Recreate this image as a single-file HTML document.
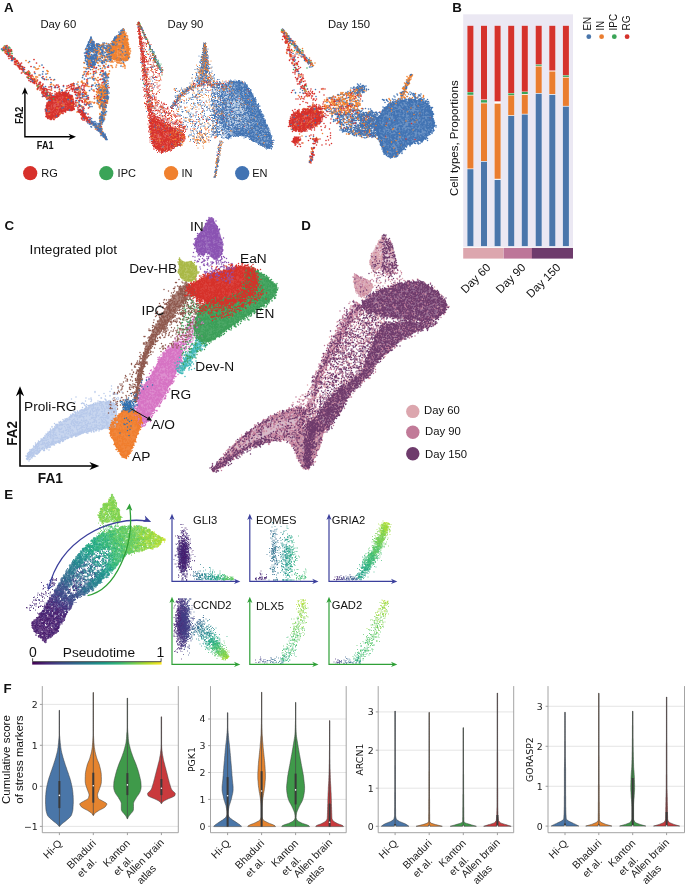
<!DOCTYPE html><html><head><meta charset="utf-8"><title>Figure</title><style>html,body{margin:0;padding:0;background:#fff}svg{display:block}</style></head><body><svg width="685" height="885" viewBox="0 0 685 885" font-family='"Liberation Sans", Arial, sans-serif' stroke-linecap="round"><g fill="none"><polygon points="46.4,106.4 48.5,102.2 51.3,98.7 54.7,95.9 58.9,94.2 63.7,93.5 67.5,93.8 70,95.1 71.8,97.7 72.8,101.9 73.5,105.5 73.9,108 73,109.2 70.4,109.8 67.2,110.5 63.4,111.3 59.8,113.3 56.9,116.2 53.9,117.9 50.7,118.5 48.5,117.7 46.9,115.1 45.9,112.4 45.6,109.7" fill="#d7302b" fill-opacity="0.8" />
<polygon points="124.3,32 125.7,35.2 127.3,41.6 128.8,51 128.8,56.5 127.7,58.2 125.1,59.5 121,60.1 116.8,59.8 112.8,58.5 110.6,56.3 110,53.1 110.7,49.4 112.8,45.2 115.3,41.3 118.1,37.7 120.9,34.4 123,31.8" fill="#f0812f" fill-opacity="0.8" />
<g transform="scale(.5)"><path d="M217 134h0m-29 2h0m-9-6h0m-9 13h0m22-1h0m8 7h0m6-6h0m0-2h0m1 8h0m-2 9h0m-18-6h0m-2 4h0m-19 11h0m30-6h0m2 7h0m6 2h0m-31 1h0m-3 17h0m0-1h0m18-5h0m1 11h0m-17 5h0m-11-3h0m-5-1h0m9 10h0m4 0h0m1-1h0m4 3h0m0 2h0m-9 7h0m0 1h0" stroke="#d7302b" stroke-width="3.4"/>
<path d="M142 169h0m2-1h0m-1 4h0m0 5h0m-1 1h0m-5-7h0m-19 2h0m-2-3h0m-5 5h0m-10-2h0m-3 6h0m-14 7h0m2-2h0m7 1h0m1-5h0m10 7h0m6-4h0m15 1h0m-22 7h0m-15 0h0m0 1h0" stroke="#d7302b" stroke-width="3.4"/>
<path d="M210 146h0m3 4h0m-6 6h0m4 6h0m5 0h0m-1 11h0m-2 4h0m-1-2h0m0 3h0m-1-7h0m-1 6h0m-3 12h0m3 0h0m1 0h0m0-2h0m1-1h0m1-3h0m1 3h0m1-5h0m2 13h0m-2-2h0m-1-1h0m-1 2h0m-1-2h0m0 6h0m-3-5h0m-2 11h0m3 0h0m1-1h0" stroke="#4173b3" stroke-width="3.4"/>
<path d="M179 244h0m0-1h0m4 0h0m1 5h0m2 0h0m3 0h0m14 6h0m-2 3h0m-1 2h0m-9-1h0m-2-7h0m16 15h0m6 9h0m-2-1h0" stroke="#f0812f" stroke-width="3.4"/>
<path d="M209 201h0" stroke="#d7302b" stroke-width="3.4"/>
<path d="M247 125h0" stroke="#4173b3" stroke-width="3.4"/>
<path d="M210 219h0m-3 0h0m-2-2h0m2 12h0m2-9h0m0 5h0m0 14h0m-1-2h0m-1 0h0m-4-2h0m-1-4h0m-1 2h0m-1 1h0m0 9h0m3-2h0m2-1h0m-4 14h0" stroke="#f0812f" stroke-width="3.4"/>
<path d="M131 189h0m9 1h0m-7 8h0m-1-1h0m-23-5h0m-12 10h0m29 1h0m17 7h0m-7 7h0m-37-5h0m-6-1h0m5 12h0" stroke="#4173b3" stroke-width="3.4"/>
<path d="M190 95h0m-3 2h0m-1 0h0m-1 1h0m-12 7h0m9-5h0m6 0h0m3 1h0m-11 11h0m-5 7h0m4 2h0m9 5h0" stroke="#f0812f" stroke-width="3.4"/>
<path d="M213 179h0m-1-1h0m-8 0h0m-3-4h0m-3 5h0m-1-2h0m-4 6h0m0 6h0m5-7h0m0 3h0m1-3h0m0 4h0m1-3h0m1 0h0m2 1h0m1-1h0m0 5h0m1-7h0m1 5h0m2-4h0m0 3h0m1 1h0m0-6h0m2 0h0m0 5h0m1-5h0m1 3h0m0 3h0m1 0h0m1 13h0m-3-5h0m-2-1h0m-1-1h0m-1 4h0m-1-6h0m-2 1h0m-1 0h0m-1 3h0m-2 4h0m-1-4h0m0-2h0m0-2h0m-1 7h0m-3-1h0m0-2h0m-1 0h0m0 5h0m-1-3h0m4 8h0m0-3h0m0 1h0m1-1h0m2 8h0m1-2h0m0-6h0m3 7h0m1-4h0m4 0h0m3 1h0m2-3h0m-4 9h0m-1-1h0m0 2h0m-2 2h0m-8-1h0m0-1h0m-1 2h0" stroke="#f0812f" stroke-width="3.4"/>
<path d="M186 85h0m2 26h0" stroke="#d7302b" stroke-width="3.4"/>
<path d="M23 102h0" stroke="#f0812f" stroke-width="3.4"/>
<path d="M199 89h0m7-3h0m1 3h0m2-3h0m4 1h0m4 1h0m6 9h0m-2-2h0m-2 1h0m-1 0h0m-2-5h0m-2 2h0m-10 6h0m-8-6h0m-1 1h0m0-4h0m-2 2h0m-2 7h0m-1 4h0m1-2h0m3 5h0m2-6h0m1 2h0m6 3h0m10-5h0m0 3h0m1-3h0m3 7h0m6-4h0m-10 10h0m-3 2h0m-3-5h0m-2 1h0m-1 4h0m-2-3h0m-6 6h0m-2-4h0m-1 3h0m0 2h0m-1-9h0m12 12h0m1 3h0m6-4h0m1-1h0" stroke="#4173b3" stroke-width="3.4"/>
<path d="M244 63h0m3-2h0m4 8h0m3 8h0m-1 2h0m-2-8h0m-1 4h0m-1 4h0m-4-3h0m-4-1h0m-14 11h0m4 1h0m1-3h0m5-2h0m1 3h0m4-5h0m2 0h0m0 0h0m1 9h0m3-8h0m1 8h0m2-7h0m1 4h0m1-1h0m0 2h0m2 11h0m-5-8h0m0 0h0m-1 7h0m-5-4h0m0-1h0m-1 3h0m-3-4h0m0 4h0m-1-2h0m-1 0h0m-2 0h0m-4-2h0m-1 4h0m-1-2h0m0 4h0m-3 2h0m-2-6h0m-2 2h0m-4 8h0m3-3h0m2 2h0m0 0h0m7-1h0m0-1h0m2 1h0m0 2h0m4 3h0m3-6h0m13 5h0m2-1h0m0 4h0m0 1h0m1-5h0m2 10h0m-2 4h0m0-1h0m-1-1h0m-1-2h0m0 3h0m-2-7h0m-1 6h0m0-5h0m-1 7h0m-7-8h0m-3 8h0m-1 1h0m0-2h0m-1-2h0m-3 3h0m-2-7h0m0 3h0m-3-1h0m-4-2h0m-2 6h0m0-6h0m-2 6h0m-1-3h0m15 7h0m0-1h0m2 0h0m10 0h0" stroke="#f0812f" stroke-width="3.4"/>
<path d="M206 214h0m0 6h0m1 8h0m0-4h0m2 1h0m2 1h0m2-3h0m-5 8h0m-2 8h0m-2-6h0m-3 4h0m0-4h0m-2 16h0m1 0h0m2-3h0m1-1h0m1 0h0m1 0h0m2-5h0m0 2h0m-6 9h0" stroke="#4173b3" stroke-width="3.4"/>
<path d="M59 123h0m9 11h0m2 13h0m39 12h0m-29-9h0" stroke="#4173b3" stroke-width="3.4"/>
<path d="M148 217h0m-25-7h0m-11 23h0" stroke="#f0812f" stroke-width="3.4"/>
<path d="M124 185h0m2 1h0m1 1h0m2 2h0m8-2h0m5 6h0m-2-1h0m-6-1h0m-16 2h0m-2 1h0m-5-1h0m-3 3h0m-6-2h0m-5 10h0m1 0h0m46 3h0m0-3h0m1-1h0m2 2h0m2 3h0m-3 9h0m-2-1h0m-47-5h0m-3 5h0m-1-4h0m-2 6h0m24 11h0m7-7h0m17-2h0m-22 12h0m0 0h0m-5 2h0m-4 5h0m-1-7h0m-2 2h0m-2 1h0m-3-2h0m-5 2h0" stroke="#d7302b" stroke-width="3.4"/>
<path d="M179 126h0m33 2h0m-2 9h0m-5-1h0m-5-4h0m-3 7h0m-13-8h0m-13 5h0m10 11h0m12-2h0m9-3h0m0 7h0m5-3h0m12-4h0m-29 15h0m-5-1h0m-1-2h0m-28 10h0m7 0h0m1-2h0m4 4h0m3 2h0m19-2h0m14 0h0m-2 4h0m-18 0h0m-6 3h0m-3-1h0m-2-1h0m-1-1h0m14 10h0m-29 28h0m14-5h0m7 1h0m2-1h0m4 1h0m-5 10h0m-16-2h0m-1 0h0" stroke="#f0812f" stroke-width="3.4"/>
<path d="M182 75h0m-1 3h0m-4 6h0m1 5h0m0 0h0m3-5h0m1-4h0m1 6h0m1 0h0m0 1h0m0-4h0m2 6h0m2-5h0m0 2h0m2 10h0m-1-1h0m0 4h0m0-8h0m-1 2h0m-1 0h0m0-1h0m-2 7h0m0-2h0m0-1h0m0-3h0m-1-1h0m-2 3h0m-4-1h0m-1-3h0m-1-1h0m0 2h0m-2 7h0m0-7h0m-1 7h0m-4 7h0m3 0h0m0-2h0m1 1h0m2 3h0m1-6h0m0-2h0m2 9h0m1 0h0m0-3h0m0 3h0m4-6h0m0 6h0m2-6h0m2-3h0m1 1h0m3-1h0m2 4h0m0 7h0m0-1h0m-1 9h0m0-6h0m-1-1h0m-1 7h0m-2-7h0m0-1h0m-2 7h0m-1-2h0m0-2h0m0 2h0m-1-1h0m0 2h0m0 1h0m-2 1h0m-2-5h0m-3 0h0m0-3h0m-1 6h0m-1-5h0m-2 0h0m-1 2h0m0-3h0m0 4h0m0 1h0m0-2h0m-1 7h0m3 8h0m3-7h0m1-2h0m0 8h0m0-6h0m2 6h0m1 1h0m0-2h0m0-2h0m0 2h0m0 1h0m2-3h0m0-4h0m1 1h0m1 1h0m0-1h0m2 7h0m0-3h0m1-1h0m0-2h0m1 0h0m-3 7h0m-3 3h0m-6-3h0m0 3h0" stroke="#4173b3" stroke-width="3.4"/>
<path d="M9 100h0m1 4h0m11 9h0m-2-1h0m16 9h0m2 4h0m8 19h0m15 2h0m-3 7h0m46 41h0m-5 2h0m-1 11h0" stroke="#f0812f" stroke-width="3.4"/>
<path d="M247 58h0m-5 9h0m-14 16h0m0-2h0" stroke="#f0812f" stroke-width="3.4"/>
<path d="M203 266h0" stroke="#d7302b" stroke-width="3.4"/>
<path d="M15 101h0m52 56h0m-3 2h0m6 1h0m6 15h0m16 7h0m3 4h0m5 10h0" stroke="#3aa457" stroke-width="3.4"/>
<path d="M115 175h0m-28-1h0m4 13h0m29-3h0m4-3h0m-30 17h0" stroke="#4173b3" stroke-width="3.4"/>
<path d="M216 153h0m-6 2h0m5 21h0m-1 9h0m1 2h0m-3 5h0m0 4h0m-2 5h0m3 2h0m-5 8h0" stroke="#f0812f" stroke-width="3.4"/>
<path d="M168 171h0m-16 5h0m-1 2h0m-3-4h0m-3 5h0m12 5h0m4 0h0m7 1h0m3 3h0m4 6h0m-1 4h0m-10-2h0m-4-6h0m-3 0h0m-2 7h0m-3-1h0m0 5h0m0 7h0m7-6h0m12-1h0m1 8h0m-5 5h0m-2 1h0m-9 3h0m3 2h0m7 0h0m1 0h0m0 0h0" stroke="#d7302b" stroke-width="3.4"/>
<path d="M147 167h0m12 9h0m-5-1h0m11 17h0m-13 19h0" stroke="#f0812f" stroke-width="3.4"/>
<path d="M16 95h0m-5 3h0m-1-3h0m9 7h0m4-2h0" stroke="#d7302b" stroke-width="3.4"/>
<path d="M250 73h0m-4 6h0m-18 10h0m6-1h0m13-1h0m2 1h0m-18 2h0m-2 0h0m24 18h0m-5 10h0m-29-6h0m27 10h0" stroke="#4173b3" stroke-width="3.4"/>
<path d="M247 59h0m-7 8h0m0 2h0m1-3h0m1-2h0m0-3h0m2-1h0m-2 11h0m-6 3h0m-1 3h0m-2-5h0m-3 3h0m-1 3h0m-4 10h0m2-2h0m2-2h0m2 1h0m0-4h0" stroke="#4173b3" stroke-width="3.4"/>
<path d="M176 246h0m3-4h0m1 4h0m1 0h0m1-2h0m1 3h0m4 0h0m2 2h0m14 9h0m-2-1h0m0 2h0m-1-7h0m-2 6h0m0 0h0m-1-4h0m0 4h0m-1-8h0m-4 6h0m0-1h0m0-3h0m-2-1h0m-2 0h0m-2-1h0m-3 4h0m-1-1h0m12 7h0m3 1h0m4 5h0m3-2h0m0 0h0m0-1h0m10 16h0m-2-2h0m0-3h0m0 4h0m-1-4h0m-1 1h0m0-2h0m-1-3h0m-1 0h0m0 0h0m0 1h0m-1 1h0m-3-2h0" stroke="#4173b3" stroke-width="3.4"/>
<path d="M203 210h0" stroke="#d7302b" stroke-width="3.4"/>
<path d="M69 144h0m44 26h0" stroke="#d7302b" stroke-width="3.4"/>
<path d="M11 95h0" stroke="#4173b3" stroke-width="3.4"/>
<path d="M120 187h0m1 2h0m6 0h0m4-3h0m13 9h0m-3 4h0m-1-5h0m-2 5h0m0-3h0m-2-2h0m-1 4h0m-1-5h0m0 0h0m-1-3h0m0 8h0m-3-1h0m-2-5h0m-5 4h0m-4 2h0m-4-1h0m-2-3h0m-3 3h0m-3 0h0m-3-2h0m-9 11h0m3-2h0m1-4h0m1 5h0m1-3h0m1 6h0m3-3h0m1 0h0m11-1h0m6 2h0m6-4h0m1 0h0m1 6h0m1-6h0m0 7h0m1-8h0m5 7h0m3-1h0m1 1h0m1 0h0m1-4h0m3 3h0m0-5h0m1 16h0m-2-7h0m-3 1h0m0 4h0m-3 2h0m-4-3h0m0-4h0m-9 3h0m-4-2h0m-2 7h0m0-2h0m-1-7h0m-1 9h0m-5-6h0m-1 6h0m-8-1h0m-5-1h0m0-7h0m-2 2h0m0-1h0m-1 0h0m-2 2h0m4 12h0m0 2h0m2-2h0m3 3h0m0 1h0m2-5h0m4 3h0m3-3h0m2-4h0m2 9h0m1-2h0m12-4h0m1-2h0m12 0h0m-27 11h0m-4 1h0m-5-1h0m0-1h0m-2 0h0m-1 4h0m-2 2h0m-1-5h0m-5 4h0" stroke="#d7302b" stroke-width="3.4"/>
<path d="M210 175h0m-7 0h0m-5 2h0m4 3h0m1 1h0m4 10h0m-2 3h0m-10 12h0m2 0h0m7 3h0m0 0h0m3-5h0m0 2h0m2 0h0m3-4h0m2 0h0m0 3h0m-6 7h0" stroke="#4173b3" stroke-width="3.4"/>
<path d="M3 98h0m19 16h0m1 7h0m12 6h0m7 6h0m-4-1h0m21 17h0m1 3h0m26 26h0m-1 10h0m3-7h0m15 14h0m-3-5h0" stroke="#4173b3" stroke-width="3.4"/>
<path d="M194 88h0m12 0h0m16-1h0m3 9h0m-2 1h0m-8 1h0m0-6h0m-2 7h0m-10-9h0m-11 12h0m4-1h0m5 4h0m1 3h0m7-4h0m6 1h0m0-2h0m2 2h0m6-2h0m1 6h0m3-8h0m-5 13h0m-1 4h0m0-5h0m-1 5h0m-5-4h0m0 1h0m-5-3h0m-2-1h0m-3 5h0m-2-5h0m-9 4h0m2 11h0m2-6h0m7 2h0m3-1h0m5 2h0m1-1h0" stroke="#f0812f" stroke-width="3.4"/>
<path d="M166 179h0m-12-3h0m-5 4h0m23 8h0m1 5h0m0-1h0m-7 1h0m-4 3h0m-9-5h0m1 21h0m6 12h0m7 2h0" stroke="#4173b3" stroke-width="3.4"/>
<path d="M9 98h0m-2-1h0m4 5h0m0 0h0m3 5h0m1-2h0m2 3h0m3-1h0m4 7h0m0 3h0m0-5h0m0 7h0m-2-3h0m-2-4h0m0 0h0m-1-1h0m-2 1h0m12 16h0m4-7h0m4 6h0m4 1h0m6 11h0m-6-8h0m-4 3h0m11 10h0m5 2h0m0-1h0m2-1h0m0 0h0m1 1h0m2 2h0m6 10h0m0-5h0m0 5h0m-4-4h0m0 4h0m-3-7h0m8 10h0m1 0h0m0 2h0m3 5h0m1-5h0m2 2h0m1 3h0m2-7h0m2 9h0m9-1h0m8 11h0m-6-3h0m-2 2h0m-2 1h0m-1 0h0m-1-5h0m4 10h0m4 2h0m1 0h0m1 2h0m2-8h0m12 14h0m-8-3h0m-2 3h0m-2 4h0m-1-8h0m-1 0h0m7 14h0m3-4h0" stroke="#d7302b" stroke-width="3.4"/>
<path d="M161 219h0m-4 4h0m1 1h0m1-3h0m1-1h0m0 5h0m2-3h0m1 6h0m2-4h0m0 3h0m2 1h0m1 1h0m1-1h0m6 11h0m0-3h0m-2-1h0m-1 2h0m-1-5h0m-2 0h0m0 5h0m0-4h0m0 1h0m-1 1h0m0-3h0m-1 0h0m-2-1h0m-1 7h0m-1-2h0m6 4h0m5 0h0m2 1h0m3 0h0" stroke="#d7302b" stroke-width="3.4"/>
<path d="M233 118h0m-14 0h0m11 4h0m14 4h0m6 6h0m-4 1h0m-14 1h0m-8-2h0m-2-1h0" stroke="#f0812f" stroke-width="3.4"/>
<path d="M177 240h0" stroke="#4173b3" stroke-width="3.4"/>
<path d="M52 121h0m5 4h0m22 7h0m-2 5h0m-2 1h0m-3 0h0m-2-3h0m24 6h0m1 1h0m0 5h0m6 22h0" stroke="#f0812f" stroke-width="3.4"/>
<path d="M172 234h0m0 3h0m-6-5h0" stroke="#f0812f" stroke-width="3.4"/>
<path d="M20 96h0m-2-2h0m-6 0h0m0 2h0m8 6h0m1 0h0" stroke="#3aa457" stroke-width="3.4"/>
<path d="M189 129h0m28 2h0m-9 0h0m-16 6h0m-20 6h0m39 1h0m-45 7h0m-1 4h0m23 5h0m5 9h0m4 0h0m13-1h0m4-8h0m-16 10h0m-7 2h0m-8 6h0m-17 1h0m-14 0h0m10 9h0m3-2h0m11 5h0m-11-1h0m-11 0h0m24 20h0" stroke="#4173b3" stroke-width="3.4"/>
<path d="M246 67h0m2-2h0m2 4h0m2-3h0m-1 6h0m0 7h0m-13-7h0m-1 1h0m-1 2h0m-2 3h0m0 0h0m-4 1h0m-4 9h0m2-1h0m3-5h0m0 6h0m22-8h0m2 2h0m1 4h0m0 7h0m0 1h0m-2-2h0m0-2h0m0 5h0m-28-3h0m0 1h0m-3 5h0m-1-2h0m-3 6h0m34-2h0m2 9h0m1-3h0m3 8h0m-5-1h0m-1 4h0m-1 0h0m-3 1h0m-2 0h0m-1 0h0m-3 0h0m-10 1h0m-1-1h0m-1-1h0m-2-1h0m-1 1h0m-2 0h0m16 4h0m9 0h0m2-1h0" stroke="#f0812f" stroke-width="3.4"/>
<path d="M14 107h0m3 1h0m11 8h0m-5-3h0m-5-2h0m27 27h0m-5-6h0m-2-2h0m-1 1h0m28 32h0m14 5h0m8 10h0m0 2h0m8 10h0m-3 4h0" stroke="#4173b3" stroke-width="3.4"/>
<path d="M12 99h0m-6 1h0m9 4h0m12 12h0m17 17h0m-6-1h0" stroke="#3aa457" stroke-width="3.4"/>
<path d="M215 134h0m-37 2h0m-5 12h0m4-5h0m10 3h0m19 6h0m-35 16h0m3-6h0m0 3h0m1 3h0m37-4h0m-17 15h0m-25-7h0m-5-2h0m24 35h0m-29 6h0" stroke="#d7302b" stroke-width="3.4"/>
<path d="M200 249h0m2 4h0" stroke="#d7302b" stroke-width="3.4"/>
<path d="M96 221h0m15 13h0m-5 2h0" stroke="#f0812f" stroke-width="3.4"/>
<path d="M11 99h0m-4-4h0m6 12h0m5-3h0m11 15h0m-9-6h0m10 10h0m2 6h0m0-2h0m1 0h0m10 10h0m-2 0h0m14 8h0m20 34h0m21 6h0" stroke="#f0812f" stroke-width="3.4"/>
<path d="M14 94h0m-2 5h0m-3-2h0m10 3h0m3 2h0" stroke="#d7302b" stroke-width="3.4"/>
<path d="M154 168h0m5 5h0m-3 3h0m-6 2h0m7 8h0m2 23h0" stroke="#4173b3" stroke-width="3.4"/>
<path d="M11 96h0m-2-4h0m8 9h0" stroke="#3aa457" stroke-width="3.4"/>
<path d="M204 125h0m1 0h0m-20 14h0m-6-4h0m-1 0h0m-4 1h0m3 12h0m11-1h0m20 2h0m9-1h0m1-1h0m-9 8h0m-7 3h0m-39 5h0m12-1h0m23 9h0m-42-1h0m-3 15h0m20 0h0m-10 12h0m-8 8h0" stroke="#f0812f" stroke-width="3.4"/>
<path d="M230 118h0m-11 1h0m3 5h0m2-3h0m0 2h0m2 1h0m8 1h0m2 1h0m2-2h0m11 6h0m0 1h0m-16-1h0m-8 5h0" stroke="#f0812f" stroke-width="3.4"/>
<path d="M12 92h0" stroke="#f0812f" stroke-width="3.4"/>
<path d="M218 175h0" stroke="#d7302b" stroke-width="3.4"/>
<path d="M238 64h0m0 5h0m0 0h0m3 0h0m2-4h0m2-3h0m3-2h0m0 1h0m-9 9h0m-1 0h0m-1 0h0m-3 5h0m0 0h0m-1-2h0m-3 2h0m-2 3h0m-4 5h0m4-2h0m1 0h0" stroke="#4173b3" stroke-width="3.4"/>
<path d="M84 130h0m5 29h0m-5-4h0m18 10h0" stroke="#4173b3" stroke-width="3.4"/>
<path d="M68 119h0m5 7h0m14 9h0m15 24h0m8 13h0" stroke="#d7302b" stroke-width="3.4"/>
<path d="M147 167h0m10 8h0m-1 1h0m-4 1h0m0 0h0m-4-6h0m-1 6h0m-1-6h0m3 13h0m1 1h0m0-3h0m1 7h0m2-4h0m0 0h0m1-5h0m0 0h0m13 4h0m2-3h0m7 17h0m-8-6h0m-9 2h0m-8 10h0m1 1h0m6-4h0m2-1h0m4 1h0m1 3h0m-6 9h0m-3 2h0m-5-3h0m12 11h0m3 1h0" stroke="#d7302b" stroke-width="3.4"/>
<path d="M132 185h0m-26 6h0m-8 7h0m29 16h0m0 2h0m-24 21h0" stroke="#4173b3" stroke-width="3.4"/>
<path d="M226 94h0m-8 1h0m-1 2h0m-1-2h0m-8-5h0m-1 8h0m-7 1h0m0-1h0m-2-6h0m-1 5h0m-6-7h0m1 18h0m2-3h0m3 1h0m1 3h0m0-4h0m1-3h0m7 0h0m8 0h0m3 1h0m2 3h0m0 1h0m0-3h0m3 7h0m-3 3h0m-19 3h0m-5 2h0m-2-5h0m7 9h0m4 2h0" stroke="#f0812f" stroke-width="3.4"/>
<path d="M215 179h0m-7 0h0m-3-3h0m-8 8h0m6 5h0m4-6h0m9 14h0m-1 2h0m-10-8h0m-3 2h0m-5-1h0m0 1h0m-2 9h0m4 2h0m4 0h0m4-1h0m2-2h0m1 8h0m-8 2h0m-2 3h0" stroke="#4173b3" stroke-width="3.4"/>
<path d="M112 189h0m8 0h0m8 0h0m2-2h0m16 11h0m-2-7h0m-1 2h0m-1 1h0m-4 4h0m-1-4h0m-1 5h0m-3-2h0m0-5h0m-1 0h0m0-2h0m0 3h0m-1 5h0m0-6h0m-1 0h0m0 3h0m-1-4h0m-1 7h0m-2-8h0m-6 9h0m0-6h0m-5 0h0m-3 1h0m-3 2h0m-1-3h0m-2 0h0m-1 6h0m-1-3h0m-4 4h0m4 2h0m2 6h0m3-2h0m2-6h0m0 1h0m1 4h0m4 0h0m0-2h0m1-3h0m2 0h0m0 0h0m1 6h0m7-3h0m0-1h0m5 7h0m3 0h0m1-2h0m0 0h0m3-3h0m1 5h0m1-5h0m0-4h0m3 5h0m0 0h0m2 3h0m0-3h0m-4 9h0m-1-1h0m0 6h0m-2-5h0m-1-2h0m-2 5h0m-4 2h0m-1-6h0m-4 4h0m-3-3h0m-3 5h0m-7-1h0m-2 0h0m-7-7h0m0 3h0m-3 5h0m-1-5h0m-1-3h0m-4 6h0m-3 8h0m1-4h0m1-1h0m1 7h0m6-3h0m1-4h0m1 5h0m1 0h0m0 1h0m1-3h0m1-1h0m0 3h0m2-5h0m1 0h0m1 8h0m0-6h0m5 5h0m2-3h0m1 5h0m0-7h0m4-2h0m0 3h0m12-3h0m9 0h0m-30 13h0m-2-2h0m-1 1h0m-1-2h0m-7 0h0m-1 6h0m-2 2h0m-2-5h0m-4 0h0m-1-3h0" stroke="#d7302b" stroke-width="3.4"/>
<path d="M13 95h0m-1-3h0m-1 1h0" stroke="#4173b3" stroke-width="3.4"/>
<path d="M9 97h0m0 2h0m0 0h0m-1-1h0m-1-3h0m0 1h0m5 6h0m1 5h0m2-1h0m1-4h0m1 5h0m2 1h0m11 9h0m-5-1h0m0 2h0m-1-6h0m-2-1h0m-2 0h0m0 0h0m-1 0h0m-2 2h0m12 11h0m2 5h0m12-3h0m6 13h0m-3-5h0m-1 2h0m-1 2h0m-4 0h0m-1-3h0m0-2h0m-1-1h0m-1 0h0m-1-1h0m-1 0h0m11 10h0m4 6h0m2 1h0m3 1h0m3-2h0m10 12h0m-5-1h0m-1-3h0m0-1h0m-5 3h0m0-7h0m-1 5h0m-2-1h0m4 7h0m4 2h0m5 2h0m0 0h0m2 1h0m0-3h0m5-1h0m4 4h0m2-2h0m8 13h0m-4-6h0m-1 3h0m-1 3h0m-1-6h0m-6 7h0m-1-8h0m12 14h0m1-1h0m1-1h0m1-2h0m1 8h0m2 1h0m2-4h0m2-1h0m4 5h0m3 8h0m-3-2h0m-1-1h0m-4 3h0m8 5h0m1-2h0" stroke="#d7302b" stroke-width="3.4"/>
<path d="M178 93h0m14 11h0m0-4h0m-5 12h0m-7-1h0m-7 1h0m12 17h0" stroke="#f0812f" stroke-width="3.4"/>
<path d="M169 126h0m13 3h0m19 8h0m-15-5h0m-2 2h0m-3 5h0m-5-2h0m31 10h0m4 2h0m6 6h0m-31 3h0m-10-1h0m-7 1h0m15 13h0m-21 7h0m-3 4h0m19-1h0m-2 17h0m-3-1h0m2 10h0m2 2h0" stroke="#4173b3" stroke-width="3.4"/>
<path d="M93 154h0m-7 3h0m-8-7h0m-3 4h0m32 6h0" stroke="#f0812f" stroke-width="3.4"/>
<path d="M206 148h0m4-1h0m1 3h0m-1 0h0m-1 9h0m-2 0h0m0 0h0m6 10h0m3-2h0m-4 10h0m-2-1h0m-1-1h0m1 14h0m2-5h0m0-4h0m0 8h0m0-7h0m1 2h0m0-1h0m0 5h0m1-2h0m0-3h0m2 1h0m2 3h0m-2 10h0m-2-6h0m0 7h0m-2-5h0m-1 4h0m0-4h0m-2 2h0m0-2h0m-1 3h0m0 10h0m0-1h0m0 4h0m1-5h0m0-1h0m0 2h0m0 4h0m0-6h0m1 11h0" stroke="#4173b3" stroke-width="3.4"/>
<path d="M110 188h0m3-2h0m3 1h0m2 0h0m7 2h0m0-4h0m2 4h0m1-4h0m4 2h0m3 2h0m0-1h0m6 7h0m-2-5h0m-2 4h0m-2-4h0m-1 4h0m-6-3h0m-8-1h0m-8 4h0m-2-2h0m-6 2h0m-10 12h0m3 2h0m4-4h0m0-1h0m44 5h0m0-5h0m2 4h0m1 12h0m-1-9h0m0 6h0m-2 2h0m-1-6h0m0 7h0m-1-3h0m-47-4h0m-2 2h0m-1-2h0m-2 7h0m0 3h0m1 0h0m1 7h0m25-2h0m0-1h0m1 1h0m7-5h0m3 0h0m2 2h0m-15 6h0m-2 4h0m-2-1h0m-7 2h0m-1-2h0m-2 4h0m-6 0h0m-4-4h0" stroke="#d7302b" stroke-width="3.4"/>
<path d="M179 248h0m2-4h0m1 1h0m0 0h0m1 1h0m3-2h0m0 2h0m4-3h0m1 5h0m12 11h0m-5 0h0m-2-1h0m-3-2h0m0-2h0m-1-2h0m-2 2h0m10 7h0m1-1h0m0 4h0m1-2h0m1 6h0m0-7h0m2 6h0m2 2h0m0 0h0m3-1h0m3 10h0m-1-4h0m0 5h0m-2-5h0m0-4h0m-1 1h0m-1 2h0m-1-1h0m0-2h0m-1 2h0m-4-1h0" stroke="#4173b3" stroke-width="3.4"/>
<path d="M145 170h0m-2 4h0m-3-1h0m-6-1h0m-1 5h0m-6-6h0m-38 8h0m-3 8h0m3-7h0m11 5h0m3-5h0m11 6h0m5-2h0m9 2h0m4-4h0m2-1h0m11 1h0m-43 10h0m-14 0h0" stroke="#d7302b" stroke-width="3.4"/>
<path d="M109 175h0m-22 2h0" stroke="#4173b3" stroke-width="3.4"/>
<path d="M182 246h0m2-1h0m11 14h0m6 5h0m4 3h0" stroke="#d7302b" stroke-width="3.4"/>
<path d="M246 65h0m0 0h0m0 1h0m2-1h0m1-2h0m1 5h0m5 4h0m-4 2h0m-1 2h0m-12-4h0m-10 12h0m5-2h0m19-1h0m3 4h0m5 12h0m-3-3h0m-1 1h0m-2-4h0m-32 6h0m0-1h0m0-1h0m-3 7h0m2 2h0m2-2h0m3-2h0m29 5h0m0 2h0m1-2h0m4 1h0m1-4h0m-5 13h0m-1 2h0m-1-1h0m0-2h0m-2 2h0m-1 2h0m-5-1h0m-18 2h0m-2-2h0m-4-6h0m-2 2h0m19 8h0m1 1h0m15-2h0" stroke="#f0812f" stroke-width="3.4"/>
<path d="M181 79h0m-5 10h0m2-5h0m1 1h0m1-4h0m0 4h0m2 2h0m0-1h0m3 2h0m2-5h0m1 5h0m1 11h0m-1-9h0m-1 7h0m-1 2h0m0-9h0m-2 5h0m0 2h0m0-3h0m-1 1h0m0-4h0m-1 8h0m-1-3h0m-2-2h0m-1 0h0m-1 2h0m-1-6h0m-1 8h0m-3-1h0m2 3h0m1 7h0m0-3h0m3-2h0m2 2h0m4-2h0m3 3h0m5-1h0m1 5h0m1-5h0m-2 6h0m0 5h0m0 1h0m-2 1h0m-1-7h0m0 9h0m0-9h0m-2 8h0m0-4h0m0 3h0m-1-7h0m-1 7h0m0 0h0m-1-5h0m-1 0h0m-1 5h0m-2 0h0m0-3h0m-1 2h0m-2 0h0m-1 0h0m0-1h0m-3-4h0m-1 4h0m-1-2h0m-1-2h0m1 9h0m2 3h0m2 5h0m1 1h0m2-3h0m2-4h0m0 0h0m1-1h0m2 4h0m1-1h0m2 2h0m0 3h0m2-4h0m1-5h0m0 2h0m1 7h0m-2 2h0m-3 1h0m-1 0h0m0 2h0m0-1h0m-2-1h0m-1 1h0m-1-1h0m-4 0h0" stroke="#4173b3" stroke-width="3.4"/>
<path d="M206 217h0m-2 11h0m0-4h0m1 4h0m1-2h0m0 2h0m2-4h0m2-2h0m0 7h0m1 1h0m-2 6h0m-3 0h0m-1-2h0m0-2h0m-1 3h0m-1-5h0m0 9h0m-3-5h0m-4 13h0m2 2h0m2-3h0m0 2h0m3-3h0m1 3h0m1-6h0m2-2h0m-7 14h0" stroke="#4173b3" stroke-width="3.4"/>
<path d="M208 217h0m-1-2h0m-7 12h0m7-3h0m1 0h0m1-4h0m-2 10h0m-3 8h0m-3 1h0m-1 3h0m2 4h0m0-4h0m0 6h0m-3 4h0" stroke="#f0812f" stroke-width="3.4"/>
<path d="M159 219h0m-3 4h0m2-1h0m1-2h0m0 1h0m0 3h0m1-1h0m0 2h0m2-2h0m0 6h0m1-1h0m3-2h0m0-1h0m1 3h0m1-2h0m2 3h0m1-2h0m5 1h0m4 7h0m0 3h0m-5 0h0m-2-1h0m-1 0h0m0-3h0m-1 0h0m0 0h0m-2-1h0m-1 0h0m-1 1h0m0 0h0m-1 1h0m0 1h0m-2-6h0m11 14h0m2-1h0m0 0h0" stroke="#d7302b" stroke-width="3.4"/>
<path d="M193 88h0m4 0h0m20 1h0m2 0h0m5 9h0m-2-1h0m0-4h0m-1-2h0m-2 8h0m0-7h0m-5 2h0m-1 3h0m-1-6h0m-2 4h0m0 1h0m-2 0h0m-1-5h0m0 4h0m-1-5h0m0 0h0m-5 9h0m0-4h0m-1-1h0m-5-3h0m-1 7h0m0-7h0m-4 4h0m3 11h0m2-3h0m6 5h0m2-8h0m1 4h0m1-3h0m1 1h0m5 3h0m1-5h0m1 0h0m1 9h0m1-8h0m1 0h0m2 5h0m1-3h0m0-3h0m4 4h0m2 3h0m0 0h0m-3 11h0m-1 1h0m-2-5h0m-1 4h0m-4-4h0m-3 5h0m-2 0h0m0-7h0m-1-1h0m-11 7h0m-2-6h0m-2 10h0m9-2h0m1 5h0m2-3h0m0 5h0m4-2h0m1-5h0" stroke="#4173b3" stroke-width="3.4"/>
<path d="M198 182h0m10 32h0" stroke="#d7302b" stroke-width="3.4"/>
<path d="M173 107h0m9 24h0" stroke="#d7302b" stroke-width="3.4"/>
<path d="M212 147h0m4 24h0m-3 13h0" stroke="#f0812f" stroke-width="3.4"/>
<path d="M160 219h0m-3 2h0m4 1h0m0-2h0m5 0h0m1 5h0m10 9h0m-9-4h0m-1 7h0" stroke="#4173b3" stroke-width="3.4"/>
<path d="M221 121h0m21 11h0" stroke="#4173b3" stroke-width="3.4"/>
<path d="M242 65h0m3-2h0m4 5h0m4 3h0m-4 8h0m-4-2h0m-3-7h0m-2 3h0m-2 3h0m0 3h0m-1 0h0m-6 9h0m6-4h0m1-2h0m3 0h0m2 2h0m3 0h0m1 2h0m2-1h0m0 3h0m1-5h0m4-3h0m0 6h0m1 1h0m2 6h0m0 6h0m-1-2h0m-3-7h0m0 5h0m-4 2h0m-10-2h0m0 0h0m-1-2h0m-1 6h0m0-8h0m-3 2h0m0 6h0m-1-5h0m-1 3h0m0-4h0m-3-3h0m0 8h0m-1-7h0m-1 3h0m-1 3h0m0 0h0m-1-4h0m0 0h0m-1-2h0m-2 8h0m-3 9h0m0 1h0m3-8h0m2 5h0m0-2h0m3 1h0m1 0h0m1-5h0m1 9h0m1-3h0m0 0h0m0-2h0m1-2h0m0-1h0m7-1h0m8 7h0m7-1h0m0-4h0m2 0h0m1 5h0m1 2h0m0 5h0m-1 0h0m-5-1h0m0 2h0m-1 3h0m0-3h0m0 0h0m-6 4h0m-1-7h0m-1 5h0m-1-7h0m0 7h0m-4-6h0m0 5h0m-3 3h0m-1-1h0m-1 0h0m-3-4h0m0-2h0m0 5h0m-1-1h0m-1-6h0m0 1h0m-1 2h0m0-1h0m-1 5h0m0-7h0m17 11h0m5-1h0" stroke="#f0812f" stroke-width="3.4"/>
<path d="M246 65h0m3 8h0m0 2h0m-10 6h0m7 11h0m-8 7h0m-10 3h0m13 7h0m4-5h0m5 6h0m-16 6h0m-13-1h0m21 5h0m10 1h0" stroke="#4173b3" stroke-width="3.4"/>
<path d="M236 74h0m-4 4h0m-6 4h0m1 4h0m2-2h0m1 1h0" stroke="#f0812f" stroke-width="3.4"/>
<path d="M212 175h0m-3 1h0m0-1h0m0-2h0m-1 2h0m-1-1h0m0 1h0m0-3h0m0 1h0m0 6h0m0-6h0m-2-1h0m-2 3h0m-3 1h0m-2 1h0m-2 9h0m0-4h0m8-2h0m1 5h0m0-3h0m1 4h0m2 3h0m1-7h0m3 7h0m0 0h0m3 0h0m0 9h0m-1-6h0m-1-1h0m-3 8h0m-1-9h0m0 0h0m0 7h0m-1-6h0m0 4h0m-2-3h0m0 4h0m-2 3h0m0-4h0m-2 2h0m-2 0h0m0-6h0m-1 1h0m-1 2h0m-1 1h0m-1 0h0m0-2h0m-1 0h0m2 8h0m1-1h0m0 1h0m1 1h0m2-2h0m0 2h0m2 3h0m1 1h0m4 3h0m0-3h0m4-3h0m2 0h0m0-2h0m-2 11h0m-5-2h0m0 2h0m-1-1h0m0 3h0m-1-1h0m-6-1h0" stroke="#f0812f" stroke-width="3.4"/>
<path d="M145 169h0m-10 7h0m-34 4h0m15 6h0m3-6h0" stroke="#f0812f" stroke-width="3.4"/>
<path d="M156 180h0m15 4h0m2 5h0m-7 1h0" stroke="#f0812f" stroke-width="3.4"/>
<path d="M199 255h0m-6 1h0m0-3h0m8 9h0m4 1h0m5 12h0m0 2h0m-2-7h0" stroke="#f0812f" stroke-width="3.4"/>
<path d="M14 98h0m9 5h0" stroke="#3aa457" stroke-width="3.4"/>
<path d="M159 220h0m1 0h0m2 9h0m0-8h0m2 5h0m0-5h0m0 3h0m1 0h0m1 0h0m0 4h0m1 1h0m1-1h0m12 11h0m0 0h0m-4-4h0m-4 2h0m0 0h0m-3-5h0m-1-1h0m-3 2h0m0-1h0m1 8h0m7 2h0m1 0h0m4-1h0m1-1h0" stroke="#d7302b" stroke-width="3.4"/>
<path d="M179 245h0m15 9h0m16 18h0" stroke="#d7302b" stroke-width="3.4"/>
<path d="M213 87h0m5 2h0m4-2h0m4 0h0m0 7h0m-2 5h0m-7-5h0m-5 5h0m-6-6h0m0-2h0m-1 0h0m0 5h0m-1-5h0m-3 0h0m-3 0h0m-2 3h0m-3 6h0m24 1h0m1 4h0m6 2h0m-1 7h0m-6-4h0m-2 8h0m-1-5h0m-3 2h0m-1 0h0m-1 4h0m-4-6h0m-5 3h0m0-3h0m-4 1h0m-1 3h0m-3 7h0m3 1h0" stroke="#f0812f" stroke-width="3.4"/>
<path d="M107 170h0m-21 16h0m0 1h0m8 9h0" stroke="#f0812f" stroke-width="3.4"/>
<path d="M168 178h0m0-4h0m-6 2h0m-8 2h0m-6 1h0m3 5h0m1 1h0m4 3h0m0-3h0m2 4h0m1-3h0m1-2h0m6 1h0m5 2h0m6 8h0m-9 3h0m-2-7h0m-7 10h0m5 1h0m5 6h0m1-7h0m2 9h0m-15 12h0m9-2h0" stroke="#d7302b" stroke-width="3.4"/>
<path d="M233 83h0m11 2h0m4 11h0m-1-3h0m-1-2h0m-2 5h0m-11-5h0m-10 4h0m19 6h0m9 2h0m6 13h0m-1-6h0m-15 8h0m-12-1h0m20 3h0" stroke="#4173b3" stroke-width="3.4"/>
<path d="M213 178h0m-5 1h0m-4-4h0m0 4h0m-4-5h0m-2 2h0m-4 9h0m1 0h0m3-3h0m0 0h0m1 0h0m0 3h0m0-4h0m0 4h0m1 1h0m0 1h0m0-3h0m1-2h0m2 6h0m0-4h0m1 5h0m1-3h0m0-6h0m0 4h0m4 3h0m1-6h0m0 7h0m1-4h0m0 0h0m1-3h0m2 11h0m-2 2h0m-1-1h0m0-2h0m-2 7h0m-3-8h0m0 4h0m-1-4h0m-2 6h0m-1 2h0m-1-3h0m-1 2h0m0 0h0m-2-2h0m0 0h0m0-1h0m-1-2h0m0-1h0m0 2h0m-1 1h0m-1 3h0m-2-2h0m1 11h0m1 1h0m2 2h0m2-7h0m2 7h0m1-9h0m0 4h0m1 3h0m1 2h0m1-6h0m2 6h0m0 0h0m1-3h0m1 2h0m2-3h0m2 1h0m1-3h0m0-3h0m-2 11h0m-1 2h0m0-2h0m-9 0h0m0-1h0m-1 1h0m0 2h0m-1 4h0m-1-3h0" stroke="#f0812f" stroke-width="3.4"/>
<path d="M239 120h0" stroke="#4173b3" stroke-width="3.4"/>
<path d="M227 118h0m-8 5h0m20 3h0m3 1h0m0-1h0m5 1h0m1 1h0m1-7h0m1 15h0" stroke="#f0812f" stroke-width="3.4"/>
<path d="M62 133h0m27 25h0m-3-5h0" stroke="#d7302b" stroke-width="3.4"/>
<path d="M244 63h0m11 16h0m-4-3h0m-3-6h0m-7 2h0m-3-1h0m-1 6h0m0-4h0m-3 3h0m0 3h0m-6 6h0m1 3h0m1-3h0m21-1h0m0 1h0m8 13h0m-2-1h0m-1 1h0m0-6h0m-2 7h0m-27-9h0m-1 6h0m-1 1h0m-1 2h0m-3-7h0m-2 8h0m3 0h0m2 5h0m32-5h0m1 8h0m1-2h0m0 0h0m0-5h0m0 9h0m-4 6h0m-4 3h0m-1 0h0m-12-1h0m-8 0h0m0-2h0m-2 1h0m-5-4h0m12 9h0m3-1h0m2-1h0m11 1h0m4-1h0" stroke="#f0812f" stroke-width="3.4"/>
<path d="M10 97h0m-2 0h0m-1 2h0m0-1h0m1 3h0m3 5h0m2-4h0m1 7h0m1-6h0m0 5h0m2 1h0m1-5h0m12 15h0m-2 0h0m-4-1h0m-6-1h0m12 6h0m1 1h0m1-1h0m0 2h0m1-4h0m2 2h0m2 3h0m3 3h0m9 6h0m-5 4h0m0-6h0m-4 0h0m-1 4h0m-2-5h0m-2-1h0m8 15h0m10 0h0m1 0h0m3-4h0m1 1h0m11 16h0m-1-2h0m-4-7h0m-3 1h0m0 12h0m4-2h0m1 4h0m2 0h0m12 3h0m1-3h0m12 13h0m-2-1h0m-3 1h0m0 1h0m-2-1h0m-1 0h0m0-8h0m-1 2h0m-1 4h0m-1 0h0m-2-3h0m-2 3h0m-1-2h0m-2-3h0m9 11h0m4-1h0m0 4h0m6 2h0m0 1h0m6-1h0m6 7h0m-4-4h0m0 6h0m-5 1h0m-2-7h0m-1 2h0m-1 2h0m-8-1h0" stroke="#d7302b" stroke-width="3.4"/>
<path d="M183 78h0m-1 1h0m0-2h0m0-3h0m-6 15h0m1-2h0m1 2h0m0-4h0m2-3h0m0-2h0m2 6h0m2-6h0m1 8h0m0-5h0m1 5h0m1-5h0m7 13h0m-3 3h0m-1-2h0m0 2h0m-1-6h0m-1-3h0m-2 0h0m-2 5h0m0-2h0m-1 6h0m0 0h0m-1-3h0m0-6h0m-1 5h0m-1-5h0m0 7h0m-1 0h0m0 2h0m0-4h0m-3 3h0m-1-5h0m-2 3h0m-2 3h0m3 4h0m1 2h0m0 1h0m1-4h0m0 1h0m1-3h0m0 3h0m0 4h0m0-6h0m2 5h0m2-5h0m5 1h0m1 2h0m2 4h0m3-4h0m1 2h0m-1 6h0m-1 5h0m0 2h0m-2-3h0m-1-5h0m-1 4h0m-2-1h0m-1 4h0m-1-4h0m0 3h0m-2-2h0m-1-2h0m-1 2h0m-1 3h0m-1-2h0m-2-1h0m-1-4h0m-2 2h0m-1 4h0m2 6h0m1 5h0m1-6h0m0 3h0m0-2h0m1 2h0m3-4h0m0 0h0m0 5h0m2 2h0m0 0h0m2-4h0m2 4h0m1-1h0m1-4h0m1 2h0m0 0h0m2 2h0m-4 7h0m0-1h0m-3 1h0m-5-4h0" stroke="#4173b3" stroke-width="3.4"/>
<path d="M210 148h0m0-1h0m1 0h0m3 9h0m-2-3h0m-1 2h0m-1 1h0m-4 3h0m2 9h0m1-2h0m1-3h0m1-1h0m1 3h0m1 11h0m-1-2h0m0-3h0m-1 1h0m0-2h0m-1 17h0m2-7h0m3 6h0m0 6h0m0 6h0m0-3h0m0-1h0m-1-3h0m0 0h0m0 2h0m-2 3h0m-2-3h0m-3 15h0m2-6h0m1 2h0m0-3h0m1 4h0m3 0h0m-3 5h0m-5 2h0" stroke="#4173b3" stroke-width="3.4"/>
<path d="M210 218h0m-3 1h0m-1-1h0m-6 11h0m5-9h0m6 9h0m-3 8h0m0-5h0m-2-1h0m-1 0h0m-1 5h0m-4 2h0m0-2h0m2 11h0m-4 4h0" stroke="#f0812f" stroke-width="3.4"/>
<path d="M179 128h0" stroke="#d7302b" stroke-width="3.4"/>
<path d="M246 58h0m-5 10h0m1 0h0m1-4h0m1 0h0m1-1h0m0-1h0m1-1h0m-8 10h0m0 3h0m-1-1h0m-2 2h0m-1-2h0m-2 3h0m-1 3h0m0-3h0m-1-2h0m-1 4h0m-4 8h0m2-5h0m5 0h0" stroke="#4173b3" stroke-width="3.4"/>
<path d="M17 97h0m-1-3h0m-4-2h0m6 14h0" stroke="#f0812f" stroke-width="3.4"/>
<path d="M182 244h0m22 14h0m-9-5h0m-4-1h0m9 11h0m2 5h0m8 5h0m0 1h0m0-2h0m-1-1h0" stroke="#f0812f" stroke-width="3.4"/>
<path d="M247 59h0m1 4h0m8 16h0m-1-3h0m-6 0h0m-3-4h0m-2 1h0m0 4h0m0-7h0m-2 2h0m-1 4h0m-5-2h0m0 4h0m0-1h0m-4 3h0m1 5h0m1-4h0m7 3h0m0 1h0m3-1h0m4 5h0m3-5h0m0-4h0m3 7h0m3 2h0m-5 1h0m-1 0h0m-2 6h0m0-3h0m-6-1h0m-1-1h0m-2 7h0m-1-6h0m-2 0h0m-1 3h0m0-2h0m-3-1h0m-3 3h0m0 1h0m-1 2h0m-5-4h0m-5 5h0m0 6h0m7 4h0m6-9h0m0 9h0m1-4h0m5 3h0m0-6h0m1-2h0m1 2h0m2 1h0m0 5h0m3-1h0m2 1h0m4-3h0m4-2h0m4 5h0m-5 4h0m-1 7h0m-1-3h0m-5 0h0m-2-4h0m-1 5h0m-6-7h0m-3 7h0m-3-2h0m-3-3h0m-2 2h0m0-2h0m6 9h0m8-1h0" stroke="#f0812f" stroke-width="3.4"/>
<path d="M126 187h0m18 6h0m-1-2h0m-1 4h0m-7-5h0m-6 0h0m-1 6h0m-2 3h0m0-9h0m-9 0h0m-3 6h0m0-3h0m0-1h0m-1-2h0m-4 9h0m-2-4h0m-2 4h0m-4-1h0m-6 11h0m4-3h0m3-2h0m1 3h0m1 0h0m0-3h0m0 2h0m7-6h0m2 9h0m7-1h0m3-6h0m5 0h0m1 2h0m4 0h0m2 2h0m3-5h0m2 8h0m0-1h0m1-1h0m2-6h0m3 6h0m0-2h0m1-1h0m-5 15h0m-4-4h0m-1 1h0m0-6h0m-1 4h0m-1 4h0m-1 0h0m-2-5h0m-3 5h0m-5-1h0m-1-4h0m0 5h0m-5-5h0m-1 0h0m-1 1h0m-3 0h0m-2 2h0m-4 0h0m-3 2h0m-10-7h0m-1 4h0m-1 11h0m1 1h0m9 2h0m6-5h0m2-4h0m10 0h0m0 7h0m4-5h0m13-2h0m3 1h0m-23 9h0m-3 2h0m0-1h0m-4 3h0m-3-3h0m-2 4h0m0-5h0m0 5h0m-2 3h0m-1 1h0m-3-8h0m-3 3h0m-3-1h0" stroke="#d7302b" stroke-width="3.4"/>
<path d="M179 125h0m11 4h0m15-4h0m5 9h0m-2-1h0m-11-2h0m-12 3h0m-6-4h0m-2 2h0m-4 6h0m-4 10h0m18 1h0m4-3h0m10-1h0m13 9h0m-10-2h0m0-1h0m-16 6h0m-8-1h0m-5 10h0m33-4h0m1-2h0m-16 17h0m-7-7h0m-30 9h0m33 18h0m-24-3h0m-5 3h0m-5-6h0m-2 10h0m6 8h0m23-1h0m2 5h0m-4 0h0m-18-1h0" stroke="#4173b3" stroke-width="3.4"/>
<path d="M148 168h0m6 11h0m12 10h0m4 4h0m-12 11h0m12 5h0m-5 6h0" stroke="#4173b3" stroke-width="3.4"/>
<path d="M127 173h0m-36 0h0m33 7h0m-38 12h0" stroke="#4173b3" stroke-width="3.4"/>
<path d="M160 182h0m-6 42h0" stroke="#f0812f" stroke-width="3.4"/>
<path d="M118 186h0m3 1h0m1 1h0m2 1h0m2-1h0m6-2h0m4 1h0m10 12h0m-1-5h0m-1 3h0m0 2h0m-2-1h0m0-7h0m-1 5h0m-1 0h0m-1-3h0m-16-1h0m-8-1h0m-1-1h0m-12 7h0m-8 12h0m4-5h0m1 0h0m0-1h0m1 1h0m42 1h0m1 3h0m3-3h0m2 8h0m-2 2h0m-1 0h0m-4 4h0m-10-3h0m-34-5h0m-3 9h0m22 8h0m3 1h0m3-3h0m1 0h0m1-3h0m2 4h0m0-3h0m0 0h0m1-3h0m4 1h0m14-2h0m-30 13h0m-5 3h0m-3 2h0m-3-4h0m-3 1h0m0 1h0m-1 0h0m-1-2h0m0 1h0m-3-4h0" stroke="#d7302b" stroke-width="3.4"/>
<path d="M194 88h0m2 0h0m28 0h0m4 1h0m0-1h0m-2 2h0m-6 3h0m-1 5h0m-1 1h0m0 0h0m-2-7h0m-5 5h0m-3-5h0m-2 0h0m-3 2h0m0-2h0m0 1h0m-2 4h0m-3-4h0m-2 0h0m-2 5h0m-3 11h0m2 0h0m7-2h0m4-3h0m0 4h0m1-5h0m0 3h0m3 0h0m5 3h0m2 0h0m3-1h0m1-6h0m1 5h0m3-3h0m0 2h0m3-1h0m-4 8h0m-2 6h0m-2-6h0m-2 1h0m-2-4h0m-9 5h0m-5 2h0m-9-1h0m1 9h0m2-4h0m4 0h0m10 2h0m4-3h0m4 2h0" stroke="#4173b3" stroke-width="3.4"/>
<path d="M167 221h0m5 5h0m3 17h0" stroke="#4173b3" stroke-width="3.4"/>
<path d="M22 99h0m-5 0h0m-1-1h0m-2-7h0m-2 3h0m5 8h0m4 1h0" stroke="#d7302b" stroke-width="3.4"/>
<path d="M85 148h0m1-5h0m6 5h0m8 7h0m-7 4h0m-7-2h0m17 16h0" stroke="#4173b3" stroke-width="3.4"/>
<path d="M207 131h0m-14 4h0m-4-1h0m-14 12h0m12-3h0m2 0h0m15-2h0m0 1h0m11 8h0m-14 9h0m-1 0h0m-26 0h0m-2-7h0m33 13h0m2-1h0m-24 9h0m-20-1h0m-6 2h0m3 14h0m5-8h0m11 18h0m-21-2h0m20 9h0m5 1h0m-3 10h0m-9 1h0m-10-6h0" stroke="#d7302b" stroke-width="3.4"/>
<path d="M145 196h0m-6 3h0m-6-4h0m-17 9h0m28 5h0m-17 2h0m-13 5h0m-15 13h0m21-2h0" stroke="#f0812f" stroke-width="3.4"/>
<path d="M96 143h0m0 16h0m7 9h0" stroke="#f0812f" stroke-width="3.4"/>
<path d="M9 99h0m-5-1h0m10 3h0m2 4h0m1 3h0m0-2h0m9 11h0m-5-5h0m4 9h0m22 16h0m0 5h0m14 17h0m4 3h0m29 24h0m0 5h0m6 10h0" stroke="#4173b3" stroke-width="3.4"/>
<path d="M181 84h0m2-4h0m6 19h0m-15 0h0m-1 0h0m7 6h0m8-1h0m-10 10h0m-3-2h0m0-1h0m2 11h0m1 2h0m2-3h0m2 4h0m9-5h0" stroke="#f0812f" stroke-width="3.4"/>
<path d="M168 125h0m10 3h0m30 4h0m-21 1h0m-9-2h0m-10 4h0m-1 14h0m1-5h0m7 1h0m1 4h0m39 0h0m2-1h0m-21 7h0m-5 2h0m-26 8h0m28-5h0m3 4h0m13 5h0m5-8h0m-8 11h0m-11 0h0m-35 6h0m-1 7h0m11 0h0m18-5h0m1 17h0m-14 2h0m-7-8h0m-12-1h0m14 10h0m2 3h0m1 1h0m4 3h0m11-2h0m0 1h0m-24 7h0" stroke="#f0812f" stroke-width="3.4"/>
<path d="M183 237h0m-3 2h0m1 9h0m2-6h0m0 3h0m2-1h0m3 0h0m0 5h0m0 0h0m0-1h0m2 0h0m1 1h0m1 0h0m0-3h0m11 11h0m-3-5h0m-1 7h0m0-2h0m-1 0h0m-2 1h0m0-3h0m-1 0h0m-2 0h0m0-5h0m-1 3h0m5 9h0m2 0h0m1 0h0m1 2h0m1-2h0m3 5h0m0 0h0m1-2h0m0 3h0m1-2h0m1 3h0m5 9h0m-1 0h0m-1-4h0m0 1h0m0 1h0m-1-5h0m0 0h0m-2 3h0m0-3h0m-1-1h0m0 4h0m-1-4h0" stroke="#4173b3" stroke-width="3.4"/>
<path d="M202 179h0m-4-5h0m2 6h0m2 1h0m1 8h0m0-2h0m5-7h0m1 2h0m4 1h0m-5 14h0m-7-2h0m-1 4h0m-3-9h0m-2 11h0m8 0h0m1 7h0m1-7h0m7 10h0m-1 2h0m-8-2h0m-1 1h0" stroke="#4173b3" stroke-width="3.4"/>
<path d="M9 93h0m-1 3h0m3 9h0m1-4h0m9 9h0m37 33h0m14 13h0m0-3h0m-5 4h0m-1-4h0m-6-1h0m12 8h0m1 4h0m10 15h0m-2-8h0m-7 1h0m19 24h0" stroke="#f0812f" stroke-width="3.4"/>
<path d="M141 169h0m6-2h0m-3 10h0m-6-2h0m-19 3h0m-2-4h0m-6 0h0m-8 2h0m-5-2h0m-23 3h0m5 3h0m4 5h0m3 1h0m2-6h0m2 7h0m1 1h0m2-4h0m21 4h0m3-4h0m2 2h0m5-1h0m4 0h0m1-1h0m7 1h0m2-4h0m-40 11h0m-8 0h0m-1 0h0m-3-2h0" stroke="#d7302b" stroke-width="3.4"/>
<path d="M137 199h0m-1 0h0m7 3h0m-19 14h0m-32 3h0m1 3h0m46-2h0m-26 12h0" stroke="#4173b3" stroke-width="3.4"/>
<path d="M244 64h0m1 0h0m-7 8h0m-2-1h0m-1 1h0m-10 11h0m8-3h0" stroke="#f0812f" stroke-width="3.4"/>
<path d="M212 165h0m-1 12h0m-1 7h0m-2 24h0m7-2h0m-5 6h0" stroke="#f0812f" stroke-width="3.4"/>
<path d="M208 194h0m-7 5h0m-6-7h0m16 13h0" stroke="#d7302b" stroke-width="3.4"/>
<path d="M212 215h0m-2-1h0m-3 5h0m-2-5h0m-2 10h0m1 0h0m1 2h0m2 2h0m2-3h0m-4 11h0m0 3h0m0-7h0m-1 1h0m0 2h0m-1 2h0m-1-4h0m-3 3h0m0 12h0m0-1h0m1-6h0m1 1h0m0 5h0m2-7h0m-5 12h0" stroke="#4173b3" stroke-width="3.4"/>
<path d="M5 101h0m12 4h0m7 2h0m27 38h0m8 1h0m-3 9h0m20 17h0m31 25h0m-9-6h0" stroke="#3aa457" stroke-width="3.4"/>
<path d="M17 96h0m-5-3h0" stroke="#4173b3" stroke-width="3.4"/>
</g><polygon points="151.5,118.4 154.1,119.9 158,121.7 162.4,123.8 166.7,126.2 171.1,128.8 174.7,131.5 177.6,134.2 178.9,137.4 179,141.3 177.1,144.6 173.2,147.3 168.5,149.4 163.3,150.8 159.3,150.6 156.4,148.8 154.2,145.4 152.6,140.1 151.4,132.3 150.6,122.1" fill="#d7302b" fill-opacity="0.7" />
<defs><linearGradient id="g90" gradientUnits="userSpaceOnUse" x1="219" y1="0" x2="238" y2="0"><stop offset="0" stop-color="#4173b3" stop-opacity="0.12"/>
<stop offset="1" stop-color="#4173b3" stop-opacity="0.62"/>
</linearGradient></defs><path d="M225.1 84.3L229 82.5L233.1 81.5L237.2 81.3L240.9 81.9L243.9 83.3L247 86.5L250.2 91.7L254 98.6L258.4 107.4L262.8 116.7L267.1 126.5L270.1 134.6L271.7 141L272 145.2L271.1 147.2L269.7 147.9L267.4 147.5L263.4 145.8L258 142.8L252.5 139.6L247 136.2L241.2 134.8L235.5 135.4L231 136.4L227.8 137.8L225.8 138L224.6 137.2L223.6 133.8L222.8 127.6L222.5 120.7L222.8 113L222.8 105.9L222.5 99.3L222.7 93.2L223 87.8ZM226.8 98.6L229.2 96.7L231.7 95.5L234.2 95.1L236.6 95.5L239.1 96.6L241.3 98.2L243.4 100.4L245.2 103.1L246.9 106.4L248.4 109.9L249.8 113.6L251 117.5L252.1 121.6L252.5 124.9L252.2 127.4L251.3 129L249.6 129.8L247.8 130.2L245.7 130L243.5 129.4L241 128.3L238.5 127.6L236.1 127.4L233.6 127.5L231.1 128L228.9 128L226.8 127.5L225 126.4L223.3 124.8L222.2 122.2L221.7 118.8L221.7 114.5L222.2 109.3L223.3 104.9L224.8 101.4Z" fill="url(#g90)" fill-rule="evenodd"/>
<polygon points="226.8,98.6 229.2,96.7 231.7,95.5 234.2,95.1 236.6,95.5 239.1,96.6 241.3,98.2 243.4,100.4 245.2,103.1 246.9,106.4 248.4,109.9 249.8,113.6 251,117.5 252.1,121.6 252.5,124.9 252.2,127.4 251.3,129 249.6,129.8 247.8,130.2 245.7,130 243.5,129.4 241,128.3 238.5,127.6 236.1,127.4 233.6,127.5 231.1,128 228.9,128 226.8,127.5 225,126.4 223.3,124.8 222.2,122.2 221.7,118.8 221.7,114.5 222.2,109.3 223.3,104.9 224.8,101.4" fill="#4173b3" fill-opacity="0.33" />
<g transform="scale(.5)"><path d="M415 175h0m-19 1h0m-4 0h0m-1-2h0m-5 2h0m-16 2h0m-7-2h0m-4 7h0m12 0h0m3-2h0m3-1h0m1 5h0m6-5h0m1 9h0m8 0h0m6-2h0m3-3h0m2-3h0m4 7h0m-4 3h0m-5 2h0m-1 1h0m-12 5h0m-1-4h0m-33 10h0m11-2h0m5 3h0m5 0h0m0-6h0m4 1h0m6 6h0m4 0h0m1-1h0m0 3h0m10-4h0m1-4h0m23 8h0m1-8h0m4 7h0m7 1h0m1 8h0m-1-7h0m-2 4h0m-9-3h0m-1-1h0m-12 0h0m-1 3h0m-19-2h0m-5 6h0m-21 2h0m-6-1h0m-3-4h0m9 9h0m2 0h0m9 1h0m6 5h0m5-1h0m15-1h0m4-2h0m16-2h0m6-1h0m5 6h0m2-1h0m-2 6h0m-5-2h0m-4 4h0m-2-4h0m-5 8h0m-1-3h0m-1 0h0m-1 3h0m-5-8h0m-1 3h0m-1 0h0m-1 4h0m-7 1h0m-16-4h0m-3-3h0m-20-2h0m11 12h0m2 1h0m4 2h0m9-2h0m8 3h0m39 12h0m-11-7h0m-1-1h0m-19 4h0m-6 3h0m-10-7h0m-15 4h0m-6-3h0m18 10h0m5 5h0m7-3h0m1 2h0m4 1h0m21 3h0m3-7h0m1 6h0m2 1h0m9 0h0m-12 3h0m-1 2h0m-21 3h0m-19-6h0m-1 9h0m14 4h0m6-3h0m20 0h0" stroke="#4173b3" stroke-width="2.4"/>
<path d="M304 205h0m14 2h0m7 7h0m-18 0h0m26 9h0m11-2h0m0 8h0m6 3h0m-7 6h0m0-8h0m0 11h0m9 8h0m7-5h0m3 2h0m7 7h0m-5 2h0" stroke="#f0812f" stroke-width="2.4"/>
<path d="M461 163h0m1 3h0m6-2h0m2 1h0m0-2h0m2 2h0m3 1h0m1-2h0m1-3h0m1 4h0m0-3h0m4 4h0m16 11h0m-5-7h0m0 2h0m-1 3h0m0-1h0m-1-2h0m-40 0h0m-2 6h0m-1-1h0m-4 12h0m52-6h0m2 0h0m0 2h0m1 1h0m1 2h0m0-3h0m1-1h0m0 1h0m0 1h0m1-2h0m0-4h0m0 6h0m2 1h0m0 2h0m6 8h0m-1 1h0m-2-4h0m-1 2h0m-1 1h0m-1-5h0m-1 0h0m-1-1h0m-52 16h0m57-7h0m1 0h0m2 7h0m7 10h0m-1-6h0m0 7h0m0-3h0m-1-5h0m0 6h0m-1-6h0m-1 3h0m5 9h0m1 4h0m1-6h0m8 17h0m-3-4h0m0 3h0m-1 1h0m-79-3h0m83 11h0m0-4h0m0 6h0m2-5h0m0-2h0m0 2h0m8 16h0m-3 1h0m-1-1h0m0-1h0m-86 11h0m29-1h0m6 0h0m1 1h0m4-1h0m47-5h0m0 0h0m2 2h0m0 5h0m2-4h0m3 10h0m0 2h0m-2-3h0m-1 1h0m0 2h0m-32 2h0m-6-2h0m-1 2h0m-2-5h0m0 0h0m0 2h0m-5-2h0m-3-3h0m-4 0h0m-1 0h0m-1 1h0m-3-1h0m-4 2h0m-1 0h0m-1-2h0m-8 2h0m0 0h0m-10-1h0m-2 4h0m-2-2h0m54 9h0m0-3h0m2 2h0m3 3h0m0-3h0m6 4h0m2 1h0m1 2h0m6 0h0m15-7h0m1 0h0m0-2h0m2 1h0m0 8h0m-5 7h0m-1-2h0m-3-2h0m-1 5h0m-1-2h0m-1-3h0m0-1h0m-4-1h0m-3 3h0m-6-3h0" stroke="#4173b3" stroke-width="2.4"/>
<path d="M279 45h0m5 13h0m3 6h0m5 10h0m-2-2h0m-1 2h0m8 10h0m5 18h0m4 6h0m8 14h0m4 15h0m-2-7h0m8 15h0" stroke="#f0812f" stroke-width="2.4"/>
<path d="M485 201h0m0 18h0m-5-5h0m10 7h0m-9 9h0m-22 1h0m29 18h0" stroke="#f0812f" stroke-width="2.4"/>
<path d="M491 209h0m25 6h0m-18-5h0m-32 7h0m-20 23h0m27 18h0" stroke="#d7302b" stroke-width="2.4"/>
<path d="M293 104h0" stroke="#3aa457" stroke-width="2.4"/>
<path d="M407 130h0m0 16h0m8-4h0m-12 10h0" stroke="#d7302b" stroke-width="2.4"/>
<path d="M462 167h0m0 0h0m4-1h0m0-1h0m0 2h0m1 0h0m1 1h0m7-4h0m3 4h0m0 1h0m2-1h0m0-1h0m2-5h0m1 4h0m14 10h0m-2 1h0m0-7h0m-1 2h0m-1 5h0m-3-2h0m-5 3h0m0-2h0m-2-1h0m-1 2h0m-3 2h0m0-2h0m-1-7h0m0 6h0m-1-2h0m0 5h0m0-9h0m-1 8h0m0-5h0m-2-3h0m-1 2h0m-3 5h0m-3 1h0m-1-6h0m-9-1h0m-3 3h0m-3 4h0m0 6h0m1 4h0m4 1h0m3-8h0m0 7h0m1 1h0m0-7h0m2 6h0m0 1h0m2-7h0m2-2h0m2 2h0m1 3h0m2-4h0m1 6h0m5-5h0m0 2h0m2-2h0m1 4h0m1-5h0m0 7h0m2-7h0m0 1h0m0 2h0m0 1h0m2-2h0m3-3h0m1 9h0m0-4h0m3 4h0m0-4h0m2-4h0m5 8h0m1-3h0m1-4h0m1 4h0m9 12h0m-5 0h0m-1-7h0m-2 8h0m-3-8h0m-1 5h0m-1-4h0m-1 4h0m-2-5h0m0 6h0m-1-6h0m-1 6h0m-4-5h0m0 5h0m-1 1h0m0-1h0m-1-3h0m-3-3h0m-1 0h0m0-1h0m-1 2h0m0 2h0m-3-1h0m-1 0h0m-2-2h0m-1 1h0m-16 0h0m-9-1h0m-1 1h0m-3 0h0m0 2h0m1 6h0m43 1h0m1 1h0m0-1h0m1 8h0m1-4h0m2-4h0m0 5h0m0 1h0m0 1h0m1-3h0m1-2h0m2 5h0m0-2h0m1-6h0m2 9h0m1 0h0m1-5h0m1-3h0m1 2h0m0 3h0m1-6h0m0 9h0m0-4h0m1-5h0m0 8h0m2-6h0m9 10h0m-2 1h0m0 4h0m-1-7h0m-1 5h0m-1 1h0m-2-3h0m0 0h0m-2-1h0m0 0h0m-1 2h0m0 5h0m0-3h0m-1-4h0m-2 4h0m-3-6h0m0 1h0m0 2h0m-1 3h0m-2-1h0m-1 2h0m-1 0h0m-2 0h0m-1-2h0m0-3h0m6 9h0m1 7h0m1-4h0m1 1h0m5-2h0m1 4h0m0-1h0m1-4h0m5 7h0m2-9h0m1 7h0m0 1h0m1-8h0m0 9h0m2-1h0m6 4h0m-1 4h0m0 0h0m-2 0h0m-1-6h0m0 8h0m-1-6h0m-1 7h0m-1-8h0m-1 4h0m-3-5h0m0 4h0m-1-3h0m0 3h0m-2-3h0m-1-1h0m-2 4h0m-2 5h0m-1-8h0m-2 0h0m-2 1h0m0 6h0m-2-7h0m0-1h0m4 13h0m0-3h0m1 2h0m1 6h0m3-5h0m1 6h0m0-6h0m3 6h0m0 0h0m1-7h0m0 1h0m1-1h0m0-1h0m1-1h0m1 5h0m0 3h0m0-4h0m4 5h0m0-3h0m1-1h0m1 3h0m0 0h0m1-3h0m2-5h0m10 18h0m-1-2h0m-2-4h0m-4 1h0m-1 0h0m0 0h0m-1-3h0m-1 4h0m-1 0h0m-1-3h0m-2 1h0m0 6h0m-2-3h0m0 2h0m0-4h0m0 0h0m-3 5h0m-1-8h0m0 1h0m0 0h0m0 1h0m0 4h0m-3-3h0m0-2h0m-1 2h0m0 5h0m-1-6h0m-2 6h0m-2-7h0m0 5h0m-2 0h0m-2 3h0m-22-1h0m-7-1h0m0 2h0m-2-4h0m0 2h0m-6-1h0m-2 3h0m-3 0h0m-1-2h0m-2 2h0m-2-1h0m-1 1h0m-3 0h0m-2-3h0m-2-3h0m-1 1h0m-2 1h0m-1 12h0m5-5h0m3 3h0m0-1h0m3 5h0m2 0h0m7-1h0m2-2h0m1 0h0m0-2h0m0 2h0m2-3h0m0 1h0m2-3h0m1 7h0m0-4h0m2-2h0m0 4h0m0-3h0m2 5h0m0-2h0m2-3h0m0 3h0m2-4h0m1 5h0m1 1h0m3-1h0m1-5h0m5 2h0m0-2h0m0 5h0m2-1h0m3 0h0m0-4h0m1 2h0m1 4h0m1-2h0m1 2h0m1-8h0m1 4h0m0 1h0m2 0h0m2 0h0m2 1h0m0-4h0m2-2h0m3 9h0m0-4h0m1 4h0m0-1h0m1-6h0m1 3h0m0 2h0m1-4h0m0 1h0m0 3h0m1-2h0m1 2h0m0-4h0m0 2h0m2 1h0m0 3h0m1-4h0m1-3h0m1-1h0m1 2h0m0 6h0m1-4h0m2 2h0m0-2h0m1 3h0m1 1h0m2 0h0m1-4h0m2-2h0m0 0h0m1-2h0m2 1h0m1 6h0m-1 5h0m-1-1h0m0 6h0m-1-5h0m-1 5h0m-2-5h0m-2 5h0m-1-6h0m0 2h0m0 0h0m-6 5h0m-1 0h0m-1-4h0m-4 1h0m-1-2h0m-1-4h0m0 0h0m-1 3h0m0 2h0m-1 4h0m-1-6h0m0-2h0m-2 6h0m-3-3h0m0 2h0m-3-4h0m-1 2h0m0-2h0m-1 2h0m0-4h0m-4 6h0m0-3h0m-8-3h0m-1 2h0m0-1h0m-1 4h0m0-4h0m-3-1h0m-1 1h0m-2-1h0m-5 1h0m-13 2h0m-9 0h0m-1 5h0m-1-2h0m-2-5h0m-7-1h0m57 11h0m3 1h0m2 1h0m3-2h0m2-1h0m3 9h0m1-4h0m0 1h0m1-4h0m0 2h0m2-4h0m0 2h0m1 5h0m0-6h0m3 6h0m0 2h0m0-2h0m2-7h0m0 7h0m0 2h0m1-7h0m4 5h0m0 1h0m0-5h0m0 0h0m2 6h0m2-8h0m0 7h0m1-2h0m0 3h0m1-7h0m1 2h0m0 5h0m2-9h0m3 6h0m-1 11h0m-1-5h0m0 1h0m0 4h0m-1-7h0m-13 3h0m-4-3h0m-2 1h0" stroke="#4173b3" stroke-width="2.4"/>
<path d="M387 169h0m7-3h0m3-2h0m2 1h0m0 4h0m5-4h0m2 4h0m1-2h0m0-4h0m0 5h0m1-3h0m0 4h0m0-2h0m7-7h0m2 4h0m1-2h0m3 5h0m3 2h0m2 0h0m0-3h0m1-1h0m1-1h0m1 4h0m2-2h0m3 2h0m3-1h0m2-4h0m20 4h0m0 6h0m-7 1h0m-2-4h0m-4 6h0m-1-1h0m0-2h0m0-1h0m-2-2h0m0 6h0m-4-6h0m-1 1h0m-2 4h0m-1-3h0m-8 0h0m-4 0h0m-21-1h0m-3 2h0m-7-3h0m-6 4h0m0-3h0m-1 3h0m-4-2h0m0 5h0m-1 0h0m0-3h0m-1 0h0m-1 4h0m0-1h0m-18 10h0m5-6h0m0 7h0m0-1h0m0-3h0m1 3h0m1-1h0m1-4h0m0 0h0m1 6h0m0 0h0m1-6h0m2 4h0m5-4h0m72 0h0m-87 9h0m-1 7h0m-1-2h0m0-6h0m-1 6h0m-1 3h0m-1-4h0m-1 2h0m0-7h0m0 6h0m-2-5h0m-6 18h0m2 0h0m1-6h0m0 0h0m2 1h0m0 1h0m1-2h0m0 3h0m-3 4h0m0 2h0m0-2h0m-7 4h0" stroke="#4173b3" stroke-width="2.4"/>
<path d="M484 198h0m-12-3h0m-2 3h0m-1-1h0m-1-6h0m-1 5h0m-2-3h0m0 0h0m-1-2h0m-7 8h0m0-3h0m-1 0h0m-8 10h0m0 1h0m1 1h0m3-3h0m0 4h0m0 0h0m0-8h0m2 5h0m0-4h0m0 5h0m4-2h0m1-3h0m2 7h0m1-8h0m1-1h0m0 5h0m1 4h0m3-2h0m4-5h0m0-2h0m2 5h0m0-1h0m1 1h0m1-4h0m5 4h0m1-5h0m1 6h0m9 2h0m7 11h0m-5-1h0m-4-4h0m-3 3h0m-8-2h0m-2 0h0m-4-1h0m-3 0h0m-1 2h0m-6-3h0m-1-2h0m-1 2h0m-6 0h0m-1 6h0m0-9h0m-2 4h0m0-2h0m0 1h0m-3 5h0m-2 0h0m0 10h0m6-4h0m1 5h0m0-3h0m1 0h0m0-5h0m0 7h0m1-1h0m1-1h0m0-1h0m2-5h0m1 5h0m0 0h0m0-3h0m6 3h0m0-5h0m2 4h0m0-1h0m1-1h0m0 0h0m3 0h0m2 6h0m1-7h0m2 8h0m1 0h0m2-1h0m2-3h0m1 0h0m2 4h0m3-7h0m0 6h0m1 1h0m1-1h0m0-1h0m4-7h0m2 4h0m1-4h0m0 4h0m2 4h0m-1 4h0m-1 0h0m-2 7h0m-1-5h0m-1 3h0m0-1h0m0 3h0m-1-4h0m-1 1h0m-4-2h0m0 2h0m0 3h0m-1-9h0m-1 5h0m0 3h0m-1 1h0m0-1h0m-1 1h0m-3-6h0m-5-1h0m-1 0h0m0-1h0m-4 0h0m0 3h0m0 5h0m-2-5h0m0 1h0m-2 1h0m-2-5h0m-1 7h0m0-3h0m-2-5h0m-4 1h0m-2 5h0m0-1h0m0 4h0m-1 0h0m-1-2h0m0-6h0m-2 3h0m-6 4h0m-1 1h0m0 6h0m2-1h0m1-4h0m3 3h0m1 3h0m0 2h0m1 1h0m1-6h0m0 5h0m1-7h0m1-1h0m0 2h0m2 2h0m0 0h0m1 4h0m1-2h0m6 0h0m2 1h0m1 0h0m0-7h0m2 6h0m0-5h0m1 0h0m2 0h0m3 7h0m0-6h0m1 7h0m0-7h0m1 7h0m1-3h0m1-6h0m0 3h0m0-2h0m3 5h0m2-2h0m1 5h0m1 0h0m0-8h0m3 7h0m0-1h0m4-1h0m0-4h0m1 1h0m1 6h0m1-1h0m0-3h0m2-3h0m2-2h0m1 4h0m0 0h0m2-4h0m2 10h0m0 5h0m0 0h0m-1 0h0m-1 1h0m-2 0h0m-4 1h0m0-5h0m-2 5h0m-4 2h0m-1 0h0m0-8h0m-3 2h0m0 1h0m-5 2h0m-6-6h0m0 3h0m-2-1h0m0-2h0m-5 5h0m-3-4h0m-9 3h0m-2-2h0m-4 0h0" stroke="#4173b3" stroke-width="2.4"/>
<path d="M280 57h0m-4-4h0m5 72h0m2-1h0m1 3h0m2-1h0m3 11h0m1 14h0m-1 3h0m1 18h0m-1 0h0" stroke="#4173b3" stroke-width="2.4"/>
<path d="M312 199h0m-3-7h0m-5 13h0m10-1h0m12 4h0m2-1h0m2 2h0m13 8h0m-2-2h0m-5-1h0m0 3h0m-1 0h0m-3 0h0m-5-3h0m0 0h0m0 2h0m-2 0h0m-1-1h0m0-2h0m-2 5h0m0-3h0m-2-2h0m-6-3h0m-2 2h0m-4 4h0m-2-3h0m-1-2h0m-2 5h0m-5-1h0m18 5h0m0 4h0m2-3h0m2 3h0m6 0h0m3 1h0m1 1h0m0-5h0m2 3h0m7 3h0m1 0h0m0-1h0m7-3h0m1 6h0m6 3h0m-2 1h0m0-1h0m-9 5h0m0-4h0m-3 2h0m-5 4h0m-3 0h0m-1-6h0m-1 3h0m-1-5h0m-1 8h0m-3-6h0m-1 6h0m3 1h0m10 5h0m1-3h0m4 3h0m3-1h0m1 0h0m3 4h0m0-4h0m2 1h0m0 0h0m0 3h0m2-2h0m0-4h0m6 1h0m1-3h0m6 8h0m2 5h0m-1 4h0m-1-4h0m-4-3h0m-2 1h0m-1 5h0m0-3h0m0-1h0m-4 5h0m-4-4h0m9 7h0" stroke="#d7302b" stroke-width="2.4"/>
<path d="M291 99h0m-3 5h0m15 13h0m-3-4h0m0 5h0m-13 2h0m21 4h0m3-1h0m-4 11h0m-3-2h0m-15 11h0m5 6h0m12 3h0m-14 9h0m5 6h0m7 9h0m-8 1h0m10 16h0m-4 11h0" stroke="#4173b3" stroke-width="2.4"/>
<path d="M277 46h0m2 3h0m0-3h0m9 22h0m4 10h0m0-3h0m3 8h0m2 3h0m5 3h0m2 18h0m8 8h0m-4 2h0m9 17h0m-1 3h0" stroke="#d7302b" stroke-width="2.4"/>
<path d="M277 47h0m7 10h0m-2-1h0m2 4h0m2 0h0m0 4h0m5 5h0m0 4h0m-2-3h0m-1 0h0m7 15h0m1 1h0m2-2h0m7 15h0m-2 0h0m0 0h0m-2-2h0m0-5h0m-1 7h0m6 10h0m7 10h0m-1 0h0m-1-2h0m-1-2h0m0 2h0m-3-6h0m0 0h0m8 18h0m4 10h0m0-3h0m0-1h0m2 10h0m0-5h0m1 2h0m3-2h0" stroke="#4173b3" stroke-width="2.4"/>
<path d="M442 285h0m-2 12h0m-2-2h0m-1 4h0m-3 5h0m3 5h0m1 5h0m-2 5h0m-1-1h0m-1 1h0m0-8h0m0-1h0m-1 15h0m1-3h0m2 3h0m0 0h0m1-5h0m1 0h0m-3 11h0m-1 2h0m0-1h0m0 1h0m-1 3h0m0 0h0m-1 0h0m-1-2h0m-1 10h0m1-1h0m1 3h0m1-3h0m-2 7h0m-1 3h0m0-1h0" stroke="#4173b3" stroke-width="2.4"/>
<path d="M485 163h0m4 10h0m-25 5h0m-19-8h0m2 10h0m8 3h0m4 4h0m7-6h0m13 0h0m15 1h0m-25 8h0m-22 6h0m61 16h0m-3 10h0m6 10h0m10 10h0m-59 20h0m56 16h0m10 7h0" stroke="#f0812f" stroke-width="2.4"/>
<path d="M352 280h0" stroke="#4173b3" stroke-width="2.4"/>
<path d="M405 276h0m0-2h0" stroke="#d7302b" stroke-width="2.4"/>
<path d="M300 219h0m0 14h0m8 11h0m12 1h0m35 13h0m-23-6h0m-4 7h0m-8-4h0m-6 1h0m-12 6h0m19 1h0m21-3h0m2 0h0m0 0h0m20 14h0m-50-4h0m-2 5h0m-6-4h0m2 9h0m2 3h0m14 4h0m3-4h0m7 1h0m0-3h0m9 0h0m17-1h0m-9 13h0m-9 4h0m-2-1h0m-12 0h0m-9-3h0m-8-2h0m11 9h0m3 1h0" stroke="#f0812f" stroke-width="2.4"/>
<path d="M408 89h0m1-2h0m0 0h0m3 8h0m0-1h0m0 0h0m-1-4h0m0 0h0m0 0h0m-1 4h0m0-3h0m0 4h0m-1 0h0m0 0h0m0-1h0m-1 3h0m0-4h0m0 5h0m0-6h0m-1 9h0m1 3h0m0 2h0m1-1h0m0-2h0m1-2h0m0 0h0m1 0h0m0 8h0m3 4h0m0-2h0m-2 3h0m0 3h0m-1-5h0m0-2h0m0 8h0m-2-8h0m0 0h0m0 3h0m0-1h0m-1 2h0m-1 5h0m0-4h0m-1 2h0m-2-5h0m-2 9h0m4 5h0m1-3h0m1-3h0m0 3h0m1-3h0m1 0h0m2 2h0m1 0h0m0 2h0m1 5h0m1-9h0m1 5h0m6-3h0m-9 14h0m-1 3h0m0-8h0m-1 1h0m0 0h0m-1-1h0m0 5h0m-1 1h0m0-4h0m-1 6h0m0-1h0m-1-3h0m-2 1h0m0 0h0m0-1h0m-2-2h0m0 5h0m0-3h0m-3 2h0m-5 0h0m3 5h0m1 2h0m2 2h0m4-5h0m1 3h0m2-4h0m2 7h0m2-4h0m1 5h0m0-4h0m1-1h0m4 4h0m5 5h0m-7 6h0m-1 0h0m0-2h0m-3-4h0m-3 2h0m-3-4h0m-1 4h0m0 3h0m-6 0h0m-2-3h0m-2 9h0m4-3h0m19 1h0m1 1h0m3 1h0" stroke="#f0812f" stroke-width="2.4"/>
<path d="M411 86h0m0 6h0m0-2h0m0 5h0m0 0h0m0-3h0m-1 4h0m0-1h0m0-2h0m-1 0h0m0 5h0m0-2h0m-1 1h0m0 2h0m0 0h0m-2-2h0m0 1h0m0 10h0m1 1h0m0-6h0m0 0h0m1 6h0m1-6h0m1-1h0m0 1h0m0 0h0m1 3h0m1-2h0m1 2h0m2 3h0m1 8h0m-2 2h0m0-9h0m0 0h0m-2 4h0m-1 3h0m0-7h0m-1 7h0m0-5h0m0 0h0m-1 7h0m0-2h0m0-2h0m0-3h0m-1-2h0m-1 0h0m0 1h0m0 0h0m-1 2h0m0 0h0m-2 5h0m-1-3h0m-1 4h0m-2 4h0m2-2h0m1 2h0m0 4h0m0 1h0m2-3h0m0 2h0m0-1h0m0-4h0m1 3h0m0 3h0m1-8h0m1 6h0m1 1h0m1-3h0m0 5h0m1-9h0m1 3h0m2-1h0m1-1h0m0 4h0m1 2h0m6 9h0m-5-3h0m-2 3h0m0 0h0m0-2h0m-1 3h0m-1 2h0m-1-5h0m0 4h0m-2-1h0m-1-3h0m-2-2h0m0-2h0m0 0h0m0 6h0m0-1h0m-1-4h0m-3 2h0m-8 0h0m-1 5h0m-9 11h0m13-5h0m3-1h0m0 6h0m0-7h0m1-1h0m1 2h0m0-2h0m1 0h0m2 6h0m1-1h0m0-3h0m1 5h0m2-7h0m0 6h0m1-2h0m0-5h0m3 3h0m1-2h0m4 4h0m19 14h0m-13-2h0m-2 1h0m-6-4h0m-1 5h0m-2-2h0m-5-7h0m0 1h0m-1-1h0m-2 3h0m-1 0h0m-1-2h0m0-1h0m0 6h0m-3 0h0m-2-2h0m-15 2h0m4 6h0m1-1h0m6 1h0m1-1h0m1 0h0m2-1h0m3 1h0m2-1h0m2 0h0m2 2h0m1-2h0m2 2h0m1-1h0m6-1h0m3 1h0m3-1h0" stroke="#4173b3" stroke-width="2.4"/>
<path d="M282 64h0m-3 11h0m5 16h0m-1 14h0m6 10h0m-1 7h0m2 1h0m-5 9h0m3 11h0m4 7h0m-2 0h0m1 11h0m7 37h0m2 9h0m-2 8h0" stroke="#f0812f" stroke-width="2.4"/>
<path d="M313 239h0m0 0h0m-1 0h0m-2-4h0m-1 3h0m-2 1h0m0-2h0m-2 1h0m-1 1h0m-1-1h0m0-1h0m0 2h0m-2 0h0m-5 9h0m4-8h0m0 3h0m1 2h0m0-5h0m0 0h0m3 1h0m0 5h0m2 1h0m0-7h0m3 0h0m2 0h0m0 0h0m0 6h0m2-3h0m3-2h0m0 7h0m0-5h0m1 2h0m1-4h0m1 4h0m0 2h0m1-1h0m0 1h0m3 1h0m21 9h0m-1 0h0m-2-2h0m0 2h0m-6 0h0m-5-7h0m-4 1h0m-22 3h0m0 4h0m-4-8h0m-1 9h0m-1-5h0m-1 8h0m1 2h0m2 5h0m1-1h0m0-3h0m1-1h0m1 2h0m2-1h0m0 4h0m27-9h0m18 3h0m2 5h0m0-1h0m1 0h0m4-2h0m6 13h0m-4 0h0m-2-4h0m-2 3h0m-51-7h0m-1 4h0m0 2h0m-3 8h0m3-1h0m2 0h0m44 6h0m3 0h0m1-4h0m4-4h0m0-1h0m2 1h0m0 0h0m1-1h0m-2 11h0m-2-1h0m-5 0h0m-2 5h0m-2-3h0m-3-1h0m-4 2h0m-1 5h0m-1-3h0m-11 1h0m-12-4h0m-4 3h0m7 6h0m7 3h0m2-4h0m3 1h0m1 3h0m0-4h0m1 1h0m0 2h0m0 0h0m2 0h0m5-3h0m0 0h0m3 1h0m1 0h0" stroke="#d7302b" stroke-width="2.4"/>
<path d="M300 218h0m-3 1h0m1 7h0m0 0h0m0 1h0m0 2h0m1-2h0m0-3h0m1-1h0m0-2h0m1 2h0m1 1h0m0-3h0m1 7h0m0-2h0m1-2h0m1 3h0m1 0h0m7 11h0m-2-5h0m-3-2h0m0 4h0m-1-5h0m-1 4h0m0-1h0m-2-3h0m-1 2h0m-1 3h0m-1-1h0m0 0h0m-1 1h0m0-5h0m-4 5h0m2 7h0m3 0h0m0 4h0m0 1h0m0-3h0m1 0h0m1 3h0m1-6h0m1 6h0m1-1h0m0-4h0m0 3h0m1-2h0m3 6h0m0-4h0m1 2h0m0 2h0m1-1h0m1-3h0m2 4h0m1-9h0m2 8h0m0-8h0m1 4h0m1 1h0m0-4h0m0 1h0m0 6h0m2 1h0m0 0h0m0-6h0m1-3h0m0 9h0m3-5h0m0 3h0m1 2h0m0-1h0m1-7h0m3 6h0m2-3h0m2 5h0m0-2h0m24 12h0m-1-3h0m-2 3h0m-3-2h0m-1-1h0m-2 3h0m0-1h0m-4-1h0m-2 0h0m0-1h0m0 0h0m0-1h0m-1 4h0m-2-7h0m0 6h0m0-5h0m-1 4h0m-1-1h0m0-5h0m-2 5h0m0-4h0m-1-2h0m0 0h0m0 5h0m-1-1h0m-1-4h0m0 7h0m0-2h0m-1 3h0m0-7h0m0 5h0m-1-6h0m0 7h0m-2 0h0m-1-3h0m0 2h0m-2-5h0m0 2h0m-1 1h0m-1 5h0m0-6h0m0-2h0m-2 5h0m-1 0h0m0 3h0m0-1h0m-1-7h0m0 5h0m-2 3h0m0-2h0m0 1h0m-1 0h0m0-2h0m-1-5h0m-1 3h0m-1 1h0m-3 4h0m-1-3h0m0-5h0m-1 4h0m0-1h0m-2 1h0m-1-2h0m-2 5h0m0-3h0m0 0h0m0 0h0m-1-2h0m0-1h0m0 1h0m-1 0h0m0 3h0m0-5h0m-1 7h0m0 0h0m0-5h0m-2 2h0m-1-1h0m3 6h0m1 7h0m2-6h0m1 2h0m1-2h0m1 0h0m2 5h0m2-1h0m0 3h0m0-8h0m1 3h0m2-1h0m1 4h0m1-6h0m0 4h0m1 4h0m0-5h0m1-2h0m0 2h0m1 6h0m1-3h0m1-4h0m0 6h0m0-7h0m0 4h0m0-1h0m1 1h0m0 1h0m1-1h0m0 3h0m2-4h0m1 1h0m2-3h0m0-1h0m0 2h0m0 0h0m0 4h0m0-4h0m1-1h0m0 6h0m2-3h0m0 0h0m2 2h0m0-4h0m0 0h0m4 0h0m1 5h0m0-7h0m2-1h0m0 0h0m1 3h0m2 3h0m0-2h0m2 3h0m0-6h0m1 2h0m0 4h0m1-1h0m0-5h0m1 8h0m0-1h0m6 1h0m0-2h0m1 2h0m0-9h0m0 4h0m0 2h0m4-6h0m1 5h0m4 0h0m0-3h0m1 1h0m3 12h0m0 1h0m-1-1h0m-1-3h0m0-2h0m0 2h0m-1 5h0m0-6h0m-2-1h0m0 6h0m-1-4h0m-1 6h0m0-8h0m-3 6h0m-1 2h0m-1-1h0m-1-5h0m0 7h0m-1-6h0m-1 4h0m0 2h0m-1-8h0m0 6h0m0-5h0m-1 0h0m-2 5h0m-1-5h0m0 1h0m-3 3h0m0 1h0m0-3h0m-1-2h0m-2 2h0m0 4h0m0-1h0m-1-4h0m0 5h0m0 0h0m0-4h0m-1 0h0m0-4h0m-1 8h0m-1-2h0m0-5h0m0 5h0m-3 3h0m0-2h0m0-3h0m-2 2h0m-1 0h0m0-2h0m-1 5h0m-1-3h0m0 3h0m-1-9h0m0 9h0m-2-5h0m-2-2h0m-2-2h0m-1 0h0m0 2h0m0 6h0m-1-6h0m-1 6h0m-1-7h0m-2 7h0m-4-5h0m-1 6h0m-1-4h0m-1 3h0m0-6h0m-1-2h0m-4 2h0m-1 2h0m-1 0h0m0-1h0m1 14h0m0-4h0m1 4h0m1-3h0m1-3h0m0 7h0m1-8h0m0 3h0m2 3h0m1 0h0m0 0h0m1 1h0m0-5h0m1 5h0m0-1h0m1-6h0m1 7h0m1-5h0m0 1h0m0 5h0m1 1h0m0-3h0m1 3h0m3-6h0m0 2h0m1-3h0m2 5h0m0-1h0m1-5h0m0 6h0m1-4h0m1 3h0m0-6h0m0 9h0m1-5h0m2-3h0m0 6h0m0 1h0m0-2h0m1 3h0m1-7h0m1 4h0m2 2h0m0-3h0m1-1h0m1 5h0m0-9h0m1 0h0m1 6h0m0 3h0m1-5h0m0-1h0m0-1h0m2 7h0m1-9h0m0 0h0m1 7h0m1-2h0m0-4h0m0 1h0m2 7h0m1-9h0m1 0h0m0 1h0m1 6h0m2-2h0m2 4h0m0-9h0m2 4h0m2 2h0m0-4h0m1 2h0m0-3h0m1 6h0m2 2h0m2-4h0m2-3h0m-6 9h0m0-1h0m-7 1h0m-1 1h0m0-2h0m-3 3h0m0-1h0m-2 5h0m-2-6h0m-1 6h0m0-5h0m-1 6h0m0-8h0m-1 1h0m-2 1h0m-1 7h0m-1 0h0m-1-3h0m0-2h0m-1-3h0m0 2h0m0 0h0m-1 6h0m0 0h0m-3-7h0m-1 6h0m0 1h0m0-4h0m-1-3h0m0-2h0m-1 8h0m-1-2h0m0 1h0m-2 2h0m-2-1h0m-1-6h0m0 0h0m0-1h0m-2 2h0m0 1h0m-1 5h0m0-1h0m-2-6h0m-1 2h0m-1 0h0m0-3h0m-1 5h0m0 1h0m-1-5h0m-2 4h0m-1-5h0m0 0h0m0 6h0m-1-6h0m-3 2h0m-1 0h0m10 8h0m1 2h0m5-2h0m0 6h0m0-4h0m1-3h0m1 2h0m0 1h0m3 0h0m7-3h0m2 1h0m1-1h0" stroke="#d7302b" stroke-width="2.4"/>
<path d="M404 269h0m1 5h0m-5 4h0m-4 1h0m-2 0h0m-8-2h0m-9-4h0m3 10h0m12-3h0m4 0h0m3 7h0m10-6h0m2 3h0m-4 12h0m-1-4h0" stroke="#f0812f" stroke-width="2.4"/>
<path d="M316 209h0m-11 1h0m27 30h0" stroke="#4173b3" stroke-width="2.4"/>
<path d="M437 303h0" stroke="#d7302b" stroke-width="2.4"/>
<path d="M276 46h0m2-2h0m3 12h0m-1-1h0m-2-4h0m8 14h0m1-4h0m1 7h0m0-1h0m2 2h0m5 9h0m-3-1h0m10 22h0m-1 0h0m0 0h0m-1-6h0m5 13h0m3 3h0m3 10h0m0-6h0m-1 6h0m-1-5h0m0-1h0m0 5h0m-4-8h0m7 11h0m0 0h0m1 4h0m2 4h0m2-1h0m3 4h0m-4 1h0m0-1h0m8 11h0" stroke="#3aa457" stroke-width="2.4"/>
<path d="M436 169h0m8 5h0m-3 4h0m-1-4h0m-1-3h0m-1-1h0m-4 5h0m-3 4h0m-1-1h0m-1-2h0m0-2h0m-3 1h0m-2 0h0m1 5h0m4 8h0m5-2h0m1 3h0m3-7h0m4 0h0m0 2h0m0-1h0m1 2h0m3 1h0m1 4h0m-1 6h0m-2-5h0m-1 5h0m0-5h0m-2 4h0m0 2h0m0 2h0m-1-6h0m0-1h0m-2 6h0m0-3h0m-3-3h0m-4 3h0m0 2h0m-1-3h0m0 2h0m-2-5h0m0-1h0m-2 9h0m-3-2h0m0-7h0m2 18h0m0-1h0m2-5h0m1 5h0m1-6h0m1 8h0m0-5h0m0-3h0m1 0h0m1 5h0m0-4h0m3-1h0m0 4h0m2 3h0m2 0h0m2-7h0m1-1h0m4 16h0m0 2h0m-1-8h0m-1 2h0m-1 6h0m-2-1h0m-3-2h0m-1-2h0m-1-1h0m-2 1h0m-2-1h0m0 1h0m-3 0h0m-2 3h0m-1 1h0m-1-7h0m1 11h0m2 1h0m2 7h0m0-8h0m0 4h0m0-5h0m1 9h0m2-2h0m3-7h0m1 1h0m0 7h0m1-7h0m0 0h0m0 3h0m1 3h0m1-7h0m2 2h0m1 4h0m0-6h0m0 9h0m3-6h0m-3 16h0m0-3h0m-2-4h0m-1 4h0m-3 1h0m-1 2h0m-1-3h0m-3-3h0m-1-2h0m-2 0h0m0 5h0m0 0h0m-2 1h0m-2 9h0m2 0h0m2-4h0m3-2h0m1 9h0m1-8h0m0 4h0m0-2h0m0 0h0m0 1h0m2 0h0m2 0h0m1-1h0m2 4h0m1 0h0m0-3h0m0 0h0m2 0h0m3 6h0m-2 3h0m-2 1h0m-1 1h0m-2-4h0m0 6h0m-1-3h0m-1 5h0m0 0h0m-2-2h0m0 1h0m-3 1h0m-2-9h0m-1 1h0m0 6h0m-6 0h0m5 9h0m1-1h0m1-1h0m3 5h0m1-3h0m1-3h0m2 6h0m3 0h0m0 0h0m1-8h0m1-1h0m1 0h0m-1 15h0m-12-5h0" stroke="#4173b3" stroke-width="2.4"/>
<path d="M275 48h0m1 1h0m0 0h0m1-4h0m0-1h0m3 15h0m0-6h0m-1 4h0m-1 2h0m-1-4h0m0 4h0m-1-3h0m-1 7h0m2 5h0m1-8h0m0 7h0m0-7h0m0 7h0m1-7h0m0 2h0m0 2h0m0-2h0m1 2h0m4 14h0m-2-2h0m0 0h0m-1-1h0m0 3h0m0 1h0m-2-1h0m0-2h0m0-3h0m0-3h0m-2 4h0m2 8h0m0 5h0m1-6h0m0 1h0m0 4h0m1 2h0m0-4h0m0 3h0m0-2h0m1 1h0m1-6h0m1 8h0m0-2h0m2 2h0m-1 10h0m0-7h0m-2 8h0m0-5h0m-1 4h0m-1-7h0m0-1h0m1 12h0m1-1h0m1 8h0m0-6h0m2 2h0m1-2h0m2 14h0m0-1h0m-1-5h0m-1 3h0m0 3h0m0-5h0m-1 2h0m-1-2h0m0 4h0m0-1h0m-3 1h0m-1 4h0m3 3h0m0 1h0m0 1h0m1-1h0m1-4h0m0 1h0m0-1h0m3 5h0m2 6h0m-1 5h0m-1-2h0m-1-3h0m0 8h0m0-3h0m0-6h0m-1 8h0m0-8h0m-1 1h0m-1 9h0m2 4h0m1-1h0m1 1h0m0 4h0m1-7h0m0 7h0m0-8h0m2 7h0m0-5h0m2 0h0m1 12h0m-2 4h0m-1-4h0m0-4h0m0 9h0m-1-9h0m-1 2h0m0 6h0m-2-7h0m-3 0h0m4 17h0m3-3h0m1-3h0m0 2h0m5 2h0m0 1h0m-1 9h0m-3-6h0m0 9h0m-1-5h0m0-4h0m-5 8h0m-2-3h0m4 14h0m3-5h0m0-2h0m1 4h0m2 3h0m0-4h0m1 3h0m0-1h0m2-2h0m3 7h0m-2 1h0m-3 1h0m-5-2h0m0 2h0m4 10h0m0-4h0m1 2h0m1 6h0m3-6h0m1 6h0m2-3h0m-1 8h0m-4 5h0m-1-5h0m0 5h0m0-4h0m-2 2h0m-1-6h0m1 11h0m1 1h0m5-1h0m4 0h0m0 0h0" stroke="#d7302b" stroke-width="2.4"/>
<path d="M440 284h0m0-2h0m1 8h0m-1 7h0m-2-3h0m-2 0h0m2 15h0m1-9h0m0 5h0m1-2h0m1-2h0m-1 9h0m-3 3h0m-4 4h0m2 9h0m0-6h0m2 4h0m-5 15h0m-1 0h0m0 4h0m0 4h0m0 4h0m-1 2h0m0 2h0m0 0h0" stroke="#f0812f" stroke-width="2.4"/>
<path d="M349 254h0m-2 2h0m2 6h0m0 2h0m3 0h0m5 3h0m-10 10h0m0 4h0m8 4h0m5 4h0m-1 2h0m-9 0h0" stroke="#d7302b" stroke-width="2.4"/>
<path d="M294 103h0m1 5h0m0-1h0m4 10h0m-6-3h0m-7 5h0m-2-7h0m22 9h0m3 1h0m-19 24h0m17 5h0m-15 3h0m-2 6h0m5 7h0m6-5h0m4 8h0m-3 19h0m1-8h0m-6 14h0m7 14h0m4 2h0" stroke="#f0812f" stroke-width="2.4"/>
<path d="M386 168h0m20-6h0m0 1h0m3 3h0m6 3h0m1-2h0m1-4h0m3 1h0m6 5h0m3-2h0m34-1h0m-10 7h0m0 4h0m-1-3h0m-1 3h0m-3 2h0m-2-3h0m-16-2h0m-41-4h0m-4 1h0m-2-1h0m-1 8h0m-2-3h0m-1 2h0m-3 1h0m0-1h0m-12 8h0m2 1h0m4-3h0m3 1h0m1-3h0m-10 10h0m-2 1h0m-2-2h0m-2 7h0m-1-7h0m-1 9h0m0 0h0m-7 2h0m2 3h0m1-2h0m1 0h0m1 2h0m0 0h0m0-3h0m-7 9h0m-3 3h0" stroke="#f0812f" stroke-width="2.4"/>
<path d="M350 257h0m-7 9h0m3-3h0m0 5h0m0-7h0m0 2h0m2-1h0m5-2h0m0 5h0m1-3h0m1 0h0m2 0h0m1 5h0m3 0h0m5-6h0m3 13h0m0-3h0m-8 0h0m-5 4h0m-7 3h0m-2-4h0m-1-4h0m-1 6h0m-3-2h0m9 6h0m3 0h0m1 8h0m0-1h0m2-7h0m5 9h0m1-5h0m1 7h0" stroke="#f0812f" stroke-width="2.4"/>
<path d="M463 187h0m19 2h0m12 8h0m-10-1h0m-4 2h0m-4-3h0m-7 1h0m-3 0h0m-15-5h0m-14 17h0m8-1h0m5 1h0m0-8h0m0 2h0m9-1h0m23 3h0m4-3h0m2 4h0m1-2h0m4-1h0m2 6h0m2-4h0m3 12h0m-4-6h0m0 1h0m-1 2h0m-2-3h0m-36 5h0m-9-5h0m0 7h0m-2-1h0m-10 0h0m8 9h0m2-2h0m7-3h0m38 1h0m4 3h0m2-1h0m12 10h0m-6-2h0m-2 1h0m-2 2h0m0 0h0m0 1h0m-2-5h0m-5 1h0m-45 4h0m-2 2h0m-2-6h0m-1 6h0m0-2h0m-1 3h0m-6-8h0m0 11h0m3 6h0m1-4h0m6 3h0m6 0h0m2-2h0m5-1h0m0 1h0m1 4h0m36-7h0m2 3h0m3-2h0m0 3h0m1 0h0m1 3h0m8 1h0m2 0h0m-3 4h0m-2 0h0m-2 1h0m-3-2h0m0 0h0m-2 5h0m-4-3h0m-11 3h0m0 1h0m-7-1h0m-4-7h0m-4 5h0m-1 0h0m-6-5h0m-3 5h0m-3 1h0m-5-6h0m-1 4h0m-3-4h0m-6 0h0m25 15h0m6-2h0m6 1h0m3-4h0m3 9h0m8-6h0m6 1h0m2 0h0m3-2h0" stroke="#4173b3" stroke-width="2.4"/>
<path d="M402 264h0m-14 8h0m-2 1h0m9 8h0m6 0h0m5 3h0" stroke="#4173b3" stroke-width="2.4"/>
<path d="M303 229h0m11 4h0m-11 5h0m40 19h0m-2-6h0m-3 5h0m-25 0h0m3 8h0m33 0h0m11 1h0m-5 14h0m-1-8h0m-2 1h0m-48 9h0m48 0h0m5 8h0m6-7h0m-2 8h0m-14 2h0m-18 10h0" stroke="#4173b3" stroke-width="2.4"/>
<path d="M284 76h0m2 8h0m7 5h0m0-2h0m-1 3h0m-4 2h0m-1 6h0m3 2h0m7 9h0m1-1h0m10 11h0m-3-8h0m-4-1h0m-10 8h0m-3-3h0m-3 4h0m5 4h0m2 1h0m1-3h0m0 2h0m3-1h0m0 4h0m4 3h0m0-7h0m1-2h0m1 9h0m4-5h0m-1 10h0m-4 1h0m-3 0h0m-3 2h0m-3 12h0m2-5h0m8-3h0m2 2h0m2 1h0m5 0h0m10 12h0m-5-4h0m-2 3h0m-2-1h0m-14 5h0m-1-2h0m-3-4h0m-3 1h0m3 8h0m4 1h0m2 4h0m2 2h0m12-8h0m8-1h0m-2 19h0m-4-7h0m-7 0h0m-2 6h0m-12-8h0m0 16h0m2 1h0m15 2h0m1-2h0m0 1h0m6-3h0m-7 9h0m-10 2h0m-1-4h0m-1 6h0m1 15h0" stroke="#d7302b" stroke-width="2.4"/>
<path d="M434 175h0m-5 11h0m8 1h0m3 26h0m-3-1h0m3 16h0m3 0h0m4 25h0m-15 13h0" stroke="#f0812f" stroke-width="2.4"/>
<path d="M432 208h0m9-8h0" stroke="#d7302b" stroke-width="2.4"/>
<path d="M287 166h0" stroke="#3aa457" stroke-width="2.4"/>
<path d="M409 162h0m4 4h0m0-3h0m4 0h0m3 2h0m1 4h0m26-2h0m5-5h0m2 3h0m3 2h0m4 7h0m-8-3h0m-3-1h0m-4 8h0m0-5h0m-23-2h0m-4-1h0m-32 5h0m-4 1h0m-13 13h0m1-9h0m0 3h0m49-2h0m-75 27h0m9 1h0" stroke="#d7302b" stroke-width="2.4"/>
<path d="M463 207h0" stroke="#d7302b" stroke-width="2.4"/>
<path d="M401 172h0m-6 6h0m-9 1h0m-4-1h0m0-5h0m-3 2h0m-11 3h0m-19 2h0m38 2h0m9-2h0m8 1h0m1-1h0m18 19h0m-4-1h0m-27-7h0m-13 7h0m-22-6h0m-4 2h0m-4 14h0m70-4h0m-1 13h0m-18-7h0m-12 6h0m-14-2h0m-3 1h0m-1 2h0m-8-4h0m-8 7h0m1 3h0m2 0h0m16 1h0m1-2h0m31 1h0m26 16h0m-8-8h0m-17 7h0m-44 0h0m-4-7h0m1 9h0m19 0h0m3 7h0m4-1h0m14-2h0m3 5h0m3-3h0m21 2h0m8 0h0m-3 7h0m-6-3h0m-1 6h0m0 1h0m-8-5h0m-3 4h0m0 0h0m-2-4h0m-8 5h0m-13-9h0m-2 9h0m-17-6h0m-1 6h0m27 8h0m5-6h0m9 5h0m6-4h0m1 3h0m5-5h0m9 2h0m0 13h0m0-3h0m-21-1h0m-8 1h0m-11 7h0m1 8h0m9-7h0" stroke="#f0812f" stroke-width="2.4"/>
<path d="M413 191h0m-19 3h0m-3-1h0m-22 21h0m-15 13h0m67 11h0m-14 1h0m-44-2h0m-7-5h0m31 10h0m46 3h0m-43 12h0m-1-7h0m11 15h0" stroke="#d7302b" stroke-width="2.4"/>
<path d="M282 71h0m25 46h0m3 5h0m-9 12h0m22 9h0m-21 15h0m1 9h0m2-5h0m5 9h0m-17 9h0m12 16h0m-5-3h0m-1 15h0m5 1h0" stroke="#4173b3" stroke-width="2.4"/>
<path d="M405 272h0m5 11h0" stroke="#4173b3" stroke-width="2.4"/>
<path d="M448 168h0m38-3h0m12 33h0m-51 39h0m42 16h0m56 31h0" stroke="#d7302b" stroke-width="2.4"/>
<path d="M408 88h0m0-2h0m0 2h0m1 1h0m2 0h0m1 7h0m0 0h0m-1 2h0m0-8h0m0 2h0m-1-1h0m0 1h0m-1-2h0m-1 3h0m0-1h0m-1 5h0m0-4h0m-2 12h0m1-4h0m2 3h0m0 5h0m0-6h0m1 3h0m1 1h0m0-4h0m1 2h0m0-3h0m2 3h0m1-2h0m0-1h0m0 16h0m-1 0h0m-2-1h0m0-6h0m-1 8h0m-2-2h0m-2-5h0m-1 1h0m0 4h0m0-3h0m-1 0h0m0 5h0m3 5h0m1 1h0m2-5h0m0 3h0m1 2h0m1 0h0m2 3h0m1-1h0m1-1h0m6 10h0m-7 0h0m-1-6h0m0 0h0m0 9h0m0 0h0m-1-4h0m0 0h0m0 1h0m-1 2h0m-1-1h0m0 2h0m-1-1h0m0 0h0m-1-8h0m0 5h0m-1-1h0m0-1h0m-2 0h0m-1-3h0m0 6h0m-1-6h0m-1 2h0m0 3h0m-4-4h0m-1 8h0m-1 6h0m3 1h0m1-3h0m1 1h0m0 0h0m3-1h0m1 0h0m2-2h0m2 0h0m2 6h0m1-5h0m1-1h0m1 4h0m10 11h0m-1 2h0m-3-4h0m-3 5h0m-1-2h0m-3-3h0m-4-3h0m-6 1h0m-3 4h0m-1-5h0m-3 1h0m0 4h0m-6-2h0m-7 2h0m22 7h0m2-1h0m3-2h0m1 1h0m6 2h0m11 0h0" stroke="#f0812f" stroke-width="2.4"/>
<path d="M276 49h0m1-3h0m6 12h0m0-3h0m-2-3h0m0 2h0m-1-2h0m5 13h0m9 14h0m-1-1h0m-4-4h0m8 13h0m4 11h0m-1-6h0m-1-1h0m0 3h0m-1 6h0m8 6h0m1 3h0m1-1h0m3 3h0m0 6h0m-2-1h0m0-2h0m-2-4h0m4 14h0m3 4h0m2-2h0m0 1h0m6 1h0m3 11h0m-4 0h0m-1-8h0" stroke="#3aa457" stroke-width="2.4"/>
<path d="M387 167h0m4 1h0m7 0h0m4-6h0m2 5h0m17-3h0m1 3h0m12-4h0m0 0h0m0-1h0m4 7h0m9-2h0m6 6h0m-24-1h0m-5 1h0m-2-2h0m0-1h0m-27 1h0m-5 0h0m-12 7h0m-3 4h0m1-1h0m79 3h0m-100 14h0m-3 1h0m-3 8h0m0 4h0m0 0h0m-3 6h0m-2-2h0" stroke="#d7302b" stroke-width="2.4"/>
<path d="M441 286h0m2-3h0m0 7h0m-1 7h0m-1-2h0m-4 0h0m0 12h0m2-2h0m0-5h0m1 7h0m-6 10h0m-1 12h0m1-1h0m3-5h0m-3 11h0m-3 12h0m1 1h0m0-3h0m0 1h0m0-3h0m0 1h0m1 8h0m-3 2h0m-2 0h0" stroke="#f0812f" stroke-width="2.4"/>
<path d="M463 173h0m4 14h0m12 5h0m-32 12h0m2 4h0m6-7h0m40 8h0m10 4h0m-12 3h0m-7-6h0m-32 3h0m4 16h0m29 3h0m-32 5h0m-2 8h0m27-5h0m51 15h0m-9-2h0m-44 5h0m-17 3h0m3 1h0m49 5h0m20 5h0m-3-1h0m-27 9h0m41 7h0m1 2h0" stroke="#f0812f" stroke-width="2.4"/>
<path d="M280 59h0m-1 10h0m5 27h0m8 92h0m4 15h0m-1 9h0" stroke="#3aa457" stroke-width="2.4"/>
<path d="M407 86h0m1 3h0m2-1h0m1 0h0m5 10h0m-4-1h0m-1 2h0m-1-4h0m0-1h0m0-3h0m0 5h0m0 1h0m0 1h0m-1 0h0m0-3h0m0 0h0m0 1h0m-1-5h0m0 1h0m0 6h0m-1-7h0m0 1h0m0 4h0m-1 0h0m-2 13h0m1 0h0m1-5h0m1-3h0m0 8h0m0-5h0m0 2h0m2 1h0m0-6h0m2 3h0m2-4h0m3 15h0m0 0h0m-2 2h0m-1-7h0m-2 0h0m0 1h0m0 1h0m0-1h0m0 7h0m0-1h0m-1 0h0m-1 0h0m-1-4h0m0-3h0m0 3h0m0 4h0m-1-7h0m0 9h0m0-3h0m0 3h0m-1-6h0m0 3h0m-3 3h0m-1-5h0m-4-2h0m3 13h0m1 2h0m2-7h0m1 9h0m1-9h0m0 4h0m0-3h0m2 3h0m1-4h0m0 3h0m1 0h0m0 6h0m1-8h0m1 1h0m1 3h0m0 3h0m1 0h0m0-3h0m1-3h0m2 6h0m3 1h0m-1 8h0m-2-5h0m-2-1h0m-2-1h0m0 2h0m-1 2h0m-1 2h0m0-1h0m-2-3h0m0 5h0m-1-4h0m0-1h0m-1 3h0m-1-1h0m0-4h0m-1 5h0m0 1h0m0-1h0m-2 0h0m0-5h0m0 4h0m-1 0h0m-1 2h0m0 0h0m-3-1h0m-2 4h0m-6 0h0m3 8h0m0 2h0m1-3h0m6-2h0m1-4h0m0 9h0m2-5h0m2-2h0m1-1h0m1 5h0m3-5h0m1-1h0m0 0h0m2 7h0m0-7h0m1 2h0m0-2h0m1 2h0m3 6h0m0-5h0m1 5h0m3-3h0m6 6h0m-1 5h0m-1-3h0m-3 1h0m0 0h0m-1 5h0m-1-2h0m0-7h0m-2 4h0m-2 1h0m-3 2h0m-1-4h0m-1 5h0m0-1h0m-1-5h0m-1-2h0m-3 0h0m0 9h0m0-2h0m-2 1h0m-1-2h0m-2-1h0m0-3h0m-1 4h0m-4 0h0m-2-4h0m-1 4h0m0-5h0m0 4h0m-1-4h0m-1 9h0m2 0h0m1 0h0m0 2h0m11 0h0m4 0h0m0 0h0m1 0h0m3 0h0m2-2h0m3 1h0" stroke="#4173b3" stroke-width="2.4"/>
<path d="M399 265h0m0 1h0m8 1h0m3 2h0m-3 10h0m0-5h0m0 4h0m-6-8h0m-4 4h0m-2-4h0m-1 4h0m-5 0h0m0 4h0m1 4h0m6-2h0m1 5h0m2-4h0m9 3h0m4 0h0m4-4h0m-20 16h0m-3-5h0" stroke="#f0812f" stroke-width="2.4"/>
<path d="M310 199h0m-1-5h0m-6 12h0m1-6h0m1 5h0m5-1h0m1 2h0m0 2h0m2-2h0m2-2h0m18 5h0m2 6h0m-1 4h0m-4-1h0m-4-8h0m-5 9h0m0-9h0m-1 4h0m-8-3h0m-2 5h0m-3-4h0m0 0h0m-3 4h0m-2-5h0m-3 2h0m8 8h0m4 0h0m5-1h0m0 2h0m4 6h0m0-4h0m6-4h0m2 2h0m1 0h0m2 4h0m0 3h0m0-3h0m2-2h0m0 1h0m3 0h0m2-5h0m0 0h0m1 8h0m1-3h0m3-4h0m5 5h0m3 9h0m-1-5h0m-5 9h0m-7 0h0m-3-8h0m-3 5h0m-6 2h0m0-2h0m-7-1h0m0-4h0m15 10h0m2 1h0m5 5h0m5 0h0m2 1h0m2-1h0m2-2h0m1-2h0m2 3h0m2 0h0m2 3h0m2-4h0m1 1h0m8 7h0m-1 3h0m-2-1h0m-1 2h0m-4-2h0m-2-4h0m-14-1h0m20 10h0m1 2h0" stroke="#d7302b" stroke-width="2.4"/>
<path d="M362 262h0m8 14h0m-5-5h0m-3 5h0m-2-4h0m0 5h0m-13-4h0m-1 9h0m3 5h0m2 0h0m3 1h0m2-3h0m3 3h0m1-2h0m5-2h0" stroke="#d7302b" stroke-width="2.4"/>
<path d="M439 288h0m1-2h0m3-4h0m0 6h0m3-3h0m-4 7h0m-2-2h0m-2 6h0m0-6h0m-1 1h0m0 9h0m0 8h0m1-7h0m0 8h0m0-9h0m0 9h0m1-4h0m-3 12h0m-1-1h0m0 3h0m-3 7h0m2 0h0m0-6h0m2 2h0m2-2h0m-2 13h0m-2 0h0m-1 6h0m0 0h0m-2-4h0m-1 7h0m0 2h0m2-4h0m0 3h0m0 4h0m2-7h0m-4 13h0m-2 2h0" stroke="#4173b3" stroke-width="2.4"/>
<path d="M375 175h0m-24 6h0m27 0h0m-21 26h0m11-6h0m39 4h0m-2 12h0m29 12h0m-38 10h0m-10-7h0m-26 1h0m30 10h0m21 15h0m-14-7h0m-16 7h0m-7 0h0m-3 2h0m0 3h0m31 3h0m26 0h0" stroke="#d7302b" stroke-width="2.4"/>
<path d="M433 222h0m2 17h0" stroke="#d7302b" stroke-width="2.4"/>
<path d="M398 173h0m-49 4h0m-1 1h0m13 2h0m28 6h0m7 3h0m6 0h0m21-3h0m-17 9h0m-2-4h0m-14 2h0m-1 1h0m-35 5h0m33 7h0m26-4h0m1 3h0m6 9h0m-2-4h0m-7 0h0m-19 9h0m-35-3h0m21 4h0m24 9h0m1-5h0m34 4h0m1 3h0m-22 2h0m-19 0h0m-10-3h0m-17 6h0m-6 8h0m8-3h0m14 6h0m12-5h0m18 3h0m15 12h0m-3-5h0m0 0h0m-13 5h0m-14 0h0m-12 2h0m-3-2h0m-16-1h0m-8-3h0m20 11h0m5-2h0m7 0h0m1 5h0m4 2h0m11 0h0m23 4h0m-3 2h0m-25 0h0m-4 1h0" stroke="#f0812f" stroke-width="2.4"/>
<path d="M413 93h0m-4 63h0" stroke="#d7302b" stroke-width="2.4"/>
<path d="M456 166h0m3-2h0m0-2h0m3 0h0m1 2h0m4-2h0m0 2h0m1 5h0m0-4h0m5-2h0m0 0h0m4 5h0m1-7h0m1 4h0m3 2h0m1-2h0m6-1h0m2 4h0m5 9h0m0 2h0m-4-4h0m0-5h0m-1 9h0m-1-3h0m-1-5h0m0 7h0m-2-3h0m-2 0h0m-1 1h0m-3 3h0m0-9h0m-1 1h0m0-1h0m-1 2h0m0 3h0m-1-3h0m-1 6h0m-1-4h0m0-4h0m0 5h0m-1 4h0m-1 0h0m0-8h0m0 1h0m0 5h0m-1 0h0m0-4h0m0 6h0m-2-5h0m-1-1h0m-3 5h0m-1 0h0m-1-3h0m-2 4h0m-2-5h0m-7-3h0m-1 5h0m-8-6h0m2 15h0m2 3h0m3-5h0m1-3h0m2 9h0m3-6h0m1 5h0m2-2h0m2-2h0m0 1h0m6-2h0m1 3h0m1-5h0m2-1h0m1 7h0m1-6h0m3 3h0m3-4h0m0 9h0m0-3h0m1 1h0m0-4h0m0 1h0m0-3h0m5 1h0m2 4h0m0-3h0m1-3h0m2 1h0m0 5h0m0 1h0m1-5h0m1 6h0m3-8h0m1 5h0m1-3h0m1 7h0m2-1h0m4 5h0m0 4h0m0 2h0m-1-3h0m-2-3h0m-1 0h0m0 2h0m-3-2h0m0-1h0m-2 0h0m-2-2h0m-1 9h0m-1-6h0m-1 2h0m0-5h0m-2 2h0m-3 4h0m-1-4h0m-1-1h0m-1 4h0m-1-4h0m-24 0h0m-6 6h0m-3 0h0m-3-2h0m-4-2h0m0-1h0m47 9h0m1 1h0m2 0h0m1 4h0m1-2h0m0-4h0m2 4h0m2-4h0m1 2h0m3 2h0m1-1h0m0 4h0m2-6h0m1 8h0m1-6h0m1-3h0m1 3h0m1 0h0m0 6h0m6 0h0m4 10h0m0 0h0m-5-1h0m-4-8h0m0 8h0m0-4h0m-1 5h0m-2-3h0m-1 1h0m0 0h0m-1-7h0m-2 4h0m-6 5h0m0-6h0m-2 2h0m-1-5h0m-1 3h0m6 12h0m0 4h0m1-7h0m0 7h0m3-1h0m1-6h0m0 4h0m2 2h0m1-5h0m0 1h0m1 4h0m1 0h0m0-2h0m1 1h0m1-3h0m2 4h0m0-5h0m0-3h0m1 8h0m0 0h0m0-7h0m1 2h0m3 5h0m2 0h0m0-6h0m0 3h0m1 3h0m1-1h0m2 3h0m-1 4h0m-2 4h0m0-8h0m-1 0h0m0 9h0m-2-3h0m-1-6h0m0 8h0m-2-3h0m-1-5h0m0 7h0m0-3h0m-1 0h0m-1 2h0m0 2h0m0-5h0m-2 1h0m0-1h0m-1 0h0m-2 6h0m-1-1h0m0-5h0m-1 6h0m0-8h0m-1 7h0m-3-3h0m2 5h0m0 3h0m4 1h0m0-3h0m2 5h0m2 1h0m0-4h0m2-1h0m1 3h0m1 3h0m1-1h0m0 2h0m1-2h0m0 2h0m0-3h0m3-6h0m0 0h0m0 0h0m0 7h0m2-5h0m1 0h0m1-2h0m1 8h0m0-6h0m1-2h0m0 4h0m2-3h0m7 15h0m-3-1h0m0-3h0m-1 1h0m0 2h0m-2 1h0m-1-6h0m-4 7h0m0 1h0m-2-6h0m-1 0h0m0 5h0m0-6h0m-1 1h0m0 5h0m-1-5h0m0-2h0m0 6h0m-1-1h0m-1 4h0m-1-3h0m-1-3h0m-1 6h0m-1-6h0m-3 1h0m0-2h0m0 0h0m-1-2h0m0 7h0m0-4h0m0 1h0m-2-4h0m-2 7h0m-21 2h0m-2-1h0m-7-1h0m-1 0h0m-1-1h0m-2 3h0m-1-4h0m-6 2h0m-3 1h0m0 0h0m-6 1h0m-7-2h0m4 6h0m1 6h0m2-2h0m1-4h0m0 0h0m0 6h0m1-6h0m0 5h0m7-6h0m1 0h0m1-2h0m3 7h0m1 1h0m2-6h0m4 1h0m0 3h0m0 3h0m2-2h0m0-1h0m1 3h0m0-4h0m0 0h0m1 4h0m3-2h0m1 1h0m2-8h0m3 5h0m0-3h0m1 3h0m1 2h0m0-1h0m2 3h0m2-2h0m0 1h0m0-1h0m1-3h0m1 3h0m0-7h0m0 9h0m4-4h0m0 0h0m1 1h0m0-2h0m2-3h0m0 3h0m1 5h0m0-1h0m5-7h0m2 0h0m1 5h0m1-3h0m0-2h0m1 0h0m3 4h0m0 1h0m0 1h0m1-4h0m0 4h0m2-6h0m2 2h0m1 0h0m1-3h0m1 4h0m0 0h0m2-3h0m0 4h0m1-3h0m1 7h0m0-4h0m1 0h0m0 2h0m1 2h0m1 0h0m1 0h0m1-9h0m0 5h0m3 4h0m1-3h0m3 6h0m-1 3h0m-4 1h0m0-5h0m-1 6h0m0 0h0m0-4h0m0-3h0m-2 2h0m-2 3h0m0-4h0m-1 5h0m0-3h0m-6-1h0m-1 2h0m0 0h0m-1-4h0m-1 9h0m-1-9h0m-3 7h0m-4-6h0m0 8h0m-1-6h0m-1 4h0m-1-2h0m-1 3h0m-1-8h0m0 6h0m-2-6h0m0 5h0m0 3h0m-1-2h0m0 0h0m0-3h0m-2-1h0m0 7h0m-2 0h0m-1-2h0m0-5h0m-1-2h0m0 8h0m-2-7h0m-4 2h0m-1-2h0m-19 1h0m-3-2h0m-2 2h0m-7-1h0m-1 1h0m-1 0h0m-2 2h0m0-3h0m-2 3h0m0 2h0m-2 0h0m-3-1h0m-5 1h0m62 6h0m6 0h0m0 3h0m0 0h0m4-5h0m1 8h0m0-2h0m1-4h0m3 5h0m1 2h0m0-3h0m4-3h0m1 3h0m1 3h0m2-7h0m2-1h0m1 5h0m2-4h0m0 2h0m1-3h0m0 1h0m1 3h0m1-1h0m1 3h0m1-2h0m1 0h0m1 0h0m0 4h0m1-9h0m-4 18h0m0-8h0m-1 2h0m-2 2h0m-1 3h0m-1 0h0m0-7h0m-1 1h0m0 1h0m-1 2h0m-1-4h0m-1 4h0m0-1h0m0 1h0m0-2h0m0 1h0m-1-3h0m-7 2h0" stroke="#4173b3" stroke-width="2.4"/>
<path d="M466 186h0m1 3h0m13-1h0m11 3h0m-4 6h0m-3 2h0m0 0h0m-11-5h0m-10 1h0m-7-3h0m-4 4h0m-2-5h0m32 16h0m3-5h0m5 3h0m1 0h0m5 2h0m1-2h0m2 4h0m6 9h0m-1 0h0m-1-2h0m-4 1h0m-2-2h0m-1-2h0m-1 0h0m0 4h0m-2-1h0m-4 2h0m-33-4h0m-1-1h0m-3 2h0m-6 0h0m-8 7h0m3-2h0m3 3h0m0 3h0m4 0h0m49-5h0m3 2h0m2 1h0m1-4h0m2 5h0m4 14h0m-7 0h0m-2-9h0m0 5h0m-2 1h0m-43 2h0m-6-3h0m0-1h0m-1 0h0m-2-3h0m-3 2h0m-2 5h0m-5-8h0m4 14h0m2 3h0m6 1h0m0-4h0m1-1h0m3 2h0m0 4h0m1-7h0m1 1h0m55-3h0m-3 11h0m-2 5h0m-1-6h0m-1 2h0m0-1h0m-1 5h0m0-5h0m-1-1h0m-2 2h0m-5 6h0m-5-2h0m-9 1h0m-3-3h0m-1 0h0m0 3h0m-1 2h0m-3-1h0m0 0h0m-3-4h0m-3-1h0m-4 2h0m-3-3h0m0 4h0m-2 1h0m-2-5h0m-1 0h0m-5-2h0m-3 18h0m17-6h0m20 0h0m2-2h0m0 1h0m2 0h0m5 6h0m4-7h0m8 7h0m-5 6h0" stroke="#4173b3" stroke-width="2.4"/>
<path d="M417 159h0m-30 7h0m10 1h0m1 1h0m1-3h0m0-2h0m0 4h0m1-4h0m2 1h0m1 2h0m0 2h0m5 0h0m4-6h0m3 2h0m1 5h0m1-4h0m1-1h0m2-1h0m0 6h0m6-1h0m2 0h0m1 1h0m3 0h0m0-4h0m3 0h0m4 1h0m1-1h0m3 2h0m2 2h0m1 0h0m4-5h0m0 0h0m1 3h0m11-2h0m-1 8h0m-5 0h0m-3 3h0m-3-1h0m-1-3h0m-2 1h0m-1-3h0m-7 0h0m-2 1h0m-1 0h0m-1-1h0m-1 2h0m0 7h0m-1-7h0m-6-2h0m0 0h0m-1 0h0m-11 0h0m-17 1h0m-3 0h0m-4 1h0m-2 2h0m-2 1h0m-3 0h0m-2 2h0m-1-2h0m-1-1h0m0 0h0m-1 1h0m-3 4h0m-1-2h0m-14 9h0m5-3h0m1 4h0m0-5h0m2 2h0m0 3h0m1-1h0m1-3h0m2-1h0m0 0h0m0-1h0m1 0h0m0 2h0m72-2h0m2-1h0m6 0h0m-87 11h0m-3-1h0m-2 3h0m-1-3h0m-4 2h0m0 4h0m-1 0h0m-1 2h0m0-4h0m0 3h0m-1 2h0m-6 5h0m2 0h0m0 5h0m5-8h0m0 2h0m-8 9h0m-2-2h0m-2 1h0m0 5h0m-1-2h0" stroke="#4173b3" stroke-width="2.4"/>
<path d="M316 238h0m-3-1h0m-3 0h0m-2-1h0m-9 10h0m2-2h0m1 1h0m2 0h0m1 1h0m2-4h0m1-2h0m4 3h0m3 1h0m1-4h0m6 4h0m2 2h0m2 0h0m20 11h0m-1 2h0m-1-2h0m0 0h0m-4-2h0m0 1h0m-1 1h0m-1-4h0m-8-1h0m-1-1h0m-1 0h0m0-1h0m-5 1h0m-17 2h0m-2-3h0m-2 2h0m0 6h0m-1-5h0m-2 5h0m3 5h0m0 4h0m3 1h0m2-3h0m32-4h0m3 3h0m2-4h0m2 0h0m3 3h0m1 6h0m1-1h0m1-5h0m2 5h0m1-5h0m0 6h0m0-4h0m1 3h0m0 1h0m3-1h0m-1 2h0m-1 1h0m0 3h0m0 4h0m-1 1h0m-1-9h0m-4 1h0m-43 1h0m-1 6h0m-3-5h0m0 5h0m-2-4h0m0 4h0m-2-2h0m0 4h0m3 7h0m3 0h0m1-3h0m0-4h0m0 4h0m1-3h0m1 1h0m0 6h0m37 0h0m3-1h0m4 0h0m5-3h0m-11 8h0m-3 4h0m-1-2h0m0 4h0m-5 0h0m-1 1h0m-18-2h0m-5-4h0m-2 0h0m0 2h0m-2-3h0m-1 0h0m-1 7h0m0-6h0m12 7h0m5 1h0m0-1h0m1 2h0m9-1h0m6 1h0" stroke="#d7302b" stroke-width="2.4"/>
<path d="M436 169h0m4-2h0m4 0h0m-7 10h0m-3-2h0m-1 1h0m-3-1h0m-2-3h0m-1 3h0m-1 1h0m0-4h0m-3 17h0m3-5h0m3 3h0m1-7h0m0 7h0m1-7h0m0 9h0m1-5h0m2-2h0m1-1h0m1 6h0m3-7h0m2 0h0m1 8h0m1-8h0m0 9h0m1-2h0m0-1h0m1-3h0m1 5h0m1-6h0m-2 10h0m0 5h0m0-5h0m-4 1h0m0-2h0m-3 1h0m-1 4h0m0-4h0m-6 1h0m-1 0h0m-1-3h0m-1 9h0m-1-9h0m-2 3h0m0 2h0m0 6h0m1 6h0m1-1h0m1 2h0m3-7h0m4 4h0m1-3h0m0 0h0m1 1h0m0 1h0m1 0h0m3 1h0m1 3h0m0-6h0m4 6h0m0-7h0m1 1h0m-2 13h0m-1-1h0m0 2h0m-4-6h0m-2 9h0m-1-5h0m-4-3h0m0 2h0m0-2h0m-3 5h0m-1-4h0m-2 2h0m-4-2h0m3 11h0m1 1h0m1-3h0m1 3h0m2 3h0m4-4h0m2-2h0m1 4h0m1-1h0m2-2h0m0 4h0m2-3h0m0 2h0m1 3h0m0-8h0m0 10h0m-2 8h0m-1-8h0m-2 8h0m-1-3h0m0-3h0m-1-1h0m0-1h0m0 7h0m-1-3h0m0 0h0m-3-1h0m-2 0h0m-1 4h0m-1-4h0m0-1h0m-1 5h0m0-7h0m-2 0h0m-1 5h0m-1-4h0m1 12h0m2-1h0m1 0h0m7-2h0m3 0h0m4 5h0m1 3h0m0-2h0m0 0h0m1 5h0m0 8h0m0-8h0m-5-1h0m-3 6h0m-1-3h0m0 0h0m-3-2h0m0 4h0m-1 1h0m-4 1h0m0-2h0m-2 2h0m0-3h0m2 10h0m4 1h0m2-4h0m0 0h0m1 5h0m1-3h0m1 2h0m2 0h0m0 4h0m1-5h0m0 4h0m0-3h0m1-2h0m4-1h0m1 4h0m1-5h0m0 5h0m0 10h0m-2-4h0m0 2h0m-2-4h0m-6 0h0m-1 2h0m-2-2h0m0 0h0" stroke="#4173b3" stroke-width="2.4"/>
<path d="M278 48h0m1 0h0m5 9h0m0 2h0m-2-6h0m0 5h0m-2-2h0m0-4h0m5 9h0m1 3h0m7 15h0m-1-4h0m-1-3h0m0 6h0m-2-8h0m6 11h0m3 7h0m3 4h0m0 3h0m-2-3h0m7 12h0m1-1h0m0 4h0m2-3h0m0 12h0m3 6h0m1 4h0m2-3h0m8 15h0m-1-2h0m-4-1h0m6 6h0" stroke="#4173b3" stroke-width="2.4"/>
<path d="M278 49h0m3 3h0m8 19h0m-1 2h0m8 7h0m6 19h0m3 9h0m11 19h0m7 11h0" stroke="#f0812f" stroke-width="2.4"/>
<path d="M301 218h0m-4-1h0m1 10h0m1-1h0m2-1h0m2 4h0m0-2h0m0-7h0m1 2h0m1 3h0m0 3h0m2-2h0m3 3h0m10 7h0m-2 0h0m-1 0h0m-1 3h0m-1-1h0m-1-5h0m0 1h0m0 1h0m-3 1h0m0-3h0m-1-2h0m0 3h0m-1 3h0m0-6h0m0 1h0m0 5h0m-1-7h0m0 4h0m-2 3h0m0-4h0m-2 0h0m-1 6h0m-2-9h0m0 2h0m0 7h0m-1-2h0m0-5h0m0 2h0m0 1h0m-1 6h0m0 3h0m3 4h0m1-4h0m1 4h0m0-2h0m2-3h0m0 0h0m0 5h0m2 0h0m1 0h0m0-7h0m1 3h0m0-2h0m1 2h0m1 4h0m0-5h0m2 0h0m1 5h0m1-3h0m1-3h0m0 0h0m3-2h0m2 5h0m0-5h0m1 1h0m0 1h0m1-1h0m0 8h0m3-1h0m0-4h0m0-2h0m3 6h0m5 0h0m5 1h0m13 8h0m-1-2h0m-1 1h0m0 2h0m-1 0h0m0 0h0m-2 1h0m-3-5h0m-1 1h0m-2 0h0m-1 4h0m0-9h0m0 9h0m-1-3h0m-1 3h0m0-3h0m0-1h0m0 1h0m-3 3h0m-2-5h0m-2 0h0m-1-4h0m-1 1h0m-1 0h0m-1 5h0m0-2h0m-1-2h0m0 6h0m-1-4h0m-1-4h0m-1 9h0m-3-9h0m0 1h0m0-1h0m-5 5h0m0 3h0m0-5h0m-2 2h0m0-4h0m0 7h0m-3-4h0m0 5h0m0-9h0m-1 3h0m-2-1h0m-1 3h0m0 4h0m0-7h0m-2-2h0m-1 7h0m0-6h0m0 1h0m-1 1h0m0 4h0m-1 2h0m0-7h0m-1 7h0m0-7h0m0 5h0m-1 0h0m0-6h0m-2 1h0m2 12h0m2-1h0m0 4h0m2-3h0m0-2h0m0 6h0m1-1h0m3-2h0m1-4h0m1-1h0m1 4h0m1 5h0m0-3h0m0-4h0m0 0h0m2 2h0m0 3h0m1 1h0m1-8h0m2 3h0m0 1h0m1-3h0m1 8h0m1-3h0m2 1h0m2 1h0m0 1h0m0-3h0m3-6h0m3 0h0m0 3h0m3 0h0m1-2h0m0-1h0m0 6h0m1-5h0m0 7h0m1-4h0m1-2h0m1 4h0m0-6h0m1 0h0m0 4h0m2 0h0m0 0h0m1-1h0m0 5h0m1-8h0m0 2h0m0 2h0m0 2h0m1-5h0m0 7h0m0-6h0m2 4h0m1 3h0m0-2h0m1-5h0m3-2h0m1 9h0m1 0h0m4-7h0m2 7h0m0-6h0m1 5h0m1-4h0m0 1h0m1-4h0m0 5h0m1 3h0m3-7h0m1 7h0m1 0h0m1 4h0m0 3h0m-1-4h0m-1 4h0m-2 0h0m0-4h0m0-2h0m-1 9h0m0-7h0m-1 4h0m0 1h0m0-1h0m0 1h0m-1-4h0m-2 2h0m0 2h0m0-1h0m-1-1h0m-2-5h0m0 9h0m0-7h0m0 7h0m-1-7h0m-2 4h0m-1 0h0m-2-1h0m0-2h0m0 0h0m0 5h0m-1-7h0m-1 5h0m0-1h0m-1 2h0m-1-1h0m0 0h0m-1-5h0m0 3h0m-4 1h0m-1 0h0m0-3h0m-2 7h0m-1-8h0m0 3h0m0-4h0m-1 9h0m-2-6h0m0 4h0m0-7h0m-1 9h0m0-7h0m-2 0h0m-1 6h0m-2-4h0m0 1h0m-2-1h0m0 0h0m-1-4h0m-1 2h0m0 4h0m0-6h0m-1 4h0m0 4h0m-1-1h0m-1 2h0m0-7h0m-1-1h0m-1 6h0m-2-5h0m-2 5h0m-2 0h0m0 0h0m-1-6h0m-1 4h0m-2-5h0m0 4h0m-1 1h0m-2-4h0m0 4h0m0-1h0m-3-1h0m0 0h0m-1 3h0m-2-3h0m2 11h0m2-2h0m0 0h0m0 0h0m1 3h0m0 3h0m1-5h0m1 2h0m0-5h0m0 9h0m0-6h0m2 1h0m1-4h0m2 9h0m0-2h0m1-3h0m0-1h0m2-2h0m4 7h0m1 1h0m0-8h0m2 0h0m0 2h0m3 6h0m0-7h0m1 0h0m0 1h0m1 0h0m0 1h0m1 5h0m0-3h0m0 3h0m1-6h0m1 0h0m1-1h0m0-2h0m1 5h0m0-4h0m0 8h0m2-8h0m1 2h0m1 5h0m0-7h0m0-1h0m2 2h0m1 5h0m1-1h0m0 3h0m2-2h0m1-4h0m2 6h0m0-6h0m1 1h0m0 3h0m0 2h0m0-8h0m1 5h0m1 3h0m0-6h0m1 4h0m1 1h0m0-8h0m0 3h0m1 0h0m0 4h0m0 2h0m1-5h0m1 2h0m1-4h0m1-1h0m1 8h0m1-9h0m0 0h0m0 1h0m1 7h0m1-7h0m2 0h0m2 2h0m2-3h0m1 0h0m-13 12h0m-2-1h0m-1 1h0m0 1h0m0 0h0m-3-2h0m-1 2h0m-1 4h0m-1 0h0m-1-6h0m-2 6h0m-3 1h0m-2-3h0m-1 0h0m-3-4h0m0 6h0m-1-6h0m0 7h0m-1-8h0m0 3h0m0 0h0m-1 1h0m0 4h0m-1-2h0m-2-5h0m0 8h0m-3-9h0m0 7h0m-1 1h0m0-8h0m-2 0h0m-1 6h0m0 1h0m0-5h0m0 1h0m-1 1h0m0 5h0m-1-7h0m0 4h0m-1 0h0m0-3h0m0-3h0m-1 8h0m-1-7h0m0 5h0m0-1h0m-1-3h0m0 4h0m0 3h0m-1-7h0m0 1h0m-2 0h0m-1-2h0m-1 0h0m0 5h0m-1-4h0m-1-1h0m0 0h0m-2 0h0m12 12h0m2 2h0m3-5h0m0 4h0m0-2h0m1 3h0m1-4h0m2 0h0m2 0h0m1 1h0m1-1h0" stroke="#d7302b" stroke-width="2.4"/>
<path d="M277 47h0m1 0h0m2 11h0m0 1h0m-1-7h0m0 5h0m0-5h0m0 4h0m-1 0h0m-1-3h0m0 0h0m0 14h0m2-3h0m0-4h0m0 4h0m0-4h0m0 7h0m0-3h0m1-1h0m0 6h0m0-2h0m3 10h0m-1-3h0m0 4h0m-3-3h0m0-2h0m0 16h0m0-6h0m0-3h0m1 7h0m0-5h0m1 7h0m0-6h0m1-1h0m0 4h0m1-1h0m1 1h0m0 0h0m1 11h0m-1-3h0m0 3h0m-1 1h0m0 0h0m-1-8h0m0 6h0m0-5h0m-1 1h0m0 4h0m-1 1h0m5 10h0m0 1h0m0-5h0m3 14h0m0 1h0m-1-4h0m-1-1h0m0 3h0m-2-6h0m-2 2h0m-1 4h0m4 13h0m2-5h0m1-3h0m0 2h0m1 6h0m0-9h0m4 18h0m-2 1h0m-1-4h0m-1 3h0m0-5h0m0-3h0m-3 7h0m-1 2h0m2 5h0m0-4h0m1 2h0m0 6h0m0-3h0m2-4h0m0 8h0m1-5h0m1 1h0m0 0h0m1-1h0m1 15h0m-2-8h0m-3 5h0m0-6h0m-1 2h0m-1 0h0m0-2h0m1 12h0m1 7h0m1-5h0m1 3h0m1-7h0m1 6h0m0-2h0m1 2h0m3 3h0m2 5h0m-6 2h0m0-4h0m0 7h0m-1-3h0m0-6h0m-2 8h0m1 2h0m0 3h0m3 3h0m1-4h0m1 2h0m0 1h0m0-5h0m3 9h0m3 8h0m-2-1h0m-1-3h0m-1-2h0m-1 4h0m0-1h0m-2 3h0m0-2h0m-2-3h0m0 0h0m-2 5h0m-2-6h0m2 16h0m1 2h0m1-3h0m0-3h0m1 0h0m0 5h0m0 0h0m1-4h0m1-3h0m2 8h0m1-9h0m2 1h0m1 8h0m-1 3h0m-1 2h0m0 0h0m0 0h0m-1-2h0m-1 4h0m-1-2h0m-2-1h0m-2-3h0m-2 3h0m5 8h0m0-1h0m5 2h0" stroke="#d7302b" stroke-width="2.4"/>
<path d="M418 260h0" stroke="#d7302b" stroke-width="2.4"/>
<path d="M305 206h0m6 0h0m1-6h0m10 12h0m-3 11h0m9-3h0m15 3h0m6 10h0m15 22h0m-8 2h0" stroke="#f0812f" stroke-width="2.4"/>
<path d="M478 197h0m-27 19h0m7 34h0" stroke="#d7302b" stroke-width="2.4"/>
<path d="M422 179h0m14 19h0m-5-3h0m-4 0h0m1 21h0m-3 0h0m18 10h0m-17 16h0m7 5h0m5-7h0m-7 15h0m-5 3h0m1 12h0" stroke="#f0812f" stroke-width="2.4"/>
<path d="M356 288h0m6-1h0" stroke="#4173b3" stroke-width="2.4"/>
<path d="M410 177h0m-36-2h0m-21 2h0m3 5h0m31-1h0m9 5h0m3 1h0m13-2h0m11 13h0m-28-2h0m-2 0h0m-2-2h0m0-4h0m-5 2h0m-3 7h0m-1-4h0m-4 1h0m-17-2h0m-3-1h0m-3 1h0m-4-2h0m-1 0h0m6 15h0m3-3h0m3 1h0m12 0h0m16 2h0m10 2h0m0-8h0m9 5h0m9-6h0m0 17h0m-3-3h0m-9-4h0m-2 7h0m-10-3h0m-7 0h0m-3 5h0m-22-7h0m-6 2h0m-3 4h0m12 6h0m6-3h0m7 7h0m0-1h0m16-4h0m15-1h0m11-1h0m9 0h0m5 3h0m-14 7h0m-1 8h0m-10-9h0m-10 7h0m-6 2h0m-2-5h0m-1-3h0m-16 4h0m-3 0h0m-4-1h0m-4-3h0m-2-1h0m7 10h0m12 0h0m4 3h0m7 6h0m2-5h0m1 0h0m15 1h0m4-4h0m3 6h0m1-7h0m6 1h0m5 0h0m7 6h0m-17 6h0m-9-1h0m-5 0h0m-7 2h0m-1 0h0m-7-3h0m-14 3h0m0-1h0m-3 6h0m8 10h0m3-1h0m9-8h0m2 7h0m9-5h0m0 3h0m24-3h0m-2 8h0m-32 4h0m0 1h0m-12 4h0m15 8h0m5-7h0" stroke="#4173b3" stroke-width="2.4"/>
<path d="M403 167h0m8-2h0m5 0h0m1 3h0m3-2h0m0 3h0m13 0h0m11-3h0m1-4h0m16 10h0m-4 5h0m-4-2h0m-19-5h0m-7 1h0m-2 0h0m-9-1h0m-1 2h0m-10-2h0m-1 0h0m-6 0h0m-3 1h0m-5 2h0m-1-1h0m-1 4h0m0-3h0m-7 5h0m-4-4h0m-5 4h0m-9 7h0m2-1h0m1 5h0m0-5h0m4-1h0m1-2h0m1-1h0m4 1h0m63 0h0m8 0h0m1 0h0m-87 12h0m0 0h0m-1-1h0m0 3h0m-2-1h0m-10 15h0m3-1h0m5-6h0m-9 8h0m-1 0h0" stroke="#f0812f" stroke-width="2.4"/>
<path d="M283 73h0m4 39h0m27 20h0m-4 7h0m-6-9h0m-8 6h0m6 5h0m9-1h0m-16 15h0m-2 2h0m25 4h0m-16 12h0m-7 4h0m19 9h0" stroke="#f0812f" stroke-width="2.4"/>
<path d="M451 169h0m5-4h0m3 0h0m0-2h0m3 1h0m0-2h0m6 1h0m5 3h0m1-2h0m0 0h0m2 3h0m2-6h0m0 4h0m4 1h0m4 3h0m4-3h0m1 2h0m0 0h0m10 11h0m-2-2h0m-2 1h0m-1-2h0m-1-3h0m-2 6h0m0-4h0m-50-2h0m2 16h0m51-7h0m1-1h0m2 6h0m1-5h0m1 5h0m1-3h0m1 1h0m0 2h0m1 2h0m8 10h0m-1-4h0m-3 2h0m0 1h0m-1-2h0m0 0h0m-1-5h0m-1-1h0m-1 2h0m-56 7h0m-3 2h0m3 1h0m62 2h0m0-3h0m0-1h0m1 7h0m3 2h0m6 3h0m-3 2h0m0 0h0m-1-4h0m3 15h0m0 1h0m1-6h0m0 9h0m0-6h0m5 6h0m2 1h0m-4 0h0m0 2h0m-1-2h0m-75 1h0m1 15h0m79 0h0m0-4h0m3 0h0m1 2h0m3 7h0m-1 0h0m-1 1h0m-1-2h0m-84 3h0m-1 5h0m-1 9h0m4-5h0m34 5h0m2 0h0m0 2h0m52-1h0m1-2h0m1 0h0m1 3h0m2 3h0m-2 5h0m-1-5h0m-2-1h0m-33 7h0m-1 0h0m0-2h0m-1-1h0m-1-4h0m-2 3h0m0 5h0m-2-6h0m-4-1h0m-3 2h0m-1-4h0m0 0h0m-6 0h0m-4 1h0m-1-1h0m-2 0h0m-3 1h0m-3 2h0m-9 0h0m-7 4h0m-2-3h0m60 8h0m1-2h0m2 6h0m1 0h0m1 3h0m0-3h0m2 1h0m20 2h0m4-8h0m5 0h0m-4 12h0m-1-3h0m-3 3h0m-2-1h0m-1 3h0m-5 2h0m-2-2h0m-1-3h0m-7-2h0" stroke="#4173b3" stroke-width="2.4"/>
<path d="M284 59h0m1 3h0m1 4h0m7 12h0m-3-4h0m9 22h0m7 11h0m3 5h0m0 8h0m7 7h0m1 3h0" stroke="#d7302b" stroke-width="2.4"/>
<path d="M275 48h0m4 1h0m-1 18h0m2 12h0m-1 7h0m1-4h0m2 8h0m1 15h0m0 1h0m6 13h0m-3 0h0m-1-3h0m-1 14h0m1 14h0m6 10h0m-3 5h0m11 36h0m-5-2h0m-5 12h0m8 4h0m2-2h0m10 7h0m-7 0h0m-10 2h0" stroke="#f0812f" stroke-width="2.4"/>
<path d="M278 53h0m0 9h0m2 23h0m4 13h0m-1 7h0m2 12h0m2 3h0m7 27h0m-1 6h0m-7 3h0m7 5h0m-1 10h0m-2-1h0m6 19h0m3 3h0m-2 3h0m-4 28h0" stroke="#4173b3" stroke-width="2.4"/>
<path d="M287 85h0m1 3h0m5 5h0m-4 3h0m-3-5h0m0 18h0m1-3h0m13-2h0m4 11h0m-11 4h0m0-4h0m-2-2h0m-1 0h0m0 16h0m2-5h0m3-1h0m1 3h0m1-4h0m10 6h0m9 8h0m-2-5h0m-1 0h0m-1 1h0m0 5h0m-3-4h0m-5 6h0m-1-1h0m0 0h0m0-2h0m-1-1h0m-10 3h0m-2-4h0m0 9h0m6-2h0m0 8h0m11-3h0m1 3h0m3-5h0m2-3h0m0 4h0m2-5h0m1 7h0m3 0h0m0 3h0m-7 4h0m-1-1h0m-4 3h0m-7-2h0m6 13h0m4-2h0m4 3h0m6 2h0m-2 2h0m-2 4h0m-2-2h0m-9 0h0m-3-2h0m-3 1h0m0 9h0m3 1h0m5 5h0m1-1h0m8-4h0m-12 12h0m-1 0h0m-2 14h0" stroke="#d7302b" stroke-width="2.4"/>
<path d="M460 195h0m-8 11h0m0-1h0m-6 22h0m0-3h0m57 14h0" stroke="#f0812f" stroke-width="2.4"/>
<path d="M323 218h0m-1-6h0m-12 2h0m2 14h0m19-2h0m-6 5h0m-1 8h0m19 5h0m23 10h0m-9-3h0" stroke="#4173b3" stroke-width="2.4"/>
<path d="M466 187h0m16 12h0m-4-6h0m-3 3h0m-3 2h0m-2-5h0m-2 5h0m-1-4h0m-1-2h0m0-1h0m-1 7h0m0-8h0m-2 6h0m0-3h0m-1 4h0m0-6h0m-7 8h0m-8 8h0m1-3h0m2 5h0m0-4h0m1-3h0m14 0h0m0-1h0m1-1h0m0 0h0m0 0h0m1 7h0m9-1h0m0-6h0m3 2h0m2 6h0m1 1h0m4-8h0m1 5h0m2 1h0m1 2h0m2 5h0m-3 2h0m-1-1h0m0 0h0m0-4h0m0 0h0m-3 1h0m-1 2h0m-1-3h0m0-1h0m-3 0h0m-1 2h0m-1 4h0m0 0h0m-4-6h0m-2 0h0m-2 4h0m-3 2h0m-1 1h0m-4 1h0m-3 0h0m-1-5h0m-2 6h0m-3-3h0m-1-3h0m-1-1h0m0 2h0m-1 4h0m-6 5h0m2 2h0m2-5h0m2 1h0m1 4h0m1-4h0m3-1h0m6 0h0m1 1h0m0-1h0m1 4h0m0-3h0m1 2h0m0 6h0m2 0h0m9 0h0m3-8h0m1 8h0m2 0h0m1-3h0m5 1h0m3-2h0m1 2h0m0 2h0m1-1h0m1-3h0m1 2h0m1-3h0m1 2h0m1 1h0m1-4h0m3 13h0m0 3h0m0 0h0m-2-2h0m0-5h0m-6 7h0m-3-7h0m-1 5h0m-3-6h0m-1 0h0m-3 2h0m0 0h0m-2-2h0m-1 6h0m0-6h0m-1-1h0m-3 4h0m-5 2h0m-3 2h0m0-1h0m-2-1h0m-4-2h0m-1-3h0m-6 2h0m-2 4h0m-1-5h0m0 4h0m-3 2h0m-1-6h0m0 1h0m0-1h0m-1 1h0m-2 4h0m2 6h0m0 5h0m4-8h0m8 1h0m4 2h0m1 2h0m0-3h0m1 2h0m1 5h0m2-1h0m1-2h0m1-1h0m3 4h0m6-9h0m0 1h0m1 6h0m3 1h0m3-5h0m1-1h0m8 2h0m2 4h0m0 0h0m2-8h0m2 5h0m2-2h0m1-2h0m1 15h0m-1-6h0m0 7h0m-1-7h0m0 5h0m-1-1h0m-2 4h0m-1-4h0m-4 5h0m0-8h0m0-1h0m0 5h0m-1-1h0m-1-4h0m-1 9h0m-3-2h0m-1-5h0m0-2h0m-2 3h0m0 2h0m-1 1h0m-2-6h0m-2 2h0m-9-2h0m-1 3h0m0 1h0m-4-4h0m0 1h0m-8 2h0m-1 0h0m0 3h0m0 1h0m0-5h0m-2 1h0m-5-1h0m43 8h0m1 0h0" stroke="#4173b3" stroke-width="2.4"/>
<path d="M340 257h0m-3-6h0m-19 3h0m-7-2h0m-9 16h0m28-7h0m11 8h0m12-1h0m3-7h0m-16 9h0m-35 7h0m3 8h0m46 3h0m1 4h0m0-2h0" stroke="#4173b3" stroke-width="2.4"/>
<path d="M439 290h0m-4 21h0" stroke="#d7302b" stroke-width="2.4"/>
<path d="M307 228h0m5 1h0m-7 16h0m9-4h0m13 8h0m2-2h0m2 0h0m23 10h0m-7-3h0m-12-3h0m-1 1h0m-3 2h0m-13-3h0m-3 7h0m0-7h0m-7 7h0m-7 6h0m3 5h0m7 0h0m14-7h0m2 3h0m12 1h0m3-4h0m2 4h0m8 1h0m-1 11h0m-7-8h0m-1 1h0m-5 4h0m-19 3h0m-2-1h0m-5 0h0m-7-2h0m0 4h0m-3-4h0m9 7h0m4-1h0m2 4h0m22-1h0m1-3h0m12 7h0m0-5h0m8-2h0m2 1h0m2 7h0m1-5h0m-31 10h0m-3-2h0m-2 6h0m-3-4h0m-14-3h0m8 9h0m14 2h0" stroke="#f0812f" stroke-width="2.4"/>
<path d="M324 150h0m-24 51h0" stroke="#3aa457" stroke-width="2.4"/>
<path d="M358 258h0m-7 1h0m-1-1h0m-2 1h0m-1 9h0m1-2h0m3 3h0m3-5h0m0 1h0m4-3h0m1 6h0m3 0h0m1-4h0m1 5h0m1-2h0m3 10h0m-4-3h0m-4-3h0m0 3h0m-9 5h0m-1-3h0m0-4h0m-7 2h0m8 10h0m0 0h0m1 4h0m3-8h0m3 7h0m1-4h0m3 0h0m3 0h0m1 3h0m2-3h0m-17 7h0m-3 0h0" stroke="#f0812f" stroke-width="2.4"/>
<path d="M300 221h0m0 17h0m2 4h0m27 3h0m0 7h0m-6 6h0m-14-3h0m0-5h0m51 19h0m1-7h0m3 1h0m-2 15h0m-19 10h0m2 0h0m19-8h0m-14 11h0m-2 1h0m-2 5h0m-20-3h0m0-1h0" stroke="#4173b3" stroke-width="2.4"/>
<path d="M288 97h0m-2 20h0m11 3h0m10 1h0m-3 18h0m-9-1h0m-3 10h0m29 11h0m-1-6h0m-24 9h0m18 3h0m5-4h0m-20 17h0m0-8h0m0 11h0m6 3h0m13-3h0m-13 18h0m-4-7h0m-1 14h0m9-6h0" stroke="#f0812f" stroke-width="2.4"/>
<path d="M458 186h0m12 0h0m2 0h0m20 12h0m-7-2h0m-3-1h0m-1 2h0m-7-4h0m0-1h0m-1 3h0m-1-1h0m0 1h0m0 0h0m-3-4h0m-4-1h0m0 9h0m-2-5h0m0-1h0m-6 0h0m-3 4h0m-1-6h0m-4 7h0m-12 11h0m0 0h0m7-4h0m3 2h0m5-1h0m1-2h0m5-2h0m7-1h0m9-1h0m7 1h0m2 6h0m3 2h0m5 0h0m7 9h0m-3-5h0m0 3h0m-2-2h0m0 0h0m-6 0h0m-4-4h0m-31 2h0m0-1h0m-13 4h0m6 5h0m1 2h0m0 7h0m4-9h0m3 1h0m40 0h0m3 6h0m1 2h0m5-5h0m1 5h0m-5 4h0m0 6h0m-57-4h0m-2-2h0m1 11h0m2-4h0m2 1h0m4 3h0m3 5h0m5-8h0m47 4h0m8-3h0m-1 16h0m-6-8h0m-1 0h0m-1 8h0m-2-1h0m-4-7h0m-4 4h0m-1 4h0m-4-1h0m-6-7h0m-2 3h0m-3 4h0m0 1h0m-6 0h0m-1-1h0m-1-2h0m0-4h0m-5 0h0m-3 0h0m-1 4h0m-4 3h0m-1-6h0m-3 3h0m0-4h0m-2 5h0m-1-6h0m5 16h0m13-3h0m21-1h0m1 7h0m6-8h0" stroke="#4173b3" stroke-width="2.4"/>
<path d="M346 268h0m1 0h0m8 0h0m0 11h0m-12-9h0m6 12h0m5 7h0m1-6h0m14-3h0" stroke="#d7302b" stroke-width="2.4"/>
<path d="M412 179h0m-27-4h0m-31 8h0m32 3h0m10 2h0m2 1h0m2-7h0m11 7h0m10 3h0m-4-1h0m0 3h0m-4-3h0m-12 2h0m0 0h0m-1 6h0m-4-5h0m-2 5h0m-14-2h0m-7 1h0m-4-5h0m-3 0h0m-2 6h0m-7-5h0m12 8h0m18 5h0m9 1h0m37 7h0m-5-3h0m-26 0h0m-4 6h0m-1-8h0m-6 4h0m-7-1h0m-2 4h0m-1-7h0m-22 0h0m-2 9h0m21 4h0m51 4h0m4-1h0m-19 12h0m-30 1h0m-3 0h0m-3-1h0m-6-1h0m-16 4h0m22-1h0m1 3h0m1-1h0m17 1h0m3 6h0m10-1h0m8 0h0m0 0h0m9 3h0m-18 5h0m3 4h0m6 14h0m-16-4h0m-8 6h0m-8-5h0m-9 3h0m17 10h0m9-4h0" stroke="#f0812f" stroke-width="2.4"/>
<path d="M284 88h0m0 7h0m-1 4h0m-1 3h0m7 37h0m-1-7h0m3 12h0m-6 17h0m11 17h0m2 2h0m-1 23h0m1 13h0" stroke="#4173b3" stroke-width="2.4"/>
<path d="M300 219h0m11 20h0m-8 0h0m-4-3h0m-2 1h0m41 16h0m-3-1h0m-17 7h0m-2-3h0m-9 1h0m-8-5h0m2 13h0m2-3h0m31 4h0m8-1h0m22 7h0m-21-1h0m-19 2h0m-15-3h0m-3 6h0m1 5h0m11 1h0m3 4h0m0-5h0m4 0h0m0 0h0m22 0h0m14 1h0m-18 15h0" stroke="#f0812f" stroke-width="2.4"/>
<path d="M450 169h0m6 0h0m3-1h0m3 1h0m3-5h0m1 0h0m0 5h0m2-2h0m4-2h0m0 3h0m6-4h0m1 2h0m0 1h0m0-5h0m2 5h0m0-3h0m0 1h0m2-1h0m0 0h0m2 1h0m4 3h0m1-1h0m8 11h0m-1-1h0m-3 1h0m0 1h0m-1-4h0m-1 3h0m-1-4h0m-1 4h0m0-8h0m-1 5h0m0 4h0m0-6h0m-1 0h0m-5 0h0m0 3h0m0 1h0m0 2h0m-1-1h0m-1-3h0m-1-2h0m-1-3h0m0 1h0m0 6h0m0-1h0m-1-6h0m0 6h0m0 3h0m-4-3h0m0 2h0m-2-6h0m0 2h0m-1-4h0m-1 9h0m-2-1h0m-1-6h0m0 7h0m0-9h0m0 0h0m-1 2h0m-1 5h0m-1 0h0m0-4h0m-2 5h0m-2-2h0m-1 0h0m-4-4h0m-2-1h0m-1 7h0m-3 0h0m-3-7h0m0-1h0m4 14h0m0 4h0m1-2h0m4-4h0m0 1h0m3-3h0m4 2h0m0-2h0m3 4h0m3-4h0m1 0h0m3 8h0m0-4h0m0 0h0m2-1h0m1 0h0m0 1h0m1 4h0m2-8h0m2 0h0m2 6h0m1-1h0m1 3h0m1-1h0m2-5h0m1-1h0m1 3h0m1 3h0m0-7h0m1 6h0m1 1h0m5-4h0m0 4h0m3 0h0m0-2h0m1 0h0m0 2h0m0-5h0m1-2h0m1 7h0m3 1h0m0 0h0m4 8h0m-4-4h0m0 1h0m-1 4h0m0-5h0m-1 4h0m-2-3h0m0-2h0m-2-1h0m-3 6h0m0-3h0m0-2h0m-1 1h0m0 0h0m0 3h0m-1-1h0m-4-1h0m0 4h0m0-3h0m-2-4h0m-1 7h0m-2-4h0m-1-1h0m0 2h0m-3-2h0m-7 0h0m-15-2h0m-8 0h0m-3 2h0m41 12h0m0-2h0m1-2h0m0 6h0m1 1h0m1 2h0m1-9h0m0 0h0m1 4h0m2 4h0m0-4h0m2 4h0m0-3h0m1 0h0m0-2h0m0 2h0m0-5h0m1 4h0m1 0h0m2 3h0m1 2h0m1-3h0m2 2h0m0-5h0m1-3h0m1 6h0m1-3h0m2 3h0m0-4h0m4 16h0m-1-2h0m-1-2h0m-3 4h0m-1 1h0m-2-9h0m-2 3h0m-2 6h0m0-8h0m-2 6h0m-1 2h0m-1-7h0m-1 5h0m-1-5h0m-54 1h0m54 9h0m1 4h0m0-2h0m0-1h0m2 5h0m1 1h0m1-9h0m0 7h0m1 0h0m0-2h0m1 0h0m1 2h0m0-7h0m1 3h0m0 0h0m0-2h0m1 5h0m1 3h0m2-8h0m1 2h0m1 2h0m0-1h0m3 4h0m0-3h0m1 3h0m0-5h0m0 3h0m2 1h0m0-5h0m0 4h0m3-3h0m4 14h0m-1 1h0m-1-1h0m-2-2h0m-1-4h0m-1 2h0m-1-3h0m0 5h0m0-3h0m-4-1h0m0 8h0m-1-5h0m0 5h0m-2-5h0m0-2h0m-1 2h0m-3 2h0m0 2h0m-1-7h0m-1 5h0m0-5h0m-1-1h0m0 0h0m-1 1h0m0 0h0m-1 7h0m-1-8h0m0 5h0m-1-4h0m5 16h0m1-6h0m2 2h0m2 0h0m1-2h0m5 6h0m2-3h0m1-2h0m0-2h0m0 6h0m1-2h0m0 3h0m0-7h0m1 2h0m1 7h0m1 0h0m0 0h0m3-4h0m1-2h0m1 4h0m0-3h0m1 1h0m1 3h0m4 6h0m-1-3h0m-1 6h0m-2-7h0m-1 6h0m-1-2h0m-1 3h0m0 2h0m-1-7h0m0 1h0m-2 4h0m0-6h0m-2 0h0m-1 4h0m-3 2h0m-1 1h0m0-1h0m-2-2h0m-1 0h0m-3-3h0m-1 0h0m-1-2h0m-1 6h0m0 1h0m-1-2h0m0-2h0m0 0h0m-1 0h0m-2 4h0m-1 2h0m0-1h0m-2 0h0m0 1h0m-22-3h0m-9 2h0m-17 0h0m-8-5h0m0-2h0m0 1h0m-2 4h0m0 9h0m6 2h0m1-6h0m5-1h0m9 5h0m3-1h0m0-2h0m1 4h0m0 2h0m3 1h0m0-2h0m0 0h0m1-3h0m0 2h0m1 2h0m2-5h0m1 4h0m0-2h0m0 0h0m2 1h0m1-6h0m1 4h0m0-2h0m0-2h0m1 9h0m0-8h0m1 8h0m1-3h0m1-5h0m0 3h0m0-2h0m1 4h0m0-3h0m1 5h0m1-3h0m1 2h0m0-5h0m1 4h0m1 0h0m0-3h0m1 0h0m1 4h0m3-2h0m0 3h0m3-2h0m0-5h0m1 1h0m1-1h0m0 6h0m0-7h0m3 5h0m0-2h0m0-3h0m1 4h0m0 1h0m2 0h0m0-2h0m0 4h0m3 2h0m0-8h0m2 8h0m0-3h0m1-5h0m1 8h0m1-7h0m0-2h0m1 1h0m1 2h0m3-2h0m0 1h0m1 5h0m0-2h0m1-4h0m2 1h0m1 1h0m1 6h0m1-4h0m0 4h0m1-4h0m2 4h0m0-5h0m1 0h0m0-1h0m0 0h0m3 6h0m1-4h0m7 11h0m0-2h0m-1 5h0m0-7h0m0 0h0m0 0h0m-1-2h0m0 8h0m-1 0h0m0-6h0m-1-2h0m-1 3h0m-4 0h0m0 1h0m-1-2h0m-1 2h0m0 2h0m-3-3h0m-1 3h0m0-2h0m-1 1h0m-1 1h0m-1-1h0m0 2h0m-1-6h0m-3 0h0m0 7h0m-1-1h0m0-1h0m0 1h0m-2-4h0m-1 3h0m-1-6h0m0 8h0m-1 0h0m-2-8h0m-3 4h0m-2-3h0m0 8h0m-1-5h0m0 2h0m-1-1h0m0 1h0m-1-3h0m-2 3h0m0 2h0m-2-5h0m-1-1h0m-1 2h0m-5-3h0m-3 1h0m-5-2h0m-4 0h0m-13 1h0m0 0h0m-3-1h0m-5 2h0m-2-1h0m0 4h0m0-2h0m-1 2h0m-1-3h0m-6 3h0m52 5h0m2 1h0m1 0h0m1 0h0m5 2h0m1-2h0m0 3h0m3-4h0m1 9h0m3-3h0m0 2h0m2-7h0m1 7h0m3-7h0m0-1h0m1 4h0m2-1h0m1 0h0m0-2h0m1-1h0m0 6h0m0 0h0m1-6h0m2 2h0m0-2h0m2 2h0m2 0h0m0 3h0m3 2h0m2-3h0m0 1h0m1-3h0m1 6h0m-1 7h0m-1-4h0m-4-1h0m0 5h0m-2 1h0m-1-1h0m-1-2h0m0 0h0m-1 1h0m-2-1h0m-3-2h0m0 3h0m-1-4h0m-2 2h0m-1-1h0" stroke="#4173b3" stroke-width="2.4"/>
<path d="M436 307h0" stroke="#d7302b" stroke-width="2.4"/>
<path d="M408 89h0m1-1h0m0-1h0m1 2h0m0-2h0m0 0h0m0 1h0m1-2h0m1 7h0m-1 2h0m-1 3h0m0-5h0m-1 2h0m0-3h0m0 7h0m0-1h0m-1-2h0m0 3h0m0-6h0m-1 0h0m-2 4h0m0 8h0m2 4h0m1-7h0m0-2h0m1 0h0m0 3h0m0 2h0m0 1h0m0-4h0m1 4h0m0-5h0m1 4h0m0-2h0m0 4h0m0-2h0m2-5h0m0 9h0m0-2h0m1-2h0m1-2h0m2 9h0m-2 3h0m-1-4h0m-1 4h0m-1-5h0m0 0h0m0 5h0m-1-2h0m0-3h0m-1 6h0m-1 3h0m0-6h0m-1 5h0m0 1h0m-1-4h0m-1-3h0m-1 3h0m-2-2h0m-3 12h0m1 0h0m4-3h0m1 3h0m0 2h0m0-5h0m3-1h0m3 0h0m0 7h0m1-6h0m3 6h0m0-4h0m1-2h0m7 12h0m-6 1h0m-1 2h0m0 1h0m-2-1h0m0 1h0m-1-2h0m-1-2h0m0 1h0m-1-3h0m0 5h0m-1 2h0m0-8h0m-1 1h0m-2 4h0m0-3h0m0 4h0m-2-3h0m0 5h0m-2-5h0m0 2h0m-2 3h0m0-1h0m-6 4h0m3 0h0m4 6h0m1-2h0m0 3h0m1-2h0m1-7h0m2 6h0m0 2h0m0-6h0m1-1h0m0 1h0m2 1h0m1-1h0m0 1h0m0 5h0m0-4h0m1-1h0m0 2h0m1-3h0m0 3h0m1-1h0m4 3h0m5-5h0m5 7h0m6 10h0m-6-3h0m-9-5h0m-4 2h0m-2-2h0m-1 3h0m-1 3h0m0-6h0m-1 4h0m-2-4h0m-1-1h0m0 3h0m-2 2h0m-1-2h0m-1 6h0m-1-3h0m0 1h0m-1 0h0m0-6h0m-1 4h0m0 3h0m-5 0h0m0-4h0m-5 3h0m2 6h0m1 0h0m3-3h0m3 0h0m3 3h0m4-2h0m2 0h0m6 0h0m14-1h0" stroke="#4173b3" stroke-width="2.4"/>
<path d="M276 46h0m0 0h0m2-1h0m0 4h0m1-2h0m1 1h0m1 0h0m2 6h0m-2-2h0m0 2h0m5 10h0m7 15h0m-3-5h0m-1-2h0m-1-2h0m7 17h0m2 0h0m1 2h0m1 4h0m0-1h0m2 11h0m3-3h0m1 2h0m1 4h0m2 0h0m2 9h0m-2-1h0m-2-3h0m3 9h0m1 3h0m2 2h0m3 1h0m1-6h0m1 2h0m0 4h0m3 10h0m0 3h0m0-4h0m-2-5h0m-1 2h0" stroke="#3aa457" stroke-width="2.4"/>
<path d="M440 282h0m1 13h0m-5 2h0m0 12h0m3-7h0m2-2h0m-1 10h0m-3 3h0m0 3h0m-1 1h0m-1-7h0m-1 12h0m1 4h0m0-2h0m1 0h0m0-3h0m1 2h0m-1 9h0m-1-2h0m0 2h0m-1 2h0m0 5h0m0-8h0m-1 2h0m-3 12h0m1 4h0m0-9h0m1 0h0m1 6h0m0-5h0m0 0h0m-3 10h0m0 2h0m0 0h0m0 2h0" stroke="#4173b3" stroke-width="2.4"/>
<path d="M351 258h0" stroke="#4173b3" stroke-width="2.4"/>
<path d="M309 197h0m-3 2h0m-1 0h0m-3 10h0m3-3h0m7-1h0m2-3h0m1 6h0m2-3h0m0-4h0m2 1h0m4 2h0m0 2h0m5 0h0m1 3h0m-1 7h0m-4-4h0m-2 1h0m-4 3h0m-3-4h0m-5 6h0m-4-5h0m-8-1h0m11 15h0m1-5h0m3-1h0m0-1h0m2 7h0m5-6h0m4 4h0m2-5h0m2 3h0m1 0h0m5 4h0m3 1h0m0-5h0m3 4h0m14 12h0m-3-9h0m-3 1h0m-4 3h0m-1-2h0m-2-1h0m-2 6h0m-2-6h0m0 6h0m-2 0h0m-3-3h0m-2-2h0m0-1h0m-2 6h0m-6-7h0m0 2h0m7 11h0m4 2h0m1 0h0m4 1h0m10 0h0m3-4h0m1 0h0m1 0h0m2-2h0m0 9h0m5-6h0m2 1h0m2 0h0m6 8h0m-1 4h0m-5-1h0m-1-4h0m-3 4h0m-3-1h0m-2-1h0m12 7h0" stroke="#d7302b" stroke-width="2.4"/>
<path d="M496 179h0m-36 4h0m38 0h0m-51 48h0" stroke="#d7302b" stroke-width="2.4"/>
<path d="M382 169h0m2-3h0m25-1h0m5 0h0m6-5h0m0 7h0m3 2h0m4-6h0m3 4h0m5 0h0m1 1h0m8-1h0m13-5h0m5 2h0m-2 8h0m-1 7h0m-9-2h0m0-5h0m-2 6h0m0-6h0m-1 2h0m-2 3h0m-18-7h0m-1 0h0m-3 2h0m-3-1h0m-17-1h0m-4 1h0m-10 2h0m-1 1h0m-4 0h0m-4 1h0m-5 0h0m-1 4h0m-10 8h0m4-2h0m0 1h0m0 1h0m3 0h0m63-7h0m-73 11h0m-1 4h0m0-5h0m-3 3h0m-2 5h0m-7 9h0m4-4h0m1 0h0m6-3h0m2 2h0m-17 14h0" stroke="#f0812f" stroke-width="2.4"/>
<path d="M380 166h0m7 1h0m7 2h0m4-3h0m0-1h0m1 1h0m3 3h0m1-4h0m2 3h0m5 1h0m3-4h0m1 2h0m0-3h0m1 1h0m1 4h0m4-1h0m0 1h0m1 0h0m5-5h0m1 1h0m10 4h0m2 0h0m1-5h0m1 2h0m3 3h0m4-5h0m9 5h0m1-3h0m3-6h0m-2 15h0m-4 2h0m-2 1h0m-1-2h0m-5-2h0m-1 2h0m-1-2h0m-6-2h0m-1 3h0m0 1h0m0-5h0m-2 4h0m-16-4h0m-12 1h0m-2-1h0m-3 1h0m-16 1h0m-1 0h0m-6-1h0m-1 2h0m-1 3h0m-2 2h0m-1-3h0m0 2h0m-2 0h0m-10 11h0m4-6h0m0 0h0m1 2h0m2-5h0m0 4h0m3-4h0m0 2h0m0-2h0m-9 10h0m0 1h0m-3-1h0m-2 4h0m-3 2h0m-1 3h0m-1-3h0m-8 9h0m1 2h0m1-5h0m0 4h0m0 2h0m2-2h0m1 1h0m1-2h0m1-2h0m0-3h0m1 1h0m3 0h0m-4 10h0m-4-1h0m-2 7h0m-1-6h0m0 1h0m-1 0h0m-1 3h0m-3-2h0" stroke="#4173b3" stroke-width="2.4"/>
<path d="M277 45h0m1 0h0m6 10h0m-4-3h0m7 14h0m5 12h0m-3-5h0m0-2h0m6 13h0m0-3h0m5 11h0m0 4h0m-1 2h0m0-8h0m5 13h0m1-3h0m0 4h0m1 4h0m0 0h0m6 8h0m0-4h0m-2 0h0m-3-2h0m9 15h0m1 2h0m2 1h0m2 8h0m-1-4h0m-1 1h0m-4-3h0m6 10h0" stroke="#4173b3" stroke-width="2.4"/>
<path d="M482 208h0m8 1h0m-17 27h0m-23-4h0m54 24h0" stroke="#f0812f" stroke-width="2.4"/>
<path d="M397 267h0m17 0h0m3 7h0m-3 4h0m-1-2h0m-2-6h0m-4 5h0m-2-5h0m-3 8h0m-4-6h0m-1 7h0m-9-3h0m3 4h0m1 0h0m13 4h0m2 3h0m1-6h0m1 4h0m2-3h0m0 1h0m7 1h0" stroke="#f0812f" stroke-width="2.4"/>
<path d="M281 56h0m-1-6h0m10 23h0m5 8h0m0 5h0m1 0h0m0 1h0m1 1h0m3 7h0m5 14h0m2 0h0m16 31h0" stroke="#f0812f" stroke-width="2.4"/>
<path d="M309 235h0m-3 4h0m-2-1h0m0 1h0m-7 2h0m3 4h0m5-2h0m1-3h0m0 3h0m5-3h0m3 3h0m1 3h0m3-4h0m3 5h0m1-2h0m4 3h0m1-1h0m10 2h0m2-1h0m15 10h0m-11 0h0m-2-7h0m-1 7h0m-1-2h0m-2-6h0m-5 2h0m0-2h0m-28 2h0m-6 3h0m4 13h0m2-1h0m0-2h0m1-5h0m2 7h0m35-7h0m3 1h0m5 7h0m0-7h0m0 1h0m1 1h0m2 5h0m1-2h0m3 3h0m1 5h0m-1 2h0m-2-4h0m-1 1h0m0 0h0m-1-3h0m-47 9h0m-1-9h0m-2 9h0m-2-7h0m-2 3h0m4 8h0m2 2h0m3-5h0m41 9h0m5-2h0m0-1h0m0 0h0m1 3h0m1 0h0m1-9h0m0 4h0m-7 8h0m-2 0h0m-1 4h0m-1-1h0m-2 1h0m-4 3h0m-2-2h0m-1 2h0m0-2h0m-14 2h0m-6-4h0m-1-1h0m-4 1h0m-3-4h0m0 3h0m-1-1h0m-1 0h0m0 3h0m-2-6h0m8 11h0m2 4h0m4-5h0m3 2h0m1 2h0" stroke="#d7302b" stroke-width="2.4"/>
<path d="M302 219h0m0 0h0m-2-1h0m-2 1h0m-1-1h0m1 4h0m0 7h0m2-5h0m0-4h0m1 3h0m2 6h0m1-2h0m17 9h0m0 2h0m-4 1h0m0-4h0m-1-3h0m-1 7h0m0-5h0m-1 1h0m-4 1h0m0-2h0m-1-3h0m-1 0h0m-2 8h0m0-3h0m0 1h0m-1-5h0m0 0h0m-2 2h0m-1 3h0m-1-7h0m-2 1h0m0 6h0m-2-6h0m-2 1h0m4 8h0m0 5h0m3-5h0m0 5h0m1-3h0m0-1h0m2 6h0m1-1h0m1-3h0m0 1h0m1-2h0m1 2h0m0 0h0m0-1h0m2 2h0m0-3h0m1 4h0m0-6h0m2 6h0m1-2h0m0 4h0m0-7h0m1 1h0m2-1h0m1 5h0m0-2h0m3 4h0m1 1h0m1-5h0m0-4h0m0 7h0m0-1h0m0-3h0m0-2h0m1 0h0m1 5h0m2 1h0m0 1h0m2 1h0m1-4h0m1 1h0m2-2h0m2 5h0m0 0h0m3 0h0m23 10h0m-6 0h0m-6 0h0m-1-2h0m0 2h0m-1-2h0m-3 2h0m-3-3h0m0-3h0m-2 3h0m-2-5h0m-3 2h0m0 0h0m-2-3h0m0 0h0m-1 8h0m-1-2h0m0 1h0m-1 2h0m-2-4h0m-3 4h0m-1-9h0m-2 3h0m-1 2h0m0-5h0m-1 7h0m0-3h0m0 0h0m0 5h0m-3-3h0m-1-3h0m-1 4h0m-2-6h0m-2 8h0m0-1h0m-1-6h0m0-1h0m0 8h0m-2-7h0m0 0h0m-1 0h0m0 0h0m0 6h0m-4-4h0m-1 3h0m-1 0h0m0-7h0m-1 7h0m0 1h0m0-4h0m-1-1h0m1 8h0m3-1h0m1 1h0m0 0h0m1 6h0m2 2h0m1-8h0m0 1h0m0 1h0m1 2h0m1-4h0m2-1h0m1 6h0m1-2h0m0 0h0m0-3h0m0 6h0m1-7h0m1 6h0m0-4h0m1 4h0m0-5h0m0 5h0m1 1h0m0 0h0m1-2h0m2 0h0m0-2h0m0 1h0m0-2h0m1 5h0m0-2h0m0-1h0m0 4h0m1-8h0m0 1h0m0 6h0m0 0h0m1-6h0m1 4h0m0 1h0m0-3h0m2 0h0m1 1h0m0 3h0m2-3h0m0-1h0m0 6h0m1-4h0m1-4h0m1 1h0m0 2h0m2-4h0m1 2h0m2-1h0m0 5h0m1-4h0m0 1h0m0 1h0m1 3h0m1-5h0m0 1h0m1-2h0m1 7h0m1-1h0m0 1h0m4 1h0m1 0h0m0-4h0m1-4h0m0 8h0m0-9h0m2 1h0m0 8h0m0-8h0m3 6h0m0 2h0m1-4h0m2-4h0m1 4h0m0-1h0m2-4h0m2 6h0m1 3h0m1 0h0m2-2h0m0 1h0m2-3h0m1 13h0m-1-3h0m-1-2h0m-1 2h0m0-1h0m-1-2h0m0 7h0m-1-3h0m-1 1h0m-1 0h0m0 0h0m0 0h0m-1-3h0m0 1h0m0-5h0m-1 4h0m0-3h0m0 8h0m-3-1h0m-2-6h0m-1 7h0m0 0h0m-1-2h0m0 2h0m0-2h0m-2-7h0m-1 5h0m0-2h0m-1 0h0m-1 3h0m0-4h0m0 3h0m-2-4h0m-1 6h0m-1-2h0m0-2h0m-1 4h0m0-5h0m-1 5h0m0-4h0m0 5h0m-1-4h0m0 2h0m0-1h0m-3 3h0m-2-4h0m-1 3h0m0 2h0m0-7h0m-1 1h0m0-1h0m-2 5h0m0-6h0m0 3h0m0 4h0m-2 1h0m-1-2h0m-1-2h0m-1-3h0m0 0h0m-1 6h0m0-4h0m0-1h0m-1 6h0m-1-9h0m0 6h0m0-3h0m-1-3h0m-1 4h0m-1 4h0m-4-2h0m-2 3h0m0-2h0m-2-3h0m-1 2h0m-1 2h0m0-7h0m0 0h0m-1 0h0m-1-1h0m0 4h0m0-2h0m-1 6h0m-4-1h0m0-7h0m-2 3h0m0-2h0m-2 1h0m5 10h0m1-2h0m0 5h0m1-4h0m0-1h0m0 6h0m0 0h0m2-2h0m0-1h0m1 0h0m1 6h0m0-7h0m0 5h0m3 0h0m1-1h0m1-2h0m2 3h0m1-3h0m1 0h0m0 0h0m2-4h0m0 9h0m0-3h0m0-3h0m1 3h0m0 0h0m0 3h0m0-4h0m0-2h0m1 4h0m0-2h0m1-5h0m2 1h0m0 8h0m0 0h0m0-4h0m1-3h0m0-2h0m0 2h0m0 4h0m1-2h0m0-4h0m2 0h0m5 7h0m1-5h0m0-1h0m1 5h0m0 3h0m2-9h0m1 4h0m0-4h0m0 5h0m1-3h0m0 3h0m1-3h0m1 2h0m0 3h0m1-6h0m1 8h0m2 0h0m0-1h0m0-3h0m1 4h0m0-3h0m1-4h0m1 2h0m0 3h0m1 0h0m1-6h0m0-1h0m4 9h0m1 0h0m0-4h0m1-5h0m0 4h0m1-3h0m4 1h0m2 0h0m-6 10h0m-3-2h0m-3 1h0m-3 1h0m0-2h0m-6 3h0m0 4h0m-1-1h0m-1-5h0m0-1h0m-1 1h0m0 2h0m-1 2h0m-3-4h0m-1 3h0m0-4h0m-1 3h0m0 4h0m0-6h0m-1 3h0m-3 3h0m0-1h0m-2-4h0m0 7h0m-2-6h0m-3 6h0m-2-2h0m-1-5h0m-3 6h0m0-8h0m0 0h0m0 0h0m-2 5h0m0 4h0m0-6h0m0 6h0m-1-9h0m-1 5h0m-1 0h0m-2 3h0m-1-1h0m-1-4h0m0 3h0m-2-6h0m14 14h0m0-4h0m2 5h0m0-3h0m1-2h0m1 4h0m4-3h0m4 1h0" stroke="#d7302b" stroke-width="2.4"/>
<path d="M328 215h0m-18 2h0m-6-2h0m2 9h0m17 3h0m14 0h0m9 20h0m8 1h0m8 1h0" stroke="#4173b3" stroke-width="2.4"/>
<path d="M276 45h0m7 9h0m-3-2h0m8 13h0m1 4h0m3 6h0m3 7h0m2 3h0m2 9h0m12 18h0m-2 2h0m2 8h0m13 13h0m-9-1h0m9 11h0m2-5h0" stroke="#d7302b" stroke-width="2.4"/>
<path d="M465 165h0m26 24h0m5 10h0m-13-1h0m-22 7h0m12-3h0m15 2h0m15-3h0m6 35h0m-43-1h0m12 7h0m18 4h0m19 2h0m-69 18h0m51-2h0m20 9h0m10 13h0m2 6h0" stroke="#f0812f" stroke-width="2.4"/>
<path d="M464 187h0m21 11h0m-14 0h0m-5 0h0m-1-6h0m0 7h0m-1 0h0m-2-7h0m-1 6h0m-1-2h0m-1 3h0m-2-4h0m0 1h0m-3 2h0m-4 1h0m-3 5h0m1-3h0m1 8h0m1-8h0m0 8h0m3-1h0m2-8h0m3 7h0m2 1h0m0-2h0m2 0h0m2-2h0m6-4h0m2 8h0m0-8h0m1 5h0m1-5h0m0 5h0m5-2h0m2-3h0m1 0h0m3 7h0m2 1h0m1-6h0m2 4h0m5 12h0m-1-3h0m0 2h0m-1-1h0m0-2h0m-1 4h0m-2-1h0m-1-6h0m0 1h0m-2 3h0m0-3h0m-2 7h0m0-4h0m-2 0h0m-5-4h0m0 7h0m-5-4h0m0 1h0m-6 1h0m-1-1h0m-1-5h0m-1 7h0m-1-1h0m-2-1h0m-1 4h0m0-5h0m-2 1h0m-6-1h0m-2 2h0m-2 3h0m0-4h0m-1-1h0m1 9h0m1 4h0m2 2h0m1-1h0m8-5h0m0 5h0m1-3h0m0 1h0m1-6h0m0 8h0m2-7h0m4 2h0m1 4h0m1-1h0m0 2h0m2-3h0m0 4h0m2-8h0m3-1h0m1 6h0m2-4h0m2 2h0m2 5h0m5 0h0m0-9h0m0 4h0m1 1h0m0 0h0m1-1h0m1-4h0m0 1h0m2 3h0m0 2h0m2-2h0m7 11h0m-1 3h0m-3-7h0m-4-1h0m0 6h0m-4 3h0m-3 0h0m-1-7h0m-1 4h0m-2-5h0m-2 1h0m-2 0h0m-1-1h0m-1-1h0m-3 3h0m-2 4h0m-1 0h0m0-1h0m-3-4h0m0 4h0m-2-3h0m-3 3h0m0 3h0m-3 0h0m0-3h0m-1-1h0m-1-2h0m-2 4h0m-1-4h0m-2 5h0m0-6h0m-1 4h0m-1-5h0m-1 0h0m-1 7h0m-3 1h0m-1-7h0m-2 8h0m1 6h0m0 0h0m4-5h0m3 6h0m0 1h0m5 1h0m0-6h0m6 6h0m0-4h0m1-5h0m2 8h0m3-6h0m3-2h0m1 4h0m1-3h0m3 0h0m0 1h0m1 7h0m0-6h0m1 6h0m1-7h0m1 2h0m1 0h0m2 3h0m2-3h0m1-1h0m0 2h0m1-2h0m1 1h0m0-3h0m1 6h0m2 1h0m0-8h0m0 3h0m3 4h0m0-5h0m1 1h0m1-3h0m0 9h0m1-6h0m1 1h0m2 2h0m0-5h0m1 5h0m1 0h0m2 2h0m-7 4h0m-1 2h0m0 5h0m0-9h0m-5 8h0m-2-6h0m-2 5h0m-2-5h0m0-2h0m-1 5h0m0 2h0m-1-2h0m-1-5h0m-2 6h0m-1-3h0m-6-3h0m-2 6h0m-1-3h0m0 1h0m-6 0h0m-3-3h0m-2-1h0m-3 3h0m0 3h0m-4 1h0m-2-4h0m0-2h0m41 10h0m3 0h0" stroke="#4173b3" stroke-width="2.4"/>
<path d="M279 76h0m2 8h0m4 53h0m3 6h0m-1 24h0m10 22h0m-1 16h0" stroke="#3aa457" stroke-width="2.4"/>
<path d="M443 176h0m-13 98h0" stroke="#d7302b" stroke-width="2.4"/>
<path d="M350 269h0m2-5h0m9 0h0m1 2h0m2-5h0m4 14h0m0-3h0m-1 1h0m-2-1h0m-1 4h0m-6 2h0m-5 0h0m-1-7h0m-2 7h0m-4-5h0m0 6h0m-4-2h0m8 10h0m2 1h0m11 2h0m-10 2h0m-1-1h0m-3 0h0" stroke="#f0812f" stroke-width="2.4"/>
<path d="M433 175h0m6 13h0m-1 7h0m-11 12h0m18-2h0m-17 19h0m4-2h0m10 6h0m2-6h0m-15 12h0m0 29h0m14-2h0" stroke="#f0812f" stroke-width="2.4"/>
<path d="M279 56h0m-1 7h0m3 26h0m0-3h0m2 10h0m0 0h0m1 10h0m6 32h0m-3-2h0m-1-3h0m2 8h0m5 4h0m1 28h0m-1 1h0m7 34h0m-2 7h0m-3 0h0m4 7h0" stroke="#f0812f" stroke-width="2.4"/>
<path d="M452 169h0m1-1h0m10-6h0m2 1h0m1 0h0m0 1h0m3 2h0m1-6h0m0 6h0m3-4h0m4 1h0m2-1h0m0 3h0m5-1h0m1 3h0m0-3h0m1 3h0m5-1h0m1 3h0m5 10h0m-2-5h0m-2-2h0m0 3h0m0-4h0m-6 4h0m-35-3h0m-7 11h0m0 5h0m1-6h0m2 1h0m49-3h0m0 4h0m3 0h0m0-3h0m1 6h0m0-3h0m1 1h0m1 4h0m0-2h0m7 11h0m0 0h0m-1 0h0m-1-2h0m0 2h0m-1 0h0m-62 0h0m1 11h0m1-7h0m61-2h0m3 2h0m0 2h0m6 5h0m0-2h0m-4 6h0m5 8h0m2 1h0m0 3h0m2 4h0m1 0h0m5 9h0m-1-5h0m-1 0h0m-2-2h0m0 0h0m0 3h0m-1-3h0m5 10h0m0 8h0m1-4h0m1 3h0m1-8h0m3 9h0m1 9h0m-2-5h0m-2-2h0m-82 8h0m-2-9h0m-4 8h0m3 7h0m35 2h0m4 2h0m52-3h0m2 0h0m3 5h0m-4 0h0m-35 2h0m-1 6h0m-7-7h0m-7 4h0m0-3h0m-1-2h0m-10-1h0m-2 0h0m-3 1h0m0 2h0m-3-3h0m-7 6h0m-1-4h0m-1-2h0m-3 6h0m48 6h0m23 7h0m13-2h0m5-2h0m-1 8h0m-3-1h0m0 1h0m-2-1h0m-5 2h0m-1-2h0m-1 0h0m0 6h0m0-3h0m-1-3h0m-2-2h0m0 2h0m-7-2h0" stroke="#4173b3" stroke-width="2.4"/>
<path d="M308 132h0m-6 49h0" stroke="#3aa457" stroke-width="2.4"/>
<path d="M406 177h0m-3 1h0m0 1h0m-18-6h0m-2 6h0m-9-4h0m-10 4h0m-13-1h0m0 7h0m8-3h0m6 1h0m8 5h0m3-1h0m20-4h0m2-2h0m2 4h0m5-1h0m6-4h0m3 1h0m3 3h0m-24 7h0m-3 3h0m-3 0h0m-2-4h0m-3 8h0m-26-7h0m-1 8h0m-4-4h0m12 10h0m0-1h0m32 1h0m0-4h0m1 6h0m5 1h0m1-3h0m2-3h0m8 0h0m13 6h0m0-4h0m10 15h0m-2 0h0m-5-8h0m-9 7h0m-4 0h0m-1-5h0m-1 2h0m-6 3h0m-3-7h0m-1 3h0m-41 0h0m-2 0h0m-4 15h0m0-1h0m16-7h0m5 4h0m5 1h0m10 0h0m16-4h0m1 5h0m5-6h0m14 2h0m7 2h0m-17 13h0m-6 0h0m-1-5h0m-14 2h0m-4-5h0m-10 3h0m-1 0h0m-1-3h0m-1 8h0m-14 11h0m1-4h0m14-2h0m4 1h0m5 3h0m1 0h0m9 0h0m0-7h0m2 9h0m2-2h0m28 7h0m-15 1h0m-10-3h0m-16 1h0m-3 1h0m-5-1h0m-10-3h0m12 11h0m1 1h0m3 6h0m10-6h0m1 1h0m3-2h0m6 6h0m3 2h0m3-2h0m9-5h0m1 2h0m2 5h0m-13 4h0m-7 2h0m-2 1h0m-2-2h0m-17 5h0m-8-8h0m0 1h0m9 11h0m14-1h0m16-2h0" stroke="#4173b3" stroke-width="2.4"/>
<path d="M464 223h0" stroke="#d7302b" stroke-width="2.4"/>
<path d="M274 49h0m3-1h0m0-3h0m1 0h0m0 1h0m0 0h0m1 1h0m1 4h0m0 6h0m-2 2h0m-1-1h0m-1-7h0m0 4h0m0-4h0m1 11h0m0-2h0m1 1h0m0 7h0m0-4h0m0-3h0m0 7h0m1-7h0m0 2h0m0 1h0m1 3h0m0 2h0m0-1h0m1-1h0m3 11h0m-2 1h0m-1-8h0m0 1h0m0 2h0m0-1h0m0 4h0m0 2h0m-1-3h0m0-1h0m0-3h0m-1 5h0m0-4h0m0 3h0m-1 0h0m1 8h0m2-1h0m0 6h0m0-2h0m1 2h0m0-2h0m0 1h0m1-5h0m1 9h0m0 2h0m0-2h0m-1 0h0m0 4h0m-2 0h0m0 3h0m-3-6h0m3 9h0m1 7h0m0-2h0m0-7h0m1 3h0m0-1h0m0 0h0m1-1h0m0 4h0m1-2h0m0-1h0m0 4h0m1 1h0m0 2h0m1-2h0m0-5h0m3 14h0m-1-5h0m-2 0h0m0-1h0m-2 7h0m0-2h0m-1-1h0m0 4h0m0-2h0m0-5h0m-1 8h0m1 3h0m1-1h0m0 2h0m0 2h0m2-2h0m1 5h0m0-5h0m0 4h0m1-6h0m0 3h0m6 15h0m-4-8h0m-3 0h0m-1 1h0m0 6h0m0 1h0m-1-7h0m-3 2h0m0 8h0m2-1h0m1 6h0m2-4h0m1 0h0m0-3h0m2 8h0m3 3h0m-1 2h0m-2-2h0m-2 5h0m0 1h0m-1 0h0m-1 1h0m-1-4h0m-1 5h0m0-7h0m-4 6h0m7 11h0m4 0h0m0-8h0m0-1h0m1 2h0m2 7h0m0 0h0m3 7h0m-1 3h0m-2-6h0m-2 3h0m-4 1h0m-2 3h0m1 0h0m1 3h0m5 6h0m1-6h0m3-3h0m5 14h0m-2 0h0m0 3h0m-3-5h0m0 7h0m0 0h0m-1-8h0m0 1h0m-2-1h0m-1-1h0m0 0h0m-6 3h0m1 14h0m0 0h0m5-7h0m1 3h0m1 6h0m1-1h0m2-6h0m0 2h0m3 3h0m1-3h0m1-4h0m1 6h0m-4 8h0m-1-4h0m0 1h0m-1 3h0m-1 0h0m0-2h0m-1-2h0m-2 8h0m0-1h0m0-3h0m0-2h0m2 10h0m6-2h0" stroke="#d7302b" stroke-width="2.4"/>
<path d="M413 119h0" stroke="#d7302b" stroke-width="2.4"/>
<path d="M288 77h0m-3-2h0m-2 8h0m1 3h0m6-1h0m0 2h0m-4 6h0m0 16h0m0-7h0m3 1h0m4 0h0m14 16h0m-1-4h0m-4-3h0m-1 7h0m-1-2h0m-1-1h0m-8-2h0m-2 5h0m-1 1h0m0 6h0m8 3h0m13-5h0m2 1h0m-1 14h0m-2-8h0m-4 2h0m-7 6h0m-8 2h0m5 4h0m4-1h0m8 0h0m12 4h0m6 0h0m-12 6h0m-1 0h0m-3 1h0m-2 1h0m-2-3h0m-5 5h0m-6-3h0m14 14h0m5-9h0m6 2h0m-14 15h0m-2-5h0m3 10h0m0 5h0m0-6h0m7 15h0m-3-1h0m-1 3h0m-3-2h0m-7-6h0m13 10h0m-6 13h0m-1-2h0m0 1h0m-2 6h0m-1 0h0" stroke="#d7302b" stroke-width="2.4"/>
<path d="M292 109h0m12 26h0m-10 0h0m-5 7h0m20 13h0m0 4h0m-4-4h0m2 13h0m1 7h0m-12-5h0m10 21h0m-6 4h0m0 7h0" stroke="#4173b3" stroke-width="2.4"/>
<path d="M434 168h0m11 1h0m-1 1h0m0 9h0m-2-2h0m-3-2h0m-1 3h0m-2-1h0m-2-5h0m-2-2h0m0 5h0m-7-3h0m0 7h0m-4-7h0m3 15h0m0-5h0m2 2h0m0-4h0m0 7h0m1-1h0m3-1h0m4 2h0m0 2h0m1-4h0m2 2h0m1-4h0m1 3h0m0 3h0m0-6h0m1 1h0m4 0h0m1 4h0m0 8h0m0-2h0m-4 2h0m0-3h0m-2 5h0m0-6h0m-2-1h0m-1 3h0m-1-2h0m-5 1h0m-6-1h0m-2 11h0m2 6h0m2-6h0m2 1h0m1-2h0m2-1h0m1 8h0m1-1h0m0-7h0m2 2h0m0-3h0m5 8h0m0-5h0m0 4h0m1 1h0m0-3h0m1 3h0m1 1h0m0-4h0m1-4h0m2 3h0m2 4h0m-3 2h0m0 5h0m-3 4h0m0-8h0m0 8h0m-2-7h0m0 5h0m0-7h0m-3 8h0m-3-1h0m0-5h0m-1 2h0m-1 4h0m-1-6h0m-5 7h0m-2 0h0m-1 9h0m1-5h0m4 5h0m1-7h0m3 4h0m1 2h0m0-3h0m1-4h0m3 3h0m1-3h0m2 3h0m4-2h0m3 4h0m0 14h0m-1-1h0m0-3h0m-1 4h0m-2-5h0m-1 0h0m-1-3h0m0 0h0m-2 3h0m-1-3h0m0 3h0m-2-3h0m0 3h0m-2 4h0m0-3h0m0 4h0m-2-5h0m-1 0h0m-1 3h0m-1-2h0m0-2h0m0 0h0m-2-3h0m-1 1h0m0 6h0m-1-7h0m0 10h0m6 5h0m3-4h0m1 5h0m0-3h0m4 2h0m1 1h0m1-4h0m4 4h0m1-4h0m1 2h0m-1 15h0m-1 0h0m-8-6h0m-1 1h0m-1 3h0m-1 0h0m0-5h0m-1 0h0m-4 1h0m-1-2h0m0 7h0m-2 0h0m2 8h0m1 0h0m1-3h0m2 1h0m0-1h0m1-2h0m1 3h0m0-3h0m0 3h0m0 0h0m5-1h0m0 0h0m5-3h0m-8 10h0m-1 3h0m-7-2h0" stroke="#4173b3" stroke-width="2.4"/>
<path d="M399 274h0" stroke="#4173b3" stroke-width="2.4"/>
<path d="M300 208h0m11-8h0m2 5h0m12 12h0m-2-3h0m-11 2h0m-6 1h0m-5-5h0m24 13h0m12 3h0m1 8h0m-11-4h0m-3 4h0m17 6h0m3 6h0m12-6h0" stroke="#f0812f" stroke-width="2.4"/>
<path d="M407 174h0m-22 6h0m31 1h0m-61 31h0m37 12h0m5 5h0m9-8h0m23-1h0m-10 15h0m-15-3h0m-1 3h0m10 8h0m1-2h0m-56 9h0m72 26h0m-41 9h0m29-5h0" stroke="#d7302b" stroke-width="2.4"/>
<path d="M419 155h0m-32 14h0m0-3h0m2 1h0m6-2h0m7 2h0m2 1h0m3-2h0m2-2h0m4-1h0m1 2h0m12 4h0m7-2h0m5 1h0m3 0h0m2 5h0m-21 1h0m-6-4h0m-6 1h0m-10-1h0m-3 1h0m-2 2h0m-30 16h0m-4 2h0m-1 1h0m-11 11h0m2 5h0m0-4h0m5-3h0m-10 12h0m-1 4h0m-2-1h0" stroke="#d7302b" stroke-width="2.4"/>
<path d="M409 89h0m3-2h0m0 6h0m-1 5h0m0-7h0m0 0h0m-1 0h0m0 6h0m0-7h0m0 4h0m-1-4h0m0 2h0m0 1h0m-1 6h0m0-1h0m-1-2h0m1 9h0m0-5h0m0 9h0m0-7h0m0 0h0m1 1h0m2-2h0m2 6h0m0-7h0m1 9h0m-2 3h0m-1-1h0m0 7h0m-1-4h0m-1 4h0m0-5h0m-3 0h0m0 3h0m0 2h0m-2-4h0m0 13h0m0-6h0m1 0h0m1 5h0m1-2h0m2-3h0m0 0h0m1-1h0m1 6h0m0 3h0m0-2h0m2-2h0m1-1h0m1-3h0m2 1h0m0 7h0m2 0h0m-4 10h0m0-4h0m-3 3h0m0-1h0m-1-6h0m0 7h0m0-5h0m-2 4h0m-1-2h0m0-3h0m-4 7h0m-11-9h0m-1 15h0m6 1h0m1 2h0m1-7h0m2-1h0m1 7h0m2-2h0m0-5h0m0 7h0m1-5h0m0 2h0m0 5h0m5 0h0m1-1h0m1-8h0m3 0h0m0 1h0m1 0h0m0 1h0m1 7h0m6-2h0m-2 9h0m-1-6h0m-1 2h0m-3 3h0m-1 3h0m-1-7h0m0 5h0m-5-5h0m-1 7h0m-1 0h0m-1 1h0m-5-4h0m-3 1h0m-14 6h0m12-2h0m7 2h0m0 2h0m3-2h0m20-1h0" stroke="#f0812f" stroke-width="2.4"/>
<path d="M443 289h0m1-6h0m1 3h0m-4 5h0m-5 22h0m0 1h0m0 2h0m0 3h0m-5 7h0m1-3h0m1-1h0m0-2h0m1 4h0m0 0h0m1 5h0m-2 3h0m0 1h0m-1 6h0m-2 10h0m2-3h0m1-3h0" stroke="#f0812f" stroke-width="2.4"/>
</g><polygon points="291.4,121.6 292.4,118.5 294.5,115.9 297.8,114 301.8,112.5 306.3,111.6 310.8,111 315,110.8 317.7,111.7 319.3,113.6 319.8,116.4 319.1,120 317.2,122.9 313.9,125.3 309.8,127.3 304.8,128.7 300.1,129.3 295.9,129 293.2,127.4 291.6,124.6" fill="#d7302b" fill-opacity="0.72" />
<polygon points="382.6,111.6 385.7,107.7 389.1,104.8 392.9,102.9 398,101.7 404.3,101.3 410.8,100.7 417.1,99.9 421.7,100.1 424.6,101.2 427.2,103.4 429.4,106.8 431.4,111.7 433,118 433.5,123 433.2,126.8 432,130.2 430.1,133.3 427.7,135.9 424.6,138.2 421.1,140.2 417.2,141.8 413.2,142.9 409.1,143.8 405.7,145.5 403.1,148 400.6,150.9 398.3,154 395.8,155.9 392.9,156.8 390.1,156.4 387.2,154.8 384.8,152.2 382.9,148.3 381.3,144 380.1,139.2 378.9,134.8 377.7,130.9 377.3,126.6 377.7,122 378.7,118.2 380.2,115.1" fill="#4173b3" fill-opacity="0.78" />
<g transform="scale(.5)"><path d="M588 180h0m12 5h0m45 32h0m-45 24h0m27 46h0" stroke="#4173b3" stroke-width="3.1"/>
<path d="M597 279h0m-1-2h0m-2 0h0m0 1h0m0 1h0m0-4h0m0 3h0m-1-3h0m0 1h0m0-1h0m-2 1h0m-1 1h0m-6 6h0m2-1h0m1 3h0m1-2h0m1-1h0m1 4h0m0-3h0m1-2h0m1 1h0m0 1h0m1-2h0m0 3h0m0-2h0m2 1h0m1-1h0m1 2h0" stroke="#d7302b" stroke-width="3.1"/>
<path d="M825 150h0m-3 4h0m0-3h0m-1 1h0m0 0h0m-2 0h0m0 4h0m-1 2h0m0-2h0m-2 0h0m0 6h0m1-1h0m0 2h0m0-1h0m0 7h0m1-4h0m1 2h0m-4 4h0m-2 0h0m-1 0h0m0 2h0m0 4h0m-1 0h0m0-6h0m-3 6h0m-1 0h0m-2 7h0m2 3h0m1 2h0m0 5h0m-1 0h0m0-4h0m-2 0h0m-2 6h0" stroke="#f0812f" stroke-width="3.1"/>
<path d="M627 273h0" stroke="#4173b3" stroke-width="3.1"/>
<path d="M625 297h0m-1-1h0m0 12h0m2 1h0" stroke="#f0812f" stroke-width="3.1"/>
<path d="M681 189h0m10-2h0m1-1h0m0-1h0m4-2h0m1 5h0m4-7h0m13 6h0m3-1h0m1-2h0m-8 13h0m-5-6h0m-9-1h0m-8 0h0m-2 9h0m-1-4h0m-27 1h0m17 6h0m2-1h0m2 1h0m9 3h0m2 2h0m2-2h0m24-5h0m2 2h0m0 8h0m-15 4h0m-10 1h0m-6-1h0m-8 2h0m-25 1h0m0-1h0m-3 3h0m12 7h0m8-4h0m6 1h0m12 6h0m10-1h0m8-6h0m3-2h0" stroke="#4173b3" stroke-width="3.1"/>
<path d="M641 217h0m-17-4h0m-31 12h0m15-1h0m36-2h0m-48 12h0m-10-3h0m-7 14h0m37 0h0m3-2h0m1-3h0m7 5h0m8 0h0m-1 8h0m-17-1h0m-20 6h0m-14-7h0" stroke="#f0812f" stroke-width="3.1"/>
<path d="M720 228h0m2 0h0m11 1h0m4-2h0m2-2h0m1 4h0m5-4h0m8 0h0m1 2h0m0-1h0m4-1h0m-2 5h0m-1 0h0m-2 9h0m0-4h0m-2-3h0m-1 2h0m-1-2h0m-1 3h0m0-1h0m-2 0h0m-1 4h0m-1-7h0m-1 6h0m-3-7h0m-5 0h0m-1 4h0m-1-3h0m-1 2h0m0-3h0m-3 9h0m-2-5h0m-3 3h0m-1 0h0m-1-3h0m-3 0h0m2 7h0m1 2h0m2 5h0m1-8h0m1 5h0m0 2h0m1-4h0m1 3h0m2 3h0m0-3h0m1 2h0m1-3h0m3-5h0m3 4h0m0 2h0m1-3h0m0 6h0m2-7h0m1-2h0m1 0h0m2 0h0m1 8h0m1-1h0m2-6h0m1 8h0m0-1h0m3 1h0m0-4h0m1-3h0m1 1h0m0-1h0m-1 14h0m-1 2h0m-1-2h0m-1-3h0m-1 3h0m-1 1h0m-4-5h0m-2 0h0m0 1h0m-3 5h0m-1-3h0m-3-4h0m-2 3h0m-3 4h0m-7-3h0m-3-1h0m-4-3h0m3 9h0m3 0h0m3 1h0m1 1h0m2 0h0m4 2h0m0 4h0m2-2h0m0 0h0m2-5h0m1 0h0m1 7h0m1 1h0m3-1h0m0-1h0m1-1h0m3-1h0m1-4h0m2 0h0m3 6h0m-9 4h0m-8-1h0" stroke="#4173b3" stroke-width="3.1"/>
<path d="M565 58h0m3 4h0m1 6h0m2-3h0m3 3h0m7 10h0m-2-2h0m0 2h0m-1-6h0m-1 1h0m0 5h0m-3-7h0m-2 0h0m8 13h0m1 2h0m1-5h0m3 2h0m0 0h0m1 1h0m1 5h0m2-1h0m8 11h0m-2-6h0m-1 5h0m-1-7h0m3 9h0m2 1h0m1 2h0m15 14h0m-4-5h0m-2 2h0m0-2h0m-2-2h0m15 16h0m1 3h0" stroke="#4173b3" stroke-width="3.1"/>
<path d="M794 188h0m10-3h0m4 2h0m15-1h0m6 2h0m12 4h0m-2-2h0m-1 2h0m-3 4h0m-5-3h0m-2-1h0m-14 1h0m-9 5h0m-3-7h0m-4 6h0m-1 1h0m-2-8h0m-5 9h0m-2-7h0m-3 6h0m-17 2h0m0 0h0m5 0h0m8 6h0m5-2h0" stroke="#4173b3" stroke-width="3.1"/>
<path d="M566 64h0m3 3h0m4 4h0m0-1h0m6 10h0m1 0h0m4 9h0m2-5h0m5 11h0m-2-1h0m0-1h0m6 8h0m0 0h0m2-1h0m2 6h0m2 0h0m3 2h0m0-7h0m2 1h0m4 12h0m-4 0h0m-8-4h0m12 11h0m2 1h0m12 7h0m0-3h0" stroke="#f0812f" stroke-width="3.1"/>
<path d="M713 178h0m-27 11h0m6-1h0m1-2h0m1 1h0m5-1h0m2 3h0m0-7h0m0-2h0m2 5h0m4 3h0m1-5h0m1 2h0m3-4h0m1 5h0m3 3h0m0-9h0m1 6h0m1-5h0m2 2h0m-3 7h0m-4 1h0m-2 4h0m-3 2h0m-9-5h0m-1 3h0m-10 2h0m0-7h0m-1 1h0m-5 3h0m-4-3h0m-1 8h0m-2-9h0m0 9h0m-10-4h0m-11 1h0m-4 7h0m5-1h0m8 0h0m6 3h0m0 3h0m4-8h0m4 6h0m2-6h0m1 2h0m0 3h0m0-3h0m4 2h0m0-3h0m3 6h0m1-2h0m1 4h0m4-6h0m0 1h0m2 2h0m1 1h0m7-6h0m3 8h0m5-7h0m1 1h0m1 5h0m2 1h0m1-2h0m0-2h0m-1 8h0m-3 0h0m-1-2h0m-2 2h0m0-1h0m-3 4h0m-4-1h0m-3-4h0m-5-1h0m0 6h0m-6-6h0m0 0h0m0 8h0m-1-5h0m-4 5h0m0-6h0m-1 5h0m-1-2h0m-7 2h0m-7-2h0m-9 3h0m0-4h0m-5 0h0m-1 3h0m-2 2h0m-2-6h0m20 8h0m9 2h0m1-2h0m13 3h0m2 4h0m2 0h0m2-4h0m3-1h0m0-1h0m1 0h0m3-2h0m6 1h0m-21 9h0" stroke="#f0812f" stroke-width="3.1"/>
<path d="M835 214h0m-28 4h0m-27-2h0m61 15h0m-51 10h0" stroke="#d7302b" stroke-width="3.1"/>
<path d="M646 177h0m-24 1h0m-7 0h0m10 5h0m23 7h0m-21 8h0m-21-1h0m-7-3h0m-3 4h0m30 8h0m0-6h0m5 1h0m1 15h0m-42 3h0m66 12h0m-68 18h0m13-8h0m37 7h0m13 4h0m-9 1h0m-16-3h0m-9 3h0m-10 3h0m-13 3h0m35 1h0m14 0h0m18 11h0m0 5h0m-6-3h0m-15 5h0m-19-1h0m-2-5h0m-19 17h0m26-2h0m2 0h0m2 0h0m29 3h0m-58 3h0" stroke="#d7302b" stroke-width="3.1"/>
<path d="M579 95h0m-3-1h0m10 9h0m6 3h0m-3 25h0m11 19h0m9 27h0m4 6h0m0 4h0m5 4h0m-3 2h0m-18-2h0" stroke="#f0812f" stroke-width="3.1"/>
<path d="M671 228h0m2 1h0m7 0h0m7 0h0m2-1h0m4-2h0m1 1h0m13-3h0m3 3h0m4-1h0m4 1h0m9 2h0m18-1h0m-1 5h0m-2 5h0m-16-8h0m-2 3h0m-1-2h0m-13 6h0m-3 0h0m-1-1h0m-1 1h0m-1-7h0m-6 4h0m-6-4h0m-13 8h0m-4-5h0m12 10h0m6 6h0m3-4h0m1 3h0m1-6h0m3 1h0m2 4h0m19-3h0m13 5h0m4-4h0m5 3h0m2 2h0m-6 2h0m-4-1h0m-7-1h0m-4 0h0m-2 1h0m-10 6h0m-14-5h0m-13 7h0m-3 1h0m4 1h0m11 7h0m7-2h0m3 0h0m0-5h0m4 1h0m5-1h0m13 8h0m1-9h0m2 1h0m7 7h0m4-6h0m12 4h0m7 9h0m-13-3h0m-1-1h0m-7 1h0m-34-1h0" stroke="#4173b3" stroke-width="3.1"/>
<path d="M855 199h0m-7-2h0m-5 2h0m-5 0h0m-7 0h0m0-3h0m-9 1h0m-5 2h0m-32 6h0m19-2h0m1-2h0m2 2h0m2 0h0m0 0h0m6 2h0m7-3h0m1 2h0m0-3h0m2 4h0m5-4h0m0 3h0m2 2h0m12-4h0m2-2h0m1 9h0m4-3h0m2 2h0m3-1h0m1-4h0m2 15h0m-3-6h0m-62-1h0m-17 3h0m0-4h0m-1 1h0m0 0h0m-1-1h0m-1 6h0m-1 1h0m0-2h0m-5 1h0m-5 12h0m1-4h0m1-2h0m4-2h0m91 1h0m1 6h0m1-7h0m0 8h0m2-3h0m1 4h0m0-2h0m-1 4h0m-1 3h0m-1-3h0m-1-1h0m-99 1h0m0 4h0m-1-4h0m-2 2h0m-5 4h0m-2 12h0m2-9h0m1 4h0m0-2h0m4 5h0m105 1h0m1 0h0m1-1h0m2 0h0m4 7h0m-7-3h0m-1 0h0m-107 6h0m0-5h0m-5 8h0m2 6h0m1 1h0m0-6h0m1 2h0m2-3h0m1 8h0m93 1h0m6-1h0m1 1h0m1 0h0m1-5h0m0-3h0m0 2h0m1 0h0m4-2h0m2 0h0m-13 16h0m-2-2h0m-5 1h0m-4 1h0m-5-2h0m-81-2h0m0 1h0m-1-2h0m-5-2h0m7 13h0m1 0h0m4 5h0m0 1h0m45 0h0m6-2h0m4 1h0m2-3h0m1 1h0m0 2h0m1 0h0m0 0h0m6-2h0m1-4h0m4-1h0m1 5h0m2 2h0m5-6h0m1-2h0m1 4h0m-24 6h0m-9 1h0m-1-1h0m-3 7h0m-2-3h0m-2 3h0m-1 0h0m0 2h0m-2-3h0m-31-1h0m-4-3h0m-4-2h0m5 12h0m1 0h0m1 6h0m1-8h0m0 5h0m0-5h0m0 2h0m1-1h0m2 2h0m0 6h0m1 0h0m6-2h0m13 2h0m0-3h0m2 1h0m8-4h0m-7 9h0m-11 2h0m0 0h0m-2-2h0m-3 1h0" stroke="#4173b3" stroke-width="3.1"/>
<path d="M565 65h0m10 8h0m6 9h0m10 9h0m21 28h0m-1-1h0m-1-1h0m2 3h0m3 2h0m1 0h0m6 4h0" stroke="#d7302b" stroke-width="3.1"/>
<path d="M781 207h0m0 2h0m3-1h0m4 0h0m2 0h0m8 0h0m4-3h0m3 2h0m1 1h0m5-2h0m2 1h0m5-3h0m0-4h0m1 2h0m0 2h0m4 1h0m7-4h0m3 3h0m0 0h0m3 5h0m1 0h0m1-2h0m0-3h0m3-3h0m1 8h0m4 0h0m5-7h0m0 2h0m3 3h0m6 8h0m-3-2h0m0-1h0m-2 4h0m-4 2h0m-1-7h0m-5 3h0m0 5h0m-1-9h0m0 3h0m-2 1h0m-1 2h0m-1 3h0m0-9h0m-2 0h0m-2 8h0m0 0h0m-1-7h0m-2 3h0m0-3h0m-9-1h0m-1 1h0m-1 7h0m-3-3h0m-2 0h0m-7-1h0m-2 5h0m0-5h0m0 3h0m-3 0h0m-4-6h0m-1 8h0m-12 0h0m-1-3h0m-3-6h0m-2 7h0m0-7h0m-1 7h0m0-3h0m-1 1h0m0 2h0m-1-3h0m-8 4h0m-2-2h0m-3 3h0m-4 8h0m2-3h0m2 5h0m6-5h0m3 3h0m2-5h0m1-1h0m2-1h0m0 3h0m1-3h0m4 0h0m2 9h0m1 0h0m4-8h0m1 0h0m1 2h0m3 0h0m1-1h0m2 6h0m2-3h0m2 1h0m0-5h0m0 8h0m1-2h0m1-1h0m3-2h0m2 0h0m3-4h0m0 2h0m1 6h0m4-5h0m2 4h0m4-1h0m0 3h0m1 0h0m1 0h0m2-4h0m3 4h0m2 0h0m1-3h0m4 3h0m0-4h0m4-4h0m6 2h0m0 3h0m0 2h0m1-4h0m3-4h0m1 8h0m0-6h0m1 7h0m1-8h0m3 2h0m1-2h0m0 5h0m1-2h0m2-1h0m0 8h0m-4 4h0m-4 0h0m-4-5h0m-2 6h0m0-1h0m-4 2h0m-1 0h0m0-6h0m-3 2h0m-1-3h0m0 4h0m-1 3h0m0 0h0m-6-1h0m-7-5h0m-1 8h0m0 0h0m-1-7h0m-1 2h0m-2 5h0m-2-3h0m-2 3h0m-9 0h0m-1-3h0m0-1h0m-5-5h0m0 3h0m-2 6h0m-3-6h0m0 5h0m-2-7h0m-1 4h0m0-4h0m0 4h0m-1 3h0m-1-2h0m-1 3h0m-1-2h0m0-2h0m-1-1h0m-2-4h0m0 2h0m-4-1h0m-2 6h0m-7 1h0m-3 0h0m0-3h0m-2 0h0m-3-3h0m-3 4h0m-1-5h0m-2 4h0m-2-1h0m-1 0h0m0 3h0m-3 3h0m2 7h0m6-5h0m1 0h0m0 4h0m5-6h0m0 1h0m0 2h0m5 1h0m10 0h0m0 4h0m1-4h0m1-4h0m0 4h0m0 2h0m3-1h0m1-1h0m1 5h0m1-8h0m1 3h0m2 3h0m0 0h0m0-7h0m1 7h0m0-4h0m1 4h0m6-1h0m1-2h0m2 2h0m4 2h0m3-8h0m4 3h0m3 6h0m0 0h0m1-2h0m6 1h0m2-6h0m0-2h0m2 2h0m2 3h0m6 1h0m4-6h0m0 9h0m4-1h0m4-8h0m3 2h0m1 1h0m6-3h0m2 0h0m5 0h0m0 3h0m2 2h0m-3 12h0m-1-7h0m-1 5h0m-4-1h0m-2 2h0m-1-5h0m-1 4h0m-1 1h0m0 1h0m-3-3h0m-4 5h0m0-5h0m-3-3h0m-7-1h0m-1 2h0m-3 1h0m0 5h0m-4-5h0m-1-1h0m-3 5h0m0 0h0m-3 1h0m-1-5h0m-1 0h0m-3 6h0m-12-9h0m-1 3h0m-2 3h0m-1 3h0m-1-7h0m-1 0h0m-1-1h0m-2 8h0m0-1h0m-1-1h0m0-3h0m-2 5h0m-3-4h0m-9-5h0m-1 9h0m0 0h0m-1-8h0m0 5h0m-1-3h0m-1 0h0m-1-1h0m-4 3h0m-2-3h0m-1 1h0m0-2h0m0 7h0m-3-4h0m-1 4h0m-2-4h0m-2 1h0m-2 0h0m-2 2h0m-3 0h0m0 0h0m0-7h0m0 12h0m2 3h0m6-3h0m1 4h0m1-6h0m1 9h0m5-3h0m1-3h0m3-2h0m1 7h0m4-1h0m4-2h0m2-1h0m3-2h0m3 4h0m4-2h0m4 0h0m1 2h0m2 3h0m3-4h0m0-5h0m1 4h0m1-4h0m0 6h0m2-4h0m3-1h0m0 3h0m1-3h0m0 2h0m3 4h0m3-6h0m1 0h0m2 8h0m8-7h0m4 2h0m1-1h0m1-3h0m3 2h0m2 2h0m6-3h0m5 3h0m0-2h0m5 1h0m1 6h0m-4 2h0m-2 1h0m-4 5h0m-2 0h0m-1-3h0m-2 4h0m0-5h0m-11 3h0m-3-1h0m-4 4h0m-8-1h0m-7-6h0m-2 1h0m0 3h0m-4-4h0m-2 4h0m-1-4h0m-3-1h0m-1-1h0m-3 9h0m-1-7h0m-4 4h0m-1-6h0m-1 5h0m0 2h0m0-6h0m0 6h0m-1-3h0m0 4h0m-1 1h0m-2-3h0m-1-5h0m-4 3h0m-4 3h0m0-5h0m-4 1h0m-4-2h0m-1 6h0m-2-2h0m-4-5h0m-2 2h0m0 2h0m0 1h0m4 11h0m1 1h0m2-2h0m1 2h0m3-4h0m4-1h0m1 5h0m2-4h0m2 2h0m1-1h0m1 3h0m1-7h0m0 6h0m2-3h0m0 0h0m1 5h0m1-2h0m2-1h0m1-3h0m1 0h0m1 1h0m1 6h0m2-3h0m6-2h0m1-1h0m0-2h0m1 0h0m4-1h0m4 7h0m2-7h0m2 2h0m2 5h0m1-7h0m1 7h0m5-1h0m3-1h0m6 2h0m3-4h0m-25 11h0m-2-3h0m-2 8h0m-6-4h0m-1 4h0m-2-5h0m-2-2h0m-1-1h0m-8 8h0m-2-9h0m0 9h0m-4-4h0m0-2h0m-6-3h0m-1 8h0m-2 0h0m-2-2h0m0 2h0m-1-1h0m-3-4h0m4 7h0m2 2h0m1-2h0m1 6h0m7 1h0m3 2h0m6-2h0m1-7h0m1 0h0m0 7h0m2-2h0m4 3h0m2-3h0m0-2h0m1 1h0m-10 10h0m-5-2h0m-4-2h0m0 3h0" stroke="#4173b3" stroke-width="3.1"/>
<path d="M821 150h0m-7 15h0m1 3h0m3-4h0m-7 8h0m-1 6h0m-7 9h0m5-2h0m1-3h0m0 1h0m3 0h0" stroke="#4173b3" stroke-width="3.1"/>
<path d="M831 187h0m15 8h0m-15-3h0m-7 6h0m-13-8h0m-32 9h0m2 2h0m21 0h0" stroke="#f0812f" stroke-width="3.1"/>
<path d="M572 81h0m22 49h0" stroke="#3aa457" stroke-width="3.1"/>
<path d="M627 218h0m-41 11h0m28 20h0m6 0h0m-14 37h0" stroke="#f0812f" stroke-width="3.1"/>
<path d="M752 254h0" stroke="#d7302b" stroke-width="3.1"/>
<path d="M716 182h0m-5 11h0m-1 0h0m-31 5h0m-11-4h0m-13 5h0m-8 5h0m9-4h0m5 8h0m8 1h0m9-6h0m26 9h0m-4 0h0m-8 4h0m-9 1h0m-13-7h0m-6 1h0m-3 5h0m-1-4h0m-4 3h0m15 14h0m5-1h0m1-8h0m9 0h0" stroke="#d7302b" stroke-width="3.1"/>
<path d="M640 215h0m-2 2h0m-7 11h0m-44 15h0m1 3h0m3-3h0m28 5h0m12-1h0m2-4h0m-37 8h0m-3 2h0m15 9h0" stroke="#4173b3" stroke-width="3.1"/>
<path d="M645 213h0m-4 1h0m0 2h0m-4-1h0m-4 1h0m-1 0h0m-5 0h0m0-4h0m-2-2h0m0 0h0m-1 5h0m-2 1h0m-2 3h0m-15 0h0m-7 0h0m-14 10h0m4-2h0m3-1h0m4 1h0m1 1h0m1-5h0m1-1h0m1 7h0m1 0h0m0-1h0m3-2h0m0-2h0m1 2h0m6 3h0m0-2h0m3 1h0m0-1h0m1-2h0m1 2h0m1-7h0m2 6h0m0-6h0m1 2h0m1-1h0m1 3h0m1-3h0m0 6h0m4-3h0m2 1h0m0 1h0m3 1h0m2-7h0m0 1h0m2 8h0m1-9h0m1 3h0m5 0h0m0 0h0m4 6h0m0-4h0m4 2h0m-1 6h0m-3-3h0m0 0h0m-7 6h0m-1-1h0m-2 2h0m-3-2h0m-3 4h0m-2 0h0m-1-3h0m-2-6h0m-5 6h0m0 2h0m-4-8h0m0 6h0m0-2h0m0 1h0m0-3h0m-2 6h0m-3-3h0m0 0h0m-4-4h0m0 6h0m-3 1h0m0-7h0m-1 3h0m0 5h0m-1-1h0m-1-4h0m0 0h0m-1 1h0m-3-3h0m-2 2h0m-5 1h0m-5 0h0m-1 4h0m0-4h0m0 0h0m-3 3h0m-2 7h0m1-1h0m0-2h0m0 3h0m0-2h0m0 0h0m4-1h0m1-1h0m1 5h0m9-1h0m0 1h0m3-3h0m0 1h0m1 3h0m1 1h0m0-2h0m1-6h0m0 7h0m5-6h0m0 5h0m1 2h0m2-7h0m2 3h0m2-2h0m1 5h0m1 1h0m0 1h0m3-9h0m1 6h0m1-6h0m1 7h0m1-2h0m2-1h0m2-3h0m3 1h0m2-1h0m1 5h0m1 3h0m4-2h0m1 0h0m1-7h0m1 6h0m1-2h0m0-2h0m-7 8h0m-2 1h0m-7 4h0m-2-1h0m0-3h0m-1 2h0m-1 3h0m0-5h0m-2-1h0m0 0h0m-1 8h0m0-4h0m-1-3h0m-1 4h0m-1-1h0m-2 0h0m-1-4h0m-1 6h0m-3-3h0m0-1h0m-1 2h0m0-3h0m-1 7h0m-2-6h0m0-2h0m0 2h0m-3 2h0m0 3h0m0 2h0m-3-5h0m-2 0h0m-1-3h0m-3-1h0m0 4h0m0 5h0m-4-9h0m-1 7h0m-1 2h0m5 3h0m1-2h0m1 2h0m12 1h0m5-2h0" stroke="#d7302b" stroke-width="3.1"/>
<path d="M742 224h0m-5 10h0m-10 13h0m4 12h0m-6-5h0m-9 5h0m5 3h0m9 0h0m4 5h0m4-2h0" stroke="#f0812f" stroke-width="3.1"/>
<path d="M729 238h0m-39 7h0" stroke="#d7302b" stroke-width="3.1"/>
<path d="M704 227h0m-20 22h0m28 3h0m-15 3h0m43 6h0" stroke="#d7302b" stroke-width="3.1"/>
<path d="M623 296h0m1 13h0m1-3h0m1-2h0m0 2h0m-1 8h0m0-4h0m-2 8h0m0-3h0m-2 8h0m4-3h0" stroke="#d7302b" stroke-width="3.1"/>
<path d="M624 304h0" stroke="#4173b3" stroke-width="3.1"/>
<path d="M665 225h0m17 4h0m17-7h0m19 4h0m0-2h0m26 15h0m-2-3h0m-16 2h0m-10-1h0m-9 0h0m-3 2h0m0-3h0m-3-3h0m-6 1h0m-10-3h0m-9 5h0m1 9h0m17-1h0m11 3h0m26-5h0m1 4h0m4-2h0m0-3h0m2 2h0m2 6h0m13 4h0m-25 3h0m-8-5h0m0 4h0m-18 0h0m-1 0h0m-8 1h0m-10-4h0m23 10h0m2 7h0m21-3h0m21-1h0m-32 5h0" stroke="#f0812f" stroke-width="3.1"/>
<path d="M785 211h0m-7 5h0m37 8h0m12 3h0m12 4h0m-15 6h0m-51 10h0m-12 3h0m65 10h0m-26 14h0m-28 2h0m12 8h0m4 29h0" stroke="#f0812f" stroke-width="3.1"/>
<path d="M633 279h0m-3 2h0m1 1h0m0-1h0" stroke="#d7302b" stroke-width="3.1"/>
<path d="M731 217h0m-17 2h0m-8-1h0m-36 10h0m0-2h0m2 2h0m8-3h0m10-2h0m5 4h0m2 1h0m3-7h0m1 3h0m0 5h0m0-9h0m10 6h0m1-6h0m3 2h0m0 7h0m2-9h0m1 1h0m1 1h0m0 7h0m3-6h0m16 5h0m3 0h0m2-7h0m2 4h0m4 3h0m6 10h0m-2-8h0m-13 5h0m-2-3h0m-3-1h0m-1 2h0m-8-3h0m-2 0h0m0 3h0m-1 4h0m-3-3h0m0 3h0m-3-7h0m-1 4h0m-1-2h0m0 6h0m-2-1h0m-5-1h0m-3 3h0m-2-5h0m-1 3h0m-8-1h0m-10-5h0m-2 8h0m-1-7h0m-7 6h0m-7 5h0m1-3h0m6 0h0m1 1h0m1 2h0m3 3h0m2-6h0m4 6h0m1 3h0m15-6h0m1 2h0m5 1h0m4 0h0m1 2h0m10 1h0m4-4h0m1-2h0m2-3h0m3 0h0m2 5h0m4-1h0m6 3h0m8 1h0m6 5h0m-9-3h0m-1 8h0m0-4h0m-6-3h0m0 1h0m-4 7h0m-1 0h0m0-8h0m-1 1h0m-9-1h0m-1 2h0m-2 4h0m-2-7h0m-6 3h0m0-2h0m-6 4h0m-1-4h0m-2 4h0m-4 3h0m-8 1h0m-3-1h0m-3-3h0m-6 2h0m-1-1h0m3 8h0m1-4h0m1 0h0m15 1h0m2 1h0m1 1h0m5 3h0m4-5h0m2 1h0m1 7h0m1-8h0m0 4h0m1-4h0m2 4h0m11 0h0m0 1h0m1 3h0m1-6h0m1-3h0m0 2h0m2-1h0m10 8h0m0-4h0m6-5h0m-6 11h0m-10-1h0m-2 2h0m-5-1h0m-3-1h0m-5 1h0m-2 1h0m-7-2h0" stroke="#4173b3" stroke-width="3.1"/>
<path d="M573 69h0m4 32h0m8 15h0m1 4h0m4 9h0m-3 2h0m10 12h0m-2 15h0m20 20h0m-7-5h0m-3 8h0" stroke="#4173b3" stroke-width="3.1"/>
<path d="M705 234h0m-12 0h0m-15 11h0m3-2h0m23-1h0m15-1h0m1 7h0m23-6h0m0 7h0m1-9h0m-42 16h0m-9 12h0m58 6h0" stroke="#f0812f" stroke-width="3.1"/>
<path d="M632 219h0m-9 0h0m-29 7h0m2 2h0m0-3h0m2 4h0m6-5h0m1-1h0m1-2h0m1 0h0m0 0h0m1 6h0m3-7h0m4 0h0m1 3h0m5 0h0m1 1h0m8-1h0m1-1h0m4 5h0m4 2h0m0-4h0m-1 8h0m-1 6h0m-39-9h0m-5 2h0m-2-1h0m-1 5h0m-1 2h0m-1-4h0m0-2h0m-2 4h0m-6 12h0m1 0h0m1-1h0m0-3h0m3-4h0m0 1h0m1 7h0m0-4h0m31 5h0m3-3h0m14-1h0m3-2h0m0 0h0m0-2h0m-8 15h0m-2-5h0m-4 4h0m-6-1h0m-5 1h0m-7 3h0m-1 0h0m-4-1h0m-1-1h0m-1-3h0m-4 6h0m-1-3h0m-3 1h0m-1 1h0m-1 0h0m-7-5h0m0-2h0m7 9h0m4 0h0m5 0h0m2 3h0m3 1h0m9-2h0" stroke="#d7302b" stroke-width="3.1"/>
<path d="M737 179h0m-8-3h0m0 2h0m0 1h0m-1 0h0m-3-1h0m-1-4h0m-1 2h0m-4 1h0m0-4h0m-2 4h0m-1-3h0m0 5h0m-1-6h0m-2 4h0m0-2h0m-4 4h0m-2-4h0m-1 2h0m1 5h0m1 0h0m4 3h0m6 0h0m1 0h0m4-5h0m1 0h0m1 2h0m1 0h0m2 1h0" stroke="#4173b3" stroke-width="3.1"/>
<path d="M567 67h0m6 5h0m-3 4h0m0-3h0m2 10h0m2 3h0m0-4h0m3 6h0m0 1h0m2 9h0m-2-7h0m-1 4h0m-2 4h0m6 9h0m0-6h0m1 7h0m1 0h0m8 1h0m-2 5h0m-6 3h0m-2-7h0m4 14h0m8 1h0m3 13h0m-3 0h0m-3-9h0m-3 15h0m5-5h0m1 2h0m5 6h0m10 9h0m-1-7h0m-3 9h0m-3-5h0m-6 8h0m1 6h0m5-4h0m10 5h0m1 0h0m0 2h0m-2 0h0m-4 1h0m2 15h0m3-1h0m7-3h0m12 4h0m-15 3h0m-2 2h0" stroke="#d7302b" stroke-width="3.1"/>
<path d="M565 62h0m8 5h0m27 38h0m3 2h0m11 29h0" stroke="#3aa457" stroke-width="3.1"/>
<path d="M714 181h0" stroke="#f0812f" stroke-width="3.1"/>
<path d="M636 217h0m-6 2h0m-4 0h0m-9-1h0m-1 1h0m-27 9h0m9-6h0m7 1h0m3 5h0m3-8h0m5 1h0m2 5h0m3-1h0m2-5h0m1 6h0m1-6h0m1 1h0m1 1h0m7 4h0m2 1h0m1-2h0m4-1h0m0-1h0m1 11h0m-2 0h0m0 1h0m-1-1h0m0 4h0m-1-7h0m0 1h0m-45-1h0m-3 8h0m-2-4h0m-3 0h0m-6 13h0m2-7h0m8 4h0m29 4h0m2 0h0m10-2h0m1 2h0m1-2h0m1 0h0m6-6h0m0 2h0m-13 11h0m0-1h0m-1-3h0m0 1h0m-1 5h0m-2-1h0m-1-3h0m-1 4h0m0-4h0m-2 1h0m-2-1h0m-1 2h0m-1 1h0m-2 1h0m-2 3h0m-3-6h0m-2 6h0m0-4h0m0 0h0m-5-1h0m-1 1h0m-11 0h0m0 3h0m-1 1h0m0-3h0m-1 1h0m-2-3h0m-7-1h0m13 7h0m8 3h0m2-3h0m0 1h0m3 2h0m0-1h0m5-2h0m6 2h0m9-2h0" stroke="#d7302b" stroke-width="3.1"/>
<path d="M760 224h0" stroke="#d7302b" stroke-width="3.1"/>
<path d="M650 178h0m-67 7h0m2-4h0m39 4h0m-6 7h0m-17 6h0m5 5h0m9 3h0m31 2h0m-4 11h0m-6-1h0m-6-1h0m22 13h0m-62 5h0m-1 3h0m-3-8h0m14 13h0m9 4h0m39 0h0m13-1h0m-50 11h0m-21-2h0m-5-2h0m42 17h0m-5 0h0m-22 4h0m-2 14h0m54 0h0m11-1h0" stroke="#d7302b" stroke-width="3.1"/>
<path d="M860 236h0m-87 10h0m50 1h0m-52 25h0" stroke="#d7302b" stroke-width="3.1"/>
<path d="M708 179h0m-8 7h0m5-2h0m-5 11h0m-29-1h0m-2 5h0m5 1h0m26 7h0m0-5h0m13 10h0m-22 1h0m-3 4h0m-9-3h0m-10-3h0m-1 6h0m-14-5h0m-5 5h0m9 6h0m36-2h0m5 3h0" stroke="#d7302b" stroke-width="3.1"/>
<path d="M738 223h0m9 14h0m-3 2h0m-2-4h0m4 8h0m-7 10h0m-6 0h0m-15 4h0m7 3h0m8 10h0" stroke="#f0812f" stroke-width="3.1"/>
<path d="M839 199h0m-19 0h0m-38 8h0m3-3h0m2 2h0m0 3h0m2-2h0m6-3h0m1-2h0m3 4h0m5-5h0m4 1h0m2 0h0m1 0h0m7-1h0m0 7h0m0-8h0m1 4h0m1 4h0m1 1h0m0 0h0m2-9h0m3 8h0m11 0h0m2-6h0m1 4h0m1-3h0m0 6h0m3-3h0m10 3h0m1-1h0m1 6h0m0 4h0m-1 1h0m-1-6h0m-1 0h0m-2 2h0m0 3h0m-2 0h0m-1 1h0m-4-3h0m-3-4h0m-2-2h0m-2 2h0m0 0h0m-2 2h0m-9 1h0m-3-5h0m-1 0h0m0 3h0m0 5h0m-5-5h0m-2-1h0m-2 5h0m0 2h0m-1-5h0m-1 4h0m0-4h0m-3 3h0m-1-2h0m-1 1h0m0-6h0m-3 5h0m-7-5h0m0 4h0m-2 3h0m-3 0h0m-7-5h0m-8 6h0m-2-1h0m-2 0h0m-3-1h0m-5 12h0m6-3h0m0 4h0m1-2h0m1-5h0m3 1h0m0 3h0m0 3h0m8-2h0m1 2h0m1-4h0m4 0h0m0 2h0m0 1h0m0-5h0m4 0h0m1 2h0m2 3h0m1-6h0m1-2h0m0 3h0m0-3h0m6 5h0m0-1h0m5 5h0m2-2h0m1-6h0m5 6h0m0 0h0m1 2h0m2 0h0m0-2h0m0-2h0m1 3h0m3 0h0m1-1h0m0-1h0m3 3h0m0-2h0m2-4h0m3 1h0m6 4h0m2-4h0m0 5h0m0-5h0m3 1h0m0-1h0m0-4h0m1 9h0m1-3h0m3-2h0m0-3h0m2 1h0m5 1h0m0 1h0m1 5h0m1-5h0m1 1h0m3 2h0m1 1h0m3 0h0m0 10h0m-1-5h0m-2 2h0m-4-4h0m-1 7h0m-1-3h0m-2 3h0m-1-7h0m-2 8h0m-3-8h0m-2 6h0m-4-5h0m-1 4h0m-4-4h0m-5 1h0m-1 4h0m0-7h0m-3 4h0m-4 3h0m-3-5h0m0 7h0m-2-7h0m-6 4h0m-3-6h0m-2 6h0m0 3h0m-5-4h0m0-2h0m-1 3h0m-3-2h0m0-1h0m-3-3h0m-1 4h0m-2-4h0m0 2h0m-1-1h0m0 0h0m0 4h0m-2-2h0m0 0h0m0-2h0m-1-1h0m-11 1h0m-1 8h0m-3-1h0m-2 0h0m-1-4h0m-3 2h0m-4-1h0m-2 2h0m-1-6h0m-2 1h0m-1 1h0m-3 4h0m-1 1h0m0 11h0m0-4h0m1 0h0m0 2h0m1-5h0m1-1h0m1 8h0m0-2h0m4-7h0m1 3h0m4 6h0m2-9h0m1 4h0m0-4h0m4 1h0m1 1h0m0 1h0m2 5h0m2-6h0m2 6h0m1 1h0m0-7h0m0 2h0m0-4h0m2 7h0m0 0h0m3-1h0m3 2h0m1 0h0m2-8h0m0 0h0m1 8h0m6-5h0m0 0h0m7-2h0m1-1h0m1 4h0m0 1h0m2-2h0m7 6h0m1-6h0m0 6h0m1-6h0m0 0h0m6 6h0m3-4h0m2-3h0m1-1h0m1 8h0m4-5h0m0-1h0m1 3h0m4 0h0m2 3h0m1-4h0m2-1h0m0 2h0m1-2h0m3-4h0m1 2h0m2 5h0m1-1h0m0-5h0m2 0h0m2 6h0m0-7h0m4 1h0m1 0h0m3 11h0m-1 2h0m-1 0h0m0 1h0m0 1h0m-6-2h0m0-1h0m-2 2h0m-4-5h0m0 2h0m-1 4h0m0-2h0m-3-2h0m-2 4h0m0 2h0m-2 0h0m-1-1h0m-2-3h0m-1 5h0m0-9h0m-2 8h0m-4-4h0m0-1h0m-1 2h0m-2 4h0m-2-1h0m0-8h0m-2 5h0m-1 0h0m-2-2h0m-3 5h0m-1-4h0m-2-1h0m-1 6h0m0-6h0m-1-3h0m-2 3h0m-1 5h0m-2-5h0m0 0h0m-1 1h0m-9-2h0m0 7h0m-2-6h0m0 3h0m-5 2h0m-6-8h0m-6 3h0m-1 6h0m-2-8h0m-1 4h0m-2 1h0m-1-6h0m-2 6h0m-5-5h0m-2-1h0m-3 6h0m0-2h0m-1-1h0m0-1h0m-2 5h0m-1-6h0m-4 4h0m-2 1h0m-1 2h0m0-6h0m-2 3h0m6 11h0m2 0h0m0 1h0m2 0h0m1 1h0m7 1h0m1-2h0m0-1h0m3 3h0m1-4h0m3 3h0m1 0h0m0-6h0m4 1h0m1 2h0m6-2h0m2 2h0m0 4h0m1-4h0m1 1h0m0 2h0m2 1h0m0-4h0m6-5h0m0 7h0m1-4h0m1 1h0m0-1h0m3 5h0m0 0h0m1-2h0m3 1h0m0-3h0m0 0h0m8 3h0m0-7h0m3 4h0m2-4h0m2 7h0m1 0h0m1-4h0m0 4h0m1-6h0m2-1h0m4 9h0m0-9h0m6 4h0m1-2h0m4 6h0m4-1h0m1 2h0m1 0h0m2-2h0m1-7h0m-3 18h0m-2-3h0m0 1h0m-2-1h0m-2 4h0m0 0h0m-2-8h0m-2-1h0m0 0h0m-1 0h0m0 6h0m-3-4h0m-2 6h0m0-2h0m-1-2h0m-1-2h0m-2 5h0m-3-7h0m-2 3h0m0 0h0m-1-3h0m-6 7h0m-2-1h0m-3-6h0m0 9h0m-1-1h0m-1 1h0m0-5h0m-1 5h0m0-7h0m-1 6h0m-1-1h0m-1-6h0m-3 8h0m0-7h0m-1-2h0m-5 0h0m-5 3h0m-2 1h0m0-1h0m0 5h0m-8 0h0m0-4h0m0 3h0m-1-3h0m-2-4h0m0 4h0m-3 2h0m-1-4h0m-9 0h0m0 5h0m-1 0h0m-1-5h0m-6 16h0m0-3h0m3 4h0m0-6h0m0 0h0m1 1h0m6 0h0m3 1h0m2 4h0m2-4h0m2-1h0m1-1h0m1-2h0m0 7h0m3-4h0m0-2h0m0 3h0m4 1h0m11 1h0m2 2h0m1-6h0m0 4h0m2-1h0m3 3h0m2-5h0m1-1h0m1-1h0m1 4h0m0-3h0m3 3h0m3-4h0m1 3h0m1-5h0m0 2h0m1 0h0m0-1h0m14-1h0m9 2h0m0-1h0m-32 9h0m-2 3h0m-3 4h0m-2-6h0m-2 8h0m-1-1h0m-2-7h0m0 4h0m-2-3h0m-1 3h0m0 0h0m-2 4h0m0-1h0m-7 0h0m-4 1h0m-5-6h0m-1-2h0m-1 3h0m-1 4h0m-2 0h0m-1-4h0m-1 3h0m-2-4h0m-1 2h0m-1 3h0m-4-7h0m8 12h0m0 0h0m2-3h0m2 6h0m8 2h0m0-4h0m3 3h0m1-3h0m4 5h0m1-3h0m5-6h0m0 0h0m0 7h0m2-3h0m2-3h0m-10 11h0m-1 2h0m-7 0h0m-1-1h0m-2 2h0m-5-2h0" stroke="#4173b3" stroke-width="3.1"/>
<path d="M591 185h0m37 32h0m5 11h0m8 16h0m-29 29h0" stroke="#4173b3" stroke-width="3.1"/>
<path d="M563 60h0m16 18h0m21 21h0m-4-1h0m-9-8h0m2 11h0m10 0h0" stroke="#3aa457" stroke-width="3.1"/>
<path d="M841 197h0m0 2h0m-8-3h0m-14 0h0m-32 9h0m6-3h0m2-2h0m4 0h0m4 3h0m16-3h0m3 4h0m6-4h0m2 1h0m2 2h0m1 0h0m10-3h0m0 0h0m7 6h0m1 0h0m2-4h0m1 1h0m2 6h0m2-3h0m7 9h0m-2 0h0m-3 1h0m-1-5h0m-1 2h0m0 4h0m-1-4h0m-74-3h0m-3 0h0m-5 3h0m-2 1h0m-1 2h0m-1 1h0m-5-3h0m-5 13h0m2 1h0m2-7h0m2 0h0m1 6h0m1-6h0m89-1h0m1 2h0m2 1h0m1-2h0m1 5h0m2-3h0m0 1h0m2 4h0m0 1h0m-2 4h0m-1-3h0m-99 0h0m-5 5h0m0-2h0m-2 1h0m-3 5h0m-1 4h0m2-3h0m3 2h0m0-1h0m105 1h0m2 2h0m2 4h0m-1 5h0m0 6h0m-1-9h0m-2 7h0m-5 1h0m-97-1h0m-7-7h0m-1 9h0m-1-6h0m-1 0h0m-1 4h0m3 6h0m1 6h0m1-9h0m1 9h0m1-2h0m1 0h0m98-2h0m4-1h0m2-3h0m1 4h0m0 2h0m-8 4h0m-5 7h0m0 0h0m-4 0h0m0 0h0m-1-4h0m0 1h0m-1-1h0m0 2h0m-1-1h0m-4 3h0m-1 0h0m-77-4h0m-2 1h0m0-2h0m-4 5h0m-4-7h0m6 9h0m2 2h0m1 4h0m0 3h0m4-8h0m51 7h0m7-3h0m5-2h0m9-3h0m0 6h0m4-6h0m1 4h0m2-3h0m0 1h0m0 1h0m2-3h0m9 1h0m-42 12h0m-3-2h0m-2 6h0m0 2h0m-41 0h0m-1-1h0m-1-3h0m-1-1h0m0-4h0m-1 0h0m-1 1h0m5 11h0m1-2h0m3 7h0m10 0h0m15-3h0m2 0h0m0-3h0m2-1h0m4 2h0m-10 10h0m-2 1h0m0-1h0m-8 0h0m0 1h0m0 0h0m-3 3h0m-5-4h0" stroke="#4173b3" stroke-width="3.1"/>
<path d="M633 275h0m-6 2h0m8 8h0" stroke="#f0812f" stroke-width="3.1"/>
<path d="M633 277h0m-8 1h0m3 4h0" stroke="#4173b3" stroke-width="3.1"/>
<path d="M670 223h0m17 5h0m26-3h0m6 4h0m12-4h0m3 2h0m3 2h0m-4 3h0m-11 6h0m-4-6h0m-17 2h0m-6 3h0m0 0h0m-7 0h0m-3-3h0m9 7h0m0 8h0m7-6h0m2 0h0m1-3h0m1 6h0m0-3h0m6-2h0m2 0h0m9 0h0m7 7h0m5-3h0m4-2h0m3-1h0m-5 16h0m-6-3h0m-7-5h0m-7 0h0m-5 1h0m-7 1h0m-2 6h0m0-5h0m-15 5h0m12 5h0m0 4h0m1-1h0m1-6h0m10 0h0m1 8h0m4-3h0m13-1h0m1 2h0m2-4h0m4 2h0m10 2h0m10 12h0m-6-6h0m-3 1h0m-3 2h0m-3-3h0m-7 2h0m-2-4h0m-4 5h0m0 0h0m-2-5h0" stroke="#4173b3" stroke-width="3.1"/>
<path d="M636 279h0m-2-1h0m-2-1h0m0 1h0m-2 0h0m-1 3h0m1 2h0m1 1h0m1-4h0m1 0h0" stroke="#d7302b" stroke-width="3.1"/>
<path d="M822 149h0m2 1h0m-2 8h0m0-6h0m-2 2h0m-1 4h0m-5-5h0m-2 14h0m2 1h0m1-6h0m0 7h0m0-4h0m2 3h0m2-7h0m1-1h0m-8 16h0m-1 2h0m-1-5h0m-1 2h0m-3 1h0m-1 1h0m-5 9h0m1 1h0m5-3h0m2-1h0m0 3h0m1-1h0m1-5h0m2 3h0m-2 12h0" stroke="#f0812f" stroke-width="3.1"/>
<path d="M726 229h0m10 0h0m0-3h0m3 3h0m0-4h0m3 4h0m3-3h0m0-2h0m3 1h0m0 0h0m0 0h0m11 0h0m-2 9h0m-3 4h0m-4-4h0m0-2h0m-1 6h0m-3-6h0m0-2h0m-2 7h0m-8-7h0m-4 3h0m0 4h0m-5-3h0m0-4h0m-2 2h0m-2-2h0m-1 1h0m1 9h0m3 5h0m1-2h0m1 2h0m0 3h0m0-7h0m4 7h0m1 1h0m0 0h0m0-7h0m1 5h0m2-2h0m0-5h0m2 0h0m1 4h0m2-4h0m2 7h0m0-1h0m1-6h0m1 9h0m1-7h0m1-1h0m0 3h0m3-4h0m1 4h0m0 3h0m2 1h0m3 10h0m-3-1h0m-1-6h0m-2 7h0m-1 0h0m-2-6h0m-3 1h0m-7-1h0m0 2h0m-9 0h0m-1-2h0m-1 1h0m-2-2h0m-5 9h0m1 2h0m4-1h0m2 3h0m5 0h0m1 4h0m2-3h0m3-5h0m1 0h0m0 4h0m3-2h0m0 6h0m2-4h0m1 2h0m2 2h0m1-1h0m1-7h0m0 0h0m2 8h0m5-3h0m-11 7h0m-1-2h0m-1 1h0" stroke="#4173b3" stroke-width="3.1"/>
<path d="M624 298h0m-2 6h0m3-4h0m0 3h0m-1 12h0m-4 8h0" stroke="#f0812f" stroke-width="3.1"/>
<path d="M675 227h0m39-2h0m2 2h0m9 1h0m11-2h0m15 3h0m-21 8h0m-4-4h0m-2-2h0m-8 8h0m-5-6h0m-9 2h0m-3 4h0m-6-4h0m-14-3h0m-7 5h0m11 11h0m2-8h0m8 5h0m4-2h0m5 5h0m20 0h0m9-7h0m2 5h0m23-1h0m-6 12h0m-13-3h0m-23 2h0m-20 1h0m-1-2h0m13 9h0m4 5h0m7-8h0m6 7h0m12-6h0m5-1h0m11 9h0m-15 4h0m-12 1h0m-3-4h0" stroke="#f0812f" stroke-width="3.1"/>
<path d="M620 212h0m-13 11h0m21 2h0m20 7h0m-4 3h0m-5-4h0m-8 8h0m-42-7h0m-2 3h0m34 9h0m2 5h0m8-4h0m-9 9h0m-7-3h0m-19 0h0" stroke="#4173b3" stroke-width="3.1"/>
<path d="M626 209h0m16 6h0m-28 5h0m10 4h0m12-4h0m-18 11h0m-23 12h0m8 5h0m33-1h0m1-1h0m-26 9h0m0-2h0m-8 4h0m-12-3h0m-3 6h0" stroke="#f0812f" stroke-width="3.1"/>
<path d="M676 189h0m8-1h0m11-2h0m11 2h0m5 0h0m3-3h0m1 2h0m7 3h0m-3 0h0m-3 1h0m-22 5h0m-3 1h0m-10 1h0m-4-8h0m-9 8h0m-2-5h0m-6 3h0m-6 9h0m18-5h0m20 6h0m1-3h0m24 9h0m-2 6h0m-6-2h0m-1 2h0m-3-7h0m-9 5h0m-2-2h0m-11 3h0m0-4h0m-6 4h0m-5 1h0m-1-8h0m-5 7h0m-15 2h0m9 4h0m6 3h0m1-2h0m8 2h0m4-3h0m10-2h0m8 4h0m3-1h0m1-4h0m2 0h0" stroke="#4173b3" stroke-width="3.1"/>
<path d="M712 227h0m-10 15h0m36 2h0m0 8h0m-31 8h0m7 7h0m12 0h0m28 10h0" stroke="#f0812f" stroke-width="3.1"/>
<path d="M606 218h0m39 49h0" stroke="#f0812f" stroke-width="3.1"/>
<path d="M567 60h0m1 3h0m1 2h0m5 12h0m3 6h0m2-2h0m2 0h0m14 15h0m-1-1h0m-2 3h0m-1-4h0m0-3h0m-2 3h0m0-3h0m13 15h0m0-1h0m1 3h0m3 1h0m0-5h0m0 5h0m2 4h0m9 15h0m0-2h0m2-5h0m6 7h0m0 5h0m-3 1h0m-3 0h0" stroke="#4173b3" stroke-width="3.1"/>
<path d="M725 217h0m-10 8h0m14 10h0m0 3h0m-41 1h0m-14 8h0m52-6h0m24 16h0m-21-6h0" stroke="#d7302b" stroke-width="3.1"/>
<path d="M596 283h0" stroke="#f0812f" stroke-width="3.1"/>
<path d="M642 217h0m-1 2h0m-1-2h0m-1 0h0m-1 1h0m0-8h0m-1 6h0m0-1h0m-3 3h0m-1-5h0m0 2h0m-2-3h0m-5 1h0m-4 6h0m0-2h0m-2-4h0m-9 5h0m-1 1h0m-2-2h0m-20 11h0m1 0h0m1-1h0m3 0h0m2-4h0m0 0h0m1 2h0m0 1h0m1 1h0m2 0h0m0 2h0m4-1h0m2 0h0m1-3h0m0 0h0m1-2h0m1 0h0m2 0h0m1-1h0m0-2h0m0 7h0m0-3h0m2-2h0m1 5h0m1 2h0m1-6h0m0 2h0m3-2h0m3 1h0m2-1h0m0 1h0m3 1h0m0 1h0m3-5h0m5 1h0m2 4h0m2-2h0m3 0h0m0 0h0m2 2h0m3-2h0m0 9h0m-1-2h0m-1 7h0m-2-8h0m-1 8h0m0-3h0m-1 2h0m-1-7h0m-1 9h0m0-2h0m-3-5h0m-1 7h0m-1-7h0m-2 1h0m0 6h0m0-1h0m-1-3h0m0 3h0m0 0h0m0-6h0m-5 2h0m0-3h0m-1 3h0m0 2h0m-3 3h0m0-7h0m-7 3h0m-2 2h0m0 1h0m-2-2h0m-2 3h0m-3-5h0m-2-4h0m-1 8h0m0-5h0m-1-1h0m0-2h0m-1 7h0m-3-7h0m-1 3h0m0 1h0m-1 4h0m-4-1h0m0-3h0m-1 4h0m0-7h0m-1 8h0m-4-4h0m0-3h0m-2 0h0m-4 12h0m0 4h0m1 0h0m2-1h0m1-3h0m2 5h0m1-5h0m0 1h0m0 3h0m3-6h0m4 5h0m1-5h0m0 6h0m3-2h0m1 2h0m2-3h0m4-2h0m0 4h0m2-5h0m0 6h0m1 0h0m0-6h0m8 0h0m0 7h0m1-9h0m0 3h0m3 1h0m2 1h0m3 4h0m4-3h0m0-3h0m3 0h0m1 4h0m1-7h0m0 7h0m5-1h0m2-6h0m-10 12h0m-3 2h0m-1-3h0m-1-1h0m-2 0h0m0 0h0m-2 4h0m-2 4h0m-3-4h0m-1-4h0m0 4h0m0 2h0m-1 0h0m-2 3h0m-4-7h0m0-2h0m-1 6h0m0-3h0m0 2h0m-1-4h0m-3 7h0m-6 1h0m0-6h0m-1 1h0m-4 3h0m-2-3h0m0 5h0m-1-3h0m0 0h0m-1-5h0m-1 5h0m-2 1h0m0 2h0m4 2h0m7 1h0m10-2h0m0 0h0" stroke="#d7302b" stroke-width="3.1"/>
<path d="M597 276h0m-1-2h0m-2 3h0m-2 0h0m0-3h0m-1 3h0m-1-1h0m-1 2h0m0-4h0m0 4h0m-1 1h0m-1-2h0m0 4h0m0 1h0m2 3h0m0-2h0m0 1h0m1-2h0m0 5h0m0-7h0m3 3h0m0-3h0m1 5h0m0-5h0m1 6h0m2-5h0m0-1h0m2 1h0m0-1h0m2 0h0m-10 10h0" stroke="#d7302b" stroke-width="3.1"/>
<path d="M713 177h0m-29 11h0m2-3h0m5 2h0m3 2h0m3-2h0m4-1h0m4 0h0m12-5h0m3 6h0m1 3h0m-3 3h0m-1-1h0m0-2h0m-10 6h0m-1-3h0m-1 5h0m-1-6h0m-1 2h0m-1 5h0m0-9h0m-3 9h0m-1-8h0m-5 5h0m-6 2h0m-9-1h0m-1-2h0m-1-4h0m-2 7h0m-7-6h0m-4 3h0m-3 0h0m-7 4h0m-1 4h0m10 6h0m3-1h0m3-3h0m1 4h0m1-6h0m4 6h0m0-4h0m8-4h0m1-1h0m3 4h0m3 3h0m4-6h0m2 0h0m5 7h0m2 0h0m4 0h0m0-5h0m1 6h0m2-6h0m2 0h0m0-2h0m1 4h0m0 2h0m2-1h0m6 4h0m-2 0h0m-3 6h0m-1-5h0m-2-1h0m-3 2h0m-7-1h0m-6 7h0m0-2h0m-1-1h0m-1 0h0m0 2h0m-1-4h0m0-1h0m-8-1h0m-1 1h0m-1 7h0m-4-2h0m-3-6h0m0 5h0m-4-6h0m0 1h0m-14 0h0m-7 5h0m-3-3h0m12 14h0m3-3h0m14-3h0m4 1h0m4 3h0m3 3h0m4-4h0m3 2h0m10-4h0m7-2h0m1 1h0m-31 9h0m-18 0h0" stroke="#f0812f" stroke-width="3.1"/>
<path d="M573 77h0m13 30h0m5 13h0m3 23h0m0 0h0m4 4h0m3 7h0m-1 14h0m6 18h0m4-3h0" stroke="#4173b3" stroke-width="3.1"/>
<path d="M821 150h0m-8 14h0m3 3h0m1-1h0m1-6h0m-5 15h0m0-3h0m0 1h0m0 4h0m-6-3h0m-4 11h0m3 3h0m2-5h0" stroke="#4173b3" stroke-width="3.1"/>
<path d="M717 177h0m-1 1h0m3 2h0m5 1h0m8 1h0" stroke="#f0812f" stroke-width="3.1"/>
<path d="M628 297h0m-4 1h0m-1 9h0m2 0h0m3 3h0m-2 0h0m-1 8h0m-4 0h0m-1-4h0m-1 11h0m3-4h0m1-1h0" stroke="#d7302b" stroke-width="3.1"/>
<path d="M572 79h0m0 0h0m-2-2h0m0-2h0m0-1h0m-1-2h0m-3 1h0m-1 6h0m5 5h0m2 2h0m3-3h0m4 3h0m4 13h0m-5-7h0m0 7h0m0-7h0m-4 10h0m0 5h0m3-7h0m1 0h0m1 0h0m0 8h0m1-6h0m3-2h0m0 5h0m7 8h0m-2 6h0m0-2h0m-2-5h0m-1 7h0m-3-8h0m-3 9h0m0 1h0m7-1h0m2 1h0m0 1h0m1 6h0m4-1h0m2-1h0m2 7h0m-3 6h0m-4 9h0m6-8h0m6 9h0m1-1h0m2 8h0m-11 2h0m-1 0h0m-2-3h0m7 13h0m0-1h0m4-3h0m5-1h0m4 6h0m1-1h0m-2 11h0m-1-1h0m0-4h0m-2 3h0m-2-6h0m-2 3h0m-1 2h0m17 10h0m2 2h0m2 4h0m-4-1h0" stroke="#d7302b" stroke-width="3.1"/>
<path d="M741 218h0m-4 0h0m-11 0h0m-37 10h0m6-1h0m16 1h0m0-6h0m3 0h0m0 6h0m5-7h0m3 2h0m6 6h0m0-3h0m5-1h0m6 4h0m2-2h0m0 1h0m2-2h0m3-1h0m4 4h0m2 8h0m0 2h0m-5-1h0m0-5h0m0-2h0m-5 0h0m-2 6h0m-11-7h0m-1 7h0m-5-5h0m-1 2h0m-4-3h0m-2 6h0m-5-3h0m-4 5h0m-2-8h0m-7-1h0m-6 2h0m-5 2h0m-4 5h0m0-8h0m-5 5h0m-14-2h0m0-2h0m15 12h0m2-1h0m0 6h0m0-3h0m6-4h0m10 1h0m6-3h0m2 2h0m1-1h0m0 7h0m2-7h0m1 0h0m4 5h0m8 1h0m6-3h0m0 1h0m3-4h0m5 7h0m1 0h0m1-3h0m1-5h0m1 4h0m3-2h0m3 4h0m5 0h0m1 3h0m10 1h0m-7 7h0m-2-7h0m-1 8h0m-1-2h0m-2-3h0m-1 1h0m-2 0h0m-3 3h0m0-6h0m-3 6h0m-2-1h0m-1-4h0m-3 0h0m-2 5h0m-1-2h0m-2 2h0m-4-5h0m-3-1h0m-2 5h0m-2 0h0m-3-2h0m0 3h0m-2-4h0m-2 4h0m0-2h0m-1 3h0m-7-6h0m-1 6h0m-4-2h0m-2 0h0m0-2h0m0 5h0m-9-9h0m-4 6h0m-2-3h0m6 9h0m5-2h0m2 3h0m10 2h0m2 2h0m7-6h0m5 7h0m4 1h0m4-6h0m0 4h0m7-4h0m1 4h0m5-5h0m2-1h0m8 2h0m0 1h0m0 8h0m-1 0h0m-1 0h0m-16-2h0m-3 0h0" stroke="#4173b3" stroke-width="3.1"/>
<path d="M563 64h0m6 3h0m1-1h0m6 6h0m10 15h0m4 9h0m4 7h0m3 1h0m12 6h0m-3 3h0m-4-1h0m12 8h0m1 5h0m4-1h0m3 4h0m0-7h0" stroke="#d7302b" stroke-width="3.1"/>
<path d="M571 74h0m2 12h0m2-2h0m5 8h0m-4 6h0m-3 7h0m10 7h0m-3 1h0m23 39h0m5 28h0m4 0h0m4 8h0" stroke="#f0812f" stroke-width="3.1"/>
<path d="M610 181h0" stroke="#3aa457" stroke-width="3.1"/>
<path d="M721 168h0m12 10h0m-4-4h0m-2-3h0m-1 8h0m-2-5h0m0 4h0m0-6h0m-1 3h0m-2 2h0m0-1h0m-2 3h0m-3-2h0m-2 0h0m-8 6h0m10-1h0m2 0h0m0-2h0m3 2h0m1 0h0m2-2h0m1 5h0m1-5h0m2 5h0m5-5h0" stroke="#4173b3" stroke-width="3.1"/>
<path d="M708 247h0" stroke="#d7302b" stroke-width="3.1"/>
<path d="M817 188h0m3-4h0m7 3h0m3 2h0m12-1h0m-12 8h0m0-1h0m-4-5h0m-13 9h0m-23-5h0m-16 7h0m2 2h0m12 4h0m2-3h0m6-2h0m6 0h0" stroke="#4173b3" stroke-width="3.1"/>
<path d="M828 200h0m8 12h0m-65 7h0m69 7h0m-69 23h0m41-7h0m18 2h0m4-4h0m-74 42h0m42 8h0m-36 3h0m9 11h0m19-1h0" stroke="#f0812f" stroke-width="3.1"/>
<path d="M565 64h0m4-2h0m3 6h0m2 0h0m6 11h0m-3-5h0m0 5h0m1 8h0m8 0h0m4-4h0m1 5h0m14 9h0m-12-4h0m2 12h0m1-5h0m1 5h0m3-1h0m2 0h0m6 12h0m3 4h0m1 3h0m5-3h0m1 7h0m2-6h0m4 7h0m0-1h0m6-1h0m-9 5h0" stroke="#f0812f" stroke-width="3.1"/>
<path d="M627 295h0m-2 20h0m-1-1h0m-2 4h0m-3 6h0m3-2h0m1-2h0" stroke="#4173b3" stroke-width="3.1"/>
<path d="M802 189h0m4-1h0m29 7h0m-15 2h0m-16-2h0m0-2h0m-1 5h0m-6 0h0m-19-1h0m1 9h0m2-1h0" stroke="#f0812f" stroke-width="3.1"/>
<path d="M630 216h0m-14 1h0m-2 0h0m-15 8h0m30-1h0m1 1h0m1-4h0m14 3h0m0 5h0m-11 3h0m-28 3h0m-9 4h0m-1 0h0m-6-6h0m-1 16h0m26-1h0m5-4h0m6 1h0m1 5h0m-9 4h0m-25-2h0m-3 5h0m-8 1h0" stroke="#f0812f" stroke-width="3.1"/>
<path d="M747 239h0m-16-8h0m-7 16h0m4 0h0m2 2h0m17-9h0m-8 18h0m-3-5h0m-5 2h0m9 5h0" stroke="#f0812f" stroke-width="3.1"/>
<path d="M737 237h0m11 11h0m-10 22h0" stroke="#d7302b" stroke-width="3.1"/>
<path d="M564 62h0m3 3h0m15 13h0m-3 0h0m-4 1h0m-3-5h0m14 10h0m3 2h0m9 14h0m14 15h0m-1 3h0m-1 1h0m-1-4h0m0 3h0m4 3h0" stroke="#d7302b" stroke-width="3.1"/>
<path d="M830 279h0m-18-1h0" stroke="#d7302b" stroke-width="3.1"/>
<path d="M564 61h0m12 11h0m8 17h0m10 12h0m5 5h0m6-5h0m12 19h0m0 4h0m5 0h0" stroke="#3aa457" stroke-width="3.1"/>
<path d="M631 179h0m-40 7h0m41 7h0m21 28h0m-38 10h0" stroke="#4173b3" stroke-width="3.1"/>
<path d="M622 217h0m-14 2h0m-12 10h0m0 0h0m14-2h0m3-2h0m0 1h0m0 0h0m5-3h0m1-1h0m2 1h0m12-2h0m1 2h0m0 2h0m10 10h0m-4 3h0m0-4h0m-2 1h0m-2 4h0m-3-1h0m-2 0h0m-33-7h0m-2 1h0m-2 1h0m-4 2h0m-2-5h0m-2 8h0m-3 0h0m0-8h0m-2 7h0m-2 4h0m1 8h0m4-8h0m3-1h0m40 2h0m1 5h0m2 0h0m3-5h0m1 2h0m1 4h0m1-8h0m0 6h0m4-6h0m-16 10h0m-3 8h0m-5-4h0m0 1h0m-1-1h0m-3-2h0m-4 4h0m-1 0h0m0-2h0m-6 4h0m0-2h0m-3 2h0m-4-2h0m-2 2h0m-1-2h0m-1 1h0m0-4h0m0 1h0m-4-4h0m-2 1h0m1 12h0m2-3h0m4 1h0m7 1h0m1-2h0m5 1h0" stroke="#d7302b" stroke-width="3.1"/>
<path d="M634 284h0" stroke="#4173b3" stroke-width="3.1"/>
<path d="M715 168h0m17 4h0m-3 1h0m-1 1h0m-2 0h0m-1 3h0m0-6h0m0 3h0m-1 4h0m0-1h0m-2-1h0m0 2h0m-1-5h0m-2 3h0m-1-5h0m-1 6h0m0-7h0m-1 5h0m-4 4h0m-2-3h0m-8 0h0m0 10h0m12-6h0m2 3h0m1 1h0m0-3h0m1 2h0m0 2h0m2-5h0m0 0h0m0 6h0m5-3h0m0-1h0m0 3h0m1-2h0" stroke="#4173b3" stroke-width="3.1"/>
<path d="M724 176h0m-4 1h0m-5 3h0m3 4h0m10-3h0" stroke="#f0812f" stroke-width="3.1"/>
<path d="M625 298h0m-2 18h0m-4 5h0m2 4h0" stroke="#f0812f" stroke-width="3.1"/>
<path d="M675 229h0m1 0h0m13-4h0m17-4h0m15 3h0m3-3h0m2 4h0m1 0h0m14-1h0m1-2h0m2 0h0m6 7h0m-2 9h0m-3 1h0m-3-4h0m0 2h0m-4 0h0m-5-4h0m-3-2h0m-1 5h0m-5-5h0m0 7h0m-1-5h0m-2 2h0m-3-4h0m0 3h0m-2 2h0m0-1h0m-2 0h0m-1 0h0m-4-5h0m-2 3h0m-2 0h0m-7-3h0m-1 9h0m-2-3h0m-1-6h0m-4 9h0m-2-1h0m-1-6h0m-1 5h0m-9-6h0m-2 4h0m-8 4h0m-2-8h0m5 11h0m1-2h0m6 5h0m3-3h0m0-2h0m1 8h0m9-2h0m14-5h0m5-1h0m1 5h0m11 3h0m1-8h0m3 9h0m3-9h0m3 9h0m1-5h0m2 2h0m1-6h0m5 5h0m5-3h0m0 7h0m1-3h0m2-6h0m5 3h0m3 9h0m-3 3h0m0 3h0m-1-2h0m-2-5h0m-6 4h0m-5-3h0m0 5h0m-1-2h0m-1-1h0m-3 1h0m-2-2h0m-6 0h0m0-3h0m0 1h0m-5-1h0m-3 1h0m-2-1h0m-8 9h0m-4-3h0m0 0h0m-1-5h0m-3 8h0m-1-9h0m-2 8h0m-4-5h0m-1 6h0m-1-2h0m-3-6h0m-8 2h0m0 7h0m6 0h0m4 1h0m5 0h0m1 3h0m4 3h0m10-2h0m1 0h0m0-2h0m1-2h0m1 3h0m2-1h0m3 4h0m1-2h0m0 0h0m1 3h0m3-3h0m1 4h0m3-8h0m1 5h0m7-2h0m1-1h0m15-2h0m0-1h0m0 14h0m-21 2h0" stroke="#4173b3" stroke-width="3.1"/>
<path d="M845 199h0m-8 0h0m-8 0h0m-3 0h0m-48 8h0m8-3h0m3 4h0m1-5h0m2-1h0m1 2h0m1 4h0m0-3h0m1 1h0m1 3h0m1-6h0m1 0h0m7 4h0m2-6h0m5 0h0m0 2h0m3 6h0m1-3h0m3 1h0m1-6h0m2 1h0m3 1h0m3-2h0m3 8h0m2-3h0m0 0h0m5-4h0m0 6h0m4-8h0m2 9h0m2-4h0m2 2h0m14 12h0m-2-5h0m-3-1h0m-4 2h0m0 0h0m-5-2h0m-2 0h0m-1 1h0m-5 2h0m-2-1h0m-2 4h0m-1-4h0m0 0h0m-1-2h0m-1 6h0m-1-8h0m-1 7h0m0 0h0m-6-7h0m-1 0h0m-1 4h0m-1 2h0m0-2h0m-1 4h0m0-3h0m-2-5h0m-1 4h0m0 1h0m0-4h0m-1 7h0m-3-1h0m-3-4h0m-1 2h0m-1-4h0m-7 1h0m-3-3h0m-2 0h0m-1 2h0m-3 5h0m-1-1h0m-2-1h0m-2 1h0m-1-6h0m-1 3h0m0-3h0m-4 8h0m-1-8h0m-3 7h0m-4-2h0m-4 0h0m1 6h0m1 6h0m0-6h0m1 6h0m3-3h0m4 4h0m0-5h0m3 6h0m0-9h0m1 0h0m3 3h0m1 3h0m7-2h0m0-3h0m0 0h0m1 0h0m0 8h0m1-6h0m1 1h0m1 0h0m4 0h0m0-3h0m1 3h0m1 3h0m5-6h0m5 6h0m1-2h0m1 2h0m6-3h0m2 5h0m3-1h0m4-4h0m2 3h0m4-3h0m1-2h0m2 4h0m2-4h0m1-2h0m1 6h0m4 3h0m2-6h0m1-1h0m4 0h0m1-2h0m1 8h0m3-5h0m0 3h0m4 0h0m0 12h0m-2-1h0m0-5h0m-3 6h0m-1 1h0m0-3h0m-1-5h0m-5 0h0m-1 0h0m-3 6h0m-2 0h0m-1-6h0m-2 4h0m0-4h0m-1 8h0m-2-7h0m-1 0h0m-3-1h0m-1 8h0m-3-2h0m0-6h0m-2 0h0m-3 8h0m0-8h0m-1 7h0m-1-8h0m0 8h0m-1-5h0m-4 3h0m-1-4h0m-3 2h0m-6 0h0m-1-2h0m-1 2h0m-4 3h0m-11 2h0m-2 0h0m-2-8h0m-2 0h0m-1 5h0m-7-1h0m-3 2h0m-3-1h0m-7-5h0m0-1h0m-2 7h0m0 1h0m-1-4h0m-1-4h0m-1 7h0m0 0h0m-5-1h0m-4 7h0m3 0h0m1 3h0m5-5h0m1 5h0m0-3h0m4 6h0m2-1h0m0 1h0m1-4h0m1 4h0m1-1h0m1-8h0m0 9h0m1-5h0m5-4h0m9 4h0m3-3h0m1 1h0m0-1h0m0 3h0m3 2h0m1-5h0m2 6h0m0-2h0m2-4h0m4-1h0m2 9h0m3-4h0m9 3h0m0-1h0m1-5h0m0 7h0m1-6h0m0-2h0m3 0h0m7 0h0m0 7h0m4 0h0m0 0h0m2-8h0m2 5h0m2-1h0m2-1h0m1-3h0m1 7h0m1 2h0m0 0h0m2-6h0m1 6h0m0-7h0m3-2h0m3 9h0m0-4h0m0 2h0m1 0h0m3-6h0m1 8h0m1-7h0m1 4h0m0 1h0m3-3h0m1 4h0m0-8h0m1 2h0m3 10h0m-3-1h0m-1 5h0m-3 0h0m-2-5h0m-4 6h0m-1 0h0m-1-6h0m-3-1h0m-5 6h0m0-4h0m-4-2h0m-1 4h0m-7-4h0m-12 9h0m-1-7h0m-2 1h0m-1-2h0m0 1h0m-4 1h0m-6 4h0m-5-5h0m-1 6h0m-3-7h0m0 1h0m-1 1h0m-3 4h0m-8-2h0m-1-1h0m0-3h0m0 5h0m0-6h0m-7 7h0m0-1h0m-5-6h0m-6 6h0m0-4h0m-4 2h0m-1 3h0m0 1h0m-1-2h0m-1-2h0m-1-3h0m-2 2h0m-1 1h0m-2-2h0m0 11h0m2 3h0m0-3h0m1 4h0m4-5h0m1-2h0m2 3h0m1 0h0m1 1h0m2 4h0m3-7h0m3 7h0m2-3h0m5-5h0m4 9h0m1-7h0m2 7h0m6-9h0m1 5h0m2-2h0m0-1h0m4 4h0m0 0h0m0-2h0m3 4h0m3-4h0m3 1h0m3-5h0m0 5h0m4-1h0m0 5h0m2-5h0m1 2h0m2-3h0m1 3h0m2 0h0m1-3h0m8 5h0m0-5h0m2-2h0m2 2h0m2-3h0m0 4h0m10-3h0m7 5h0m1-1h0m-8 12h0m-1 1h0m0-7h0m-12 2h0m-2-3h0m-4 6h0m-4-1h0m-3 3h0m0-4h0m-2 2h0m-1-3h0m-1-3h0m-1 5h0m-4-5h0m-5 0h0m-1 4h0m-1 3h0m-4 1h0m-6 0h0m-4-8h0m-1 6h0m0 3h0m-2-2h0m-2-7h0m-3 3h0m0 3h0m-1-5h0m-1-1h0m-1 4h0m-4 0h0m-1-2h0m0 6h0m-2-8h0m-2 8h0m-2 1h0m-1-2h0m-2-6h0m-4-1h0m-4 7h0m-1-2h0m-1 0h0m-1 3h0m11 2h0m0 6h0m1-1h0m2-3h0m1 6h0m1 1h0m1-8h0m2 6h0m1-6h0m3 7h0m6-5h0m1-1h0m2 2h0m1-3h0m0 6h0m5-4h0m3 4h0m0 1h0m1 1h0m2-5h0m2 5h0m1-8h0m1 0h0m1-1h0m1 2h0m0 4h0m2-4h0m1-1h0m5 7h0m0-7h0m2 0h0m10 5h0m5-3h0m2 1h0m3-3h0m7-1h0m-26 10h0m-8 3h0m-4 2h0m-2 4h0m-2-8h0m-2 6h0m-1-3h0m0-1h0m0 2h0m-2 0h0m-1 0h0m-2-5h0m-1 5h0m-2-4h0m-3 6h0m-4-4h0m-1 4h0m-2-1h0m0 2h0m-2-4h0m-1-4h0m-2 8h0m-3-2h0m-1 3h0m0-6h0m0 4h0m-7-2h0m-3 3h0m8 7h0m4 1h0m2-5h0m2 7h0m1-7h0m3 0h0m0 2h0m1 5h0m1-7h0m1 1h0m1 5h0m2-5h0m1 3h0m1 4h0m5-6h0m3-1h0m-4 8h0m-5 3h0m-15 0h0m-3-2h0" stroke="#4173b3" stroke-width="3.1"/>
<path d="M643 178h0m-23 10h0m19-4h0m-6 14h0m-5 0h0m-3-6h0m-33 6h0m8 11h0m12-4h0m37 8h0m-9 5h0m-8-6h0m-47 9h0m3 4h0m8-3h0m48 4h0m18 12h0m-10-3h0m-42 3h0m-4-2h0m-10 12h0m11 1h0m52 9h0m-9-3h0m-65 1h0m17 6h0m5-1h0m54 5h0m-71 13h0m0 2h0m14 5h0m13-5h0m35 0h0m5-1h0m-13 10h0m-11 0h0m-38 3h0m-5-3h0" stroke="#d7302b" stroke-width="3.1"/>
<path d="M823 149h0m-1 1h0m-10 17h0m2-7h0m1 6h0m0-1h0m1 0h0m-3 7h0m0 3h0m-1 2h0m-1-7h0m-1 8h0m0-2h0m-8 9h0m4-2h0m-2 8h0m-1 1h0" stroke="#4173b3" stroke-width="3.1"/>
<path d="M843 201h0m-21 15h0m-39 1h0m0 5h0m45 7h0m-49 9h0m8 19h0m-2 2h0m-13-8h0m27 16h0m-37 14h0m21 3h0m9-3h0m-4 15h0m7 12h0" stroke="#f0812f" stroke-width="3.1"/>
<path d="M601 278h0m-2 1h0m-2-1h0m0 0h0m0-3h0m-6 3h0m0 1h0m0-1h0m-4 1h0m-1 5h0m2 1h0m0-5h0m2 0h0m0 0h0m1 1h0m1 7h0m0-8h0m0 1h0m0 4h0m2-4h0" stroke="#d7302b" stroke-width="3.1"/>
<path d="M630 217h0m-1 2h0m-23 10h0m24 8h0m-41-2h0m-1-4h0m-6 18h0m12-5h0m14-2h0m23 4h0m-47 13h0" stroke="#4173b3" stroke-width="3.1"/>
<path d="M633 209h0m13 8h0m-2 1h0m-3 0h0m-1-6h0m0 7h0m-1-2h0m-2-3h0m-4 3h0m-4-4h0m0-3h0m-3 8h0m-1-2h0m-4 2h0m-3-4h0m-2-1h0m-1 5h0m-1 1h0m-3 0h0m-26 10h0m2-5h0m4 5h0m1-5h0m3-3h0m3 5h0m1 2h0m6-4h0m3 4h0m1-3h0m3 4h0m2-1h0m3-2h0m1-1h0m3 2h0m0 2h0m1-6h0m3 3h0m0-5h0m1 8h0m0-9h0m1 5h0m2 2h0m1-1h0m0 3h0m4-7h0m0 2h0m1 2h0m0 2h0m1 0h0m0-5h0m3 5h0m0 0h0m1-2h0m1-2h0m1 3h0m3 6h0m-2-1h0m-3 7h0m-3-8h0m-1 5h0m-1-1h0m-1-3h0m-1-2h0m-3 4h0m0-4h0m-4 5h0m0 2h0m-1-7h0m-3 8h0m-1-8h0m-1 4h0m0-3h0m-1 7h0m0-3h0m-1 0h0m-2 2h0m-2-1h0m-2 0h0m-7-3h0m-1-3h0m-2 8h0m0 1h0m0-6h0m-1 4h0m0 2h0m0-9h0m0 0h0m-2 3h0m-1 6h0m-1-1h0m-1-3h0m-2-1h0m0-2h0m-1-1h0m-1 6h0m0-1h0m-1 1h0m-1 0h0m-1-5h0m-1-1h0m-7 3h0m-2 8h0m5 3h0m1-3h0m1-2h0m0 6h0m6-3h0m0 1h0m3-3h0m3 7h0m3-7h0m3 1h0m0 1h0m2-1h0m3 6h0m2-2h0m0 2h0m3-2h0m1 0h0m3 3h0m1-2h0m6-3h0m1-1h0m4 6h0m2-6h0m0 5h0m2-7h0m1 2h0m4 4h0m3-4h0m2-1h0m-14 9h0m-8 1h0m-4 2h0m-1 1h0m0-3h0m-2 0h0m-4 4h0m-1 3h0m0-7h0m0 3h0m-1 3h0m-2-4h0m-3-3h0m-2 6h0m-1-4h0m-1-2h0m-6 1h0m-1 7h0m0-2h0m0 0h0m-1-3h0m-2 0h0m0 1h0m-11-3h0m18 9h0m3-1h0m1 0h0m2 3h0m3-3h0m3 2h0" stroke="#d7302b" stroke-width="3.1"/>
<path d="M573 77h0m7 28h0m9 10h0m0 8h0m0 12h0m14 29h0m-2 14h0" stroke="#4173b3" stroke-width="3.1"/>
<path d="M626 305h0m-1 7h0m-5 0h0m-1 11h0m3-1h0m0-1h0" stroke="#4173b3" stroke-width="3.1"/>
<path d="M577 78h0m15 59h0m-5 2h0m26 33h0m-5 2h0" stroke="#3aa457" stroke-width="3.1"/>
<path d="M713 179h0m-31 6h0m0 2h0m0 1h0m0 0h0m3-2h0m6 2h0m6-1h0m1-2h0m1 2h0m11-5h0m1 1h0m0 0h0m2 13h0m-5-6h0m-2 2h0m-4 2h0m0 2h0m-2-2h0m0 3h0m0-6h0m-6 0h0m-4 8h0m-1-1h0m-3 1h0m-1-6h0m-1 3h0m-4-1h0m-9 0h0m-5 4h0m-2-1h0m-2 1h0m-13 1h0m1 9h0m3-8h0m5 2h0m1 2h0m1 0h0m1 1h0m2-2h0m2 2h0m0-4h0m1 5h0m1 1h0m0-4h0m1-3h0m2 7h0m1-6h0m1 6h0m4 1h0m4 0h0m0-3h0m1 1h0m3 2h0m1-6h0m0 1h0m1 4h0m1-3h0m3 4h0m0-2h0m3-4h0m0 4h0m2-1h0m4 3h0m3-5h0m12-3h0m1 0h0m3 5h0m2 1h0m0-5h0m0 8h0m-4 9h0m-7-2h0m-1-2h0m-4-3h0m-2 1h0m0-1h0m-1 6h0m-4-2h0m0-4h0m0 1h0m-1-2h0m0 1h0m-3-2h0m-12 9h0m-3-6h0m-1 0h0m-4-3h0m0 1h0m-1 5h0m-5-6h0m-4 8h0m-2-8h0m-1 6h0m-2-3h0m-4-2h0m-2 2h0m0 2h0m-1-3h0m0 6h0m-2-7h0m13 9h0m2 6h0m0-2h0m0 4h0m2-3h0m1 1h0m2-2h0m3 2h0m1-3h0m3 4h0m2-4h0m2 3h0m1 2h0m2-7h0m4 0h0m3-1h0m0 8h0m0-7h0m1 3h0m0 1h0m2 2h0m1-2h0m2-5h0m2 0h0m4 2h0m10-2h0" stroke="#f0812f" stroke-width="3.1"/>
<path d="M629 295h0m-2 2h0m-1 6h0m2 7h0m-4 3h0m-2 0h0m-1 0h0m0 10h0m1 3h0" stroke="#d7302b" stroke-width="3.1"/>
<path d="M706 223h0m27 10h0m-32-1h0m-26 5h0m3 6h0m26-1h0m-16 14h0m41 7h0m12 6h0" stroke="#d7302b" stroke-width="3.1"/>
<path d="M628 278h0m-2 1h0m5 3h0m2-1h0m1 1h0m1 0h0" stroke="#d7302b" stroke-width="3.1"/>
<path d="M708 174h0m-7 10h0m8 2h0m7-1h0m2 10h0m-2-3h0m-19 3h0m-9-5h0m-26 6h0m-3 0h0m13 7h0m1 5h0m9-6h0m6 0h0m11 5h0m0 2h0m1-2h0m0-6h0m4 6h0m2-7h0m6 3h0m13-1h0m-16 9h0m-5-1h0m-12 3h0m-7-1h0m-5 1h0m-3 5h0m-7-1h0m-11-5h0m-1 7h0m0 0h0m-3 4h0m7-1h0m7-2h0m11 3h0m25-1h0m2-1h0" stroke="#4173b3" stroke-width="3.1"/>
<path d="M723 217h0m-28 2h0m-13 7h0m16-3h0m1 2h0m4 3h0m40 8h0m-10 2h0m0-4h0m-17 2h0m-1-6h0m0 7h0m-17 2h0m-9-1h0m-13 7h0m1-2h0m21 6h0m0-7h0m30 6h0m4-8h0m10 8h0m-8 7h0m-32-5h0m-20 6h0m16 12h0m4-5h0m9 3h0m7-1h0m13-1h0m8-1h0m0-2h0m0 4h0m-5 5h0" stroke="#f0812f" stroke-width="3.1"/>
<path d="M646 179h0m-47 89h0m5 4h0" stroke="#f0812f" stroke-width="3.1"/>
<path d="M810 183h0m11 6h0m4-1h0m18 8h0m-6-6h0m-1 4h0m-5 1h0m-3-5h0m0 2h0m-11 6h0m-6 0h0m-6-7h0m-4 7h0m-28 1h0m-8 0h0m2 1h0m1 1h0m2 4h0m17-5h0m13 2h0m9-1h0" stroke="#4173b3" stroke-width="3.1"/>
<path d="M571 78h0m1 2h0m12 21h0m-2 13h0m4 10h0m0 4h0m6 1h0m6 21h0m6 12h0m6 20h0m-7 14h0" stroke="#f0812f" stroke-width="3.1"/>
<path d="M839 198h0m-9 1h0m-7 0h0m-1 0h0m-1 0h0m-9 0h0m-3-1h0m-32 11h0m4-5h0m1 4h0m1-1h0m0 1h0m6 1h0m2-2h0m5 2h0m4-3h0m1-2h0m0-4h0m1 2h0m0-1h0m2 3h0m0-2h0m1 5h0m11-7h0m1 6h0m1-6h0m1 4h0m1 3h0m0-4h0m5-3h0m1 5h0m3-2h0m0-3h0m2 2h0m2 0h0m1-1h0m4 1h0m1-1h0m1-1h0m7 4h0m1-4h0m3 7h0m4-3h0m8 13h0m-4-2h0m-5-5h0m-70 3h0m-8 1h0m-3 4h0m-1-4h0m0 2h0m0-1h0m-1 3h0m-1-1h0m-5 7h0m1-2h0m3 0h0m0-2h0m89 2h0m1 3h0m1 3h0m0-4h0m6 13h0m-2 0h0m-102 0h0m-2-6h0m-2 3h0m0 4h0m-1-1h0m-2 9h0m1-6h0m1 5h0m1 1h0m108-1h0m2-3h0m0 4h0m4 5h0m-3-1h0m-1 1h0m-1 2h0m-5-3h0m-1 3h0m-101 3h0m-5 3h0m-1-8h0m0 13h0m1-1h0m0 2h0m1-5h0m5 2h0m4 6h0m92-5h0m1 2h0m1 3h0m1-4h0m1-4h0m0 5h0m5-2h0m-13 8h0m-6 2h0m-1 5h0m-3 1h0m-80-1h0m-1-1h0m-1-1h0m-3-5h0m-1 6h0m4 7h0m0-3h0m1 2h0m1 4h0m0 2h0m0 0h0m57-1h0m0-2h0m3 1h0m2 0h0m3-4h0m12 4h0m1-6h0m-21 11h0m-5-2h0m-2 4h0m-2 5h0m-6-6h0m-2 4h0m-33-1h0m-3 2h0m-1-3h0m-1-4h0m-1 1h0m3 12h0m1 1h0m1 3h0m1-6h0m16 7h0m7-3h0m3-1h0m4-3h0m4 5h0m0-1h0m-18 5h0m-2 3h0m-2-1h0m-3 1h0m-2-2h0" stroke="#4173b3" stroke-width="3.1"/>
<path d="M683 224h0m8 5h0m45 4h0m-25 13h0m9 17h0m26 10h0" stroke="#d7302b" stroke-width="3.1"/>
<path d="M723 228h0m2 1h0m2-2h0m2 1h0m4-2h0m18-1h0m1-1h0m2 4h0m0-1h0m1 8h0m-3 2h0m0 0h0m0-3h0m-1 1h0m0-1h0m-7-1h0m-2 4h0m0-7h0m-3 3h0m-1-2h0m-3 3h0m-1 1h0m-3-2h0m-2-2h0m-2 5h0m-3-3h0m-2 6h0m-1-6h0m-2 13h0m1-6h0m1 6h0m3 3h0m0-5h0m4-4h0m3 9h0m0-6h0m3 1h0m2 0h0m1 3h0m1-6h0m0 7h0m0-4h0m1 3h0m0-7h0m1 1h0m1 1h0m6 2h0m0 4h0m0 1h0m2-1h0m1-4h0m2 5h0m1 0h0m0-9h0m2 2h0m-2 11h0m-3 0h0m-1 2h0m-6-4h0m0-1h0m-2 0h0m-1 3h0m-3 0h0m-1 6h0m-2-3h0m-2-3h0m-1-2h0m-6 3h0m0 2h0m-2-3h0m-7 6h0m0 3h0m1 0h0m3 0h0m0-2h0m2 4h0m1-2h0m2-1h0m4 0h0m0 1h0m2-2h0m2 5h0m2-1h0m1-2h0m2 7h0m5-8h0m6 6h0m3 2h0m2-7h0m1 5h0m1 3h0m-1 1h0m-7 1h0m0 1h0m-1 0h0m-2-2h0m-5-1h0m-1 3h0" stroke="#4173b3" stroke-width="3.1"/>
<path d="M703 187h0m19 6h0m0-1h0m-1 6h0m-6-8h0m-6 8h0m-7-8h0m-9 2h0m-29 6h0m-2 11h0m6-6h0m1-1h0m1 1h0m34 7h0m-3 3h0m-1 6h0m-3-8h0m-2 3h0m0-4h0m-9 6h0m-3 0h0m-1-4h0m-28 11h0m18-3h0m4 9h0m3 0h0m30-8h0" stroke="#d7302b" stroke-width="3.1"/>
<path d="M636 278h0m-10-1h0" stroke="#f0812f" stroke-width="3.1"/>
<path d="M665 225h0m9 1h0m0 3h0m1-1h0m6-2h0m8 3h0m17 0h0m6-2h0m1 0h0m27 2h0m-23 1h0m-21 4h0m-1 0h0m-11-3h0m-1 3h0m-1-3h0m-1-1h0m-1 5h0m-3-2h0m-2 1h0m8 11h0m4 4h0m13-4h0m3-5h0m7 1h0m7 0h0m25 1h0m3 6h0m9 10h0m-10-1h0m-10 0h0m-13-4h0m-4 6h0m0-5h0m-2 4h0m-28 5h0m3 0h0m1-2h0m6 4h0m5-2h0m0-3h0m3 9h0m2-1h0m12-1h0m3 0h0m3 0h0m8-4h0m2-2h0m1 7h0m5-1h0m1-7h0m9 0h0m0 5h0m2 2h0m2-4h0m2 12h0m-24 0h0m-10-2h0m-10-1h0m0-2h0m-4 1h0" stroke="#4173b3" stroke-width="3.1"/>
<path d="M813 184h0m2 1h0m32 8h0m0-2h0m-22 4h0m-10-2h0m-6 2h0m-17 12h0m1-5h0" stroke="#f0812f" stroke-width="3.1"/>
<path d="M566 59h0m-3 4h0m4 2h0m1-2h0m0-1h0m4 3h0m3 10h0m6 9h0m7 5h0m10 9h0m-2-2h0m-7-1h0m11 12h0m3-1h0m0-1h0m3 1h0m13 10h0m-9-2h0m10 8h0m7 9h0m-2 0h0" stroke="#f0812f" stroke-width="3.1"/>
<path d="M567 60h0m1 7h0m1-1h0m11 11h0m-1 1h0m-2-5h0m5 8h0m1 6h0m1-6h0m2 1h0m3 6h0m7 10h0m-1-4h0m0 5h0m-5-8h0m4 17h0m1-8h0m2 2h0m3 4h0m0 1h0m1-4h0m5 6h0m12 10h0m-5-4h0m-10-1h0m6 7h0m7 5h0m2-3h0m1 3h0" stroke="#4173b3" stroke-width="3.1"/>
<path d="M824 152h0m-2 2h0m0 0h0m-1 0h0m-3 2h0m0 0h0m-2 3h0m-7 7h0m2 2h0m2-1h0m0-7h0m3 4h0m2-2h0m-5 9h0m-1 8h0m0-9h0m-3 8h0m0-3h0m-1 2h0m-1 2h0m-1-3h0m-2 13h0m5-7h0m0 14h0m-7-2h0" stroke="#f0812f" stroke-width="3.1"/>
<path d="M568 68h0m7 11h0m-3-3h0m-3-2h0m0 1h0m-1-3h0m0 0h0m0 0h0m-1 0h0m4 14h0m1-4h0m2 3h0m1-2h0m2 16h0m-2 1h0m21 15h0m-14-2h0m2 14h0m3-7h0m7 7h0m1 2h0m2-6h0m4 12h0m-3 2h0m-7-2h0m-1 7h0m0 3h0m5-3h0m11 12h0m-2 4h0m-7-6h0m-1 4h0m-1 2h0m4 5h0m1 2h0m1-5h0m2 0h0m7 2h0m-1 15h0m-3-1h0m0 0h0m0 0h0m-2 0h0m-2-3h0m9 13h0m2 2h0m3-2h0m5-4h0m4 5h0m3 1h0m-5 8h0m-7-6h0m-7 4h0m-1 4h0m-5-5h0" stroke="#d7302b" stroke-width="3.1"/>
<path d="M689 245h0m63 6h0m-55 17h0" stroke="#f0812f" stroke-width="3.1"/>
</g><polygon points="27.2,455.9 29.1,451.9 32,448.2 36,444.8 40.5,440.5 45.5,435.5 50.6,430.8 55.8,426.4 61.3,422.1 67.1,418.1 73,414.4 78.8,411.2 85.1,408.1 91.7,405 97.5,402.8 102.5,401.2 108,401.4 114,403.1 116.8,410 116.2,422 113,428 107,428 100.5,428.8 93.5,430.2 85.8,432.4 77.2,435.1 69.2,438 61.8,441 54.5,444 47.3,447.1 41.1,450.5 35.7,454.1 31.8,456.9 29.2,458.6 27.6,459.1 26.7,458.2" fill="#b6c8ea" fill-opacity="0.75" />
<polygon points="136.4,411.8 137.3,407.2 138.1,402.8 139,398.2 140.1,394 141.3,390 143.8,385.8 147.2,381.2 150.3,376.8 153,372.2 155.5,367.8 157.8,363.2 160.8,358.5 164.2,353.5 168.5,349 173.5,345 177.5,344.8 180.5,348.2 181.7,352.8 180.9,358.2 179.7,363.2 177.9,367.8 176.2,372.2 174.4,376.8 172.2,381.2 169.4,385.8 167.2,390 165.4,394 162.9,398.2 159.4,402.8 155.8,407.8 151.9,413.2 148.2,418.5 144.8,423.5 141.2,423 137.8,417" fill="#d672c3" fill-opacity="0.8" />
<polygon points="112.5,422.4 114.8,419.4 117.6,416.2 120.7,412.8 124,410.4 127.3,409.1 130.8,409.4 134.2,411.1 137.5,413.4 140.5,416.1 141.7,419.1 141.2,422.2 140.1,426.5 138.4,432 136.5,437.4 134.3,442.9 132.1,447.9 130,452.2 128.1,455.4 126.4,457.4 124.8,457.9 123.1,457.1 120.9,454.4 118.2,450.1 115.7,445.7 113.5,441.3 111.7,437.2 110.3,433.4 110,429.6 110.9,425.7" fill="#f07d2c" fill-opacity="0.92" />
<polygon points="200,338.6 199.3,339.3 198.7,340.1 198.1,340.9 197.5,341.7 196.9,342.5 196.3,343.3 195.7,344.1 195.1,344.8 194.4,345.6 193.8,346.4 193.2,347.2 192.6,348 192,348.8 191.4,349.6 190.8,350.3 190.1,351.1 189.5,351.9 188.9,352.7 188.3,353.5 187.7,354.3 187.1,355.1 186.5,356 186,356.9 185.5,357.7 185,358.6 184.5,359.4 184,360.3 183.5,361.2 183,362 182.5,362.9 182,363.7 181.5,364.6 181,365.5 180.5,366.3 179.9,367.2 179.4,368 178.9,368.9 178.4,369.8 177.9,370.6 182.1,373.4 182.7,372.6 183.3,371.8 183.9,371 184.5,370.2 185.1,369.4 185.7,368.6 186.3,367.8 186.9,367 187.5,366.2 188.1,365.4 188.7,364.6 189.3,363.8 189.9,363 190.5,362.2 191.1,361.4 191.7,360.6 192.3,359.8 192.8,359.1 193.3,358.3 193.9,357.4 194.4,356.6 194.9,355.7 195.5,354.9 196,354.1 196.6,353.2 197.1,352.4 197.6,351.5 198.2,350.7 198.7,349.9 199.2,349 199.8,348.2 200.3,347.3 200.8,346.5 201.4,345.6 201.9,344.8 202.4,344 203,343.1 203.5,342.3 204,341.4" fill="#3fb9b9" fill-opacity="0.6" />
<polygon points="248.2,268.8 252.6,269.3 256.9,270.7 261.3,273.2 266.4,277 272.3,282.1 275.7,286.1 276.7,289.1 276.4,292.3 274.6,296 271.2,299.6 266.1,303.3 259.1,308 250.4,313.9 241.6,319.7 232.8,325.5 225.5,330.7 219.7,335 214.6,338.7 210.2,341.6 206.2,342.5 202.6,341.3 199.1,338 195.7,332.6 194.5,326.6 195.3,320.1 197,314.5 199.5,309.8 203.3,305.8 208.4,302.4 213.9,300.4 219.7,299.6 226.3,298.5 233.6,297.1 239.4,294.2 243.8,289.8 246,282.8 246,273.4" fill="#3b9f58" fill-opacity="0.9" />
<polygon points="186.6,281.9 184.3,284.3 181.9,286.7 179.5,289.1 177.2,291.5 174.8,293.9 172.3,296.5 169.9,299.7 168.1,302.8 166.5,305.8 164.8,308.8 163.2,311.7 161.5,314.7 159.9,317.6 158.3,320.6 156.6,323.6 155,326.5 153.4,329.5 151.7,332.6 150.1,335.9 148.8,339.1 147.6,342.3 146.4,345.4 145.2,348.6 143.9,351.9 143,355.3 142.2,358.6 141.4,361.9 140.5,365.1 139.7,368.5 139.1,371.8 138.5,375.2 137.9,378.5 137.3,381.8 136.8,385.2 136.2,388.5 135.7,391.8 135.2,395.2 134.7,398.5 134.2,401.8 135.8,402.2 136.6,398.9 137.3,395.6 138.1,392.3 138.9,389 139.6,385.7 140.3,382.4 141.1,379.1 141.8,375.8 142.5,372.6 143.3,369.4 144.3,366.2 145.3,363 146.4,359.8 147.4,356.6 148.4,353.5 149.8,350.6 151.3,347.6 152.8,344.6 154.3,341.6 155.7,338.7 157.5,336.1 159.5,333.6 161.6,330.9 163.8,328.3 165.9,325.6 168,323 170.1,320.3 172.1,317.6 174.2,314.9 176.3,312.3 178.3,309.6 180.2,307.1 182.1,305 184.1,302.7 186.4,300.2 188.6,297.6 190.9,295.1 193.1,292.6 195.4,290.1" fill="#8d574c" fill-opacity="0.7" />
<polygon points="189.8,286 194.2,282.8 198.5,280 202.9,277.7 208,275.5 213.9,273.4 219.7,271.5 225.5,269.6 232.1,267.9 239.4,266.4 245.3,266.2 249.6,267.2 252.9,269.9 255.1,274.3 256.4,278.5 256.9,282.6 255.4,287.2 252,292.3 247.1,296.4 240.5,299.3 233.6,301.8 226.3,304 219,304.2 211.7,302.3 205.1,300.2 199.3,298 194.5,295.9 190.9,293.9 188.7,291.5 188,288.9" fill="#d63029" fill-opacity="0.9" />
<polygon points="180.2,258.4 182.5,260.8 185.4,261.8 188.7,261.2 191.6,261.7 193.9,263.1 195.8,265.7 197.3,269.5 197.5,273.3 196.5,277.1 194.6,279.7 191.8,281.2 188.5,281.4 184.7,280.5 181.6,278.3 179.2,275 178.2,271.4 178.8,267.6 179,263.6 179,259.3" fill="#a9b845" fill-opacity="0.8" />
<polygon points="211.8,217.1 213.9,220.3 216.2,224.4 218.6,229.2 220.5,234.4 221.9,240.2 222.7,245.3 222.9,250.1 221.8,254.3 219.2,258.1 216.3,259.5 212.9,258.6 210.2,256.5 208.4,253.2 206.2,252.7 203.9,255 201.3,255.2 198.4,253.4 196.2,250.5 194.6,246.8 194.4,243 195.4,239.2 197.2,235.9 199.6,233 202,229.7 204.3,225.9 206.8,221.8 209.4,217.6" fill="#8a52b2" fill-opacity="0.8" />
<g transform="scale(.5)"><path d="M236 773h0m-13 5h0m0-6h0m-33 11h0m0 2h0m18 2h0m12-4h0m6 5h0m0 0h0m1-3h0m1 2h0m0 1h0m3 0h0m2 0h0m2 0h0m2-8h0m7 4h0m-3 14h0m-4 0h0m-1-3h0m-2 4h0m-1-2h0m-3-2h0m-5 3h0m-5-7h0m0 1h0m-9 7h0m0-7h0m-1 6h0m-7-2h0m-1 0h0m-4-5h0m-16 5h0m0 2h0m-4 0h0m-6-2h0m-20-2h0m-9 4h0m7 6h0m13 3h0m2-1h0m2 1h0m1 0h0m3-5h0m2 7h0m9-6h0m1-3h0m1 9h0m2 0h0m1-2h0m1 2h0m2-3h0m1 3h0m0 0h0m1-3h0m3 0h0m1-4h0m0 4h0m3-3h0m0 4h0m2-3h0m0 2h0m0-3h0m1 1h0m1 2h0m0-1h0m1 4h0m0 0h0m0-5h0m1 5h0m2-6h0m4 2h0m0 0h0m0 2h0m1-6h0m0-1h0m0 1h0m0 0h0m0 8h0m1-4h0m1-2h0m0 3h0m0 1h0m1 1h0m1-3h0m0-2h0m1 0h0m0-1h0m0 7h0m1-3h0m0 1h0m0 0h0m1 1h0m0-4h0m1 2h0m0-5h0m0 4h0m1 3h0m1-4h0m0 4h0m1-4h0m0 2h0m3 0h0m0 0h0m0 3h0m0 0h0m1-3h0m0 2h0m1-1h0m0-5h0m2 6h0m2-3h0m0 1h0m3-2h0m11-2h0m-11 12h0m-1-4h0m-2 5h0m0-3h0m0 3h0m0-1h0m-1 5h0m0-3h0m-2 1h0m0-6h0m-2 1h0m-1 5h0m-1 0h0m-1-6h0m0 8h0m-2-6h0m-1 6h0m-2-6h0m0-2h0m-1 6h0m-1-5h0m0 2h0m0 3h0m0-1h0m0-4h0m-2 4h0m-1 1h0m-1-4h0m0 2h0m-3 3h0m0 1h0m-1-2h0m-2-3h0m0-1h0m0-1h0m-1 0h0m-1 6h0m-2-2h0m0-2h0m-1-3h0m-3-1h0m0 9h0m0-9h0m-3 8h0m0-3h0m-1 1h0m-1 3h0m0-9h0m-2 9h0m-1-3h0m-1 0h0m-2-6h0m-1 4h0m0 3h0m0-3h0m-1 2h0m0-4h0m0 4h0m-1 2h0m-1-8h0m0 8h0m-1 0h0m-1-6h0m0 2h0m-1-4h0m-2 1h0m0 0h0m0 0h0m-1 0h0m0 3h0m0-3h0m0 5h0m0-1h0m0 1h0m0-4h0m-2-1h0m0 8h0m0-1h0m0 0h0m-3-5h0m0 2h0m-1 0h0m0 4h0m0-1h0m-1-6h0m0 5h0m-1 1h0m0-1h0m-1-7h0m-4 5h0m-1 4h0m-19 9h0m1-1h0m1 2h0m1-6h0m2 2h0m1-1h0m0 4h0m0-3h0m1 0h0m3-3h0m0 1h0m1 3h0m2 0h0m2-3h0m0-2h0m0 0h0m2 5h0m0-6h0m0 9h0m2-5h0m0-4h0m0 9h0m2-8h0m0 5h0m1 1h0m0-5h0m1 6h0m1-6h0m0-2h0m1 6h0m2 2h0m0-7h0m0 7h0m1-2h0m1-6h0m1 4h0m1 4h0m3-1h0m0-1h0m1 3h0m1-7h0m0 1h0m0 4h0m0-1h0m1 3h0m3-1h0m0-7h0m1 3h0m1-1h0m2-1h0m3 0h0m0 6h0m1 0h0m0-6h0m0 0h0m1 3h0m1 1h0m1-4h0m2-2h0m2 8h0m3-5h0m2 0h0m1 4h0m3 2h0m0-6h0m0 4h0m0-6h0m1 6h0m5 2h0m1-1h0m0-1h0m1-6h0m2 5h0m4-6h0m0 4h0m0 1h0m1 4h0m0-1h0m2 1h0m0-9h0m1 2h0m1 0h0m0-1h0m2 0h0m1 2h0m1 0h0m0 0h0m0 1h0m1 2h0m0 3h0m0-7h0m0 1h0m2 15h0m0-4h0m-1 3h0m-2-6h0m0 8h0m-1-6h0m0-1h0m0 6h0m-1-2h0m-1 2h0m-1 0h0m-1 1h0m-1-3h0m-1 0h0m0 2h0m-3-8h0m-4 4h0m-1 3h0m-1-2h0m0-4h0m-1 2h0m0 4h0m-1-4h0m-1-1h0m0 2h0m-1-3h0m0 5h0m-1-1h0m-1 0h0m-2-4h0m0 8h0m-1-8h0m0 5h0m-1-6h0m0 5h0m-2-1h0m-1 5h0m0 0h0m0-4h0m-1-1h0m-1 1h0m-1 1h0m0 0h0m-2-5h0m0 8h0m-1-7h0m0-1h0m-3 0h0m-1 1h0m0 2h0m-1-2h0m-1-2h0m0 6h0m-1 3h0m0-4h0m-1 4h0m-1 0h0m-1-4h0m-1 0h0m0 1h0m0-5h0m-1 4h0m-1 1h0m0-1h0m-1 0h0m0 2h0m-3 2h0m-1-8h0m-6 1h0m-5 6h0m0-5h0m-1 1h0m0 1h0m-2-2h0m-1 0h0m-2-2h0m-1 3h0m-1-1h0m0-2h0m0 2h0m-1-2h0m0 3h0m0 1h0m-1 0h0m0-3h0m-3 6h0m0 1h0m0-8h0m-1 3h0m0-4h0m-1 1h0m-1 2h0m-1-2h0m-1-1h0m0 0h0m-1 2h0m0 6h0m0-7h0m-2 8h0m-2-9h0m-1 0h0m0 3h0m-1-2h0m-1 1h0m0 3h0m0-2h0m-1-3h0m0 3h0m-1 6h0m-1-3h0m0-2h0m0 5h0m-3 0h0m0 0h0m-2-2h0m-2 1h0m0 1h0m-1 0h0m-1-1h0m-4 1h0m-17 8h0m3 2h0m1 0h0m1 0h0m1 0h0m1 0h0m0 0h0m2-5h0m0 2h0m1-1h0m0 1h0m1 3h0m1-6h0m0 6h0m1-5h0m0 1h0m0 4h0m2-1h0m2 1h0m1-7h0m1 1h0m2-2h0m0 2h0m0 5h0m1-7h0m1-1h0m1 3h0m2-3h0m0 9h0m1-9h0m1 9h0m0 0h0m5-2h0m1 2h0m0-5h0m0 0h0m0 3h0m0 2h0m1-7h0m1-1h0m0 3h0m2 0h0m0 3h0m1 0h0m1-5h0m0 6h0m2-6h0m0 3h0m2 1h0m0-2h0m1 0h0m1 2h0m0-1h0m1-2h0m1 5h0m2-3h0m0 2h0m1-3h0m1 1h0m2-5h0m0 1h0m1 7h0m0-3h0m2-3h0m1 0h0m2 0h0m1 4h0m1 3h0m0-4h0m0-4h0m2 0h0m0-1h0m1 9h0m0-7h0m1 5h0m2 0h0m0-3h0m3 4h0m0-1h0m1-1h0m4-1h0m0 0h0m2-1h0m2-2h0m0 2h0m1-4h0m0 1h0m2 1h0m1 0h0m0 3h0m5 1h0m1-1h0m2 4h0m2-9h0m0 4h0m2-3h0m0 2h0m1 3h0m1-2h0m2 0h0m0 1h0m2-4h0m0-1h0m1 6h0m0-5h0m1 5h0m0 3h0m0-6h0m1 3h0m1 2h0m0-3h0m1 0h0m0-1h0m1 2h0m4-5h0m0-1h0m0 6h0m1 1h0m2-2h0m4 0h0m0-5h0m1 8h0m0 1h0m0-4h0m0 4h0m1 0h0m0-3h0m0-3h0m1 5h0m1-4h0m0 2h0m1-3h0m1 0h0m1 1h0m-4 6h0m0 3h0m-2-3h0m0 1h0m-1 3h0m-1-2h0m0 1h0m-1-1h0m0-1h0m-1 2h0m0 1h0m-1-4h0m0 4h0m0 0h0m-2 3h0m0-5h0m-1-1h0m-1 4h0m0-2h0m-1 2h0m0 3h0m0-5h0m-1 4h0m-1-1h0m0 0h0m-1 1h0m0-4h0m0-2h0m-1 3h0m0 0h0m0-1h0m0 3h0m-3 1h0m0-6h0m-3 2h0m0 1h0m0-1h0m-1 4h0m0-6h0m0 1h0m-2 4h0m0-1h0m-1 1h0m0 2h0m0-4h0m0-3h0m0 3h0m-1 2h0m0-2h0m-1 5h0m-1-2h0m0-7h0m-2 9h0m-1-2h0m0-5h0m-1 7h0m-1-2h0m-1-6h0m-1 5h0m-2 3h0m0-5h0m0-1h0m0-3h0m-1 1h0m0-1h0m-1 5h0m0 0h0m-1-1h0m-1-4h0m-1 6h0m-1 3h0m0 0h0m0 0h0m0-1h0m0-1h0m0 2h0m-1-2h0m-2-1h0m0-6h0m-1 3h0m-2 5h0m0 0h0m-1-1h0m0-3h0m-3 3h0m-2-6h0m0 2h0m0 6h0m0-1h0m-1-1h0m-1-2h0m0 1h0m0-6h0m0 7h0m-1 1h0m0-6h0m-3 3h0m-1-4h0m-2 4h0m0-3h0m-2 1h0m0 6h0m-1-3h0m0-1h0m0 0h0m-1 0h0m0-4h0m-2 6h0m-1 1h0m-1-7h0m-2 8h0m0-8h0m-1 0h0m-1 8h0m0-8h0m-1 5h0m0-2h0m0 2h0m0-2h0m-2-4h0m-2 0h0m0 4h0m0-2h0m-1-1h0m-2 0h0m-5 2h0m0 4h0m-1 1h0m0-4h0m-1 1h0m-1-3h0m-2 3h0m0 1h0m-1-2h0m-1 5h0m-1-9h0m-2 6h0m-2-3h0m-5 3h0m0-5h0m-1 6h0m0 0h0m-1 2h0m-1 0h0m0-9h0m-1 9h0m-1-2h0m0-6h0m0 7h0m-1 1h0m-1-2h0m-1-7h0m0 4h0m-1-3h0m0 4h0m0-1h0m-1-3h0m-1 1h0m0 3h0m0 1h0m0-2h0m-2-4h0m0 5h0m-1 3h0m0 1h0m0-6h0m0 4h0m-1 1h0m0-4h0m-1 4h0m-2-1h0m-2-3h0m0-1h0m-3 5h0m-9 10h0m1 1h0m2-2h0m0 1h0m1-4h0m1 2h0m1 3h0m1-6h0m1 2h0m1 4h0m0-4h0m0 1h0m0-6h0m0 2h0m1 2h0m0 5h0m2-9h0m2 0h0m0 5h0m0-1h0m1 4h0m1 1h0m0-4h0m0-3h0m1-2h0m1 1h0m1 8h0m0 0h0m1-3h0m6-4h0m1 7h0m1-5h0m3 0h0m2 0h0m2 1h0m0-3h0m3 6h0m1-7h0m1-1h0m1 6h0m0-5h0m3 7h0m0-5h0m1-3h0m0 7h0m1-5h0m0 1h0m3 3h0m0-1h0m1-3h0m0-1h0m2-1h0m1 0h0m0 6h0m1-3h0m0-2h0m1 7h0m2 1h0m1-1h0m0-2h0m1 3h0m1-1h0m2 0h0m0-2h0m1 1h0m0-5h0m1 4h0m1 1h0m0 2h0m1-2h0m0-3h0m1 5h0m0-1h0m1 1h0m0 0h0m0-4h0m0-1h0m0-2h0m0 5h0m1 1h0m0-4h0m0 4h0m1-3h0m1 1h0m0-2h0m0-2h0m0 5h0m1 0h0m0-1h0m0-1h0m1-1h0m0 1h0m0-3h0m1-2h0m1 4h0m0 0h0m0 2h0m2-4h0m0 2h0m1-4h0m2 5h0m0-4h0m2 2h0m0 2h0m0 1h0m0-3h0m2-1h0m0 4h0m1-3h0m1-2h0m0-1h0m1 0h0m1 2h0m0 1h0m2-3h0m1 3h0m0-2h0m0 3h0m3-4h0m0 0h0m1 2h0m0 1h0m1 1h0m0-1h0m2-3h0m2 2h0m0-2h0m2 0h0m4 2h0m-41 8h0m-1 0h0m-2 2h0m-1 0h0m-1-2h0m-1 0h0m0 3h0m-4-2h0m-1-1h0m-2 5h0m0-3h0m0 1h0m-1-3h0m-1 4h0m0-2h0m-2-2h0m-3 5h0m0 1h0m-2-2h0m0 3h0m-1 0h0m0 0h0m-2-4h0m0 1h0m-1 5h0m-1-6h0m0 2h0m0-5h0m-1 5h0m-1 0h0m-2 0h0m-1 1h0m0 3h0m-1 0h0m0-7h0m0 3h0m0 2h0m-1-5h0m0 2h0m0 2h0m-2 3h0m-1-2h0m-4 0h0m-1-2h0m-2-4h0m0 5h0m-2 0h0m0-6h0m-1 6h0m-2-4h0m-1 5h0m-1-3h0m-1 4h0m0-7h0m-3 5h0m0-4h0m0 3h0m-1-3h0m0 4h0m-1-3h0m-3-2h0m-1 8h0m-1-4h0m0-3h0m-3 6h0m-2-4h0m0-3h0m-1 6h0m-1 0h0m0-1h0m-1-1h0m0 1h0m-3 2h0m-2 0h0m-11 8h0m1 3h0m2-1h0m1 0h0m0-1h0m1-2h0m1 2h0m0 1h0m0-6h0m1 1h0m0 4h0m1-3h0m2-1h0m1 6h0m0-8h0m1 8h0m1-8h0m0 8h0m1-9h0m0 4h0m0 3h0m1 1h0m1-7h0m0 7h0m1-3h0m0 3h0m1-2h0m0-1h0m1-4h0m1 7h0m2-1h0m0-6h0m1 4h0m0 2h0m2-1h0m1 2h0m0-5h0m2 2h0m1 4h0m1-1h0m2-4h0m0 5h0m0-3h0m0-2h0m1 2h0m1 2h0m0-2h0m0-3h0m0-1h0m1 6h0m0 0h0m0-2h0m1-6h0m0 3h0m1 6h0m0-1h0m0 0h0m1-4h0m2 2h0m0-2h0m1 3h0m0-3h0m0 3h0m0-1h0m2-3h0m2 2h0m1-3h0m0 2h0m1 1h0m0 0h0m0-4h0m1 5h0m0-3h0m1 3h0m1-3h0m1-3h0m2 0h0m0 1h0m1 2h0m1-3h0m1 0h0m0 2h0m1-2h0m-19 10h0m-3 0h0m-3 0h0m-2 4h0m-1-2h0m-1 2h0m-1 1h0m-1-4h0m0 1h0m-2 3h0m0-3h0m0-2h0m0 5h0m-1 3h0m0-5h0m-1 3h0m-1-2h0m0 2h0m0-4h0m-1-1h0m-1 1h0m-1 5h0m-1 2h0m-2-4h0m-1 1h0m0 2h0m-2-1h0m-4 0h0m0-1h0m-1-6h0m-1 2h0m-1 5h0m0 0h0m-1-3h0m0-1h0m-1 2h0m0 3h0m-1-7h0m0 0h0m-1 2h0m-1-1h0m0 5h0m0-6h0m0-1h0m0 4h0m0 0h0m0-1h0m-3 0h0m0 1h0m0 5h0m0-5h0m-1-2h0m-1 7h0m-3 0h0m-3 0h0m-5 8h0m2-2h0m0 4h0m1-3h0m0-1h0m1-1h0m0 5h0m0-2h0m0 2h0m1-7h0m1 1h0m0 1h0m0 1h0m0 4h0m0-4h0m1 2h0m1-2h0m0-5h0m0 2h0m1-1h0m0 6h0m1-2h0m1 1h0m1 3h0m0-9h0m0 0h0m0 6h0m1-3h0m0 1h0m2-2h0m0 4h0m2 2h0m0-7h0m1 5h0m1 1h0m0 1h0m0-6h0m1 0h0m0 6h0m0-8h0m1 5h0m1 1h0m0-3h0m1 2h0m0-2h0m1-2h0m0 3h0m1-2h0m1-1h0m6 0h0m2-1h0m0 1h0m9-1h0m-28 13h0m-2-2h0m-2 2h0m0 0h0m-1-1h0m0-1h0m-1-1h0m0 0h0m0 4h0m0 2h0m0-2h0m-1 1h0m-1-5h0m-1 8h0m0-8h0m0 1h0m-1 2h0m0 5h0m-1 1h0m0-6h0m-1 0h0m-1 0h0m0 2h0m0 1h0m0-4h0m-1 5h0m0-2h0m0 4h0m-1 0h0m0-8h0m0 2h0m0 3h0m0-6h0m-1 3h0m0-1h0m-1 5h0m0 1h0m0 0h0m-1-6h0m6 10h0" stroke="#b6c8ea" stroke-width="2.9"/>
<path d="M397 637h0m0 2h0m-4 0h0m-1-3h0m0 2h0m0-3h0m0 1h0m-1-1h0m-2 0h0m-1 1h0m0-1h0m-1 3h0m0 1h0m0-1h0m-1 1h0m0-6h0m-1 6h0m-10 9h0m3-2h0m1-2h0m0 3h0m0-3h0m1 3h0m0 2h0m0-5h0m1 4h0m3-1h0m0 0h0m1-4h0m0 5h0m1-2h0m0-3h0m5 2h0m0 3h0m0-8h0m0 8h0m0-2h0m1-2h0m0-3h0m4 2h0m2-2h0m2-1h0m2 3h0m0 3h0m2-3h0m0 3h0m3 1h0m-9 12h0m-2-6h0m-1 1h0m-1 2h0m-1-5h0m0 4h0m0 4h0m-1-6h0m0 6h0m0-8h0m-1 1h0m-2 7h0m-1-7h0m0 1h0m0 3h0m-1 2h0m0-1h0m-1-1h0m-1 0h0m-1 1h0m-2-7h0m0 4h0m-2 3h0m0 0h0m0-5h0m-1 2h0m-2 2h0m0 1h0m-1-2h0m0 3h0m-1-1h0m-1-1h0m-2 1h0m0-2h0m-1-4h0m-2 8h0m-5 1h0m1 7h0m1 2h0m6-2h0m1 1h0m1-5h0m1-3h0m2 6h0m1-6h0m0 9h0m0-5h0m1-4h0m0 1h0m0 2h0m1-1h0m0 6h0m3 1h0m0-5h0m1-4h0m1 5h0m0 1h0m1-2h0m2-4h0m2 0h0m1 6h0m3-5h0m2 5h0m1 2h0m1-1h0m6 5h0m-8-1h0m-3-1h0m-1 7h0m-2-3h0m-3-3h0m-3-1h0m0 5h0m0-1h0m-2 0h0m0 1h0m0 4h0m0-9h0m0 8h0m0-5h0m-3 3h0m-1-4h0m0 5h0m-1-4h0m0 1h0m-1-1h0m0 6h0m0-1h0m-2 1h0m0-1h0m-1-8h0m0 5h0m0-5h0m0 2h0m-3 7h0m0-9h0m0 4h0m-1-1h0m0-1h0m0 0h0m-2 0h0m0 6h0m-1-7h0m-1 8h0m-1-4h0m0 4h0m-1-8h0m-1 3h0m0 0h0m-1 5h0m0 0h0m-1-6h0m-1-3h0m-6 3h0m-2 5h0m-1 0h0m-4 10h0m1-5h0m0 6h0m1-2h0m2 2h0m0-3h0m0 3h0m0-5h0m1 5h0m1-2h0m0 1h0m1 1h0m0-3h0m0 2h0m2 0h0m0-2h0m1-2h0m1 3h0m0 0h0m0 0h0m1 2h0m1-6h0m0 1h0m1 0h0m0-1h0m1 2h0m0 4h0m1-3h0m0 0h0m1-2h0m1 1h0m0 1h0m0 1h0m0-4h0m2 6h0m0 0h0m1-2h0m1 2h0m0-8h0m0 5h0m0-1h0m1 4h0m0 0h0m1 0h0m1-2h0m1-7h0m1 4h0m0 4h0m0 1h0m1-9h0m1 3h0m2 2h0m2-4h0m1 4h0m1-2h0m3 1h0m2-4h0m1 11h0m-4-1h0m-4 5h0m-1-2h0m0 0h0m0 4h0m-5-3h0m0-1h0m0 4h0m-2 1h0m-2-3h0m0 0h0m-2-5h0m0 6h0m0-5h0m0 6h0m-3-3h0m-1-4h0m-1 5h0m-1 0h0m-1-4h0m0 2h0m-2 5h0m0-3h0m0 3h0m0-5h0m0 1h0m-1 3h0m0-4h0m-1 5h0m0-8h0m0 5h0m-1-3h0m0 5h0m-1-1h0m0-5h0m-1 1h0m0 1h0m-1 0h0m0-2h0m0 7h0m0-1h0m0-4h0m0 1h0m0-4h0m-1 5h0m0-3h0m0 6h0m0-3h0m-2-2h0m0-2h0m0 8h0m-1-9h0m0 5h0m0 2h0m-2 0h0m-1-3h0m0 0h0m-1 0h0m-1-1h0m0 0h0m0-1h0m0-2h0m-1 8h0m0 1h0m-1-2h0m-1 1h0m-2 1h0m0-7h0m0 3h0m-1-3h0m-1 4h0m-1-2h0m-3 5h0m-7 7h0m1 0h0m0 3h0m1-2h0m1-2h0m0 4h0m0-4h0m0-1h0m1 5h0m0-3h0m1 1h0m1-6h0m1 6h0m0-5h0m0-2h0m1 0h0m0 6h0m0 2h0m1-4h0m0-1h0m0 1h0m1 1h0m0-5h0m1 0h0m0 2h0m0 0h0m1-2h0m0 8h0m0-1h0m0-3h0m1 2h0m0-6h0m2 5h0m0-2h0m0 0h0m0 3h0m0-1h0m0 3h0m1 1h0m0-4h0m0-2h0m0 0h0m0-2h0m0 4h0m0-1h0m0-3h0m0 6h0m0-5h0m0 1h0m1 0h0m1 0h0m0-1h0m0 5h0m2-7h0m0 0h0m0 1h0m1 6h0m0 2h0m2-8h0m0 6h0m0-2h0m2-3h0m1-2h0m0 9h0m0-7h0m2 2h0m0-3h0m1 6h0m0 1h0m1-2h0m0 2h0m0 0h0m0-3h0m2 1h0m0-2h0m1-2h0m0 5h0m0-5h0m1-2h0m1 6h0m0-3h0m0-1h0m1-2h0m0 2h0m1-1h0m0 2h0m1 2h0m1 2h0m0-7h0m0 5h0m1 2h0m0-4h0m0-2h0m2 4h0m2-5h0m7 2h0m10 4h0m-17 5h0m-3 6h0m-2-5h0m-1 3h0m0-5h0m-1 8h0m0-7h0m0 5h0m-1-1h0m0-2h0m0 3h0m0-4h0m0-2h0m-1 4h0m-1 0h0m0 1h0m0-4h0m-1 4h0m0-4h0m0 1h0m0-2h0m-1 6h0m-1 2h0m0-4h0m0 5h0m-2-6h0m0-1h0m-1 4h0m-1 3h0m0-2h0m-1-7h0m-2 9h0m0-4h0m0 4h0m-1-3h0m0-3h0m0-2h0m-1 7h0m0-5h0m-1 5h0m0-2h0m0-3h0m0 2h0m0-2h0m-1-1h0m0-1h0m-1 3h0m0-2h0m0 7h0m0-5h0m-1-1h0m-1 3h0m0-3h0m-2 2h0m0 2h0m0-4h0m0-3h0m0 4h0m-1 1h0m0-4h0m-1 5h0m0-2h0m0 5h0m0-1h0m-1-6h0m-1-2h0m-2 3h0m-1 0h0m0-2h0m-1 6h0m0-3h0m0 4h0m-2-4h0m-1 1h0m0 4h0m0-7h0m0 3h0m-1-2h0m0 1h0m-1 2h0m0-2h0m0-1h0m0 6h0m0-7h0m0 4h0m0-6h0m0 3h0m0 0h0m-1 6h0m0-2h0m0-3h0m0-3h0m0 3h0m-3 3h0m0-2h0m0 4h0m0-2h0m-1-7h0m-1 8h0m-1 0h0m0-3h0m-1-1h0m-1 4h0m-2-3h0m0 4h0m-2 10h0m1 0h0m0-2h0m1-4h0m1 2h0m0-2h0m0 3h0m1-4h0m0-2h0m0 1h0m0 3h0m1 2h0m1-4h0m0 6h0m1 0h0m1-2h0m0-4h0m0-2h0m1 9h0m0-3h0m1 0h0m0-3h0m0 3h0m0 3h0m0-5h0m1 3h0m0 2h0m0-1h0m0-1h0m0-7h0m1 9h0m0-6h0m1 0h0m0 3h0m1 1h0m0 2h0m1-9h0m0 7h0m0-6h0m2 1h0m0 7h0m0-2h0m1 1h0m0-3h0m0 0h0m0 1h0m0-6h0m2 5h0m1-2h0m0 6h0m0-2h0m0-4h0m1 5h0m0 0h0m1 0h0m0-2h0m0-5h0m0-1h0m0 4h0m2 4h0m1-5h0m0 0h0m1 4h0m0-6h0m1 2h0m0 3h0m0-2h0m1-4h0m0 9h0m1-8h0m0 3h0m0-3h0m1 4h0m0-5h0m2 4h0m1 2h0m0 0h0m1-1h0m1-4h0m0 1h0m1 4h0m0 0h0m2-2h0m0 1h0m1 1h0m0-6h0m0 9h0m0-5h0m1 0h0m0 5h0m2-5h0m0-1h0m0 0h0m0 6h0m0-1h0m1-7h0m0 3h0m1-1h0m0 2h0m1-3h0m0-1h0m0-1h0m0 6h0m1-1h0m0-3h0m2-2h0m0 2h0m0 0h0m1 3h0m0-3h0m1 2h0m-3 8h0m-2 0h0m-1 5h0m0-4h0m0 2h0m-1 2h0m0 0h0m-1-2h0m-1 3h0m0-5h0m-1-3h0m0 3h0m-1 4h0m0-7h0m-1 0h0m0 4h0m0-2h0m-1 3h0m0 4h0m-1 0h0m0-4h0m0-4h0m0 3h0m0 5h0m0-4h0m-1 1h0m0-5h0m0 1h0m0 1h0m-1-1h0m-1 2h0m0 0h0m0-3h0m0-1h0m-1 8h0m-1 0h0m-1-1h0m0-7h0m0 9h0m-2 0h0m0-5h0m-1 5h0m-1-5h0m0-3h0m-2 2h0m0 3h0m-1-2h0m0 3h0m-1-1h0m0 2h0m0-3h0m0 3h0m-1-8h0m0 2h0m-1-2h0m0 0h0m-1 7h0m-2-1h0m0-5h0m0 5h0m-1 3h0m0-8h0m0 1h0m-1 1h0m0 1h0m-1-2h0m-1 2h0m-1-4h0m-2 4h0m-1 2h0m0 0h0m-1-1h0m-1-4h0m0 4h0m-1-1h0m0-4h0m-1 2h0m-1 4h0m0 1h0m-1-7h0m0 9h0m-2-3h0m-2-2h0m0 1h0m-1 2h0m0-5h0m0 7h0m-1-2h0m0 1h0m0-4h0m0 4h0m-2-2h0m-1 1h0m-1 1h0m-1-4h0m-8 13h0m2-6h0m2-1h0m1 9h0m0-1h0m0 0h0m0-4h0m1 4h0m0-4h0m1 5h0m0-2h0m0-1h0m0 2h0m0 1h0m1-1h0m0-6h0m0 4h0m0 1h0m0-3h0m0 3h0m1-3h0m1 1h0m0 2h0m1-4h0m1-3h0m1 5h0m0-3h0m1 0h0m0 1h0m0-3h0m1 2h0m0 1h0m0-2h0m1-1h0m1 0h0m1 4h0m0 5h0m0-8h0m2 8h0m1-4h0m0 1h0m0 0h0m2-1h0m0-3h0m1-2h0m0 6h0m1 0h0m1-4h0m0 1h0m0 3h0m2-3h0m0 2h0m0-2h0m0-1h0m3 0h0m0 0h0m0 2h0m1-3h0m0 3h0m0-3h0m1 1h0m0 5h0m0-5h0m1 4h0m0-5h0m0 7h0m0 0h0m1-6h0m2 3h0m1 1h0m0-2h0m1-4h0m0 4h0m0-3h0m0 7h0m1-4h0m1-1h0m1 0h0m1 3h0m0-6h0m1 7h0m1-3h0m0-2h0m1 1h0m0-2h0m0 4h0m0-3h0m1-1h0m1 1h0m0 1h0m1 0h0m2-2h0m0 2h0m0 5h0m0-3h0m0 3h0m1-1h0m0-3h0m0 2h0m0-4h0m1 0h0m0 0h0m0-2h0m0 6h0m1-6h0m3 1h0m0 8h0m0-7h0m1 0h0m0-2h0m1 3h0m-6 10h0m-1 0h0m-2 0h0m0-2h0m-1 2h0m0 4h0m-1-3h0m-1-2h0m0-1h0m-1 1h0m0 6h0m0-3h0m0-3h0m-1-1h0m0-1h0m0 1h0m0 2h0m-1 6h0m-1-7h0m-4 1h0m0 6h0m-1-5h0m0-2h0m0-2h0m0 3h0m-2-2h0m-1 8h0m-1-3h0m-1 1h0m-3 2h0m0-5h0m-1 1h0m-1 0h0m-1-1h0m-1 5h0m-2 0h0m-2-4h0m0 2h0m0 2h0m-1-8h0m-1 0h0m-2 6h0m-1-6h0m0 3h0m0-1h0m-1 5h0m-1-5h0m0 1h0m0 3h0m0 0h0m-2-7h0m0 2h0m-1-2h0m0 6h0m-1-6h0m-1 0h0m0 8h0m0-5h0m-1 2h0m0 3h0m0 0h0m0-4h0m-1 2h0m0-3h0m-1 4h0m-1 2h0m0-8h0m0-1h0m-1 1h0m0 8h0m-1-3h0m0 0h0m0-1h0m-1-3h0m-1-1h0m-1 7h0m0-5h0m-2 6h0m0-3h0m-1 3h0m-1-5h0m-3 5h0m0-4h0m-10 12h0m7 2h0m0 0h0m0 0h0m0 0h0m1-3h0m2 0h0m0-5h0m1 2h0m0 1h0m1-1h0m0 4h0m0 0h0m1-3h0m1 5h0m0-5h0m3 3h0m0-7h0m0 2h0m0 7h0m0-5h0m1 1h0m1 1h0m0-5h0m0 2h0m0 0h0m0 2h0m0-3h0m0 0h0m1 3h0m1-5h0m1 5h0m1 4h0m0 0h0m1-9h0m0 5h0m0 1h0m1-4h0m0 7h0m0-5h0m1-1h0m0-3h0m1 1h0m0-1h0m2 5h0m0-4h0m0 3h0m0 3h0m6 1h0m0-5h0m0 2h0m1-5h0m0 7h0m0-7h0m1 6h0m0-3h0m0-1h0m0 0h0m0-1h0m1 4h0m1 2h0m1-6h0m1 6h0m1 1h0m0 0h0m1-4h0m0 5h0m0-6h0m1 5h0m0-1h0m1 1h0m0-4h0m1-4h0m0 9h0m1-3h0m0-5h0m0 3h0m0 3h0m1-7h0m0 5h0m0 3h0m1-8h0m1 7h0m0 1h0m0 1h0m0 0h0m1-1h0m0-8h0m1 8h0m1-2h0m1-1h0m0-4h0m0 5h0m0-4h0m1 7h0m1 0h0m0-6h0m1 2h0m0 4h0m0-1h0m1-7h0m0 2h0m1 0h0m0-3h0m0 5h0m0 3h0m0-7h0m0 1h0m0 4h0m0-1h0m1-2h0m0 0h0m1 1h0m0-2h0m0 5h0m0-7h0m1 2h0m0 5h0m2-3h0m1-2h0m-8 9h0m0 7h0m-1-8h0m0 0h0m0 7h0m-2-4h0m-1-2h0m-1 3h0m0 1h0m0-1h0m-1-3h0m0 7h0m0 1h0m-1-9h0m-1 4h0m0-4h0m-1 7h0m-1 1h0m0-5h0m0 2h0m-1 4h0m-1-2h0m0 0h0m0-7h0m-1 3h0m-1 1h0m-3 2h0m0 3h0m0-7h0m0 7h0m0 0h0m-1-1h0m0-5h0m-1 0h0m0 6h0m-1-9h0m0 1h0m0 2h0m-2-3h0m-1 3h0m-1 6h0m0-7h0m-1 4h0m-1-6h0m-1 4h0m0-3h0m-1 4h0m0 3h0m-1-4h0m0 0h0m-1 4h0m0-2h0m0-5h0m-1 8h0m0-1h0m0-6h0m-1 7h0m0-1h0m0-2h0m-1-5h0m-1 5h0m-1-3h0m-1 0h0m0-1h0m-1 4h0m0-5h0m0 8h0m-1-5h0m-1 3h0m0-3h0m-1-3h0m-1 7h0m-1-6h0m0 2h0m-1 4h0m0 1h0m-3-3h0m0 3h0m-1 0h0m0-9h0m-2 6h0m0-4h0m0 7h0m0-9h0m-2 3h0m-1 3h0m0-3h0m0-3h0m-1 8h0m-1-1h0m-1-3h0m0 2h0m0 2h0m0-1h0m0-7h0m-2 5h0m-1-3h0m-2 0h0m0 6h0m-1-1h0m-1 6h0m2 1h0m0 4h0m0 0h0m0-1h0m1-1h0m0 2h0m1-7h0m0 2h0m0-3h0m1 4h0m1 0h0m0-4h0m0 7h0m0-1h0m0 1h0m0-5h0m2 4h0m0-4h0m1 0h0m0 3h0m1 3h0m0-4h0m1-4h0m0 7h0m0-6h0m0 3h0m1 3h0m0-6h0m1 8h0m1-8h0m0-1h0m1 5h0m0-1h0m1 2h0m1-2h0m0 0h0m0 1h0m1-3h0m1-1h0m0 7h0m0-3h0m0-4h0m1 8h0m1-7h0m0 5h0m0 0h0m1 2h0m2-6h0m0 5h0m1-5h0m1 1h0m0-1h0m3 0h0m0 1h0m1 0h0m1 4h0m2-8h0m0 9h0m0-4h0m0 3h0m2-2h0m0-2h0m0-3h0m1 1h0m1 7h0m1 0h0m0-9h0m0 6h0m1-3h0m0 2h0m0-3h0m1-2h0m0 9h0m0-4h0m1-5h0m0 6h0m0-1h0m0 0h0m0-5h0m1 8h0m0-6h0m1 5h0m1-1h0m0 2h0m1 1h0m0-9h0m1 1h0m2 4h0m2 1h0m2 0h0m0-1h0m0 0h0m1-5h0m0 5h0m1-4h0m0 6h0m0-5h0m0-1h0m0-1h0m1 0h0m2 1h0m0 3h0m0 1h0m2-1h0m1-4h0m-6 12h0m-1 0h0m0 4h0m0 1h0m-1-2h0m0-5h0m-1 7h0m-1 1h0m-1-6h0m0 1h0m-1-3h0m-1 4h0m0 1h0m-1-5h0m0 9h0m-1-7h0m0 2h0m-2-4h0m0 1h0m0 7h0m-1-8h0m0 2h0m0 4h0m-2-4h0m0 0h0m-1 6h0m0-5h0m0-3h0m-1 6h0m0 3h0m-1-2h0m0 2h0m0 0h0m0-8h0m-1 7h0m0-8h0m-1 8h0m-1-8h0m0 4h0m-1-1h0m-1 0h0m0-3h0m0 1h0m0-1h0m-1 6h0m-1 1h0m0 2h0m-1-9h0m0 0h0m0 5h0m-1-1h0m0-4h0m-1 9h0m-1 0h0m0 0h0m0-2h0m-1-2h0m0 1h0m0-5h0m-1 3h0m-1 0h0m0 3h0m0-3h0m-1 4h0m0 1h0m0-4h0m-1 1h0m0 3h0m-1 0h0m-1-8h0m-1 0h0m0 4h0m0-5h0m0 4h0m-1-1h0m0 0h0m0 6h0m-1-2h0m0 0h0m0-3h0m-1-3h0m-1 7h0m0-5h0m0 4h0m-1-1h0m0 2h0m-1-8h0m-1 4h0m0 2h0m-1 0h0m0-6h0m-1 4h0m0-1h0m-1 2h0m0 1h0m0-4h0m0-2h0m-1 6h0m-1-2h0m-1 5h0m0-8h0m-1-1h0m0 8h0m0-5h0m0-1h0m0 0h0m-1 3h0m0 1h0m-1-5h0m0-1h0m0 9h0m-1-1h0m0-3h0m-1-4h0m0-1h0m0 9h0m-1-3h0m-1-5h0m-1 3h0m-2 15h0m2-9h0m0 3h0m1 6h0m0-9h0m0 1h0m0 8h0m0-2h0m1-2h0m0 1h0m1-3h0m0 3h0m0 3h0m0-7h0m1-2h0m2 4h0m0 0h0m1-1h0m0 4h0m1-4h0m0 1h0m1 2h0m0-3h0m1 0h0m0 0h0m0 3h0m1-6h0m0 0h0m1 5h0m0 3h0m0-6h0m1 3h0m0-3h0m2-1h0m0 0h0m0 8h0m1-6h0m1 5h0m0-6h0m0 4h0m0-6h0m2 9h0m1-2h0m1-1h0m1-6h0m0 0h0m2 4h0m0 4h0m0-4h0m0 3h0m0 0h0m1 1h0m2 1h0m2-3h0m0-3h0m0-1h0m0 2h0m1-2h0m2 7h0m0-7h0m1 3h0m1 2h0m0-1h0m1-1h0m0-3h0m1-2h0m0 1h0m1 0h0m1 0h0m0 5h0m0-4h0m0-2h0m0 7h0m1-3h0m0 3h0m0 0h0m0 2h0m1-9h0m1 6h0m0-6h0m2 8h0m0-6h0m0 6h0m1-6h0m0 2h0m0-4h0m0 0h0m1 4h0m1 3h0m1-2h0m1-2h0m1-2h0m-4 11h0m-1 1h0m-1 0h0m0-3h0m-3 0h0m0 2h0m-3 1h0m-2-2h0m-1 8h0m0-5h0m-2-4h0m0 8h0m-1-1h0m0-1h0m-1 0h0m0-3h0m-1 2h0m0-2h0m0 3h0m-1-3h0m0-3h0m-1 1h0m0 6h0m-1-1h0m-1 0h0m0 1h0m-1-2h0m-1-2h0m0 0h0m0 4h0m0-4h0m-1 5h0m0-8h0m0 1h0m-1 4h0m0-2h0m-2 5h0m-2-7h0m0 1h0m0-1h0m0 5h0m-1-5h0m0 1h0m0 5h0m0-1h0m0 3h0m-1-7h0m-2 5h0m0-6h0m-1 5h0m-1 2h0m0-4h0m-1 4h0m-2 0h0m0-3h0m-1 0h0m0 4h0m-1-6h0m0-3h0m0 8h0m-1-1h0m0-3h0m-1 3h0m0-1h0m0-5h0m0 3h0m-1 0h0m-1-2h0m0-1h0m-2 5h0m-1-6h0m0 6h0m0-4h0m0 6h0m-1 0h0m-1-1h0m0 0h0m-1 0h0m0-4h0m-1 4h0m0-5h0m-1 3h0m-1 14h0m1-6h0m1 0h0m0 2h0m2 3h0m0-6h0m1 4h0m1-5h0m1 0h0m0 7h0m0-5h0m0 3h0m1-2h0m0-1h0m1 2h0m0-2h0m2 1h0m0 1h0m1 4h0m0-8h0m1 8h0m2-3h0m0 0h0m0 2h0m1-7h0m1 5h0m0-3h0m2 3h0m0-5h0m0 8h0m1-5h0m0-1h0m1 1h0m0-3h0m0 7h0m0-8h0m1 6h0m0-3h0m1 6h0m1-9h0m1 0h0m0 8h0m1 0h0m1 1h0m0-5h0m0 3h0m1 1h0m1-1h0m1-2h0m0 4h0m1-3h0m1 3h0m2-7h0m0 6h0m0-2h0m0-4h0m1-1h0m0 7h0m2-8h0m0 3h0m0 4h0m1-5h0m0-2h0m0 1h0m0 1h0m0-1h0m1 6h0m1-5h0m0 0h0m1 3h0m0-4h0m3 0h0m2 0h0m0 1h0m-9 9h0m-1 1h0m-1 2h0m0 1h0m-1-2h0m-1-3h0m0 0h0m-2 9h0m-1-4h0m0 4h0m-2-8h0m0 0h0m-1 5h0m0-2h0m-1-3h0m-1 1h0m0 4h0m0 2h0m-1-4h0m0 1h0m-1-4h0m0 3h0m0 3h0m-2-1h0m0 1h0m-1 2h0m0-9h0m-1 5h0m0 2h0m-1-3h0m-1 5h0m0-2h0m-1-5h0m0 6h0m0 0h0m-2-7h0m-1 6h0m0-3h0m0 2h0m0-6h0m-1 3h0m0-1h0m0-1h0m-1 3h0m0 2h0m0 0h0m0 0h0m-1-3h0m0-1h0m0-2h0m0 0h0m-1 7h0m0-3h0m0 4h0m0-6h0m0-1h0m-1 2h0m0-3h0m-1 1h0m0 4h0m-4-4h0m5 10h0m0 4h0m0-3h0m2 5h0m1-7h0m1 2h0m0 7h0m1-1h0m1-2h0m0-3h0m1 1h0m0-3h0m0 1h0m1 3h0m0 4h0m1-4h0m0 1h0m1 1h0m0-7h0m0 3h0m0 4h0m0 0h0m0-6h0m1 5h0m0 0h0m2-3h0m0 1h0m1 0h0m0 3h0m1-7h0m0 9h0m1-6h0m0-3h0m1 4h0m0 1h0m1-3h0m1 0h0m1 0h0m1 0h0m3-1h0m1 2h0m0-1h0m-11 9h0m-2 1h0m-2-2h0m0 0h0m0 1h0m-1 2h0m-2-1h0m-5-2h0" stroke="#d672c3" stroke-width="2.9"/>
<path d="M262 818h0m-1 1h0m-1-1h0m0-1h0m-3 0h0m0 2h0m0-3h0m-1 2h0m0 1h0m-5 0h0m-1-2h0m-12 11h0m2 0h0m1 0h0m0 0h0m1-1h0m0 0h0m1-3h0m0 3h0m1-4h0m0 3h0m1 3h0m0-7h0m1 2h0m0 0h0m1-3h0m0-1h0m0 1h0m1 4h0m2-5h0m1 1h0m1 1h0m0 2h0m1-4h0m0 3h0m1-3h0m0 7h0m1-1h0m1 0h0m1 2h0m0-3h0m1-4h0m1 0h0m0 4h0m0-2h0m1-2h0m1-1h0m1 1h0m2 0h0m0 6h0m0-4h0m1 0h0m2-1h0m0 2h0m1 0h0m0 4h0m0-3h0m0 2h0m1-1h0m1-3h0m0-1h0m0 4h0m0-1h0m1 3h0m0-3h0m1-1h0m0 4h0m0-5h0m1 1h0m0 1h0m0 1h0m1 2h0m2-1h0m3 2h0m1-1h0m3 7h0m0 3h0m0-2h0m0 0h0m-2 3h0m0-7h0m0 5h0m0 2h0m0-4h0m-1-4h0m-1 2h0m0 2h0m-2-4h0m-1 4h0m-1-2h0m0 3h0m-1-3h0m0-1h0m-5 4h0m0 1h0m0-4h0m-3 2h0m-2 4h0m0-3h0m-1 3h0m-1-6h0m-1-2h0m-1 3h0m0 3h0m-1-1h0m0-4h0m-1 1h0m-1 4h0m-3-2h0m0 4h0m-2-9h0m-1 6h0m-1 0h0m-1-4h0m-4 0h0m-1 6h0m-1-4h0m0-1h0m-3-3h0m-1 3h0m-1-1h0m0-2h0m0 0h0m-1 5h0m0 0h0m-1 0h0m0 3h0m0-7h0m-1 1h0m0 6h0m-3-2h0m0 1h0m0-2h0m0 4h0m-1-2h0m0-6h0m-1 6h0m0 2h0m-1 0h0m-1-1h0m0-1h0m-6 12h0m1-4h0m1 3h0m0-2h0m0-5h0m1 3h0m0 4h0m0-3h0m1-1h0m1 0h0m0 3h0m0 2h0m0 0h0m1-2h0m1-6h0m0 0h0m0 5h0m0-1h0m1 0h0m0 0h0m1-5h0m0 6h0m0-4h0m1 6h0m0-6h0m1 6h0m0 0h0m1-8h0m0 1h0m1 7h0m2-5h0m0 0h0m0 4h0m3-5h0m1 7h0m1-6h0m1 2h0m1-4h0m1 0h0m1 5h0m0-6h0m1 2h0m0 0h0m1 4h0m1-1h0m2-4h0m0 8h0m1-9h0m0 7h0m1 1h0m1-2h0m1-6h0m2 4h0m1-4h0m0 5h0m4-2h0m0-2h0m1 3h0m1 1h0m1 3h0m2-7h0m0 1h0m1 4h0m0-5h0m2 8h0m1 0h0m0-8h0m1 4h0m1 2h0m0-4h0m0 0h0m1-2h0m0 7h0m0 1h0m0-1h0m1-7h0m1 4h0m1 4h0m1-2h0m0-3h0m0 1h0m0 1h0m1 0h0m0-5h0m0 4h0m1 1h0m0-3h0m0-3h0m1 9h0m0-2h0m0 0h0m0-5h0m0 3h0m2 0h0m0-3h0m0-1h0m0 2h0m2 4h0m0-2h0m-3 10h0m-1-2h0m0 6h0m-1-7h0m0 2h0m0-2h0m-1-1h0m0 7h0m0-1h0m-1-1h0m0 0h0m0 2h0m0-4h0m-1-3h0m-1 5h0m0 2h0m0-7h0m0 4h0m-1-4h0m0 2h0m-1 5h0m0-8h0m-4 2h0m-6 4h0m-1 0h0m0-2h0m-2 3h0m-1-3h0m0 1h0m-1-2h0m0-2h0m-1 6h0m0-7h0m-1 6h0m0-4h0m-3 6h0m-3 1h0m-1-4h0m0 3h0m-1-8h0m-2 1h0m-3 8h0m0-3h0m-1-3h0m-2-2h0m-1 0h0m-1 5h0m0 3h0m-3 0h0m-2-9h0m-1 3h0m0 5h0m-1 0h0m-1 0h0m-1-6h0m-1 5h0m0 2h0m-1-7h0m0 6h0m-1-4h0m-1-4h0m0 9h0m0-5h0m-2-2h0m0 4h0m0 0h0m-1-4h0m0 6h0m-1-7h0m0 3h0m0 4h0m0-5h0m0-1h0m-1-2h0m0 9h0m0-2h0m-1 1h0m-1 1h0m0-4h0m0 11h0m2 1h0m0-1h0m0-3h0m1-3h0m0 5h0m1-2h0m0 5h0m1-7h0m1 0h0m1 2h0m0-3h0m1 0h0m0 7h0m3 0h0m4-5h0m2 4h0m1-1h0m0-4h0m0-1h0m2 2h0m1 3h0m1-3h0m0 7h0m1-5h0m0-3h0m1 0h0m1 4h0m1-4h0m0-1h0m0 3h0m1-1h0m1 4h0m0-6h0m2 4h0m1-1h0m0-3h0m1 8h0m0-3h0m2-2h0m0 1h0m1-4h0m1 4h0m2 2h0m1-5h0m0 3h0m1 2h0m1 3h0m5-3h0m0-3h0m2-1h0m0 4h0m2-3h0m0-1h0m1 2h0m1 1h0m1 0h0m0-5h0m1 1h0m1 7h0m1-6h0m0 0h0m0 5h0m1-2h0m0 3h0m0-1h0m1-5h0m0 5h0m1-6h0m-5 14h0m0-4h0m-1 2h0m-1 6h0m-1-7h0m-2-2h0m-1 0h0m-1 1h0m-3 7h0m-3-7h0m0 4h0m-1-2h0m-4-2h0m-1 1h0m-2-1h0m-1 7h0m-2-1h0m-1 1h0m0 1h0m-1 0h0m0-7h0m-1 3h0m-1 3h0m0-4h0m0 5h0m-1-2h0m-1 0h0m-1-4h0m-2-2h0m-1 5h0m0-2h0m-1-1h0m0-1h0m0 3h0m0 0h0m-3-2h0m0 6h0m0-3h0m0 1h0m-1-2h0m-2 4h0m0-1h0m-2-3h0m0 3h0m0-8h0m-2 1h0m-1 8h0m0-8h0m-1 5h0m0-6h0m-2 6h0m-1-1h0m0-5h0m-1 1h0m0-1h0m-1 0h0m0 2h0m7 17h0m1-1h0m0 1h0m0-2h0m0-7h0m0 6h0m0 0h0m1 2h0m0 0h0m1 1h0m0-2h0m1 1h0m0-7h0m2 8h0m0-4h0m1 2h0m0-1h0m0-6h0m0 5h0m1 3h0m0-2h0m0-3h0m3-2h0m1 2h0m1-1h0m3 7h0m0-1h0m1-5h0m0 5h0m0-6h0m1 2h0m0 2h0m2 2h0m2-1h0m1-5h0m2-2h0m1 7h0m1-3h0m2 3h0m1-1h0m0-6h0m2 3h0m1-1h0m0 7h0m0-1h0m2-3h0m1 0h0m1-1h0m0-1h0m1 6h0m1-8h0m1-1h0m0 8h0m0-6h0m1 1h0m1-1h0m1 1h0m0-3h0m1 4h0m0 0h0m-4 7h0m-1-1h0m-1 5h0m0 0h0m0-5h0m-1 1h0m0 3h0m0-4h0m0 1h0m0 3h0m-1 3h0m0-4h0m-1 2h0m0 2h0m0-5h0m-1 3h0m0-1h0m0 3h0m0 0h0m-1-6h0m-2 1h0m-2-1h0m-2 0h0m-2-1h0m0 4h0m-2 1h0m0 2h0m0-6h0m0 6h0m-2-6h0m-3 6h0m-1 0h0m0 0h0m-1 2h0m0-8h0m-2 5h0m0 3h0m0-1h0m-1-6h0m-1 7h0m0-5h0m-1-4h0m-1 1h0m-1 7h0m0-1h0m0-3h0m0 5h0m0-2h0m-1-2h0m-1 0h0m0-1h0m-1 5h0m0-3h0m0 0h0m-1-2h0m0-1h0m0 2h0m-1-4h0m0 8h0m-1-7h0m5 11h0m1-3h0m0 0h0m1 1h0m1-1h0m0 3h0m0-3h0m0 1h0m1 6h0m0-7h0m1 0h0m0 9h0m0-6h0m1 6h0m0-1h0m1 1h0m0-7h0m1 0h0m0 2h0m2 0h0m0 1h0m1 0h0m0 0h0m0-2h0m2 5h0m0-5h0m1-1h0m1-1h0m3 8h0m0-7h0m1 3h0m0 1h0m0 2h0m0-4h0m0-1h0m1 6h0m0-3h0m0-5h0m0 6h0m1 2h0m0-5h0m0 5h0m1 0h0m0-3h0m1 1h0m0-3h0m1-4h0m1 6h0m1-3h0m2-2h0m-7 12h0m-2-2h0m-1 0h0m-1 2h0m0 3h0m0-3h0m0 1h0m0 3h0m0-2h0m-1-4h0m0 2h0m-1 3h0m-1-5h0m-1 4h0m-1 0h0m-1-2h0m0-3h0m-1 1h0m0 0h0m0 3h0m-1-3h0m0-1h0m-1 4h0m-1-3h0m-1-1h0" stroke="#f07d2c" stroke-width="2.9"/>
<path d="M398 679h0m-2 0h0m0-1h0m0 1h0m-3-6h0m0 6h0m-10 10h0m3-1h0m4-2h0m1 1h0m0-6h0m1 2h0m0-1h0m1 6h0m0 1h0m1 0h0m0-1h0m1-7h0m1 6h0m0 2h0m2-6h0m1 6h0m1-2h0m0-2h0m1-4h0m0 0h0m0 1h0m0 3h0m4-1h0m0-1h0m1 1h0m3 5h0m1-3h0m1 1h0m3 3h0m-1 1h0m-3 0h0m-2 2h0m0-2h0m-3 7h0m-1-6h0m-2-2h0m0 0h0m0 6h0m0 2h0m-1-6h0m0-2h0m-1 3h0m0 4h0m-2-1h0m0 1h0m0 0h0m-1 1h0m0-3h0m0 2h0m0 1h0m-2 1h0m0-8h0m0 6h0m0-5h0m-1 7h0m-1-2h0m0-5h0m-1 6h0m0-6h0m0 2h0m-1-2h0m0 7h0m0-1h0m-1-5h0m0-3h0m-1 5h0m-1-3h0m-1 4h0m0-5h0m0 7h0m-1 1h0m0-2h0m-1 1h0m-1 0h0m-1 0h0m-4 0h0m-12 6h0m4 1h0m1 3h0m3-2h0m3-3h0m1 2h0m1-2h0m1 2h0m0 0h0m2 0h0m0-3h0m0 1h0m1 4h0m1-7h0m0 6h0m0-1h0m0-1h0m1-4h0m0 8h0m0-7h0m0-1h0m0 3h0m0-3h0m1 2h0m0-1h0m1 1h0m0 3h0m1-2h0m1-3h0m1 1h0m0 1h0m1-1h0m0 1h0m1 2h0m1-1h0m1-3h0m9 0h0m-14 14h0m0 1h0m0-5h0m0 2h0m-1-2h0m0 4h0m-1-4h0m-1 0h0m-1 4h0m-2-1h0m-1-2h0m0 0h0m-1 4h0m-1 2h0m0 1h0m-1-1h0m0 1h0m-1-7h0m0 3h0m0 2h0m-2-1h0m-1-4h0m0 4h0m0 2h0m0-3h0m-1-2h0m0-2h0m0 4h0m-1 0h0m-1 3h0m-2-2h0m-1 2h0m0-7h0m-2 9h0m0 0h0m0-9h0m-1 6h0m0-1h0m-8 0h0m-9 11h0m5-3h0m4 0h0m3 2h0m1 2h0m3-2h0m1 4h0m0-3h0m0 2h0m1-4h0m0 4h0m1-6h0m1 3h0m0-5h0m0 1h0m1 1h0m1 5h0m0-4h0m0 6h0m0-9h0m1 8h0m1 0h0m0-6h0m0-2h0m2 4h0m2-3h0m0 6h0m1-6h0m1 6h0m1 2h0m0-8h0m1 2h0m0 0h0m1 3h0m2-2h0m2 4h0m5-6h0m-3 15h0m-6 2h0m-1-7h0m-1-2h0m-2 5h0m0-5h0m-1 7h0m-1-6h0m-1 1h0m-1 0h0m-2-1h0m-2 0h0m0-1h0m0 3h0m-1-3h0m-1 0h0m0 3h0m0 3h0m-1-3h0m-1 5h0m0 0h0m0-8h0m-1 9h0m0-3h0m-1 2h0m0-6h0m-1 6h0m0-3h0m-1 1h0m0 1h0m-1-6h0m-1 5h0m0-2h0m-2-4h0m0 3h0m-1 3h0m0-2h0m-1 3h0m-2-7h0m0 7h0m0-1h0m-1 1h0m-1-5h0m-1 6h0m3 5h0m0-2h0m0 0h0m1 1h0m2 3h0m0-1h0m1 1h0m0 0h0m1 1h0m0 0h0m0-1h0m1-4h0m1 5h0m1 1h0m1-7h0m1 7h0m0-6h0m1 5h0m3-6h0m9 0h0m-8 13h0" stroke="#3fb9b9" stroke-width="2.9"/>
<path d="M507 538h0m0-2h0m-1 3h0m0-4h0m-2 4h0m0-1h0m-2 1h0m0 0h0m-1 0h0m-1-4h0m-1 1h0m-1 0h0m0 3h0m-4-2h0m-2 1h0m-1 1h0m-2 9h0m2-8h0m0 4h0m0 2h0m1-4h0m0 0h0m0-1h0m1 2h0m1 6h0m0-3h0m0 1h0m0-2h0m1-3h0m0 7h0m2-9h0m0 0h0m0 1h0m0 5h0m1-4h0m0 4h0m0 1h0m0-2h0m2-5h0m0 1h0m0 0h0m0 4h0m1-5h0m0 7h0m0-5h0m0 3h0m1-1h0m1-1h0m1 3h0m0-2h0m0 1h0m1-1h0m0-3h0m0 2h0m1 4h0m1-6h0m0 4h0m1 4h0m1-9h0m0 0h0m0 0h0m0 6h0m1-3h0m0 0h0m0 0h0m0 5h0m1-7h0m0 4h0m1-2h0m1 3h0m0 0h0m0 1h0m1-4h0m0 3h0m1-3h0m0-2h0m0 3h0m0-1h0m2 1h0m0-3h0m0 4h0m1 2h0m0 2h0m1 0h0m1-2h0m2-1h0m1 0h0m0 0h0m0 0h0m1 3h0m0 0h0m0 0h0m0 0h0m0 0h0m1 0h0m2 0h0m2 0h0m14 10h0m-5-4h0m-1 3h0m-1-1h0m-1 1h0m0-4h0m0 3h0m0 2h0m-1-3h0m0-1h0m-1-4h0m0 0h0m0 3h0m-1 3h0m0-5h0m-1 7h0m-1-1h0m-1 0h0m-1-8h0m0 2h0m0 1h0m-2 4h0m0 1h0m-2 0h0m-2-8h0m0 3h0m-3 4h0m-1-7h0m0 8h0m-1-7h0m0 8h0m0 0h0m-1-6h0m-1 1h0m-1 5h0m0-1h0m0-3h0m-4 3h0m-1-6h0m0 2h0m0 3h0m-1-4h0m0 5h0m-2-8h0m-1 9h0m-1-5h0m-1-3h0m0 4h0m0-1h0m-4 2h0m0 3h0m0-4h0m-1 2h0m0-1h0m-1-3h0m-1-1h0m0 5h0m-1 2h0m0-3h0m0-5h0m-1 2h0m0 4h0m0-5h0m0-1h0m-1 7h0m0-2h0m-1-2h0m0 2h0m0 1h0m0-7h0m0 4h0m-1-3h0m-1 4h0m0-2h0m-6 11h0m2 5h0m2 0h0m1-1h0m1-8h0m0 5h0m1 1h0m1 0h0m0-6h0m0 2h0m1 2h0m0-2h0m1 4h0m1 1h0m0 1h0m1-1h0m0 1h0m1-3h0m1-2h0m0-1h0m3 4h0m3 1h0m1-7h0m1 9h0m1-9h0m2 8h0m1-8h0m1 1h0m1 7h0m1-3h0m1-4h0m1 7h0m0-4h0m1-2h0m0 5h0m1 1h0m1-1h0m1-4h0m0 4h0m2-4h0m3 1h0m0 0h0m1 2h0m0 1h0m2 2h0m2-7h0m0-2h0m0 2h0m1 6h0m2-4h0m1-2h0m0-1h0m1 7h0m1-4h0m1-3h0m1 7h0m0 1h0m0-9h0m1 1h0m0 2h0m1-1h0m1 0h0m0 3h0m1-2h0m0-3h0m0 1h0m0 3h0m1-4h0m0 5h0m0 4h0m0-1h0m1-4h0m1 3h0m1-3h0m0 4h0m0 0h0m1 1h0m0-4h0m0-1h0m1 5h0m1-2h0m0 0h0m2 1h0m4-1h0m2 9h0m-1 3h0m-2-9h0m0 4h0m0 2h0m0-4h0m-1 2h0m0-4h0m0 1h0m0 7h0m0-5h0m-2-2h0m0 6h0m0-7h0m0 7h0m0 0h0m0-5h0m-1 7h0m0-7h0m0-1h0m-1 2h0m0 5h0m0-8h0m-1 3h0m0 6h0m0-7h0m-2-2h0m0 0h0m0 3h0m-1 3h0m-3 3h0m0-5h0m0-3h0m-2 1h0m-3 1h0m-1 1h0m0-2h0m0 3h0m-1 2h0m-2-5h0m-1 4h0m-2-6h0m0 9h0m-2-8h0m0-1h0m-1 1h0m-1 6h0m0-1h0m0-2h0m0-2h0m0-1h0m-1 4h0m-1 1h0m0-5h0m0 1h0m-2 1h0m0 5h0m-1-4h0m-2 2h0m-1-3h0m0 6h0m-1 0h0m-1-2h0m0-6h0m-1 1h0m0 0h0m-1 2h0m0 3h0m-2-2h0m-1 1h0m-1-2h0m-1-1h0m-1-3h0m0 5h0m0-4h0m-2 6h0m0 1h0m-1 0h0m-1-3h0m-1-2h0m-1-1h0m-1 1h0m-1 2h0m-1-4h0m0 7h0m-1-8h0m-1 7h0m-1-1h0m-1-4h0m0 4h0m0-1h0m-1-5h0m0 7h0m-1-5h0m0 2h0m-1 3h0m-1-6h0m0 2h0m0 3h0m-1-6h0m0 7h0m-1-2h0m0 4h0m-2-7h0m0 5h0m0 2h0m-1-4h0m-20 12h0m9 0h0m1 0h0m1-7h0m1 9h0m0-2h0m1 2h0m1-1h0m1 0h0m0-2h0m1 0h0m0-1h0m1 3h0m1-6h0m0-1h0m0 7h0m1 0h0m1-4h0m3-2h0m4 4h0m2-6h0m0 7h0m1-2h0m0 4h0m1-6h0m1-2h0m3-1h0m0 2h0m1-1h0m0 1h0m1 6h0m0-8h0m1 6h0m1-2h0m1 1h0m3 0h0m1-3h0m0 2h0m0-1h0m1 0h0m1-2h0m0-1h0m1 0h0m3 3h0m0 0h0m0 2h0m0 3h0m2 0h0m1-3h0m2-4h0m1 6h0m1 2h0m0-9h0m1 8h0m1-3h0m0 2h0m0-4h0m2 6h0m0-4h0m0-3h0m0 7h0m1-5h0m0-1h0m0-1h0m0 7h0m1-5h0m4 0h0m0-4h0m2 1h0m0 5h0m2-6h0m1 1h0m1-1h0m1 0h0m1 9h0m0-6h0m1 2h0m0 3h0m0 1h0m0-7h0m0 6h0m1 1h0m2-4h0m1 3h0m0-7h0m2 0h0m0 3h0m1-1h0m2 0h0m0-3h0m0 4h0m0 1h0m0-4h0m1 3h0m0 1h0m0-2h0m1 1h0m0-1h0m1-3h0m0 5h0m0-5h0m2 0h0m-3 10h0m0 1h0m-1 0h0m0-1h0m0 6h0m-2 1h0m0-3h0m0 2h0m-1-3h0m-1-2h0m-1 1h0m-1-1h0m-1 5h0m-2 2h0m0-5h0m-1 1h0m-2 4h0m0 0h0m-1-6h0m0 0h0m-1-2h0m0 6h0m0-4h0m0 6h0m-1-2h0m-1-1h0m-1-1h0m0-4h0m0 6h0m-1-6h0m-1 5h0m-1-1h0m0-1h0m0 3h0m-2 2h0m-2-2h0m0 3h0m-2-4h0m0 3h0m-1-2h0m0 0h0m-4 3h0m-2-7h0m0 3h0m-1-5h0m0 7h0m-2-2h0m-3 4h0m0-4h0m-1 2h0m0-7h0m-1 2h0m0-2h0m-5 3h0m0 6h0m-1-9h0m0 0h0m0 8h0m-1 1h0m-1-9h0m0 6h0m-1-5h0m0 1h0m-1 0h0m-1 2h0m-1-2h0m-1 4h0m-1 0h0m-2-3h0m-1 6h0m0-9h0m-1 3h0m0 1h0m-1 4h0m-1-7h0m0 8h0m0-7h0m0 3h0m-3-5h0m0 0h0m-2 3h0m0 3h0m-1 3h0m0-2h0m-1-7h0m0 8h0m0-8h0m-1 2h0m0 1h0m-1 0h0m0-1h0m-1 6h0m-1-8h0m-2 9h0m0-6h0m0 3h0m-4-3h0m0-1h0m-1-2h0m0 6h0m-1 0h0m0 1h0m0-2h0m0-2h0m0 1h0m-1-1h0m0-3h0m-2 1h0m0 7h0m-1-1h0m-1-3h0m0 1h0m0 0h0m0 2h0m-1-6h0m-1 6h0m-1 1h0m-1 1h0m0-1h0m-2-1h0m0 1h0m0-5h0m0 6h0m-1-4h0m0 1h0m0-3h0m-1 4h0m0-1h0m0 2h0m-2 0h0m-2-6h0m0 5h0m0 0h0m-2-2h0m-1-1h0m-2 2h0m-2 3h0m-4-3h0m-4 2h0m0-1h0m-2 2h0m-4 0h0m-1-2h0m-1-2h0m-2 4h0m-5 0h0m-38-6h0m-6 3h0m-6-5h0m-2 12h0m3 6h0m2-9h0m5 6h0m1-5h0m1-1h0m1 5h0m1-2h0m0 2h0m5 3h0m2 1h0m2-2h0m3 1h0m13-2h0m3-2h0m0 0h0m1 4h0m0-2h0m0 3h0m2-3h0m1 3h0m0-1h0m2-1h0m1-1h0m0 0h0m0-3h0m1-2h0m0 3h0m0 0h0m0 0h0m1 0h0m0-1h0m0 5h0m0-3h0m1-4h0m0 4h0m1 0h0m0 0h0m1-3h0m0 3h0m0 4h0m1-6h0m0 0h0m0-3h0m0 9h0m1-9h0m0 7h0m0 0h0m1-5h0m0 1h0m1-1h0m1 0h0m0 0h0m0 1h0m0-2h0m1 3h0m0-1h0m0 0h0m0 2h0m2 0h0m0 2h0m2-7h0m0 3h0m0 2h0m2 0h0m0-2h0m1 5h0m0-5h0m0-1h0m1-1h0m0 2h0m1 3h0m0-2h0m1 3h0m1-7h0m1 0h0m0 2h0m0 5h0m0 0h0m0 1h0m1-8h0m0 3h0m1-3h0m1 6h0m1-4h0m0 4h0m1-1h0m0 2h0m0 0h0m0 2h0m1-2h0m2-5h0m0 1h0m1 0h0m3 1h0m1-4h0m0 5h0m1 0h0m0-3h0m0-1h0m1-1h0m0 1h0m0 0h0m1-1h0m3 0h0m1 3h0m0 3h0m1-5h0m0 8h0m2-8h0m0 7h0m0-6h0m0 0h0m1 1h0m0-1h0m1 3h0m2 3h0m0 0h0m3-8h0m2 4h0m1 5h0m1-6h0m0 4h0m2-4h0m0-1h0m0 0h0m2 3h0m2 3h0m1-2h0m2 2h0m1-3h0m0 0h0m1 3h0m0-4h0m0-2h0m1 7h0m2-5h0m1 4h0m1-2h0m0 1h0m0-3h0m1-3h0m0 2h0m0-2h0m0 3h0m1 2h0m1 1h0m2-7h0m0 4h0m2 2h0m1-4h0m0 5h0m1-5h0m2-2h0m1 1h0m0-1h0m1 0h0m1 1h0m1 5h0m1-4h0m0 6h0m0-4h0m1 4h0m1-3h0m2-4h0m0 2h0m0 5h0m1-7h0m1-1h0m1 7h0m1-6h0m0 5h0m1 2h0m0-7h0m1 4h0m1-4h0m1 7h0m2-7h0m1 2h0m0 0h0m1-2h0m1 1h0m1 5h0m0-2h0m0-4h0m0 5h0m1-3h0m1 4h0m0-2h0m2-5h0m0 4h0m1 3h0m0-7h0m0 1h0m0 0h0m1-1h0m0 6h0m1 3h0m0-3h0m0-4h0m2 2h0m0-3h0m0 3h0m1 0h0m0-3h0m0 0h0m0-1h0m0 0h0m0 6h0m1-4h0m5-1h0m0 1h0m-11 10h0m-1 2h0m-3-3h0m-1 3h0m0-4h0m-1 1h0m-1 1h0m-1-1h0m-1 1h0m-1 5h0m0-4h0m-1-2h0m0 2h0m0-2h0m-1 1h0m0 6h0m-1-5h0m0 5h0m0-5h0m-1 2h0m0-2h0m-1 3h0m0-3h0m-2 3h0m-1-1h0m0-3h0m0-1h0m0 1h0m-1 1h0m0 6h0m0-4h0m-1 2h0m0 0h0m0-4h0m-1 6h0m0-1h0m0 1h0m-1-2h0m-1-3h0m-1-1h0m-2 6h0m0-9h0m0 8h0m0-5h0m-1 5h0m0-8h0m-2 5h0m-2-5h0m-1 6h0m0-3h0m-3 5h0m-2-3h0m-2 4h0m-1-3h0m-2-3h0m0 4h0m-1-4h0m0 2h0m0 0h0m-1-4h0m-2 1h0m-1 3h0m-1 4h0m0-5h0m0-4h0m0 4h0m0 2h0m-3-3h0m-1 4h0m0-5h0m0 3h0m-1 4h0m-1-1h0m0 0h0m0-3h0m-1-5h0m-2 8h0m-1 0h0m-1-8h0m-1 9h0m-2-5h0m0-2h0m0 4h0m-1 2h0m-1-5h0m-1 2h0m0-4h0m-1 4h0m-4-5h0m-2 2h0m0 2h0m0-3h0m-3 0h0m-1 4h0m0-1h0m-2 3h0m-1-6h0m0 7h0m-1-7h0m0 3h0m0 3h0m-1-5h0m-1 5h0m-1 1h0m0-2h0m-1 2h0m-1-2h0m-1-1h0m0 2h0m0 2h0m-1-6h0m-2-2h0m0 5h0m-2 1h0m0-7h0m0 8h0m-4-2h0m0 2h0m0-5h0m0 2h0m-1-4h0m-3 4h0m0 3h0m-1-8h0m-3 8h0m0-5h0m-1 0h0m0 3h0m-1-6h0m-1 5h0m-1-1h0m0-2h0m0 2h0m-1 3h0m-3-4h0m0-3h0m-1 5h0m0 2h0m-1-1h0m-1-4h0m0 1h0m0 4h0m-2-2h0m-1-5h0m-1 0h0m0 4h0m-1-4h0m-2 4h0m0 0h0m0 1h0m0 0h0m-1-5h0m-1 9h0m0-6h0m0 5h0m-2-1h0m0-5h0m-1 0h0m0-1h0m0 1h0m0-1h0m0 4h0m0 2h0m-1-4h0m0 3h0m-1-3h0m0-2h0m0 4h0m0-3h0m0 3h0m-1 3h0m0 0h0m0-5h0m-1 3h0m0 1h0m-1-5h0m0 5h0m0-7h0m-1 6h0m-1-3h0m0 6h0m-2-4h0m-1-4h0m-1 5h0m-2 0h0m-4 0h0m-1-3h0m-1 6h0m0-6h0m-2 4h0m-1-6h0m-2 3h0m-2 0h0m0 4h0m0-1h0m-3-4h0m0 2h0m-1 0h0m0-4h0m0 1h0m-6 7h0m-2-9h0m0 1h0m0 5h0m-4 1h0m-2 7h0m3 1h0m2-5h0m3 2h0m0 2h0m6 3h0m0-5h0m1 2h0m3 3h0m1-1h0m1-2h0m0-2h0m1 3h0m4-2h0m1-1h0m2 6h0m2-2h0m1 2h0m0 0h0m2-2h0m0-5h0m1 8h0m1-4h0m0 1h0m0 2h0m0-7h0m0 1h0m1 1h0m0 1h0m0-4h0m1 5h0m0 4h0m1-2h0m1-2h0m0-4h0m0 8h0m0 0h0m4-2h0m0-7h0m2 1h0m2 3h0m1-3h0m0 8h0m1-6h0m2-2h0m1 4h0m1-3h0m0 4h0m3-1h0m1-4h0m0 6h0m0 2h0m1 0h0m0-2h0m0-2h0m1 2h0m0 2h0m0 0h0m0-2h0m0 1h0m1-4h0m1-1h0m0 2h0m1 0h0m1-5h0m0 2h0m0 6h0m0-2h0m1 1h0m0-1h0m0 2h0m3-1h0m2 0h0m1-3h0m0 3h0m1 0h0m0-4h0m1-2h0m0 4h0m0-3h0m1-1h0m1 2h0m1 5h0m0 0h0m0-8h0m1 1h0m0 4h0m1-2h0m0 5h0m0 0h0m2 0h0m3-7h0m1 7h0m0-6h0m1-1h0m0 1h0m1 0h0m0 0h0m1-2h0m0 1h0m1 6h0m1-1h0m0 0h0m1 0h0m1-4h0m1 3h0m1-4h0m0-1h0m1 3h0m2-2h0m1 1h0m0 1h0m1 5h0m2 0h0m2-5h0m2 6h0m1-5h0m0 0h0m3 1h0m0-4h0m0 3h0m2-4h0m0 8h0m1-1h0m0-6h0m1 8h0m0-6h0m0 6h0m3-3h0m1 1h0m0 1h0m0-3h0m1 3h0m0-6h0m0 0h0m0 4h0m0 0h0m1 0h0m0 0h0m1 2h0m0-8h0m2 8h0m0 0h0m0-3h0m1 4h0m0 0h0m2 0h0m1-1h0m0 0h0m0-8h0m0 5h0m2-2h0m1 6h0m3-7h0m1 3h0m0-4h0m0 2h0m0 3h0m1-1h0m1 0h0m1 4h0m0-8h0m1 5h0m0-3h0m0 4h0m1 2h0m0-1h0m1-1h0m1-2h0m0 1h0m0-3h0m0 2h0m0 2h0m0 0h0m0-6h0m2 8h0m0-2h0m0-7h0m1 2h0m1-1h0m0 2h0m1-1h0m2 4h0m0-3h0m0 2h0m0-2h0m0 0h0m1 4h0m0-4h0m0-1h0m1 2h0m2 0h0m9-3h0m-18 9h0m-1 2h0m-2 0h0m-3 0h0m-1 7h0m-1-3h0m-2-3h0m0 1h0m-1-4h0m-2 7h0m0-6h0m0 1h0m-1 0h0m-1 4h0m0-5h0m-1 8h0m0-6h0m0 0h0m-1 4h0m-1 0h0m0-4h0m-1-1h0m-1 0h0m0 1h0m-1 6h0m-1-5h0m0 5h0m-3-6h0m0-1h0m-1 3h0m0 1h0m-1 3h0m0-4h0m-1 0h0m-1-1h0m-1 5h0m0-9h0m0 2h0m0 1h0m-1 5h0m-1-2h0m0-4h0m-1 0h0m-1 1h0m-1-2h0m-1 7h0m-3-1h0m-1-1h0m-1-5h0m0 5h0m-3-6h0m-1 0h0m-2 9h0m-1-2h0m-1-7h0m0 3h0m-1 2h0m0 2h0m-1-5h0m-1 3h0m-2 0h0m-1 1h0m0 0h0m-1 3h0m0-1h0m-2-5h0m-2 2h0m-2-1h0m0-2h0m0 1h0m-1 4h0m-1-6h0m0 7h0m0 1h0m0-7h0m-1-2h0m-1 4h0m0 1h0m-1-3h0m-2-2h0m-1 1h0m0 8h0m0-2h0m-2-3h0m-2-1h0m0-1h0m0 6h0m0-8h0m-1 3h0m-1 6h0m0-4h0m-1-4h0m-1 3h0m0 0h0m0 4h0m0-4h0m-1-3h0m0-1h0m0 3h0m-1-2h0m-1 4h0m-3-4h0m0 8h0m-1-2h0m-1-2h0m-1-1h0m0 0h0m0 4h0m-1-5h0m-1 5h0m0-2h0m0 1h0m-1 1h0m-1 0h0m0-6h0m-1-2h0m0 9h0m0-5h0m-1 3h0m-1 1h0m0-2h0m-2 2h0m0 0h0m-1 1h0m0-3h0m0-4h0m-3 6h0m-1-2h0m-4 0h0m-1-2h0m0-1h0m0 2h0m-1-4h0m0-1h0m-1 0h0m0 9h0m0-7h0m-1 5h0m-1 0h0m0 0h0m0-2h0m-1 4h0m-1-2h0m0-1h0m-1 2h0m-10-1h0m0-7h0m-1 0h0m-2 5h0m-2 4h0m-1-4h0m-3-5h0m-2 3h0m-1 3h0m-2 2h0m-5 1h0m2 7h0m2-1h0m1-5h0m6 0h0m2 3h0m2 2h0m1-1h0m1 5h0m1-5h0m0 4h0m1-7h0m1-1h0m1 1h0m1 4h0m5 1h0m0-4h0m0 0h0m2 7h0m1-4h0m1-5h0m0 5h0m0 2h0m1-1h0m0-2h0m0-3h0m1 1h0m0 2h0m1 3h0m1-2h0m1-2h0m0 2h0m0 2h0m1-7h0m2 3h0m0-2h0m0 5h0m0 3h0m0-4h0m1-3h0m0 2h0m0 5h0m1-9h0m0 3h0m2 6h0m0-8h0m1 8h0m3 0h0m1-7h0m1 4h0m0-6h0m2 6h0m3 3h0m1-3h0m0-4h0m0 0h0m0 6h0m1-3h0m1 3h0m1-1h0m0 0h0m2-1h0m1-5h0m1 7h0m0-2h0m0 2h0m0-5h0m1 6h0m0 0h0m1-6h0m0-1h0m1 4h0m0 2h0m1-1h0m0-2h0m2 4h0m0-5h0m1 0h0m1 4h0m0-3h0m0-3h0m2 0h0m0 3h0m0-2h0m0 5h0m1 1h0m0-7h0m0 5h0m0-4h0m0 4h0m2-5h0m1 7h0m4-9h0m0 7h0m0-6h0m1 5h0m2-4h0m0 6h0m1-8h0m2 8h0m0-6h0m1-2h0m0 1h0m1-1h0m1 3h0m0 3h0m0-2h0m1-4h0m2 6h0m0-4h0m1 4h0m1-2h0m0 4h0m0-5h0m1 3h0m0 3h0m1-6h0m0-2h0m0 3h0m0-4h0m1 1h0m2 3h0m1 1h0m1-5h0m0 9h0m0-5h0m2-4h0m0 3h0m0 6h0m2-1h0m0-5h0m1 2h0m0 4h0m0-2h0m0-6h0m2 7h0m0-1h0m2 1h0m0-5h0m2 2h0m1-1h0m0-3h0m1 7h0m1-5h0m0 2h0m1-5h0m0 4h0m0-1h0m0-2h0m4 6h0m1-4h0m1-1h0m7-2h0m8 0h0m-21 10h0m-5 3h0m0 1h0m-2-3h0m0 0h0m0 2h0m-1-3h0m0 0h0m-1 2h0m-5 2h0m0-2h0m0 5h0m0-3h0m-1-2h0m-1 2h0m-1-2h0m-1 7h0m0-8h0m0 7h0m0-8h0m-1 9h0m0-7h0m0 3h0m-1 1h0m0 2h0m0-4h0m-1-3h0m-1 4h0m0 1h0m-1-2h0m0 2h0m0-6h0m0 0h0m-1 9h0m0-6h0m-1 0h0m0 4h0m-1-2h0m0 1h0m-1-3h0m0 2h0m-1 4h0m-1 0h0m0-2h0m-1 2h0m-1-4h0m0-1h0m-2 1h0m0-1h0m0-2h0m-1 3h0m0 4h0m-1 0h0m0-8h0m-1 1h0m0 2h0m-1-1h0m-2 3h0m0 0h0m-2 3h0m0-7h0m0-2h0m-1 5h0m-1-1h0m-1-1h0m0 5h0m-1-4h0m-1 2h0m0-5h0m-1 7h0m-1-3h0m0-2h0m0-3h0m0 5h0m-1-2h0m-2 4h0m-1-5h0m0 3h0m0 3h0m-2-3h0m0-1h0m-1-1h0m-1 0h0m-1-1h0m0 7h0m0-8h0m0 6h0m-2-4h0m0-2h0m0 5h0m-2 3h0m-1 0h0m0 0h0m-2-8h0m-1 5h0m-1-2h0m-2 0h0m-1-4h0m0 3h0m-1-3h0m0 9h0m-4-9h0m-1 5h0m0-4h0m-1 2h0m-1 4h0m0 1h0m0-8h0m-1 9h0m-1-5h0m-1 5h0m-1-1h0m0-7h0m0 1h0m0 7h0m-1-8h0m-1-1h0m0 9h0m0-1h0m-2 0h0m0-5h0m0-1h0m0 6h0m-1-4h0m0 1h0m0-3h0m-1 7h0m0-8h0m0-1h0m0 4h0m0 1h0m-1-2h0m0 4h0m0-3h0m0 4h0m0-1h0m0 1h0m-1-1h0m0-5h0m0 3h0m-2-3h0m-5 0h0m-1 7h0m-2-8h0m0 0h0m-1 0h0m-1 8h0m0-9h0m-1 1h0m-1 4h0m-1 0h0m-1 4h0m-5-7h0m-1 5h0m-2-6h0m-1 1h0m-2 5h0m-5-1h0m-1-5h0m1 13h0m2 2h0m6-2h0m1 1h0m2-5h0m4 6h0m2-6h0m1 0h0m12 8h0m0 0h0m3 0h0m0-2h0m0-2h0m0-4h0m0 8h0m1-6h0m0-2h0m0 2h0m1-1h0m1 7h0m0-6h0m0 1h0m0 3h0m1-1h0m0 1h0m0-1h0m0-3h0m0 5h0m1-1h0m0-6h0m0 2h0m0-2h0m0 7h0m1-7h0m2 7h0m0-3h0m1 4h0m0-5h0m1 2h0m1-5h0m0 2h0m0 1h0m3 6h0m0 0h0m1-6h0m0 6h0m1 0h0m2-5h0m0 4h0m0 1h0m0-1h0m0-4h0m2 2h0m1-5h0m0 5h0m1 0h0m0-6h0m0 9h0m0-7h0m1-2h0m1 2h0m2 4h0m0-4h0m0 6h0m1-6h0m0 6h0m1-7h0m2 4h0m3 4h0m2 0h0m1 0h0m0-6h0m0 2h0m0 4h0m1-7h0m0 4h0m0 3h0m1 0h0m1-3h0m0 1h0m1-6h0m0 5h0m1-1h0m1 2h0m0 2h0m0-5h0m1-3h0m1 4h0m2 3h0m1-2h0m0 0h0m1-1h0m0-2h0m1 6h0m0-4h0m1 4h0m0 0h0m0-7h0m1 0h0m1 6h0m0 0h0m0-3h0m0 3h0m1-6h0m0 5h0m0-2h0m0-3h0m1 3h0m0-2h0m1 5h0m1-7h0m2 3h0m0 5h0m0-5h0m1-2h0m0-1h0m1 6h0m0-4h0m0-3h0m3 2h0m1 1h0m9-3h0m-19 11h0m0 0h0m-1 0h0m-2 1h0m-1 2h0m0-4h0m-1 1h0m-1 2h0m-2-2h0m0 0h0m0 2h0m0-3h0m-1 2h0m-1 2h0m-1-1h0m0 0h0m0-3h0m-1 7h0m-1 1h0m0-2h0m0 3h0m-1-1h0m0-2h0m0 0h0m-1 1h0m0 1h0m-1-5h0m-1 5h0m-2-2h0m0-6h0m-1 7h0m0-4h0m-1 3h0m0-1h0m-2 4h0m0-9h0m-1 0h0m0 6h0m-1 3h0m0-3h0m-2 3h0m-1-2h0m-1-5h0m0 7h0m-1-6h0m-1 5h0m0 0h0m0-8h0m-1 5h0m0-3h0m-1 5h0m0-1h0m-1 2h0m0-3h0m0 0h0m0-3h0m-1-2h0m-1 9h0m0-4h0m0-1h0m-1-2h0m-3 7h0m-1-3h0m0-2h0m0 3h0m-1-6h0m-1 5h0m0 3h0m-1-6h0m0 2h0m0-1h0m-1 3h0m-1-3h0m0 5h0m0 0h0m0-2h0m-1-1h0m-1-5h0m0 4h0m0-1h0m-1 2h0m0-5h0m0 2h0m-1 3h0m0 1h0m-1-6h0m0 4h0m-3-4h0m-3 5h0m-6-3h0m-8 2h0m-10-4h0m4 12h0m5 1h0m1-1h0m2 6h0m1-5h0m2 4h0m2-6h0m2-2h0m3 7h0m1 1h0m5 1h0m1-3h0m2 0h0m1-5h0m5 1h0m2 0h0m2 5h0m0-7h0m0 3h0m1-3h0m0 3h0m1-3h0m0 8h0m1-7h0m0 3h0m0-3h0m1 5h0m0 1h0m1-2h0m0-1h0m0 0h0m0 0h0m1 3h0m0-7h0m0 0h0m1 1h0m2 4h0m0 3h0m1-6h0m1 0h0m0-2h0m0 2h0m0 7h0m1-8h0m2 3h0m0-3h0m1 2h0m1-2h0m0-1h0m0 7h0m2-6h0m0 0h0m1 1h0m0-2h0m0 4h0m4-4h0m-15 11h0m0 3h0m-2 5h0m-9-5h0m-5 1h0m-4 1h0m0-6h0m-8 7h0m-2-5h0m0 6h0m-2 1h0m-1-2h0m-7-3h0m-2 3h0m-3-6h0m-2 7h0m-2 0h0m3 9h0m2-2h0m5-2h0m7 1h0m3 0h0m12 5h0m0-6h0m0-2h0m2 2h0m3-3h0m2 0h0m1 2h0m-10 14h0m-4-6h0m-3 6h0m-3-2h0m-2-1h0m0 1h0m0 2h0m-4 1h0m0-4h0m-1 4h0m-1-6h0m-1-1h0m-1 2h0m-8-2h0m2 17h0m1 2h0m3-6h0m4-3h0m1 4h0m-5 12h0" stroke="#3b9f58" stroke-width="2.9"/>
<path d="M358 559h0m-7 6h0m2 0h0m11-1h0m2 2h0m4 0h0m0 1h0m2-4h0m0 1h0m1 0h0m0 5h0m16 10h0m-2 0h0m-2-4h0m0 4h0m-1-2h0m-1 2h0m-1-4h0m-1 4h0m-1-8h0m-1 6h0m0-1h0m0 2h0m0 0h0m-1-8h0m0 4h0m0 4h0m-1-8h0m0 5h0m-1-5h0m0 0h0m0 2h0m0 5h0m-1 0h0m0 1h0m0-3h0m-1-5h0m0 0h0m-1 4h0m-1-3h0m-1 4h0m-1 2h0m0 1h0m0-5h0m-1 6h0m-1-5h0m-1 2h0m-1-4h0m-1 6h0m-2-1h0m0 1h0m-1 0h0m0-5h0m-1 3h0m0-4h0m-1 6h0m-1-4h0m0 5h0m-1-3h0m0-3h0m0 5h0m-3-6h0m-5 2h0m-1 3h0m-2 0h0m-19 2h0m9 3h0m6 4h0m4-1h0m2-3h0m4 2h0m0 0h0m3 5h0m0-2h0m0-3h0m2 5h0m0-2h0m0 2h0m1-2h0m2-5h0m0 1h0m0-2h0m0 5h0m0 3h0m2-7h0m0 5h0m1-7h0m0 6h0m0-2h0m1-3h0m0 6h0m0 1h0m1 1h0m0-1h0m0-5h0m2 6h0m1-3h0m0 2h0m0-5h0m0 6h0m2 0h0m0-4h0m1-4h0m1 1h0m1-1h0m3 2h0m0 1h0m2-3h0m0-1h0m1 4h0m2-4h0m0 6h0m0 3h0m1-4h0m1-2h0m2 2h0m0-1h0m2 0h0m1-4h0m0 3h0m0 3h0m1 2h0m2-1h0m6 4h0m-5-1h0m-1 1h0m-2 4h0m-8 4h0m-1-7h0m0 7h0m0-1h0m-1 0h0m0-3h0m-1 3h0m0-6h0m-3 7h0m0-8h0m-1 0h0m-1 0h0m0 7h0m0-7h0m-1 8h0m-1-3h0m-1 3h0m0-9h0m0 6h0m0 0h0m0 3h0m-1-9h0m0 3h0m-1 3h0m0-3h0m0 2h0m0-4h0m0 2h0m0 2h0m-1 4h0m-1-3h0m-1-6h0m0 5h0m-1-3h0m-1-2h0m-1 6h0m-3-2h0m-2 4h0m0-7h0m0 3h0m0 3h0m-2-7h0m-4 2h0m-2 5h0m-1-5h0m0 4h0m-1-5h0m0 6h0m0-5h0m0-1h0m0 1h0m-1 6h0m0-2h0m-1-6h0m0 5h0m-1-5h0m0 3h0m-3-1h0m-1 7h0m-3 0h0m-9 0h0m-10 8h0m8-2h0m1-5h0m1 8h0m2 0h0m1-1h0m1-7h0m0 9h0m0-2h0m1 2h0m1-4h0m2-1h0m1-4h0m0 7h0m0-5h0m1 6h0m0 0h0m0 0h0m1-5h0m0 0h0m1 6h0m0-9h0m1 1h0m1 6h0m1-6h0m0 7h0m1-3h0m1-3h0m0 2h0m2 3h0m1 1h0m0 1h0m0-5h0m0-1h0m1 5h0m0-4h0m0 0h0m2 4h0m0-8h0m2 9h0m0-1h0m0-1h0m0-3h0m0 5h0m1-3h0m0-3h0m0 2h0m1-2h0m2-2h0m0 7h0m1-7h0m2 5h0m0 0h0m1-2h0m0 1h0m1-3h0m0-2h0m0 1h0m1 3h0m1-1h0m0-3h0m1 6h0m0 0h0m0-2h0m1 4h0m0-3h0m0-3h0m1-2h0m0 7h0m1-7h0m2 1h0m0 1h0m0 5h0m0-2h0m1-2h0m0-1h0m0 2h0m2 4h0m1-3h0m1 4h0m7-2h0m1-3h0m2-3h0m1 8h0m1-3h0m5-5h0m0 7h0m1-6h0m0 6h0m1-7h0m0 1h0m3 0h0m3 2h0m0 2h0m4 1h0m3 2h0m1 1h0m-2 8h0m-7-1h0m-1 0h0m-1-2h0m-2-4h0m-2 1h0m-1 2h0m-6-2h0m-2 5h0m-2 0h0m-1-5h0m-1 2h0m-2 3h0m-2-2h0m-1-3h0m-2 5h0m0 0h0m-1-5h0m-4 0h0m-1 1h0m-2 1h0m0-2h0m0 5h0m0 0h0m-1-5h0m-2-2h0m-1 9h0m0-6h0m-1-2h0m0 3h0m-2-3h0m0 0h0m0 3h0m0 0h0m0 4h0m-1-7h0m-1 3h0m0-1h0m-2 0h0m0 0h0m-1 0h0m-1 0h0m-2-2h0m0 6h0m0 1h0m-1 1h0m0-5h0m-1 0h0m-2 1h0m0 4h0m0-9h0m-1 5h0m-1 1h0m0 0h0m-2 3h0m-1-8h0m0 1h0m-2 5h0m0-2h0m0-5h0m-1 9h0m0-4h0m0-2h0m0 5h0m0-3h0m-1 0h0m0-4h0m0 3h0m0-2h0m0 4h0m-1-2h0m-1 4h0m0-1h0m0 1h0m-1-4h0m0 0h0m0 4h0m-2-3h0m-3 3h0m-2-1h0m-1-1h0m-1-2h0m-5-3h0m-3 1h0m-7 15h0m4-2h0m0-2h0m4 5h0m3-1h0m2-1h0m1 1h0m2 0h0m1-3h0m1 0h0m0 3h0m3-3h0m1 3h0m0-3h0m0 1h0m1-1h0m2-4h0m0 9h0m1-3h0m1 2h0m1-8h0m0 1h0m0 2h0m1-2h0m0 1h0m0 4h0m0 0h0m0-1h0m1-1h0m0-4h0m1 0h0m0 6h0m0-5h0m2 1h0m0 6h0m2-6h0m1 7h0m1-9h0m0 2h0m1 2h0m0-3h0m1 4h0m0 0h0m1 1h0m1-4h0m0 0h0m2 5h0m1-2h0m1-4h0m1 7h0m2-7h0m1 4h0m0 2h0m1 2h0m1-3h0m1 0h0m0 2h0m1 1h0m1-8h0m0 4h0m0 2h0m2 0h0m0-3h0m1 4h0m0-7h0m1 4h0m1 0h0m1 2h0m3-3h0m3-1h0m1 6h0m0-8h0m0 3h0m3 1h0m2-2h0m1 2h0m0-4h0m4 7h0m0-8h0m2 0h0m0 3h0m0 2h0m1 0h0m1 3h0m1-4h0m1-4h0m1 3h0m2 0h0m6-1h0m2-2h0m0 10h0m-5 8h0m-3-8h0m-8 4h0m-4-1h0m-1-1h0m-2 3h0m-5 2h0m-3 2h0m-2-4h0m-5-2h0m-1-2h0m-1 8h0m0-7h0m-5 5h0m-2-1h0m0 1h0m0-1h0m-4 1h0m-3-6h0m-1 0h0m0 3h0m-2-2h0m0 0h0m-1 3h0m0 0h0m-1-2h0m-1-2h0m0 4h0m-1-3h0m0 5h0m-2-3h0m0 5h0m-1-4h0m-1-2h0m0-2h0m-1 6h0m0-4h0m-1 6h0m0 0h0m0 0h0m-1 0h0m-1 0h0m0 0h0m0-8h0m-1-1h0m0 1h0m0 7h0m0-8h0m0 5h0m-1 0h0m0-1h0m-2-3h0m-1 2h0m-2 1h0m-1 1h0m0 3h0m0-3h0m-1-2h0m0-1h0m-1 3h0m-1-3h0m-1 1h0m0 0h0m0 1h0m-1 4h0m0-6h0m-1-1h0m-1 6h0m-2-2h0m0-1h0m0-4h0m-1 1h0m-5 0h0m-2 2h0m-4 12h0m1-5h0m4 8h0m0 1h0m3-7h0m0 1h0m2 6h0m0 0h0m1-7h0m0 1h0m0 4h0m1 0h0m2-7h0m0 9h0m1-6h0m0 0h0m1-3h0m0 6h0m0 0h0m1 2h0m1-6h0m0 2h0m1 1h0m0 0h0m1 3h0m1-8h0m0 9h0m0-5h0m1-2h0m0-1h0m0 0h0m0 8h0m0 0h0m0-6h0m1 4h0m0-6h0m0-1h0m0 4h0m1-1h0m0 5h0m0-6h0m0 4h0m1-5h0m0 8h0m0-9h0m0 3h0m1 1h0m1 3h0m1-6h0m0 4h0m0 1h0m2-3h0m0-2h0m0-1h0m1 1h0m0 2h0m3 0h0m0 1h0m1-2h0m0 3h0m1 3h0m1-4h0m3-3h0m0 1h0m1 1h0m0 0h0m2-3h0m1 3h0m2 2h0m1-5h0m0 3h0m0 0h0m5 1h0m2 2h0m1 2h0m6-8h0m0 0h0m0 0h0m7 9h0m6-4h0m0 1h0m1-2h0m3 1h0m3-5h0m3 4h0m1 0h0m0 0h0m0 2h0m10 3h0m-5 1h0m-6 4h0m-1-4h0m-3 0h0m-5 2h0m0 4h0m0 1h0m-2-6h0m-5 7h0m-3-2h0m-3 3h0m-3 0h0m-4-2h0m-2 2h0m-1-2h0m-4-6h0m-6 5h0m-6-1h0m-3-5h0m-5 0h0m0 6h0m-2 0h0m0-4h0m-1 1h0m-1 3h0m-1 2h0m0-2h0m-1-3h0m-1-3h0m0 6h0m0-1h0m-1-5h0m0 7h0m0 2h0m-1-9h0m0 3h0m0-1h0m-1 2h0m0 2h0m0 1h0m0-3h0m0-4h0m-1 4h0m0-2h0m-1 4h0m0 1h0m-1-7h0m0 1h0m0 7h0m0 0h0m-1-7h0m-1 6h0m0-1h0m0-2h0m0-1h0m0 2h0m-1-5h0m0 4h0m0 2h0m-1 2h0m-1-4h0m0 0h0m-1-4h0m0 9h0m-1-3h0m-1 0h0m-1 2h0m-1-4h0m0 2h0m0-6h0m-2 4h0m-1 3h0m0-1h0m-1-4h0m0 7h0m-1-7h0m-2-1h0m0 4h0m-7 3h0m0 3h0m2 0h0m1 0h0m2 8h0m1-7h0m0 7h0m1 0h0m0-9h0m1 0h0m0 2h0m1 3h0m0 0h0m0 4h0m1-6h0m1 6h0m0 0h0m1 0h0m1-4h0m2 2h0m0 2h0m0-1h0m1-4h0m0-4h0m1 9h0m0 0h0m0-5h0m0-3h0m2-1h0m0 2h0m1 7h0m1-3h0m0-4h0m1 3h0m0 1h0m2-3h0m0 0h0m1-3h0m0 1h0m1 7h0m0 0h0m2-4h0m1 0h0m1-3h0m0 0h0m1-1h0m1 4h0m0 1h0m2 2h0m0-7h0m0 1h0m0 2h0m1 0h0m3-3h0m2 8h0m1-3h0m3-3h0m4 1h0m1-3h0m5 1h0m0 7h0m1-4h0m1 1h0m0 0h0m1-5h0m2 9h0m2-5h0m0 4h0m1-8h0m4 0h0m2 6h0m1-2h0m7 0h0m2 0h0m3-3h0m1 7h0m0-4h0m5-2h0m-3 8h0m-4 2h0m-2-2h0m0 0h0m-1 4h0m-2-3h0m-1 8h0m-1-8h0m-1 8h0m-2-8h0m-3 7h0m-1-7h0m-2 3h0m-4 4h0m-2-2h0m0 0h0m-1 0h0m0 3h0m0-7h0m-5 4h0m-5-5h0m-3 3h0m-4-4h0m-1 1h0m-6-1h0m-1 4h0m-2 1h0m-3-4h0m-4 5h0m-1-2h0m-1 1h0m-4 2h0m0-1h0m-3-6h0m0 3h0m-1-2h0m0 7h0m0-3h0m0 3h0m0-6h0m0 2h0m-1-2h0m-1 7h0m-2-6h0m0-1h0m-1 2h0m0-2h0m0 7h0m-1-9h0m-1 9h0m0-6h0m0 5h0m-1-2h0m0-1h0m-1-4h0m0 4h0m-1 3h0m-1-2h0m-1 3h0m0-5h0m0 0h0m-1 0h0m-2 2h0m-6-3h0m-2 0h0m-1 13h0m0 2h0m2-2h0m1 3h0m2-5h0m0 2h0m1 2h0m0-2h0m1-1h0m3-4h0m2 0h0m0 0h0m1 8h0m0-4h0m0 3h0m0-3h0m1 0h0m0-2h0m1 0h0m1 0h0m0 3h0m0 2h0m0-5h0m1 0h0m0-1h0m0 0h0m1 7h0m0-6h0m0 3h0m1-2h0m0 4h0m0-2h0m0-4h0m1 2h0m0 5h0m0-1h0m1-2h0m2 3h0m0-7h0m1 7h0m0-7h0m0-1h0m0 3h0m2-2h0m1 1h0m2-2h0m7 6h0m17 0h0m3 0h0m0 2h0m3-5h0m1 4h0m5-6h0m3-1h0m0 1h0m1-2h0m10 4h0m1-1h0m4 0h0m-9 11h0m-5-3h0m-3 3h0m0 2h0m-2-6h0m-6 2h0m0 3h0m-2-5h0m-7 2h0m-6 5h0m0-7h0m-3 6h0m-1-4h0m-1 7h0m0-2h0m-1-5h0m-1 2h0m-4 3h0m-11-1h0m-4-3h0m-2 3h0m-1-5h0m0 4h0m-1 0h0m0 2h0m0-4h0m0-1h0m-1 6h0m0-7h0m0 0h0m-1 1h0m0 6h0m0-6h0m-1 1h0m0 1h0m-1 3h0m0-4h0m-1 3h0m0 1h0m0-2h0m-1 3h0m0 0h0m0 1h0m-1-7h0m0 6h0m-1 1h0m-1-7h0m0 1h0m0 6h0m-1 0h0m0-5h0m-1 3h0m-10 8h0m2 4h0m5-2h0m0-2h0m1 2h0m0-1h0m0 3h0m0 0h0m2-2h0m0-7h0m0 9h0m1-6h0m1 3h0m0-2h0m1 2h0m1 3h0m0-5h0m0 3h0m0-4h0m1-2h0m1 2h0m0 3h0m0-2h0m1-3h0m0-1h0m0 5h0m0-3h0m1 4h0m3-1h0m0-3h0m1 1h0m0 6h0m4-5h0m16-1h0m-24 8h0m-1 0h0m-1 2h0m-1 1h0m-1 2h0m-1-6h0m-1 4h0m0-4h0m-1 3h0m0 0h0m-1 4h0m0-4h0m0 6h0m0-9h0m0 0h0m0 8h0m0-2h0m-1-4h0m0 4h0m0-4h0m-1 6h0m-1-3h0m0-4h0m0 2h0m-1 2h0m0-3h0m0 1h0m-1-1h0m-1 5h0m-2 0h0m0-7h0m-1 4h0m-1 4h0m-1-5h0m-16 14h0m0 2h0m8 0h0m2-1h0m1 0h0m0 0h0m0-3h0m1 3h0m0-6h0m2 7h0m1-3h0m0 0h0m1 1h0m0-5h0m1 5h0m0-4h0m0 3h0m0-1h0m1 0h0m2 3h0m0-2h0m0 1h0m1-1h0m0 2h0m0 0h0m0-5h0m0 0h0m0 0h0m1-3h0m0 6h0m0 2h0m1-2h0m0 1h0m0-1h0m1 0h0m0-3h0m0-3h0m0 7h0m0-4h0m0 5h0m1-6h0m0 1h0m1 5h0m0-5h0m0 0h0m1 3h0m0 0h0m0 0h0m1-1h0m1-1h0m0 3h0m0 0h0m2-2h0m0-1h0m1 4h0m-5 5h0m0 0h0m-1-3h0m0 0h0m-1 3h0m0-2h0m0 3h0m-1-1h0m0-3h0m-1 7h0m0-4h0m-1 5h0m0-4h0m-1 4h0m0-5h0m0 5h0m-1-7h0m0 2h0m0-1h0m0 3h0m0 0h0m-1 1h0m-1-6h0m0 8h0m-1-8h0m-1 9h0m0 0h0m0-3h0m-1-1h0m-7-1h0m-2-2h0m0 2h0m-9 14h0m4-8h0m1 9h0m2-4h0m0-1h0m5 3h0m1-3h0m1 2h0m0-6h0m1 1h0m1-1h0m0 3h0m1 0h0m0 5h0m0-7h0m0 6h0m1-6h0m0 8h0m0-4h0m0 3h0m0-8h0m1 2h0m2-1h0m0 2h0m0 0h0m0 4h0m0-6h0m0 7h0m0 0h0m1-2h0m0 3h0m1-6h0m0 0h0m0-3h0m1 6h0m0-6h0m0 3h0m0 1h0m0 0h0m0 0h0m1-1h0m0 4h0m1 0h0m1-4h0m1 6h0m-3 9h0m-1 1h0m-1-5h0m0 1h0m0-1h0m0-3h0m-1-1h0m0 7h0m-1-7h0m0 1h0m0 2h0m0 4h0m0 0h0m-1-7h0m0 7h0m0-7h0m0 1h0m0 7h0m-1-8h0m0 7h0m-1-5h0m0 1h0m0 6h0m0-4h0m0-5h0m0 6h0m0-6h0m-1 9h0m0-8h0m-1 3h0m0 0h0m0-4h0m-1 9h0m0-2h0m0-4h0m0-3h0m-1 6h0m-3 1h0m0 1h0m-7-4h0m-1-1h0m-8 6h0m-1-1h0m-2-5h0m-1-2h0m-1 5h0m-10 12h0m4 0h0m3-4h0m5-2h0m3 0h0m4 7h0m2-9h0m4 2h0m1 6h0m3 1h0m2-8h0m1 4h0m1-5h0m1 4h0m0-2h0m0 2h0m1 1h0m1 3h0m0-8h0m1 7h0m0-5h0m0 6h0m1-4h0m0 3h0m0-4h0m0 1h0m1-4h0m0 6h0m0-1h0m1-4h0m0-1h0m0 5h0m2-2h0m0-3h0m0 10h0m-2 3h0m-1 4h0m-1 1h0m0 1h0m-1-9h0m0 6h0m-1-6h0m-1 8h0m0-4h0m0 5h0m0-9h0m0 0h0m-1 6h0m-1 0h0m0 1h0m0-3h0m0 0h0m-1 1h0m-1-5h0m-1 3h0m-3 0h0m0 3h0m-3-4h0m0 3h0m-3 4h0m0-9h0m-1 4h0m-1 4h0m0-3h0m-13-3h0m-1 1h0m-1 5h0m0-2h0m-2-5h0m-6 5h0m0-2h0m-8 14h0m1-3h0m6 2h0m0-2h0m2-3h0m2 2h0m3-4h0m4 6h0m9-3h0m6 4h0m4-2h0m2 4h0m1-4h0m0 1h0m0 1h0m1-1h0m0-2h0m2 1h0m1-2h0m0-3h0m0 0h0m0 5h0m0-1h0m1-2h0m0 7h0m0 0h0m0-5h0m1 3h0m0 0h0m0-5h0m0 0h0m0 2h0m0-3h0m0 0h0m0 8h0m1 0h0m0-4h0m0-2h0m0-1h0m2 4h0m0 0h0m1-5h0m0 7h0m0-5h0m1-2h0m-3 16h0m-1-2h0m0-3h0m0 6h0m-1-4h0m0-3h0m-1 2h0m0-3h0m0 8h0m-1-2h0m0 0h0m0-1h0m0-2h0m0 5h0m0-7h0m-1 3h0m0-3h0m0 6h0m0 1h0m-1 0h0m0-1h0m0 2h0m0-2h0m0-4h0m-1 6h0m0-4h0m0-1h0m0 1h0m0 1h0m0-2h0m-1-3h0m0 5h0m-5-4h0m-5-1h0m-2 8h0m-1 0h0m-2-1h0m0-4h0m-1-3h0m-8 4h0m-1 0h0m-15 1h0m-8 13h0m1-5h0m6-3h0m3-1h0m2 9h0m0-5h0m2 3h0m1-4h0m5-1h0m1-1h0m5-1h0m1 0h0m0 0h0m2 4h0m0 3h0m2 1h0m1-7h0m6 6h0m2 1h0m0 1h0m2-7h0m2 2h0m2-4h0m3 3h0m1 0h0m0 0h0m1-2h0m0 3h0m0 0h0m1 0h0m0-2h0m1 0h0m0 1h0m-14 7h0m-5 5h0m-4-3h0m-3-2h0m0 3h0m-1 2h0m-5-5h0m-6 1h0m0 7h0m-11-1h0m-2-7h0m-1 7h0m0-2h0m-1 2h0m-3 9h0m11-2h0m0 0h0m22-3h0" stroke="#8d574c" stroke-width="2.9"/>
<path d="M458 529h0m4-1h0m2 1h0m13-2h0m7-1h0m0 2h0m2-2h0m10 3h0m10 0h0m15 10h0m-6 0h0m-4-1h0m-1 0h0m0 1h0m-2-3h0m-1 1h0m-1 1h0m0 1h0m-1-3h0m-1 0h0m0 2h0m0-3h0m-1-3h0m0 6h0m-1-5h0m-3 5h0m0-2h0m0 1h0m-1-1h0m0-2h0m-2 5h0m0-3h0m0-4h0m0 4h0m0 2h0m-1-1h0m0 2h0m-1-8h0m-1 0h0m0 5h0m-2-5h0m0 7h0m-1-8h0m0 7h0m0-2h0m-1-3h0m0 0h0m0 1h0m0 1h0m-1 3h0m0 2h0m-1-2h0m0 1h0m0-2h0m-1-2h0m-1-4h0m0 6h0m-1-6h0m-1 3h0m-1 4h0m-1-1h0m0-2h0m0-2h0m-1 6h0m0 0h0m0 0h0m-1-5h0m0 1h0m-1-1h0m0 1h0m-1-3h0m0 6h0m0-2h0m0 4h0m0-1h0m-1 1h0m-1-5h0m0 2h0m-1 0h0m-1-3h0m0-2h0m0-1h0m0 9h0m0-1h0m0 0h0m-1-5h0m0 2h0m0 0h0m-1-3h0m0 4h0m-1-2h0m0 5h0m-1-2h0m-1-2h0m0 0h0m0 4h0m-1-3h0m-2-6h0m0 2h0m0 6h0m0 1h0m-1-8h0m-1 4h0m0 2h0m0 1h0m-1-1h0m0 1h0m0-7h0m0 8h0m0 0h0m-1-7h0m-2 3h0m0 2h0m0 2h0m-3-1h0m-2-2h0m-1-2h0m0 4h0m-1-6h0m-4-1h0m-9 8h0m-1-1h0m-1 0h0m-1 1h0m-3-5h0m-1 2h0m-1 3h0m-7-6h0m-18 16h0m2 0h0m3-1h0m4 1h0m0-2h0m1 0h0m2 0h0m3 1h0m1 0h0m0-5h0m1 5h0m0 0h0m1 0h0m0-3h0m1 0h0m1 2h0m1 1h0m0 0h0m1 0h0m0-3h0m0 4h0m1-8h0m0 3h0m0 1h0m0-2h0m1 5h0m0-2h0m1 1h0m2-1h0m0 2h0m0-7h0m0 7h0m1-6h0m0-1h0m1 3h0m0 3h0m0-1h0m1 3h0m0-4h0m3 2h0m0-3h0m0 3h0m1 1h0m1-4h0m0-2h0m0 3h0m1-3h0m1 6h0m1-3h0m0 4h0m1-3h0m0-1h0m1 2h0m0-2h0m1-4h0m0-1h0m1 5h0m0-5h0m0 5h0m0 2h0m0 0h0m0-5h0m1 6h0m1-1h0m0-6h0m0 4h0m1-1h0m0 0h0m0 5h0m1-3h0m1 2h0m2-4h0m1 0h0m0-1h0m0 0h0m2-2h0m0 3h0m1 3h0m0-3h0m0 4h0m1-4h0m0 2h0m0-3h0m1 0h0m0 6h0m0-9h0m0 9h0m1-7h0m0 5h0m1 2h0m0-7h0m0-1h0m1 7h0m1-1h0m0-4h0m0 0h0m1 1h0m0 1h0m0 1h0m0-2h0m1 0h0m1 1h0m0 0h0m1 4h0m0-1h0m0-5h0m1-3h0m0 2h0m0-2h0m0 3h0m1 0h0m1-1h0m0-1h0m0 6h0m0 2h0m1-3h0m0 3h0m0-2h0m0 1h0m1-7h0m0-1h0m0 3h0m2 6h0m0-1h0m1-3h0m2-2h0m0-2h0m1 3h0m0-2h0m0 3h0m1 3h0m1-6h0m0 5h0m1 0h0m1-3h0m1 2h0m0-6h0m0 5h0m1 3h0m0 0h0m0-2h0m3-5h0m1-1h0m0 6h0m0-1h0m0 2h0m1-2h0m1-1h0m1 0h0m1 3h0m1-6h0m0 8h0m0-2h0m0-1h0m1-2h0m0 2h0m0-4h0m0 1h0m0 4h0m1-5h0m0 7h0m0 0h0m1-2h0m0-7h0m0 2h0m0 2h0m1-4h0m0 7h0m0 2h0m1-7h0m0 7h0m0-8h0m1 1h0m0-2h0m1 3h0m1 3h0m0-3h0m0-2h0m0 3h0m1-3h0m0 6h0m0-1h0m1-2h0m0 0h0m0-1h0m0 1h0m1-3h0m1 8h0m0-2h0m1-2h0m0-2h0m0 4h0m1-3h0m0 5h0m0-1h0m0-6h0m1 3h0m1-5h0m0 8h0m0 0h0m1 0h0m2-2h0m2 2h0m6 11h0m-5-5h0m-2 0h0m0 4h0m0-5h0m-1 6h0m-1-8h0m-1 1h0m0-2h0m0 2h0m0 4h0m0 1h0m-1-5h0m0 6h0m0-6h0m-1-1h0m0 8h0m0-1h0m0-7h0m0 4h0m-1 4h0m0-5h0m0 4h0m0-4h0m0-1h0m-1-3h0m0 7h0m-1-3h0m0-3h0m0 5h0m0-1h0m-1-4h0m0 8h0m0-4h0m0 3h0m-1-8h0m0 6h0m0-1h0m0-4h0m-1 3h0m-1-1h0m0 5h0m-2-5h0m-2 6h0m0-8h0m-1 8h0m0-7h0m-1 7h0m-1-9h0m-1 3h0m0 5h0m0-8h0m0 7h0m-1-6h0m0 7h0m0-1h0m-1 0h0m0-4h0m-1-3h0m0 3h0m-1 1h0m0 2h0m-1-1h0m-2 3h0m-1 0h0m0-8h0m-1 2h0m0 2h0m0 5h0m-1-6h0m-1 1h0m0-3h0m-2 5h0m0-1h0m-1-2h0m-1 1h0m0-4h0m-1 6h0m0-5h0m-1 1h0m-2-2h0m-1 0h0m-2 0h0m-1 9h0m0-7h0m-1 2h0m0 3h0m-1-6h0m0 7h0m-1 0h0m0 0h0m0 1h0m-1-6h0m0 1h0m-1 3h0m0-7h0m-1 0h0m-2 0h0m-3 6h0m-1-3h0m0 3h0m-3-4h0m0-2h0m-2 0h0m-1 8h0m-1-7h0m0 1h0m0 3h0m-1-4h0m0 3h0m0-4h0m-1 8h0m0-8h0m-1 2h0m0 4h0m0-5h0m0 1h0m0-1h0m-1 0h0m-1 0h0m0 5h0m-2 1h0m0-3h0m-1 5h0m0-8h0m-1 5h0m0-4h0m0 2h0m-2 1h0m0 4h0m-1-9h0m-1 4h0m0 3h0m-2-7h0m-1 4h0m0-2h0m0 1h0m-2 2h0m-1-1h0m0-4h0m-3 4h0m0-1h0m-1-2h0m0 0h0m-1 0h0m0 2h0m-1 6h0m0-5h0m-1-3h0m0 8h0m0-4h0m-1 4h0m0-7h0m0-1h0m0 6h0m-1-4h0m0-1h0m0 7h0m0-1h0m-1-6h0m0 0h0m-1 3h0m-1 4h0m0-3h0m0-6h0m0 3h0m-1 4h0m0 1h0m0-4h0m-1-1h0m0 2h0m0-3h0m0 1h0m0 0h0m-1 0h0m0-3h0m0 3h0m-1-3h0m0 5h0m-1-4h0m0 1h0m0 4h0m0 0h0m-1-3h0m-1-1h0m0 6h0m0 0h0m0-5h0m-1 0h0m0 3h0m0-1h0m-1 2h0m-1-1h0m0-5h0m-2 2h0m0 0h0m-1-2h0m-1 1h0m0 4h0m0-4h0m-2 6h0m0-5h0m0 0h0m0 3h0m-1 1h0m0 0h0m-2-1h0m0 1h0m0 1h0m-1-3h0m0-3h0m0 6h0m-3 0h0m0-6h0m-7 6h0m-1-5h0m-14 15h0m2 1h0m2-2h0m1-3h0m1 5h0m0-7h0m0 4h0m1 1h0m1 2h0m1-2h0m1-3h0m1 5h0m0-4h0m0-2h0m1 6h0m1-1h0m1-6h0m0 7h0m0 0h0m0-1h0m1-6h0m0 3h0m0 3h0m1 1h0m0-5h0m0 5h0m1-7h0m2 2h0m1 4h0m0 0h0m0-5h0m1 3h0m0 1h0m0-1h0m0-3h0m0-2h0m1 2h0m1 2h0m1 4h0m0-6h0m0 0h0m0 5h0m2-7h0m0 7h0m0 0h0m0-1h0m1 2h0m1-6h0m0-1h0m1 3h0m0 4h0m2-8h0m0 6h0m1-5h0m0 3h0m0 1h0m0-1h0m1-2h0m0-1h0m0-2h0m3 5h0m0-2h0m0-3h0m1 2h0m0-1h0m1 4h0m0 2h0m2-2h0m0 3h0m1-6h0m2 3h0m2-3h0m0 0h0m1 4h0m0 3h0m1-5h0m0-3h0m0 7h0m1-4h0m0 2h0m0-6h0m1 9h0m1-6h0m0 3h0m0-2h0m1-3h0m0 8h0m0-4h0m1 2h0m1-3h0m0-4h0m0 5h0m2-2h0m1 6h0m0-5h0m1-4h0m0 5h0m0-2h0m0-3h0m1 9h0m1-7h0m1-1h0m1 0h0m0 1h0m0-1h0m1 7h0m2 1h0m0-2h0m1 1h0m0-7h0m0 1h0m1 3h0m3-3h0m0 1h0m0 6h0m1-7h0m0 1h0m0 0h0m1 1h0m0 1h0m1 2h0m1-2h0m0 2h0m1-6h0m0 0h0m1 3h0m1 2h0m0-3h0m0 4h0m0 2h0m1-5h0m0 3h0m1-1h0m0-3h0m2 0h0m0 3h0m0-4h0m0 2h0m1-1h0m1 1h0m1 5h0m0-7h0m1-1h0m3 4h0m0 0h0m4 2h0m1-1h0m1-3h0m1 4h0m1 2h0m1-9h0m1 4h0m0 1h0m0-1h0m0 5h0m1-5h0m0-1h0m1 0h0m1 0h0m0-3h0m1 5h0m1 4h0m1 0h0m0-6h0m0 6h0m1-3h0m0-2h0m1 4h0m1-1h0m3-1h0m0 0h0m1-2h0m0 3h0m0-1h0m1 0h0m2-4h0m0 6h0m0-1h0m1-6h0m0 2h0m0 6h0m1-9h0m1 5h0m2-4h0m1 5h0m0-6h0m0 1h0m0 7h0m2-7h0m1 5h0m2 3h0m0-2h0m1-5h0m0 6h0m0 0h0m0-6h0m2 3h0m0 3h0m0-5h0m1-1h0m2 1h0m0 6h0m0-2h0m1 1h0m0-3h0m0 4h0m1-5h0m0 3h0m0-5h0m1-2h0m1 7h0m0 1h0m1 0h0m0-2h0m0-1h0m0-4h0m0 6h0m1-3h0m0 3h0m0-5h0m0 3h0m0 2h0m1-1h0m1 3h0m0-1h0m0 0h0m0-4h0m0 5h0m2-8h0m1 7h0m8 11h0m-4-8h0m-2 4h0m-3-4h0m-1 1h0m-2 3h0m-1-2h0m0 5h0m0-1h0m-1-1h0m-1-1h0m-1-2h0m0 6h0m0-5h0m-1-3h0m-1 4h0m0 4h0m-1-6h0m0 4h0m0-3h0m-1-3h0m0-1h0m-1 1h0m-1 5h0m-1-1h0m-1 2h0m0 1h0m-1-3h0m0-5h0m-1 5h0m-1-3h0m0 4h0m-1-6h0m0 8h0m0-8h0m0 5h0m0-3h0m-1 2h0m-1 1h0m0 4h0m-1-8h0m0-1h0m-1 3h0m0 3h0m0-5h0m-1 1h0m0-1h0m0-1h0m-1 6h0m0-2h0m-1-2h0m0 3h0m0-1h0m-1-2h0m-3 0h0m0 2h0m-1-2h0m-1 7h0m-2-6h0m0-1h0m-1-2h0m0 1h0m0 8h0m-1-1h0m0-7h0m-2 0h0m0 2h0m-1-2h0m0 1h0m0 2h0m-1-1h0m0 1h0m-2 3h0m0-5h0m-1 2h0m-2 0h0m-1 0h0m0 2h0m0-5h0m-1 7h0m0-3h0m0 0h0m0 1h0m-1-6h0m0 4h0m0-4h0m-2 6h0m0 1h0m-1-5h0m-2 7h0m0-6h0m0 3h0m-1-2h0m-1 5h0m0 0h0m-1-8h0m-1 1h0m0 5h0m-1-5h0m-1 5h0m-1 2h0m0 0h0m0-6h0m0 4h0m-1 2h0m0-3h0m-2-5h0m0-1h0m-1 0h0m0 9h0m-2-6h0m0 0h0m0 4h0m-1-6h0m0 8h0m-1-4h0m0 4h0m-1-6h0m0 4h0m-1-3h0m-1 0h0m0-3h0m0 0h0m-1 0h0m-1 5h0m0 1h0m-2 1h0m0-5h0m0 4h0m-1-6h0m-1 0h0m0 8h0m0-5h0m0-3h0m-1 4h0m0 1h0m-2-6h0m0 8h0m-1 1h0m0-7h0m-2 2h0m-1 5h0m0-2h0m-1 2h0m0-7h0m0-1h0m-1 5h0m-1 0h0m-1-4h0m0 2h0m-1-2h0m0 0h0m-2 4h0m0-6h0m-2 2h0m-1-1h0m-1 1h0m0 6h0m0 0h0m-1-1h0m0-6h0m-1 6h0m-1-5h0m-2-2h0m0 0h0m-2 3h0m0 1h0m0 3h0m-1 2h0m-1-8h0m-1 8h0m-2-7h0m-1 4h0m-3-4h0m0 2h0m0-3h0m-1 1h0m0 1h0m0 6h0m-1-9h0m-1 4h0m0 1h0m-2-1h0m0-2h0m0 0h0m-1 5h0m-2-3h0m0 2h0m0 0h0m0-1h0m-1-1h0m0 5h0m0-9h0m-1 4h0m-1-4h0m0 6h0m0 1h0m0 1h0m-1-4h0m0 2h0m-1-6h0m-2 4h0m-1-4h0m0 0h0m-1 8h0m-1-7h0m0 2h0m0 6h0m-1-1h0m-1-2h0m0-5h0m0 1h0m-1 3h0m0 3h0m-1 1h0m-1 0h0m0-2h0m0 1h0m0 0h0m0-6h0m-1 4h0m0 1h0m0 2h0m-1 0h0m0-1h0m-1 1h0m-1-4h0m0-3h0m-1 7h0m0-8h0m0 3h0m0-2h0m-1 2h0m0 4h0m-1 0h0m0-1h0m-1-1h0m-1-2h0m0 3h0m0-1h0m-1-3h0m-2 9h0m0-1h0m1 0h0m2-1h0m1 2h0m1 1h0m0 4h0m1 0h0m0-3h0m1 2h0m0-2h0m1-4h0m1 3h0m0-1h0m1 0h0m0 5h0m0-7h0m2 4h0m0 1h0m1 2h0m0-3h0m0 4h0m0-3h0m1 1h0m0-4h0m0 2h0m1 5h0m0-3h0m0 0h0m1-4h0m0 0h0m0 6h0m1-5h0m1 2h0m2 3h0m0 1h0m0-5h0m0 1h0m2 4h0m1 0h0m0-7h0m0 1h0m0-2h0m1 8h0m0-4h0m0 4h0m0 0h0m0-8h0m0 6h0m1 1h0m0-5h0m1 1h0m1-2h0m0-2h0m0 4h0m0-3h0m0 5h0m0-2h0m0-1h0m1-3h0m0 8h0m1-7h0m0 6h0m0 0h0m1-6h0m0 0h0m1 1h0m0-1h0m0 6h0m2-1h0m1-2h0m0 4h0m0-3h0m1 1h0m0 1h0m0 2h0m0-9h0m1 6h0m1-4h0m0 0h0m1 1h0m1-3h0m0 6h0m1-2h0m0 3h0m1 2h0m0-6h0m0-3h0m1 1h0m1 8h0m0 0h0m0-6h0m0 6h0m1-3h0m1-5h0m1 0h0m1 4h0m1 1h0m0 1h0m1-3h0m0-1h0m1-3h0m0 4h0m1 2h0m0-3h0m1 6h0m1 0h0m0-5h0m0 3h0m2-3h0m1 5h0m1-9h0m0 6h0m0-1h0m1-4h0m1 1h0m0 5h0m0-3h0m1-3h0m0 2h0m0 1h0m1 5h0m1 0h0m0-4h0m1-1h0m0 4h0m0-6h0m1 6h0m0-2h0m0-4h0m0 5h0m0 0h0m0 2h0m0 0h0m1-5h0m0-2h0m1 3h0m1-4h0m0 2h0m0 0h0m3 1h0m0 5h0m0-8h0m0 8h0m1 0h0m0-3h0m0-5h0m1 2h0m0 4h0m0-1h0m0-3h0m1 2h0m0 0h0m0-1h0m3 2h0m0-3h0m2 6h0m2-7h0m0 2h0m0 2h0m0 2h0m1-6h0m2 1h0m0 6h0m0-8h0m0 0h0m1 3h0m0-2h0m1 6h0m1-4h0m1-3h0m1 1h0m4-2h0m0 5h0m0-2h0m2 2h0m1-4h0m1 8h0m0-6h0m0 1h0m1 5h0m0-4h0m2-5h0m1 0h0m2 9h0m0-8h0m1 7h0m0 0h0m0-6h0m0 7h0m1-8h0m0 5h0m1-2h0m1 2h0m0-5h0m1 2h0m1 6h0m0-6h0m3 1h0m0 4h0m1-7h0m1 7h0m2-7h0m0 6h0m1-2h0m0-5h0m0 6h0m0-4h0m1 3h0m0 3h0m1 1h0m0-5h0m0 4h0m1-7h0m0 1h0m1 7h0m1-1h0m0-6h0m1 1h0m0 2h0m0 0h0m1-2h0m1-3h0m0 5h0m0 0h0m1 4h0m0 0h0m1-3h0m1 3h0m1-8h0m0 7h0m0-8h0m0 1h0m1 8h0m0-2h0m0-7h0m1 9h0m0-4h0m0 0h0m0-4h0m0 4h0m0-2h0m0 2h0m1 4h0m0-7h0m0 4h0m0 3h0m1-2h0m0 0h0m1-1h0m1 1h0m0-6h0m0 8h0m0-3h0m1-3h0m0-2h0m1 3h0m0-4h0m1 6h0m0-2h0m1 4h0m1-8h0m1 5h0m0 0h0m0-4h0m0 5h0m1 2h0m1-8h0m2 1h0m0 0h0m1 8h0m1-3h0m3-1h0m1 3h0m0 1h0m2-6h0m0 6h0m1-1h0m0-7h0m2 6h0m7-1h0m-1 12h0m-9-8h0m-2 4h0m-2 3h0m-1-7h0m0 6h0m-1-6h0m0 2h0m-3 4h0m0-4h0m-1 7h0m-1 0h0m0-1h0m-1 1h0m-1-6h0m-1 4h0m0 2h0m-2-6h0m0-3h0m0 1h0m-1 5h0m-1-6h0m-2 0h0m0 7h0m-1 1h0m0-8h0m-1 4h0m-1-4h0m0 2h0m-2 5h0m0-7h0m-2 1h0m-1 5h0m-1-4h0m0 2h0m-1-3h0m0 8h0m-1-9h0m0 0h0m-1 5h0m0 3h0m0-7h0m0 2h0m0-3h0m0 5h0m0-5h0m-1 5h0m-1 0h0m0 4h0m0-6h0m-2-1h0m-1 2h0m0-3h0m0 1h0m0 7h0m-1-8h0m0 5h0m-1 3h0m0-5h0m-1 0h0m0 0h0m-1 1h0m0-4h0m-1 5h0m0 3h0m-1-1h0m0-8h0m0 0h0m-1 9h0m-1-4h0m0-2h0m0 2h0m-1-4h0m-1 8h0m-1-5h0m0-3h0m-2 2h0m-1 6h0m-1 0h0m0 0h0m0-6h0m-1 6h0m-2-2h0m-1-7h0m0 5h0m0 1h0m0 3h0m0-8h0m-2 7h0m-1-4h0m-2 5h0m0-7h0m0 1h0m0-2h0m-1 1h0m0 4h0m-1 3h0m0-6h0m0 6h0m-2-4h0m-3-4h0m-1 4h0m-1-2h0m-1 4h0m0-7h0m-1 8h0m0-1h0m0 1h0m0-6h0m0 6h0m-1 0h0m-3-6h0m-2-2h0m0 4h0m-1-4h0m0 8h0m-1-5h0m0 2h0m-1 2h0m-1-1h0m-1 2h0m0-8h0m0 6h0m0-2h0m0-2h0m-1 5h0m0-7h0m0 0h0m0 1h0m0 3h0m-1-1h0m-1 6h0m0-8h0m-3 0h0m0 6h0m0 1h0m0 0h0m0-7h0m-1 5h0m0 1h0m0-3h0m0-3h0m-1 1h0m0-1h0m-1 2h0m-1-3h0m-1 1h0m0-1h0m0 8h0m-1-5h0m0 3h0m-1 1h0m0-4h0m-2 2h0m-1 2h0m0-6h0m-1 5h0m-1-3h0m-1-2h0m0 7h0m0-4h0m-1 0h0m-1 1h0m-1 3h0m0 1h0m0-2h0m-1 1h0m0 1h0m0-6h0m0 5h0m-1-5h0m0-3h0m-1 7h0m0-3h0m0 4h0m-1-3h0m-1 0h0m-1 1h0m-2 3h0m0-7h0m-1 6h0m-1 0h0m0-2h0m0-1h0m-1-2h0m0 4h0m0-7h0m0 4h0m-1 3h0m0-3h0m0-1h0m-1 5h0m0-6h0m-1 5h0m-1-3h0m0 5h0m-1-5h0m0 0h0m0-3h0m-1 2h0m0 2h0m0 1h0m0-1h0m-1 4h0m0-6h0m0 5h0m-1 0h0m0-3h0m0-3h0m-1 2h0m0 5h0m0-9h0m0 0h0m-1 5h0m0-4h0m-1 7h0m0-7h0m-1 3h0m0 1h0m0-5h0m-1 8h0m0-1h0m-1 0h0m0-4h0m0 3h0m0-4h0m-2 0h0m-1-1h0m-2 4h0m0-4h0m-2 0h0m0 6h0m-1-6h0m-2 2h0m0-2h0m0 0h0m-2 0h0m-6-1h0m-2 1h0m-2 1h0m-2-1h0m24 12h0m0-3h0m0 3h0m1 4h0m4-5h0m0 5h0m0-4h0m1 2h0m1-4h0m1 0h0m0 3h0m0-4h0m1 1h0m0 6h0m1-5h0m1 0h0m0 1h0m1-1h0m1 6h0m0-1h0m2-5h0m0 7h0m1-9h0m0 1h0m0 8h0m0-4h0m0 4h0m0 0h0m1-3h0m0-4h0m1-2h0m1 0h0m0 3h0m0-3h0m1 4h0m0 3h0m0-7h0m1 6h0m0-3h0m0-1h0m1 1h0m0 2h0m0 1h0m0 2h0m1-7h0m1 5h0m0-3h0m1-1h0m0 1h0m0-1h0m1 0h0m0 1h0m1 5h0m0-5h0m0-3h0m0 0h0m1 9h0m0-6h0m1 2h0m1 2h0m0-2h0m0 0h0m1-1h0m0 1h0m0-4h0m1 4h0m1 4h0m0-8h0m0 1h0m0 7h0m1-5h0m0 1h0m0-3h0m0-1h0m0 3h0m0 4h0m1-2h0m0 0h0m0-4h0m0 6h0m1-2h0m0-5h0m0 6h0m1-3h0m1 2h0m0 1h0m1 0h0m1-2h0m0-1h0m0-3h0m0 2h0m0-3h0m1 4h0m1-4h0m0 2h0m0-2h0m0 1h0m1 2h0m1-3h0m1 3h0m0-3h0m0 0h0m1 0h0m0 6h0m1-3h0m0 5h0m0-1h0m0-2h0m1-1h0m1 4h0m0 1h0m0-5h0m0 0h0m1 4h0m0-2h0m0-6h0m0 6h0m0 0h0m0 0h0m2-1h0m0 3h0m0 1h0m0-6h0m0 0h0m0 2h0m2 1h0m0 2h0m0-3h0m2-4h0m0 3h0m0-2h0m0 0h0m1 5h0m1 0h0m0-6h0m0 7h0m0-6h0m1 6h0m0 1h0m1-8h0m0 7h0m0-1h0m0-7h0m0 2h0m0 3h0m1 0h0m0 1h0m0 2h0m1-4h0m0 4h0m0-7h0m0 4h0m0-1h0m1-4h0m1 2h0m0 0h0m0 2h0m0 2h0m0 1h0m1-7h0m0 2h0m0 0h0m0 0h0m1 1h0m1-2h0m1 0h0m0 7h0m0-6h0m1 4h0m0-5h0m0 1h0m0 7h0m1-2h0m0-5h0m1-2h0m1 0h0m0 8h0m0 0h0m0-6h0m0-1h0m0 0h0m1 3h0m0 5h0m0-7h0m1 5h0m1-6h0m0 1h0m0 2h0m0 4h0m1-8h0m0 2h0m0-1h0m0 4h0m1 0h0m0-5h0m0 5h0m1-3h0m1 4h0m0-2h0m0-4h0m0 3h0m2 0h0m3-2h0m1-1h0m1 1h0m1 6h0m0-4h0m1 2h0m0-5h0m0 3h0m1 0h0m0 0h0m0-2h0m1-1h0m1 3h0m1-2h0m0 7h0m1-6h0m1 7h0m0-1h0m1 0h0m0-8h0m1 3h0m2 0h0m1-3h0m0 2h0m0 7h0m4-3h0m1 0h0m2-1h0m1 3h0m0-1h0m0-4h0m1 2h0m1 0h0m0-4h0m4 4h0m5 1h0m4-5h0m-16 9h0m-7 7h0m-1-2h0m-4-1h0m0-4h0m-1 2h0m-1-1h0m0-1h0m-1 0h0m0 4h0m-1-4h0m0 1h0m0 1h0m-3 0h0m-1 1h0m-1 6h0m-1-7h0m-1 6h0m-1-5h0m-1 6h0m-1-4h0m-3-1h0m0 1h0m-1 4h0m-3-7h0m-1-1h0m0 8h0m0-2h0m-3-7h0m0 0h0m0 7h0m-1-3h0m0-2h0m-1 5h0m0-2h0m-1-4h0m0 4h0m-1-4h0m0 4h0m0-2h0m-2 3h0m0 2h0m0-7h0m-3 1h0m0 2h0m-2-3h0m-2 1h0m-1-2h0m0 7h0m-1-3h0m0 4h0m-3-2h0m0-4h0m-1-2h0m-1 6h0m0-3h0m-2 2h0m-2 3h0m0-2h0m0-2h0m-1-4h0m0 1h0m-1-1h0m-1 5h0m-2 0h0m-1-1h0m0-2h0m-2 4h0m-1 0h0m-1-5h0m-1 5h0m0-4h0m0 4h0m-1-5h0m-4 7h0m0-1h0m-1-6h0m0 1h0m-1 2h0m-1-3h0m-1 3h0m-2 3h0m-2 1h0m-1-5h0m0 2h0m-1 0h0m-1-2h0m0 2h0m-1-1h0m0 4h0m-1 1h0m-2-5h0m-2 4h0m0-1h0m0-6h0m-2 3h0m0-2h0m-2 5h0m0-2h0m-1-5h0m-1 4h0m-7 6h0m7 3h0m2-2h0m0 6h0m1-6h0m2 2h0m2-1h0m2 4h0m1-6h0m1 1h0m2 0h0m5 3h0m0 3h0m1-3h0m2 4h0m2-3h0m1-3h0m0-1h0m1 5h0m1-6h0m1 0h0m0 0h0m4 1h0m2-1h0m0 2h0m1 7h0m1-7h0m0 1h0m1-3h0m8 1h0m1 4h0m0-5h0m1 0h0m1 5h0m0 2h0m2-7h0m0 8h0m3-3h0m3-3h0m1 4h0m1 0h0m0 2h0m2-6h0m1 1h0m3-2h0m2 6h0m0-5h0m4 1h0m1-2h0m2 3h0m1 1h0m7-3h0m3-1h0m-17 9h0m0 2h0m-4-2h0m-3 0h0m0 5h0m-1-4h0m-3 0h0m0 0h0m-1 0h0m-3 2h0m-1 0h0m-3-3h0m0 5h0m-3-1h0m0 2h0m0-6h0m-3 1h0m-3 2h0m-3-1h0m-1 0h0m-2 6h0m-2-5h0m-2 0h0m-2 1h0m-2 1h0m-1-2h0m3 8h0" stroke="#d63029" stroke-width="2.9"/>
<path d="M359 516h0m0 3h0m-1 0h0m-2 5h0m1 4h0m1 0h0m0-4h0m1 4h0m0-8h0m1 2h0m1 2h0m0 5h0m0-1h0m0-5h0m1 6h0m0 0h0m0-5h0m0 1h0m0 1h0m1-1h0m0 3h0m2-5h0m0 3h0m4 0h0m0 1h0m0 2h0m1 0h0m2-1h0m1-3h0m0 0h0m0 0h0m1 1h0m1 0h0m1-1h0m0 4h0m4-6h0m1 6h0m1-5h0m0 0h0m0 3h0m1-4h0m0 6h0m1-3h0m0-1h0m0 2h0m2 0h0m3-2h0m4 9h0m0 5h0m0-2h0m0-5h0m-1 2h0m-1 5h0m-1-2h0m0 1h0m0-4h0m-1 2h0m-1 0h0m0-6h0m0 6h0m-1-5h0m0 1h0m0 4h0m-1-5h0m0 8h0m0-7h0m0 3h0m-2 1h0m0 0h0m0-5h0m-1 2h0m0 3h0m-1-1h0m0-1h0m-1-4h0m0 0h0m0 0h0m0 1h0m0 0h0m0 1h0m-1 0h0m0 7h0m-1-5h0m0 4h0m-1-2h0m0 2h0m0-6h0m-1 0h0m0 6h0m0-7h0m0-1h0m0 9h0m-1-9h0m0 8h0m-1-2h0m0-4h0m-1-2h0m0 2h0m-1 1h0m0-1h0m-2 7h0m0-2h0m-1-5h0m0-1h0m0 8h0m-1-5h0m0-3h0m0 7h0m0-7h0m0 6h0m-2-5h0m0-2h0m0 1h0m-1 7h0m0-3h0m-1-5h0m0 3h0m0-2h0m-1 5h0m0-5h0m0 2h0m0 1h0m-1 4h0m0-8h0m-1 5h0m0 4h0m0-3h0m0 1h0m-1-2h0m-1-4h0m0 0h0m0 2h0m-1 6h0m0-9h0m-3 14h0m1 2h0m0-6h0m1 3h0m2 6h0m0 0h0m1-3h0m0 0h0m0-5h0m0 8h0m0-3h0m0-4h0m0 6h0m1 0h0m1 1h0m0-2h0m1 0h0m0 2h0m0 0h0m0-5h0m0-2h0m1 5h0m0-2h0m0 2h0m1-4h0m0-3h0m0 7h0m1-1h0m0-3h0m0 5h0m1 1h0m0-8h0m0 1h0m1 0h0m0 1h0m2 6h0m0-4h0m1 4h0m1-5h0m1-1h0m1 2h0m1-4h0m0 3h0m0 0h0m0-2h0m1 3h0m0-1h0m2 0h0m0-2h0m0 4h0m0-4h0m1 5h0m0 1h0m0-4h0m1 0h0m0-4h0m0 8h0m0-2h0m1 0h0m0-1h0m0 4h0m1-6h0m0 3h0m0 1h0m0 2h0m2-7h0m0 6h0m0-1h0m0 1h0m1-1h0m0-7h0m0 6h0m0-1h0m1 3h0m2-1h0m0-4h0m2-2h0m1 7h0m0-2h0m1-5h0m1 3h0m2 3h0m0-3h0m2 0h0m-6 8h0m0-2h0m-1 9h0m0-5h0m-2 4h0m0-3h0m0-2h0m-1 2h0m0-2h0m-1 3h0m0 0h0m-1-6h0m0 4h0m0 5h0m-1 0h0m0-4h0m-1-5h0m-1 1h0m0 1h0m-1-1h0m0 2h0m0 1h0m-1-2h0m-1 2h0m-1-2h0m0 7h0m0-6h0m-1 1h0m-1 2h0m0-5h0m0 7h0m-1-4h0m-1 5h0m-1-1h0m-1-5h0m0 0h0m-1-3h0m0 5h0m0-3h0m0 3h0m-1 0h0m0 1h0m-1 0h0m-1 0h0m-1-4h0m0 5h0m-1-5h0m0-1h0m0 0h0m-1 4h0m0 0h0m0-1h0m-1-3h0m-1 5h0m0-1h0m0 2h0m-1-2h0m-1-4h0m-1 0h0m0 3h0m0-2h0m5 8h0m0 0h0m3 1h0m2-1h0m2 2h0m3 0h0m1 0h0m1-2h0m0 0h0m0 2h0m1-1h0m1 0h0m1-1h0m2 0h0m0 0h0m0 0h0m0 2h0m0 1h0m2-3h0m6 0h0m0 2h0" stroke="#a9b845" stroke-width="2.9"/>
<path d="M427 438h0m-3 0h0m0 1h0m0-3h0m-3 2h0m-3-2h0m0-1h0m0 4h0m-7 9h0m0-1h0m0 2h0m1-1h0m1-7h0m1 8h0m0-2h0m0 1h0m1 0h0m1 1h0m0-3h0m0 2h0m0-2h0m0-5h0m0 7h0m1-8h0m1 3h0m0 6h0m0-9h0m0 9h0m0-4h0m0-1h0m0 2h0m1-3h0m0 5h0m1-5h0m0 3h0m0-5h0m0 8h0m0 0h0m2-4h0m0-2h0m0 0h0m0 6h0m1-7h0m1 0h0m0-1h0m0 8h0m0 0h0m0 0h0m0-6h0m1-2h0m0 2h0m0-2h0m0 2h0m1-1h0m0 4h0m0-3h0m0 1h0m1-1h0m0-3h0m0 7h0m1-2h0m1 2h0m3-5h0m7 16h0m0 1h0m-1 0h0m-3-2h0m0-1h0m0-3h0m0 0h0m-1 4h0m0-2h0m0 4h0m0-3h0m-1 1h0m0 0h0m0-4h0m0-2h0m-1 8h0m0-9h0m0 0h0m-1 7h0m0 2h0m0-5h0m-1-4h0m0 5h0m0-5h0m0 4h0m0 1h0m0 3h0m0-4h0m-1 1h0m0 3h0m0-6h0m0 2h0m-1-2h0m0 6h0m0-3h0m0 4h0m-1-3h0m0-3h0m0-2h0m-1 2h0m0 4h0m0-7h0m-1 7h0m0-4h0m-1-2h0m0 3h0m-1 0h0m0 4h0m0-5h0m0-3h0m0 0h0m-1 7h0m0-5h0m0-1h0m0 3h0m0 5h0m-1 0h0m0-8h0m0 3h0m0-1h0m0 2h0m-1-1h0m0-1h0m0 6h0m-1-5h0m0 3h0m0 0h0m-1 1h0m0-8h0m0 3h0m-1 2h0m-1 1h0m0 2h0m-1-8h0m0 2h0m-1 0h0m0 1h0m-1 5h0m0-2h0m-1 2h0m-1-2h0m0-6h0m0 0h0m0 6h0m0-3h0m0 1h0m0-2h0m-1 1h0m0 6h0m-1-3h0m0 0h0m-1 0h0m-5 2h0m-8 9h0m3 1h0m2 0h0m0-1h0m2-3h0m1 4h0m1-1h0m0-5h0m0 4h0m1-2h0m2 4h0m0-8h0m0 2h0m0-2h0m0 3h0m1 0h0m1-2h0m1 0h0m0 1h0m0 2h0m1 2h0m0 0h0m0-1h0m0-4h0m0 4h0m0-4h0m1 7h0m1 0h0m0-7h0m0-1h0m0 6h0m0 0h0m0 1h0m1-4h0m0 2h0m0 4h0m0-1h0m0-5h0m0 4h0m1 1h0m1-4h0m1-1h0m0-3h0m0 5h0m1 3h0m0 1h0m1-2h0m0-3h0m0 1h0m0-2h0m1 0h0m0 6h0m0-8h0m1-1h0m0 6h0m0-1h0m0-4h0m1 0h0m1 5h0m0-3h0m0 3h0m0-6h0m1 6h0m0 0h0m0 3h0m1 0h0m0 0h0m0-2h0m1-3h0m0 0h0m0 3h0m0-3h0m0-2h0m1 2h0m0-2h0m0 6h0m0-4h0m0 1h0m0-4h0m1 3h0m1 3h0m0-3h0m0-3h0m1 1h0m1 4h0m0-4h0m0 4h0m0 2h0m0-3h0m1-3h0m0-1h0m1 0h0m0-1h0m0 8h0m1-4h0m0 2h0m1-3h0m0-1h0m0 6h0m1-1h0m1-5h0m0 4h0m1-6h0m9 16h0m-4 3h0m-2-2h0m0 2h0m-2-4h0m0 1h0m-1 1h0m-2-3h0m0 0h0m0 1h0m-1-5h0m0 1h0m0 0h0m-1-1h0m0 2h0m0 5h0m0-3h0m0 5h0m-1-4h0m0-5h0m0 5h0m0-5h0m0 4h0m-1 0h0m0-1h0m0 3h0m0-1h0m-1 2h0m0 1h0m0-8h0m-1 3h0m0-2h0m0 8h0m0-3h0m-1-4h0m0 3h0m-2-2h0m0 4h0m0-5h0m-1 6h0m0-1h0m0 1h0m0-3h0m-1 1h0m-1 1h0m0-2h0m0-1h0m-1-2h0m0 2h0m0 5h0m-1-7h0m0 4h0m0-4h0m-1-2h0m-1 8h0m0-4h0m0 2h0m0-1h0m-1 1h0m-1-6h0m0 3h0m-1 1h0m-2 1h0m0-2h0m0 3h0m-1 2h0m-1-5h0m0-2h0m-1 2h0m0-1h0m-1-2h0m-2 6h0m0-3h0m0-2h0m0 2h0m-1-1h0m0 6h0m0-6h0m0 0h0m0 2h0m-1 5h0m0-8h0m-1 1h0m0 0h0m0 1h0m0 1h0m-1-3h0m-1 1h0m-1 2h0m0-3h0m0 0h0m0 2h0m-1 3h0m0-3h0m0-3h0m0 7h0m0 0h0m-1-1h0m0 1h0m0-1h0m0 3h0m-1-2h0m0-3h0m0-4h0m0 8h0m-1-4h0m-1 0h0m0-4h0m0 2h0m-1 3h0m0-1h0m-1 2h0m0-1h0m0 3h0m0-3h0m0 3h0m-1-1h0m0-6h0m-1 8h0m-3-2h0m-2 1h0m-2 10h0m3 1h0m1-2h0m0-1h0m1-5h0m0 7h0m0-3h0m0-1h0m0-1h0m0 2h0m1 2h0m0-2h0m1-2h0m0 1h0m1 2h0m1-2h0m0 1h0m1 4h0m0-9h0m0 5h0m0-2h0m0-3h0m1 5h0m0 3h0m0-5h0m0 5h0m1-4h0m1-3h0m1 0h0m0 2h0m1-2h0m0 7h0m0-7h0m0 4h0m1-3h0m0-1h0m1 7h0m1 0h0m0 1h0m0-6h0m0 0h0m0 0h0m0-3h0m1 8h0m0-3h0m0-3h0m0 4h0m1-1h0m0-1h0m0 0h0m1-1h0m0 6h0m0-7h0m1 3h0m0 2h0m1-4h0m0 4h0m1 2h0m0-1h0m1-6h0m2 4h0m1-4h0m0-1h0m1 2h0m1 5h0m1-8h0m0 2h0m1 6h0m1-7h0m1 1h0m0 7h0m0-1h0m0-6h0m1 0h0m0-1h0m0 3h0m0 3h0m1-7h0m0 6h0m0-3h0m0 6h0m1-7h0m0 4h0m0-2h0m1 4h0m0-4h0m0 3h0m1 2h0m0-9h0m0 6h0m2 3h0m2-6h0m0 4h0m0-4h0m0 6h0m1-1h0m0 0h0m0-6h0m1 4h0m1 3h0m0-9h0m0 0h0m0 7h0m0-6h0m0 8h0m1-2h0m0 2h0m0-2h0m0 0h0m0-5h0m0 0h0m0 7h0m2-4h0m0-4h0m1 1h0m0 3h0m0-1h0m0-1h0m0-2h0m0-1h0m1 0h0m0 9h0m2-4h0m1 3h0m1-3h0m1 1h0m1-1h0m0-5h0m0 8h0m1-4h0m1 4h0m0 2h0m-1 9h0m0 0h0m-1-5h0m0 0h0m-1 1h0m0 2h0m0 1h0m-2-1h0m0-2h0m-1-2h0m0 1h0m-1-1h0m0 1h0m0 2h0m-1 0h0m-1-3h0m0 0h0m0 4h0m0-4h0m-1 4h0m0-5h0m0 7h0m0-6h0m0 6h0m-1-8h0m0 4h0m0 1h0m-1-4h0m0 0h0m0-2h0m-1 6h0m0-5h0m0 6h0m0-1h0m-1-5h0m0 2h0m0-3h0m0 4h0m-1 5h0m0-5h0m0-3h0m-1 6h0m0-1h0m0-6h0m0 9h0m-1-3h0m0-1h0m-1 4h0m0-8h0m-1 4h0m-1-2h0m0 0h0m0 2h0m0-2h0m-1 3h0m0-4h0m0 4h0m0-3h0m0 5h0m0-8h0m-1 7h0m-1-5h0m-1-2h0m0 8h0m-1-7h0m0 5h0m-1 3h0m0-5h0m-1-2h0m0 3h0m-1-5h0m-2 6h0m0-6h0m0 9h0m-1 0h0m-3-2h0m-1-2h0m-1 2h0m0 1h0m-1-7h0m0 1h0m0 1h0m-1-3h0m-1 7h0m-1-1h0m0 0h0m-1 2h0m0-5h0m0-2h0m0 7h0m-1-7h0m0 6h0m0-2h0m0 3h0m-1 1h0m0-1h0m0 1h0m-1-2h0m0-1h0m-1 3h0m0-2h0m0-6h0m-1 2h0m0 0h0m-1 5h0m0-5h0m0 6h0m-2-9h0m0 2h0m0-1h0m-1 5h0m-2 2h0m0-6h0m0-2h0m-1 4h0m0-2h0m-1-2h0m0 1h0m-3 6h0m0-6h0m0-1h0m-2 15h0m6-2h0m1-2h0m1 3h0m1 2h0m0-6h0m1 9h0m0-8h0m1 1h0m0-2h0m0 0h0m1 1h0m0 6h0m0-4h0m0 0h0m1-1h0m0 1h0m0 0h0m0-3h0m1 3h0m1-2h0m0-1h0m0 2h0m0 3h0m1 1h0m0 3h0m0-3h0m1-3h0m0 4h0m1 2h0m0-7h0m0 7h0m1-3h0m0 3h0m1-7h0m0 1h0m1 6h0m0-6h0m0-1h0m0-2h0m1 9h0m0-3h0m0-1h0m1-5h0m0 4h0m0 0h0m1-3h0m0 3h0m1 0h0m0-4h0m0 0h0m0 2h0m1 3h0m0-1h0m2 4h0m1-1h0m1 0h0m0-2h0m1-1h0m1 1h0m0 2h0m1-7h0m0 0h0m2 2h0m1 6h0m0 0h0m0 1h0m1-5h0m0-2h0m0 6h0m2-7h0m0-1h0m0 2h0m1 3h0m1-3h0m0 4h0m0-2h0m0 5h0m1-8h0m0-1h0m0 7h0m0-2h0m0-3h0m1 7h0m0-2h0m0-1h0m1-2h0m0 3h0m0 1h0m2-6h0m0 1h0m0-2h0m0-1h0m1 7h0m0-3h0m1 4h0m0-8h0m0 3h0m0-1h0m0 0h0m1-1h0m0 6h0m0-4h0m1 2h0m0-4h0m0 5h0m0-5h0m0 3h0m0 3h0m0-4h0m0-1h0m0-1h0m0 7h0m1-6h0m0 2h0m0-2h0m0 5h0m1-7h0m2 9h0m1-5h0m1 4h0m0-1h0m0-3h0m1-1h0m0 0h0m0 4h0m0 1h0m1-7h0m0 1h0m1-2h0m7 17h0m-4-2h0m-2-2h0m-3 4h0m0 1h0m-1-5h0m0 1h0m0 1h0m-1 4h0m-1-9h0m0 0h0m-1 1h0m-2 3h0m0 0h0m-1-3h0m0 2h0m-1-3h0m-1 2h0m0 1h0m-1-2h0m0 7h0m-1-5h0m0 1h0m0-4h0m0 0h0m0 7h0m0-1h0m-1 1h0m0-2h0m0 0h0m-1-3h0m0 6h0m0-6h0m-1 2h0m0 4h0m-1 0h0m0-1h0m0 1h0m-1-2h0m0 2h0m-1-5h0m0-1h0m0 1h0m-1-3h0m0 3h0m0 2h0m0-5h0m-2 1h0m-1 2h0m-1-1h0m-4 1h0m-1 1h0m0 2h0m0 1h0m-3-4h0m0 4h0m-6 2h0m-1-7h0m-1-2h0m0 0h0m-1 0h0m0 7h0m-4-4h0m-2-3h0m0 9h0m-1-1h0m-2-6h0m-6 2h0m-4-1h0m4 8h0m4 3h0m1-2h0m0 0h0m2 1h0m6 2h0m0 0h0m2-1h0m2-2h0m1 6h0m1-6h0m1-1h0m4 8h0m1-3h0m0-6h0m1 8h0m6-4h0m2 3h0m1 0h0m0-3h0m2 1h0m5-3h0m1 6h0m0-4h0m0 2h0m1-6h0m0 0h0m0 6h0m1-6h0m2 4h0m1 4h0m0-7h0m3 0h0m1 3h0m1 4h0m2-3h0m3 0h0m2-2h0m3 2h0m4 0h0m7 2h0m6 8h0m0 0h0m-2 3h0m-3 0h0m0-4h0m0-2h0m-3 4h0m-3 0h0m-1 3h0m-1-3h0m0-1h0m-2 4h0m0-5h0m-2 3h0m-4-3h0m-1 4h0m-1-4h0m0-4h0m-3 3h0m-1 0h0m-2 1h0m-2 3h0m-4-4h0m-3 6h0m-8-1h0m-1-2h0m-1-6h0m-4 2h0m-3-2h0m0 9h0m-6-8h0m-2-1h0m-6 8h0m-1-4h0m9 9h0m0 1h0m1-1h0m1 4h0m1-2h0m2-1h0m0-1h0m4 3h0m2-4h0m1 5h0m3-1h0m1-2h0m1-3h0m1 1h0m2-1h0m1 2h0m1 6h0m2-3h0m1-6h0m0 9h0m1-2h0m3-5h0m3 2h0m4 0h0m6 2h0m4 1h0m1 2h0m0-3h0m0 1h0m5 1h0m2-3h0m3-1h0m0 9h0m0 0h0m-1 6h0m-2-5h0m-3 5h0m0-7h0m0 5h0m-2-2h0m-2 3h0m-1-6h0m-1 0h0m-5 3h0m-6 2h0m-4-6h0m-2 1h0m0-1h0m-2-1h0m-1 5h0m-3-4h0m-7 4h0m-1-1h0m-1-4h0m0 4h0m-2 3h0m-1-3h0m-7-2h0m22 8h0m2 0h0m10 0h0m5 2h0m2 0h0m6 4h0m1-1h0m0-3h0" stroke="#8a52b2" stroke-width="2.9"/>
<path d="M298 758h0m-15 7h0m1-4h0m9-1h0m0 1h0m12 9h0m-10 3h0m-8 5h0m-3-5h0m-3-2h0m-18 16h0m9 1h0m6-8h0m2 6h0m-3 10h0m-5-6h0m0 2h0m-3 0h0m-3 7h0m-9-3h0m-16 8h0m2-1h0m1 4h0m1-3h0m1 5h0m2-1h0m0-2h0m1 0h0m0 2h0m1 1h0m0-9h0m0 7h0m2-2h0m0-5h0m0 5h0m0 4h0m0-6h0m1 6h0m0-1h0m1-2h0m0-3h0m0 4h0m0-2h0m1 3h0m1 1h0m0-9h0m0 6h0m0-4h0m0 0h0m1 3h0m1 0h0m1-2h0m0 3h0m0 0h0m0-1h0m1-1h0m0-3h0m0 6h0m0 0h0m0-3h0m0 2h0m0 3h0m0-2h0m0-2h0m1-1h0m0 2h0m1 3h0m0-1h0m1-6h0m2 3h0m1 2h0m0 0h0m1 2h0m0-6h0m1 5h0m1-8h0m2 5h0m0-5h0m4 10h0m-3 0h0m-3 2h0m0 0h0m-2 0h0m0 5h0m0-1h0m0 3h0m0 0h0m-1-7h0m0 5h0m-1-1h0m-1-5h0m0 8h0m-1-5h0m0 1h0m-1-2h0m-1-2h0m0 3h0m-1 0h0m0-2h0m0 5h0m0-1h0m0-5h0m0 3h0m-1 4h0m0-3h0m0 1h0m0-5h0m0 8h0m0-6h0m-1-1h0m0 2h0m0-4h0m-1 5h0m0-1h0m0-4h0m0 5h0m0 3h0m0 1h0m0-4h0m-1-3h0m0-2h0m0 0h0m0 2h0m0-2h0m0 5h0m0-4h0m-1 2h0m0 2h0m0-4h0m0 0h0m0 5h0m0-3h0m0 2h0m0-3h0m-1-2h0m0 0h0m0 2h0m0 7h0m0-3h0m0-5h0m-1 4h0m0-4h0m0 5h0m0-5h0m-1 4h0m0-5h0m0 0h0m0 7h0m-1 2h0m0-3h0m0-3h0m0-3h0m0 2h0m-1 2h0m0 5h0m0-2h0m-1-2h0m0-5h0m0 1h0m-1-1h0m-1 5h0m0 4h0m-1-1h0m-1-8h0m-1 12h0m8-2h0m1 0h0m3 0h0m1 4h0m1-1h0m2 0h0m0-2h0m2-1h0m2 0h0m3 4h0m2-4h0m-16 16h0m-4 1h0m-1 11h0m2 1h0m4-2h0m2-7h0m3 3h0m4-2h0m-1 11h0m-2 7h0m-5-5h0m-15 12h0m15-5h0m3 10h0" stroke="#2f70b0" stroke-width="2.9"/>
</g><polygon points="385.9,235.8 389,240.2 391.8,245.4 394.2,251.6 395.8,257.9 396.4,264.1 395.5,269.3 393,273.7 389.9,275.2 386.2,274 383.1,271.8 380.6,268.7 378.1,268.4 375.6,270.9 373.1,270.3 370.7,266.5 369.7,262.2 370.4,257.2 372.2,252.3 375.3,247.3 378.7,242 382.5,236.4" fill="#cfa0b3" fill-opacity="0.5" />
<polygon points="356.1,274.6 359.2,277.1 362.9,278.6 367.3,279.3 370.4,281.4 372.2,285.2 372.2,288.9 370.4,292.6 367.6,295.1 363.8,296.3 360.4,295.7 357.3,293.2 355.2,289.5 353.9,284.5 353.6,279.9 354.2,275.5" fill="#cf95ab" fill-opacity="0.7" />
<polygon points="364.5,300 369.4,296.3 375,293.2 381.2,290.7 388,288.3 395.5,285.8 402.9,283.8 410.4,282.3 416.9,282 422.5,282.9 428.1,285.5 433.6,289.8 438.9,294.8 443.9,300.4 446.1,305.3 445.4,309.7 443,313.4 438.6,316.5 433.3,319 427.1,320.8 420.3,321.1 412.9,319.9 406,319 399.8,318.3 393.6,317.4 387.4,316.2 381.2,314.6 375,312.8 369.7,310.9 365.4,309 362.9,306.6 362.3,303.5" fill="#7a4574" fill-opacity="0.78" />
<polygon points="435.6,324 427,327.1 418.5,330.7 410.4,334.8 403.7,338.9 398.6,342.9 393.4,347 388.4,351.1 383.2,355.7 378.2,360.8 374.6,365.9 372.5,371.1 368.9,375.7 363.9,379.8 358.8,384.4 353.7,389.4 349.6,394.6 346.5,399.6 342.9,405.8 338.9,412.9 334.2,420.1 329.2,427.2 321.5,430.8 311.2,430.8 309.7,426.2 316.8,417 324,407.3 331.1,397.1 338.5,389.5 346.2,384.5 352.8,379.9 358.5,375.7 363.4,368.5 367.4,358.2 371,349 374.1,340.9 378,333.1 382.6,325.7 398.8,322.1 426.2,322.4" fill="#7f4b79" fill-opacity="0.7" />
<polygon points="355.8,301.8 354.1,304.4 352.3,306.9 350.6,309.5 348.8,312.1 347.1,314.7 345.3,317.3 343.4,320.1 341.9,323 340.4,325.8 339,328.6 337.5,331.3 336,334.1 334.6,336.8 333.1,339.6 331.6,342.4 330.2,345.3 328.9,348.2 327.6,351 326.2,353.8 324.9,356.6 323.6,359.5 322.2,362.3 320.9,365.1 319.6,367.9 318.2,370.8 316.9,373.6 315.5,376.4 314.2,379.2 312.6,382.8 313.1,386.7 314,389.1 313.3,391.1 312.2,393.9 311,396.8 309.7,399.6 308.5,402.5 307.3,405.4 306.1,408.3 304.9,411.2 308.6,412.8 309.9,410 311.2,407.1 312.5,404.3 313.9,401.5 315.2,398.6 316.5,395.8 317.9,392.9 319,389.1 318,385.6 317.6,383.6 318.8,381.6 320.3,378.8 321.8,376 323.2,373.3 324.7,370.5 326.1,367.7 327.6,365 329.1,362.2 330.5,359.4 332,356.7 333.4,353.9 334.9,351.2 336.4,348.4 337.8,345.7 339.3,343.1 340.9,340.4 342.5,337.7 344,335 345.6,332.3 347.2,329.6 348.7,326.9 350.2,324.3 351.9,322 353.8,319.5 355.7,317 357.5,314.5 359.4,312 361.3,309.5 363.2,307" fill="#b98aa5" fill-opacity="0.32" />
<polygon points="295.6,451.7 298,456.7 300.2,461.6 302.1,466.6 304.6,469.1 307.7,469.1 310.8,466 313.9,459.8 317,452.3 320.1,443.6 322.9,435.6 325.3,428.1 324.1,423.1 319.1,420.7 314.2,420 309.2,421.3 304.9,425 301.1,431.2 298,438 295.6,445.5" fill="#b88aa4" fill-opacity="0.85" />
<polygon points="308,421.1 307.8,422.3 307.6,423.4 307.4,424.6 307.2,425.8 307,426.9 306.8,428.1 306.6,429.3 306.4,430.5 306.2,431.6 306,432.8 305.8,434 305.7,435.2 305.5,436.3 305.3,437.5 305.1,438.7 304.9,439.8 304.7,441 304.5,442.2 304.3,443.5 304.2,444.8 304.2,446 304.2,447.2 304.2,448.4 304.2,449.6 304.2,450.8 304.2,452 304.2,453.2 304.2,454.4 304.2,455.6 304.2,456.8 304.2,458 304.2,459.2 304.2,460.4 304.2,461.6 304.2,462.8 304.2,464 304.2,465.2 304.2,466.4 304.2,467.6 309.2,468.1 309.5,466.9 309.7,465.7 310,464.6 310.2,463.4 310.5,462.2 310.7,461.1 311,459.9 311.2,458.7 311.5,457.6 311.7,456.4 312,455.2 312.2,454.1 312.5,452.9 312.7,451.7 312.9,450.6 313.2,449.4 313.4,448.2 313.7,447 313.9,445.9 314.2,444.9 314.3,443.8 314.5,442.7 314.7,441.5 314.9,440.3 315.1,439.1 315.3,438 315.5,436.8 315.7,435.6 315.9,434.5 316.1,433.3 316.3,432.1 316.5,430.9 316.7,429.8 316.9,428.6 317.1,427.4 317.3,426.2 317.5,425.1 317.7,423.9 317.9,422.7" fill="#6e3b6c" fill-opacity="0.8" />
<polygon points="215.1,466.3 221.6,458.2 229.2,449.8 237.9,441.1 247.2,433.1 257.1,425.6 267,419.4 276.9,414.5 286.2,410.7 294.9,408.3 301.1,408.9 304.9,412.6 304.9,419.4 301.1,429.4 298,438 295.6,445.5 292.5,446.7 288.7,441.8 282.5,439.6 273.8,440.2 264.5,442.1 254.6,445.2 244.7,449.8 234.7,456 226.1,462.2 218.6,468.4 214.1,471.2 212.7,470.6" fill="#bf90a8" fill-opacity="0.62" />
<g transform="scale(.5)"><path d="M836 559h0m-45 7h0m12-1h0m11-1h0m1-1h0m0 3h0m1-2h0m1 4h0m3-2h0m5-6h0m2 1h0m1 5h0m2-2h0m3 4h0m1-1h0m2-4h0m13 2h0m12 1h0m5 11h0m-3-2h0m-4 0h0m-1-2h0m-1-1h0m-3 4h0m-54-5h0m-3-1h0m-3 0h0m-1 0h0m0 3h0m-1-3h0m-3 3h0m0 5h0m-3-3h0m0-4h0m0 6h0m-4-3h0m-3 2h0m-2-1h0m-14 4h0m-19 10h0m3-2h0m2 0h0m8-7h0m1 7h0m3-5h0m1-2h0m5 1h0m0-1h0m101 8h0m1-8h0m5 1h0m1 4h0m0 3h0m1 1h0m0-4h0m1 1h0m10 8h0m-2 4h0m-2 1h0m-1-1h0m-131-7h0m-14 3h0m-6 2h0m-12 13h0m7-6h0m5-1h0m156 3h0m0 3h0m2-1h0m1-5h0m0-2h0m1 9h0m0-4h0m4 9h0m-2 5h0m-4-9h0m-145 7h0m-6 1h0m-7-2h0m-2-3h0m-4 0h0m-1-1h0m10 10h0m6-1h0m1 5h0m0-5h0m1 3h0m0 0h0m1 3h0m2-4h0m1-3h0m0 4h0m4 5h0m3-4h0m1 4h0m0-1h0m2-3h0m3 3h0m1-3h0m1-2h0m122 6h0m3-7h0m1 0h0m1 7h0m0-7h0m1 0h0m0 0h0m-7 13h0m-4-1h0m-2 1h0m-1-5h0m-4 4h0m-15 4h0m-35-2h0m-4 3h0m-3-1h0m-1 0h0m-5-1h0m0-6h0m-1 5h0m-9 0h0m-6 1h0m-1-2h0m0-1h0m0-1h0m-1 2h0m-6 3h0m-3-3h0m-4-2h0m-4-2h0m-2-1h0m0 1h0m-3 0h0m-9 1h0m-1-2h0m-4 0h0m71 10h0m3 1h0m1 0h0m11 0h0m3 8h0m7-7h0m14 0h0" stroke="#c17a98" stroke-width="2.9"/>
<path d="M756 488h0m1 1h0m1-1h0m2-2h0m2-4h0m0 6h0m1-8h0m1 13h0m-1-1h0m0 2h0m0-3h0m-1 5h0m-2-1h0m-1-3h0m-2 5h0m0-1h0m-2 1h0m-2-1h0m-1 3h0m-9 8h0m6-1h0m1-1h0m0 3h0m1-3h0m1 0h0m2 0h0m3-4h0m4 0h0m3-1h0m0 19h0m0-9h0m0 2h0m-2 5h0m-1 0h0m-3 1h0m-3 0h0m0 0h0m0-1h0m-2-4h0m0-1h0m-2 5h0m-1 0h0m-2 1h0m0-7h0m0 3h0m-1 1h0m-3 0h0m-1-3h0m-3 12h0m1 0h0m0-4h0m0 0h0m1 7h0m1-5h0m0 0h0m1 3h0m0 3h0m2 1h0m0 0h0m1-5h0m2-2h0m1-1h0m0 1h0m1 4h0m1-2h0m4 3h0m3-6h0m0 0h0m0 3h0m4 1h0m0-4h0m1 8h0m0-4h0m0 8h0m-2 4h0m-3-3h0m0 0h0m0 0h0m-2 2h0m-1-5h0m0 4h0m-1 3h0m-3 0h0m-2-6h0m-5 1h0m-2 3h0m19 4h0" stroke="#c17a98" stroke-width="2.9"/>
<path d="M639 746h0m5-3h0m6 2h0m0 8h0m-9-2h0m-4 6h0m-3-3h0m-2 0h0m-8 1h0m6 11h0m2-1h0m0 4h0m6-9h0m1 2h0m0 3h0m5-5h0m0 6h0m3 6h0m-10 5h0m-5-4h0m-1-1h0m-1 6h0m-1-5h0m0 4h0m0 0h0m-4-4h0m-1 2h0m-5 4h0m-4-9h0m-4 18h0m5-4h0m0 5h0m1-2h0m10-1h0m1-6h0m5 9h0m0 3h0m-7 0h0m0 7h0m-1-7h0m-7 5h0m-2 1h0m-7 1h0m-5-9h0m-2 9h0m-1-6h0m-3 5h0m-12 7h0m19-4h0m3 6h0m16-7h0m-4 10h0m-7 0h0m-10 6h0m-3-2h0m-7 4h0m-10-8h0m4 19h0m2-5h0m0-2h0m4 7h0m10-3h0m0-2h0m3-1h0m4 9h0m-2-1h0m-1 0h0m-13-1h0m-5 7h0m-1-3h0" stroke="#dca6ae" stroke-width="2.9"/>
<path d="M709 548h0m3 1h0m18 9h0m-2 0h0m-1-1h0m-3-3h0m-3 5h0m0-5h0m-3 1h0m0 1h0m0 0h0m-1-3h0m-2-2h0m-1 6h0m0-3h0m-1-3h0m-2 4h0m-2 4h0m-1-4h0m-2-1h0m4 8h0m1 7h0m0-1h0m1-5h0m0 0h0m0 2h0m0-2h0m1 1h0m3 2h0m0-3h0m0 3h0m0 3h0m0-5h0m1-1h0m1-2h0m0-1h0m1 1h0m2 7h0m3-4h0m0-2h0m0 6h0m0-6h0m1 7h0m1-5h0m1-1h0m0-2h0m0 2h0m5-3h0m0 6h0m0-4h0m1 2h0m2 2h0m5-3h0m1-2h0m1 6h0m1 2h0m3 5h0m-1 1h0m-1 0h0m-1-4h0m-2 0h0m-2 0h0m-3 4h0m0-4h0m-2 2h0m-3 3h0m0 1h0m0 1h0m0-7h0m0 3h0m-1 5h0m-1-2h0m0-3h0m-3 2h0m-1-6h0m0 5h0m0 1h0m0-3h0m0 2h0m0 1h0m-3 3h0m-1-2h0m0-3h0m0-1h0m-2-1h0m-1 1h0m-3 5h0m0 0h0m0 0h0m-2-4h0m-1 3h0m-1 0h0m0-2h0m1 6h0m4 2h0m0-2h0m1 1h0m1 6h0m0-1h0m0-4h0m2-2h0m0 1h0m1 4h0m0-3h0m3-1h0m1 7h0m0-3h0m1 2h0m0-4h0m1 4h0m1-8h0m0 3h0m0 0h0m1 3h0m0 2h0m1-1h0m0 1h0m0 0h0m0-2h0m3 1h0m2 2h0m0-8h0m1-1h0m0 5h0m1-2h0m4 1h0m0 0h0m1-3h0m-13 10h0m-1-1h0m-1 0h0m-1 2h0m-3 2h0m-2-4h0m-3 2h0" stroke="#c17a98" stroke-width="2.9"/>
<path d="M606 819h0m-1-1h0m-1 0h0m-6-3h0m-3 2h0m-10 2h0m-28 7h0m3-4h0m1 7h0m7-2h0m6-7h0m1 0h0m7 3h0m27 11h0m0 1h0m-53-5h0m-4 2h0m0-2h0m-3 1h0m-1 0h0m-2 1h0m-26 16h0m1 1h0m5-4h0m0-1h0m0 1h0m8-2h0m4-2h0m67 6h0m1-6h0m4 2h0m-9 14h0m-90-2h0m-19 11h0m0 2h0m10-2h0m97 2h0m2-5h0m-3 7h0m-2 3h0m-1 1h0m-28 5h0m-5 0h0m-10-4h0m-9 4h0m-55-7h0m-2 3h0m-3-5h0m-1 9h0m-6 5h0m30 5h0m21-3h0m4-1h0m17-4h0m11 1h0m10-1h0m4-1h0m9 8h0m9 5h0m-7 0h0m-73-1h0m-3-1h0m-16 7h0m-3 1h0m-22-9h0m-8 9h0m-6 2h0m3 2h0m23 0h0m-1 7h0m-8 3h0m-3 2h0m-10 4h0m-10-3h0m-10 6h0m0 3h0m3-1h0m1 2h0m1-6h0m-3 16h0m-2 0h0m-2-4h0m0 5h0m-2-3h0m-2-1h0m-1 2h0m-2 2h0m0-1h0m0-2h0m-5 4h0m4 5h0" stroke="#dca6ae" stroke-width="2.9"/>
<path d="M599 817h0m-4 1h0m-37 11h0m2-4h0m11 0h0m2-5h0m2 8h0m2-6h0m3 6h0m2-4h0m1 0h0m3-4h0m4 9h0m1-8h0m1 4h0m5 4h0m3 0h0m0-6h0m1 6h0m2-2h0m11 2h0m-5 4h0m-2 4h0m-4 1h0m-2-6h0m-4 0h0m-3 6h0m-3-8h0m-6 5h0m-7 0h0m-1 3h0m0-4h0m-2-3h0m-1 3h0m-4 2h0m-3 1h0m-4 1h0m-1-4h0m-3 5h0m-1-5h0m0-2h0m-1 1h0m-5 2h0m-2 1h0m-1 1h0m-1-1h0m0-2h0m-1 0h0m-1 2h0m0-2h0m-1-2h0m-21 14h0m6-2h0m1 1h0m2 2h0m2-5h0m6 7h0m2-2h0m0 2h0m6-5h0m1-3h0m2 5h0m2 1h0m0-4h0m0 2h0m1-3h0m0 0h0m2 2h0m5-2h0m8 3h0m2-4h0m0 6h0m11 2h0m3 0h0m16-3h0m2 8h0m-1 0h0m0-3h0m-3 1h0m-1 0h0m-5 3h0m-1-5h0m-2 9h0m-8-2h0m-3 1h0m-6-4h0m-2 0h0m-2-1h0m-4 6h0m-9 0h0m-13-2h0m-20-7h0m-8 2h0m0 7h0m-2 0h0m0-1h0m-23 9h0m5 2h0m6-9h0m6 5h0m1 4h0m1 0h0m1-2h0m6-5h0m11 4h0m0 0h0m1-5h0m4 2h0m13 4h0m7-7h0m0 6h0m0 2h0m1 0h0m8-2h0m5 2h0m1-8h0m1 9h0m2-9h0m6 9h0m2-5h0m1 4h0m7 0h0m4-2h0m2-3h0m1 2h0m1 3h0m2-7h0m5 5h0m-7 8h0m-2-2h0m0-1h0m-8 4h0m-7 2h0m-2-7h0m-2 2h0m-1 1h0m-5 5h0m-5-4h0m-2 3h0m-2-2h0m-2 4h0m-5 0h0m0-9h0m-2 0h0m-3 5h0m-5 4h0m-8-1h0m-5 0h0m-11 0h0m-11 0h0m-7-4h0m-1-2h0m-7 7h0m-1-6h0m-5 0h0m-14 11h0m0 3h0m2 2h0m4-5h0m3 2h0m2 0h0m5-4h0m1 1h0m7 6h0m12-9h0m5 5h0m7-5h0m6 6h0m6-3h0m25-2h0m22 0h0m5 0h0m0 4h0m2-5h0m8 0h0m-90 12h0m-1-2h0m0 0h0m-14 2h0m-7 7h0m-5-1h0m-2-7h0m-4-1h0m0 5h0m0 4h0m0-9h0m-1 6h0m-1 1h0m-1-4h0m0 1h0m0 2h0m-5 2h0m-6 10h0m3 1h0m1-2h0m2-7h0m7 1h0m1-1h0m-4 10h0m-6 4h0m-1-3h0m-6 3h0m-5 5h0m0-1h0m0-8h0m-6 9h0m-6 5h0m11-1h0m2-1h0m1 0h0m-7 8h0m-2 1h0m-4 4h0m-5-5h0m-5 9h0" stroke="#dca6ae" stroke-width="2.9"/>
<path d="M604 819h0m-2-4h0m-3 3h0m-8-4h0m-3 4h0m0 0h0m-1-2h0m-2 2h0m-2-1h0m-4 1h0m-1-2h0m-25 12h0m2-3h0m4 2h0m4-1h0m2 2h0m4-1h0m7-7h0m2 6h0m1-6h0m20 0h0m0 1h0m4-1h0m1 2h0m7 3h0m2 10h0m-3-1h0m-4 4h0m-46-8h0m-3 1h0m-5 2h0m-5-1h0m-4 6h0m-1-5h0m-1 4h0m0-6h0m-1 4h0m0-1h0m-5 3h0m-8 2h0m-11 7h0m4 3h0m4-4h0m4 4h0m1-9h0m1 0h0m74 4h0m5 1h0m0-1h0m1-4h0m-2 14h0m-1 0h0m-4 5h0m-1-6h0m-1 1h0m-1 4h0m0-3h0m-77-5h0m-4 1h0m-2 2h0m-4-2h0m-1-1h0m-2 3h0m-1-3h0m0 5h0m-3 3h0m-13 10h0m2-2h0m0-1h0m1 0h0m0 3h0m1-3h0m0 1h0m3 0h0m1-6h0m1 1h0m0-1h0m5 4h0m91-1h0m2 1h0m1 1h0m1-4h0m-3 13h0m-2 3h0m-1 1h0m-2-2h0m0-2h0m-1 5h0m-30 0h0m-2-1h0m-1 0h0m0 0h0m-3 0h0m-5 1h0m-6 0h0m-4 0h0m-12 0h0m-41-6h0m-5 4h0m-2 0h0m0 2h0m-2-3h0m-11 12h0m2 0h0m1-6h0m0 5h0m2-2h0m2 1h0m0-3h0m5-3h0m1 1h0m32 2h0m7 5h0m11-8h0m4 2h0m4 1h0m1-1h0m3 0h0m1-1h0m16-1h0m0 2h0m1 1h0m19 3h0m1-3h0m2 5h0m6-1h0m2-1h0m0 2h0m1-7h0m2 1h0m2 3h0m-6 8h0m0-1h0m-2-2h0m-5 3h0m-76 3h0m-1-5h0m-2-1h0m-2 0h0m-3 3h0m-5 3h0m-2 1h0m-2-1h0m0 3h0m0-3h0m0 0h0m-1 2h0m-6 1h0m-20-3h0m-2-2h0m-4 4h0m-11 10h0m3 1h0m1-4h0m3 3h0m11 0h0m5-1h0m11 0h0m5-7h0m0 1h0m-10 9h0m-2 0h0m-2 3h0m-1 0h0m-1-1h0m0-2h0m-1 2h0m-9 6h0m-9-7h0m0-1h0m-10 9h0m0 6h0m1-2h0m2 5h0m4-6h0m0 3h0m1-1h0m1 2h0m3 1h0m0-4h0m0 0h0m1 0h0m3-2h0m-11 10h0m0-1h0m0 4h0m-10 1h0m-2-5h0m0 2h0m-4 2h0m-1 2h0m-4 3h0m1 2h0m0-1h0m7 1h0" stroke="#c17a98" stroke-width="2.9"/>
<path d="M764 477h0m0-5h0m0 4h0m-1-1h0m0 3h0m-7 10h0m1-3h0m0-3h0m1 1h0m0 4h0m1 1h0m0 1h0m1-9h0m1 8h0m1-8h0m1 7h0m0-2h0m1-4h0m0 3h0m0 1h0m0 6h0m0 6h0m-2-7h0m-2 2h0m0 1h0m-1 3h0m-1-1h0m-1 2h0m-4-2h0m-1-3h0m-1 4h0m-7 12h0m0 0h0m3-3h0m0 0h0m0 2h0m1-2h0m0 2h0m1 0h0m1-5h0m2 5h0m1 1h0m0-1h0m0-6h0m0-1h0m0 8h0m1-5h0m0 0h0m1 1h0m0 1h0m1 0h0m0 1h0m1 2h0m0-1h0m2 2h0m0-5h0m2-1h0m1-1h0m2 6h0m1 5h0m0-3h0m-1 5h0m0 4h0m0-5h0m-1-1h0m0 0h0m-1 5h0m0-6h0m0 2h0m-1 3h0m-1-4h0m-2 0h0m0 5h0m-1-8h0m0 9h0m0-6h0m-1 3h0m0-5h0m-1 5h0m0-6h0m-1 9h0m0 0h0m0-1h0m0-7h0m0 3h0m-1 5h0m-1-2h0m0 0h0m-2-2h0m0 2h0m-1 1h0m0 0h0m-1-4h0m0 4h0m0-8h0m0 1h0m0 5h0m-1 3h0m-1-1h0m-1 0h0m-1-1h0m0-4h0m-1-3h0m-1 1h0m-2 10h0m0 8h0m0-3h0m1 2h0m0-5h0m0 3h0m1-5h0m0 2h0m1 3h0m1-3h0m2 2h0m2 0h0m2 3h0m0-2h0m0 0h0m1-4h0m1 6h0m1-6h0m1 0h0m0 4h0m0-4h0m1 6h0m0-5h0m0-3h0m1 6h0m2 0h0m1-1h0m0-4h0m1 3h0m1 3h0m0 2h0m0-4h0m0-1h0m2-4h0m1 9h0m0 0h0m0-2h0m-2 6h0m-1-1h0m-1 1h0m-2-1h0m-1-2h0m-2 1h0m-1 4h0m0 3h0m-1-6h0m0 7h0m-2-9h0m0 6h0m0 2h0m-3-8h0m-2 7h0m0 2h0m0-4h0m-1-2h0m0 3h0m-2-4h0m-1-2h0m6 13h0m2 0h0m1-1h0" stroke="#dca6ae" stroke-width="2.9"/>
<path d="M530 877h0m-33 9h0m7-3h0m7 2h0m5 2h0m5-1h0m2-3h0m1 5h0m9-4h0m0-4h0m-31 17h0m-1-5h0m-3 5h0m-19 10h0m1 1h0m-17 4h0m-11 4h0m-3 2h0m-8 10h0m6-8h0m3 5h0m11-5h0m1 1h0m-20 12h0m-1 4h0m-9-6h0m-3 3h0m0 8h0" stroke="#dca6ae" stroke-width="2.9"/>
<path d="M779 645h0m14 1h0m22 2h0m38-3h0m5 4h0m-11 2h0m-8 8h0m-7-1h0m-3-5h0m-11 1h0m-3 4h0m-10-5h0m0 4h0m-1-4h0m-6 1h0m-3 1h0m-4 4h0m-17-9h0m-15 13h0m4 1h0m6 2h0m13-6h0m7 2h0m0 7h0m2-1h0m3-5h0m2-1h0m14 5h0m10 1h0m3-7h0m0 4h0m4-5h0m-22 17h0m-4 2h0m-2 0h0m-6-9h0m-2 0h0m-1 8h0m-20 0h0m-5-5h0m-3 0h0m-10 0h0m8 16h0m6 0h0m14-7h0m12 1h0m-6 8h0m-6 1h0m-3 4h0m-7-2h0m-5 5h0m-1-1h0m-12 0h0m-1-6h0m-4-1h0m-4 8h0m3 5h0m10 3h0m16 1h0m-12 8h0m-8-2h0m-2-2h0m-6 4h0m-8-2h0m-5 12h0m-10 4h0m2 12h0m8 5h0m7-3h0m-3 8h0m-2 2h0m-14 4h0m-2-8h0m-18 17h0m9-3h0m6 4h0m1 0h0m4-5h0m-8 12h0m-4-4h0m-2 5h0m-3-6h0m-10 4h0m-1 0h0m-5 1h0m-14 12h0m7-3h0m3-3h0m4 3h0m14 1h0m6 2h0m-15 8h0m-5 1h0m-3-5h0m-5 8h0m-14 0h0m-5 4h0m5-1h0m4-2h0m2 8h0m4-5h0m5 2h0m5 2h0m9-5h0m-12 14h0m0-4h0m-6 4h0m-8 3h0m-5-3h0m-5-4h0m-2 16h0m13-4h0m1 2h0m2 4h0m-21 4h0m-5-2h0m-13 14h0m1-1h0m24 2h0m-5 4h0m-6 8h0m-7-1h0m-9-3h0m-3-4h0m-11 15h0m17-6h0" stroke="#dca6ae" stroke-width="2.9"/>
<path d="M601 818h0m-3-2h0m-3 2h0m0 1h0m-7-2h0m-1 0h0m0 1h0m-1 1h0m-3 0h0m-4-3h0m-20 7h0m6 3h0m1-3h0m1 4h0m1 2h0m0-7h0m3 3h0m0 2h0m2-1h0m1 2h0m0-2h0m2 1h0m2-7h0m2 5h0m0 1h0m1-2h0m1 3h0m2-2h0m0-4h0m2 5h0m0-5h0m0 2h0m2 6h0m0-6h0m0 6h0m1-7h0m2-2h0m1 5h0m0-4h0m3 7h0m0-5h0m1-1h0m2-2h0m1 7h0m1 1h0m0-1h0m1-6h0m1 7h0m0-2h0m1 3h0m1-1h0m0-3h0m1 0h0m5 10h0m-1-3h0m-1 7h0m-1-3h0m0-3h0m0-1h0m-1-1h0m-2 0h0m0 3h0m-1 2h0m-4-6h0m-2 2h0m0-2h0m-2 1h0m0 6h0m-2 1h0m-2-7h0m-1 1h0m-1-2h0m-1 5h0m-1-3h0m-1 0h0m-1-1h0m0 0h0m-4 7h0m-1-4h0m0-3h0m-1-1h0m0 9h0m-2-6h0m0 5h0m0-5h0m0 3h0m-1-1h0m-1 0h0m-1-4h0m0 4h0m0 1h0m-3-6h0m-1 2h0m0 4h0m-1 2h0m-1-8h0m-1 0h0m-1 3h0m0 3h0m-2 1h0m0 2h0m-2-7h0m-1 6h0m0-4h0m-5 1h0m-1 3h0m-1-5h0m0-1h0m-3 2h0m-1 4h0m-1-6h0m0 3h0m-1 2h0m0-3h0m-4-2h0m0 5h0m0-2h0m-6 4h0m-2-2h0m-4 2h0m-14 10h0m6-4h0m2-4h0m1 8h0m1-2h0m2-3h0m1 0h0m1 5h0m0-6h0m0 5h0m3-8h0m2 0h0m0 7h0m0-7h0m1 0h0m1 7h0m6-5h0m2-2h0m0 7h0m1-6h0m0 2h0m0 6h0m0-2h0m1-2h0m0 3h0m1-4h0m0-2h0m0 7h0m3-9h0m4 0h0m3 7h0m1 2h0m4 0h0m1-7h0m4-1h0m2 6h0m0-7h0m1 2h0m0-1h0m7 4h0m3 2h0m8 0h0m1 0h0m0 2h0m1 0h0m0-4h0m1 3h0m1-8h0m0 1h0m1 3h0m0-3h0m2 8h0m2-3h0m0 0h0m2-6h0m1 5h0m0 3h0m3-8h0m1 5h0m0-4h0m-2 10h0m-2 6h0m0-6h0m0-1h0m-2 0h0m0 2h0m0 0h0m0 0h0m0-1h0m-1 3h0m0-1h0m0-1h0m-1 5h0m-2-3h0m-1 1h0m0-3h0m0 0h0m-1-2h0m0 6h0m-1 1h0m-3-5h0m0 2h0m-1 4h0m-1-4h0m-3-3h0m0 5h0m-2 0h0m-3-4h0m-3-1h0m-1 2h0m-1-2h0m0 4h0m-1 2h0m0-3h0m0-1h0m0 6h0m-2-9h0m0 7h0m0 0h0m-1-4h0m0 1h0m-1 5h0m-1-2h0m-2-5h0m0 5h0m-2 2h0m-3-3h0m0-6h0m-2 9h0m0-1h0m-3-1h0m-1-3h0m-2 5h0m-2-2h0m-5-7h0m0 4h0m-1 0h0m-5-1h0m0 5h0m-1-8h0m-1 4h0m-2-3h0m-1-1h0m-2 5h0m0-1h0m-2-4h0m-1 2h0m-3-2h0m-3 4h0m0-3h0m0 6h0m-1-2h0m0 4h0m-1-6h0m-1 4h0m0-2h0m-2-4h0m-1 1h0m0 0h0m0-2h0m-1 9h0m-1-6h0m0 2h0m-2 3h0m0-1h0m0 0h0m-2-1h0m-6 0h0m-12 13h0m0-4h0m0-1h0m2 2h0m2 1h0m1-4h0m0 6h0m2-5h0m0-3h0m2 1h0m0 7h0m2-2h0m2-1h0m0 2h0m0 0h0m1-2h0m0-4h0m1 5h0m0 1h0m3-5h0m2-3h0m0 5h0m0-2h0m1 0h0m0 0h0m1-3h0m2 9h0m4-6h0m2-3h0m2 3h0m0 0h0m5-1h0m9 7h0m1 0h0m3-3h0m0 3h0m3-1h0m2-3h0m0 3h0m0-5h0m0 2h0m2-1h0m1-2h0m0-2h0m1 8h0m1 1h0m2-5h0m1 2h0m2-5h0m1 0h0m0-1h0m1 4h0m2-4h0m1 8h0m1-2h0m1-1h0m0 0h0m1-4h0m1 0h0m2 7h0m1-2h0m1 2h0m1-5h0m0-1h0m0-2h0m1 8h0m3-1h0m0-3h0m0 0h0m1-4h0m0 5h0m2-3h0m1 4h0m1-5h0m0 7h0m1-7h0m1 1h0m0 7h0m0-5h0m2-2h0m1 2h0m0 2h0m3 1h0m0 1h0m1-4h0m0-1h0m1 6h0m2-8h0m1 4h0m1-5h0m0 4h0m1 3h0m-1 3h0m-1 6h0m-2 0h0m-1-3h0m-1 0h0m0 4h0m-2-5h0m-1 6h0m0-5h0m-1-3h0m-5 0h0m0 9h0m-3-9h0m-1 8h0m-1-5h0m-2 1h0m-3 2h0m-1-1h0m0 0h0m-2-1h0m0 0h0m0-4h0m-1 0h0m0 0h0m-1 1h0m0 0h0m-1 3h0m-2-4h0m0 3h0m0-3h0m-1 7h0m0-2h0m-1-3h0m0 1h0m-1 1h0m-1-1h0m-1-2h0m-1 0h0m-1 1h0m0-1h0m-2 2h0m-2-3h0m-1 4h0m0-2h0m-1 7h0m0-7h0m0 3h0m0-1h0m-1-4h0m-3 4h0m-1 1h0m0-4h0m-3 4h0m0-3h0m0 3h0m0 0h0m0 0h0m-2-2h0m-1 0h0m0 0h0m-1 0h0m-3 4h0m0-3h0m-1-4h0m0 4h0m-2-1h0m-1-2h0m-1 4h0m-2 4h0m-1-7h0m-1 4h0m-10 2h0m-3-5h0m-2-3h0m0 8h0m-5-3h0m-5-1h0m-3-2h0m-1-1h0m-1 3h0m-1 2h0m-1-5h0m-1 7h0m0 1h0m-1-2h0m-1-3h0m-1 1h0m0 3h0m-1-1h0m-1-4h0m-1 0h0m0 6h0m-1-2h0m-1-4h0m-4 0h0m-1 2h0m-3 2h0m-8 11h0m4-2h0m4 2h0m0 1h0m0-7h0m1-2h0m0 0h0m4 2h0m0 7h0m0 0h0m2-2h0m1-1h0m0 1h0m1-5h0m1 0h0m0-2h0m1 4h0m7 3h0m8-5h0m1 4h0m0 3h0m1-8h0m1 7h0m1-5h0m1 2h0m0 3h0m3-7h0m0 4h0m0-1h0m2 1h0m0-2h0m3 3h0m2-4h0m0 0h0m0 2h0m1-2h0m1 2h0m0-3h0m1 5h0m10-6h0m0 4h0m1-3h0m0-1h0m12 1h0m10-1h0m10 0h0m6 0h0m5 1h0m1 5h0m5 0h0m0-3h0m1 6h0m0-6h0m0 0h0m1-2h0m0 8h0m1-1h0m0-3h0m2-4h0m2 6h0m1 4h0m-1 0h0m-2 4h0m-2-5h0m-2 0h0m-2 0h0m-83 1h0m-4 2h0m-5-3h0m-1 1h0m-6-1h0m-2 8h0m-2 1h0m-1-5h0m-1-1h0m-1-2h0m-4 6h0m-1 0h0m-1-7h0m-3 6h0m-1-3h0m-1 5h0m-1-6h0m0 3h0m-7 4h0m-2 0h0m-4 8h0m4-1h0m2-3h0m1 3h0m0 3h0m4-6h0m1 2h0m1 1h0m1 3h0m0-8h0m1 3h0m1 3h0m0-5h0m1 3h0m2-4h0m0 0h0m1 0h0m1 2h0m2-1h0m0-1h0m0 0h0m0 5h0m-4 4h0m-1 1h0m-3 2h0m0-1h0m0-1h0m-3-1h0m-1 3h0m-1 4h0m0-5h0m0-2h0m-1 9h0m-1-8h0m-1 3h0m0-1h0m-1 6h0m-1-2h0m-2 2h0m-1-7h0m0 2h0m-1 2h0m0 3h0m0 0h0m0-4h0m-2-3h0m0 5h0m0-1h0m-1 3h0m0-8h0m-6 4h0m-2 1h0m-1 3h0m-6 10h0m0 0h0m1 0h0m2 0h0m2-2h0m0-3h0m1-2h0m0 6h0m3-2h0m1-1h0m1-3h0m0 0h0m0 1h0m1 3h0m4-3h0m1-1h0m-11 13h0m-6-5h0m-1 0h0m0 6h0m0-2h0m-1 2h0m0 2h0m-1-5h0m-6 4h0" stroke="#c17a98" stroke-width="2.9"/>
<path d="M730 615h0m-11 13h0m8-5h0m7 3h0m2-2h0m0 3h0m11 1h0m12 0h0m9 9h0m-3-1h0m0 1h0m-8-1h0m-6 2h0m-1-6h0m-3 5h0m-1 1h0m0 1h0m-1-4h0m-7-1h0m-17 4h0m-1 0h0m0 0h0m-4-3h0m-16 8h0m1 6h0m12-4h0m3-2h0m1 3h0m2-6h0m2 8h0m0 0h0m1-2h0m4 2h0m2 1h0m0-7h0m0 0h0m1-2h0m1 7h0m5-4h0m1 6h0m1-7h0m2 2h0m0 0h0m1 3h0m1-1h0m2-1h0m1-2h0m3 2h0m6 0h0m0 1h0m3-2h0m2 1h0m10-5h0m0 6h0m0 7h0m-12 0h0m-3 3h0m-1-5h0m-2 8h0m-3-5h0m-1 4h0m-1-8h0m-1 6h0m-1-1h0m0-5h0m-1 8h0m-6-4h0m-1-3h0m-5 4h0m0-1h0m-2 2h0m-2-5h0m-1 3h0m-7 0h0m-2 5h0m-1-1h0m-2-8h0m-4 4h0m0 0h0m-9 3h0m-6-4h0m-3 10h0m2 2h0m6 0h0m1-1h0m0-1h0m3 6h0m1-3h0m0-1h0m3-3h0m2 1h0m0 6h0m4-9h0m4 4h0m3 4h0m2-2h0m0 0h0m2-2h0m6-1h0m2 4h0m1 0h0m1-4h0m3 6h0m2-3h0m0 3h0m2-4h0m1 3h0m2 1h0m0-7h0m1 7h0m1-9h0m0 5h0m5-2h0m0-1h0m2 4h0m3 2h0m6 0h0m-2 10h0m-3-2h0m-3-4h0m-2 1h0m-1-3h0m-6 5h0m-1-1h0m-4 2h0m-1-6h0m-1 6h0m-2-5h0m-2 4h0m-1 4h0m-1-4h0m0 3h0m-5-7h0m-3 6h0m-2 0h0m-2-4h0m-5 1h0m-1 0h0m-1 2h0m0 1h0m-1-1h0m-4-5h0m-3 6h0m-1-2h0m-2-4h0m0 3h0m-9-2h0m0 5h0m-6-4h0m-10 11h0m3 3h0m2-1h0m2-2h0m4 1h0m4-5h0m0 2h0m2 7h0m0-8h0m3 6h0m1-3h0m4-3h0m0 4h0m1 0h0m2-3h0m5 6h0m1 0h0m4-8h0m1 6h0m1 0h0m1 0h0m2 0h0m2-2h0m0 3h0m3 0h0m2-4h0m0-3h0m2 7h0m1 1h0m1-4h0m1-2h0m4 3h0m1-2h0m1 4h0m1-2h0m0-2h0m4 6h0m1-4h0m2 2h0m8-4h0m3 2h0m1 5h0m-4 8h0m-1-7h0m-1 5h0m-2-5h0m0 3h0m-1-2h0m-1 1h0m0 3h0m-3-3h0m-4 1h0m-7-2h0m0 5h0m-9-3h0m-2-2h0m0 1h0m-1 5h0m0 0h0m-2 1h0m-1-1h0m-1-5h0m-5 5h0m-11-7h0m0 7h0m-8-5h0m-1 0h0m-1 1h0m0 4h0m0-6h0m-1-1h0m0 8h0m-1-3h0m-1 1h0m-1-4h0m-1-2h0m-2 6h0m-1-1h0m-1-4h0m-3 1h0m-2 6h0m-1-3h0m-8 7h0m0 4h0m7-3h0m7-1h0m1-3h0m3 2h0m1 1h0m0 3h0m5-4h0m1 5h0m2 0h0m6 0h0m1 2h0m0-9h0m1 6h0m0 2h0m0-4h0m2-3h0m0 0h0m0 2h0m2 6h0m4-4h0m10 1h0m0 0h0m4 0h0m1 3h0m1-7h0m0 2h0m9 4h0m0-4h0m3-4h0m0 7h0m3-6h0m0 1h0m2 3h0m2-1h0m-1 8h0m-6 7h0m-4-5h0m-5 1h0m-4-3h0m-1 4h0m-2-1h0m-9 3h0m-1-5h0m-2 1h0m0 5h0m-1-5h0m-2-1h0m-8 3h0m-2-3h0m-2 0h0m-1 1h0m-2 1h0m-1-2h0m-1-3h0m0 4h0m-1 2h0m0-3h0m-2 1h0m0 1h0m-1 4h0m-2 0h0m-1-4h0m-7 0h0m-6 1h0m-4-5h0m-1 4h0m-4 1h0m0 11h0m17-3h0m6-2h0m0 1h0m1 4h0m7-1h0m5 1h0m4-7h0m0 7h0m7-6h0m2 4h0m9-5h0m0 5h0m2-1h0m1-3h0m0-1h0m3 3h0m1 3h0m0-4h0m0 6h0m4-2h0m1 3h0m1-5h0m3 2h0m1-2h0m2 4h0m0-4h0m14-4h0m-12 10h0m-10 1h0m-1 4h0m-2-2h0m-1 3h0m-5-5h0m0 1h0m-4 6h0m-3-3h0m-7-1h0m-2-3h0m-3 5h0m-2-3h0m-2 1h0m-1 2h0m-1-1h0m0-1h0m-8 0h0m-4 1h0m-3 3h0m-1-1h0m-2-7h0m0 9h0m-3-6h0m-2 2h0m-1-2h0m-6 6h0m-2-5h0m0-4h0m-2 2h0m-1 7h0m-3-1h0m-5-8h0m-1 19h0m11 0h0m5-5h0m1 1h0m0-3h0m1-1h0m1-1h0m3 7h0m3 2h0m1-9h0m0 2h0m2 3h0m1-1h0m0-2h0m2 7h0m2-3h0m5 0h0m4 3h0m2-3h0m3 2h0m1-4h0m2 5h0m0-2h0m2 1h0m7-6h0m0 6h0m3-3h0m0 3h0m1-7h0m4 8h0m2-4h0m0-3h0m1 4h0m3 1h0m0-5h0m3 6h0m8-8h0m-9 11h0m0 3h0m-5 3h0m-1-3h0m-1 0h0m0-2h0m-1 3h0m-1 0h0m0-3h0m0-1h0m-5 6h0m0-1h0m-2-3h0m-6-1h0m-2 6h0m-1-7h0m-2 7h0m0-5h0m-3 6h0m-3-4h0m-1 2h0m-5 2h0m-3-4h0m-2-5h0m-2 2h0m-6 4h0m-3-1h0m-1-4h0m0 2h0m-3 2h0m-1 2h0m-7 2h0m-1-8h0m-2 5h0m-3-2h0m-1 4h0m-1-3h0m-3-4h0m-8 12h0m4 6h0m2-5h0m1 5h0m1-5h0m3-1h0m3 1h0m2 1h0m1 4h0m0-3h0m3 2h0m1 0h0m1-3h0m2 2h0m0-1h0m1 0h0m4-4h0m5 0h0m3 4h0m3-1h0m0-3h0m5 0h0m0 4h0m1-1h0m0 3h0m3-8h0m1 1h0m4 7h0m8-6h0m5 0h0m2 13h0m-12-5h0m-4 9h0m-1-1h0m-3-3h0m0-2h0m-5 4h0m-1-2h0m-2-1h0m0-3h0m-2 6h0m-8-2h0m-1-5h0m0 1h0m-1 7h0m-5-8h0m-4 8h0m-7-5h0m-1 3h0m-4 3h0m0-5h0m0 0h0m-1-4h0m-6 6h0m-3 0h0m-7 5h0m3 2h0m3 5h0m5-3h0m12 4h0m8-3h0m5-3h0m1 4h0m13-2h0m1 0h0m9 0h0m1-4h0m-7 14h0m-3-2h0m-1 1h0m-3 5h0m0-7h0m-1 4h0m-2-4h0m-5 1h0m-1-3h0m-1 8h0m0 1h0m-4-6h0m-1-2h0m0 8h0m-8-6h0m-1 4h0m-1 2h0m-1 0h0m-3-9h0m-2 9h0m-1-4h0m-3-1h0m0 2h0m-3-4h0m-1 2h0m-1 5h0m0-5h0m-1-3h0m-11 2h0m-6 16h0m3-3h0m6 3h0m2-5h0m10 3h0m0 0h0m1-1h0m3 0h0m3-3h0m3 3h0m10 3h0m2-2h0m1-5h0m1 6h0m1 0h0m3-2h0m-6 11h0m0 1h0m-1-7h0m-3-1h0m-4 1h0m-3 4h0m-2-2h0m-1 2h0m0 2h0m-1-7h0m-2 6h0m-1 2h0m0 1h0m-7-6h0m0 1h0m-1 1h0m-6 4h0m-2-7h0m-2 4h0m-10 3h0m-3 6h0m3-5h0m2 7h0m2-4h0m1-2h0m6 5h0m0-5h0m3 4h0m6-1h0m1 5h0m0-4h0m2 1h0m1 0h0m3-2h0m1-4h0m0 5h0m4 1h0m3 3h0m-6 2h0m-18-1h0m-1 4h0m-3-4h0m-1 1h0m-1-1h0" stroke="#c17a98" stroke-width="2.9"/>
<path d="M798 569h0m21-3h0m1-2h0m10 5h0m5-3h0m11 3h0m4 0h0m8 5h0m-1-2h0m0 7h0m-3-7h0m-1 1h0m-1-2h0m-2 2h0m-1 0h0m-2 2h0m-2-1h0m-7-1h0m-4 2h0m-1-4h0m-2 1h0m-2 2h0m-10-1h0m0-2h0m-1 2h0m-1 5h0m0-6h0m-6-2h0m0 5h0m-4 4h0m-1 0h0m-12-2h0m-6-4h0m-1 5h0m-8-1h0m-1-2h0m0 2h0m-3 2h0m-15 9h0m2-6h0m1 0h0m1 3h0m3 2h0m4 1h0m0-6h0m1 2h0m6 0h0m5-3h0m2 4h0m0 1h0m6-2h0m2 1h0m2-4h0m2 1h0m1 7h0m4-9h0m1 9h0m1-4h0m3 2h0m2-5h0m0 6h0m1-2h0m4 0h0m1-6h0m8 8h0m5-3h0m1 2h0m4-1h0m0-5h0m1 6h0m3-2h0m7 2h0m3 0h0m3 1h0m1 1h0m4-9h0m0 8h0m4 1h0m6-9h0m1 8h0m19 8h0m-11-6h0m-19 2h0m-1 2h0m-2 4h0m-3-4h0m-2 4h0m-3 0h0m-3-6h0m-1 1h0m-2 5h0m-9-5h0m0 2h0m-2-1h0m-3 5h0m-4-6h0m-1 2h0m-1 1h0m-1-1h0m-3 0h0m-1-1h0m-4-3h0m0 8h0m-8 0h0m-1-3h0m-1 0h0m-2-4h0m-3 6h0m-1-7h0m-4 6h0m-4-1h0m-2 2h0m-1-5h0m-2 5h0m0-7h0m-1 7h0m-1 0h0m0-6h0m-2 1h0m-1 0h0m-1 0h0m-1 6h0m-10-6h0m0 4h0m-2-2h0m0-5h0m-4 0h0m-1 2h0m-3-2h0m0 0h0m-9 2h0m-2 1h0m-4 4h0m-10 8h0m4 1h0m6 3h0m5-9h0m0 8h0m2-3h0m5 2h0m2 2h0m4-4h0m1-2h0m0-1h0m6 2h0m2 0h0m1-2h0m0 3h0m3-3h0m0-1h0m2 4h0m0-4h0m3 1h0m2 2h0m0 3h0m4 1h0m1-6h0m1-1h0m1 3h0m4 4h0m1-2h0m2-5h0m3 7h0m7-3h0m4 0h0m1-1h0m0 1h0m2 3h0m0-4h0m2 5h0m2-5h0m2 2h0m4-6h0m2 4h0m1 2h0m2 1h0m1-3h0m1 0h0m1-1h0m0 0h0m3-3h0m10 0h0m0 8h0m2-5h0m2-2h0m0 8h0m1-7h0m1 7h0m1-9h0m2 2h0m3 5h0m1-6h0m1 8h0m1-7h0m1 7h0m2-1h0m2-6h0m1 5h0m1-6h0m8 4h0m3 4h0m1-3h0m1-6h0m3 3h0m11 2h0m4 1h0m7 7h0m-4 1h0m-3 3h0m-4-5h0m-2 6h0m-1-7h0m-2 2h0m0 5h0m0-7h0m-7 8h0m-1-2h0m-3 0h0m-2 0h0m-2-7h0m-4 8h0m-5-4h0m-11 0h0m-3-2h0m-1 6h0m0-3h0m-1-1h0m-2 3h0m-6-5h0m0-2h0m-4 5h0m-1 1h0m-7 2h0m-1-6h0m-4 5h0m-1-6h0m-1 5h0m-1-6h0m-1 5h0m-3 3h0m0-7h0m-6-1h0m0 2h0m-3 5h0m0-3h0m-2-3h0m-4 8h0m-2-2h0m-2-2h0m-1-2h0m-1 3h0m-3-6h0m0 2h0m0 1h0m-2 0h0m-1-2h0m-5 0h0m-6 8h0m-4-9h0m-1 5h0m-4 1h0m-3 1h0m0-2h0m-2-4h0m-4 5h0m-9-5h0m0 4h0m-2 2h0m-2-4h0m-1-2h0m-2 4h0m-1 2h0m-2-5h0m-1 4h0m-12-1h0m20 6h0m8-1h0m1 3h0m1 0h0m2 0h0m9-3h0m1 4h0m1 4h0m10 1h0m3-9h0m0 0h0m3 9h0m2-1h0m3 1h0m4-3h0m1 0h0m0-3h0m0-1h0m4-1h0m1 2h0m6 0h0m3 3h0m0-2h0m1 5h0m4-8h0m1 6h0m2 1h0m0-3h0m1 3h0m1-6h0m1 2h0m2 5h0m1-3h0m3-4h0m0 5h0m0-1h0m2 1h0m2 1h0m2-2h0m3 2h0m13 1h0m5-5h0m1-1h0m2-3h0m1 4h0m2-2h0m6 3h0m1 3h0m4-3h0m8 4h0m3-2h0m0 2h0m2-9h0m3 4h0m1-2h0m0-2h0m5 6h0m3-1h0m-23 12h0m0 0h0m-3 1h0m0-1h0m-2-3h0m-6 0h0m-1 2h0m-1-3h0m-1 2h0m-2 3h0m-3-6h0m-1 1h0m-1 6h0m0-2h0m-1-3h0m-2 3h0m-2 2h0m-3-1h0m0-1h0m-6-3h0m-7 3h0m-1-5h0m-1-1h0m-1 1h0m-2 5h0m0-5h0m-1 2h0m-7 2h0m-2 1h0m-3-1h0m-21-5h0m-5 1h0m37 10h0m24 1h0m7-1h0" stroke="#c17a98" stroke-width="2.9"/>
<path d="M726 559h0m-5-1h0m-2 0h0m-8-4h0m-1 3h0m0-6h0m-1 0h0m-2 13h0m1-2h0m1-1h0m1 3h0m1 3h0m1-7h0m2 6h0m1-5h0m0 6h0m1-6h0m0 0h0m1 4h0m1-1h0m1 4h0m0-1h0m0 0h0m1-5h0m4 4h0m0-3h0m0 0h0m3 0h0m1 3h0m3 2h0m0-6h0m0 5h0m2 0h0m0 1h0m1-8h0m3 3h0m0 6h0m1-7h0m0 7h0m0-7h0m2 2h0m4 4h0m0 1h0m1 4h0m0 1h0m0-4h0m-2 5h0m0-5h0m-1 6h0m-1-5h0m-1 8h0m0-1h0m-1 1h0m-1-5h0m0 4h0m-1-8h0m-1 5h0m0-2h0m-1 5h0m-1-7h0m0 7h0m-2-4h0m-1-2h0m-1-1h0m-1 7h0m-2-4h0m-2 4h0m0 0h0m0-2h0m-2 3h0m0-3h0m-6-3h0m0 4h0m0-6h0m-1 3h0m-2 5h0m-2-7h0m0-2h0m-1 5h0m-2-1h0m0-4h0m3 12h0m0 2h0m2 3h0m2-7h0m1 1h0m0 0h0m0 3h0m2-3h0m0 5h0m0 1h0m1-7h0m1 5h0m0 0h0m3-3h0m0 5h0m4-5h0m1 3h0m0-1h0m1 2h0m0-1h0m1-5h0m0 4h0m1 5h0m2-6h0m1 3h0m1-3h0m0 4h0m1-5h0m1 0h0m1-1h0m2 0h0m-12 9h0m0 4h0m-1 1h0m-2-5h0m-2 2h0m-3 1h0" stroke="#dca6ae" stroke-width="2.9"/>
<path d="M771 476h0m-2 2h0m0-7h0m-3 7h0m0 4h0m1-2h0m0 4h0m6 3h0m5-1h0m1 0h0m1-5h0m0 8h0m1-6h0m1 3h0m3 6h0m-1 3h0m0 2h0m0 1h0m-5-3h0m0-1h0m-1 4h0m-2-6h0m0 1h0m-1 6h0m-4-2h0m-1-1h0m-1-6h0m-2 1h0m0 2h0m-2 15h0m2-1h0m0 1h0m2-2h0m0 2h0m3-2h0m4 0h0m2-6h0m0 8h0m3-4h0m2 3h0m2 2h0m1-2h0m-1 9h0m-3-5h0m-2 4h0m-1-5h0m-1 5h0m-12 4h0m-1-1h0m10 9h0m1 1h0m0-2h0m10 3h0m4-2h0m1 2h0m0 0h0m1-9h0m4 11h0m-2 1h0m-5 5h0m0-6h0m-6 6h0m0-7h0m-3 8h0m-3-1h0m0 1h0m-2-5h0m-2 3h0m-1-6h0m-2 6h0m0 2h0m-2-4h0m0 4h0m-1-4h0m-1-1h0m0 3h0m-1-6h0m6 12h0m3 7h0m6-8h0m2 7h0m3-4h0m0-1h0m2 1h0m0 1h0m1-5h0" stroke="#c17a98" stroke-width="2.9"/>
<path d="M743 545h0m3-4h0m2 2h0m1 6h0m3-3h0m0-1h0m6-4h0m7 7h0m1-6h0m14 3h0m2 4h0m0-3h0m5 0h0m2 0h0m1-1h0m11-3h0m2 6h0m2 9h0m-27-6h0m0 8h0m-1-3h0m-6 3h0m-7-7h0m-6-1h0m-9 0h0m0 1h0m4 13h0m3 1h0m3-5h0m1 6h0m1-2h0m9 1h0m11-3h0m6 6h0m12-9h0m11 2h0m2 6h0m4-7h0m-39 10h0m-8 6h0m-3 2h0m-11 0h0m0-6h0m-5-2h0m2 9h0m4 1h0" stroke="#dca6ae" stroke-width="2.9"/>
<path d="M845 638h0m-79 10h0m11-3h0m7 3h0m7-2h0m5 0h0m2 0h0m2-6h0m7 5h0m0 1h0m9-2h0m2-3h0m0 0h0m3 4h0m1 2h0m5-6h0m13 2h0m2 3h0m1 3h0m2-5h0m7 2h0m1-3h0m0 5h0m7 0h0m8-7h0m2 6h0m0 0h0m1-1h0m0 3h0m-3 1h0m-1 1h0m0-1h0m-9 2h0m-10 3h0m-1 2h0m-2-1h0m-9 3h0m-44-9h0m-17 2h0m-8 5h0m-2-5h0m-5 1h0m0 5h0m0 1h0m-4-3h0m-6 9h0m2 0h0m2 1h0m1 1h0m1 0h0m2-5h0m0 3h0m4-1h0m0-1h0m49 5h0m11-3h0m3 2h0m5-3h0m0-1h0m5-1h0m1 0h0m3-1h0m0 0h0m2 1h0m-18 12h0m-1-2h0m-1-1h0m-2 5h0m0-5h0m-4 3h0m-3-3h0m-8 8h0m-49-4h0m-1-3h0m-3-2h0m-5 13h0m56-1h0m-13 14h0m-1-6h0m-3 1h0m-1 5h0m-5-2h0m-2 5h0m-2-1h0m-31-4h0m-7 12h0m1 2h0m2-5h0m29 6h0m3-2h0m7-5h0m-11 12h0m-1-4h0m-1 0h0m-3 1h0m-2 4h0m0-1h0m0 5h0m-1-5h0m-25-4h0m-4 5h0m1 6h0m19 8h0m1 0h0m-1 10h0m-1-9h0m-4 3h0m-3 3h0m-13 3h0m0-2h0m-9-4h0m5 12h0m10 1h0m1 3h0m7-5h0m3 3h0m4-3h0m-11 12h0m-2 1h0m-6-4h0m-11-3h0m-5 1h0m-10 7h0m0 1h0m-13 6h0m3-3h0m3 5h0m1 0h0m1-5h0m5-1h0m1 1h0m2-1h0m1-1h0m5 9h0m5-2h0m1-7h0m3 3h0m0 3h0m1-6h0m4 3h0m-7 8h0m-7 4h0m-1 1h0m-5 0h0m-4 0h0m-22-4h0m-1 5h0m-4 0h0m-2 0h0m-9 9h0m0 2h0m0-2h0m1-4h0m31 3h0m11-3h0m-7 12h0m-3-3h0m-2 4h0m-3 1h0m-1 0h0m-2 3h0m-20-7h0m-3 0h0m-2-1h0m-4 7h0m-3-1h0m-1 0h0m-3 0h0m-2 10h0m0 0h0m0 2h0m2-6h0m3-1h0m29-1h0m2 5h0m3-4h0m-4 15h0m-3-7h0m-3 9h0m-1 0h0m-47 6h0m36 2h0m6-7h0m2 9h0m1-4h0m-6 8h0m-8 5h0m-26-7h0m-4 4h0m-6 3h0m-1-3h0m-7 9h0m0 0h0m3 4h0m6-7h0m1 2h0m2-3h0m29 9h0m1-3h0m0 2h0m2-1h0m1 4h0m-8-1h0m-1 2h0m-2 1h0m0 4h0m-3 1h0m0-3h0m-9 3h0m-21-3h0m0 7h0m9-2h0m2 2h0m2-1h0m0 0h0m0 0h0m10 2h0m5 1h0m3-3h0" stroke="#c17a98" stroke-width="2.9"/>
<path d="M623 854h0m-2 2h0m2 9h0m1 14h0m-15 2h0m19 0h0m-12 21h0m-3 12h0" stroke="#dca6ae" stroke-width="2.9"/>
<path d="M835 558h0m-45 9h0m7 1h0m5-2h0m8 3h0m7-5h0m26 4h0m26 6h0m-5 3h0m-9-6h0m-3 0h0m-59 0h0m-9 1h0m-6 3h0m-5 2h0m-9 4h0m109 4h0m9 4h0m-142 6h0m-4 1h0m-11 3h0m2 4h0m7-2h0m159 12h0m-153 10h0m5 0h0m4 2h0m10 4h0m128-8h0m-12 15h0m-7-2h0m-56-1h0m-6 3h0m-8 0h0m-6-5h0m-5 3h0m39 9h0m4-1h0m1-1h0m26 4h0m4-2h0" stroke="#dca6ae" stroke-width="2.9"/>
<path d="M795 539h0m-20-1h0m-17 7h0m2 1h0m2 3h0m13-2h0m3-4h0m13 3h0m0-1h0m2 2h0m2-1h0m1-5h0m7 4h0m-1 14h0m-3-5h0m-4 4h0m-1-1h0m-11 2h0m-3-8h0m-6-1h0m-3 3h0m-16-2h0m-1 8h0m-1-2h0m-9 2h0m3 3h0m15 3h0m15-5h0m6 7h0m2-7h0m1 9h0m4-7h0m5 3h0m9 2h0m4-6h0m9 6h0m-17 4h0m-13 3h0m0-2h0m-12 0h0m-7 7h0m-2-7h0m-3 7h0m-3-5h0m-1 2h0m-5 3h0" stroke="#c17a98" stroke-width="2.9"/>
<path d="M629 839h0m-3-1h0m-2 3h0m9-1h0m5 3h0m0-1h0m4-1h0m1 4h0m5 4h0m4 9h0m-1-1h0m-1-2h0m-48 14h0m0-5h0m1-4h0m4 1h0m1 1h0m38 0h0m1 2h0m0 1h0m1-2h0m1 1h0m-4 9h0m-1 1h0m-47 2h0m-4 1h0m-2 12h0m0-5h0m50 4h0m3-7h0m-5 13h0m-1 4h0m-2-5h0m-42 3h0m-2 1h0m-1-6h0m3 17h0m5 9h0m-3-2h0m-3 1h0m6 8h0m5 1h0m19 2h0m3-7h0m5 3h0m-15 14h0m-10-1h0m-2-5h0m-2 0h0" stroke="#dca6ae" stroke-width="2.9"/>
<path d="M631 838h0m-1 0h0m-1 1h0m-1-1h0m-15 11h0m2-6h0m1 2h0m2-1h0m1 1h0m3-2h0m2-2h0m3-1h0m13 5h0m0-3h0m1 2h0m8 4h0m2 10h0m0 0h0m0 0h0m0-5h0m-1-2h0m0 3h0m-1 2h0m-39-4h0m0 1h0m-10 12h0m1 4h0m1-1h0m42-2h0m2-6h0m2 5h0m0-5h0m-3 10h0m-2 4h0m0 0h0m0 2h0m-42-3h0m-1 0h0m-2-1h0m-1 5h0m-1-2h0m0-2h0m-2 6h0m-2 0h0m-2 10h0m0-1h0m1-3h0m3 2h0m1-5h0m1-1h0m43 8h0m0-9h0m2 1h0m0-1h0m0 1h0m1 5h0m0-1h0m1-5h0m1 0h0m0 1h0m-4 11h0m-2 5h0m0-3h0m-46-2h0m0 0h0m-1 6h0m-1 1h0m-1-9h0m0 11h0m1 5h0m2-2h0m2 4h0m0-2h0m3 1h0m35-7h0m0 7h0m0 2h0m0-7h0m1 3h0m1-4h0m2-1h0m-3 10h0m-2 4h0m-1-2h0m0 0h0m-1 3h0m-3-4h0m-26 6h0m0 0h0m-1 0h0m-1-3h0m-1 4h0m0-1h0m-2-1h0m-2-4h0m4 10h0m4-2h0m1 3h0m1-1h0m1 3h0m1 3h0m17 0h0m3-2h0m2 0h0m3-2h0m-13 15h0m0-4h0m0 1h0m-1 1h0m0-1h0m-3 2h0m-2-2h0m0-1h0m-2 2h0m-6-4h0" stroke="#c17a98" stroke-width="2.9"/>
<path d="M614 848h0m6-5h0m12 10h0m-7-3h0m0 2h0m-3 6h0m-2 0h0m-4-1h0m-3 3h0m9 8h0m1-8h0m0 7h0m8-1h0m1 1h0m3 6h0m-4-1h0m0 4h0m-13-5h0m-8 2h0m-4-2h0m-1 12h0m18 0h0m1-3h0m10 9h0m1-1h0m-15 8h0m-5 2h0m-4-6h0m-1-2h0m4 12h0m2 5h0m1-2h0m3 0h0m4-1h0m-8 10h0m-1 0h0m-3-2h0m-10 1h0m9 13h0m1-5h0m0 6h0m1-4h0m0-1h0m2 6h0m2 0h0m4-2h0m-3 6h0m-4 3h0" stroke="#c17a98" stroke-width="2.9"/>
<path d="M653 737h0m-1 0h0m-4-2h0m-16 11h0m9-2h0m2 10h0m-7 1h0m-3-2h0m-1 5h0m0-1h0m1 3h0m2 1h0m13 6h0m-24 5h0m-2 3h0m-2 3h0m-5 10h0m3-2h0m5-3h0m1 3h0m4-5h0m2 1h0m5-1h0m-7 15h0m-1-6h0m-1 3h0m-1-1h0m0 5h0m-3-5h0m-1 7h0m-7-3h0m-3 0h0m-2-3h0m-3-3h0m-7 9h0m-7-5h0m-6 15h0m9-6h0m1 1h0m3 0h0m3 3h0m4-7h0m0 2h0m0 7h0m1-8h0m0 7h0m8-4h0m4 3h0m1-2h0m2-3h0m-2 12h0m-2-2h0m-1 1h0m-1-1h0m0-2h0m-5 1h0m-9-1h0m-1 6h0m-10-2h0m-14 5h0m3 10h0m12-9h0m3 9h0m6-7h0m15 11h0m-8 0h0m-2-2h0m-8 0h0m-4 2h0m-5-3h0m-16 5h0m17 6h0" stroke="#c17a98" stroke-width="2.9"/>
<path d="M843 568h0m5 2h0m-1 8h0m-20-8h0m-10 6h0m-1-3h0m-33 2h0m-1-1h0m-12 11h0m9-1h0m0 5h0m2-9h0m0 1h0m2 7h0m67 0h0m8-3h0m10 4h0m14 4h0m-12 2h0m-14 4h0m-4-2h0m-3 0h0m-4 2h0m-1 0h0m-2-8h0m-3 1h0m-1 7h0m-11 0h0m-8-7h0m-8-2h0m-2 7h0m-3-4h0m-4 6h0m-25-9h0m-13 4h0m-3 3h0m-1 1h0m-2 0h0m-9-7h0m-19 14h0m9 1h0m13-1h0m0 2h0m14-1h0m10 1h0m4 0h0m16-7h0m9 3h0m16 0h0m3-2h0m4 5h0m1-3h0m15-3h0m6 1h0m34-1h0m1 0h0m-2 18h0m-7-4h0m-1 0h0m-26-3h0m-4 5h0m-9-2h0m-25 0h0m-31-3h0m-11 0h0m0 2h0m-7-3h0m-1 6h0m0 3h0m-6-2h0m-14-6h0m-3 6h0m-2 2h0m-3-6h0m-7-3h0m30 19h0m9-4h0m9 2h0m10 1h0m11-6h0m11 0h0m4-1h0m10 7h0m8-7h0m11 4h0m6 4h0m6-1h0m14 0h0m12-4h0m3 2h0m-30 13h0m-7-7h0m-4 1h0m-9-3h0m-3 9h0m-1-6h0m-27 3h0m59 8h0" stroke="#dca6ae" stroke-width="2.9"/>
<path d="M700 604h0m12 0h0m2 2h0m3 2h0m13 10h0m-2-3h0m-1 0h0m-5-3h0m-4 7h0m-1-2h0m0-6h0m-1 5h0m0-3h0m0 3h0m-5-2h0m-4 3h0m-5-6h0m-1 3h0m-3 13h0m1-2h0m2 1h0m12-6h0m1 1h0m1 3h0m0-4h0m2 1h0m4 1h0m0 5h0m0-4h0m2 3h0m0 0h0m2 1h0m2-1h0m-8 7h0m-3 1h0m-1 3h0m-1-7h0m0 7h0m-1-5h0m-1 0h0m0 0h0m-2-1h0m-3 5h0m-1-5h0m-1-1h0m0 6h0m-3-6h0m0 0h0m-2 3h0m-4 3h0m-6 0h0m-4-4h0m-1 4h0m-2 3h0m-9 5h0m3 5h0m9-9h0m0 6h0m1-5h0m4 3h0m1 5h0m0 0h0m4-6h0m0 6h0m3-2h0m2-4h0m0 0h0m3 2h0m4-5h0m1 5h0m9 10h0m-8-3h0m-14 1h0m-3 2h0m-1 0h0m0-4h0m-1-1h0m-2 5h0m-2-5h0m-1 5h0m0-1h0m-3-2h0m-1 6h0m-2-2h0m-2 1h0m-2 0h0m-1 0h0m-4 6h0m3 5h0m1 1h0m1-1h0m2-5h0m0 3h0m6-4h0m2 7h0m0-2h0m0-5h0m2 2h0m0 0h0m1-3h0m3 6h0m3 1h0m-1 3h0m-2 2h0m-2 5h0m-5-2h0m0-1h0m-2-3h0m-2 3h0m-1-4h0m-1 5h0m-1-3h0m-1 4h0m0-4h0m-1-3h0m-1 7h0m-2-3h0m0-4h0m-2 8h0m0-6h0m-1-2h0m-6 2h0m-5 2h0m-4 15h0m3-2h0m1 1h0m2-1h0m0-3h0m4-4h0m3 8h0m1-8h0m0 1h0m1 2h0m0 0h0m3-3h0m4 4h0m0 3h0m0-4h0m1 3h0m7 0h0m7-5h0m-6 11h0m-9 2h0m-3-4h0m0 6h0m0 0h0m-2-2h0m0 2h0m-2-3h0m-1 5h0m0-3h0m0 4h0m-1-7h0m-1 0h0m-1 1h0m0-3h0m-1 9h0m0-3h0m-2-3h0m-3 3h0m0 0h0m-8 10h0m5-3h0m2-2h0m0 8h0m1-2h0m0-4h0m2 0h0m2-3h0m0 0h0m4 2h0m6 2h0m-8 15h0m-1-2h0m-5-5h0m0 4h0m-2-1h0m-3 1h0m0 1h0m-1-1h0m-1 0h0m-1 1h0m-1-7h0m-4 0h0m-6 18h0m5-3h0m3-2h0m1 2h0m1-1h0m0 1h0m1-2h0m1 3h0m5-5h0m3 1h0m-8 9h0m0 0h0m0 1h0m0 4h0m-1-4h0m0 6h0m-1-7h0m0 7h0m-2-6h0m-1-2h0m-3 8h0m-2-3h0m-1 0h0m0 3h0m-1-7h0m0 8h0m-3 0h0m-6 3h0m4-1h0m2 5h0m0-3h0m1-3h0m2 2h0m1-2h0m1 5h0m0 0h0m1 3h0m2 0h0m0-7h0m3 3h0m2-4h0m-6 10h0m-1 6h0m-3-4h0m-1-2h0m-1 2h0m0 4h0m-2-1h0m0-2h0m-1 4h0m-1-7h0m0 3h0m0 2h0m-3 1h0m-3-4h0m-1 12h0m3-2h0m1 3h0m1-5h0m0 4h0m1-1h0m1 3h0m1-6h0m0 5h0m1 4h0m1-9h0m4 0h0m-3 14h0m-1 1h0m-1 1h0m-3-5h0m-1 2h0m0 2h0m-3 4h0m-3-4h0m-2-2h0m0-2h0m-3 8h0m4 1h0m4 6h0m2 1h0m1-2h0m0-4h0m0 7h0m-3 9h0m-1-2h0m0-2h0m-1 2h0m0-5h0m0 3h0m-2 3h0m-3-4h0m-7 16h0m9 0h0m0 0h0m2-6h0m-4 17h0m-1-7h0m0-1h0m-1 1h0m-1-1h0m-1 7h0m0 1h0m-1-4h0m0-3h0m-2 0h0m-1-1h0m-2 6h0m2 5h0m1 3h0m2-3h0m0-2h0m5 4h0" stroke="#dca6ae" stroke-width="2.9"/>
<path d="M537 875h0m-2 4h0m-29 6h0m10 3h0m2-1h0m1-1h0m9 0h0m4-3h0m4-1h0m1 6h0m1-2h0m0 3h0m1-9h0m1 5h0m-26 9h0m-1-2h0m-1-1h0m-5 1h0m-5 6h0m-1-7h0m-1-1h0m-3 2h0m0-2h0m-5 1h0m-3 5h0m-1-1h0m0 4h0m-19-1h0m-1 9h0m3 1h0m4-4h0m1 2h0m0 0h0m0-5h0m1 4h0m1 0h0m0 1h0m1 2h0m1-4h0m5-4h0m6 0h0m-7 10h0m-11 1h0m-1 4h0m-1-5h0m-3 9h0m-1 0h0m0-2h0m-3-1h0m-2-4h0m-1 4h0m-4 0h0m0 0h0m-6 2h0m-26 9h0m17 2h0m0-1h0m2 1h0m4-2h0m4 0h0m4 1h0m4-8h0m-13 13h0m-3-1h0m-2 2h0m-1-4h0m-1 0h0m0 4h0m-3-4h0m-1 5h0m-2 3h0m-5 1h0m-1 0h0m-2-1h0m-2-5h0m2 10h0m3-1h0m0-2h0m14 1h0" stroke="#c17a98" stroke-width="2.9"/>
<path d="M632 815h0m-16 1h0m-1 2h0m-7-3h0m0 4h0m-1-2h0m0 1h0m-7-4h0m-2 1h0m-1-2h0m-3-1h0m6 16h0m1-3h0m5-4h0m0 5h0m2-4h0m5-2h0m0 6h0m5-1h0m1 1h0m1 0h0m5 0h0m3 2h0m1-6h0m1 5h0m2-2h0m6-3h0m1 3h0m-4 6h0m0 7h0m-3-3h0m-5-2h0m0 6h0m-5-1h0m-1-2h0m-2 1h0m-2-3h0m-1 1h0m0 3h0m0-3h0m-3-2h0m-1-2h0m-7 4h0m-1 2h0m0 2h0m-2-7h0m-2 14h0m1-1h0m0-1h0m1-3h0m2 0h0m4 1h0m2 0h0m1 4h0m0 3h0m2-7h0m1 7h0m2 0h0m0-9h0m0 3h0m1-1h0m1 1h0m1-3h0m0 4h0m3 5h0m1-3h0m2 1h0m0 2h0m5 0h0m-20 1h0" stroke="#c17a98" stroke-width="2.9"/>
<path d="M617 845h0m3-1h0m3-1h0m0 6h0m0-7h0m9 6h0m0-1h0m1 2h0m0-3h0m1-2h0m0 3h0m5-2h0m3 0h0m0 3h0m1-3h0m0 3h0m7 0h0m1 9h0m0-6h0m-1-1h0m-1 6h0m-1-5h0m-1 6h0m-2-2h0m-2-5h0m-1 4h0m-1-2h0m0 4h0m-2 0h0m-1-2h0m-2-3h0m-2 3h0m-1-1h0m0 2h0m-1 2h0m0-6h0m0 4h0m-1 1h0m-1-6h0m-1 2h0m-1 0h0m0-2h0m0 5h0m-2-4h0m-1 2h0m0-3h0m0 1h0m-1 1h0m0 0h0m0 1h0m-1-1h0m-2 3h0m-4-5h0m-1 3h0m0 3h0m-3-2h0m-1-4h0m-1 2h0m-6 7h0m-2 9h0m1-5h0m0-2h0m1-1h0m3 7h0m0-5h0m0 5h0m1-6h0m0 1h0m3 3h0m1-2h0m0 6h0m1-1h0m1-7h0m2 0h0m2 1h0m1 4h0m0-1h0m1 1h0m0-5h0m0-1h0m0 5h0m1 4h0m4-3h0m1-5h0m0 3h0m1 0h0m2 1h0m1 0h0m1 1h0m3-6h0m1 7h0m0 1h0m1 1h0m2 0h0m1-9h0m1 8h0m1 1h0m0-3h0m0 1h0m0-4h0m3 3h0m-2 11h0m-1 0h0m-2-4h0m-4-2h0m-1 4h0m0 3h0m-1-2h0m0 0h0m-3 0h0m-1 1h0m-4 2h0m-2-1h0m-1-7h0m-4 8h0m-1 0h0m0-6h0m0 0h0m0 4h0m-3 2h0m-1-4h0m-1 2h0m-1-5h0m-6-1h0m-1 2h0m-2 0h0m0 5h0m0-8h0m-4 9h0m-1-7h0m-3 14h0m4 0h0m3-2h0m3 0h0m1-3h0m0 8h0m0-9h0m1 0h0m4 6h0m0-6h0m2 6h0m4-1h0m1 0h0m0-2h0m1 1h0m0 4h0m0-6h0m1 2h0m1 3h0m1 0h0m0-5h0m0 7h0m0-7h0m2 6h0m1-8h0m0 3h0m2 6h0m1-5h0m1-3h0m1 3h0m0 0h0m0-3h0m2 8h0m3-7h0m0 4h0m4-4h0m2-2h0m-2 14h0m0-3h0m-4 7h0m-1-7h0m0 6h0m-1 1h0m-2-3h0m0 4h0m-1-4h0m-1 4h0m-2-8h0m-1 7h0m0 1h0m-1-2h0m0 2h0m-1-2h0m-1-4h0m-1-1h0m-1 4h0m-2-1h0m0-5h0m-1 0h0m0 8h0m-2-8h0m-2 4h0m-1-1h0m0 5h0m-2-5h0m-1 6h0m-1-3h0m-5-4h0m-1 7h0m0-7h0m-2 6h0m-1-8h0m-1 2h0m-1 0h0m0 4h0m-1 2h0m-2-1h0m0 0h0m0 2h0m-1-8h0m-3 10h0m1 1h0m5-1h0m0 0h0m2 7h0m1 0h0m3-6h0m1 5h0m1-3h0m2 1h0m0 3h0m3-4h0m1-3h0m9-1h0m1 9h0m2-9h0m1 3h0m0 4h0m0-5h0m3 4h0m0 2h0m5-2h0m1 1h0m-5 7h0m-1 1h0m0 2h0m-1 2h0m0-9h0m-3 5h0m-5-5h0m-1 5h0m-4 2h0m-3 0h0m-2-3h0m0 5h0m-2-5h0m0-4h0m-3 4h0m-1-2h0m0-2h0m-2 6h0m0 0h0m-3-5h0m1 10h0m6-1h0m0 0h0m2 8h0m0-3h0m1 0h0m0 0h0m2 2h0m4-4h0m3 6h0m1-4h0m4-1h0m1 2h0m3-6h0m-2 10h0m-5 1h0m-4 4h0m0 0h0m-2-5h0m0 4h0m-3-4h0m-2 7h0m-4-6h0" stroke="#c17a98" stroke-width="2.9"/>
<path d="M769 643h0m5 6h0m0-2h0m6 2h0m9 0h0m2-6h0m9 0h0m0 6h0m5-1h0m2-2h0m0 0h0m3 1h0m1-2h0m3-1h0m0 0h0m3 2h0m0 2h0m4 1h0m1-2h0m0 0h0m0-3h0m1 4h0m1-1h0m3-3h0m3 4h0m2 0h0m10 1h0m13-4h0m4 2h0m2-1h0m2 0h0m2-1h0m-8 7h0m-5 0h0m-5-1h0m-5 0h0m0-1h0m-1 5h0m-4 1h0m-2 2h0m-1 1h0m-1-6h0m0 0h0m-1-2h0m-1 4h0m0 0h0m-1-5h0m-2 8h0m-3-1h0m-1-1h0m-4-2h0m0-3h0m0 5h0m-2-1h0m0 4h0m-1-2h0m-4 2h0m-1-3h0m-1-5h0m-2 3h0m-1 5h0m-1-7h0m-1 2h0m-2-2h0m-2-2h0m-1 6h0m-2 3h0m-2-1h0m-3-1h0m0-2h0m0-1h0m-1 2h0m-1-5h0m-2 4h0m0 2h0m0-6h0m-1 6h0m-3-1h0m-2-4h0m0 7h0m-1-2h0m-1 1h0m-1-2h0m-3-4h0m0 5h0m-3 2h0m-1-7h0m-2-2h0m-2 6h0m-1 0h0m-2-5h0m-14 18h0m3 0h0m4 0h0m1-7h0m2-1h0m3 5h0m1 2h0m0 0h0m3-5h0m1 0h0m1 5h0m4-2h0m0 2h0m1-4h0m2 4h0m4-2h0m1-2h0m3-4h0m4 3h0m0 5h0m2-6h0m3 1h0m0 3h0m1-3h0m0 6h0m0 0h0m2-5h0m0-1h0m3 1h0m3-1h0m1 4h0m1 1h0m1-5h0m2-3h0m1 5h0m0-3h0m0-1h0m1 2h0m0 6h0m1-6h0m1 6h0m1-4h0m4-3h0m0-2h0m1 3h0m3-1h0m0 4h0m0-2h0m6 1h0m1 7h0m-20-1h0m-2 7h0m-1-1h0m-2 0h0m-1-5h0m-5 1h0m-2 0h0m-1 2h0m-1 3h0m-2-1h0m-2-1h0m-4-4h0m-2 0h0m-4-2h0m-3 3h0m-1-3h0m0 0h0m-3 7h0m-1-2h0m-4-1h0m0 2h0m-7 1h0m0-6h0m-1 8h0m-2-2h0m-1 1h0m-1-4h0m-4 2h0m-1 2h0m-1-5h0m-6 14h0m9 1h0m0-5h0m1 4h0m0 1h0m4-8h0m0 3h0m2 1h0m1-4h0m1 8h0m1-8h0m2 1h0m2 2h0m1-3h0m0 9h0m2-9h0m0 0h0m0 3h0m5-2h0m0-1h0m1 6h0m1-6h0m1 0h0m0 8h0m0-1h0m3-2h0m0-5h0m3 1h0m0 7h0m1 1h0m1-3h0m2-3h0m1 12h0m0-3h0m-2-2h0m-4 1h0m-3 4h0m-2 1h0m0-2h0m-1 1h0m0-5h0m-1 8h0m-1-8h0m-1 2h0m0 3h0m-1 1h0m-2-2h0m0 1h0m-4 2h0m-1-3h0m-1 3h0m-1-7h0m-1 8h0m0-2h0m-5-6h0m-2 6h0m-16-6h0m0 9h0m-2-1h0m-2 11h0m2-6h0m2 5h0m2-5h0m5 0h0m3 5h0m8-3h0m0-4h0m3 7h0m0-5h0m1 0h0m0 4h0m1-6h0m2 6h0m6-4h0m1 4h0m2-4h0m3-3h0m1 2h0m0 0h0m-11 13h0m-4-4h0m-2 3h0m-1-4h0m0 6h0m-1-4h0m-1 4h0m-2-1h0m-1-4h0m-9 6h0m0-6h0m-2 5h0m0 0h0m0-3h0m0 3h0m-1 3h0m-3-6h0m-1-2h0m-2-1h0m-2 6h0m-8 13h0m7-2h0m1 0h0m2-7h0m2 8h0m3-5h0m1 1h0m0 3h0m1-1h0m0 1h0m3-1h0m0-4h0m5-1h0m0 1h0m1 4h0m-7 12h0m-2-8h0m-2 4h0m0 0h0m-1-3h0m-1 0h0m-1 8h0m0-8h0m0 8h0m-5-6h0m-1 5h0m0-2h0m-1-4h0m0 0h0m-1 5h0m-4-1h0m-3 10h0m1 1h0m1 1h0m1-1h0m1-6h0m1 1h0m1 2h0m2 4h0m3 1h0m0-3h0m0-3h0m1 5h0m2-5h0m1 2h0m0 2h0m1-1h0m-4 5h0m-2 0h0m-4 3h0m-2-1h0m-1 4h0m-1-4h0m0-2h0m-2 6h0m-1-7h0m-3 5h0m0 3h0m-1-3h0m-3-1h0m-2 3h0m-1-6h0m-2 3h0m-16 15h0m4-2h0m5-3h0m1 5h0m4-1h0m1-6h0m8-2h0m2 0h0m4 3h0m-11 10h0m-15-3h0m-6 8h0m-5-3h0m-1-1h0m-1 5h0m-3-1h0m-17 10h0m1 1h0m2-1h0m0-5h0m7-1h0m6 3h0m1 4h0m0-5h0m4 4h0m1 0h0m0-3h0m2-4h0m1 4h0m1-4h0m2-1h0m4 2h0m1 2h0m2-4h0m2 4h0m0-4h0m1 0h0m-4 10h0m0 4h0m-2-3h0m-1 0h0m-7-1h0m-4 4h0m-3-2h0m-4 1h0m-1 3h0m0-5h0m-1 6h0m0-5h0m-2 2h0m0-2h0m0-2h0m-1 7h0m-2 0h0m-1-5h0m-1 1h0m0-1h0m0 4h0m-3-6h0m-1 8h0m-2-2h0m-6 11h0m1-7h0m4 2h0m1 6h0m2 0h0m1-6h0m0 2h0m2 0h0m3 0h0m1 5h0m3-3h0m2-6h0m0 6h0m1-3h0m4-2h0m1 0h0m1 4h0m2 2h0m2-3h0m-3 7h0m-8 2h0m0 5h0m0-3h0m-1-1h0m-1 4h0m-1-4h0m-4 4h0m-1-3h0m0 0h0m-1 3h0m-2-7h0m-3 7h0m-2 0h0m-3-1h0m-4 2h0m-1-2h0m0 0h0m-2 0h0m0-2h0m-1 1h0m-2-4h0m-1 1h0m-3 3h0m0 8h0m1 5h0m1-7h0m1 4h0m0 1h0m1 1h0m1 0h0m4-7h0m1 8h0m2-5h0m1 1h0m0-2h0m1 0h0m2 1h0m4 5h0m0 0h0m0-5h0m1-1h0m1-1h0m5-1h0m1 7h0m0 2h0m-4 1h0m-1 2h0m0 4h0m-1-3h0m-3-1h0m-1 0h0m0-1h0m-2 3h0m0-5h0m0 9h0m-1-6h0m-3 6h0m0-6h0m-1-3h0m-1 4h0m-1-3h0m-2 6h0m-1-4h0m-3-1h0m-13 6h0m-1-4h0m-1-1h0m-6 11h0m3 3h0m0 2h0m1-3h0m1-4h0m3 7h0m1-2h0m0-1h0m1 0h0m0-1h0m3 1h0m0 3h0m3 0h0m0-1h0m2-4h0m6-3h0m0 5h0m0-3h0m1-3h0m6 4h0m1-1h0m1-2h0m0 5h0m-2 6h0m-3-2h0m-1 2h0m-1-1h0m-1-1h0m-4 6h0m0 2h0m-3-7h0m-2 1h0m-1 6h0m-1 0h0m-4-6h0m-2 5h0m-1 1h0m-1-7h0m0 5h0m-1-4h0m-1 5h0m0-2h0m-4 4h0m-1-9h0m0 0h0m-2 7h0m0-5h0m-2 5h0m-3 0h0m0-2h0m-1 8h0m16 2h0m3-5h0m6 0h0m2 2h0m1 1h0m7-3h0" stroke="#c17a98" stroke-width="2.9"/>
<path d="M613 844h0m1 4h0m1-1h0m16-1h0m1-4h0m2 5h0m13 1h0m4 6h0m-6-2h0m-1-2h0m-2 9h0m-7-4h0m-2-5h0m-3 9h0m-2-8h0m-2 3h0m-2 4h0m-1-4h0m-2-4h0m-2 3h0m0 6h0m-2-2h0m0-3h0m0 2h0m-6-4h0m-2-1h0m-8 18h0m1-3h0m6-6h0m1 3h0m1 5h0m1-4h0m3 4h0m2-4h0m1 2h0m1-3h0m1-3h0m0 6h0m1-2h0m4-4h0m4 4h0m4 5h0m4-6h0m1 4h0m0-1h0m4 4h0m-7 9h0m-1-1h0m-6-2h0m-1-6h0m-11 5h0m-1 2h0m-1-3h0m-3 4h0m-3 1h0m-1-2h0m-2-5h0m-1 0h0m-3 3h0m-7 11h0m3 2h0m1-6h0m0 7h0m2-1h0m5-4h0m4 4h0m13-4h0m2 1h0m3-1h0m1-3h0m1 1h0m2 2h0m2 3h0m1-4h0m2 3h0m2 2h0m2-4h0m-2 12h0m-3 2h0m-1-3h0m-9-1h0m-6 2h0m0 0h0m-6-4h0m-7 5h0m-2-4h0m-1 1h0m-3 4h0m-2-6h0m-2 6h0m-2 1h0m-3-3h0m6 13h0m0-5h0m2-2h0m2 0h0m0 2h0m2 0h0m0-1h0m0-3h0m8 9h0m7-3h0m5 1h0m2 2h0m0-6h0m0 5h0m1-3h0m1-1h0m5-3h0m-2 10h0m-3 3h0m-1 1h0m-2-3h0m-1 3h0m-3 1h0m-9 3h0m-3-4h0m-3-4h0m-1 2h0m-9-3h0m-1 0h0m11 16h0m7 1h0m1-4h0m1-2h0m8 1h0m3 7h0m2-9h0m-9 18h0m-6-8h0m-3 0h0m-1 7h0m0-6h0m-3 1h0" stroke="#dca6ae" stroke-width="2.9"/>
<path d="M698 607h0m9-6h0m0 4h0m3 1h0m3-1h0m2 4h0m0-3h0m3 3h0m1 0h0m8 6h0m-1-1h0m-2-1h0m0-1h0m-1 0h0m-1 3h0m-1-2h0m0 6h0m-1-4h0m-1-4h0m0 5h0m-1-4h0m0 3h0m-1 3h0m-1-8h0m0 2h0m-2 7h0m0-9h0m0 6h0m-2 2h0m0-6h0m-1 1h0m0 0h0m0-3h0m-2 4h0m0-4h0m-2 1h0m0 3h0m-2-2h0m-1 7h0m0-5h0m-2 5h0m0 0h0m-2-2h0m0 1h0m-7 1h0m-13 3h0m8 7h0m1 0h0m0-7h0m4 2h0m5 2h0m1-1h0m1 4h0m1-4h0m0 4h0m0-5h0m1 4h0m0-2h0m0-1h0m0 3h0m1 1h0m0-4h0m0-5h0m0 4h0m0 2h0m1 3h0m0-3h0m0 3h0m1 0h0m3-7h0m0 5h0m1-4h0m0 0h0m0-3h0m1 9h0m1-5h0m0-1h0m1 4h0m0-6h0m0 6h0m1 2h0m0-4h0m1-4h0m0 3h0m1 4h0m1-2h0m3-3h0m2-3h0m0 7h0m2-6h0m1 0h0m2 0h0m3-1h0m5 9h0m-12 1h0m-2 2h0m-2 5h0m-4-6h0m-1 2h0m0 2h0m0-2h0m-1 5h0m-6-5h0m0 2h0m-1 2h0m0-7h0m0 8h0m-1-6h0m-1 2h0m-1-2h0m0 7h0m0-6h0m-2 2h0m0-3h0m-1 4h0m0-5h0m-1 8h0m0-8h0m-1 7h0m0 0h0m0-2h0m0 0h0m0-1h0m0-3h0m-1 4h0m-2 2h0m0-6h0m-3-1h0m-1 8h0m-4-5h0m-1-2h0m-5 7h0m-4 4h0m5 1h0m2 3h0m1 2h0m0-5h0m1 1h0m1-5h0m1 6h0m0-6h0m0 8h0m1 0h0m0-7h0m1 2h0m1-1h0m1 7h0m1 0h0m0-1h0m0-2h0m0-3h0m0-3h0m3 2h0m0 7h0m0-1h0m1-7h0m1 4h0m0 2h0m0-5h0m0 6h0m2-1h0m0 0h0m1-3h0m1-1h0m0 3h0m1-6h0m1 2h0m3 2h0m2 0h0m2-1h0m1 11h0m-5 3h0m-5-7h0m-1 9h0m-1-3h0m-2-5h0m-3 7h0m-2-1h0m0-6h0m0 6h0m0-4h0m0-3h0m0 1h0m-1 3h0m0 2h0m-2-2h0m0 2h0m0-2h0m-1 0h0m-1 4h0m0-4h0m-1 1h0m0-3h0m-1 0h0m0 5h0m-1 1h0m-1-6h0m-1 7h0m0-1h0m-2-3h0m0-5h0m-1 5h0m0 3h0m-3-3h0m0 3h0m-3-5h0m-2 15h0m0-7h0m3 7h0m0-3h0m0-4h0m1 8h0m1-7h0m1 0h0m1 7h0m0-2h0m0-3h0m2 1h0m0 0h0m0-1h0m2 4h0m0-3h0m2-5h0m0 2h0m0 7h0m0-6h0m0 6h0m1-2h0m0-6h0m0 0h0m1 7h0m1-7h0m0-1h0m0 3h0m0-3h0m0 9h0m1-4h0m1 1h0m0-2h0m0-1h0m0 1h0m1 0h0m0 1h0m0-1h0m2 2h0m1 0h0m2 3h0m3-7h0m-1 13h0m-3-3h0m-2-1h0m-3 1h0m-1-1h0m-1 6h0m-2 0h0m-1-6h0m-1 1h0m-1 5h0m0-3h0m-1-2h0m-1 0h0m-1 5h0m0 2h0m-1 0h0m0-1h0m-1-6h0m0-1h0m-1 2h0m0 1h0m0 5h0m0-5h0m0-3h0m-1 4h0m0 3h0m-1-4h0m-6-1h0m-1 1h0m-4-1h0m0 4h0m0-5h0m-1 7h0m-3 7h0m1 1h0m2-4h0m1 5h0m2 0h0m2-4h0m1 5h0m0 0h0m0-1h0m0-4h0m1-1h0m1 3h0m1 2h0m1-7h0m2 4h0m0 0h0m1 3h0m0-2h0m1-2h0m1 1h0m0-2h0m1-2h0m1 7h0m0-2h0m0-5h0m2-1h0m0 4h0m4 2h0m-3 5h0m-5 7h0m0-2h0m0 3h0m-2-5h0m-1-4h0m0 5h0m-1-3h0m-2 2h0m-1-1h0m-1 5h0m0 0h0m0-1h0m0-6h0m-2 3h0m-3-3h0m-1 7h0m0 1h0m-1-3h0m-1 2h0m0-4h0m0-1h0m-4 4h0m-2-2h0m-1 2h0m-5-6h0m-3 16h0m2 1h0m2-1h0m2 2h0m1 0h0m1-1h0m1-5h0m1-2h0m1 5h0m0 1h0m1-3h0m1-2h0m1 2h0m0-3h0m1 8h0m2-9h0m0 3h0m2 3h0m1-2h0m0-4h0m0 4h0m1 1h0m1-4h0m1 2h0m1 6h0m1-5h0m2 5h0m1-9h0m2 7h0m1-1h0m4-4h0m-8 17h0m-4-5h0m-1 2h0m-5-4h0m-2 5h0m-2-3h0m0 0h0m-1 1h0m0-1h0m0-2h0m-1 5h0m0-5h0m-1 4h0m-1-2h0m0 5h0m0-4h0m0 2h0m-1-3h0m0-3h0m0 6h0m-1-2h0m-1-1h0m0 3h0m-1 2h0m-2-3h0m-1-5h0m0 8h0m-2-4h0m-1 4h0m-1-4h0m-6 13h0m5-4h0m3-1h0m1-1h0m0 5h0m2-3h0m1 5h0m1-6h0m0 6h0m0-9h0m0 7h0m1 2h0m1-8h0m0 4h0m1-3h0m0 6h0m0-1h0m2-4h0m0 1h0m2-1h0m1-2h0m0 4h0m0 1h0m0-3h0m3 6h0m0 8h0m-6-6h0m-3 1h0m0 7h0m0-4h0m0-5h0m0 4h0m-1-3h0m-1 0h0m-1 5h0m0-6h0m-2 3h0m0 3h0m-1 3h0m-1-7h0m-1 6h0m0 1h0m-1-3h0m-3-4h0m0 5h0m0-3h0m-1 0h0m-1-4h0m-2 4h0m-6 15h0m1-3h0m1-3h0m4 4h0m1 0h0m0-3h0m4-1h0m0-3h0m1 8h0m0-1h0m0 1h0m0-7h0m0 2h0m1 0h0m1-3h0m2 7h0m0-4h0m1 2h0m1 0h0m5-4h0m2 4h0m-9 12h0m-1-2h0m-2 3h0m-1-7h0m-4 7h0m0 1h0m-1-4h0m0 2h0m-1-5h0m0 7h0m0-3h0m0-6h0m-1 2h0m0 0h0m0 0h0m0 6h0m-1-5h0m-1 5h0m0-5h0m0 4h0m0 0h0m-1-2h0m0 1h0m-1 1h0m-1 2h0m-4-5h0m0 5h0m-2 10h0m0-7h0m0 0h0m1 0h0m1 0h0m1-1h0m0 2h0m1 1h0m2 2h0m1 2h0m0-6h0m0-2h0m1 0h0m2 7h0m0-2h0m1-1h0m0 4h0m0-8h0m2 7h0m1 2h0m0-8h0m1 3h0m1 5h0m-2 8h0m-4-5h0m-4 0h0m-1 7h0m-1-1h0m0 0h0m0 1h0m0-5h0m-1-3h0m-1-1h0m-2 6h0m-2-1h0m0 13h0m5-8h0m3 9h0m0-3h0m0-1h0m0-3h0m4-1h0m0 4h0m1-3h0m-5 14h0m-2 2h0m0-5h0m0 3h0m-5 2h0m-6 1h0m-3 9h0m2 1h0m1-3h0m0-3h0m0-2h0m4 2h0m1 3h0m2 1h0m0 0h0m3-1h0m1 1h0m5-7h0m-7 16h0m-2-3h0m0-3h0m-3 4h0m0 0h0m-1 0h0m-3-4h0m0 1h0m0 3h0m-1 4h0m0 1h0m0-2h0m-2-3h0m-2-1h0m0 0h0m-1 5h0m-4 3h0m1-1h0m1 1h0m2 2h0m2-1h0m4 4h0" stroke="#c17a98" stroke-width="2.9"/>
<path d="M722 628h0m10 1h0m18 0h0m3-3h0m5 1h0m8 5h0m-9 2h0m-1 2h0m-1 1h0m-1-4h0m-8 1h0m-5 0h0m-2 2h0m-11-6h0m-13 3h0m-6 6h0m-12 6h0m4-1h0m6 5h0m10-6h0m2-1h0m7 4h0m2-4h0m4 6h0m6-6h0m3 5h0m4-7h0m9 7h0m0 2h0m5-7h0m2-1h0m1 2h0m1 2h0m0 3h0m2 0h0m0-2h0m6 7h0m-15-1h0m-1-2h0m-9 7h0m-14-7h0m-1 4h0m-2 4h0m-6-7h0m-4 0h0m-1 1h0m0 0h0m-3 7h0m-13-3h0m-1-3h0m0-3h0m-5 13h0m5 5h0m7-6h0m17-1h0m2 2h0m4-1h0m9 4h0m3-1h0m0 2h0m7 1h0m6-6h0m1 6h0m-1 4h0m-2 5h0m-2-1h0m-4 1h0m-7-6h0m-2 7h0m0-1h0m-9 0h0m-6-5h0m-4 5h0m-3-1h0m-6-6h0m-5 3h0m-2 6h0m-7-4h0m0 0h0m-3-5h0m-19 11h0m23 4h0m16 4h0m1-7h0m1 2h0m1 4h0m2-1h0m1-6h0m7 5h0m1-1h0m0 3h0m2-7h0m2 2h0m5-2h0m2-1h0m1 2h0m6 2h0m0-1h0m13 16h0m-4-3h0m-1-5h0m0 3h0m-10 0h0m-5 3h0m-1 0h0m-11-7h0m-5 9h0m-10-9h0m-1 2h0m-11-2h0m0 1h0m-4-1h0m-6 7h0m-3-1h0m-3 1h0m0-3h0m-18 5h0m1 10h0m7-5h0m4 3h0m0-6h0m5 3h0m3-1h0m3-2h0m8 8h0m5-3h0m7-3h0m17 2h0m2 3h0m3-7h0m0 6h0m11-6h0m4 8h0m-3 4h0m-5 3h0m-2-2h0m-5 2h0m-6 2h0m-7-7h0m-9 2h0m0 0h0m-5-2h0m-9 4h0m-10-4h0m0 3h0m-2 5h0m-4-1h0m-2-5h0m-6 2h0m-4-5h0m-15 19h0m11 0h0m6-5h0m4 2h0m4 3h0m12-2h0m3-4h0m2 0h0m1 2h0m1-3h0m1 3h0m1 3h0m3-1h0m1 0h0m10-7h0m3 0h0m5 9h0m0-8h0m18 8h0m1-4h0m1-5h0m0 5h0m0 13h0m-2 1h0m-6-8h0m-1 8h0m-5-2h0m-3 0h0m-3 0h0m-8-5h0m-1-2h0m-1 0h0m-5 3h0m-4 5h0m-4-6h0m-6 3h0m-8-4h0m-7 5h0m-18 4h0m3 6h0m0 1h0m1 0h0m10 0h0m4-2h0m9 1h0m16-4h0m16-2h0m4 1h0m6 8h0m7-3h0m4-4h0m-21 8h0m0 5h0m-6-5h0m0 1h0m-1 0h0m-1 4h0m-5 4h0m-1-6h0m-2 6h0m-4-6h0m-1 0h0m-5-1h0m-8 7h0m-9-2h0m-3-2h0m-2 3h0m-4-5h0m0-2h0m-7 0h0m-10 1h0m1 10h0m1 5h0m8-4h0m4 2h0m8 4h0m11-6h0m6-1h0m0-1h0m1 5h0m3 2h0m3-4h0m4-2h0m1 2h0m6 3h0m7 0h0m-6 6h0m-3 3h0m-2-6h0m-5 6h0m-5-6h0m-2 8h0m-5-7h0m-4 2h0m-2 2h0m-6 3h0m-15-6h0m-3 0h0m-2 3h0m-3-1h0m0-3h0m-13 14h0m16 0h0m1 0h0m19-4h0m6 8h0m0-3h0m3-6h0m10 16h0m-3-4h0m-1-2h0m-15 3h0m-15 1h0m-1 0h0m-5-2h0m-5 3h0m-4 2h0m-2-7h0m-2 4h0m-2 5h0m-2-4h0m-5 8h0m7 3h0m16 2h0m13 0h0m3-3h0m7 9h0m-3 0h0m-11 5h0m-3-9h0m-3 2h0m-3 0h0m0 2h0m-5-4h0m-5 9h0m-2 0h0m-4-2h0m-7 0h0m-8 12h0m7-9h0m1 1h0m8 2h0m7-2h0m2 15h0" stroke="#dca6ae" stroke-width="2.9"/>
<path d="M773 479h0m-2-2h0m-2-1h0m-1 2h0m-1-2h0m10 13h0m2-5h0m3 4h0m1 10h0m-4-1h0m0-7h0m-6 5h0m-1 2h0m-3 2h0m-4 1h0m2 9h0m2-9h0m3 2h0m0 2h0m7-3h0m2-1h0m0 2h0m1-2h0m2 4h0m1-3h0m0 8h0m0-1h0m2-7h0m3 9h0m-2 9h0m-6-1h0m-8 1h0m-6-1h0m-1-2h0m-1 8h0m1 3h0m2-2h0m8 4h0m2-4h0m1-3h0m6 5h0m0 0h0m5-4h0m-3 14h0m-1 0h0m-2-1h0m-1-1h0m-4-5h0m-7 7h0m-3-7h0m-2 5h0m-1 5h0m0 6h0m3 0h0m1 1h0m3-7h0m1 3h0m2 4h0" stroke="#dca6ae" stroke-width="2.9"/>
<path d="M780 646h0m20-4h0m10 1h0m8 1h0m29 4h0m8 8h0m-24 3h0m-57-7h0m-4-1h0m-10 8h0m-6 4h0m67 6h0m-6 3h0m-1-1h0m-31 26h0m-2 0h0m-2 1h0m-33-8h0m-4 2h0m-5 15h0m39-3h0m-6 9h0m-6 6h0m-28-7h0m-3 13h0m2-1h0m13 5h0m9-5h0m-8 12h0m-1-3h0m-5 4h0m-21 4h0m3 3h0m17 1h0m-4 11h0m-14 3h0m-27 1h0m1 4h0m1 0h0m2 1h0m0-2h0m15 4h0m4 2h0m1-3h0m3-2h0m-37 8h0m-22 14h0m9-6h0m22 14h0m-33-3h0m-5 7h0m0 4h0m1-1h0m2 1h0m31 0h0m-9 15h0m-1 2h0m-33-5h0m29 8h0m0 6h0m-47 2h0m-11 19h0m15 10h0m-13 2h0m10 1h0m4 2h0m11-2h0" stroke="#dca6ae" stroke-width="2.9"/>
<path d="M623 817h0m-7 0h0m-8 0h0m-9-7h0m-1 11h0m2 0h0m1 1h0m13 6h0m4-8h0m2 7h0m7 1h0m0-5h0m8 0h0m-2 14h0m-5-5h0m-2 4h0m-1-4h0m0 6h0m-2 1h0m0-1h0m-6-5h0m0-3h0m0 5h0m-9 4h0m-3-6h0m0-3h0m-1 5h0m-2 4h0m-8 0h0m3 3h0m17-2h0m0 7h0m6-3h0m6 10h0" stroke="#dca6ae" stroke-width="2.9"/>
<path d="M723 629h0m3-1h0m1-2h0m9 1h0m0 0h0m1 1h0m1-2h0m2 1h0m3-1h0m2-3h0m9 4h0m16 0h0m4 8h0m-1 3h0m-2-6h0m-4 3h0m-1-4h0m-3 7h0m-1-5h0m-1-1h0m-5 6h0m-4-3h0m-1 1h0m-1-4h0m0 7h0m0-5h0m-3-1h0m-2 5h0m-1-8h0m0 5h0m0 1h0m-2-5h0m-1-1h0m-1 2h0m0 1h0m-1 0h0m0-1h0m-4 5h0m-1-2h0m0-4h0m0 0h0m-1 1h0m-1 3h0m-1 1h0m-2 0h0m-1-5h0m-1 4h0m-1 2h0m-10 2h0m0-3h0m-2-3h0m-4 4h0m-13 7h0m8-3h0m4 3h0m8 3h0m0-1h0m2-6h0m1 0h0m1 9h0m1-2h0m1-5h0m2-1h0m1 3h0m4 1h0m2 2h0m0-2h0m0 1h0m1 2h0m1-2h0m2 0h0m1 1h0m0-7h0m2 6h0m5-5h0m0 8h0m1-8h0m0 2h0m4-2h0m2 5h0m0 3h0m1-9h0m5 5h0m4 1h0m6 2h0m2-1h0m4 5h0m-9-1h0m0 0h0m-2 0h0m-1 1h0m-4-1h0m0 0h0m-3 0h0m-1 1h0m-3 6h0m-4 0h0m-4-7h0m0 6h0m0 1h0m-1 0h0m-1 1h0m0-2h0m-1 1h0m0-8h0m0 6h0m-2-2h0m-1 4h0m-3-8h0m-4 6h0m0-4h0m-3 5h0m0-6h0m-4 8h0m-3-4h0m-1 4h0m-3-1h0m-6-1h0m-6 2h0m-1-7h0m-5 5h0m-1-5h0m-4 4h0m0 13h0m0-3h0m3-2h0m1 3h0m3 2h0m1-4h0m0 2h0m2-6h0m2 5h0m1-4h0m1 5h0m1 1h0m4 1h0m1-6h0m13-2h0m1 5h0m1 2h0m2-3h0m4-2h0m0-1h0m3 5h0m2-5h0m1 3h0m0 2h0m1-7h0m0 6h0m3 2h0m3-2h0m0-1h0m2-1h0m1-3h0m0 5h0m6-6h0m0 4h0m0 3h0m0 2h0m1-2h0m2 0h0m2 0h0m2-5h0m1 0h0m1 1h0m0 4h0m2-3h0m-5 8h0m-1 3h0m-1-4h0m-1 0h0m-5 4h0m0-2h0m-1 1h0m0-4h0m0 2h0m-1 7h0m0-4h0m0 4h0m-2-5h0m0 0h0m0 1h0m-2 1h0m0-6h0m-3 7h0m0-7h0m0 2h0m-1 3h0m-2 3h0m-5 0h0m-1-8h0m-3 1h0m-1 2h0m0 1h0m-4 5h0m-2-2h0m-2 0h0m-2-4h0m-2 1h0m-2 0h0m0-4h0m-2 2h0m0-2h0m-1 1h0m-3 2h0m-2 2h0m-2-1h0m-3-1h0m-3-3h0m-1 5h0m-1 1h0m-2-3h0m0 0h0m-5-1h0m-12 13h0m1 2h0m5 0h0m0 2h0m4-6h0m1 3h0m0-6h0m1 4h0m1 1h0m1 1h0m2 0h0m0 0h0m0-6h0m1 6h0m0 2h0m2-1h0m1 0h0m1 1h0m0-8h0m4 5h0m1 0h0m1 0h0m2-5h0m5 3h0m4 3h0m4-4h0m1 5h0m4 0h0m2-1h0m5-4h0m1 0h0m2 2h0m3 3h0m0-2h0m1 1h0m2-2h0m6 5h0m0-1h0m2-8h0m1 8h0m1-7h0m1 4h0m3-2h0m5-1h0m2 5h0m-13 10h0m-1-5h0m-1 7h0m-4-3h0m0 2h0m-1-8h0m-2 5h0m-1 4h0m-2-5h0m-2 4h0m-1-6h0m-2-1h0m-3 4h0m-1-2h0m0 2h0m0 3h0m-2-4h0m-1-1h0m-1 5h0m0-6h0m-1 5h0m0-1h0m-5 1h0m0-5h0m-7-2h0m-1 1h0m-1 1h0m-1 2h0m-3 0h0m0 1h0m-1-3h0m0-1h0m-2 7h0m-6-5h0m-1 5h0m-5-6h0m0 0h0m0 4h0m-1-5h0m-6 5h0m-2-5h0m-2 4h0m-2-4h0m-5 8h0m-4 5h0m3 0h0m2-2h0m0 1h0m2-3h0m0 4h0m3-1h0m0 2h0m2 1h0m0 2h0m3-2h0m1-1h0m0-5h0m2 8h0m0-1h0m1-2h0m5-5h0m0 1h0m4 4h0m0 3h0m1 0h0m3-7h0m1 5h0m1-3h0m3 0h0m1 1h0m0 4h0m5 0h0m1-2h0m2-6h0m2 3h0m2-1h0m2 6h0m0-6h0m0-1h0m2 1h0m1 1h0m1-1h0m3 7h0m3-5h0m2-3h0m0 1h0m1-1h0m1 2h0m1 2h0m4 2h0m2-3h0m2 4h0m2-8h0m3 0h0m2 1h0m-9 17h0m-2-5h0m-2-3h0m-2 5h0m-1-5h0m-1 6h0m-2 1h0m0-2h0m-2 4h0m0-1h0m0-6h0m-2 2h0m0-4h0m-4 0h0m0 0h0m-1 5h0m-3-4h0m-1 2h0m-1 5h0m-1-5h0m-5 5h0m-2-7h0m-1 8h0m0-2h0m-1-3h0m-2 4h0m0 0h0m0-7h0m-3 8h0m-1-4h0m-2-5h0m0 9h0m0-6h0m-2 2h0m-1-2h0m-2-3h0m-3 8h0m-1-3h0m0-4h0m-2 0h0m-2 7h0m-1 0h0m-1-5h0m-1-3h0m-1 8h0m-3-2h0m-1 2h0m0 0h0m-2-7h0m-1 6h0m-2 2h0m-1-2h0m-2 1h0m-2-8h0m-1 7h0m-2-1h0m0 3h0m-1-1h0m-4 1h0m-1 1h0m0 8h0m1 1h0m7-9h0m1 3h0m1-1h0m2 3h0m2 3h0m1-1h0m2-4h0m4 6h0m2-4h0m1 0h0m3-2h0m4-1h0m2 3h0m4 2h0m0 0h0m9-2h0m2 4h0m0-7h0m1 2h0m0 4h0m4-8h0m2 4h0m4 1h0m0-3h0m1 4h0m0 2h0m2-1h0m2 0h0m6 1h0m0-8h0m1 0h0m1 3h0m3 5h0m1 0h0m1-2h0m1 1h0m0 10h0m-4-5h0m-3 0h0m-1 0h0m-3 2h0m-5 0h0m-3-1h0m-2 2h0m0-2h0m-1 4h0m-1-1h0m-1 0h0m0 0h0m-1-2h0m0-1h0m0-2h0m-2 5h0m-3-1h0m-2 0h0m-1-3h0m-3 5h0m-2-2h0m-2-5h0m0 0h0m-2 0h0m0 7h0m-2-7h0m-2 5h0m-1 2h0m-2 2h0m-1-3h0m-1-2h0m-1 4h0m-2-8h0m-2 9h0m-2 0h0m-1-2h0m-2 2h0m-2-3h0m-3-3h0m0 5h0m-2-5h0m-2 3h0m-2-3h0m0 0h0m-1-1h0m-4-1h0m-1 4h0m-6 10h0m3 2h0m2-1h0m3 3h0m3-2h0m1 2h0m0-1h0m10 1h0m3-2h0m0-3h0m4 2h0m0-4h0m1 1h0m6 1h0m1 4h0m0-8h0m2 1h0m1 7h0m3-7h0m4 4h0m0 3h0m1-7h0m2 4h0m1 4h0m6-5h0m4-2h0m2 7h0m1-8h0m0 0h0m1 3h0m0 0h0m2 4h0m1 0h0m3-1h0m1-4h0m0-3h0m1 6h0m1 0h0m2 0h0m1 1h0m3-7h0m-7 10h0m-6 7h0m-3-2h0m-2 3h0m-3-3h0m-1 1h0m-1-3h0m-2 2h0m-2-3h0m-1-2h0m-1 6h0m0 0h0m-2-1h0m-1-2h0m0 1h0m-1 1h0m-1-1h0m0-1h0m-2 6h0m0-9h0m-1 5h0m-1-2h0m-3 1h0m-2-2h0m0-1h0m-3 5h0m-3-4h0m-1 2h0m-2 3h0m-5 0h0m-2 0h0m-3-4h0m0-3h0m-1 5h0m-1-1h0m0-3h0m-1 4h0m-1-2h0m-1 6h0m-3-7h0m0 5h0m-1 0h0m-2-1h0m0-5h0m-2 3h0m-3 3h0m-6 1h0m0-1h0m-1-2h0m-7 0h0m-3 7h0m0 2h0m2 1h0m0-1h0m2 1h0m0 2h0m0 2h0m5-1h0m4 1h0m1-1h0m2-5h0m1 0h0m2 6h0m1-4h0m5-2h0m0-1h0m1 7h0m1-4h0m1-4h0m3 0h0m0 3h0m1-3h0m1 3h0m1-3h0m3 8h0m5-2h0m1-4h0m1 1h0m2 4h0m1-7h0m0 8h0m1-7h0m0 7h0m2-8h0m0 0h0m3 6h0m1-4h0m3 5h0m3 0h0m0-8h0m3 3h0m0 1h0m3-1h0m0-2h0m1 6h0m1 0h0m0-1h0m3-4h0m3 0h0m7 3h0m-11 6h0m-3 6h0m-1 0h0m-3-3h0m-5 3h0m0-7h0m-2 5h0m-1 2h0m-3 0h0m-3 1h0m-2 1h0m0-9h0m-1 0h0m0 2h0m-2 2h0m-1-3h0m0 1h0m-3 6h0m-2 0h0m-1-2h0m-5 1h0m-3-2h0m-1 3h0m0-7h0m-2 2h0m-1-3h0m-1 9h0m0-8h0m-4 4h0m0 0h0m-4 1h0m-1-3h0m-2 2h0m-10-1h0m0-1h0m-6 4h0m-3 3h0m9 2h0m3 3h0m1 0h0m3-3h0m0 6h0m5-7h0m0 6h0m2-6h0m2 5h0m2-3h0m7-1h0m2 5h0m0 2h0m0-7h0m0 6h0m0-5h0m3-2h0m1 0h0m1 8h0m0-8h0m6 1h0m1 4h0m1 0h0m0-4h0m2 2h0m1 5h0m2-2h0m2-4h0m2 2h0m3-2h0m-1 9h0m-3 4h0m-7-4h0m-4 1h0m-4-2h0m-1 5h0m-4 0h0m-5-1h0m0 3h0m-2-7h0m-2 7h0m-2-2h0m-1 3h0m-1-8h0m-1 7h0m0-3h0m-2-3h0m-2 4h0m0 0h0m-3 0h0m-3 2h0m-1-8h0m-1 5h0m-4-1h0m-1 1h0m0 3h0m-10-7h0m-5 18h0m4-8h0m6-1h0m0 3h0m5 6h0m0-6h0m1-2h0m0 5h0m0-2h0m0-3h0m1 2h0m1 5h0m3-6h0m3 2h0m1 5h0m0-1h0m1-2h0m2-1h0m1-3h0m3 7h0m3-1h0m1-2h0m2-3h0m3 1h0m9 0h0m0-4h0m2 1h0m-11 14h0m0-5h0m-1 0h0m-1 0h0m-2 5h0m-1 3h0m-4 1h0m0-8h0m-8 5h0m-1 3h0m-1-9h0m-1 3h0m-3 2h0m-2-5h0m-1 6h0m0 2h0m-1-5h0m-9 1h0m0-1h0m-1-3h0m-2 8h0m-2-1h0m0 0h0m-1-5h0m-2 7h0m-3 10h0m3-1h0m3-3h0m4-2h0m1 0h0m2-1h0m3 5h0m0 2h0m0-7h0m2 1h0m0 2h0m1-5h0m4 4h0m2 1h0m3 4h0m2-9h0m5 1h0m1 5h0m1-6h0m5 0h0m2 1h0m-9 11h0m-10-1h0m-1 3h0m-1 3h0m-1-7h0m-4 2h0" stroke="#6e3b6c" stroke-width="2.9"/>
<path d="M620 819h0m-6 0h0m-6-3h0m-5-2h0m-2 3h0m-1 1h0m-4-2h0m2 12h0m1-4h0m0 1h0m0-4h0m6 8h0m1-4h0m1-1h0m0-4h0m2 4h0m1 1h0m1-2h0m0 3h0m0-4h0m1 6h0m4 1h0m2-7h0m2 1h0m1 5h0m4-6h0m1 5h0m8 5h0m-1 2h0m-2 1h0m-1 1h0m-1 2h0m-3-3h0m-3 1h0m0 1h0m-3-5h0m-2 5h0m-3-4h0m-1 6h0m0-1h0m-2-2h0m-4-3h0m0 0h0m-3 0h0m-1 6h0m-2-1h0m-1 0h0m4 7h0m0 4h0m1-9h0m1 3h0m1-1h0m1 0h0m5 0h0m1 4h0m1 2h0m1-8h0m0 2h0m4 2h0m2 5h0m3-4h0m0-4h0m1 3h0m6-4h0m0 0h0m-22 13h0" stroke="#6e3b6c" stroke-width="2.9"/>
<path d="M642 743h0m-12 19h0m2 3h0m6-1h0m3 0h0m-22 25h0m3-3h0m6-1h0m1 1h0m2 0h0m3-5h0m-18 10h0m-2 1h0m-3 1h0m-26 19h0m-2 9h0m13 5h0m20-4h0" stroke="#6e3b6c" stroke-width="2.9"/>
<path d="M768 469h0m11 8h0m-2 2h0m-4-1h0m-1-8h0m-1 2h0m-2-1h0m0 5h0m-1 2h0m-1-8h0m0 0h0m-1 8h0m0-7h0m0 6h0m0-3h0m-1 3h0m0 8h0m1 4h0m0 0h0m1-1h0m2 0h0m1-4h0m0-1h0m1-3h0m0 4h0m2 1h0m0 4h0m0-5h0m0-1h0m1 1h0m0 4h0m1-4h0m0 4h0m0-4h0m0 0h0m1 3h0m1 0h0m0-5h0m2 7h0m0-4h0m2 1h0m1 3h0m2-1h0m2 10h0m0-2h0m-1-1h0m0-3h0m-2 2h0m0 0h0m-1-4h0m-1 2h0m0 4h0m-2 0h0m0-2h0m-1 5h0m0-3h0m-1 1h0m0-5h0m0 1h0m0-1h0m0 3h0m-2-4h0m-1 6h0m-1-2h0m-1 3h0m-1 0h0m-1-4h0m0 0h0m0-1h0m0-2h0m0 5h0m-1 0h0m-1 1h0m-1 1h0m-1 0h0m-1 1h0m0 5h0m1-1h0m0 1h0m1 0h0m0 5h0m1-8h0m1 4h0m1 2h0m1-5h0m1 5h0m1-2h0m0-2h0m1 4h0m0-2h0m1-3h0m4 0h0m0 0h0m0-2h0m1 0h0m0 7h0m1-7h0m1 7h0m3-2h0m2 0h0m1 4h0m0-5h0m3 13h0m-1-5h0m-1 1h0m0-3h0m0 1h0m-1 5h0m0-5h0m0 2h0m-1 0h0m-2-2h0m-1 4h0m-5-2h0m0 2h0m-1-1h0m-1 1h0m-1 0h0m-2 2h0m0-2h0m-2-1h0m-1 2h0m0-2h0m-2 1h0m0 2h0m0-5h0m0 4h0m-1 3h0m0-8h0m0 4h0m-1 1h0m-1-2h0m-1 14h0m1-3h0m1 1h0m1-5h0m1 2h0m3 3h0m0-1h0m1 4h0m1-6h0m0-2h0m0 0h0m1 0h0m3 7h0m1-6h0m0 7h0m0-7h0m1 6h0m1 0h0m0 1h0m2-4h0m2 1h0m0 2h0m4-4h0m0 2h0m1 3h0m0-5h0m0-1h0m1-3h0m1 9h0m0-8h0m1 4h0m1 6h0m-1 3h0m0 2h0m0-2h0m-1 2h0m0-6h0m-1 5h0m-1 1h0m-1-5h0m0 6h0m-2-1h0m-1-5h0m0 2h0m-1-3h0m0 6h0m-1-4h0m0-1h0m0 4h0m0-2h0m-2-3h0m-1 8h0m-3-6h0m0 4h0m0 3h0m0-6h0m0-3h0m0 9h0m-3-4h0m-2-1h0m-2 5h0m0-1h0m0-5h0m-1 3h0m-1-2h0m0 0h0m0-3h0m-1 5h0m0-4h0m0 6h0m0-3h0m0 0h0m-1-5h0m-1 0h0m-1 3h0m0-2h0m0 11h0m0 1h0m1 0h0m1-3h0m0 6h0m5-6h0m1 4h0m1 0h0m2-2h0m1-1h0m0 0h0m0 1h0m1 0h0m0 0h0m2 5h0m0-2h0m1 2h0m0-3h0m1 4h0m2-5h0m1-2h0m1 5h0m-4 5h0m-3 2h0" stroke="#6e3b6c" stroke-width="2.9"/>
<path d="M603 816h0m-9 0h0m-1-1h0m-11 4h0m-33 9h0m5 1h0m11-4h0m0-4h0m8 0h0m1 2h0m29-1h0m3 5h0m2-1h0m1 3h0m2-1h0m-6 5h0m-46 0h0m-7-3h0m-8 5h0m-7-1h0m-1 4h0m-20 8h0m1 3h0m7-3h0m1-2h0m4 0h0m3 1h0m1-4h0m1-1h0m2 2h0m3-1h0m67 7h0m-2 2h0m-3 5h0m0 0h0m-81-5h0m-1 2h0m-8 3h0m0-2h0m-4 4h0m-4 1h0m-12 9h0m2 1h0m1-1h0m1-1h0m2 0h0m2-2h0m0 5h0m1-1h0m0-4h0m100 0h0m6-2h0m-7 13h0m-5 3h0m-35 1h0m-5-2h0m-3-1h0m-58-6h0m-2 3h0m0-3h0m-2 2h0m-2 1h0m-1 1h0m-11 5h0m-4 9h0m4-4h0m3-1h0m0-3h0m36 8h0m9-3h0m5 0h0m0 0h0m1-1h0m0 1h0m1-5h0m13 0h0m4 1h0m3 0h0m2-1h0m2 2h0m6 0h0m14 3h0m1-2h0m22 3h0m-5 6h0m-73 0h0m-8 1h0m-6 0h0m-4 1h0m-1 1h0m-7 1h0m-6 2h0m-24-1h0m-4-3h0m-6 15h0m3-7h0m17 6h0m4-2h0m6-1h0m3-1h0m-18 8h0m-4 2h0m-1 3h0m-2 1h0m-11-8h0m-7 9h0m-4 0h0m-5 5h0m1 0h0m11 5h0m1-5h0m1 5h0m1-5h0m3 2h0m5 0h0m1-5h0m2-1h0m1 3h0m1-3h0m-17 10h0m-1 3h0m-4 2h0m-5-4h0m-5 5h0m0-2h0m0 0h0m-2 2h0m-2 1h0m-1-5h0m3 8h0m6 2h0m1-1h0m1 0h0m1 1h0" stroke="#6e3b6c" stroke-width="2.9"/>
<path d="M706 603h0m2 1h0m2 5h0m18 8h0m-2-3h0m-2 0h0m-1 4h0m-1-4h0m-2 2h0m0-6h0m-1 6h0m-1-4h0m0 2h0m0 4h0m-2-7h0m0 2h0m-1 5h0m0-3h0m-1 0h0m-1 2h0m-1 2h0m-1-7h0m0-2h0m-3 2h0m-19 4h0m4 10h0m1-3h0m0 6h0m0-9h0m1 8h0m5 0h0m0 1h0m2-1h0m0-1h0m0 0h0m1 1h0m1-8h0m1 0h0m0 5h0m0-2h0m4 1h0m1 1h0m0 0h0m2-5h0m3 1h0m4 8h0m1-5h0m2-3h0m3-1h0m-19 19h0m-3-4h0m-1-2h0m0 3h0m-1-2h0m-2 3h0m-1-1h0m-2-3h0m-1 2h0m-1 3h0m-1-7h0m-3 6h0m-4-1h0m-7 5h0m1 5h0m2 2h0m1 1h0m4-1h0m5-2h0m3-2h0m0 5h0m2-4h0m1 1h0m0-6h0m2 3h0m2 1h0m3-2h0m-1 10h0m-11 4h0m-1 3h0m-1-8h0m0 8h0m-2-6h0m-2-1h0m-2 2h0m-3 5h0m-7-8h0m-14 11h0m15 3h0m0 4h0m2 0h0m2-1h0m1 1h0m0-5h0m1 3h0m1 0h0m5 0h0m2-7h0m1 5h0m1 4h0m0-5h0m2 1h0m-7 8h0m-5 2h0m-1 0h0m0-3h0m0 7h0m-1-1h0m0-3h0m-5 4h0m-1-3h0m-2 0h0m0-5h0m-2 3h0m-2-2h0m-1 1h0m-6 13h0m2 1h0m1-7h0m1 4h0m2 1h0m1 1h0m2 1h0m0 1h0m0-6h0m2 5h0m2 0h0m1-5h0m1 6h0m1-6h0m0 6h0m1-5h0m0-2h0m2 3h0m1-4h0m4 0h0m-10 14h0m0-3h0m-1 8h0m-1-7h0m0 6h0m-1-5h0m-3 3h0m-2 2h0m-3-7h0m-1 1h0m0-1h0m-1 1h0m0-1h0m-2 4h0m-1-3h0m-2 7h0m-1-8h0m-9 16h0m6-6h0m2 5h0m2 0h0m0-5h0m1 4h0m0-2h0m1 0h0m2 2h0m2 4h0m2-5h0m0-3h0m0 0h0m0 1h0m0 5h0m3 0h0m4 2h0m1-9h0m-2 10h0m-4 1h0m-1 4h0m-4 2h0m-2 1h0m-2-8h0m-1 3h0m-1-3h0m-1 5h0m-1 2h0m-2-2h0m-1-1h0m-3 5h0m-1-6h0m-4 8h0m3 1h0m1 5h0m1-7h0m0 6h0m1 3h0m0-2h0m1-5h0m1 3h0m1-4h0m0 2h0m1 1h0m0 1h0m1 1h0m0-6h0m3 4h0m1-2h0m2 2h0m5-1h0m3 6h0m-15 1h0m-1 9h0m-3-9h0m-3 3h0m-3 0h0m0 3h0m-1 0h0m0-5h0m-2 1h0m0 5h0m-5 9h0m1 1h0m0-2h0m1 3h0m1-6h0m2 1h0m2 2h0m3-4h0m6 14h0m-6-5h0m-4 3h0m-1 3h0m-4-4h0m-1 1h0m0-2h0m-1 1h0m0 2h0m-1 2h0m-1 2h0m0-2h0m-3-2h0m-3-2h0m-1 3h0m-1 9h0m1-3h0m2 2h0m6 5h0m0-6h0m3 1h0m6 4h0m-1 8h0m-8 0h0m-1-3h0m0-1h0m-1 2h0m0 3h0m-1-6h0m-1 9h0m-3-9h0m-9 13h0m7-1h0m1 7h0m0-1h0m5 1h0m0 0h0m2-8h0m1 6h0m2-6h0m2 1h0m-7 9h0m-5-1h0m-8 18h0m5 0h0m6-8h0m-6 19h0m-3-4h0m-1 2h0m-1-5h0m-1-1h0m-5 10h0m1-1h0m7 1h0" stroke="#6e3b6c" stroke-width="2.9"/>
<path d="M760 485h0m0-1h0m3 1h0m-9 11h0m-2 20h0m-1-3h0m-1 6h0m-6-6h0m1 12h0m3 4h0m3 0h0m2-7h0m2 5h0m3 0h0m1-5h0m4 12h0m-11-3h0m-2 2h0m-2-1h0m0 4h0m-4-4h0m3 10h0" stroke="#6e3b6c" stroke-width="2.9"/>
<path d="M807 569h0m2-1h0m1 0h0m0-2h0m0 1h0m1 2h0m2 0h0m0-3h0m3-3h0m1 0h0m1 0h0m1-1h0m1 7h0m5-2h0m0 0h0m2-4h0m0 2h0m1 3h0m1-4h0m1 1h0m0-1h0m2 4h0m0-3h0m1 1h0m1 3h0m0-4h0m3-1h0m1-3h0m0 5h0m1 3h0m5-3h0m1-2h0m1 5h0m0-1h0m2 0h0m2-1h0m0 0h0m2 2h0m11 10h0m-6-6h0m0 6h0m0-3h0m-1-5h0m0-1h0m0 7h0m0 1h0m-1 1h0m0-6h0m0 1h0m-1 3h0m-1-5h0m0 0h0m0 3h0m-1-3h0m-1-1h0m0 4h0m-1 3h0m0-1h0m-1-4h0m-1 2h0m0-1h0m0 5h0m-1-3h0m0 0h0m-1 0h0m-1-2h0m0-4h0m0 4h0m0-2h0m-1 6h0m0 0h0m0 1h0m-2 0h0m-1-9h0m-1 4h0m0 4h0m-1-8h0m-1 2h0m-1 3h0m0-4h0m0 6h0m-1 0h0m0 1h0m-2-1h0m0-3h0m-1 0h0m0 1h0m-2 1h0m0-3h0m-1 2h0m-1 4h0m-1-9h0m-1 1h0m-1 8h0m0-6h0m-3 5h0m0 1h0m-1-7h0m0 7h0m0-6h0m0 2h0m-3 1h0m0 3h0m-1-9h0m0 7h0m0-6h0m0 8h0m-1-2h0m-1-4h0m-1-2h0m0 5h0m-2-4h0m0 2h0m-1-2h0m0 6h0m-2-3h0m0 3h0m-1 0h0m0-5h0m0 3h0m0-4h0m0 6h0m0-1h0m0-5h0m-1 4h0m-2 0h0m0-5h0m0 0h0m-1 4h0m0-5h0m0 7h0m-1-4h0m-1 1h0m0 2h0m-1 1h0m0-1h0m0-3h0m-1 4h0m-1-7h0m0 4h0m0 5h0m0 0h0m-2-7h0m-1 4h0m-1 0h0m-2 3h0m-1 0h0m-3-1h0m0 0h0m-1 0h0m-1 1h0m-1-6h0m-2 4h0m-1 2h0m0-2h0m-2-4h0m-1 5h0m-1 1h0m0-2h0m-2 0h0m-6 2h0m-1-2h0m-30 11h0m12-2h0m1-3h0m0 6h0m3-6h0m0 5h0m0-1h0m6-3h0m0 1h0m0-1h0m1-2h0m1 5h0m0-1h0m0 1h0m0 1h0m1 0h0m1-8h0m1 3h0m2 6h0m1-3h0m0-4h0m1 2h0m0 5h0m1 0h0m0-7h0m1 3h0m1-1h0m1 3h0m2-4h0m1 5h0m0 1h0m1-3h0m2 0h0m0 2h0m1-4h0m0 4h0m0-2h0m0-1h0m1 3h0m0 0h0m0 0h0m1-8h0m0 3h0m0 0h0m1 1h0m0 3h0m1-7h0m1 2h0m0-1h0m0 1h0m1 7h0m0-7h0m0-2h0m1 8h0m1-7h0m1 8h0m1-7h0m1-2h0m0 6h0m0-6h0m0 9h0m0-1h0m0-3h0m1 0h0m0-3h0m1 2h0m1-4h0m0 6h0m1-5h0m0-1h0m0 5h0m1-4h0m1 0h0m0 3h0m1 1h0m0-5h0m1 9h0m3-9h0m0 6h0m1 1h0m0-7h0m1 5h0m0 0h0m0 3h0m0 0h0m1-2h0m0 2h0m1-2h0m0-2h0m1 4h0m0 0h0m0-8h0m1 6h0m1 0h0m1 3h0m2 0h0m0-3h0m0 2h0m2 0h0m0-7h0m1 4h0m0-3h0m0 0h0m0 4h0m1-2h0m0-2h0m2-1h0m1 6h0m0-2h0m2 1h0m0-2h0m0-1h0m1 0h0m1 3h0m0 3h0m1-2h0m1 2h0m1-3h0m1 1h0m0 2h0m0-5h0m1 4h0m0-1h0m0-2h0m1-4h0m2 3h0m0-2h0m0-2h0m1 3h0m0 6h0m1-3h0m0 1h0m1-2h0m0 0h0m0-5h0m0 0h0m2 9h0m1-2h0m0-2h0m1-3h0m0 6h0m0-3h0m1 2h0m1 1h0m2-4h0m0 1h0m0-5h0m1 3h0m1-1h0m0 0h0m1 6h0m1-4h0m1-2h0m0 0h0m2 0h0m2-2h0m1 7h0m0 2h0m1-6h0m0 5h0m0-2h0m0-6h0m1 6h0m0 2h0m2-1h0m1 0h0m0 1h0m1-2h0m1 3h0m1-7h0m0 2h0m0 0h0m1-1h0m0-1h0m1-2h0m0 9h0m1 0h0m1 0h0m0-6h0m0 1h0m1 5h0m0-2h0m0-5h0m2 3h0m0-4h0m0 0h0m2 8h0m0-5h0m1-1h0m16 15h0m-4-1h0m-1 1h0m-1-2h0m-2 3h0m0-2h0m-1-1h0m0 0h0m-1-1h0m0-5h0m-1 6h0m0 0h0m-1 1h0m-2-3h0m0-1h0m0 6h0m0-7h0m-5 1h0m0 5h0m0-4h0m0 5h0m-1 0h0m-2 0h0m0-7h0m-1-2h0m-2 4h0m-2 1h0m-1 1h0m-1-2h0m0-1h0m0 5h0m-1-8h0m0 9h0m-1-8h0m0 0h0m-1 2h0m0 5h0m-3 0h0m0-6h0m0 4h0m-1-1h0m0-3h0m-1 2h0m-1 4h0m0-2h0m0 0h0m0 3h0m-2-3h0m0-3h0m0-1h0m-2 5h0m-2-5h0m0 2h0m-1 1h0m0-3h0m-2 6h0m0-5h0m-1-1h0m0 2h0m-2 3h0m0-2h0m0-1h0m0-4h0m-2 1h0m0 5h0m0-4h0m-3 5h0m0 0h0m-1-6h0m-1-1h0m-1 7h0m0 2h0m0-6h0m-1 6h0m0-9h0m0 7h0m-1-4h0m-1 3h0m0 1h0m-1 0h0m-1 2h0m0 0h0m0-6h0m0 2h0m0 3h0m-3-6h0m0 5h0m0-2h0m-1 0h0m-1-4h0m-1-1h0m0 6h0m-1-3h0m0 4h0m-1 0h0m-1-5h0m-1 3h0m-1-1h0m0-4h0m-2 3h0m0 2h0m-2-1h0m0 4h0m0-3h0m-2-5h0m0 8h0m-1-5h0m0-1h0m-2 2h0m-1-4h0m0 3h0m-2 4h0m0 0h0m-1-7h0m0 5h0m0-5h0m-1 6h0m-1-1h0m0 1h0m0 0h0m-2-3h0m-1-3h0m-2 7h0m-1-6h0m-1 3h0m-2-3h0m0 3h0m-1-4h0m-2 8h0m-1-2h0m0-4h0m-1-1h0m0 4h0m-1 3h0m0-5h0m0 6h0m0-5h0m-2-3h0m0 1h0m-1 3h0m-2-4h0m0 8h0m-1-1h0m0 1h0m0-7h0m-2-2h0m0 1h0m-1 7h0m0-8h0m0 9h0m-1 0h0m0-5h0m0 3h0m-1-2h0m-1 1h0m0-5h0m0 6h0m-3 2h0m-1-6h0m0 1h0m-2 0h0m-2 5h0m-1-4h0m0-2h0m0 5h0m-2 1h0m0-3h0m-1-4h0m-1 4h0m0 2h0m0-8h0m-1 9h0m-1 0h0m0-5h0m0 5h0m-1-5h0m0 5h0m-1-9h0m-1 7h0m0-6h0m-1 8h0m-1-7h0m-3-1h0m-1 5h0m0 1h0m-1-1h0m0 3h0m-2-2h0m-2 2h0m0-2h0m-1 1h0m0 1h0m-2-3h0m-1 2h0m-1-5h0m0 5h0m-1-7h0m-4 8h0m-9 5h0m0 4h0m1 0h0m1-4h0m1-2h0m1 7h0m0 0h0m0-3h0m0 2h0m1-5h0m0 0h0m1 4h0m1-1h0m3 1h0m0-2h0m1-4h0m0 8h0m1-8h0m0-1h0m0 3h0m0 3h0m2-2h0m1 5h0m0-4h0m0-1h0m0-2h0m0 4h0m1-2h0m0 4h0m1-5h0m1 5h0m1-4h0m1-3h0m0 1h0m0 7h0m0-2h0m2-5h0m4 7h0m0-1h0m2-1h0m1 2h0m0 0h0m1-8h0m2 0h0m0-1h0m0 2h0m0 0h0m2 3h0m1-1h0m0 3h0m0-7h0m0 0h0m1 7h0m2-1h0m0-5h0m1 7h0m1-5h0m0-2h0m1 8h0m1-8h0m1 0h0m0 2h0m0 3h0m1 2h0m1-5h0m1 1h0m1-4h0m0 3h0m1 4h0m2 1h0m0 0h0m0-5h0m1-3h0m0 4h0m1-2h0m0 2h0m0 2h0m1 0h0m0 3h0m2-7h0m0 7h0m1-1h0m0-6h0m0 1h0m2 1h0m0 5h0m1-1h0m0 1h0m2-4h0m0 1h0m2 1h0m0-1h0m0 1h0m0-7h0m0 4h0m1 4h0m1-3h0m0-2h0m0-3h0m0 6h0m0 1h0m1-3h0m1-3h0m0 6h0m2 0h0m1-3h0m1 2h0m0-6h0m0 4h0m0 4h0m1-2h0m0-1h0m2-5h0m0 7h0m0-3h0m0-2h0m2 0h0m0 2h0m0-4h0m1 4h0m0-3h0m1 5h0m0 1h0m1 1h0m0-5h0m0 6h0m1-9h0m1 0h0m0 3h0m0 5h0m0 1h0m0-2h0m0-3h0m1-2h0m1 5h0m0-7h0m1 2h0m0 4h0m0-6h0m3 8h0m1 0h0m0-4h0m1 1h0m1-5h0m0 5h0m0-4h0m1 1h0m0-2h0m0 7h0m2-4h0m0 0h0m1 1h0m0-1h0m2 4h0m0-2h0m0-1h0m1-2h0m0 1h0m1-3h0m0 1h0m0 7h0m1-6h0m1 1h0m0 4h0m1 0h0m0 1h0m0-4h0m0 0h0m1 5h0m0-3h0m1-5h0m0 0h0m1 5h0m0-4h0m0 6h0m3-6h0m0 2h0m1-2h0m0 5h0m0 2h0m1-9h0m2 1h0m0 3h0m0-4h0m2 3h0m1 0h0m0 6h0m0-9h0m1 0h0m0 7h0m0-6h0m0 8h0m1-1h0m1-8h0m1 8h0m0-1h0m1-6h0m0 7h0m1-7h0m1 8h0m0-5h0m1-4h0m0 2h0m0 6h0m0-6h0m0 3h0m1 4h0m0-8h0m2 2h0m0 1h0m1-3h0m1 0h0m1 3h0m0 3h0m1-1h0m0-4h0m1-2h0m0 5h0m0-2h0m2 5h0m0-3h0m0-4h0m0 0h0m0-1h0m0 9h0m0-9h0m2 0h0m0 2h0m0 7h0m1-4h0m1 2h0m0-4h0m1 4h0m0 1h0m0-7h0m1 5h0m0-5h0m0 0h0m1 1h0m0 5h0m1-6h0m0 2h0m1-3h0m0 5h0m1-2h0m0-3h0m0 2h0m1 3h0m0-4h0m2 2h0m1 2h0m1 2h0m0-1h0m2-4h0m0-1h0m0-1h0m1 5h0m0-5h0m1 2h0m1-1h0m0 4h0m0 4h0m1-7h0m0 7h0m0-9h0m1 7h0m0-5h0m3 2h0m0 5h0m1-6h0m1 2h0m0-1h0m2-3h0m0 8h0m0-5h0m2 1h0m0 1h0m0 2h0m0-2h0m0 3h0m0-9h0m2 3h0m1 0h0m0 5h0m1-1h0m1 4h0m0-1h0m-2 0h0m-1 2h0m0 2h0m0 2h0m-1-1h0m-1 1h0m0-6h0m-1 3h0m-1 6h0m-1-7h0m0 1h0m-1-3h0m0 9h0m-2-9h0m0 3h0m-2 6h0m-1-3h0m0-1h0m0-4h0m-2 5h0m0 1h0m-2 0h0m-1 0h0m0-6h0m-2 4h0m0 2h0m0-3h0m-2-4h0m-1 1h0m0 1h0m0-2h0m0 4h0m-1-3h0m0 0h0m0 8h0m-1-1h0m-1-6h0m-1 3h0m-1 4h0m-1 0h0m0-6h0m0 5h0m-1 1h0m-1-5h0m-3 0h0m-1-3h0m-2 8h0m0-3h0m-1-5h0m-1-1h0m-1 8h0m0-4h0m0-4h0m-1 8h0m-1 0h0m0 0h0m0-6h0m-1-1h0m-1 6h0m-1-7h0m0 5h0m0 1h0m-4-2h0m0-2h0m-1-2h0m0 3h0m-2-2h0m0 5h0m-1-3h0m-1-3h0m-2 3h0m-1 4h0m0-7h0m-1 2h0m0 4h0m0 3h0m-1-1h0m0-7h0m0-1h0m0 5h0m0 3h0m-1 0h0m0 1h0m0-8h0m-1 2h0m0 6h0m-2-5h0m0-1h0m0 0h0m-2 4h0m-2-4h0m-1 2h0m-1 2h0m-1-4h0m-1 2h0m0-3h0m0 4h0m-1 2h0m0 0h0m0-2h0m-1-4h0m0 5h0m-1-7h0m0 1h0m-1 2h0m0-2h0m0 4h0m-1 3h0m-1-3h0m-1 4h0m0-6h0m0-1h0m-1 0h0m0 1h0m-1-3h0m-1 8h0m0 0h0m-1-2h0m0 0h0m-2 3h0m0 0h0m0-4h0m-1-3h0m0-2h0m0 6h0m0-2h0m0-4h0m-1 1h0m0 2h0m-1 3h0m0-1h0m-1 3h0m0-7h0m-2 0h0m0-1h0m-1 4h0m0 4h0m-1-7h0m0 7h0m0-7h0m-1 8h0m0-3h0m-1-2h0m0-3h0m-1 8h0m0-2h0m-1-3h0m-1 2h0m0-6h0m0 8h0m-1-2h0m-1 0h0m-1 3h0m-2-8h0m0-1h0m-1 1h0m-1 6h0m-1 1h0m-2-3h0m0-1h0m0 4h0m-1-4h0m-1-2h0m0-2h0m-1 8h0m0-7h0m-1 2h0m0 0h0m-1-3h0m0 9h0m-1-5h0m0-3h0m-1 7h0m-2-6h0m0 6h0m0 0h0m-1 0h0m0 1h0m-1-8h0m0 0h0m-1 0h0m0 0h0m-1 4h0m0 0h0m-1 2h0m0 0h0m0 1h0m-1 1h0m0-3h0m-1-1h0m0-1h0m-1 2h0m-1-2h0m-1 0h0m0-3h0m0-1h0m0 1h0m0 7h0m-1-3h0m0-3h0m-1 4h0m-1-5h0m-1 7h0m-3-6h0m-1 6h0m-2 1h0m-1-4h0m0-2h0m0-3h0m-4 6h0m-1 2h0m-1-7h0m0 8h0m0-4h0m0-5h0m-1 2h0m-2 2h0m0-3h0m0 7h0m0 0h0m-1-4h0m-1 0h0m-1 2h0m-1-5h0m-1 3h0m0 1h0m-1-5h0m0 2h0m0 2h0m-1 4h0m0-8h0m0 8h0m-1-8h0m0 3h0m0 6h0m-1-5h0m-1 0h0m0 1h0m-1-4h0m0-1h0m-1 6h0m-1-4h0m0 3h0m0 2h0m-2-5h0m-1 1h0m-1 2h0m-3-5h0m10 11h0m1-1h0m4 0h0m0 1h0m0 1h0m1-1h0m1-1h0m0 3h0m1 0h0m4-3h0m1 5h0m0-4h0m1 5h0m1-3h0m0 2h0m1-3h0m0 6h0m0-8h0m0 4h0m0-3h0m1 5h0m1-4h0m2 0h0m2-2h0m0 2h0m1 0h0m1 2h0m0 1h0m1 1h0m0-6h0m0 1h0m0 6h0m1-7h0m2 9h0m0-9h0m0 8h0m1-6h0m0-2h0m0 7h0m1-6h0m0 2h0m1 4h0m0-5h0m1-2h0m0 5h0m0 3h0m1 0h0m0-3h0m0-5h0m0 4h0m1 2h0m0-6h0m1 5h0m1 0h0m0 2h0m0 0h0m1-7h0m2 2h0m2 3h0m1-4h0m1 6h0m1-6h0m1-1h0m1 1h0m0 7h0m0-7h0m0-1h0m1 7h0m0-2h0m1 4h0m0 0h0m1-7h0m2 2h0m0 4h0m0-5h0m1 4h0m0-2h0m1 1h0m2 0h0m0 0h0m4 3h0m0-5h0m4 3h0m0-5h0m1 2h0m0-2h0m0 5h0m1-6h0m0 4h0m1-2h0m1 5h0m0-4h0m1-2h0m1 0h0m0-1h0m1 6h0m0-7h0m0 7h0m1-3h0m0 3h0m1-3h0m1-4h0m2 2h0m0 2h0m1 3h0m1-6h0m1 4h0m2 2h0m2-7h0m0 5h0m1 3h0m1 0h0m0-6h0m1 6h0m0-4h0m0 1h0m1-5h0m0 7h0m0 1h0m1-7h0m1 3h0m0-2h0m1-1h0m1 2h0m1 4h0m0 2h0m0-6h0m4-1h0m0 0h0m1 4h0m0 1h0m1-4h0m0 1h0m0 4h0m0-1h0m1-3h0m0-4h0m2 9h0m0-8h0m1 3h0m0 1h0m0 3h0m1-7h0m0 7h0m0-1h0m0-3h0m1-1h0m0-3h0m0 5h0m2-1h0m0 5h0m1-2h0m0 2h0m1-3h0m0-3h0m1 4h0m1 0h0m0-2h0m1 0h0m0-4h0m0 5h0m1-1h0m1-3h0m2 7h0m0-6h0m0-3h0m1 1h0m0 6h0m1 1h0m0-4h0m1-4h0m0 1h0m4 5h0m1-6h0m0 5h0m1 4h0m1-7h0m0 1h0m1 3h0m0-1h0m1-3h0m0 4h0m1 1h0m1 1h0m0 0h0m1-6h0m0 6h0m0-5h0m1-1h0m0 6h0m1-3h0m0-3h0m2 5h0m1-5h0m5 3h0m2-5h0m0 3h0m1 4h0m0 1h0m0-4h0m1 5h0m1-7h0m0 5h0m0-2h0m1-5h0m0 6h0m0-2h0m1 1h0m0 4h0m3-8h0m2 0h0m1 2h0m2 1h0m1-4h0m-12 11h0m-1-1h0m-1 0h0m-1 2h0m-1 1h0m-1 4h0m-1 1h0m0-7h0m0 5h0m-1-3h0m-1 3h0m-1-3h0m0 0h0m0-2h0m-2 3h0m-1 0h0m-1-3h0m-1 2h0m-1-2h0m0 8h0m-3-4h0m0-3h0m-2 4h0m-2 2h0m-1-5h0m0 5h0m0 1h0m-1-5h0m-1-1h0m-1 3h0m0 1h0m-1-1h0m0 1h0m-1 1h0m-2-6h0m-1 5h0m0-7h0m-1 3h0m0 6h0m0-9h0m-1 5h0m-1-5h0m-1 6h0m-1-6h0m-1 3h0m0-1h0m0-1h0m-2 7h0m-1-2h0m-2 2h0m-1-7h0m-1 1h0m0 4h0m0 1h0m-1-5h0m-1 1h0m-1 3h0m-1-1h0m0-4h0m0 1h0m-1 4h0m-1-1h0m-2 0h0m0-2h0m-1 0h0m-1 5h0m0-5h0m0-1h0m-1 7h0m0-7h0m-1 1h0m0-1h0m0-2h0m-2 8h0m0-3h0m0-3h0m0 2h0m-1-2h0m-2 6h0m0-8h0m-1 6h0m0-5h0m0-1h0m-1 3h0m0 5h0m-1-6h0m-1 2h0m-1 1h0m0 2h0m-1-6h0m0 2h0m0 2h0m-1-3h0m-2 4h0m0-1h0m-1 3h0m-1-6h0m0 0h0m-5-1h0m-2 6h0m0-2h0m-3-1h0m-1-2h0m-1 6h0m-1-5h0m0-2h0m0 2h0m0-1h0m-1 2h0m-1-3h0m0 3h0m-1 0h0m-1-3h0m-1 1h0m-1-1h0m-1 1h0m-1 2h0m-2-4h0m-1 3h0m-1-3h0m-6 0h0m0 0h0m-1 2h0m-5-2h0m49 11h0m7 0h0m7 2h0m2-3h0m7 1h0m4-1h0m0 1h0m3 4h0m5-4h0m0 0h0m7-1h0m6 1h0" stroke="#6e3b6c" stroke-width="2.9"/>
<path d="M598 816h0m-48 13h0m14-1h0m1-5h0m2-1h0m1 5h0m0-1h0m7-3h0m1 1h0m1 0h0m1-4h0m10 1h0m1 6h0m2-1h0m0-4h0m2 6h0m2-7h0m0 0h0m5 4h0m3-4h0m3 5h0m4 1h0m-2 7h0m-6 0h0m-1 3h0m0-7h0m-2 9h0m-4-7h0m-1 3h0m-2-1h0m0 1h0m-1 0h0m-1 1h0m0 0h0m-2 1h0m-3 0h0m-3-5h0m0 6h0m-3 0h0m-1-4h0m-6 4h0m-3-4h0m-3-3h0m-1 5h0m-2 1h0m-1-5h0m-8 4h0m-1 3h0m-7-1h0m-1-1h0m-1 2h0m-24 10h0m1-2h0m5-1h0m1-4h0m4 1h0m1 5h0m1-4h0m3-3h0m5 8h0m1-3h0m1-4h0m7 2h0m4-4h0m3 4h0m1-1h0m3 0h0m16-3h0m0 3h0m5 2h0m12 3h0m1-4h0m3-2h0m1 7h0m1-4h0m5-4h0m0 7h0m-5 5h0m-2 5h0m-1-7h0m-1 0h0m-7 3h0m-6-3h0m-2 4h0m0 1h0m-2 0h0m-2-5h0m-1 6h0m0-5h0m-1-1h0m-2 5h0m-2-3h0m-5 3h0m-1-6h0m-5 9h0m-4-8h0m-15 1h0m-4 1h0m-1 2h0m-2-3h0m-7 4h0m-2-4h0m-2 2h0m-2 4h0m-5-4h0m-23 10h0m6 4h0m1-4h0m1-4h0m1 2h0m11-2h0m1 5h0m3-4h0m1 8h0m0-8h0m0 3h0m1-2h0m2 3h0m0 4h0m1-5h0m1-4h0m0 9h0m0-3h0m17 3h0m2-3h0m1 1h0m4-4h0m5 1h0m1 3h0m2-5h0m0 0h0m8 0h0m5 5h0m1-3h0m1-4h0m3 3h0m0-1h0m1 1h0m1 0h0m0 6h0m1-2h0m1 1h0m2 0h0m5 0h0m2-3h0m4 0h0m0-4h0m2-1h0m0 8h0m5-8h0m3 3h0m0 3h0m-4 4h0m-2 1h0m0 4h0m-2 1h0m-3-2h0m-1-4h0m-2 4h0m-1 0h0m-1 2h0m-3-1h0m-3-2h0m-5-2h0m0 1h0m-1 0h0m-3 3h0m0-2h0m-1-3h0m-1 9h0m0-9h0m-8 5h0m-4 2h0m-3-6h0m-1 2h0m-2 4h0m-1-2h0m-5 0h0m-2-3h0m-3 2h0m-1 5h0m0-8h0m-5 7h0m-1-4h0m0 1h0m-2-2h0m-2 4h0m-4-2h0m-1-4h0m-4 8h0m-4-2h0m-5-7h0m-2 1h0m-2 5h0m-2 1h0m-5-3h0m0 2h0m-1-4h0m-4 1h0m0 6h0m-1-6h0m0 0h0m-3 5h0m-3-3h0m-8 14h0m0-4h0m3-5h0m4 2h0m2 1h0m1 0h0m10 5h0m0-8h0m1 2h0m3 5h0m6 2h0m1-2h0m1-5h0m4 0h0m0 6h0m1-3h0m2 0h0m4-5h0m2 7h0m6-7h0m2 2h0m1-1h0m0 4h0m5-4h0m2-1h0m44 2h0m4 7h0m2 1h0m-1 4h0m-1 3h0m-86-3h0m-14-1h0m-6-1h0m-1 2h0m-7 5h0m-3-9h0m-2 2h0m0 6h0m-2-3h0m-1 1h0m-12 12h0m3-3h0m1-1h0m4-4h0m4 2h0m2-2h0m2 5h0m4-4h0m1 5h0m2-4h0m-3 12h0m-6-4h0m0 0h0m0 3h0m-6 1h0m-2-4h0m-1 4h0m0 1h0m-3 1h0m0-4h0m-2 5h0m-5 0h0m-1-1h0m0-1h0m-14 13h0m4-1h0m0 1h0m4-2h0m0 1h0m5-1h0m1-1h0m8-5h0m2 0h0m-16 10h0m-6 6h0m-2 0h0m-4 2h0m0 0h0m0-1h0m-1-2h0m-1 7h0" stroke="#6e3b6c" stroke-width="2.9"/>
<path d="M615 849h0m5 0h0m5-5h0m3 4h0m1-6h0m3 6h0m5 1h0m7-4h0m8 11h0m-8-1h0m-1-1h0m-3-1h0m0 1h0m-16 2h0m-4 2h0m-2-2h0m-4 0h0m-1 0h0m-4-5h0m-3 6h0m-2 12h0m4-1h0m15-7h0m0 6h0m4-7h0m1 3h0m1 1h0m2 4h0m3-1h0m0-6h0m2 2h0m3 6h0m1-2h0m2-5h0m2 1h0m3-2h0m-6 16h0m-1 1h0m-2-8h0m-2 0h0m-25 8h0m-1-7h0m-11 5h0m-4 9h0m3 4h0m10-7h0m1 3h0m0 3h0m2-4h0m10-3h0m8 5h0m7 0h0m2-4h0m0-2h0m1 4h0m-6 8h0m-3 2h0m-13 4h0m-6-7h0m-1 2h0m-4 4h0m-1-7h0m-2 0h0m-1 2h0m-6 4h0m-7 4h0m6 5h0m1-2h0m6 2h0m3 2h0m6-1h0m15-2h0m7-3h0m1 10h0m-21 5h0m-4 2h0m-2-5h0m-3-1h0m-4 0h0m-1 0h0m3 8h0m10 3h0m8 3h0m4 2h0m-5 3h0m-1 1h0m-10 3h0m-2-2h0m-1 0h0m-1-2h0" stroke="#6e3b6c" stroke-width="2.9"/>
<path d="M765 648h0m4 1h0m1-3h0m1-2h0m1 3h0m1 2h0m0-5h0m2 5h0m2-5h0m0 5h0m3-5h0m0 2h0m1 3h0m1 0h0m0-1h0m1-2h0m0 3h0m2-1h0m1 1h0m0-2h0m2 0h0m2 2h0m2-4h0m1 4h0m1-3h0m0 0h0m0-1h0m4 2h0m0-4h0m1 5h0m0 1h0m3-7h0m2 7h0m0-4h0m1 3h0m0-7h0m0 8h0m2-3h0m3 2h0m0-1h0m1-7h0m1 5h0m1-4h0m1 6h0m1-2h0m1-1h0m1 5h0m1-5h0m0 2h0m1 2h0m0 1h0m1-6h0m0 2h0m1 0h0m0 2h0m1 1h0m0-1h0m1 2h0m0-1h0m1-1h0m1 1h0m1-4h0m0 3h0m2 2h0m1-1h0m1 0h0m0 0h0m1 0h0m1 1h0m0-1h0m0 0h0m1-3h0m1 4h0m4-3h0m2 1h0m1 2h0m0 0h0m2-1h0m0-6h0m1 6h0m1-1h0m3 2h0m0 0h0m4-3h0m2-3h0m1 5h0m1-7h0m1 2h0m0 3h0m1 1h0m2-1h0m1 2h0m1-4h0m4 3h0m4 2h0m0-5h0m1 3h0m1-1h0m0-3h0m2 3h0m-14 7h0m-1 0h0m-5-1h0m0 0h0m-1 1h0m-1-1h0m0 1h0m0-2h0m-1 3h0m-4-3h0m0 3h0m0 1h0m-1-1h0m0 0h0m-1 4h0m0-5h0m-1 0h0m0 1h0m0 4h0m-1-1h0m0-1h0m-1 3h0m0-3h0m0 1h0m0-3h0m0-3h0m-1-1h0m0 1h0m-1 0h0m-1 8h0m0-7h0m0 2h0m0-3h0m0 2h0m-1 1h0m0-3h0m-1 8h0m-1-5h0m-1 4h0m0 0h0m0 0h0m0 1h0m0 0h0m-2-7h0m0 4h0m0-1h0m0-3h0m0 2h0m-1 1h0m0 0h0m-2-2h0m0-3h0m0 0h0m-1 8h0m-1 0h0m0-5h0m0 2h0m-1-2h0m0-1h0m-2 1h0m-1 2h0m0-3h0m0-2h0m0 0h0m0 9h0m-1-5h0m-1-4h0m0 6h0m-1 1h0m-1-2h0m0-3h0m0 5h0m-1 1h0m-1-7h0m-1 0h0m-1 3h0m0-4h0m-1 6h0m0 3h0m-1-1h0m0 1h0m0-9h0m-1 4h0m0 4h0m0-8h0m0 3h0m0 1h0m-1 1h0m0 2h0m-1 0h0m0-1h0m-1-3h0m-1 5h0m0-8h0m-1 2h0m-1 0h0m0 5h0m-1-6h0m-2 7h0m0-4h0m0-1h0m-1 3h0m0-1h0m0 0h0m-1-3h0m0 3h0m0 2h0m-1-5h0m0 6h0m-1-6h0m-3 1h0m0 2h0m0 2h0m-1-4h0m0-3h0m-1 8h0m0-7h0m-1 7h0m0-3h0m0-4h0m0 5h0m-1 1h0m0-5h0m-1 1h0m-1 6h0m0-4h0m0-4h0m-1 8h0m0-6h0m0-3h0m0 7h0m-1 1h0m0 1h0m0-2h0m-1 1h0m0-6h0m0-2h0m0 4h0m-1 1h0m-1-4h0m0 6h0m-2 2h0m0-1h0m-1-3h0m0 2h0m0-2h0m-1-1h0m0 0h0m0-1h0m-1 6h0m-1-5h0m0-4h0m0 7h0m-1-6h0m0-1h0m0 9h0m0-5h0m-1 1h0m-1 3h0m0-3h0m0 1h0m-2 3h0m0-1h0m0-6h0m0 3h0m-1 1h0m0-2h0m-1 0h0m0 0h0m0 4h0m-1-3h0m0-3h0m-2 7h0m0 0h0m-1-5h0m-1 2h0m-1 0h0m0 2h0m-2-5h0m0 0h0m0 3h0m-2 1h0m-1-3h0m0 5h0m-1-4h0m0 0h0m-2 1h0m-5 12h0m1-5h0m4 2h0m0-4h0m0 2h0m1-3h0m1 1h0m0-1h0m1 8h0m1-8h0m1 0h0m0 6h0m0 2h0m0-6h0m1 5h0m1 2h0m0-9h0m0 2h0m0 2h0m0 5h0m2-7h0m0 5h0m2-2h0m0 4h0m1-5h0m0 3h0m0 0h0m0 1h0m2-5h0m0-2h0m0 7h0m1-8h0m1 7h0m0 0h0m0-3h0m0 2h0m1 0h0m0-1h0m1-4h0m1 0h0m1 6h0m1-7h0m0 9h0m0 0h0m1-1h0m0 1h0m0 0h0m0-7h0m1 2h0m0 3h0m0-4h0m0 5h0m0 1h0m1 0h0m0-3h0m1-4h0m0 1h0m1 3h0m0 3h0m0-5h0m1-3h0m1 8h0m0-5h0m0 0h0m0 4h0m1-2h0m0 3h0m1-9h0m1 7h0m0-7h0m1 4h0m0 0h0m1 0h0m0 3h0m0-2h0m0-1h0m0 2h0m3-1h0m0-2h0m0-3h0m0 4h0m1 2h0m0 0h0m1 0h0m1-1h0m0 1h0m0-4h0m0 6h0m1-2h0m1 0h0m1 1h0m1-3h0m0 5h0m0-5h0m2 5h0m1-9h0m0 8h0m1-1h0m0-6h0m0 6h0m1 1h0m0-2h0m1 1h0m0 0h0m0-6h0m0 2h0m0-2h0m1 1h0m0 4h0m2 3h0m0-7h0m1 0h0m1 2h0m0 3h0m1-1h0m0 3h0m1-1h0m1 0h0m0-4h0m0-2h0m1-2h0m1 2h0m0-1h0m1 5h0m1-5h0m1 7h0m0-6h0m1-1h0m0 1h0m0-1h0m0 8h0m1-3h0m0-4h0m1-2h0m1 3h0m0 4h0m1-7h0m0 1h0m0 1h0m2 0h0m1 1h0m2-1h0m1 0h0m12-1h0m-20 12h0m-3-3h0m-3 0h0m0 0h0m-2 5h0m0-3h0m0 0h0m0 1h0m-3-1h0m-1 6h0m-1-5h0m0 5h0m0-8h0m-1 3h0m-1-1h0m0 0h0m-2-2h0m-2 6h0m-1-6h0m-1 2h0m-1 1h0m0 5h0m0-2h0m-1 0h0m0-6h0m-1 4h0m0 0h0m0 4h0m-1 1h0m0-9h0m-1 8h0m0 0h0m0-6h0m-1 0h0m0-1h0m0 7h0m0-7h0m-1 8h0m0-3h0m0-3h0m0 3h0m-1-1h0m0-5h0m-1 5h0m0-4h0m-2-1h0m0 5h0m-1 4h0m0-4h0m-2-5h0m-1 0h0m0 5h0m-2 0h0m0 2h0m0 1h0m-1-4h0m0 5h0m0-1h0m-1-3h0m0-1h0m0 1h0m0 4h0m-1-7h0m-1 6h0m-1-8h0m-1 5h0m0 2h0m-1-1h0m0-3h0m-1 2h0m0-3h0m-1-2h0m0 1h0m-1 6h0m-1 1h0m0-7h0m0 7h0m0-5h0m-1 4h0m0-1h0m-3 1h0m0-6h0m0 4h0m-1 4h0m0-8h0m-1 3h0m0-3h0m0-1h0m-1 5h0m0 4h0m-1-4h0m-1-5h0m0 4h0m-1-4h0m-1 3h0m0 0h0m0 1h0m-1 3h0m0-2h0m-1 4h0m-1-6h0m0 1h0m0 0h0m-1-3h0m0 4h0m0-3h0m0 6h0m-1-6h0m0 3h0m0 2h0m-1 0h0m0-7h0m-1 1h0m-1 4h0m0 0h0m0-4h0m0 4h0m-1-4h0m0 2h0m0 3h0m-4-2h0m0-1h0m-1 6h0m0-8h0m-1 5h0m0 1h0m-4 2h0m3 10h0m0-4h0m0-2h0m1 6h0m1-7h0m0 6h0m0 1h0m2-8h0m1 5h0m0-1h0m0-4h0m0 2h0m2 1h0m0 2h0m1-1h0m1-5h0m2 6h0m1-2h0m0-4h0m0 2h0m1 3h0m2-4h0m0 5h0m3-4h0m0 5h0m2-4h0m1 2h0m0 1h0m0-1h0m1 0h0m0 1h0m0-2h0m1 5h0m0-3h0m0-3h0m0-1h0m1 6h0m0-3h0m1-3h0m1 2h0m0-1h0m1 2h0m1-3h0m0-1h0m0 0h0m1 5h0m1-3h0m1 3h0m1 2h0m0-7h0m1 1h0m1 6h0m1-2h0m0-3h0m1 5h0m0-2h0m0-3h0m1-1h0m1 4h0m0-4h0m0 6h0m1-2h0m0 3h0m0 0h0m1 0h0m0-4h0m0-4h0m1 4h0m1 1h0m0-3h0m0 2h0m3 2h0m0-2h0m1-4h0m0 3h0m0-1h0m0-3h0m1 0h0m0 1h0m0 2h0m1 2h0m0-4h0m0 2h0m0-3h0m-3 11h0m-8 1h0m-1-2h0m0 1h0m-1-1h0m-1 9h0m-1-3h0m0-2h0m0 1h0m-2-2h0m-1-1h0m-1-1h0m-1 1h0m-1 0h0m0 5h0m-2-5h0m0 1h0m-1 4h0m-1-7h0m-1 7h0m0 2h0m-1-7h0m0 2h0m-1 4h0m0-1h0m0-1h0m0 3h0m-1-4h0m-1-2h0m0 2h0m0-5h0m0 2h0m-2 1h0m0-1h0m0-2h0m-1 9h0m0-6h0m0 6h0m-2-8h0m0 7h0m-1 1h0m0-4h0m-1 2h0m0 0h0m-1-5h0m-1 4h0m0 0h0m0-4h0m0 4h0m-1 0h0m-1-2h0m0 5h0m0-5h0m0 1h0m-1 2h0m0-5h0m0-2h0m-1 9h0m-2-2h0m0-2h0m-1-1h0m-1-2h0m0 4h0m0-3h0m0 4h0m-1-5h0m-2 1h0m0-2h0m0 0h0m0 0h0m-1 7h0m0-5h0m-3 3h0m-4 11h0m1-4h0m1 1h0m0 5h0m1-1h0m1-7h0m0 0h0m1 5h0m1-2h0m0 1h0m1 2h0m1-1h0m0-2h0m0 0h0m0 0h0m2 5h0m0-5h0m0-4h0m1 4h0m0 3h0m0-7h0m1 9h0m0-3h0m0-2h0m1-3h0m0 4h0m1-5h0m1 2h0m0 1h0m0-2h0m1 3h0m0 5h0m1-7h0m1-2h0m0 3h0m0 2h0m1-1h0m0 0h0m0-1h0m1-1h0m0 0h0m1-2h0m1 4h0m0 5h0m0-7h0m0 0h0m0-1h0m1 6h0m0-1h0m1 1h0m2-4h0m2 6h0m0-7h0m1 6h0m2-1h0m1-3h0m0 4h0m1-7h0m0 0h0m1 3h0m1-3h0m1 3h0m2-2h0m5-2h0m2 1h0m-17 9h0m-1 3h0m0-1h0m-1-2h0m0 1h0m-1-1h0m0 2h0m-1 1h0m0 4h0m-1-3h0m-1 3h0m0 2h0m0-8h0m-1 3h0m-1 0h0m0 3h0m-1 2h0m0 0h0m-1-2h0m-1 2h0m0-9h0m-1 9h0m0-7h0m0 4h0m-1-3h0m0-2h0m0-1h0m-1 5h0m0 4h0m-1-7h0m0 7h0m0 0h0m0 0h0m0-8h0m-1 3h0m0 3h0m-1 2h0m0-9h0m-1 8h0m-1-5h0m0 1h0m-2-3h0m-1-1h0m0 8h0m-1-4h0m0 0h0m-2-2h0m0 4h0m-1 0h0m-1-5h0m0 5h0m0-6h0m-1 3h0m-1 4h0m-6 7h0m2 0h0m0 2h0m1 3h0m0-7h0m0 2h0m1 2h0m0-1h0m1 0h0m0-3h0m1 5h0m1 2h0m0-6h0m1-1h0m1 4h0m0 3h0m0-1h0m1 1h0m1-9h0m1 8h0m0-4h0m0 1h0m1 4h0m0-4h0m0 2h0m1-7h0m1 7h0m0 1h0m0-4h0m1-1h0m0 4h0m0 1h0m2-7h0m1 0h0m0-1h0m2 3h0m0 5h0m2-8h0m0 4h0m1 0h0m1-1h0m-9 7h0m0 2h0m-1 0h0m0 5h0m-2-3h0m-1 0h0m0-4h0m-1 4h0m0-4h0m0 9h0m-1-7h0m-2 2h0m0 2h0m-1 0h0m-1-6h0m0 6h0m0-2h0m-3 5h0m-1 0h0m-1-2h0m-1-4h0m0 0h0m-1 1h0m-1 5h0m0-9h0m0 1h0m-1-1h0m-9 17h0m2 2h0m3-1h0m0-1h0m2-1h0m0-6h0m0 7h0m0-4h0m1 5h0m1-1h0m0-1h0m1-4h0m0-2h0m2 1h0m1-1h0m0 3h0m0 5h0m1-7h0m1 0h0m0 5h0m0 3h0m1-3h0m1-2h0m1-4h0m0 5h0m1-2h0m1-2h0m0 0h0m0 2h0m1-3h0m0 2h0m1 2h0m2 3h0m3-4h0m-6 7h0m-2 1h0m-1 3h0m-1 1h0m-2 0h0m-1 1h0m0-5h0m0 5h0m-2-2h0m0-2h0m-1 0h0m-1-2h0m-1 4h0m-1 4h0m0-2h0m0-2h0m-1-4h0m-3 3h0m0-3h0m-1 7h0m-1-1h0m0-1h0m0-4h0m-3 5h0m0-3h0m-1 3h0m-1 0h0m-2 0h0m-1 3h0m-1-2h0m-1 2h0m0-5h0m-1 2h0m-5 3h0m-8 7h0m0 3h0m0-4h0m0 0h0m0 3h0m1 0h0m2 1h0m0-3h0m0-1h0m2-1h0m1 4h0m0-6h0m1 6h0m0-5h0m0-2h0m1 5h0m0 1h0m2-4h0m1 4h0m0-6h0m1-1h0m0 2h0m1 5h0m1-6h0m1 1h0m0 7h0m0-1h0m1-5h0m0 5h0m1 1h0m1-5h0m0 3h0m0-3h0m0 4h0m1-5h0m0-3h0m0 1h0m1 2h0m0-1h0m1 6h0m0-8h0m0 2h0m0 5h0m1 0h0m2-6h0m0 2h0m0 2h0m1-5h0m0 1h0m1 0h0m3 0h0m-6 13h0m-3-2h0m-1 2h0m-2-4h0m-1 6h0m0-5h0m-1 3h0m-1-4h0m0 4h0m0-4h0m-1 7h0m0-6h0m0 7h0m0-2h0m-2 2h0m-2-8h0m-1 1h0m-1 5h0m0 2h0m-2-4h0m0 3h0m-1-1h0m0-4h0m0 3h0m-1 0h0m0 4h0m0-9h0m0 5h0m-1-5h0m0 9h0m0-7h0m0 5h0m0-6h0m-1 8h0m0-2h0m0-6h0m0 8h0m-1-8h0m-1 1h0m0-2h0m-1 9h0m-1 0h0m-2-3h0m-1-3h0m-1-2h0m-1 8h0m0-4h0m0 4h0m-3-6h0m-1 4h0m0-2h0m0 1h0m-2 1h0m0 1h0m-2-2h0m-1 1h0m-14 11h0m1 0h0m3 0h0m3-1h0m1 0h0m0 2h0m1-4h0m0 3h0m3-4h0m0-2h0m1 4h0m0-4h0m0-2h0m0 8h0m1-2h0m0-6h0m1 2h0m0 3h0m0-5h0m0 6h0m1 3h0m0-6h0m0-1h0m1-1h0m1-1h0m0 1h0m0 6h0m0-7h0m1 8h0m0-3h0m1-4h0m1 3h0m1 4h0m1-5h0m0-2h0m0 3h0m1 2h0m1 3h0m0-7h0m0 5h0m1-1h0m0 2h0m4-1h0m0-4h0m1 0h0m0-2h0m0 4h0m1 2h0m2-6h0m0 8h0m0-7h0m1 2h0m0 4h0m1-5h0m1-1h0m3-1h0m1 0h0m-10 13h0m0-1h0m-1 2h0m-2 0h0m-1-5h0m0 5h0m0 1h0m-1 0h0m-2 0h0m0 0h0m0-4h0m-1 5h0m0-4h0m0 5h0m0-2h0m-1-2h0m0 4h0m0-6h0m-1 3h0m-1 4h0m0-8h0m0 5h0m-1 0h0m0-6h0m0 4h0m0 4h0m-1-1h0m-1-4h0m0 4h0m0-1h0m0-6h0m-3 9h0m-2-1h0m0-6h0m0 2h0m-1 3h0m-1-3h0m0-2h0m0 4h0m0 2h0m0-8h0m-1 2h0m-1-1h0m0 1h0m-1 5h0m-1-4h0m-2 3h0m-1-6h0m-1 1h0m0 8h0m-1-4h0m0 0h0m-1-5h0m0 4h0m-2 4h0m0-6h0m-2-2h0m0 5h0m-2 4h0m-1 0h0m-10 8h0m2 2h0m3-4h0m0 3h0m0-3h0m1 4h0m0-3h0m0 1h0m2-1h0m1 3h0m0-3h0m1 3h0m0-3h0m2-3h0m0 5h0m0 1h0m0-7h0m1 3h0m0 1h0m0-4h0m3-1h0m0 8h0m2-9h0m1 9h0m0-7h0m0 1h0m1 4h0m2-5h0m0 6h0m1-8h0m1 3h0m0 6h0m0-1h0m1-5h0m0 1h0m0 0h0m1 1h0m1-2h0m0 1h0m1-4h0m0 1h0m2-1h0m1 7h0m0 1h0m1 0h0m0-5h0m0-1h0m2 5h0m0-6h0m1-1h0m2 2h0m0 4h0m1 2h0m2-2h0m1-5h0m1 0h0m0 1h0m1 6h0m1-7h0m1 1h0m-7 9h0m-1 2h0m-1 3h0m-2-3h0m0 2h0m-2-2h0m0 1h0m-1-1h0m-1 0h0m0 2h0m0 3h0m-1 0h0m-1-1h0m0-2h0m0 3h0m-2-1h0m0-6h0m0 5h0m0-3h0m-1-3h0m-1 8h0m0 1h0m0-6h0m-1-3h0m-1 1h0m0 5h0m0 2h0m-1-1h0m0 2h0m-1-3h0m-1-6h0m0 1h0m0 3h0m0 5h0m-1-6h0m-1 4h0m0 1h0m0-8h0m0 1h0m-1 0h0m0 0h0m-1 8h0m0-4h0m-1-1h0m-1 0h0m0 4h0m0-2h0m-1-2h0m-1-4h0m0 8h0m0-1h0m0-2h0m-1 1h0m-1 1h0m-1-2h0m0-2h0m-1 6h0m0-1h0m0-2h0m0 3h0m-1-2h0m0-5h0m0 7h0m-1-1h0m0-5h0m-2 6h0m0-6h0m0-3h0m0 9h0m-1-6h0m0-2h0m0 0h0m0 4h0m-2 0h0m0 0h0m-2-1h0m-1 5h0m-1 0h0m-1 0h0m0-1h0m-2 1h0m-6 4h0m3 3h0m1 2h0m0 0h0m1-7h0m0 3h0m0 2h0m3-5h0m0 2h0m0 2h0m0-3h0m1 4h0m1 3h0m2-7h0m0 1h0m0-2h0m0 0h0m2 7h0m1-5h0m0 5h0m0 1h0m0-7h0m1 4h0m0-6h0m1 2h0m1 7h0m0-4h0m0 3h0m1-4h0m0 2h0m0 0h0m1 0h0m0-2h0m0-2h0m0 0h0m0 6h0m0-3h0m1 4h0m0-7h0m0 0h0m1 3h0m0 1h0m0-6h0m0 4h0m1 4h0m1-6h0m0 6h0m0-8h0m0 5h0m0 0h0m1 3h0m1-5h0m0 6h0m1-6h0m1 2h0m0 4h0m0-9h0m1 1h0m0-1h0m1 3h0m0 3h0m1-4h0m0 3h0m2-2h0m2 1h0m0 2h0m1-1h0m0-2h0m1 0h0m0 3h0m2-2h0m0-3h0m1 7h0m1-4h0m0 0h0m0 3h0m1-4h0m0 6h0m4-7h0m-5 9h0m-3 0h0m-1 2h0m0-1h0m-2 4h0m-1-3h0m0 2h0m-1-5h0m0 7h0m0-3h0m-1 4h0m0 1h0m-1-8h0m-1-1h0m-1 0h0m0 7h0m-1 2h0m0-4h0m0 2h0m0 0h0m0-4h0m0-1h0m-1 0h0m-1 4h0m-1-1h0m0 1h0m0 0h0m-1-3h0m-1 6h0m-1-9h0m0 1h0m0 1h0m0 6h0m-1-2h0m-1 0h0m0-3h0m0 2h0m0-1h0m0 1h0m-1 1h0m0 0h0m0-5h0m0 7h0m-1-8h0m0 7h0m0 0h0m0-1h0m0 2h0m-1-7h0m0 8h0m0-1h0m-1-7h0m0-1h0m-1 6h0m0-1h0m-1 1h0m0 2h0m-1-1h0m0-7h0m0 3h0m-1 0h0m-1-3h0m0 1h0m-1-1h0m-1 6h0m-1-4h0m-1 5h0m0-3h0m0 1h0m-1-4h0m0 5h0m-1 2h0m-1-1h0m-1-6h0m0 2h0m0 5h0m0-7h0m-1 5h0m-1 3h0m0-7h0m-1 3h0m0 4h0m-5-4h0m-2 3h0m0 1h0m-6 9h0m2 1h0m1-3h0m1-6h0m0 0h0m2 0h0m0 5h0m1 1h0m0-5h0m1 7h0m0-1h0m2-1h0m1-2h0m1 3h0m0-2h0m0-4h0m2 8h0m0-9h0m3 4h0m1 4h0m0-3h0m1 2h0m1-4h0m1-2h0m0 6h0m3-5h0m1 6h0m1-8h0m0 9h0m1 0h0m1 0h0m0-5h0m0 1h0m1 2h0m0-5h0m1 3h0m0-4h0m0 7h0m1-5h0m1 6h0m1-7h0m0 1h0m1 1h0m0 0h0m0 2h0m1-2h0m0 3h0m1-5h0m0 1h0m1-1h0m0 0h0m2 0h0m0 2h0m3 2h0m0-6h0m2 3h0m1-3h0m-9 16h0m0-4h0m0-2h0m-1 9h0m-2-6h0m0-1h0m-1 7h0m0-9h0m0 3h0m-1 2h0m0 0h0m-3-4h0m-2 1h0m-1 1h0m0 6h0m0 0h0m-1-3h0m-1-5h0m0-1h0m0 9h0m0-2h0m-1-7h0m-3 6h0m-1-3h0m0 0h0m0 6h0m-1-8h0m0 6h0m-2-4h0m-1-2h0m-1 1h0m-1 6h0m0-4h0m-1 1h0m0 4h0m-1-3h0m-1-6h0m0 4h0m0 2h0m-1-3h0m0 4h0m0 0h0m-1-1h0m0-3h0m-1 4h0m0-2h0m-1 1h0m0 2h0m-1 0h0m0 0h0m0-2h0m-2-4h0m0 3h0m-1-4h0m-1 8h0m0-8h0m-4 0h0m0 6h0m-1-3h0m0-1h0m-1 6h0m-2-5h0m-5 6h0m3 3h0m6 0h0m0-1h0m3-2h0m9 1h0m4 1h0m4-2h0m0 2h0m2-2h0m1 1h0m0-1h0m1 1h0m2 0h0m1-1h0m1 1h0m7 3h0m2-4h0" stroke="#6e3b6c" stroke-width="2.9"/>
<path d="M722 556h0m-12 2h0m0 8h0m12 8h0m-1 10h0m6-2h0m6-2h0" stroke="#6e3b6c" stroke-width="2.9"/>
<path d="M616 848h0m0-5h0m2 1h0m1 0h0m0 5h0m1-5h0m0 3h0m1-4h0m0 3h0m0-1h0m1-1h0m1 1h0m0-1h0m0 5h0m1-5h0m0 0h0m0 4h0m1-1h0m1 0h0m0-2h0m1 0h0m2 0h0m2 3h0m2 0h0m1 1h0m1-2h0m1 2h0m2-1h0m-3 5h0m0 5h0m0-2h0m-1-6h0m-2 6h0m0 2h0m-1-8h0m-1 5h0m0 3h0m-1-7h0m0 8h0m-1-6h0m0 3h0m0-1h0m-1 2h0m0-2h0m-1-1h0m0-3h0m0 4h0m0 2h0m0-2h0m0 3h0m0-8h0m0 9h0m-1-1h0m0-5h0m0 6h0m0-3h0m0 2h0m-1 0h0m0-7h0m0 3h0m0-3h0m-1 4h0m0-1h0m0 5h0m-2 0h0m0-7h0m-1 1h0m0 1h0m0-3h0m0 8h0m0-5h0m-1 3h0m0-6h0m0 4h0m0 3h0m-1 0h0m-1-5h0m-1 0h0m0 2h0m-1 1h0m0-3h0m-1-2h0m-1 5h0m-2 3h0m-3 8h0m2-5h0m0 6h0m1 1h0m2-4h0m0 3h0m0-4h0m2-4h0m2 5h0m0 2h0m1-1h0m0-5h0m0 7h0m0-5h0m0-2h0m1 6h0m1 2h0m0-6h0m1-1h0m0 1h0m0 4h0m0-4h0m1-1h0m0 3h0m0 4h0m0-1h0m0-1h0m1-5h0m1 7h0m0-6h0m0 6h0m0-2h0m0-1h0m0-2h0m0-2h0m1 4h0m0-3h0m1 1h0m0-4h0m0 1h0m1 2h0m0 2h0m0-1h0m1-1h0m1-2h0m0 8h0m1-5h0m0 1h0m6-5h0m1 2h0m-5 12h0m-4-4h0m0 7h0m-1-5h0m0 7h0m-1-4h0m0 2h0m0-7h0m-1 9h0m-2-7h0m0 7h0m-1-3h0m0 0h0m0 0h0m0-5h0m-1-1h0m0 2h0m0 6h0m0-4h0m-1-1h0m0-1h0m0-2h0m0 0h0m-1 2h0m0 5h0m0-3h0m0 0h0m0 2h0m-1 1h0m0-6h0m0-1h0m-1 9h0m-1-5h0m-1 0h0m0 1h0m-1 3h0m0 0h0m-1-8h0m0 8h0m-2-1h0m-2 2h0m0-5h0m0 4h0m-2-8h0m0 15h0m1 1h0m1-6h0m1 8h0m0-7h0m1-1h0m1 5h0m1-4h0m1 2h0m0 4h0m1-5h0m0 5h0m1 2h0m0-7h0m1 6h0m0 1h0m0-9h0m1 1h0m0 2h0m0 6h0m1-1h0m0-5h0m0-2h0m0 0h0m0 5h0m0 1h0m0-2h0m1 1h0m1 2h0m0-2h0m0 1h0m0-1h0m2-2h0m0 5h0m1-7h0m0 0h0m1-1h0m0 8h0m1-5h0m0 4h0m0 0h0m1-3h0m2-2h0m0 2h0m2 3h0m2-2h0m0 3h0m-1 4h0m-2 2h0m0 3h0m-2-5h0m-1 3h0m-1-5h0m0 4h0m0-1h0m-1 1h0m0 2h0m-1-1h0m0-3h0m-1 1h0m-1 0h0m-1 2h0m0-6h0m0 6h0m-1 0h0m0-6h0m0 0h0m0 5h0m0-2h0m-1 5h0m0-8h0m-1 7h0m0-6h0m0 0h0m0 0h0m-1-1h0m-1 0h0m0 5h0m0 2h0m-1-4h0m0 3h0m0-4h0m0 3h0m-1 1h0m0 2h0m0-2h0m-1-5h0m0 3h0m0-4h0m0 7h0m-1-5h0m0 7h0m-2-1h0m-1-4h0m-1 0h0m-6-2h0m7 17h0m1-2h0m0 1h0m1-4h0m0-3h0m0 0h0m1-1h0m0 5h0m1-1h0m0 1h0m0 1h0m0 2h0m2-4h0m0 2h0m0-1h0m0-4h0m0 3h0m0 2h0m1-2h0m0 4h0m0-6h0m1 2h0m0-4h0m0 2h0m1-2h0m0 5h0m0 4h0m0-8h0m1 3h0m1 5h0m0-2h0m0-7h0m0 7h0m0-6h0m0 1h0m1 7h0m0-4h0m1 4h0m1 0h0m0-4h0m0-2h0m1 6h0m1-2h0m3-3h0m1 5h0m-6 6h0m-1 0h0m-1-4h0m0 6h0m-1-5h0m0 0h0m-1 3h0m0 4h0m-2-2h0m0-5h0m0 2h0m-1 0h0m0 3h0m0-3h0m0 4h0m0 1h0m0-2h0m-1 0h0m0 0h0m-1 1h0m0-2h0m0-5h0m0 7h0m-1-2h0m0 0h0m0 2h0m0-6h0m-1 6h0m0-1h0m0 2h0m-1-3h0m0-4h0m0 1h0m0 3h0m-1 2h0m0-1h0m0 2h0m-1-8h0m0 6h0m-1-2h0m0 0h0m-1 4h0m0-4h0m0 7h0m2-2h0m1 6h0m1 3h0m0-1h0m1 1h0m0-7h0m0 5h0m0 0h0m1-6h0m0 2h0m0-1h0m0-1h0m0 3h0m0 0h0m0-2h0m1-1h0m0 2h0m0 1h0m0 0h0m1 1h0m1 1h0m0 0h0m0-6h0m0 9h0m0 0h0m0-2h0m0-4h0m0-3h0m0 8h0m1-8h0m0 9h0m0-7h0m0 6h0m0-7h0m1 1h0m0-1h0m1 3h0m0-4h0m1 9h0m1-5h0m0 4h0m3-3h0m0-4h0m2 2h0m1 7h0m-5 0h0m0 0h0m-3 0h0m0 5h0m-1-1h0m0 0h0m0-3h0m0 0h0m0 4h0m-1-3h0m0 0h0m0-2h0m-1 3h0m0 1h0m0 2h0m0-4h0m0 1h0m-1 2h0m0 0h0m0 1h0m0-3h0m0 2h0m-1-2h0m0 0h0m0-1h0m0 0h0m0-1h0m-1 2h0m-1-3h0m0 1h0m0 0h0m-1 0h0m-1-1h0m0 0h0m-1 1h0m-3-1h0" stroke="#6e3b6c" stroke-width="2.9"/>
<path d="M792 569h0m2 0h0m2-2h0m1 2h0m1-2h0m1-1h0m1 1h0m2-1h0m0 0h0m2 0h0m1 2h0m2 1h0m2-1h0m0-1h0m2-3h0m3 1h0m2-3h0m3 4h0m0-3h0m2 2h0m1 1h0m1-2h0m5 2h0m4-1h0m1-1h0m2-4h0m1 4h0m4 4h0m0-6h0m0 3h0m1 2h0m1-4h0m1 4h0m0-2h0m1 3h0m0-4h0m1 4h0m0-3h0m2-1h0m0 5h0m10 0h0m4-1h0m4 9h0m0-2h0m0 1h0m-1-5h0m-1 5h0m0-3h0m-2 4h0m-1-2h0m-4-1h0m-1-3h0m-4-1h0m-1 0h0m-2 0h0m-42 1h0m-2 0h0m-3 4h0m-5-3h0m-4-1h0m-1 0h0m0 3h0m-2-3h0m-2 5h0m0 3h0m-1-6h0m-1 4h0m-1-4h0m0 0h0m-1 4h0m-1-5h0m-3 6h0m-2-5h0m-3 4h0m-3 0h0m-1 2h0m0-1h0m-1-2h0m-8 2h0m-21 11h0m5-2h0m1-1h0m1-2h0m1 3h0m1 1h0m3-5h0m0 0h0m1 1h0m2 4h0m2-5h0m0 2h0m2-4h0m2-1h0m0 3h0m0-3h0m1 0h0m1 6h0m0-3h0m1 2h0m0-3h0m1 2h0m0-4h0m0 2h0m1 2h0m2-3h0m1-1h0m8 0h0m87 0h0m2 1h0m3 1h0m1 0h0m1 7h0m0-6h0m2 4h0m1 0h0m1-6h0m0 4h0m1-2h0m0 2h0m0 2h0m1-3h0m1 3h0m1 2h0m13 7h0m-8-4h0m0 1h0m-1 6h0m0-7h0m0 6h0m-3-4h0m-2 2h0m-1-6h0m-1 0h0m-3 2h0m-121 0h0m-5-2h0m0 2h0m-1-2h0m-5 2h0m-3-1h0m-1 0h0m-3 1h0m-1 2h0m-9 7h0m1 1h0m0 2h0m0 1h0m1-3h0m1 5h0m1-1h0m3-4h0m2 1h0m0-1h0m151 0h0m3-2h0m1 5h0m1 2h0m1-6h0m1 5h0m0 0h0m1 2h0m5 7h0m-1 0h0m-2-5h0m-1 9h0m-1-9h0m0 4h0m-1 2h0m-1 2h0m0 0h0m-1 0h0m-1-5h0m-1-3h0m0 8h0m-147 1h0m-4-4h0m-6-1h0m0-3h0m0 3h0m0 4h0m-1 0h0m0-1h0m-1-1h0m0 1h0m0-7h0m-1 5h0m-1-3h0m0 3h0m-3-4h0m9 11h0m0 2h0m0-4h0m1 1h0m0-1h0m1 4h0m2-3h0m1 1h0m0 4h0m2-2h0m2 0h0m1 1h0m1-5h0m3 3h0m1 0h0m3 1h0m2 2h0m0 2h0m2-1h0m2 1h0m3 0h0m0-1h0m6 2h0m20-2h0m6 2h0m86 0h0m6-5h0m0 3h0m1 0h0m2-2h0m1 2h0m2-2h0m0-5h0m0 2h0m0 3h0m-8 6h0m-4 3h0m0 1h0m0 4h0m-1-5h0m0-2h0m0 1h0m-1 4h0m-1-1h0m0-2h0m-1-1h0m-2 6h0m-8 0h0m-4 0h0m-1 0h0m-4-1h0m-2 0h0m-1 0h0m-1 1h0m-2-5h0m-9 5h0m-3 0h0m-10-3h0m-1-2h0m-2 5h0m-2 0h0m-2-2h0m-1 0h0m0-2h0m0 1h0m-1-3h0m0 4h0m-1 0h0m0 2h0m-3-3h0m-1 0h0m-1-1h0m-1 4h0m-1-7h0m-7 6h0m-1-6h0m-4 4h0m-1 1h0m-4-6h0m0 3h0m-3 0h0m0-1h0m-1 4h0m-2 0h0m0-6h0m-1 6h0m-2-5h0m0-1h0m-1-1h0m0 1h0m-2 2h0m0 2h0m-5 1h0m-1-6h0m-1 2h0m-1-1h0m-2 1h0m-1-2h0m0 4h0m-3-1h0m-3-2h0m-1 3h0m-8-3h0m42 9h0m6 1h0m4 1h0m3-1h0m1-1h0m2 2h0m1 1h0m6 1h0m2-4h0m1 2h0m20 3h0m1-5h0m2 2h0m2-1h0m1 4h0m0 0h0m1-2h0m1 1h0m2-1h0m5 1h0m2-3h0m1 0h0m4 0h0m3 2h0" stroke="#6e3b6c" stroke-width="2.9"/>
<path d="M536 879h0m-3 0h0m-1 0h0m-1 0h0m-3-1h0m-3-1h0m-2 0h0m-31 12h0m8-3h0m1 3h0m2-2h0m5 2h0m0-5h0m1-1h0m1 1h0m1 2h0m1 2h0m0 0h0m1-2h0m0-1h0m2 4h0m1-7h0m0 5h0m1 2h0m1-7h0m1 7h0m1-1h0m0-4h0m1-1h0m0 6h0m0-4h0m1-3h0m0 5h0m0-7h0m2 3h0m1 0h0m0 6h0m1-1h0m1 0h0m3-8h0m5 4h0m2-3h0m1 1h0m0-2h0m0 5h0m1-4h0m0 0h0m1 3h0m-19 10h0m-1-2h0m-1-2h0m0 1h0m-3 0h0m0-1h0m-4 3h0m0 2h0m0-2h0m-3 1h0m0-4h0m-2 1h0m0-1h0m-1 2h0m-6-1h0m0 2h0m0 2h0m-2-4h0m-2 2h0m-1 6h0m0-4h0m-1 1h0m0-1h0m-2 2h0m0-6h0m-3 8h0m-1-5h0m0 4h0m0-2h0m-2 3h0m-1-1h0m-1-1h0m-16 9h0m2 3h0m0-4h0m1-3h0m1 7h0m0-8h0m3 2h0m1 3h0m0-1h0m0 2h0m2-2h0m1-3h0m2-1h0m0 2h0m0 1h0m1 1h0m1 3h0m1-6h0m1 4h0m1-3h0m2 3h0m1-6h0m3 0h0m2 4h0m2-2h0m4-1h0m1 7h0m-21 6h0m-2-2h0m-2 5h0m-1-7h0m-1 4h0m-1 2h0m-2-4h0m-2-1h0m-3-1h0m-1 6h0m0 3h0m-2-6h0m-2 4h0m-1 0h0m-1-2h0m0 2h0m-1 2h0m0-9h0m-1 2h0m-1 6h0m-1 0h0m-2-3h0m-2 2h0m0 0h0m-3 2h0m-7-1h0m-16 10h0m8 1h0m1-2h0m0-1h0m2 3h0m3-3h0m1-3h0m3 4h0m1 0h0m0-2h0m5-5h0m0 2h0m0 1h0m0-2h0m1 1h0m1 1h0m1-1h0m0 6h0m0-2h0m0-2h0m1-1h0m0-3h0m0 4h0m1 1h0m0-1h0m5-4h0m0 0h0m1 9h0m3-2h0m-6 4h0m-6 0h0m-1-1h0m-1 1h0m-1-1h0m-3 2h0m-4 0h0m-1 1h0m-1 1h0m-1-2h0m-1 3h0m0 1h0m-1-6h0m-1 1h0m-1 3h0m0 3h0m-1-4h0m0 1h0m-2-2h0m0 6h0m-6-1h0m0-5h0m-1 7h0m-1-4h0m-3 1h0m5 5h0m1-1h0m2 1h0m0 2h0m4 1h0m1 0h0" stroke="#6e3b6c" stroke-width="2.9"/>
<path d="M738 547h0m12-2h0m3 1h0m4-1h0m8 3h0m24 0h0m6-8h0m5 12h0m-13 5h0m-3-4h0m-7 2h0m-10-4h0m-7 4h0m-4 1h0m-3 6h0m18 0h0m17 3h0m11-3h0m1 5h0m3 3h0m-4 0h0m-8 7h0m-3-7h0m-19 6h0m-4 1h0m-8-6h0m-4 4h0m21 5h0" stroke="#6e3b6c" stroke-width="2.9"/>
<path d="M607 847h0m5 2h0m3-2h0m3-5h0m6-2h0m2 2h0m5 0h0m8 0h0m-31 13h0m-2 0h0m0 2h0m-8 8h0m3 2h0m3-1h0m39 13h0m-1-4h0m0 1h0m-45 0h0m-3 6h0m44 7h0m4-4h0m-6 14h0m-41-1h0m-3 2h0m1 7h0m33 12h0m-28-3h0m-3-4h0m3 9h0m3 5h0m20 0h0m4-4h0m1 1h0m-7 12h0m-1 1h0m-7 2h0" stroke="#6e3b6c" stroke-width="2.9"/>
<path d="M855 639h0m-13-1h0m-66 10h0m9-2h0m2-4h0m0 6h0m1 1h0m0-6h0m7 3h0m9 2h0m2-8h0m4 4h0m1 2h0m0-1h0m1 1h0m3 0h0m0 0h0m0 0h0m5-2h0m2-1h0m1 6h0m0-3h0m3 0h0m3 0h0m0-4h0m6 3h0m5-4h0m1 5h0m3-3h0m0 1h0m6 0h0m1 4h0m10-1h0m5 3h0m0 2h0m-3 1h0m-3-2h0m-3 4h0m-1 3h0m-1-2h0m-1 2h0m-1-2h0m-18 3h0m-2-1h0m-57-8h0m-1 4h0m-8 0h0m-1-4h0m-2 2h0m55 16h0m7-4h0m1-1h0m1-1h0m2 2h0m6 2h0m1-4h0m1-2h0m4 2h0m4-1h0m9 0h0m-46 17h0m-6-2h0m-1 3h0m-48-5h0m-4 1h0m0 3h0m0-1h0m-5 2h0m-9 10h0m10-4h0m1 2h0m3-7h0m0 5h0m1-2h0m39 6h0m10 3h0m-6 0h0m-6 1h0m-1 0h0m-3 1h0m-5 3h0m0-1h0m-32-3h0m-3 5h0m0-1h0m-3 2h0m-3 4h0m3 4h0m34-2h0m0 1h0m2-3h0m0 2h0m3-4h0m5-1h0m-18 16h0m-6 1h0m-5 1h0m-18-8h0m-2 1h0m0 7h0m-6 5h0m2-1h0m17 6h0m6-3h0m3 0h0m3-2h0m-11 10h0m-3 4h0m-19-4h0m-4 5h0m-10 10h0m6-7h0m3 0h0m19-1h0m2 5h0m2-4h0m-5 9h0m-6 2h0m-1-1h0m-1 4h0m-1 1h0m-10-5h0m-3-1h0m-7 7h0m0-5h0m-2 5h0m-6 2h0m-11 4h0m7 6h0m13-4h0m1 2h0m5 1h0m1-6h0m2 4h0m6-6h0m-7 10h0m-6 5h0m0-4h0m-6 2h0m-24 2h0m0 4h0m-1-5h0m-3-1h0m-1 0h0m-3 5h0m-15 10h0m14-4h0m2-3h0m0 0h0m21 7h0m9-5h0m-8 7h0m-6 6h0m-25-6h0m-3 2h0m-1 2h0m-5 3h0m-7 3h0m1 4h0m0 1h0m2-5h0m2 0h0m2 1h0m31 8h0m0-9h0m-3 14h0m-1-1h0m-3 5h0m0-4h0m0 2h0m-33-6h0m-3 5h0m-1 0h0m-9 12h0m5-4h0m32 5h0m0-3h0m4-3h0m2 1h0m1-2h0m1 0h0m-4 10h0m-5 2h0m-1 4h0m-6-3h0m0 5h0m-2 0h0m-32-6h0m-5 14h0m34 2h0m7-4h0m-5 12h0m-1-3h0m-5-1h0m-1 2h0m0 1h0m-4-2h0m-5 2h0m-3-3h0m-6 6h0m-8 0h0m-6 0h0m-2 0h0m-1-9h0m-2 1h0m3 10h0m0 3h0m0-3h0m5 3h0m7-4h0m1 3h0m3 3h0m3-6h0m4 4h0" stroke="#6e3b6c" stroke-width="2.9"/>
</g><g transform="scale(.5)"><g stroke-opacity="0.8"><path d="M329 1079h0m-4 0h0m0-2h0m-3 1h0m-5-3h0m-6 11h0m0 1h0m7 0h0m1-2h0m3-4h0m0 3h0m7-4h0" stroke="#c5e021" stroke-width="5"/>
<path d="M288 1058h0m-19-5h0m14 16h0m3-7h0m1 2h0m4 3h0m2 2h0m3-7h0m1 2h0m1-4h0m1 2h0m1 7h0m0-4h0m1 0h0m3 2h0m0 2h0m1-4h0m0 2h0m2 0h0m0 2h0m0 0h0m15 8h0m-3-3h0m-2 0h0m-1-2h0m0 4h0m-1-1h0m-4 4h0m0-7h0m0-2h0m-2 3h0m-2 0h0m0 5h0m0-1h0m-1 0h0m0-3h0m-4 3h0m0-4h0m-3 1h0m0 1h0m0 4h0m-3-9h0m0 5h0m-1-5h0m0 5h0m-1 4h0m0-5h0m0 3h0m-1-5h0m0 3h0m-1 3h0m-1-1h0m0 2h0m0-6h0m-4 4h0m-1 0h0m-2-3h0m-2 2h0m-4 2h0m-5 1h0m4 6h0m1 1h0m9-1h0m3-3h0m1 6h0m1-1h0m3-3h0m2-3h0m0 7h0m1-2h0m0 1h0m2-6h0m2 5h0m1 3h0m3-7h0m2 0h0m1 7h0m1-7h0m3 6h0m0-1h0m1-6h0m0 0h0m3 0h0m0 0h0m0 4h0m1-3h0m0-1h0m1 5h0m0-4h0m1 6h0m0-7h0m1-1h0m1 0h0m-5 10h0m0 0h0m-3 3h0m-4 0h0m-1-1h0m-3 2h0m0-3h0m-1 6h0m-3-1h0m-4-6h0m0 5h0m-8 0h0m0 2h0m-2 2h0m-13-6h0m9 8h0" stroke="#a0da39" stroke-width="5"/>
<path d="M292 1056h0m0 1h0m-4-1h0m-2 3h0m-3-5h0m-2 4h0m-1-1h0m0-2h0m-1-2h0m-1 0h0m-1 4h0m-1-2h0m0 0h0m-1 1h0m-1 1h0m0 1h0m-3-2h0m-1 1h0m-1 1h0m-5-1h0m-3-1h0m-11 2h0m-5-2h0m0 2h0m-1 0h0m-2 0h0m-1-2h0m2 5h0m2 2h0m7 4h0m6 1h0m4-1h0m0-7h0m1 0h0m0 7h0m2-4h0m2 6h0m0-2h0m0-7h0m2 2h0m1-2h0m0 3h0m0 2h0m0 2h0m2-7h0m0 8h0m0-3h0m2 3h0m3-3h0m1-1h0m0-4h0m3 6h0m0-4h0m0 4h0m1 2h0m2-5h0m0 1h0m0-2h0m2 5h0m1-6h0m0 3h0m1-1h0m1 4h0m1-1h0m4-4h0m5-1h0m0-1h0m4 8h0m0-1h0m1-2h0m-4 5h0m0 5h0m-3 2h0m-2 0h0m-2 1h0m-4-2h0m0-1h0m0 0h0m-1 4h0m-2-2h0m-1 1h0m0-1h0m-1 1h0m-1 0h0m-3 0h0m0-3h0m0 2h0m-2-6h0m-1 1h0m0 5h0m-1-2h0m0 1h0m-1-5h0m0 4h0m-1 1h0m-1-3h0m-1 5h0m-2 0h0m-1-8h0m0 7h0m-2 2h0m-1 0h0m-1-2h0m0 2h0m-1-4h0m-1-1h0m0 2h0m0 0h0m0-6h0m-2 9h0m-2-2h0m0-6h0m-11 7h0m-2-4h0m-5-1h0m15 7h0m1 9h0m1-2h0m0-5h0m1-1h0m0 4h0m1 2h0m2-5h0m2 7h0m1-8h0m1 0h0m1 1h0m0-1h0m1 3h0m2-3h0m1 5h0m1-4h0m2-1h0m2 6h0m2-2h0m3 0h0m1 4h0m2 0h0m1-9h0m0 8h0m1-2h0m0 1h0m1-4h0m0 4h0m1 2h0m13-3h0m6 0h0m-6 7h0m-1 0h0m-5 3h0m-4-4h0m-2 3h0m-1-3h0m-1-2h0m-4 7h0m-4 2h0m-1-8h0m-1 3h0m0 0h0m-1 0h0m0 0h0m0-3h0m-1 0h0m0 6h0m-1-3h0m-3 3h0m0-4h0m-3-3h0m0 2h0m-4 0h0m-1 6h0m0-8h0m-2 0h0m0 8h0m-2-5h0m0 1h0m-3 5h0m-4-8h0m4 9h0m0 3h0m3 3h0m1-6h0m3 3h0m0 0h0m5 0h0m0 0h0m3-3h0m2 2h0m1 0h0m1-1h0m1 0h0m1-1h0m2 1h0m0-1h0" stroke="#7ad151" stroke-width="5"/>
<path d="M174 1098h0m-1-2h0m-7 2h0m-8 11h0m4-2h0m0-2h0m0-2h0m0 4h0m2 0h0m1 0h0m0 1h0m7 1h0m2 0h0m12 10h0m-7-4h0m-1 4h0m-1-3h0m0-6h0m-1 3h0m-1 1h0m-3 5h0m-1-3h0m0-4h0m0-2h0m-1 7h0m-1 2h0m-1-1h0m-1-5h0m-5 0h0m0 5h0m0-5h0m-1 0h0m-1 4h0m-1-5h0m0-1h0m-2-1h0m-1 7h0m4 8h0m6 0h0m3-5h0m17 5h0m4 4h0m20-3h0m-8 5h0m-4 0h0m-7 0h0m-2 7h0m-6-4h0m8 12h0m4 0h0m2-3h0m4 3h0m2-6h0m2 2h0m0 5h0m1-1h0m0-5h0m1 6h0m1 2h0m1-3h0m2-1h0m4-1h0m2 5h0m0 1h0m-4 4h0m-6 2h0m0-2h0m0 1h0m-1 0h0m-1-4h0m-1-1h0m-2 7h0m-4-2h0m-1 1h0" stroke="#1f948c" stroke-width="5"/>
<path d="M118 1190h0m-14 9h0m-2-2h0m-2-1h0m-6 13h0m3-7h0m2 6h0m0-5h0m0 3h0m1 2h0m0-5h0m0-2h0m3-1h0m1 4h0m0-4h0m2 4h0m2 4h0m3-3h0m1-4h0m1 4h0m2 1h0m9-6h0m15 18h0m-6-5h0m0 6h0m-1-4h0m-3 2h0m0-4h0m-2 6h0m0-3h0m0 3h0m0-1h0m-1 1h0m-1-6h0m0 4h0m-1-1h0m0 2h0m0-8h0m-1 5h0m-3-4h0m0 4h0m-6 2h0m-2-6h0m0 4h0m0-1h0m-1 1h0m-1 3h0m-1 0h0m-1-5h0m-2-3h0m-1 0h0m-2 9h0m-2 0h0m0-8h0m-1 1h0m-2 4h0m-1-6h0m0 1h0m-1 4h0m0-5h0m-2 3h0m-1 2h0m-4 2h0m-6 11h0m2 0h0m1-6h0m4 6h0m2-2h0m2-5h0m1 1h0m1 1h0m1 2h0m0-4h0m9 0h0m0-1h0m1 1h0m0 8h0m1-3h0m6 1h0m0-7h0m0 0h0m0 8h0m0-7h0m1 3h0m0 4h0m0-8h0m2 0h0m1 3h0m1 0h0m1-2h0m0 8h0m0-9h0m1 3h0m0 3h0m1-6h0m1 4h0m1-4h0m3 3h0m1 4h0m1 2h0m3-1h0m2-4h0m0 0h0m-5 10h0m-1 4h0m-1-7h0m-3 7h0m-2-7h0m-1 7h0m0-2h0m-1-3h0m0 1h0m-1 2h0m0-2h0m-4-2h0m-1 3h0m-6 3h0m-4-6h0m-5-2h0m-2 8h0m-4 0h0m-2-8h0m-7 0h0m-5 4h0m24 13h0m2 0h0m12-5h0m0 3h0m3-1h0m1-2h0m2 3h0m-6 10h0m-1-2h0m0 2h0m-3 3h0m-2 1h0m0-8h0m0 7h0m-6 7h0m-6 6h0" stroke="#472c7a" stroke-width="5"/>
<path d="M164 1119h0m-3-6h0m0 6h0m-2-3h0m-2-5h0m0 0h0m0 5h0m-2-1h0m-2-1h0m0 5h0m-1 0h0m0-1h0m-5 4h0m1 3h0m2 0h0m1-4h0m0-1h0m2 7h0m1-1h0m1-3h0m1 0h0m0 1h0m2-2h0m2 7h0m0-3h0m1-3h0m2 3h0m1-1h0m0-5h0m7 0h0m11 18h0m0-2h0m-1-4h0m-2 6h0m-6-8h0m-2 1h0m-4 1h0m-4 1h0m-6 1h0m-3-1h0m-5-2h0m14 13h0m5 1h0m1-4h0m1 1h0m7-1h0m3 4h0m0-3h0m5 0h0m5 6h0m10 1h0m1-1h0m14 2h0m-10 2h0m0-2h0m-2 1h0m-2-1h0m0 3h0m-1 1h0m0 2h0m-1-6h0m0 5h0m-1-2h0m0 4h0m-2-6h0m-1-1h0m0 9h0m0-2h0m-1-4h0m0 2h0m0-4h0m-3 0h0m-2 7h0m-11-8h0m2 10h0m7 2h0m1 4h0m2 1h0m0 1h0m2-3h0m1-3h0m1 5h0m0 2h0m2-7h0m0 3h0m0 1h0m2-2h0m0 0h0m0 0h0m2 1h0m1-4h0" stroke="#24878e" stroke-width="5"/>
<path d="M208 1008h0m1 1h0m10-9h0m7 5h0m4 12h0m-5 2h0m-2-5h0m-5-3h0m-3 5h0m-1-1h0m0-4h0m-1-1h0m-1 2h0m-4 4h0m-6 7h0m19-3h0m3 2h0m3-1h0m1-1h0m5 2h0m4-2h0m4 14h0m-1 5h0m-4-5h0m-4 5h0m-1-1h0m-5-4h0m-23 3h0" stroke="#a0da39" stroke-width="5"/>
<path d="M141 1156h0m-2 3h0m-6-2h0m-1-1h0m-1 3h0m-3-3h0m-4 1h0m-1 2h0m-4 9h0m2-2h0m1 0h0m0-1h0m1 2h0m1-7h0m1 4h0m1 4h0m2 1h0m1 0h0m0-2h0m0 0h0m1-5h0m3-2h0m0 4h0m1 0h0m0-3h0m2 5h0m4-6h0m1 4h0m1 4h0m1-2h0m27 13h0m-3-2h0m-1-1h0m-1 3h0m-10-3h0m0 1h0m-1 2h0m-1-8h0m-4 0h0m-3 3h0m-10 5h0m0-8h0m-1 2h0m-2-3h0m-2 2h0m-2 1h0m0-1h0m0 3h0m-1 2h0m0-4h0m0-2h0m-2 5h0m-2-3h0m-1 5h0m-1-5h0m-4-3h0m0 0h0m20 13h0m15 6h0m0 0h0m2-7h0m4 3h0m1 3h0m0-7h0m1 8h0m1-1h0m1-7h0m1 2h0m0 3h0m2 2h0m2-3h0m0 1h0m1 3h0m-11 1h0m-1 0h0m-3 3h0m-1-3h0m-4 9h0m-3-7h0m-6 0h0" stroke="#355e8d" stroke-width="5"/>
<path d="M226 997h0m0-1h0m-1-2h0m0 4h0m-1-8h0m0 8h0m-2-2h0m-11 12h0m6-1h0m3-1h0m1 2h0m1-7h0m0 6h0m1-3h0m0-4h0m2 0h0m2 0h0m0 3h0m2-2h0m3 5h0m4 13h0m-6-6h0m0-1h0m-1 3h0m0-3h0m-2 0h0m-2-1h0m-2 5h0m-2 3h0m-1-1h0m0-2h0m-6 2h0m-1-6h0m-2-2h0m-3 2h0m-1-2h0m-2 9h0m-3-1h0m-1 10h0m2-2h0m1-2h0m2 5h0m2-8h0m2-1h0m1 8h0m0-1h0m0-7h0m4 4h0m3-4h0m1 1h0m2 0h0m2 6h0m0-4h0m1 6h0m1-6h0m0 5h0m2-4h0m2 5h0m4-4h0m0 3h0m4 1h0m1-8h0m0 8h0m2 5h0m-1 1h0m-2-4h0m-1 8h0m-1-4h0m-2 4h0m-1-3h0m-1 1h0m-1-2h0m-3-1h0m-2-1h0m-1 5h0m0-1h0m-2-2h0m-5 3h0m-1-8h0m-3 5h0m-4-5h0m-1 5h0m-4-3h0m0 3h0m-1-3h0m-4 2h0m2 7h0m3 1h0m2 0h0m1 1h0m1-1h0m3-1h0m0 1h0m1 1h0m4-1h0m3 0h0m8 1h0m9 0h0m1 1h0m2-4h0" stroke="#7ad151" stroke-width="5"/>
<path d="M236 1019h0m-22-8h0" stroke="#5ac864" stroke-width="5"/>
<path d="M149 1139h0m-16 6h0m0-2h0m4 4h0m1-6h0m1 8h0m1-7h0m0 2h0m1 3h0m0 1h0m0-4h0m0 4h0m1 1h0m1-4h0m4 4h0m7 0h0m7 5h0m-1 4h0m-8-7h0m-6 2h0m0 5h0m-7-4h0m0 5h0m-2-5h0m0 1h0m0-5h0m-2 3h0m-2 0h0m-1-3h0m-2 3h0m-2-2h0m0 5h0m0-4h0m3 9h0m3 2h0m5-1h0m2 1h0m0-1h0m1-1h0m1 8h0m4-7h0m5 0h0m1 1h0m0 3h0m2-3h0m4-3h0m1 9h0m1-4h0m10 2h0m3 1h0m6-1h0m4 7h0m-1 1h0m-3 1h0m-1 0h0m-1-3h0m0 4h0m-1-4h0m-1 2h0m-1 4h0m-1-6h0m-1 3h0m0 2h0m-1-1h0m0-2h0m-1 3h0m0-2h0m-1 0h0m-1-5h0m0 6h0m-1-3h0m0 4h0m0 0h0m-3 0h0m-3-4h0m-1-1h0m-3 1h0m-19-1h0m-1-3h0m10 10h0m20 0h0m1 2h0m0-1h0m2 4h0m1-3h0m0 3h0m0-2h0m3 0h0m3-1h0m8-2h0" stroke="#2f6c8e" stroke-width="5"/>
<path d="M189 1077h0m-1 10h0m0 0h0m3-3h0m2 2h0m3 8h0m-4 5h0m-5-1h0m0-2h0m-3-2h0m-6-1h0m-1 0h0m-2 0h0m0 6h0m-4-2h0m-2 0h0m-1 2h0m3 2h0m2 1h0m0-2h0m1 2h0m1-2h0m1 2h0m1 6h0m1-4h0m1 0h0m0 5h0m1-7h0m0-1h0m1-1h0m2 5h0m0-1h0m2 2h0m1-3h0m2 5h0m7-7h0m11 17h0m-8-2h0m-1-3h0m-3 0h0m-4 2h0m-2 4h0m-4-9h0m5 14h0m4 0h0m3 1h0m0 4h0m10-1h0m0-5h0m10 5h0m8 11h0m0 0h0m-4-5h0m-1 4h0m0 0h0m-1-5h0m-2 3h0m-1-2h0m0-4h0m-1 1h0m0 7h0m0-4h0m-1 5h0m0-8h0m-1 2h0m-7 2h0m2 7h0m3-2h0m2 1h0m2 3h0m3 3h0m0-7h0m3 1h0m0 0h0m3-1h0m1 1h0" stroke="#1fa287" stroke-width="5"/>
<path d="M94 1209h0m0 0h0m23 8h0m-2 1h0m-10-2h0m-5-1h0m-5 0h0m-1 0h0m-1 1h0m-3-3h0m-11 16h0m3-2h0m2 2h0m1 0h0m2-2h0m1-5h0m7 3h0m2 4h0m4-1h0m1-2h0m2-4h0m4 5h0m2-1h0m1 2h0m1-5h0m2 4h0m2-4h0m14 7h0m-1 2h0m-2 2h0m-5-4h0m-5 9h0m0-6h0m-4 5h0m-1-2h0m-4 2h0m-1-6h0m-1 0h0m-2 1h0m-1 5h0m-1-2h0m0-1h0m0-4h0m-2 5h0m0-3h0m0 5h0m0-3h0m-2-1h0m0 2h0m-2-1h0m-1 4h0m-3-7h0m-1 6h0m0 0h0m-1-4h0m-1 1h0m0-1h0m0-3h0m-1 0h0m0 0h0m0 3h0m-1-3h0m0-1h0m-2 1h0m-1 6h0m0-7h0m-1 8h0m-1-8h0m0 5h0m-1 4h0m-4-3h0m-1 0h0m0 3h0m0 0h0m-11 7h0m0-1h0m2-1h0m0 5h0m0 0h0m1-4h0m0 0h0m1 1h0m0-5h0m0 0h0m1 1h0m1 2h0m0 0h0m2 2h0m0-6h0m4 6h0m0-5h0m0 2h0m0 1h0m1-4h0m1 4h0m0-2h0m0 2h0m1-1h0m1 2h0m2 1h0m2-6h0m2 7h0m0-7h0m1 5h0m0-4h0m1 5h0m1-4h0m2 0h0m1-1h0m1 0h0m0 6h0m1 0h0m0 2h0m1-9h0m3 2h0m0 5h0m1 1h0m2-7h0m3 3h0m0 2h0m2-2h0m0 3h0m2-3h0m2 5h0m4-2h0m0-3h0m3 4h0m1 1h0m0-4h0m6-4h0m-8 12h0m-3 3h0m0 1h0m-1 0h0m0 2h0m-1-8h0m0 7h0m-2 0h0m-1-3h0m-1 3h0m-1-3h0m-2 4h0m0-7h0m-5-1h0m0 5h0m-1 1h0m0 0h0m0-4h0m0 5h0m-1-7h0m-1 1h0m-1-1h0m-3 4h0m0 3h0m-1-1h0m0-3h0m0 5h0m-1-3h0m-1-2h0m-1 2h0m0-1h0m0 3h0m-3-1h0m0-5h0m0 0h0m0 7h0m-2-3h0m-1-1h0m0-3h0m0-1h0m-1 2h0m0 1h0m0 4h0m0-7h0m-1 8h0m-1-4h0m-1 0h0m0 3h0m-1-7h0m-1 8h0m0-6h0m-1 4h0m0 2h0m-2 0h0m0-3h0m0 3h0m-2-9h0m0 2h0m-1 6h0m0-2h0m0 3h0m-1-5h0m-1 0h0m0 5h0m-3-4h0m0 0h0m-1-5h0m4 12h0m1-2h0m2 3h0m1 2h0m0-1h0m2-4h0m2 0h0m1 2h0m0-2h0m1 4h0m0-3h0m0 5h0m1 0h0m1-5h0m1 0h0m0-1h0m3 7h0m1 0h0m1-7h0m0 6h0m1 3h0m0-1h0m2-2h0m0 1h0m1-3h0m2 3h0m0 1h0m0-1h0m0-7h0m1 1h0m1 7h0m0-2h0m0-3h0m2-2h0m1 6h0m1-2h0m0-5h0m0 3h0m1 6h0m0-9h0m1 7h0m2 0h0m0-6h0m0 5h0m0 2h0m1-8h0m0 5h0m0-1h0m1 1h0m0-5h0m0 1h0m0 0h0m1-1h0m0 8h0m1-2h0m1 0h0m0 1h0m1-6h0m0 5h0m1-3h0m0 2h0m1-2h0m1 2h0m0-3h0m1 0h0m2-1h0m0 1h0m-11 9h0m-3 1h0m0 2h0m-1-1h0m0 0h0m-3-1h0m-2 4h0m0-3h0m-4 6h0m0 0h0m-2-2h0m0-6h0m0 3h0m0-4h0m-3 6h0m0 1h0m-1-3h0m-3-1h0m-2-2h0m-1 1h0m-1 0h0m8 8h0m0 0h0m4 2h0m0 1h0m0-1h0m1 2h0m0-3h0" stroke="#481a6c" stroke-width="5"/>
<path d="M275 1053h0m-14 0h0m-1 3h0m0 0h0m-3-3h0m-1 3h0m0 1h0m-4 1h0m-2-4h0m-4 2h0m-1 2h0m-1-4h0m0 1h0m-1 1h0m-1-1h0m-2 1h0m-20 9h0m0-3h0m1 6h0m1-1h0m1 2h0m1-7h0m2 7h0m0-5h0m1 3h0m2-5h0m1 0h0m2 7h0m1-3h0m2-3h0m1 1h0m1 2h0m1-6h0m0 9h0m3-1h0m0-1h0m1 2h0m2-4h0m1 3h0m0-3h0m0 0h0m0-5h0m1 2h0m1 6h0m0 1h0m1-6h0m1 4h0m0-4h0m0 4h0m2-7h0m0 4h0m2 1h0m2-5h0m2 8h0m4 1h0m0-6h0m2 4h0m0-5h0m6 7h0m-1 5h0m-3 5h0m-1-8h0m-3 4h0m0 4h0m-2-9h0m-2 2h0m-2 2h0m0 0h0m-2-2h0m-3 3h0m-2 3h0m-1-8h0m0 5h0m-1-3h0m-2 5h0m0-7h0m-1 7h0m-1 2h0m-1-5h0m0 4h0m-1-5h0m-1 0h0m0 5h0m-1-5h0m-1 2h0m-1 1h0m-1-2h0m-1 1h0m0 4h0m-3-7h0m0 6h0m-3 0h0m-1-5h0m-1 1h0m-1 4h0m-3-6h0m-2 0h0m10 11h0m1 4h0m0-6h0m0 6h0m3-5h0m1-2h0m1 3h0m2 4h0m0-5h0m0 1h0m0-3h0m1 8h0m2-1h0m0-5h0m1 5h0m2 0h0m1 1h0m1 0h0m1-8h0m2 0h0m1 1h0m0 5h0m0-4h0m1 5h0m0 1h0m1 0h0m2-7h0m0 3h0m0-2h0m2 6h0m3 1h0m2-3h0m1 0h0m0-4h0m2 5h0m0-7h0m3 0h0m10 1h0m5 10h0m-10 5h0m-4-1h0m-2 0h0m-1-5h0m-1 1h0m-3 0h0m-1 7h0m-2-2h0m-2 3h0m0-5h0m0-4h0m-4 4h0m-1 0h0m-1 1h0m0-5h0m-2 7h0m0-6h0m0 6h0m-1-4h0m0 2h0m-1-1h0m-2 4h0m-1-4h0m0-2h0m-1 0h0m0 3h0m-1-1h0m0 3h0m-3-6h0m-4 5h0m-2 2h0m3 9h0m5-7h0m2 1h0m1 2h0m1 4h0m2-4h0m0-3h0m1 4h0m0 5h0m1 0h0m0-7h0m2 4h0m0 0h0m3-2h0m2-3h0m0 4h0m3 2h0m0-2h0m0-4h0m1 0h0m1 4h0m2-2h0m0-2h0m2 3h0m-15 6h0m-1 0h0m0 2h0m0-1h0m-2 1h0m-1 3h0m-3-2h0m-5 10h0" stroke="#5ac864" stroke-width="5"/>
<path d="M109 1188h0m1-6h0m0 6h0m2-5h0m1 4h0m1-4h0m0 3h0m3 0h0m0-1h0m0 3h0m1-3h0m0-4h0m0 7h0m2-3h0m1-1h0m2 4h0m3-4h0m15 15h0m-5 0h0m0 0h0m-2-1h0m-2-6h0m-3 7h0m0 0h0m-1-2h0m-5-4h0m-1 1h0m0-4h0m0 4h0m-4-4h0m-1 8h0m-1-7h0m-1 6h0m-1-4h0m-1-1h0m0 6h0m-1-1h0m-1-5h0m-1 2h0m0 5h0m-1-3h0m-1-6h0m0 4h0m-1 2h0m0 1h0m0-3h0m0-4h0m-1 2h0m-1 7h0m-1-8h0m-9 15h0m8 3h0m2-4h0m5-1h0m1 0h0m1-1h0m3 0h0m0-1h0m2 6h0m1-5h0m1 4h0m2 2h0m0-5h0m1 2h0m1 0h0m4 0h0m1 0h0m0 1h0m2-5h0m0 5h0m2 1h0m0 1h0m1-2h0m1-7h0m0 1h0m0 7h0m1-5h0m0 2h0m1-2h0m0 3h0m0 1h0m0 0h0m1-1h0m1 0h0m0 1h0m2 0h0m0 2h0m3-1h0m0-4h0m0-1h0m0 6h0m1-3h0m3-6h0m-5 13h0m-1-3h0m0 1h0m0 5h0m0-3h0m0-3h0m-2 7h0m-4-1h0m-2-6h0m0 9h0m-1-7h0m-1-1h0m-1 6h0m0 1h0m-1-4h0m-1 3h0m-1-2h0m0 2h0m-1-3h0m-2-2h0m-2-1h0m-5 2h0m-5 7h0" stroke="#433e85" stroke-width="5"/>
<path d="M144 1129h0m1-3h0m1 3h0m2-3h0m0 3h0m3-1h0m7-4h0m1 8h0m-2 1h0m-2-2h0m0-1h0m-1 5h0m-6 2h0m0-6h0m-1 7h0m0-7h0m0 5h0m0 2h0m-1-8h0m-2 3h0m0 3h0m0-6h0m-1 7h0m0-3h0m0 2h0m-2-2h0m-1 5h0m0-8h0m-3 12h0m2 3h0m2-5h0m0 1h0m3-2h0m1 3h0m1 0h0m0 3h0m5-1h0m9 1h0m4 1h0m2-6h0m6 4h0m20 8h0m-9 5h0m-7 1h0m-1-6h0m-6 0h0m-2 5h0m-9-8h0m-2 4h0m-7-1h0m22 7h0m7 8h0m0-2h0m3-2h0m0 0h0m1-1h0m0-3h0m0 1h0m0 7h0m3-4h0m0 5h0m1-8h0m0 7h0m0 0h0m1-7h0m5 8h0m2-3h0m3-3h0m0-3h0m1 2h0m-5 8h0m-2 3h0m-6 0h0m-1-2h0m-1 3h0m0-2h0m-4-1h0m-11 4h0" stroke="#29798e" stroke-width="5"/>
<path d="M203 1069h0m2-2h0m1 2h0m9 10h0m-5-3h0m-3-5h0m-2 6h0m-2-3h0m0-3h0m-1 8h0m-1-2h0m-2-6h0m0 5h0m-1 3h0m-1-2h0m0-2h0m0-1h0m-1 5h0m0-5h0m-1 2h0m-3 1h0m-4 0h0m-5 5h0m3 2h0m1-3h0m2 6h0m0 2h0m2-5h0m0-3h0m0 4h0m0 4h0m4-8h0m1 8h0m0-7h0m3 0h0m0 7h0m0-9h0m1 9h0m0-1h0m3 1h0m0-3h0m0 3h0m2 0h0m0-2h0m0 2h0m1-8h0m1 8h0m4-5h0m1-3h0m0-1h0m16 16h0m-13-4h0m0 0h0m-2 1h0m-1-3h0m-1 4h0m-1 4h0m-3-4h0m0-3h0m0 2h0m-1-2h0m-1 7h0m0-3h0m0-5h0m0 2h0m-1-2h0m-1 3h0m0 2h0m-2 3h0m0 0h0m-1-7h0m0 8h0m0-1h0m0-5h0m0-3h0m0 4h0m-3-4h0m0 2h0m0 4h0m-1-4h0m0 7h0m-1-2h0m0-2h0m-1 4h0m0-1h0m0-6h0m-1 7h0m0-3h0m-3-4h0m0 6h0m-3-6h0m0 1h0m0 4h0m-1-5h0m-2 1h0m-3 1h0m-1-3h0m-3-1h0m0 3h0m-3-2h0m10 11h0m5-2h0m9 0h0m2 5h0m7 1h0m1 0h0m8 3h0m3-3h0m10 2h0m3-5h0m0 16h0m-4-1h0m-5-4h0m-2 4h0m-1-7h0m-1 8h0m0 0h0m-1-6h0m0 1h0m-6 1h0m-3-2h0m-1-1h0m3 13h0m7-2h0m1 4h0m0-7h0m0 9h0m1-2h0m1 0h0m2 0h0m2-6h0m4 5h0m1 1h0m1 1h0m4 0h0m0-1h0m-4 5h0m-1 3h0m-2-2h0m-2 5h0m0-2h0m0 2h0m-1 1h0m0-9h0m0 1h0m-1 0h0m-4 5h0m-3-6h0" stroke="#29af7f" stroke-width="5"/>
<path d="M206 1065h0m3 3h0m7-2h0m0-1h0m2-4h0m1 2h0m2 6h0m0-4h0m5 4h0m2 0h0m0-7h0m3 5h0m9 10h0m-1-5h0m0 7h0m-11-1h0m-4-4h0m-1 5h0m-1-7h0m-2-1h0m-1 8h0m-1-4h0m0 1h0m-1 1h0m-1-7h0m0 0h0m-1 6h0m-1-4h0m0-2h0m0 5h0m-1 1h0m-1 0h0m-1-2h0m0 4h0m-1-1h0m0-1h0m-1 3h0m0-4h0m0-3h0m-2-1h0m-5 1h0m-1 0h0m-1 4h0m0 0h0m-2 0h0m0 6h0m8 4h0m1-6h0m0 6h0m5-2h0m0 5h0m2-4h0m2 4h0m1-1h0m2-3h0m0 3h0m1-1h0m0-2h0m2 3h0m0-5h0m1 1h0m0-3h0m1 0h0m0 0h0m0 5h0m0-2h0m0 4h0m1 1h0m0-1h0m1-3h0m2-4h0m1 7h0m0-2h0m1-5h0m2 5h0m2 0h0m0 1h0m1 1h0m2 1h0m0 0h0m5-1h0m2-7h0m5 12h0m-6-2h0m0 3h0m-5-4h0m-1 8h0m-1-8h0m-1 8h0m-1-5h0m-1 5h0m0-6h0m-3 3h0m-1-2h0m0 3h0m-2-2h0m-1 3h0m-1-3h0m0 1h0m-1 0h0m0 3h0m-1-1h0m0-2h0m-3 3h0m-1-6h0m0-2h0m-1 3h0m0-3h0m0 1h0m-2 7h0m-1-5h0m-2-2h0m-5 5h0m-2-3h0m-1-2h0m17 18h0m3-2h0m0-6h0m0 2h0m1 2h0m0 1h0m0-3h0m2-3h0m0 6h0m1 3h0m1-6h0m2 6h0m0-8h0m4 7h0m2-8h0m1 8h0m1 1h0m1-7h0m2 0h0m2-1h0m2-1h0m3 11h0m-3 1h0m-1 4h0m-1-6h0m-2 1h0m-2 8h0m0-3h0m-1-2h0m-1 2h0m-2 0h0m0-4h0m-1 1h0m-2 5h0m0 0h0m0-1h0m-1 0h0m0-4h0m0 2h0m-1-4h0m-1 7h0m0-3h0m0-1h0m0-1h0m-1 4h0m0 1h0m-2-6h0m-1 4h0m-1-6h0m-1 0h0m-3 2h0m4 14h0m0-6h0m0 8h0m0-7h0m1 6h0m3-2h0m0 0h0m0 1h0m2-4h0m1 7h0m1-9h0m0 7h0m0-2h0m2 0h0m1-4h0m0-1h0m3 2h0m1-2h0m-8 10h0m-5 0h0m-3 4h0m-3-3h0" stroke="#3dbc74" stroke-width="5"/>
<path d="M152 1174h0m-5-1h0m-13 2h0m-2 2h0m-3-3h0m-2 5h0m-2-1h0m-3 1h0m-1-9h0m-2 2h0m0-1h0m0 1h0m0 2h0m0 4h0m-2-4h0m-1-1h0m0 0h0m0 1h0m0 1h0m0 1h0m-2 3h0m-1 0h0m-3 2h0m1 1h0m2 5h0m0-4h0m1 0h0m1-2h0m2 8h0m1 0h0m1 0h0m1-9h0m1 9h0m1-3h0m0 1h0m1-1h0m0 0h0m0 0h0m0 3h0m1-6h0m0 5h0m0-7h0m1 5h0m1-6h0m1 6h0m4 1h0m1-7h0m5 5h0m0 1h0m1-2h0m4 3h0m1 0h0m10 1h0m2 5h0m-5-3h0m-1 4h0m-1 0h0m-1-2h0m-1-1h0m-3 2h0m0 1h0m0 0h0m-1 3h0m0-1h0m0-1h0m-2-2h0m-2 3h0m0-2h0m0 3h0m-3-1h0m-2-1h0m0-4h0m-3 2h0m-1 4h0m0-6h0m-1 2h0m-1 5h0m0-6h0m0 0h0m-2 2h0m0-4h0m-5 3h0m8 8h0m11 0h0m1 2h0m3-2h0m0 8h0m0-1h0" stroke="#3d4e8a" stroke-width="5"/>
</g><path d="M225 996h0m-2-3h0m0 5h0m-5 0h0m-4 9h0m2 2h0m1-3h0m0-3h0m1 2h0m0-2h0m1-1h0m0 0h0m2 3h0m1 3h0m0-1h0m2-2h0m0 0h0m0 4h0m1-3h0m0-2h0m1-3h0m0 3h0m0 4h0m0-1h0m1-3h0m0-3h0m1 8h0m1-4h0m1 1h0m1-4h0m3 13h0m-1-4h0m-2-1h0m-1 5h0m0 2h0m-2-2h0m-2-2h0m-1 6h0m-1-9h0m0 7h0m0-2h0m-1-5h0m-1 8h0m-3-8h0m0 8h0m-1 1h0m-1-8h0m-1-1h0m-2 1h0m0-1h0m0 1h0m-1 3h0m-1 0h0m0 2h0m-1 1h0m-9 1h0m0-1h0m-6 12h0m4-1h0m0-1h0m0-4h0m0 1h0m1 3h0m3-6h0m0 0h0m1-1h0m0 3h0m0 3h0m1 0h0m4-1h0m1-1h0m0 1h0m0 3h0m1-2h0m1-3h0m1 4h0m1 0h0m1 1h0m4-4h0m1 5h0m0 0h0m0-7h0m5 4h0m2 3h0m1-5h0m1 3h0m1-1h0m1 2h0m3-4h0m1-3h0m1 2h0m1 5h0m0 0h0m0-3h0m1 1h0m0 5h0m0-1h0m-1 6h0m-1-6h0m0 9h0m0-9h0m-2 7h0m-2-7h0m0 6h0m-2 2h0m0-5h0m-1 2h0m0 1h0m-1-3h0m-1 3h0m-1-6h0m-1 5h0m0-1h0m-4-4h0m-3 5h0m-3-1h0m-1 4h0m-2 1h0m0-1h0m-4-7h0m0 2h0m-1 4h0m0-7h0m-1 5h0m-4 4h0m-1-1h0m0 1h0m-1-5h0m0 0h0m-1-2h0m0-2h0m-1 6h0m-1-1h0m6 7h0m0 5h0m1-3h0m0 1h0m0-3h0m1-2h0m2 2h0m4 1h0m2-2h0m3 2h0m2-3h0m8 7h0m3-4h0" stroke="#a0da39" stroke-width="2.3"/>
<path d="M220 999h0m6 7h0m8 10h0m-4 0h0m-3 1h0m-21-2h0m-3 2h0m-2 6h0m2 5h0m18 0h0m2-5h0m12 0h0m9 12h0m-13 3h0m-2-3h0m-2 3h0m-15-1h0m-5-4h0m-7 6h0m-1-5h0m8 7h0m28 6h0" stroke="#5ac864" stroke-width="2.3"/>
<path d="M170 1138h0m-11-2h0m0 2h0m-4 2h0m2 3h0m4-1h0m11-1h0m7 2h0m2 5h0m8 6h0m-5-4h0m-14 9h0m-4-4h0m-4 2h0m-4-4h0m-11-2h0m-22 18h0m21-9h0m12 6h0m11-2h0m5 0h0m3-2h0m-8 11h0m-8-3h0m-8 7h0m-2 0h0m-3-4h0m-1 3h0m-2 0h0m-11 3h0m-14-1h0m-4-2h0m-1 0h0m-6 8h0m1 1h0m2-1h0m3 0h0m4 3h0m3-1h0m1 3h0m1-3h0m2-5h0m4 3h0m0 5h0m2-2h0m8-5h0m7 4h0m6-5h0m-7 13h0m-1 4h0m-2 1h0m-1-1h0m-6 0h0m-1-1h0m0-1h0m-1-1h0m-1 3h0m-1-2h0m0 0h0m-1 1h0m0-6h0m-1 4h0m-1 1h0m0-5h0m-1 1h0m-1 5h0m-1 0h0m-1 1h0m-2-1h0m-3-7h0m0 1h0m-1 6h0m0-6h0m-1 8h0m0-1h0m-1-4h0m-1 1h0m0-4h0m-3 6h0m0 2h0m-2-6h0m0 0h0m0 3h0m-1 0h0m0-1h0m-1-5h0m0 0h0m-1 3h0m-1 0h0m-1-3h0m-1 2h0m0 0h0m0 5h0m0 1h0m-1-1h0m0-6h0m-1 2h0m0 4h0m-3 1h0m-1 1h0m1 3h0m4 5h0m3-5h0m0 1h0m1 5h0m3-4h0m1 5h0m1-3h0m1-6h0m1 0h0m0 3h0m0-1h0m1 3h0m1 0h0m0-5h0m1 3h0m0-1h0m0 1h0m1 1h0m0 2h0m1-5h0m1 3h0m1 4h0m1-6h0m0-1h0m1 1h0m1 0h0m3 4h0m0 3h0m0 0h0m1-3h0m0-3h0m0 4h0m1-3h0m1-1h0m2 2h0m0 4h0m5-9h0m1 2h0m0 4h0m0 1h0m1 2h0m1-4h0m0-3h0m3 5h0m0-5h0m0 1h0m1 5h0m1 0h0m2-8h0m4 5h0m-10 9h0m-1-4h0m-2 2h0m0-1h0m-1 3h0m-2 3h0m0-4h0m-1 4h0m-1-3h0m-1-1h0m-3 0h0m0 5h0m-2-6h0m-2-1h0m-1 2h0m-1 6h0m-1-7h0m0-2h0m-4 0h0m-4 1h0m-4 2h0m-9 3h0m-12-2h0m-3 10h0m9 3h0m11-5h0m11 3h0m3 3h0m9-5h0m1 0h0m2-3h0m-21 11h0m-24 1h0m4 15h0m27-3h0m0 2h0m3-2h0" stroke="#433e85" stroke-width="2.3"/>
<path d="M262 1053h0m-12 3h0m-2 2h0m-6-4h0m-1 3h0m-2 1h0m-9-1h0m-4 2h0m-22 10h0m0 0h0m2-2h0m4-1h0m0 1h0m0 1h0m0 0h0m1 0h0m0 0h0m2-1h0m0-2h0m0 3h0m3-1h0m1 1h0m2-3h0m0-3h0m0-1h0m0 2h0m1 0h0m1 6h0m0-4h0m1 0h0m0 4h0m0-6h0m2 6h0m0-5h0m1 4h0m0-1h0m1-4h0m1 5h0m1 1h0m3-9h0m5 3h0m1 2h0m0-1h0m1 0h0m3 4h0m13 0h0m14 4h0m-2 7h0m-12-4h0m-5-2h0m-3-1h0m-1 5h0m-1 1h0m-2-4h0m-2 3h0m0 1h0m0-8h0m-4 5h0m-3 3h0m-1-6h0m-2 4h0m-1 1h0m-1-2h0m-1 0h0m-1 4h0m-1-6h0m-1 6h0m-1-5h0m0 3h0m-1-3h0m-1 5h0m0 0h0m-1-2h0m0 2h0m0-4h0m0-1h0m-3-1h0m-1 2h0m-1-3h0m-1-2h0m-1 0h0m-1 1h0m0 3h0m0 3h0m-1-4h0m-3 0h0m-1 6h0m-7-6h0m-1-1h0m-3 4h0m0-3h0m-1 1h0m-2 8h0m1 3h0m1-4h0m0 3h0m2-2h0m2 5h0m2 2h0m1-9h0m1 3h0m1 1h0m1-3h0m1 5h0m0 1h0m0-2h0m0-4h0m1-1h0m0 1h0m1-1h0m0 6h0m1-6h0m2 2h0m1 6h0m1-1h0m2 0h0m0-7h0m0 9h0m0-6h0m1 6h0m0-7h0m0-1h0m1 1h0m1 4h0m0-6h0m1 7h0m0-1h0m1-5h0m1 6h0m0-5h0m2 2h0m1-2h0m1 4h0m2-3h0m0-2h0m1 5h0m0 2h0m0-7h0m1 5h0m2 0h0m0-5h0m0 4h0m1-5h0m1 8h0m0-7h0m1-1h0m1 6h0m0-4h0m1 7h0m1-2h0m1 2h0m0 0h0m1-9h0m3 2h0m0 0h0m3 3h0m1-3h0m13 12h0m-10 5h0m-4-2h0m-1-7h0m0 2h0m0 4h0m-1-3h0m0 4h0m-4 1h0m-1-8h0m-3 9h0m0-5h0m-3 3h0m0 1h0m-1-1h0m-2-1h0m0-5h0m-3 6h0m0-3h0m-2 1h0m-3-2h0m-1-3h0m0 9h0m-1-6h0m-3-1h0m-2-2h0m-6 3h0m-2-3h0m-2 5h0m-4 2h0m0-1h0m-1 1h0m-1-4h0m0 3h0m-2-3h0m28 15h0m1-4h0m1-4h0m3 9h0m1-3h0m1 0h0m0-4h0m0 4h0m0-5h0m3 4h0m0 4h0m0 0h0m0-1h0m0-7h0m2 3h0m0-2h0m0 1h0m1-1h0m1 5h0m0-5h0m1 6h0m1-3h0m3 0h0m0 0h0m1 4h0m0-4h0m1 3h0m4-6h0m1 7h0m1-3h0m1-2h0m0 2h0m1 3h0m0-5h0m2 0h0m8 1h0m4-2h0m4-3h0m-23 11h0m-3-1h0m-1 3h0m-1-3h0m0 4h0m-2 1h0m0 4h0m-2-7h0m-2 2h0m-2 3h0m0-6h0m-1 2h0m-2 5h0m0 1h0m-1-9h0m0 8h0m-2-5h0m0-1h0m0 4h0m-1-6h0m-1 0h0m0 6h0m-1 3h0m-1-9h0m-1 2h0m-1 0h0m-1 7h0m5 9h0m0-6h0m1 6h0m1-3h0m3-4h0m0 7h0m1-2h0m3-6h0m0 3h0m2-2h0m3-1h0m0 2h0m-7 8h0m-3 0h0m-1 6h0m0 0h0m-2-6h0m-2 9h0m-2-5h0m-3-4h0" stroke="#3dbc74" stroke-width="2.3"/>
<path d="M235 1044h0m17 9h0m-3-1h0m-2 2h0m-1-2h0m-1 2h0m-4 5h0m0-2h0m0 0h0m-1 1h0m-2-1h0m-3-7h0m-1 0h0m-2 8h0m-1-8h0m0 6h0m0 0h0m0-4h0m0 6h0m-1-5h0m0 5h0m0-6h0m-4 5h0m-2-3h0m0-1h0m-1 0h0m0-3h0m-1 5h0m0-5h0m-1 3h0m-1-1h0m-2-1h0m0 1h0m0 2h0m-2 5h0m0-7h0m-3 1h0m-1-3h0m0 1h0m-1 7h0m-3 1h0m0-5h0m-1 0h0m0-3h0m-6 0h0m0 7h0m-6 1h0m1 8h0m3 0h0m4-6h0m5 1h0m5-2h0m1 2h0m12-1h0m3 0h0m11 3h0m-38 7h0" stroke="#5ac864" stroke-width="2.3"/>
<path d="M149 1147h0m-1 17h0m8 2h0m7 3h0m-11 8h0m-3-7h0m-2 2h0m-6 6h0m-2 1h0m8 2h0m5 3h0m-7 7h0m-51 18h0m3-7h0m2 7h0m4-4h0m2-5h0m1 9h0m1-1h0m12 1h0m14 9h0m-13-3h0m-6 4h0m-2-7h0m-5 2h0m0-1h0m0-1h0m-4 5h0m-1-5h0m0 4h0m-4-1h0m-1-2h0m0 1h0m-1 1h0m0-2h0m-1 0h0m0 4h0m-9-4h0m-8 14h0m2-1h0m3 2h0m1-5h0m1 5h0m1 1h0m0-7h0m1 1h0m0 0h0m0 4h0m0-6h0m0 7h0m1-5h0m1 3h0m0 0h0m1 2h0m0-2h0m0 2h0m1-2h0m1-4h0m0-2h0m2 6h0m0-4h0m0 3h0m1-4h0m1 8h0m1-7h0m0-2h0m2 9h0m0-3h0m2 2h0m3-5h0m1-3h0m0 3h0m5 0h0m0 2h0m1 0h0m0 2h0m2-6h0m2 8h0m0-3h0m3-1h0m0-1h0m3 4h0m0 1h0m1-6h0m0-3h0m2 5h0m2-3h0m5 10h0m0-1h0m-1-1h0m-1 1h0m0-1h0m-3 4h0m-1-2h0m-3 5h0m0-7h0m-1 9h0m-3-1h0m-1-1h0m0-6h0m-2 6h0m0-1h0m-2-3h0m-1 2h0m-1-1h0m-1 5h0m0 0h0m-2-5h0m0 2h0m-2-1h0m-1 1h0m0-4h0m-1 0h0m0 4h0m-1-6h0m-1 4h0m-2 3h0m-2 0h0m-3 2h0m-1-1h0m-1-7h0m0 4h0m-1-1h0m0-4h0m-2 4h0m-2 4h0m-2-1h0m-1-4h0m0 5h0m0-4h0m-1-4h0m0 8h0m0-8h0m-1 3h0m0 6h0m-1-4h0m0 4h0m-1-1h0m-1-4h0m0-4h0m0 9h0m-1-6h0m0 1h0m-1 1h0m-3 1h0m-1 1h0m-1-2h0m-1 3h0m-8 9h0m1-3h0m0 2h0m1-1h0m2-2h0m0 4h0m4-2h0m1 1h0m0 3h0m0 0h0m1-9h0m0 7h0m1-4h0m0 1h0m0 5h0m4-2h0m1-6h0m0-1h0m0 2h0m1-2h0m0 8h0m2-2h0m1 1h0m0 1h0m0-8h0m0 7h0m1-6h0m0 6h0m1-3h0m0 3h0m0 0h0m1 2h0m0-4h0m0 2h0m1-1h0m0-2h0m0 0h0m1 0h0m0 1h0m0-5h0m1 2h0m1-1h0m0 0h0m1 6h0m1 2h0m1-4h0m0-1h0m1 3h0m0-5h0m0 5h0m0-4h0m1-3h0m0 2h0m2 7h0m1 0h0m0-2h0m0-2h0m0 1h0m1-2h0m1-4h0m0 2h0m1 6h0m1-3h0m1-5h0m1 1h0m0 0h0m1 6h0m1-5h0m1 1h0m0-3h0m1 2h0m0 2h0m1 3h0m2-7h0m0 2h0m1 6h0m1-2h0m0-5h0m1 7h0m0-8h0m1 9h0m2-9h0m0 5h0m4-3h0m2 6h0m0-5h0m5-2h0m-12 14h0m0 1h0m0 1h0m0-4h0m-2 3h0m-1-4h0m0 5h0m-2 2h0m0-6h0m-1-1h0m-1 6h0m-1-8h0m-1 8h0m-1-8h0m-3 2h0m-1 5h0m-2-2h0m-1 1h0m-2-6h0m-1 7h0m0-5h0m-1 3h0m-1-2h0m-1 3h0m-1-1h0m-2 0h0m-2 2h0m0-6h0m0 7h0m0 0h0m0-7h0m-1 2h0m0-3h0m-1 6h0m0-2h0m-1 2h0m-1 3h0m-1-7h0m-1 4h0m-1-5h0m0 5h0m-1-3h0m-1 0h0m-1 0h0m-1 3h0m0-6h0m-1 0h0m-1 6h0m0-6h0m-1 4h0m0-3h0m0 8h0m0-9h0m-1 2h0m0 2h0m-1 5h0m-1-9h0m0 7h0m-1-6h0m0 2h0m0 2h0m-1 1h0m0 0h0m0-4h0m-1-1h0m0 5h0m0-5h0m-1 8h0m0 0h0m-1-3h0m0-6h0m-1 7h0m0-5h0m-1-2h0m-1 4h0m0-3h0m5 12h0m2 1h0m0-2h0m1 2h0m0-2h0m1-1h0m0 1h0m1 0h0m0 5h0m1-6h0m1 2h0m0 3h0m0-1h0m1 2h0m0-3h0m1 3h0m3 2h0m0-5h0m1 1h0m0 1h0m1-1h0m0 4h0m1-3h0m1 2h0m0-8h0m0 7h0m1-2h0m0-2h0m1 1h0m0 0h0m0 3h0m1 1h0m0-6h0m1 3h0m0-1h0m1-3h0m0 6h0m1 0h0m0-1h0m1-6h0m1 9h0m1-9h0m1 2h0m1 7h0m1-3h0m1-2h0m0 1h0m0-4h0m0 2h0m0 6h0m1-4h0m0-5h0m0 2h0m1 3h0m0 0h0m1 3h0m0 0h0m0-8h0m1 9h0m1-6h0m0-3h0m1 0h0m2 5h0m0 3h0m1-2h0m1-1h0m4-5h0m2 0h0m-9 11h0m-6-1h0m-1 1h0m0 5h0m0-6h0m-1 3h0m0 2h0m0-4h0m-3 1h0m-2 4h0m0-6h0m0 0h0m0 9h0m0-2h0m-1-1h0m0-2h0m-1 2h0m0-4h0m-1-2h0m0 2h0m-1 2h0m0 4h0m0-8h0m-1 6h0m-1-4h0m-1 3h0m-1-1h0m-1 0h0m-1-3h0m0 2h0m0 4h0m-1-2h0m-1-4h0m0-1h0m-2 5h0m-1-2h0m-4-3h0m-2 0h0m18 13h0m2-2h0m1-1h0" stroke="#481a6c" stroke-width="2.3"/>
<path d="M203 1112h0m-8 3h0m-5 2h0m-4-2h0m-3-5h0m-1 4h0m-1-1h0m0 0h0m-15 15h0m1 0h0m3-5h0m4 0h0m3 1h0m2 3h0m2-5h0m4 0h0m1 0h0m0 5h0m21 6h0m-12 3h0m0-4h0m-1 1h0m-4 2h0m-4-4h0m-2 8h0m-2-6h0m-7-1h0m-5-2h0m-1 1h0m-4 7h0m-1-8h0m-1 7h0m-1-3h0m-1-2h0m-6 5h0m-21 8h0m0 0h0m0 1h0m19-6h0m3 9h0m0-6h0m2 2h0m17 2h0m1-4h0m9 3h0m4 1h0m0-2h0m5-5h0m0 4h0m1 0h0m1-3h0m2 3h0m-8 8h0m-1 1h0m-4 2h0m-4-5h0m-14 9h0m-3-7h0m-1 2h0m-8-3h0m-17 2h0m-1 6h0m-1-1h0m0-2h0m-5 1h0m0 2h0m-1-2h0m0 0h0m-1 1h0m-1-1h0m-10 9h0m4-5h0m1 2h0m1 2h0m0 0h0m0-5h0m2 3h0m2 2h0m0-2h0m0-2h0m0 8h0m1-1h0m0-8h0m1 9h0m1-3h0m2 1h0m1 2h0m1-6h0m2 6h0m1-3h0m1-3h0m18 6h0m3-8h0m1 7h0m3-2h0m0-4h0m3 1h0m18 14h0m-2-4h0m-2 4h0m-4 2h0m0-1h0m-12 0h0m-1-6h0m-4 0h0m-24 7h0m-2-9h0m0 3h0m-1 3h0m0 3h0m-1-5h0m0 5h0m-1 0h0m0-4h0m-1-2h0m0 0h0m-2-2h0m0 1h0m-1 1h0m-5-3h0m-1 0h0m0 2h0m-1-2h0m-2 1h0m0 10h0m3 2h0m1-1h0m1 0h0m4 1h0m6-3h0m2 5h0m1 2h0m1 0h0m2-4h0m3 6h0m8 0h0m1-1h0m3-1h0m1-2h0m1 0h0m0 3h0m1-1h0m1 2h0m0-1h0m0-1h0m2-2h0m0 1h0m1-6h0m1 4h0m0-1h0m1-1h0m0-2h0m1 8h0m4-5h0m0 1h0m0 5h0m0-3h0m3-3h0m4-2h0m1 0h0m1 3h0m-9 6h0m-5 3h0m-2-3h0m-1 1h0m0 3h0m-2-2h0m-3 1h0m0 1h0m-7-2h0m-3 0h0m-2-1h0m-1 7h0m-11-6h0m-1-1h0m-2 3h0m8 7h0m1 1h0m3-1h0m7-1h0" stroke="#355e8d" stroke-width="2.3"/>
<path d="M197 1046h0m8 2h0m11 1h0m30 4h0m-1 4h0m-5-2h0m-4-2h0m-1 6h0m-25-7h0m-4 1h0m-7 2h0m-1 10h0m3-2h0m7 0h0m2 0h0m4 2h0" stroke="#7ad151" stroke-width="2.3"/>
<path d="M290 1057h0m-4-2h0m-3-1h0m0 5h0m0-2h0m-1-1h0m-1 0h0m-4 1h0m-1 0h0m0 1h0m-3-7h0m-1 6h0m-2-4h0m0 2h0m0 0h0m-1 4h0m0-6h0m0 6h0m-1-2h0m-3 2h0m-1-4h0m-1 3h0m-1 0h0m0-5h0m-1 1h0m0 0h0m-4 2h0m0 3h0m-1-2h0m-7 1h0m-1-1h0m-2 2h0m-2-5h0m-2 1h0m-12 4h0m-13 4h0m17 1h0m0-2h0m2 3h0m4-2h0m0 1h0m2-1h0m2 1h0m0 3h0m1 0h0m2-2h0m3 2h0m4 1h0m1-7h0m1 1h0m3 0h0m1 4h0m0-4h0m1 0h0m0 2h0m2-3h0m0 8h0m2-4h0m0-5h0m1 1h0m1 1h0m1 3h0m0-5h0m4 0h0m0 5h0m0-2h0m0 3h0m1 0h0m0-6h0m0 6h0m1 0h0m1 2h0m0-6h0m1 2h0m1 5h0m0-5h0m1 5h0m1-1h0m0-8h0m1 3h0m0 2h0m2 1h0m0 3h0m1-4h0m0-5h0m0 5h0m2 3h0m0-5h0m1-2h0m0 4h0m1-4h0m0 2h0m1 2h0m1-3h0m1 0h0m0 3h0m1-3h0m0 6h0m1-3h0m1 2h0m1 2h0m1-9h0m0 2h0m0 0h0m1 2h0m2 4h0m1-1h0m1 2h0m0 0h0m5-1h0m1 0h0m14 7h0m-2-2h0m-4 5h0m0 0h0m-1 0h0m-1 0h0m-2 0h0m-3-6h0m0 2h0m-3 3h0m-3-1h0m0 0h0m0-3h0m-2 4h0m-2-4h0m-3 1h0m-1 1h0m-1 4h0m-1-5h0m-1-3h0m-3 6h0m-1-7h0m0 0h0m-1 9h0m-1 0h0m0-4h0m0 2h0m-1-2h0m-1 0h0m-1-2h0m0 5h0m-1-2h0m0-5h0m0 3h0m-1 5h0m0-5h0m0-4h0m0 6h0m-1 1h0m-1-2h0m0 1h0m-1 1h0m-1 2h0m-1-3h0m0 1h0m-1 2h0m-1-9h0m-1 8h0m0-7h0m-1 2h0m0 5h0m-1-3h0m0 0h0m-1 2h0m0-6h0m0 7h0m-1-8h0m0 2h0m0 6h0m0 1h0m-1-9h0m-1 1h0m-1 7h0m-1-4h0m-2 0h0m-1 3h0m0-6h0m0 3h0m0 0h0m-1 1h0m-1-3h0m-1 2h0m0-4h0m-1 2h0m0 3h0m-2-2h0m-2 4h0m-3 1h0m-1-3h0m-2-2h0m-1 2h0m-1-3h0m-3 3h0m-3-4h0m-5 13h0m8 4h0m2-5h0m7 6h0m0-7h0m3-1h0m0-1h0m0 0h0m1 6h0m1-4h0m0 2h0m1 4h0m2 1h0m1 0h0m1-9h0m3 5h0m1-1h0m0 2h0m1 0h0m0 1h0m1 0h0m0 0h0m0-5h0m0 3h0m0 0h0m2 0h0m0 0h0m1 1h0m2-5h0m0 4h0m1 1h0m0 3h0m1-8h0m1 4h0m2 4h0m1 0h0m1-9h0m2 9h0m2-2h0m1-4h0m1-1h0m1 3h0m1 3h0m0-8h0m0 5h0m1-1h0m0 1h0m0-5h0m1 0h0m0 8h0m1-5h0m2 3h0m4 0h0m3 1h0m0-6h0m2 2h0m1-3h0m8 2h0m3 5h0m3-4h0m3-1h0m-17 14h0m-7-5h0m-1 3h0m0 1h0m-1 3h0m0 0h0m-2-8h0m0 4h0m-1 0h0m0 5h0m-2-6h0m-1 2h0m0 1h0m-1 3h0m-1-9h0m0 0h0m-1 4h0m0 2h0m-1-2h0m0 1h0m0-3h0m-2-1h0m-1 0h0m0 8h0m0-7h0m-4 2h0m-1-4h0m0 5h0m0-2h0m0-2h0m-2 6h0m0-2h0m-1 4h0m-1-7h0m-1 5h0m-2-3h0m-3-4h0m-1 4h0m-1 4h0m-1-2h0m0-5h0m0 7h0m-1-1h0m-1-7h0m0 1h0m0 4h0m-1 4h0m-1-9h0m-1 6h0m0-3h0m-1-1h0m0 7h0m-1-9h0m-6 9h0m-3-9h0m-8 0h0m13 19h0m6-5h0m1 0h0m0-3h0m4-1h0m2 5h0m1-4h0m2 1h0m0-1h0m3 6h0m0-3h0m1-2h0m1-2h0m4 2h0m3 2h0m5-4h0m2 1h0m3-1h0m-25 10h0" stroke="#7ad151" stroke-width="2.3"/>
<path d="M250 1052h0" stroke="#a0da39" stroke-width="2.3"/>
<path d="M153 1146h0m10-2h0m1 1h0m22 1h0m-2 11h0m-32 2h0m-6-5h0m0-2h0m-3 8h0m4 2h0m3 6h0m1-7h0m14-1h0m-1 15h0m-3-4h0m-4 8h0m0-7h0m-45 17h0m29-9h0m8 1h0m2-1h0m-34 13h0m-2-1h0m-2 4h0m0-1h0m-1 1h0m-1-3h0m-1 6h0m-3-5h0m-3 1h0m-4 3h0m-10 8h0m5 1h0m2-3h0m0-1h0m0 3h0m1 0h0m1-3h0m1 1h0m1-2h0m0 6h0m0 0h0m1-6h0m0 0h0m1 1h0m2 1h0m1 4h0m0-3h0m1 3h0m0 1h0m2-4h0m0-1h0m0 0h0m0-4h0m1 3h0m1 3h0m1-5h0m1 4h0m0-5h0m0 5h0m0 1h0m0 3h0m1-5h0m3 4h0m1 1h0m0-3h0m1 2h0m2-5h0m3 4h0m1-2h0m2 4h0m0-1h0m8 0h0m8 4h0m-2 2h0m-2 0h0m0 0h0m-5-3h0m-1 8h0m0-7h0m0 7h0m0-6h0m-1-2h0m-1 1h0m0 5h0m-2 0h0m0 0h0m-1 0h0m-1-3h0m-1 3h0m-1 2h0m0-8h0m0 4h0m0 0h0m-2 4h0m-2-1h0m-1-1h0m-4 1h0m-1-2h0m0-4h0m0 5h0m0-7h0m-1 8h0m-1-3h0m-2 2h0m0 0h0m-1-4h0m0-3h0m-1 0h0m-1 3h0m-1 5h0m0-4h0m0-1h0m-1-2h0m0 5h0m0-5h0m-4 7h0m-1 0h0m-2-2h0m0 0h0m-1-2h0m0-4h0m0 8h0m-1-5h0m-2 1h0m-3 5h0m0-4h0m-3 4h0m-7 10h0m1-4h0m1 3h0m1-6h0m0 2h0m0 5h0m3-7h0m0 5h0m1-7h0m1 0h0m3 1h0m0-1h0m0 7h0m0-3h0m2 1h0m0-5h0m1 4h0m2-3h0m0 0h0m2-1h0m1 3h0m0-1h0m0 6h0m0-1h0m0-3h0m1 5h0m0-5h0m0 1h0m1 1h0m5 2h0m0-3h0m3-1h0m1-4h0m0 1h0m1-1h0m4 6h0m1-5h0m2 0h0m1 8h0m0-2h0m0-7h0m2 7h0m0-3h0m2-3h0m1 5h0m0 1h0m0-3h0m1 5h0m0-4h0m1 0h0m1 4h0m1-2h0m3-4h0m0 2h0m0 1h0m2-1h0m3-4h0m-8 10h0m-1 0h0m-2 4h0m-3 1h0m-3-1h0m0 1h0m-2 1h0m-1-5h0m-1 4h0m0 1h0m-3-3h0m-1 3h0m-2 0h0m-1 0h0m-3 0h0m0-4h0m-2-2h0m0 7h0m-1-7h0m-2 2h0m0 5h0m-1-7h0m0 2h0m-7 2h0m-3 2h0m0-3h0m0 0h0m-1-2h0m-2 4h0m-1-2h0m-2 4h0m0-6h0m0 5h0m-2-3h0m-2-4h0m0 4h0m0 0h0m-14 13h0m1 0h0m5-3h0m0-2h0m1 5h0m2-7h0m3 2h0m4 2h0m2 1h0m4 4h0m4-8h0m3-1h0m0 4h0m3-4h0m1 3h0m1 3h0m0 1h0m1 0h0m1 0h0m3-4h0m1-2h0m3 8h0m2 0h0m0-8h0m0 6h0m1-6h0m1-1h0m4 9h0m0-4h0m0-2h0m2 1h0m2 1h0m1-1h0m0-4h0m4 2h0m-9 9h0m-1 0h0m-1 6h0m-1-4h0m-3 0h0m0-3h0m0 3h0m-1-3h0m-1 8h0m0-4h0m-2 0h0m0 2h0m-1-4h0m-2 0h0m-5 0h0m-1-2h0m-1 0h0m-3 5h0m-10-4h0m-1 2h0m-7-3h0m-1 9h0m-3-5h0m-2 3h0m-1 5h0m10 4h0m8-5h0m14 0h0m1 4h0m1 2h0m1 0h0m1-1h0m2-2h0m2 2h0m4-2h0m2-3h0m1 2h0m-17 10h0m-1-2h0m-2 0h0m-1 5h0m-3-3h0m-10 1h0" stroke="#472c7a" stroke-width="2.3"/>
<path d="M168 1129h0m1-4h0m3 3h0m11 1h0m1-1h0m7-7h0m0 12h0m-2 2h0m-4-2h0m-3-3h0m-1 7h0m-4-2h0m-8 3h0m-20 9h0m5-4h0m6 2h0m5-2h0m0 3h0m1-3h0m1 3h0m0 1h0m9 0h0m3-4h0m0-2h0m7 0h0m4 8h0m2 0h0m-8 1h0m-1 3h0m-15 5h0m-2-7h0m-2 6h0m-2 1h0m-8-6h0m-1 2h0m-1 3h0m-3-1h0m-2 3h0m-2-1h0m-22 6h0m2 3h0m1 2h0m1-3h0m4 0h0m3-1h0m8-4h0m6 6h0m1-3h0m4 1h0m9-2h0m8 1h0m3-3h0m-5 11h0m-4-2h0m-6 8h0m-2-4h0m-2 0h0m-18 4h0m-3-5h0m-1 4h0m-1-3h0m-3 0h0m-1-4h0m0 8h0m-1-6h0m-1 2h0m-1-1h0m-1 2h0m-2 2h0m-1-6h0m0 5h0m-1-1h0m0-3h0m-1 0h0m0 7h0m-2-3h0m0-5h0m-4 5h0m0 11h0m0-7h0m1 0h0m1 5h0m0-3h0m0-2h0m1 1h0m3-1h0m0 5h0m3-4h0m1-1h0m0 3h0m0 5h0m1-3h0m0-2h0m1-1h0m1 4h0m0 2h0m2-1h0m3-4h0m6-1h0m1 2h0m0 3h0m1-4h0m0 4h0m1-4h0m2 4h0m1 0h0m4 2h0m3 0h0m0 0h0m1 0h0m2-4h0m1-4h0m1 7h0m2-2h0m4-2h0m1-1h0m1 6h0m5-5h0m-1 6h0m-4 2h0m-2 3h0m-4-4h0m0 4h0m-1 2h0m0-4h0m-1 2h0m-1-2h0m-1-2h0m-1 8h0m-1-6h0m-1 1h0m-1-1h0m-1 1h0m-1 1h0m-1 2h0m0-1h0m-1-1h0m0-5h0m-1 4h0m0 1h0m-2 1h0m0 0h0m-3-3h0m0 1h0m0-1h0m0 0h0m-1 6h0m-1-1h0m-1 0h0m-2-7h0m-1 2h0m-2 3h0m0-1h0m-3 0h0m-3 2h0m-1-4h0m0 6h0m-1-8h0m-1 0h0m-4 5h0m-3-6h0m-1 8h0m-1-6h0m-2 3h0m0-4h0m-1 0h0m1 11h0m1-1h0m7 5h0m3-5h0m3 0h0m2 0h0m0 0h0m3 0h0m4-1h0m1 9h0m4-3h0m0-4h0m2 5h0m1 0h0m2 1h0m0-8h0m1 3h0m0 2h0m0 0h0m1 2h0m1-4h0m0-1h0m2 3h0m-12 6h0m-3-1h0" stroke="#3d4e8a" stroke-width="2.3"/>
<path d="M188 1106h0m4-1h0m3 2h0m1-4h0m7 6h0m10-2h0m1 3h0m-2 8h0m-6-6h0m-5 1h0m-2 4h0m0-5h0m-1 6h0m-1-3h0m-2 0h0m-3-4h0m-7 7h0m-40 11h0m0-3h0m2-1h0m0 0h0m1 4h0m1-6h0m0 6h0m1-2h0m4-2h0m5-5h0m1 9h0m0-4h0m4-4h0m8 8h0m2-2h0m1-3h0m1 5h0m2 0h0m2-7h0m2 2h0m2-2h0m5 2h0m0 4h0m2-5h0m2 5h0m2-2h0m0-4h0m2 2h0m6-4h0m1 5h0m6-5h0m2 2h0m0 3h0m2 4h0m4-9h0m-7 10h0m-11 2h0m-1 1h0m-12-3h0m-3 2h0m0 2h0m-2 3h0m-1-2h0m-6 2h0m-7-3h0m-1-4h0m-8 2h0m-6-2h0m-1 6h0m0-1h0m-1-2h0m-2 5h0m-2-2h0m-2 0h0m-1-3h0m0 0h0m-1-1h0m0 6h0m-1 0h0m0-3h0m-1 3h0m-1-4h0m0 2h0m-1 8h0m2-3h0m1 5h0m3 0h0m1-2h0m1 1h0m0-4h0m1 7h0m0-6h0m3-2h0m33 3h0m1 3h0m1-5h0m1 4h0m4 4h0m4-1h0m3-8h0m4 1h0m2 16h0m-3 2h0m0 0h0m-9-6h0m-3 6h0m-4-1h0m-3-8h0m-20 0h0m-17 4h0m-7-2h0m-3 5h0m-3-5h0m-3 5h0m47 11h0m2-1h0m1 1h0m2 1h0m1-1h0m2-5h0m1-2h0m2 6h0m2 1h0m1-3h0m0 2h0m1-5h0m0 0h0m5 3h0m2-4h0m3 2h0m-9 8h0m-1-1h0m-3 6h0m0-4h0m0-2h0m-3 5h0m-2 3h0m-1-3h0m0 4h0m-2-5h0m0-1h0m0 2h0m-3 2h0m0-7h0m-1 2h0m-2 6h0m-2-2h0m-3 5h0m2-1h0m2 2h0m2 5h0" stroke="#29798e" stroke-width="2.3"/>
<path d="M113 1157h0m-6 1h0m-2 1h0m0-3h0m-2 3h0m-20 6h0m18-3h0m0-2h0m1 8h0m1-4h0m1 3h0m1-3h0m1 4h0m0-2h0m2-5h0m0 7h0m0-3h0m2 2h0m1-7h0m2 0h0m-4 10h0m-3 2h0m-11 4h0m-5-1h0m-3 2h0m0-5h0m-11 14h0m3 3h0m5-2h0m4 2h0m3-6h0m9 3h0m1-2h0m-1 6h0m-5 3h0m-3-3h0m-6 3h0m-3-3h0m0 0h0m-3 1h0m-2 8h0m-3-4h0m0-5h0m-6 4h0m-2 1h0m0 5h0m3 9h0m1-9h0m2 1h0m0 7h0m6-2h0m0-5h0m6-1h0m4 10h0m-7 1h0m-1 2h0m-3 0h0m-6-1h0m-3-2h0m-2 6h0m0 1h0m-4-5h0m-1 3h0m-1-4h0m-1-1h0m-6 6h0m0-1h0m5 5h0m2 1h0m10-1h0m4 6h0" stroke="#472c7a" stroke-width="2.3"/>
<path d="M279 1068h0m1 0h0m5-8h0m6 8h0m8-2h0m1 2h0m0 1h0m5-6h0m2 6h0m2-5h0m1 5h0m0-2h0m3 2h0m15 10h0m-3-4h0m-7 2h0m0-5h0m-3 7h0m-7-1h0m-1-3h0m-14-2h0m-8 1h0m-8 1h0m-2 13h0m11-5h0m7 3h0m5-4h0m2 2h0m11-4h0m1 1h0m1 8h0m1 0h0m0-1h0m1-6h0m4 5h0m2-6h0m1 3h0m4-3h0m3 3h0m-12 8h0m-1 1h0m-7-1h0m-6 5h0m-15-6h0m-2-1h0" stroke="#c5e021" stroke-width="2.3"/>
<path d="M203 1068h0m17 1h0m6 1h0m-4 3h0m0 1h0m-2 2h0m-2-5h0m-6 0h0m-1 3h0m0-2h0m-3 7h0m-1-8h0m0 6h0m-1-5h0m-2 3h0m0 4h0m-6-7h0m-1-1h0m-3 5h0m-1-4h0m-16 15h0m0 0h0m5 0h0m1 0h0m1-6h0m1 2h0m1 5h0m1-2h0m0 1h0m0-5h0m0 6h0m3-5h0m1 6h0m1-2h0m1-7h0m0 8h0m1 0h0m1 0h0m2-7h0m1 6h0m2 0h0m0 2h0m0-7h0m2 1h0m0-1h0m3-1h0m2 3h0m0 3h0m1 1h0m1-4h0m1-4h0m0 2h0m1 0h0m1 1h0m0 3h0m2-6h0m1 5h0m0-4h0m1 6h0m1-6h0m1-1h0m4 8h0m1-3h0m4 4h0m5-2h0m-1 10h0m-1 0h0m-1-2h0m-2-4h0m-3 6h0m-3-5h0m-2 3h0m0 3h0m-1-1h0m0-2h0m-1-2h0m-1-1h0m-2-2h0m0 5h0m-1 0h0m-1-1h0m-1 1h0m0 0h0m0 0h0m-2-1h0m-3 1h0m-2-5h0m-1 1h0m-2 4h0m0-5h0m-2 1h0m-1-1h0m0 6h0m0 2h0m-1 0h0m-1 1h0m0-5h0m-3-2h0m0 4h0m0 3h0m-1-5h0m0 5h0m-3-6h0m0-1h0m-1 7h0m-2-3h0m0-4h0m-2-2h0m0 5h0m0-4h0m-1 8h0m-1-8h0m-1 7h0m0-5h0m0-2h0m-1 5h0m0 3h0m-2-8h0m-3 2h0m-1 6h0m-2 1h0m2 2h0m8-2h0m1 3h0m2 4h0m0-5h0m0 2h0m1-1h0m8-2h0m11-1h0m9 9h0m3-1h0m7-3h0m0 1h0m1-1h0m4-2h0m-1 10h0m-2 5h0m-1 1h0m0-8h0m0 7h0m0-3h0m-1-3h0m-1 4h0m0-5h0m-2 7h0m-5 7h0m0 2h0m2-3h0m1 5h0m2 0h0m0-6h0m1 1h0m1-2h0m1 0h0m0 0h0m1 3h0m2 0h0m2 4h0m0-1h0m1 0h0m3 3h0m0-1h0m-5 7h0m0 1h0m-1-2h0m-1-6h0m-2 5h0m-1-1h0m-1-4h0m-1 1h0m-6 2h0m0 9h0m5-2h0" stroke="#29af7f" stroke-width="2.3"/>
<path d="M195 1078h0m0-1h0m-4 1h0m-14 10h0m3 0h0m3-8h0m2 0h0m1 6h0m3-5h0m0 4h0m0-1h0m0 5h0m1-9h0m3 9h0m1-1h0m0 1h0m4-4h0m0 4h0m2 0h0m4 0h0m13 6h0m-12-1h0m-5 0h0m-5 2h0m-3-1h0m-4-5h0m-1 6h0m0-1h0m-2-3h0m0-1h0m-2 4h0m-1 3h0m0-8h0m-2 4h0m0 3h0m0-1h0m-1-4h0m0 4h0m0 2h0m-1-4h0m-3-3h0m-2 6h0m-1-6h0m-1 4h0m0-3h0m-3 5h0m-3 1h0m-6 9h0m1 1h0m4-4h0m4-4h0m1 3h0m0 6h0m1-4h0m0 4h0m1-1h0m1-3h0m2 4h0m2-7h0m1-2h0m0 7h0m0-3h0m0 5h0m0-3h0m1-1h0m0-2h0m1-3h0m1 3h0m1 4h0m0-7h0m2 0h0m1 3h0m0 3h0m1 0h0m0-4h0m1-1h0m5 0h0m1 2h0m4-1h0m4 4h0m7 2h0m6-5h0m1 6h0m4-8h0m5-1h0m-5 17h0m0-4h0m-2-3h0m-2 1h0m-3 0h0m-2 4h0m-10 0h0m0-5h0m-13 6h0m-11-2h0m-2-3h0m-7 5h0m50 13h0m8 10h0m0-4h0m-1 4h0m-1-7h0m0 4h0m-1 2h0m0 1h0m0-3h0m-1 3h0m0-5h0m-2 3h0m-1 2h0m-5-3h0m-1 1h0m-5 11h0m0-4h0m0 1h0m1-2h0m0-2h0m0 2h0m2-3h0m9 8h0m2-7h0m0 1h0m2 3h0m2 2h0m-16 8h0m-2 0h0" stroke="#1fa287" stroke-width="2.3"/>
<path d="M196 1103h0m6 4h0m-2 7h0m0-3h0m-2 2h0m-5 2h0m-9 3h0m0-6h0m0 1h0m-3 6h0m-1-6h0m-30 11h0m19 3h0m0 1h0m2 1h0m4-7h0m7-1h0m19 8h0m3-8h0m3 1h0m0 0h0m11-2h0m-8 11h0m-2 2h0m-3 6h0m0-1h0m-3 0h0m-9-6h0m-4 3h0m-9-4h0m-13 7h0m-4-8h0m-3 4h0m0 1h0m-6 3h0m-3-3h0m-1 3h0m0-4h0m-10 4h0m0 0h0m0 0h0m-2 0h0m-3-1h0m-1 2h0m-3 8h0m1 0h0m0 1h0m1 1h0m0-9h0m5 4h0m1-1h0m1 6h0m3-3h0m0 2h0m0 0h0m1-4h0m1-1h0m1-3h0m2 6h0m2-4h0m5-1h0m1 6h0m9-5h0m5 3h0m0-5h0m5 9h0m6-4h0m4-1h0m3 5h0m9-4h0m-7 7h0m-5 6h0m-1-8h0m-10 3h0m-3 0h0m-3 3h0m-3-6h0m-10 7h0m-2-5h0m-8 3h0m-1-2h0m0-2h0m0 3h0m-1 2h0m-2 0h0m0-2h0m-1 1h0m-1 3h0m0-6h0m0-1h0m-1 0h0m0 8h0m-1 0h0m-1-4h0m0-4h0m-1 8h0m-1-9h0m0 0h0m-4 5h0m-1-2h0m-4 3h0m-2 11h0m2-6h0m1 1h0m4-2h0m0 7h0m1-3h0m1 2h0m1-4h0m0-1h0m4 1h0m1-2h0m1 3h0m2-2h0m1 1h0m27 1h0m3-1h0m4 3h0m0-3h0m3 4h0m3-4h0m2 0h0m4 4h0m1 6h0m-3 5h0m-3 2h0m-1-8h0m0 1h0m0 4h0m0 2h0m-3-6h0m-1 6h0m-1-4h0m-2-4h0m0 7h0m-3 2h0m-1-2h0m-1-2h0m-2 1h0m-3 1h0m-8 6h0m4 1h0m3 0h0m1 0h0m2-1h0m1 6h0m1-6h0m0 2h0m1-1h0m0-1h0m0 0h0m0 1h0m1 0h0m1-3h0m0 6h0m1-5h0m11 0h0m-34 8h0" stroke="#2f6c8e" stroke-width="2.3"/>
<path d="M208 1096h0m-5 3h0m-45 8h0m9-4h0m13 5h0m12 1h0m8-2h0m5-4h0m3 6h0m3-4h0m3-3h0m0 7h0m3-7h0m5 6h0m-8 8h0m-5-5h0m-1 7h0m-3-1h0m-6-1h0m-3-1h0m-3-4h0m0 4h0m-12 4h0m-7-2h0m0-4h0m-3 4h0m0-5h0m0 7h0m-6-9h0m-2 5h0m-1 3h0m-1-4h0m-1 0h0m-1 1h0m0-1h0m-3-3h0m0 0h0m0 6h0m-1-1h0m-8 3h0m-2 4h0m3 6h0m1-3h0m0-2h0m0 3h0m0-6h0m0 2h0m2 6h0m0-5h0m0-2h0m1-2h0m0 2h0m0 2h0m2 3h0m1-2h0m0 1h0m0 3h0m1-8h0m0 1h0m0 5h0m2 2h0m2-7h0m1 3h0m1-1h0m0 2h0m1 1h0m3-5h0m12 5h0m3-4h0m3 2h0m2 1h0m0 2h0m3 0h0m6-6h0m0 1h0m4 4h0m8-5h0m6 6h0m0-6h0m-2 8h0m-1 7h0m-1-7h0m-5 3h0m-10-1h0m-6 3h0m-30-2h0m-1-1h0m-2 2h0m-1 3h0m-1-7h0m-1 7h0m-3 1h0m-1-6h0m-1 1h0m0-3h0m-1 0h0m-3 8h0m-1-3h0m-3 3h0m11 3h0m28 1h0m14 5h0m4-5h0m4 6h0m4-1h0m3-1h0m0 3h0m5 5h0m-6 3h0m-1-3h0m0-2h0m-1 7h0m0-7h0m-1 1h0m0-2h0m-1 7h0m-1 0h0m-1-7h0m-1 4h0m0 3h0m0-7h0m-4 5h0m-1-4h0m0 3h0m0 3h0m-1-3h0m-2 2h0m-1 1h0m-11 10h0m0-2h0m5-4h0m0 4h0m0-1h0m1-2h0m1-2h0m0 7h0m0-3h0m0 3h0m1-5h0m2-2h0m1-1h0m0 6h0m2-6h0m3 6h0m0-3h0m2-1h0m1 4h0m2-5h0m0 5h0m2-5h0m0-1h0m1 4h0m1 1h0m-15 8h0m-1-2h0m-1-1h0m-1 6h0m-1-3h0m-5-3h0" stroke="#24878e" stroke-width="2.3"/>
<path d="M245 1054h0m-11-1h0m-5 1h0m-3 2h0m-1 0h0m-2-3h0m-1 2h0m-2 2h0m-6-1h0m-7 0h0m-4 11h0m5 1h0m1-7h0m21 3h0m11-4h0m1 0h0" stroke="#3dbc74" stroke-width="2.3"/>
<path d="M110 1159h0m-5-4h0m-11 14h0m6-8h0m0 8h0m13-9h0m-5 10h0m-3 9h0m-4-8h0m-2 6h0m-13 1h0m-3 8h0m4 2h0m5-3h0m0 2h0m4-6h0m-7 15h0m-4-1h0m-1-3h0m-12 6h0m-7 6h0m3 3h0m2-7h0m2 7h0m10-4h0m4 0h0m-1 10h0m-8 1h0m0 1h0m0-1h0m-18 2h0m-6-1h0" stroke="#481a6c" stroke-width="2.3"/>
<path d="M297 1058h0m-2 1h0m-2-2h0m-5 1h0m-4 0h0m-1-4h0m0 5h0m0-5h0m-1-1h0m-3 5h0m-2-3h0m-4 0h0m-1 4h0m-16 0h0m-5 3h0m3 3h0m12-3h0m16 2h0m0 3h0m1-4h0m0 5h0m1-2h0m6-4h0m0 0h0m1 2h0m1-3h0m0 7h0m2-8h0m0 4h0m2 4h0m2-3h0m1-3h0m0 5h0m4 0h0m1-1h0m1 2h0m0 1h0m2 0h0m0-3h0m2 1h0m3 2h0m15 10h0m-5-4h0m-2 2h0m-7 2h0m-1-6h0m-1-3h0m-3 3h0m-1 4h0m0 1h0m-3-8h0m0 2h0m0 4h0m-2-2h0m-1 2h0m-2 1h0m-1-3h0m0-4h0m0 2h0m-1 2h0m-1-2h0m0 2h0m-2 2h0m-1-1h0m0-2h0m-1 4h0m0-1h0m-2-5h0m-1 2h0m-1 4h0m0 0h0m-2-1h0m-1 0h0m-2-3h0m0-3h0m-2 0h0m0 8h0m-1-4h0m-4-4h0m-7 7h0m-3 1h0m-6 1h0m-3 1h0m12 1h0m3 7h0m3-4h0m3 4h0m2-7h0m2 7h0m0 1h0m1-1h0m0-1h0m3 2h0m1-1h0m2 1h0m0-9h0m1 2h0m1 5h0m0 0h0m1-7h0m0 2h0m0 5h0m3-7h0m1 3h0m1-1h0m0-1h0m1 1h0m1 1h0m0 0h0m0-1h0m2 1h0m0 0h0m0 5h0m1-4h0m0 4h0m1 1h0m1-8h0m1 1h0m1-1h0m2 2h0m1-2h0m1 5h0m1-5h0m0 4h0m1-2h0m1-2h0m0 6h0m3-6h0m0 6h0m1-7h0m0 4h0m0-3h0m2 0h0m0 0h0m2 4h0m1-4h0m-13 13h0m-2-1h0m-2 1h0m-3 1h0m0-4h0m-1 6h0m-1-7h0m-2 6h0m-2-1h0m-2-5h0m-1 8h0m0-4h0m-1-2h0m-1-1h0m-1 7h0m0-3h0m-1 1h0m-3-6h0m-2 5h0m0 1h0m-2 1h0m-1-6h0m-1 8h0m-1-3h0m-3-3h0m-7 3h0m-2-6h0m-4 8h0m0-4h0m-1 4h0m-5 0h0" stroke="#a0da39" stroke-width="2.3"/>
<path d="M216 1098h0m-8-1h0m-29-3h0m-2-1h0m-5 2h0m-2 3h0m0-1h0m-11 11h0m3 0h0m1-3h0m1-2h0m1-2h0m1-1h0m0 4h0m1-3h0m1 5h0m0 2h0m4-8h0m1 5h0m1 4h0m5-5h0m1 3h0m0 0h0m1-6h0m1 5h0m3 3h0m12-7h0m3 1h0m1-1h0m1 5h0m2-7h0m0 7h0m4-4h0m3 4h0m6-4h0m2 8h0m-1 4h0m-3 2h0m-3-2h0m-7-3h0m-5 0h0m-1 3h0m-2-2h0m-23 0h0m-1 2h0m0-5h0m-1 4h0m-2-1h0m0 4h0m-1 2h0m-2-5h0m-2-3h0m0 7h0m0-2h0m-2 3h0m-2-9h0m-1 5h0m0-3h0m-4 5h0m0-2h0m-2 2h0m-3 3h0m2 5h0m0-4h0m3 8h0m0-3h0m5-6h0m2 2h0m3 2h0m29 0h0m3 0h0m3-1h0m10-2h0m0 5h0m4 10h0m-3 3h0m-3 0h0m-49-9h0m-1 1h0m-13 18h0m51 0h0m1 0h0m2-2h0m0 0h0m0-1h0m1 3h0m1-1h0m1-1h0m0-3h0m0 5h0m1-3h0m1 3h0m1-6h0m1 0h0m1-1h0m0 7h0m0-1h0m1-1h0m0-4h0m1 3h0m0 2h0m2-2h0m3-6h0m0 0h0m1 5h0m0-3h0m3-2h0m0 8h0m-3 7h0m-4-5h0m-1 0h0m-1 0h0m-2 1h0m0-1h0m-1 2h0m-1 4h0m0-4h0m-3 4h0m0-5h0m-2 7h0m0-5h0m-1 0h0m-1-2h0m0 5h0m0-4h0m-1 7h0m-3-3h0m-1-2h0m-1 5h0m-1-5h0m-2 5h0m1 9h0m11-6h0m0 0h0" stroke="#1f948c" stroke-width="2.3"/>
<path d="M229 998h0m0 0h0m-1-3h0m-1-1h0m-3-4h0m-1 4h0m0-1h0m-1 4h0m-2-2h0m-11 14h0m2-1h0m2-2h0m0 3h0m2-1h0m1-2h0m1-4h0m0 7h0m1-6h0m1-2h0m1 5h0m0 3h0m0-8h0m0 7h0m1-7h0m1 3h0m1 2h0m0-2h0m1 4h0m0-4h0m1 5h0m0-4h0m0-2h0m1 0h0m0 5h0m1-2h0m0-4h0m0 2h0m1 4h0m0-4h0m1 0h0m0 4h0m2-7h0m2 8h0m0-2h0m4 12h0m-1-1h0m-3-1h0m0-4h0m0 6h0m0-1h0m-1 1h0m-1-2h0m-2-7h0m0 2h0m-1 5h0m0-2h0m0-4h0m-1 6h0m-1-2h0m0-5h0m0 4h0m0-2h0m-1-2h0m0 0h0m0 7h0m0-7h0m-1 7h0m0-2h0m0 4h0m-1 0h0m0-8h0m-1 7h0m-1-7h0m0 0h0m-1 2h0m0 4h0m-1 1h0m0-8h0m0 8h0m0 1h0m-2 0h0m-1-9h0m0 1h0m-1 2h0m0-2h0m0 0h0m-2 7h0m0-3h0m-1 0h0m0 0h0m0-1h0m-1 1h0m-1 2h0m-1-2h0m0-3h0m0 6h0m-1-1h0m-1-5h0m0-1h0m-1 8h0m-1-5h0m-1 3h0m0 2h0m-6 6h0m1 2h0m2-1h0m0 1h0m1-7h0m1 8h0m0 0h0m1-4h0m2 0h0m2 3h0m1 1h0m0-8h0m2 0h0m0 1h0m1 3h0m0 5h0m0-6h0m1 6h0m0-8h0m0 2h0m1 4h0m0-4h0m2 0h0m0 6h0m1-7h0m1 0h0m0 6h0m1-1h0m0-6h0m0 0h0m0 4h0m1-2h0m1-1h0m0 6h0m1 1h0m0-5h0m1 3h0m0-1h0m1-4h0m0-1h0m3 6h0m0-4h0m0 6h0m1-4h0m1 4h0m0-8h0m1 2h0m0 6h0m1 0h0m0-3h0m1 2h0m0-7h0m1 5h0m0-6h0m0 8h0m0-2h0m1-6h0m2 4h0m0 0h0m0 3h0m0-6h0m0 5h0m1 1h0m0-2h0m1 3h0m1-4h0m2 11h0m0 1h0m-1-3h0m0 3h0m-1-2h0m0 4h0m-1-4h0m0 1h0m0-5h0m0 2h0m-1-1h0m0-1h0m0 7h0m0-4h0m0 3h0m0-3h0m-1 1h0m0 4h0m0-8h0m-1 8h0m-3-3h0m0-3h0m-1 7h0m0-8h0m-1 2h0m0 1h0m0 3h0m-2-5h0m0-2h0m-1 1h0m-1 6h0m0-2h0m0 4h0m0-4h0m-1 3h0m0-7h0m-1 5h0m-1-4h0m0 1h0m-1-3h0m-1 9h0m0-9h0m-1 6h0m0-3h0m-1-1h0m-1 2h0m-2 5h0m0-9h0m0 5h0m0-3h0m-1 1h0m-1 4h0m0-7h0m0 6h0m-1-3h0m-1 4h0m0 2h0m0-2h0m-1 2h0m-1-9h0m-1 5h0m0 4h0m-1-3h0m-1 1h0m-2 1h0m0-6h0m0 2h0m-3-3h0m0 5h0m-1 2h0m0-7h0m0 4h0m-1 0h0m0-4h0m0 5h0m0-5h0m-1 0h0m-1 0h0m0-1h0m-2 1h0m8 14h0m1-2h0m0-1h0m0-1h0m2-1h0m0 7h0m1-5h0m3-1h0m3 4h0m0-3h0m2 2h0m7-2h0m0-2h0m6 1h0m1 1h0m0 4h0m0-4h0m0 3h0m2-2h0m1-2h0m0 4h0m1-5h0m0 2h0m0-1h0m1 1h0m0 1h0m0-1h0m0-1h0m0-1h0m1 6h0m0-2h0m3-2h0m1 0h0" stroke="#7ad151" stroke-width="2.3"/>
<path d="M101 1162h0m4-1h0m-18 10h0m10 16h0m-19 12h0m0 2h0m-13 10h0" stroke="#433e85" stroke-width="2.3"/>
<path d="M275 1059h0m-1-6h0m-5 5h0m-2-2h0m-5 0h0m0 0h0m-1 2h0m-1-8h0m-3 6h0m0 0h0m0-3h0m-1 5h0m-2 0h0m-1-5h0m-2 6h0m-3-2h0m-2 0h0m-9-5h0m-1 6h0m0 0h0m-1 1h0m-2-1h0m0 1h0m-4-1h0m-1 0h0m-10 7h0m1 0h0m3 0h0m3-3h0m2 4h0m1-1h0m0-1h0m1-3h0m1 8h0m3-9h0m1 2h0m1-1h0m1 2h0m1-2h0m0 8h0m2 0h0m0-3h0m1-6h0m0 6h0m1 2h0m2-6h0m2 5h0m2 0h0m1-7h0m1 6h0m1-5h0m1 5h0m1-2h0m0-2h0m1 4h0m0-2h0m0 0h0m1 4h0m0-5h0m2 0h0m2 3h0m4-3h0m1 6h0m2-8h0m1 3h0m2 0h0m0-4h0m2 6h0m4-5h0m5-1h0m8 19h0m-1-9h0m-9 6h0m-1-3h0m0-1h0m-1 7h0m-1-2h0m-4-3h0m0-2h0m-1 5h0m-1-1h0m-2-3h0m0-1h0m-2 4h0m-1-2h0m-1 2h0m-2-2h0m-2 4h0m-1-6h0m-1 2h0m-1 4h0m0 0h0m-4-7h0m-1 0h0m-1-1h0m-1 2h0m-1 0h0m-1 7h0m0 0h0m-1-4h0m-2-3h0m-2-1h0m-1 8h0m-1-6h0m0 1h0m0 4h0m-1-6h0m-1 6h0m-2-7h0m-1-1h0m-1 4h0m-1-1h0m0 5h0m0-1h0m-1-2h0m-1-5h0m0 9h0m0-5h0m0-3h0m-2 0h0m0 4h0m0 4h0m-1-8h0m-1 3h0m-2 0h0m-2 1h0m-2 4h0m0-3h0m-1-6h0m0 3h0m-10 5h0m-5-6h0m19 14h0m2 0h0m1-2h0m0 5h0m1-9h0m1 3h0m0 6h0m3-9h0m0 1h0m2 2h0m2-2h0m0 8h0m2 0h0m0-6h0m0 6h0m1-5h0m3 2h0m0-3h0m1 1h0m1 3h0m0 2h0m1-2h0m1-5h0m2 7h0m0-7h0m0 6h0m2-1h0m1 0h0m2-5h0m0 3h0m1 2h0m1-6h0m0-1h0m0 8h0m1 1h0m1-1h0m1-6h0m1 7h0m1-4h0m4-1h0m2 2h0m0-6h0m1 2h0m1 6h0m1-3h0m1-3h0m0 5h0m0-2h0m2-3h0m2 5h0m0-3h0m2 0h0m0 3h0m4-6h0m12 7h0m-1 4h0m-10-1h0m-2 4h0m0 2h0m-2-6h0m-1 3h0m-3 0h0m-1-2h0m-5 7h0m-2-3h0m-3 0h0m-1 2h0m0 0h0m-1-6h0m-1 3h0m0 1h0m0-5h0m-2 8h0m0-1h0m0-4h0m-1 2h0m-1-1h0m0-5h0m-3 4h0m-1 5h0m0-1h0m-1-2h0m-1-2h0m-1-4h0m-4 4h0m0 0h0m-2-4h0m-3 3h0m-2 6h0m0 0h0m-2-3h0m0 0h0m-1-6h0m-1 4h0m-2 0h0m-1-2h0m0-1h0m-1-1h0m-5 5h0m1 8h0m1-1h0m1-1h0m6 4h0m2-2h0m3-1h0m5 2h0m1 4h0m0 0h0m2-5h0m0 3h0m1-3h0m1 1h0m0-1h0m0 0h0m1-3h0m0 3h0m1 2h0m1-5h0m1 5h0m1-4h0m1 6h0m0 1h0m3-3h0m7-5h0m2 0h0m1 5h0m7-4h0m5 1h0m-30 11h0m-6-1h0m-1-2h0m0 2h0m-1 5h0m-5 0h0m-6 0h0" stroke="#5ac864" stroke-width="2.3"/>
</g><g transform="scale(.5)"><g stroke-opacity="0.75"><path d="M365 1087h0m3 2h0m6 2h0m-1 7h0m-5-5h0m0 1h0m-1 1h0m-4-2h0m-4 5h0m1 9h0m1 1h0m2-8h0m1 9h0m0-8h0m0 2h0m0 0h0m0-1h0m1 4h0m3-6h0m1 5h0m4-1h0m3 0h0m-7 11h0m-1 3h0m-3 0h0m0-6h0m-2 2h0m0 1h0m-5 13h0m5-8h0m3 3h0m1 2h0m1 6h0m-1 3h0m-2-2h0m0 0h0m-5 3h0m6 8h0m4-3h0" stroke="#481a6c" stroke-width="3.8"/>
<path d="M446 1299h0m-1-1h0m-6 10h0m3 1h0m1-7h0m1 5h0m0-1h0m0 1h0m1-4h0m0 4h0m0-2h0m0 4h0m0-8h0m0 0h0m0 4h0m1 1h0m0 2h0m0-6h0m1 4h0m1 1h0m0-1h0m1-2h0m1 2h0m1-1h0m-10 6h0m-2 0h0" stroke="#7ad151" stroke-width="3.8"/>
<path d="M352 1230h0" stroke="#481a6c" stroke-width="3.8"/>
<path d="M760 1097h0m0-4h0m-1 0h0m-2-1h0m-1-1h0m0 1h0m-1 6h0m-1 1h0m-1-4h0m-1-1h0m0-1h0m-2 2h0m-2 1h0m0 1h0m-8 11h0m2 1h0m1-3h0m1-1h0m0 2h0m2-3h0m0 4h0m1-6h0m0 6h0m0-7h0m0 2h0m0 3h0m0-4h0m1 3h0m0-1h0m1-1h0m0 2h0m0-4h0m0 4h0m1-2h0m0 1h0m0-2h0m0-2h0m0 6h0m1-2h0m0-2h0m0-2h0m2 4h0m2 0h0m0-2h0m0-2h0m0 0h0m1 2h0m1 0h0m-6 9h0m-1-1h0m-2 0h0m0 0h0m-2 0h0m-1 1h0" stroke="#5ac864" stroke-width="3.8"/>
<path d="M367 1098h0m-3 11h0m6-2h0m-6 13h0" stroke="#433e85" stroke-width="3.8"/>
<path d="M364 1064h0m-7 12h0m1 8h0m8 3h0m1 2h0m10 4h0m-4 4h0m-2-5h0m-2 7h0m-1-7h0m-1 7h0m0-1h0m0 0h0m-1 0h0m0-4h0m0-2h0m0 6h0m-1-4h0m0 3h0m-1 2h0m-1-2h0m0 1h0m-1 1h0m-1-6h0m-3 2h0m-1 4h0m-2-2h0m3 3h0m0 9h0m1-2h0m0-3h0m2 1h0m1 1h0m0 0h0m1-3h0m1-3h0m0 4h0m0 0h0m0-2h0m1-2h0m0 7h0m0 2h0m0-1h0m0 1h0m1-1h0m0-1h0m0-1h0m1 1h0m0 0h0m0-2h0m1-5h0m0 9h0m0-3h0m0-2h0m1 1h0m0-3h0m1 4h0m0 1h0m2 2h0m2 0h0m4 5h0m-1 5h0m-1-5h0m-1 1h0m-2 0h0m-1 0h0m0-1h0m-1-2h0m-1 3h0m0 2h0m0-4h0m0-3h0m0 3h0m-1 1h0m0 0h0m-1 5h0m0-9h0m0 1h0m0 7h0m0-2h0m0 1h0m-1-6h0m0 6h0m0-3h0m0-4h0m0 4h0m0-4h0m-1 1h0m0 7h0m0-5h0m0 4h0m0 2h0m0-4h0m-1-3h0m0 5h0m0-3h0m0 0h0m-1-1h0m0 2h0m0-1h0m-1-2h0m0 0h0m-1 2h0m0 2h0m0-6h0m-1 3h0m-2 5h0m0 0h0m-1-7h0m0 3h0m-7-3h0m7 12h0m1-2h0m2 7h0m0-3h0m0 3h0m0-1h0m0 0h0m0-4h0m1 4h0m1 0h0m0-4h0m0 0h0m1 1h0m0 3h0m1-6h0m0 1h0m0 3h0m0 3h0m1-8h0m0 5h0m0 0h0m0-3h0m0 0h0m1 5h0m0-6h0m1 5h0m0 2h0m0-2h0m0-1h0m0-2h0m1-2h0m0 3h0m0 5h0m0-2h0m0-3h0m0-2h0m1 2h0m0 0h0m0 1h0m1-5h0m0 5h0m0 1h0m1 0h0m0 2h0m1-7h0m1 3h0m4 0h0m-6 13h0m-1-6h0m0 5h0m-1-1h0m-1-1h0m-2 2h0m-1-1h0m-1-3h0m0 2h0m-1 4h0m-2-5h0m-2 3h0m-1-2h0m-2-1h0m5 11h0m5-3h0m1 7h0m2 4h0m-5 5h0" stroke="#472c7a" stroke-width="3.8"/>
<path d="M354 1203h0m5 2h0m3 2h0m1-4h0m3 6h0m0-6h0m3 0h0m1 3h0m1 9h0m0 1h0m-1 3h0m-1 0h0m0-3h0m-1 2h0m0 0h0m-2-5h0m0 2h0m-1 2h0m0-1h0m0 3h0m-2-5h0m-1-3h0m-2 7h0m0 0h0m-2-2h0m-1 3h0m0-2h0m-1-5h0m1 17h0m1-7h0m0 3h0m1 4h0m1-1h0m0-2h0m1 3h0m0-6h0m0 3h0m1-4h0m0 7h0m0-1h0m1-8h0m0 4h0m0-4h0m1 4h0m0 2h0m0-1h0m0 4h0m0-5h0m0 0h0m1 2h0m0 1h0m1 0h0m0-7h0m0 8h0m1-7h0m1 1h0m2 6h0m0-8h0m1 4h0m0-3h0m0 2h0m0 5h0m1 7h0m0 1h0m-1-1h0m0-1h0m-1-2h0m0-1h0m0 8h0m0-1h0m0-2h0m-1 1h0m0 0h0m-1-5h0m0 3h0m0 4h0m0-6h0m0-1h0m-1 5h0m0 1h0m0-3h0m0-3h0m0 5h0m0-3h0m-1-3h0m0 7h0m0-4h0m0-3h0m-1 6h0m0-3h0m0-1h0m0 6h0m0 0h0m-1-1h0m-1-7h0m0 3h0m0-1h0m0 4h0m0-3h0m0 0h0m-1 5h0m0-4h0m0-2h0m0 6h0m-1-6h0m-1 4h0m-1-7h0m-1 3h0m0-1h0m-1-2h0m0 7h0m-1 0h0m0-7h0m-3 7h0m0 11h0m2-1h0m1 0h0m0 2h0m0-2h0m0 2h0m1-5h0m0 5h0m0-5h0m1 2h0m0-4h0m0 1h0m1 2h0m0-4h0m0 0h0m1 3h0m0-4h0m0 2h0m1 5h0m0 1h0m0-7h0m1 0h0m0 0h0m1 2h0m0-1h0m0 7h0m0-3h0m0 3h0m1-8h0m0-1h0m0 6h0m0-4h0m0 3h0m1 4h0m0-7h0m0-2h0m1 7h0m0 1h0m1 0h0m0-5h0m0-1h0m0 2h0m0-1h0m0-2h0m1 3h0m0 2h0m0 1h0m0-3h0m0 5h0m1-4h0m0 3h0m0-5h0m0 3h0m0-6h0m1 6h0m0-2h0m1-3h0m0 1h0m0 2h0m0 2h0m1 1h0m0-3h0m-1 11h0m0 2h0m0-6h0m-1 0h0m0 0h0m0 3h0m0 2h0m0 0h0m0 0h0m-1-1h0m0-3h0m-1 5h0m0-6h0m0 7h0m0-6h0m-1 6h0m0 0h0m0-5h0m0 6h0m0-5h0m-1-1h0m0 4h0m-1-4h0m0-1h0m0 5h0m-1-5h0m0 5h0m0-7h0m-1 4h0m0-3h0m-1-1h0m0 4h0m0 4h0m0-3h0m-1 3h0m0-5h0m0-1h0m-1 7h0m0-6h0m0 0h0m0-1h0m0 5h0m0-6h0m-1 6h0m0-2h0m0-5h0m-1 8h0m0-3h0m-1-2h0m0-3h0m0 2h0m-1 4h0m-2-3h0m-2 12h0m5-5h0m0 9h0m2-3h0m1-6h0m0 1h0m1 8h0m0-5h0m1 0h0m0-4h0m0 5h0m0-5h0m1 7h0m1-4h0m0 1h0m0 3h0m0-4h0m1 6h0m0-5h0m0 4h0m0-3h0m0-4h0m1 4h0m0-3h0m1 5h0m0-6h0m0 2h0m1 0h0m1 2h0m1 3h0m0-2h0m0-6h0m1 1h0m0 7h0m0-5h0m0-2h0m0 6h0m1-6h0m0 16h0m-3-5h0m0-1h0m0 2h0m-1 5h0m0 1h0m-1 0h0m0-5h0m-1 2h0m0-2h0m-3 2h0m-1-2h0m-2-3h0m-1 2h0m-3 16h0m5-6h0m1 4h0m4-4h0m1 4h0m1-6h0m0 2h0m3 1h0m-1 7h0m-4 1h0m-2-2h0m-1 7h0m-1-4h0m-3 4h0" stroke="#472c7a" stroke-width="3.8"/>
<path d="M739 1138h0m0-5h0m-1 0h0m-1-1h0m-1 0h0m-1 7h0m0-8h0m-1 0h0m0 6h0m-2 0h0m0 0h0m0-1h0m0 0h0m0 3h0m0 0h0m-1-3h0m0 1h0m0 2h0m0-5h0m-1 2h0m0-1h0m3 5h0m0 0h0m1 0h0" stroke="#29af7f" stroke-width="3.8"/>
<path d="M753 1115h0m-5 2h0m-1 1h0m0-5h0m0 3h0m0-3h0m-2 1h0m0 0h0m0-2h0m-1 2h0m0-2h0m0 3h0m-1 1h0m0 1h0m0-2h0m-1-2h0m0-2h0m-1 8h0m0-8h0m0 2h0m0 5h0m-1-1h0m0 2h0m0-7h0m0 1h0m0-3h0m0 4h0m-1 1h0m-1-5h0m0 6h0m-2 3h0m-6 9h0m1 0h0m4-3h0m1-2h0m0 3h0m1-4h0m0-2h0m1 1h0m0 2h0m1 2h0m0 4h0m0-3h0m0-1h0m1 4h0m0-4h0m0 4h0m0-8h0m1-1h0m0 2h0m0-1h0m1 7h0m2-3h0m2-4h0m-5 9h0m-2 2h0m-1-2h0m-1 1h0m-2-1h0" stroke="#3dbc74" stroke-width="3.8"/>
<path d="M452 1305h0m2 7h0m-1 1h0m0-2h0m0 3h0m-1 0h0m0 0h0m-1-2h0m0 3h0m0-2h0m-1-3h0m0 4h0m0-3h0m-2 2h0m0 0h0m-1-3h0m0 1h0" stroke="#a0da39" stroke-width="3.8"/>
<path d="M428 1289h0m1 0h0m5-2h0m4 0h0m-1 5h0m-4 0h0m0 4h0m-1 0h0m0-6h0m-1 3h0m0 4h0m0-4h0m-2 3h0m0 1h0m-1-7h0m-1 4h0m-1 0h0m-1-4h0m-1 6h0" stroke="#3dbc74" stroke-width="3.8"/>
<path d="M375 1205h0m3 13h0m-4-1h0m0 2h0m-1 8h0m0-3h0m0-1h0m2-1h0m4 2h0m7 13h0m-12 0h0m0-2h0m-1 3h0m0 1h0m1 6h0m3-4h0m2 2h0m0 13h0m-1 0h0m-1-2h0m0-3h0m-3 3h0m-1 4h0m0-3h0m-1-3h0m0 6h0m0-5h0m0-3h0m0 12h0m1 7h0m2-7h0m1 6h0m-3 4h0m-1 10h0" stroke="#433e85" stroke-width="3.8"/>
<path d="M441 1298h0m-2-2h0m-3-1h0m0 1h0m-1 2h0m-1-1h0m-1 0h0m-1 8h0m3-1h0m3-2h0m2 1h0m-10 8h0" stroke="#5ac864" stroke-width="3.8"/>
<path d="M767 1071h0m-2 6h0m0-1h0m0-3h0m-1 2h0m0-1h0m-1 3h0m0-3h0m-1 5h0m-1 0h0m0-3h0m0-3h0m0-2h0m0 2h0m0 6h0m0-2h0m0-4h0m-1 2h0m0 3h0m0-2h0m0-2h0m-1 2h0m0 0h0m-2 2h0m-3 0h0m-6 4h0m4 2h0m0 2h0m2 1h0m0-2h0m2 2h0m0-1h0m0-3h0m1 2h0m0 4h0m0-4h0m0 0h0m0 1h0m0-4h0m1 2h0m1 3h0m0-5h0m0 2h0m1-4h0m0 5h0m1 2h0m0-4h0m1 4h0m0-5h0m1 7h0m1-5h0m1-4h0m0 1h0m-3 9h0m-2 0h0m-2 1h0m-1 0h0m-1-1h0" stroke="#7ad151" stroke-width="3.8"/>
<path d="M775 1054h0m0 3h0m-2-5h0m0 3h0m0-3h0m0 4h0m0 2h0m0-5h0m0 4h0m0-1h0m-1-1h0m0 2h0m0 0h0m0-5h0m0 7h0m-1-7h0m0 2h0m-1-1h0m0 6h0m0-4h0m0 4h0m-2-1h0m-1-7h0m0 3h0m-3-1h0m-1 12h0m0 2h0m1 1h0m0-2h0m0-5h0m1 5h0m0 2h0m0-3h0m0 4h0m0-4h0m1-1h0m0 0h0m0 0h0m0 3h0m0-6h0m0 7h0m1-5h0m0 1h0m0-3h0m1 4h0m0 3h0m0-8h0m0 1h0m0 6h0m0 0h0m1 0h0m0-6h0m0 6h0m1-6h0m0 5h0m0 3h0m1-3h0m0-5h0m0 0h0m0 2h0m3 2h0m1-5h0m-4 10h0m-5 0h0m-1 0h0" stroke="#a0da39" stroke-width="3.8"/>
<path d="M425 1279h0m0 0h0m-1 0h0m-6 8h0m1-3h0m3-2h0m1-2h0m3 1h0m0 6h0m0-2h0m0-4h0m2 1h0m0 5h0m0-4h0m6-1h0" stroke="#29af7f" stroke-width="3.8"/>
<path d="M418 1282h0" stroke="#1fa287" stroke-width="3.8"/>
</g><path d="M604 1209h0m2-2h0m10 9h0m-3 1h0m-3 1h0m0-2h0m-3 0h0m-1-1h0m-3-3h0m0 7h0m-1 0h0m-3-8h0m-2 6h0m0 8h0m2 3h0m1-4h0m1 3h0m1 1h0m0 1h0m0-8h0m2 0h0m0 5h0m2-3h0m1-2h0m0 3h0m9 10h0m-3-3h0m-3 6h0m-1-3h0m-1 4h0m-1-2h0m0-2h0m-3-3h0m-1 3h0m-1 5h0m0-8h0m0-1h0m-3 0h0m-2 6h0m0 1h0m-1 0h0m0 1h0m0-4h0m-8 4h0m1 9h0m2-1h0m0-1h0m0-1h0m1 2h0m4 2h0m0-6h0m1 6h0m1-1h0m1-3h0m2-3h0m0 8h0m2-9h0m1 1h0m1 5h0m2 0h0m2-4h0m1 4h0m2-1h0m1 0h0m-8 10h0m-1-1h0m-5-2h0m0 0h0m-1 6h0m-2-4h0m0-4h0m0 5h0m-3-3h0m0 3h0m-1-2h0m0 6h0m-1 0h0m-1-2h0m-1-1h0m-1-2h0m-1 4h0m0 0h0m-6-3h0m2 11h0m2-3h0m3 3h0m0-3h0m0-1h0m6 4h0m4-3h0m0-2h0m2 7h0m5-7h0m1 4h0m1 6h0m-11 0h0m-1 3h0m4 6h0m-6 11h0" stroke="#7ad151" stroke-width="1.7"/>
<path d="M407 1135h0m-2 14h0m2-7h0m2 5h0m1 2h0m6-2h0m3 2h0m1 10h0m-1-6h0m0 0h0m-2 3h0m0 2h0m-3-5h0m0 0h0m0 4h0m-1-7h0m0 9h0m-1-7h0m-1 5h0m0 1h0m0-7h0m0 1h0m-1-1h0m-1 5h0m0-3h0m0 1h0m-3 3h0m-1-6h0m0 0h0m-1 0h0m0 8h0m-1-9h0m-1 9h0m0-8h0m-1 4h0m0-3h0m-1 0h0m4 8h0" stroke="#24878e" stroke-width="1.7"/>
<path d="M467 1157h0m-1 2h0m-1-1h0m0-1h0m-2-1h0m-2 0h0m-1-3h0m-1 5h0" stroke="#7ad151" stroke-width="1.7"/>
<path d="M717 1157h0m-2 1h0m-1 0h0m0 1h0m-1-3h0m0-5h0m0 6h0m-1 2h0m0 0h0m0 1h0" stroke="#2f6c8e" stroke-width="1.7"/>
<path d="M676 1319h0m-4 7h0m1-2h0m2 1h0m0 1h0m1-2h0m0-3h0m1 4h0m2-2h0m0 2h0m0 2h0m0-6h0" stroke="#433e85" stroke-width="1.7"/>
<path d="M706 1327h0m2-4h0m3 3h0m1-6h0m1 4h0m0 2h0m2-4h0m0-2h0" stroke="#29798e" stroke-width="1.7"/>
<path d="M364 1068h0m3-6h0m0 7h0m8-2h0m0 11h0m-1-8h0m-1 8h0m-1-3h0m0-1h0m-1 0h0m-3 4h0m-7-5h0m-1 5h0m-1-1h0m-2-4h0m-4 16h0m5-1h0m2-2h0m3-2h0m2 5h0m1-1h0m3 1h0m2-4h0m2-4h0m5 7h0m4 9h0m-4 0h0m-3-2h0m0 0h0m-1 4h0m-1-7h0m-2 7h0m0-4h0m-1 4h0m0-5h0m-1-4h0m-2 7h0m0 2h0m-3-1h0m0-1h0m-1-5h0m-1-1h0m0 2h0m-8 16h0m2 0h0m0-3h0m4-3h0m2 6h0m0 0h0m0-2h0m0 2h0m2-3h0m1-2h0m0 2h0m0-2h0m0 0h0m1 4h0m1 1h0m0-2h0m1 0h0m1-3h0m7-2h0m4 10h0m-2 4h0m0 0h0m-3 1h0m-2 0h0m-1-2h0m-1 2h0m-2 2h0m0-6h0m-1-3h0m-1 4h0m0-2h0m-1 7h0m-1-2h0m0-2h0m-2-3h0m0 0h0m0 7h0m-1-8h0m-1 0h0m-3 5h0m-1-3h0m-9 6h0m6 2h0m6 3h0m3-1h0m0 2h0m1-3h0m2 5h0m1-1h0m0 0h0m1-2h0m1-1h0m1 1h0m0-4h0m1 3h0m7-1h0m5 12h0m-10 2h0m-1 1h0m-4-2h0m-1-3h0m0 4h0m0-4h0m-2 5h0m-1-2h0m-1-4h0m-2 2h0m4 10h0m1-1h0m1 7h0m6-8h0m2 7h0m-3 6h0m0-2h0m-15-2h0m10 10h0" stroke="#433e85" stroke-width="1.7"/>
<path d="M456 1315h0m-1 0h0m0-1h0m-3 0h0m0 3h0" stroke="#c5e021" stroke-width="1.7"/>
<path d="M688 1156h0m0 1h0m0-1h0m0 3h0m0-5h0m-1 0h0m0 0h0m-1 4h0m-1 1h0m0 0h0m-1-2h0m0-1h0m-1 2h0m0-3h0m0 3h0m-1-7h0m0 8h0m-1 0h0m-1-5h0" stroke="#433e85" stroke-width="1.7"/>
<path d="M710 1320h0" stroke="#1fa287" stroke-width="1.7"/>
<path d="M562 1053h0m0 12h0m-1 10h0m1 6h0m0 5h0m-1 10h0m-2-3h0m-2 2h0m1 11h0m0-6h0m3 9h0m0 0h0m0-4h0m1 11h0m-1-2h0m-8 6h0m3 6h0m0-5h0m2 4h0m1-3h0m3 1h0m-5 23h0m4-1h0m-6 15h0" stroke="#24878e" stroke-width="1.7"/>
<path d="M440 1142h0m0 4h0m0 2h0m5 1h0m11 6h0m-8-3h0m-1 6h0m0-7h0m-1 6h0m0-2h0m-1 2h0m0 2h0m-1-7h0m-1-1h0m0 2h0m0-2h0m-1 8h0m-1-3h0m0 0h0m-1-1h0m0 0h0m0 1h0m-1 3h0m-1-5h0m0 5h0m-1-8h0m0 3h0m0-1h0m0 3h0m-1-6h0m0 0h0m0 9h0m-1-6h0m0 2h0m0 3h0m-1-4h0m0 2h0m-1-1h0m-2 2h0m4 3h0m11 0h0m1 0h0" stroke="#29af7f" stroke-width="1.7"/>
<path d="M447 1309h0m2-1h0m2 0h0m1 1h0m2-1h0m1-6h0m3 3h0m0 8h0m-1 0h0m0-1h0m-1 1h0m0-1h0m0 3h0m0-2h0m-1 1h0m0 0h0m0 0h0m0 0h0m0-3h0m0 6h0m0-1h0m-1-3h0m0 2h0m-1-4h0m0 3h0m0-2h0m0 3h0m0-2h0m0 3h0m0-1h0m0 2h0m0-1h0m-1 1h0m0-1h0m0-2h0m-1 0h0m0 5h0m0 0h0m0-9h0m-1 5h0m-1 2h0m0-5h0m0 1h0m-2 2h0m0 3h0m0 0h0m-1-4h0m0 3h0m0 0h0m-1 1h0m0 0h0m-1 1h0m7 1h0" stroke="#a0da39" stroke-width="1.7"/>
<path d="M371 1199h0m-4-1h0m-2 0h0m-1 0h0m0 1h0m-2-1h0m-2 1h0m-2-1h0m-1 0h0m0 1h0m-4 3h0m2 3h0m0-1h0m1 2h0m1 2h0m0-5h0m1 0h0m2-2h0m0 1h0m0 3h0m2-3h0m0 1h0m2 1h0m1 2h0m0-4h0m1 6h0m1-7h0m1 8h0m0-2h0m1-1h0m2-6h0m0 9h0m2 7h0m-1 0h0m0 2h0m-2-3h0m-1 0h0m-1 3h0m0-2h0m0 2h0m-1-8h0m-1 4h0m0-2h0m0 1h0m0 4h0m-1-7h0m0 4h0m-1-2h0m0 5h0m-1-1h0m-1-5h0m0 5h0m0 0h0m-1-4h0m0 5h0m0-1h0m0-6h0m0 4h0m0 1h0m0-4h0m-2 2h0m-1 2h0m-1 2h0m0-3h0m-1 2h0m0 3h0m-2-1h0m-2 11h0m1-6h0m1-2h0m0 3h0m1 3h0m0-3h0m1-3h0m0 1h0m0 5h0m0-3h0m0 2h0m1-6h0m0 5h0m0 1h0m0-5h0m0 0h0m2 6h0m0-2h0m0-2h0m0-2h0m0 5h0m1 0h0m0 2h0m1-6h0m0 6h0m0-6h0m0-2h0m0 7h0m1-1h0m0-5h0m1 3h0m0 0h0m0-2h0m0 3h0m0-4h0m1-1h0m0 5h0m0 1h0m0 3h0m0-9h0m1 2h0m0 6h0m0-3h0m0 4h0m1-5h0m1 3h0m0 2h0m0-8h0m0 6h0m1-7h0m0 2h0m0 3h0m1-1h0m0-1h0m0 5h0m0-4h0m1 5h0m0-8h0m0 7h0m0-6h0m1-1h0m0 6h0m1-2h0m3 2h0m0 8h0m-2 1h0m-1-1h0m-1-1h0m0 5h0m0-3h0m-1 1h0m0 1h0m-2-8h0m0 0h0m0 5h0m0-4h0m0 3h0m0-3h0m0 2h0m-1-1h0m0-1h0m-1 4h0m0 3h0m0 0h0m0-2h0m0-2h0m0-2h0m0 6h0m-1-5h0m0 0h0m0-3h0m0 6h0m0-1h0m0 0h0m0-5h0m-1 1h0m0 8h0m0-2h0m0-7h0m-1 4h0m0 1h0m0 0h0m0 2h0m0 1h0m0 0h0m0-6h0m0-1h0m0 4h0m0 1h0m0-1h0m0 3h0m0-3h0m0 4h0m-1 0h0m0-7h0m-1 6h0m0-8h0m0 6h0m0-1h0m0 1h0m0-1h0m0 4h0m-1-7h0m0 2h0m0 5h0m0-4h0m0-2h0m0 1h0m0 3h0m0 0h0m0-5h0m0-1h0m-1 0h0m0 0h0m0 5h0m-1-6h0m0 7h0m0-3h0m0-3h0m0 0h0m-1 2h0m0-1h0m0 3h0m0 4h0m0-6h0m-1 3h0m0-5h0m0 5h0m-1-1h0m-1-3h0m0-2h0m-1 4h0m-2-2h0m0 6h0m-1-3h0m-2 0h0m0 12h0m4-5h0m0 0h0m0 1h0m1 6h0m0-9h0m0 5h0m1-2h0m1 2h0m0 4h0m0-8h0m1 5h0m0 1h0m0 2h0m0-1h0m1 0h0m0 1h0m1 0h0m0-6h0m0 0h0m1 6h0m0-1h0m0-4h0m0-4h0m0 2h0m0 6h0m0-1h0m1-4h0m0 4h0m0-3h0m1-1h0m0-2h0m0 0h0m0 3h0m0-2h0m1 6h0m0-4h0m0-2h0m0-1h0m0-1h0m0 6h0m0-4h0m0-1h0m0 4h0m0-3h0m0 7h0m1-1h0m0-1h0m0-7h0m0 6h0m0 1h0m1-7h0m0 6h0m0 0h0m0-1h0m0-4h0m0-1h0m0 7h0m0 2h0m0-1h0m1 0h0m0 1h0m0-5h0m1-1h0m0 5h0m1-5h0m0-1h0m0 0h0m0 6h0m0 1h0m1-9h0m0 3h0m0 5h0m1-3h0m1 3h0m0 1h0m1-4h0m1-3h0m2 5h0m0-4h0m0 2h0m5 0h0m-4 10h0m-1 3h0m0 0h0m-1 1h0m-1 0h0m0 0h0m0 0h0m0-8h0m0 5h0m-1 0h0m0-3h0m-1 4h0m0 2h0m0-2h0m-1-6h0m0 2h0m0 3h0m0 1h0m0-6h0m-1 6h0m0-2h0m0-2h0m-1-1h0m0-1h0m0 5h0m0-3h0m0 3h0m0-6h0m0 3h0m-1 2h0m0-1h0m0-3h0m0 8h0m0-2h0m0-5h0m0 0h0m0-2h0m0 0h0m-1 8h0m0-1h0m0-2h0m0 1h0m-1 0h0m0-6h0m0 2h0m0 7h0m0-4h0m0 1h0m-1-3h0m0 4h0m0-6h0m0 0h0m-1 8h0m0 0h0m0-7h0m-1 1h0m0-3h0m0 4h0m0 2h0m0-4h0m0 0h0m0 6h0m-1-7h0m0 8h0m0-2h0m0 1h0m0-8h0m0 6h0m0 1h0m0-2h0m0-5h0m0 1h0m0 4h0m0 3h0m0-6h0m-1 3h0m0-5h0m0 9h0m0-9h0m0 2h0m-1 6h0m0-5h0m0 0h0m0-2h0m0 4h0m-1-4h0m0 8h0m0-6h0m0 1h0m-1 5h0m0-4h0m-1 2h0m-1-6h0m-1-1h0m-1 3h0m-1 4h0m-1-6h0m-1 4h0m3 8h0m2-2h0m1 7h0m0-1h0m0-7h0m1 1h0m0 4h0m0 2h0m1-6h0m0 3h0m0 0h0m0 4h0m1-4h0m0 3h0m1-1h0m0-2h0m1-3h0m0 7h0m0-7h0m0 7h0m1-2h0m0-3h0m0-2h0m0 6h0m0-6h0m1-1h0m0 4h0m0 4h0m0-8h0m0 6h0m0-3h0m0-1h0m0 0h0m0 7h0m0-7h0m0 3h0m1-3h0m0-1h0m0 7h0m1-4h0m1 2h0m0 3h0m0-6h0m0 6h0m0-2h0m1-7h0m0 9h0m1-8h0m0 0h0m0 0h0m0 5h0m0-6h0m1 2h0m0-1h0m0 2h0m0 1h0m3 3h0m0-5h0m0 2h0m0-3h0m1 6h0m2-4h0m-3 11h0m-2 3h0m0-4h0m0 1h0m-1 5h0m0-5h0m-2-2h0m0 2h0m-1 2h0m0-1h0m0-2h0m-1 4h0m0 2h0m-1-9h0m0 5h0m0-5h0m-1 0h0m-1 5h0m-1 2h0m0 1h0m0 1h0m0-4h0m-1-4h0m-2 8h0m0-2h0m-1-6h0m0 4h0m-1-2h0m-1-1h0m0 1h0m-6-1h0m5 10h0m0 2h0m1-1h0m0 0h0m1 4h0m1-6h0m0 0h0m2 4h0m1 1h0m0-3h0m0 6h0m2-9h0m1 7h0m0 1h0m4-5h0m1 0h0m0-3h0m3 0h0m0 0h0m0 8h0m3-1h0m-9 6h0m-1-3h0m-1 1h0m-2 7h0m-2-7h0m-3 6h0m-1 7h0m1 1h0m6-3h0m2 16h0" stroke="#472c7a" stroke-width="1.7"/>
<path d="M611 1138h0m-17 9h0m1 0h0m0 0h0m13-4h0m1 3h0m3-6h0m0 4h0m0 11h0m-1 1h0m0-3h0m0 0h0m-2-1h0m-1 6h0m0-6h0m0 5h0m-4 0h0m0-5h0m0 1h0m-1 0h0m0 3h0m-1 1h0m0 0h0m-1-2h0m-1 3h0m0-2h0m-1-5h0m-1 1h0m0 7h0m-1-2h0m-2-3h0m-2 3h0m0-2h0m0-4h0m-1-1h0m1 10h0" stroke="#3dbc74" stroke-width="1.7"/>
<path d="M446 1149h0m3 0h0m13 5h0m-3 3h0m-1 2h0m0 0h0m-1 0h0m-2-5h0m0 5h0m-1 0h0m-1-2h0m0 1h0m-1 0h0m-1-4h0m0-1h0m0-2h0m0 7h0m0 0h0m-1-2h0m0 0h0m-1 1h0m0 2h0m0-4h0m0-1h0m0-2h0m-1 5h0m-1 2h0m0-1h0m0-2h0m-1 3h0m0-9h0m0 8h0m-4-1h0m0 0h0m0-5h0m-1 0h0m0 5h0m-3 0h0m-1-3h0m6 6h0m5 0h0m2 0h0m11 0h0" stroke="#3dbc74" stroke-width="1.7"/>
<path d="M522 1318h0m-1 0h0m0-4h0m-1 5h0m-3 6h0m1-1h0m2 0h0m2-3h0" stroke="#433e85" stroke-width="1.7"/>
<path d="M357 1198h0m-5 6h0m2 0h0m2 2h0m7-4h0m-4 8h0m-4 8h0m-4-8h0m-2 2h0m-1 4h0m4 9h0m3 3h0m0-7h0m1 0h0m1-1h0m4 4h0m1 4h0m8 8h0m-11-3h0m-2-3h0m0 6h0m0-6h0m0 7h0m-1 1h0m-7 11h0m2 0h0m1-6h0m0-3h0m1 2h0m2 2h0m0 2h0m2-3h0m0-1h0m2 2h0m2 3h0m3-3h0m1 5h0m3-3h0m-3 4h0m-2 1h0m-2 5h0m-3-5h0m-2 7h0m-3-6h0m-2 4h0m0-3h0m-1 6h0m-1-9h0m-1 0h0m0 18h0m0-6h0m1 2h0m0-3h0m1-1h0m3 7h0m1-5h0m0 7h0m1-7h0m3 3h0m1-3h0m1 4h0m0 8h0m-4 2h0m-1 3h0m-1-2h0m-4-4h0m-2-1h0m16 12h0m-7 11h0m-3 4h0m-5 4h0m2-1h0" stroke="#481a6c" stroke-width="1.7"/>
<path d="M717 1315h0m-1 1h0m-1 5h0m4 2h0m0 2h0m1 1h0m0 1h0m0-5h0m1-2h0m0 3h0" stroke="#24878e" stroke-width="1.7"/>
<path d="M680 1324h0m1-1h0m2 1h0m0 0h0m0-3h0m5 6h0m0-7h0m0 6h0" stroke="#3d4e8a" stroke-width="1.7"/>
<path d="M422 1147h0m1 2h0m2-4h0m0 3h0m0-2h0m1-6h0m4 9h0m10 8h0m-2-7h0m-2 6h0m0-4h0m-1 4h0m-1 3h0m0-5h0m0 3h0m-1-4h0m-1 3h0m0 3h0m0-6h0m-1 6h0m0-2h0m0 1h0m-1 1h0m-1-6h0m0-1h0m0 2h0m0 3h0m0-2h0m-1 0h0m0 3h0m-1-6h0m-1 1h0m-1 0h0m0 1h0m0 0h0m-1 5h0m-1-1h0m0-1h0m-1-5h0m0 4h0m-2-3h0m-2 0h0m8 7h0m4 0h0m3 0h0" stroke="#1fa287" stroke-width="1.7"/>
<path d="M546 1045h0m6 14h0m-11 3h0m1 0h0m0-1h0m1 3h0m3 4h0m0-6h0m1 7h0m0-2h0m1-4h0m1-3h0m0 7h0m2 1h0m9 9h0m-8 0h0m-2-5h0m-4 0h0m-1 1h0m-1 5h0m-3-2h0m3 12h0m2-7h0m1 4h0m1 3h0m0-8h0m1 2h0m2 3h0m4-3h0m1-1h0m0 4h0m2 11h0m-5-3h0m-1 0h0m0 3h0m-2-2h0m0 5h0m0-8h0m0 5h0m-1 2h0m-1 0h0m0-4h0m-3 3h0m-1 0h0m0 0h0m-1 0h0m-4 0h0m-5 12h0m5-4h0m4 3h0m0-4h0m1-3h0m1-1h0m1 0h0m0 5h0m1-2h0m0-1h0m0-1h0m1 6h0m0-1h0m0-5h0m0 6h0m0-4h0m1 4h0m2-5h0m3 3h0m3 6h0m-5 6h0m0-3h0m-2 0h0m0-2h0m-1 2h0m0 0h0m-1 5h0m-1 0h0m0-7h0m0 7h0m-1-2h0m0-1h0m-3 1h0m-3-5h0m1 9h0m3 1h0m1 0h0m4 0h0m1 5h0m0-6h0m3 0h0m0 0h0m1 8h0m0-6h0m1 5h0m0 1h0m0 6h0m-1-5h0m-4 4h0m-4 1h0m-2 3h0m-2-4h0m-1 3h0m-1 0h0m5 12h0m0-9h0m1 5h0m2-2h0m0 6h0m1 0h0m0-9h0m2 3h0m4 3h0m-1 12h0m0 1h0m-16 1h0m9 0h0m3 0h0m0 0h0m5 0h0" stroke="#2f6c8e" stroke-width="1.7"/>
<path d="M714 1149h0m6 10h0m-2-9h0m-3 6h0m7 4h0" stroke="#1f948c" stroke-width="1.7"/>
<path d="M760 1205h0m8 2h0m3 0h0m3 0h0m3 0h0m0 6h0m-4 6h0m-1-9h0m-2 6h0m-2-4h0m-1 4h0m0 0h0m-2-1h0m0 4h0m0-4h0m-1-1h0m-2 5h0m-10 6h0m10 0h0m1-3h0m2 7h0m0-2h0m2 0h0m4 2h0m1-2h0m2-3h0m0-3h0m0 2h0m-4 13h0m-2 1h0m-1-4h0m0-3h0m0 0h0m-1 2h0m-4 3h0m-1-1h0m0-4h0m-1 7h0m-3 2h0m-1-3h0m-1-5h0m-1 4h0m-1 0h0m-1 2h0m0 2h0m-1-5h0m-2-1h0m-5 6h0m-3 1h0m5 1h0m2 3h0m1-3h0m0 4h0m3 1h0m0-5h0m2 1h0m1 2h0m1 4h0m0-6h0m1 5h0m2-2h0m2-1h0m1-3h0m1 8h0m2-9h0m0 2h0m1 2h0m0 1h0m0 3h0m4-4h0m-4 8h0m-1 1h0m-3 3h0m-1 1h0m-1-4h0m-3 6h0m-1-2h0m-1-5h0m0 0h0m-1 0h0m0 3h0m-2-3h0m-1 2h0m-1-4h0m-4 0h0m-3 5h0m-1-5h0m-5 9h0m12 5h0m1-2h0m3 5h0m2-2h0m1 2h0m1-6h0m2 0h0m-7 14h0m-5-5h0m-3 2h0m-9 16h0m20-6h0m-19 20h0" stroke="#7ad151" stroke-width="1.7"/>
<path d="M388 1224h0m-6 12h0m1 9h0m2 14h0m-2 5h0m7 1h0m-7 5h0m-6 0h0" stroke="#355e8d" stroke-width="1.7"/>
<path d="M549 1137h0" stroke="#29798e" stroke-width="1.7"/>
<path d="M578 1313h0m-10 5h0m-2 3h0" stroke="#1fa287" stroke-width="1.7"/>
<path d="M388 1145h0m8 14h0" stroke="#355e8d" stroke-width="1.7"/>
<path d="M387 1143h0m4 3h0m0-3h0m2 4h0m2 0h0m5 5h0m-5 1h0m-1 5h0m0-8h0m0 9h0m0-1h0m-1 0h0m0 1h0m0-6h0m-2-2h0m-2 7h0m-1-6h0m-1 1h0m-1-2h0" stroke="#2f6c8e" stroke-width="1.7"/>
<path d="M602 1199h0m-6 5h0m1 5h0m0-6h0m0 5h0m1-7h0m4 3h0m1 0h0m2-4h0m0 8h0m0 1h0m0-1h0m1-8h0m1 6h0m0-4h0m0-2h0m0 0h0m0 9h0m1-2h0m0 0h0m2-2h0m0-4h0m0 5h0m5 1h0m-3 10h0m-1-2h0m0-3h0m-1 0h0m0-2h0m-2 3h0m0 6h0m-1-2h0m0-3h0m-1-4h0m0 6h0m-1-5h0m0 2h0m-1 1h0m-3 3h0m-2-5h0m0-2h0m0 3h0m-4 0h0m-2 5h0m3 6h0m2-1h0m0-2h0m1 8h0m1-3h0m4-5h0m2 4h0m0-1h0m5 1h0m2 1h0m1 7h0m-4 1h0m-6-3h0m0 3h0m-1 1h0m-1 0h0m-1-2h0m0 6h0m-15 8h0m21 6h0m-3 2h0m-16-3h0" stroke="#a0da39" stroke-width="1.7"/>
<path d="M551 1114h0m-3 0h0m-3 2h0m8 39h0" stroke="#24878e" stroke-width="1.7"/>
<path d="M766 1201h0m1 2h0m2 5h0m5-4h0m1 1h0m-4 13h0m-1 4h0" stroke="#c5e021" stroke-width="1.7"/>
<path d="M570 1310h0m0 2h0m0 2h0m-2-1h0m-3 4h0m0 7h0m1 0h0m0 2h0m1-4h0" stroke="#24878e" stroke-width="1.7"/>
<path d="M610 1148h0m0 7h0m-5-1h0m-6-2h0m-6 5h0m8 3h0" stroke="#5ac864" stroke-width="1.7"/>
<path d="M547 1160h0" stroke="#3d4e8a" stroke-width="1.7"/>
<path d="M561 1316h0m-4 0h0m0 9h0m2-2h0m1-1h0m1 5h0m2-5h0m0 4h0m1 0h0" stroke="#29798e" stroke-width="1.7"/>
<path d="M419 1239h0m-19 6h0m1 3h0m2 0h0m2-4h0m3 3h0m1 2h0m1-3h0m5-4h0m10 13h0m-11-2h0m-2 2h0m-3 4h0m-1-3h0m0 1h0m-1-4h0m-1 6h0m0-9h0m-1 2h0m0 5h0m-1-1h0m0 0h0m0-3h0m0 5h0m-1-3h0m0-3h0m0 2h0m0-2h0m-2-1h0m0 1h0m0 1h0m0 5h0m0 1h0m-1 0h0m0-9h0m-1 8h0m-1-4h0m0 1h0m-1 2h0m-2 0h0m0-3h0m-10 12h0m2-2h0m2 5h0m1-6h0m3 0h0m3-3h0m0 4h0m0 5h0m1-8h0m1 1h0m0 0h0m1-2h0m2 0h0m1 9h0m0 0h0m1 0h0m0 0h0m1-6h0m0 3h0m3-5h0m2 1h0m-10 10h0m-2 6h0m-8-8h0m-4 8h0m-3-4h0" stroke="#29798e" stroke-width="1.7"/>
<path d="M747 1105h0m-2 12h0m-12-1h0m-2 3h0m-1-6h0m-1-2h0m-4 3h0m-6 15h0m6 0h0m0-6h0m0 2h0m1 2h0m0-7h0m0 8h0m2-3h0m0-1h0m0 1h0m1 3h0m1-3h0m0 4h0m2-8h0m0 8h0m0-8h0m0 4h0m1 1h0m0-6h0m1 9h0m0-4h0m0 3h0m1 1h0m0-7h0m0 7h0m0 0h0m2-3h0m0 3h0m0-6h0m0 2h0m0-4h0m1 8h0m0 0h0m1-1h0m0 1h0m0-6h0m1-3h0m0 5h0m1 3h0m0-3h0m1 1h0m1-4h0m3 3h0m0-5h0m1 7h0m1-7h0m1 1h0m3 13h0m-3-1h0m-4-3h0m-2 4h0m-2 0h0m0 0h0m-1 5h0m0-5h0m0 3h0m-1-7h0m-1 1h0m0 6h0m-1-3h0m0 1h0m-1-4h0m0 4h0m0 1h0m0-1h0m-1 3h0m0-2h0m0-6h0m-1 8h0m0-2h0m0-3h0m0-2h0m-1 2h0m-1 6h0m0-3h0m0-2h0m0 1h0m0-4h0m-1 5h0m0 3h0m0-3h0m0-5h0m0-1h0m-1 8h0m0-5h0m0 5h0m0 1h0m-1-2h0m0 1h0m-1-2h0m0-2h0m0 1h0m0 4h0m0-4h0m-1-1h0m0 0h0m-1 2h0m0-6h0m0 7h0m-1-2h0m0-3h0m-1 5h0m0-4h0m0 3h0m-1-1h0m0 2h0m-1-2h0m-2-3h0m-5 5h0m5 8h0m0-4h0m0 8h0m2-2h0m2 2h0m0-8h0m1 2h0m0 2h0m1-2h0m1 2h0m1-5h0m0 4h0m1-3h0m0-1h0m1 5h0m0-4h0m0 5h0m1-4h0m1 2h0m0 2h0m2-1h0m1-5h0m2 0h0m0 2h0m1-2h0m1 4h0m9 0h0m-12 10h0m-8 1h0m-5 0h0m0-2h0m-2-1h0m-1 3h0m-2-5h0m-7 2h0" stroke="#29af7f" stroke-width="1.7"/>
<path d="M511 1320h0m1 5h0" stroke="#472c7a" stroke-width="1.7"/>
<path d="M541 1068h0m11 0h0m0 11h0m-6 5h0m0 5h0m3-2h0m6 7h0m-5 5h0m-3-3h0m-1-5h0m0 8h0m-3 5h0m4 1h0m4 0h0m2 13h0m-2-7h0m-7 3h0m0 9h0m6 6h0m3-5h0" stroke="#355e8d" stroke-width="1.7"/>
<path d="M449 1286h0m4 9h0m-4 2h0m-2-6h0m0 7h0m-1 0h0m-1-5h0m-1 1h0m0 2h0m-2 2h0m-1-6h0m0 6h0m0-1h0m0 2h0m-1-2h0m0 0h0m0-4h0m-1 6h0m-1-2h0m0 1h0m-4-7h0m-4 4h0m-1 4h0m0 8h0m0-7h0m2 9h0m1-3h0m1 3h0m0-9h0m2 6h0m0 0h0m0 1h0m0-5h0m1 1h0m0 0h0m0-3h0m1 6h0m0-1h0m0 3h0m0-1h0m0-3h0m0 0h0m0-1h0m0 6h0m0-4h0m1 4h0m0-7h0m0 2h0m1 5h0m1-3h0m0-1h0m0-3h0m1 1h0m1 2h0m0 1h0m1 1h0m0-6h0m0 7h0m0-6h0m1 1h0m0 2h0m0-5h0m2 5h0m0-3h0m0-1h0m1 6h0m0-2h0m0-1h0m1-1h0m1-1h0m-12 10h0m-2 0h0m-1 5h0" stroke="#5ac864" stroke-width="1.7"/>
<path d="M679 1154h0m0 2h0m-1-2h0m0 5h0m0 0h0m-2-2h0m0 2h0m-1-5h0m0 2h0m0-2h0m0 5h0m-1-6h0m-1 6h0m0-1h0m0 2h0" stroke="#472c7a" stroke-width="1.7"/>
<path d="M454 1273h0m-14 5h0m-2 0h0m-2-4h0m-3-1h0m-1 3h0m-5 2h0m-1-1h0m0 0h0m-8 11h0m1 1h0m3-5h0m1 5h0m0-6h0m0 1h0m0 5h0m2-5h0m0-4h0m1 9h0m0-6h0m1 2h0m0 3h0m0-3h0m1-2h0m0 3h0m1 3h0m1-2h0m0-3h0m0 0h0m1 2h0m0-3h0m0 5h0m0-6h0m0 5h0m0 0h0m1 1h0m0-7h0m0 7h0m1-7h0m0 4h0m0-1h0m2 3h0m0-6h0m0 8h0m1-1h0m0-2h0m0 0h0m1-4h0m1 3h0m1-5h0m0 6h0m1-4h0m-4 9h0m-5-1h0m-1 5h0m-1-1h0m-2-3h0m0-1h0m0 6h0m-2-6h0m-1 7h0m-1 0h0m-2-5h0m0 4h0m-1-5h0m-1 2h0m-1 6h0m-1-3h0m-2 2h0m0-8h0m0 6h0m-1 0h0m-1-1h0m-1 1h0m-1 3h0m7 1h0m6 3h0" stroke="#29af7f" stroke-width="1.7"/>
<path d="M576 1057h0m-2-5h0m0 4h0m1 12h0m8 4h0m-1 3h0m0 1h0m0-4h0m0 4h0m-1 0h0m-2-5h0m-1 1h0m0 4h0m0-4h0m-2 3h0m0 4h0m-1-6h0m0 2h0m0 4h0m-1-1h0m-1 1h0m1 7h0m1-6h0m1 3h0m1 0h0m1 1h0m1-2h0m3-1h0m1 1h0m1 2h0m0 15h0m-1-4h0m-1 3h0m0-5h0m-2 6h0m0-7h0m0 4h0m-1 0h0m0-5h0m-1 7h0m0-1h0m0-5h0m0 6h0m0-4h0m-1 2h0m-1 1h0m-1-1h0m0 2h0m0-1h0m0-4h0m-1 4h0m0-3h0m-1 5h0m1 1h0m0 8h0m1-5h0m0 0h0m0 5h0m1-1h0m0-6h0m1 1h0m0-2h0m0 5h0m1 2h0m0-4h0m0 0h0m1 1h0m0-2h0m0 2h0m1-2h0m0 2h0m0-4h0m1 9h0m0-9h0m0 4h0m1 1h0m0 2h0m0 2h0m1 0h0m0-7h0m0 9h0m0 5h0m-1-4h0m0 2h0m-1-4h0m0 2h0m0-1h0m-1 4h0m0 4h0m0-6h0m0 1h0m0 4h0m-1-1h0m0-6h0m0-1h0m0 3h0m-1 4h0m-1-3h0m-1-4h0m0 2h0m0 4h0m0-5h0m0 0h0m0 5h0m-1-2h0m0 0h0m0 3h0m-1-3h0m0 0h0m0 4h0m-1-1h0m0 11h0m1-3h0m0-4h0m0 7h0m1 1h0m0-2h0m1 1h0m0-5h0m1 2h0m0 4h0m0-5h0m1-2h0m0 3h0m0-5h0m1 1h0m0 2h0m0 5h0m0-1h0m1 0h0m0-7h0m0 0h0m0 6h0m1 1h0m1 2h0m0-9h0m0 3h0m1 0h0m0 2h0m1 14h0m-1-6h0m0-3h0m-1 8h0m0-6h0m0 0h0m-1 1h0m0-1h0m0 5h0m-1 1h0m0-4h0m0-2h0m0 7h0m-2-1h0m0-2h0m-1-1h0m-1-3h0m0 4h0m-1-5h0m-1 7h0m0 1h0m0-5h0m-1 5h0m0 8h0m1-7h0m1 9h0m0-9h0m1 6h0m0 3h0m1-1h0m0-7h0m0 0h0m2 4h0m0 0h0m0 0h0m2-1h0m1-2h0m1 1h0m-3 12h0m-1-2h0m-1-2h0m0 0h0m-2 6h0m0-6h0m-1 0h0m0 0h0m-1 9h0m0 0h0m1 0h0m1 0h0m2 0h0m2 0h0m1 0h0m2 0h0" stroke="#1fa287" stroke-width="1.7"/>
<path d="M610 1156h0m-5-6h0m-3 2h0" stroke="#29af7f" stroke-width="1.7"/>
<path d="M759 1099h0m-4 0h0m-2-5h0m-5 4h0m0-1h0m-16 10h0m5-1h0m0 3h0m0-4h0m1-3h0m2-1h0m1 7h0m0-1h0m1 1h0m1 0h0m0-3h0m0 3h0m0-6h0m0 5h0m1-1h0m0-2h0m0 3h0m1-1h0m0 2h0m1-6h0m1 4h0m0 1h0m1 2h0m0-3h0m2-1h0m0-4h0m2 2h0m1-3h0m0 9h0m1-8h0m2 5h0m2-3h0m0 1h0m1 4h0m3-3h0m1 3h0m-5 9h0m-1-6h0m-1 4h0m-1-2h0m0 4h0m-1-6h0m0 1h0m0 5h0m-1-3h0m-1-4h0m0 7h0m-2 1h0m0-7h0m0 5h0m0-5h0m0 3h0m-1-4h0m0 9h0m-1-3h0m0 0h0m0-6h0m0 1h0m0 2h0m-1 1h0m0-4h0m0 7h0m0-6h0m0 7h0m-1-4h0m0-2h0m0 6h0m0-8h0m0 8h0m0 0h0m-1-5h0m0 0h0m0 1h0m-1-2h0m0 2h0m0-4h0m0 9h0m0-8h0m-1 4h0m0 3h0m0 0h0m0 1h0m0-2h0m0-5h0m-1 2h0m0 3h0m0-7h0m-1 5h0m-1-3h0m-1 5h0m0 1h0m-1 0h0m0-6h0m-1 2h0m0-3h0m0 1h0m0 6h0m0-2h0m0 2h0m-1-3h0m-1-3h0m-1 2h0m0 5h0m0-5h0m-1 4h0m-1-4h0m-1 2h0m-1 0h0m-1 2h0m-1-2h0m-1 3h0m1 5h0m0-4h0m0 0h0m1 2h0m0 4h0m0-4h0m1 1h0m1-1h0m1 0h0m0-1h0m2 4h0m1-5h0m1 0h0m0 3h0m0 4h0m1-7h0m0 5h0m1-5h0m0 0h0m1 0h0m0 2h0m1 4h0m0 1h0m0-5h0m0 2h0m0 4h0m0-6h0m0-1h0m1 4h0m0-2h0m1-2h0m1 5h0m0-6h0m0 3h0m2 4h0m0-6h0m1-1h0m1 5h0m0 4h0m0-8h0m1-1h0m0 6h0m0-5h0m0 8h0m2-5h0m0-2h0m1 3h0m0-2h0m4-3h0m8 1h0m-23 9h0m-2 4h0m-3-4h0" stroke="#3dbc74" stroke-width="1.7"/>
<path d="M382 1198h0m-1 0h0m-1 0h0m-7 0h0m-1 0h0m0 0h0m-6 4h0m7 7h0m3-9h0m1 1h0m2 1h0m5 9h0m0 8h0m0-3h0m-5-5h0m-1 4h0m0 2h0m-1-3h0m0 1h0m-1 3h0m-1-5h0m0-3h0m-11 17h0m4-1h0m1 2h0m2-2h0m4 2h0m1 0h0m1-7h0m0 8h0m1-3h0m0-5h0m2 6h0m2-3h0m0 4h0m7 9h0m-1-4h0m-4 3h0m-6 0h0m0-5h0m-1-1h0m-2 7h0m0-2h0m0 1h0m-1-4h0m-1 7h0m0-7h0m-1 1h0m-2 1h0m0 0h0m-2-4h0m-1 0h0m0 9h0m-1-3h0m-2-6h0m0 13h0m5 2h0m4-3h0m0-1h0m1 1h0m2-2h0m0 3h0m0 0h0m2 4h0m0-7h0m1 6h0m0 2h0m2-1h0m0 2h0m4-2h0m2-7h0m1 16h0m0 3h0m-2 0h0m-3-9h0m-1 2h0m-1-1h0m-1 4h0m-1 4h0m0-7h0m-1 7h0m0-7h0m-1 3h0m-1 1h0m0-6h0m-1 1h0m0 1h0m0 4h0m-1-1h0m0 4h0m-1-8h0m-2 6h0m0 1h0m-1-4h0m-4-2h0m-5 5h0m1 8h0m0-3h0m3 2h0m2 2h0m2-4h0m0 7h0m1-5h0m0-1h0m0 6h0m0-5h0m2 5h0m3-5h0m2 0h0m0 2h0m0 2h0m2-7h0m1 6h0m0-6h0m1-1h0m0 9h0m0-1h0m2-3h0m3 5h0m-2 4h0m-1 0h0m-2 3h0m0-1h0m-4-5h0m0 3h0m-1-1h0m0 0h0m0-2h0m-1 5h0m-1-1h0m-1 2h0m0-2h0m0-3h0m-1 0h0m0 1h0m-3 2h0m0-2h0m-3-2h0m-1 18h0m9-9h0m8 2h0m-3 15h0m-1-7h0m0 6h0m-9 0h0m10 10h0m-2 4h0" stroke="#3d4e8a" stroke-width="1.7"/>
<path d="M466 1154h0m0 4h0m0 1h0m-1-1h0m0 1h0m0 0h0m0 0h0m0 0h0m-1-3h0m0 3h0m0 0h0m0-1h0m0-1h0m0 2h0m0-5h0m0 1h0m-1 3h0m0 1h0m0-4h0m-1 3h0m-1-2h0m0 2h0m-1 0h0m-2 0h0m-1-3h0m-1 1h0m-1 3h0m0-3h0m0 2h0m0-4h0m-1 4h0m0-3h0m0 2h0m0-5h0m-1 5h0m0 2h0m-1-1h0m0-5h0m0 6h0m-1 0h0m-2-7h0m0 8h0m13 0h0m1 0h0m3 0h0" stroke="#5ac864" stroke-width="1.7"/>
<path d="M362 1049h0m0 0h0m4 0h0m2 10h0m-6 7h0m0-5h0m2 4h0m2-4h0m0 6h0m1-1h0m0-3h0m2-1h0m1-1h0m1 3h0m1 2h0m9 12h0m-3-7h0m-2 8h0m0-3h0m0-4h0m-2 2h0m0 3h0m0 0h0m0-2h0m-1-5h0m0 7h0m-1-3h0m0 1h0m-2-4h0m-1 6h0m0-1h0m-1-4h0m0 0h0m-1 6h0m0-8h0m-1 7h0m-1-1h0m-1 2h0m-1-1h0m0 1h0m-1-5h0m-4-1h0m-3-1h0m-3 17h0m3-1h0m2-5h0m1 7h0m0-1h0m0-6h0m1-1h0m0 6h0m1 0h0m1 0h0m1-6h0m1 4h0m0 2h0m1-4h0m0-2h0m0 7h0m0-2h0m0-4h0m1 5h0m0-6h0m0 2h0m0-1h0m1 5h0m0 1h0m0-5h0m0 6h0m1 0h0m0-2h0m0 1h0m0-1h0m0-4h0m0-2h0m0 2h0m1-3h0m0 8h0m0 0h0m0 1h0m0-8h0m0 2h0m1 2h0m0 4h0m0-2h0m1 1h0m0-4h0m0 5h0m0-9h0m0 9h0m1-1h0m0-1h0m0 1h0m0-1h0m0-2h0m1 2h0m0-1h0m0-4h0m0 4h0m0 1h0m0-1h0m1-1h0m1 1h0m0 2h0m2-6h0m1 3h0m0 4h0m1 0h0m2-7h0m1 5h0m0 8h0m0 0h0m-2 0h0m-1-4h0m0-1h0m-1 8h0m0 0h0m-1-1h0m-1-2h0m0 3h0m0 1h0m0-9h0m0 5h0m0 1h0m0-2h0m-1-2h0m0 4h0m-1-4h0m0 5h0m0 1h0m0-7h0m-1 1h0m0 3h0m0 0h0m0-2h0m0 3h0m-1 0h0m0-5h0m0 6h0m0-1h0m0-4h0m0 7h0m0-6h0m0 0h0m0 0h0m0 4h0m0-4h0m-1 4h0m0-2h0m0-5h0m-1 2h0m0 7h0m0-7h0m-1 7h0m0-2h0m0-4h0m0-3h0m-1 3h0m0 4h0m0-6h0m0 8h0m0 0h0m-1-5h0m0 2h0m0 3h0m0-3h0m-1 1h0m0-1h0m-1 2h0m0-5h0m0 5h0m0-4h0m0 5h0m0 0h0m-1-8h0m0 7h0m0-3h0m-1 3h0m0-7h0m0 3h0m-1 5h0m0-1h0m-1 0h0m0-3h0m0-2h0m-1 0h0m0-3h0m0 6h0m-1-4h0m-2 1h0m0 5h0m-1-2h0m-1 7h0m1-3h0m1 6h0m0-5h0m1 0h0m1 7h0m0-1h0m0-1h0m1-2h0m0-1h0m1 3h0m0 1h0m1-4h0m0-1h0m0 7h0m0-6h0m1 3h0m0 2h0m0 0h0m0-1h0m1-5h0m0 1h0m0-1h0m0 6h0m0-4h0m0-2h0m0 6h0m0-8h0m0 6h0m0-2h0m0 3h0m2-1h0m0-1h0m1 3h0m0-7h0m0 6h0m0-7h0m1 2h0m0 0h0m0-2h0m0 7h0m0-5h0m0 0h0m0 2h0m1 1h0m0-3h0m0 1h0m0 6h0m0-2h0m0 1h0m0 1h0m0-6h0m1 5h0m0-8h0m0 7h0m0-4h0m0 3h0m0-3h0m0 3h0m0 2h0m0-4h0m0 5h0m0-8h0m1-1h0m0 8h0m0 0h0m0 1h0m0-4h0m0 0h0m0-4h0m0 2h0m0 5h0m0 1h0m0-4h0m0 2h0m0-7h0m0 6h0m1-1h0m0-3h0m0 1h0m0 5h0m0-3h0m0-1h0m0-3h0m0 3h0m1 5h0m0-6h0m0 2h0m1-3h0m0 3h0m0 3h0m0-3h0m0 4h0m0 0h0m0-4h0m1 4h0m0-4h0m0-1h0m0-4h0m0 0h0m1 3h0m1 2h0m0 1h0m0 0h0m1-5h0m0 3h0m1 2h0m0-6h0m1 9h0m7 0h0m4 4h0m-8-3h0m0 6h0m-3-6h0m0 7h0m0-6h0m-1 5h0m-1 2h0m0-2h0m-1-5h0m-1 6h0m0 0h0m0-5h0m-1-1h0m0 4h0m0-2h0m0 0h0m-1 5h0m0-7h0m0 2h0m0-3h0m0 8h0m0-1h0m0-3h0m0 4h0m0-5h0m-1 2h0m0 1h0m0-3h0m-1-2h0m0 4h0m0 1h0m0 1h0m0 1h0m0-6h0m0 3h0m-1 2h0m0 0h0m0-5h0m0 7h0m0-9h0m0 0h0m0 3h0m0-2h0m-1 0h0m0 6h0m0 2h0m0-1h0m-1-8h0m0 4h0m0 4h0m0-7h0m0 7h0m0-3h0m0-4h0m0 3h0m-1 4h0m0-4h0m0 0h0m0-1h0m0-2h0m0 0h0m-1 4h0m0 1h0m0 1h0m0-5h0m0 6h0m-1-3h0m0 4h0m0-4h0m-1-5h0m0 3h0m0-1h0m0-2h0m0 7h0m0 0h0m0 0h0m0 0h0m-1-3h0m0-3h0m0-1h0m0 5h0m0 4h0m0-7h0m0 7h0m0-8h0m-1 5h0m0-4h0m0 7h0m-1-4h0m0 4h0m0-8h0m0 2h0m-1-2h0m-1 4h0m0 3h0m-1 1h0m-1-4h0m-7 13h0m7 0h0m0 0h0m2-6h0m0 0h0m0 0h0m0 5h0m0 0h0m0 1h0m1 1h0m0-4h0m0 0h0m1-4h0m1 2h0m0-1h0m0 4h0m1-2h0m0-1h0m1 4h0m0-2h0m0-5h0m0 2h0m0-1h0m0 0h0m0 2h0m0 0h0m0 0h0m1 4h0m0 1h0m1-2h0m0-6h0m0 8h0m0-7h0m1-1h0m1 3h0m0 2h0m0-1h0m0 0h0m0-4h0m0 5h0m0-4h0m1 6h0m0-2h0m0-3h0m0 4h0m0 0h0m0 3h0m1-9h0m0 6h0m0 3h0m0-7h0m0 3h0m0 2h0m1 1h0m0-6h0m0 4h0m0 1h0m0-4h0m0 1h0m0 0h0m0-3h0m0-1h0m1 0h0m0 6h0m0-6h0m0 3h0m0 0h0m1-2h0m1 3h0m0-3h0m1 8h0m0 0h0m0-3h0m0 0h0m1-4h0m0-2h0m1 5h0m1-5h0m0 9h0m1-2h0m2-4h0m4-2h0m4 0h0m-6 17h0m0 1h0m-2-4h0m-2 4h0m-1-6h0m-1 2h0m-1-5h0m0 1h0m0 3h0m-2-4h0m0 0h0m0 2h0m-2 2h0m-1-4h0m0 0h0m0 6h0m0-4h0m0 0h0m0 7h0m-1-5h0m0 0h0m0 4h0m-1-3h0m-1 4h0m-1-1h0m0-5h0m0 4h0m0-2h0m0-1h0m-1 0h0m0-4h0m0 2h0m-1 3h0m0 1h0m0 0h0m0 3h0m0-3h0m0-5h0m-1 6h0m0-6h0m0 8h0m-1-3h0m0-4h0m-1 4h0m0 3h0m-1-9h0m0 2h0m-1 6h0m0-8h0m0 5h0m0 1h0m-4-3h0m-3 1h0m5 6h0m5 1h0m0 3h0m0 0h0m0-2h0m1-1h0m0 2h0m0 4h0m1 2h0m1-1h0m0-6h0m2 2h0m1-2h0m0-2h0m3 8h0m0-7h0m1 2h0m1 3h0m1-4h0m6 8h0m-10 7h0m0-3h0m-5 1h0m-9-5h0m0 5h0m6 5h0m2 0h0m8 0h0m0 0h0m0 0h0m0 0h0m1 0h0" stroke="#472c7a" stroke-width="1.7"/>
<path d="M421 1138h0m-1-3h0m-1 0h0m-10 14h0m2-9h0m0 9h0m1-2h0m5 1h0m3-4h0m1 4h0m0-6h0m4 1h0m4 1h0m4 12h0m-3 0h0m-1 0h0m-2 3h0m-1-5h0m-1 0h0m0 1h0m0-4h0m-1 5h0m0-5h0m0 6h0m-1 2h0m-1-5h0m0-2h0m-1 7h0m0-6h0m0-2h0m0 6h0m-1-4h0m0 5h0m-2-4h0m0-1h0m-1-1h0m0 1h0m0 1h0m0 3h0m-1 1h0m0 1h0m0-4h0m-1 2h0m-3-2h0m0-1h0m-1 3h0m-8-1h0m19 4h0" stroke="#1f948c" stroke-width="1.7"/>
<path d="M736 1285h0m-2 11h0m-12-3h0m-6 13h0m2 1h0m3-6h0m4 0h0m-4 11h0m-1 6h0m-2-5h0m0 4h0m-1-1h0m-1 0h0m-1 3h0m-1-5h0m0 1h0m0-5h0m0 6h0m-5-6h0m3 10h0m0 0h0m2 0h0m0 1h0m4 5h0m0-4h0m2 2h0" stroke="#29af7f" stroke-width="1.7"/>
<path d="M412 1238h0m-5-7h0m0 4h0m-1 0h0m-8 4h0m-7 10h0m3-3h0m2 2h0m0 1h0m0-6h0m2 4h0m1 2h0m1-8h0m0 6h0m0-2h0m1-1h0m1 0h0m1-1h0m1 6h0m1-1h0m1-6h0m0 6h0m1-8h0m1 3h0m0-1h0m-5 9h0m-5 5h0m-1-1h0m0 2h0m0-4h0m-1 5h0m0-4h0m0 2h0m0 0h0m0-6h0m0 4h0m0 0h0m-1 0h0m0 1h0m-1-3h0m-1-1h0m-1 7h0m-1-3h0m-1 1h0m-2 2h0m-1 0h0m-1-1h0m-1-3h0m-3 5h0m1 6h0m4 3h0m1-3h0m1-3h0m2-1h0m2 3h0m1-4h0m-16 13h0" stroke="#2f6c8e" stroke-width="1.7"/>
<path d="M520 1146h0m1 1h0m3 1h0m9 1h0m0 4h0m0 2h0m-1 2h0m-2-1h0m0 3h0m0-4h0m-1 2h0m-3 2h0m-1-3h0m-1 2h0m0-5h0m-1 3h0m0 3h0m-1-4h0m0-5h0m-2 5h0m0 1h0m0-1h0m0 0h0m-1 0h0m0 3h0m-6-2h0m-1 0h0m0 2h0m-1-1h0m0 1h0m0-1h0m2 3h0" stroke="#472c7a" stroke-width="1.7"/>
<path d="M671 1318h0m-3 6h0" stroke="#472c7a" stroke-width="1.7"/>
<path d="M595 1238h0m1 33h0m-1-1h0m0 2h0m-1-1h0m-8 2h0m-2 2h0m-1-2h0m-7 1h0m-2 1h0m0 13h0m4-6h0m2 5h0m1-6h0m1 6h0m2-7h0m2 8h0m1 0h0m2 1h0m5-9h0m-1 11h0m-1 8h0m-1-7h0m0 0h0m0 2h0m-5 0h0m0 3h0m-1 2h0m0-3h0m-4-3h0m-3-2h0m-1 7h0m-2-2h0m0 0h0m-1 0h0m-1 3h0m-1-2h0m-2 2h0m-2-2h0m-4 9h0m1-5h0m1 8h0m4-2h0m3 2h0m0-1h0m0-3h0m4-3h0m1 4h0m0-6h0m2 5h0m0 0h0m1 4h0m1-6h0m0-2h0m0 6h0m6-7h0m3 1h0m1 12h0m-3-3h0m-10 1h0m0 3h0m-1-2h0m-2 0h0m-1 7h0m-2-6h0m-4-1h0m0 1h0m-1-2h0m0 7h0m-1-6h0m0 7h0m-1-2h0m0-2h0m0-4h0m0 6h0m-1 1h0m0-7h0m0 5h0m-1 3h0m-2 0h0m3 1h0m5 2h0m1-2h0m1 0h0m7 0h0" stroke="#3dbc74" stroke-width="1.7"/>
<path d="M378 1107h0m-15 6h0m3 31h0" stroke="#3d4e8a" stroke-width="1.7"/>
<path d="M695 1318h0m-2-1h0m-2-3h0m-1 8h0m1 2h0m1-3h0m0 4h0m1 2h0m1-2h0m3-1h0" stroke="#355e8d" stroke-width="1.7"/>
<path d="M710 1157h0m0-3h0m0 4h0m-1-2h0m0 0h0m-1 2h0m-1-4h0m0 5h0m0 0h0m0-2h0m-1 0h0m-1 2h0m0-5h0m0 3h0m-2 2h0m0-2h0m-1 1h0m0-4h0m0-1h0m0 0h0m-1 2h0m0-1h0m4 6h0" stroke="#355e8d" stroke-width="1.7"/>
<path d="M530 1319h0m-4 5h0m0-1h0m0 0h0m1-3h0m2 6h0m1-3h0m1 1h0m3-2h0m0 4h0" stroke="#3d4e8a" stroke-width="1.7"/>
<path d="M432 1256h0m-3 3h0m-19 6h0m3-1h0m2 4h0m0 0h0m4 0h0m0 1h0m0-2h0m0-1h0m1 2h0m1-5h0m0 1h0m1-2h0m1 5h0m1-1h0m0-2h0m1 3h0m2-6h0m1 7h0m3-3h0m-10 6h0m-1 0h0m0 3h0m-1-1h0m0-2h0m-1 1h0m-1 4h0m-1-6h0m-2 5h0m0 2h0m0-6h0m-1 6h0m0-3h0m-1-1h0m0-3h0m-1 9h0m0-5h0m-2 5h0m0-5h0m-2 0h0m0-1h0m0 3h0m-1 0h0m-2 1h0m0 2h0m-1-5h0m0 3h0m-5 4h0m2 7h0m6-1h0m1 1h0m1-4h0m1-3h0m0 0h0m2-1h0m1 3h0m0 4h0m-9 5h0" stroke="#1f948c" stroke-width="1.7"/>
<path d="M543 1318h0m-1-3h0m0 3h0m-7 3h0m1 0h0m4 0h0m0 0h0m1 4h0m1-2h0m2 0h0" stroke="#355e8d" stroke-width="1.7"/>
<path d="M766 1048h0m3-3h0m1 2h0m0 1h0m1-3h0m3 0h0m0 2h0m2 0h0m0-1h0m0 4h0m-3 8h0m-1-5h0m-1-3h0m-2 1h0" stroke="#c5e021" stroke-width="1.7"/>
<path d="M670 1154h0m-1 5h0m-1 0h0" stroke="#481a6c" stroke-width="1.7"/>
<path d="M609 1226h0m-15 10h0m-11 2h0m3 10h0m11-4h0m5 2h0m3-3h0m1-2h0m3 17h0m-2-2h0m-2 1h0m-1 2h0m-2-2h0m-5 2h0m0-5h0m-1 3h0m-1-7h0m-1 2h0m0 6h0m-2-5h0m-4 5h0m0-4h0m-2 14h0m1-5h0m1-3h0m0 7h0m0 2h0m1-1h0m0-4h0m2-4h0m1 8h0m0 1h0m1-5h0m0-1h0m2 2h0m3-1h0m1 3h0m3 0h0m7-6h0m0 7h0m-8 5h0m0-1h0m-1-2h0m0 6h0m-2-4h0m-2 7h0m0-3h0m-2-5h0m-2 3h0m0 1h0m-1 0h0m0-3h0m-1 6h0m-1 1h0m-1 0h0m0-1h0m-1-5h0m0-2h0m-1 2h0m0 6h0m-1-1h0m-4-8h0m-1 8h0m-5 11h0m4-3h0m5-5h0m1-1h0m1 6h0m0 1h0m1-6h0m2 3h0m0-3h0m2 1h0m1-1h0m1 2h0m0 6h0m2-5h0m3-4h0m-11 10h0m-3 2h0m-1 6h0m0-8h0m-1 9h0m-4-3h0m-4-3h0m-7-1h0m-2 9h0m1 4h0m4-5h0m1 3h0m9 3h0m1-1h0m3-4h0m2 6h0m2-6h0m-20 9h0" stroke="#5ac864" stroke-width="1.7"/>
<path d="M757 1048h0m6 1h0m1-3h0m0 3h0m2-7h0m0 7h0m1-2h0m1 1h0m0-3h0m0 1h0m0 1h0m1-1h0m1 1h0m0 1h0m1 0h0m0-1h0m1 1h0m0 1h0m1-4h0m1 2h0m0 2h0m2-3h0m1 2h0m0-1h0m1 1h0m0-1h0m0 1h0m0 0h0m1 1h0m3 0h0m-1 5h0m-1-1h0m-1 6h0m0 0h0m-1-3h0m-1-3h0m-1 2h0m0-1h0m-1 1h0m0-5h0m0 3h0m0 1h0m-1 0h0m0-4h0m0 0h0m0 5h0m0 0h0m-1 4h0m0-6h0m0 4h0m0-6h0m0 7h0m0-3h0m-1 1h0m0 1h0m0-5h0m-1 6h0m0-5h0m0-1h0m0 7h0m0-4h0m-1-3h0m0-2h0m0 3h0m0 1h0m0 2h0m0 2h0m0-1h0m0-7h0m0 5h0m-1-3h0m0 5h0m0-7h0m0 9h0m0-1h0m-1-2h0m0-4h0m0 5h0m-1 2h0m0-1h0m-1-1h0m0-3h0m0-3h0m0 4h0m0 3h0m0-1h0m-1-6h0m-1 4h0m0-1h0m-1 3h0m0-6h0m-1 6h0m-1-5h0m-1-2h0m0 6h0m-6 3h0m2 10h0m4-7h0m0 3h0m0-5h0m1 4h0m0-2h0m0-2h0m1 1h0m1 4h0m0 2h0m0 2h0m0 0h0m0-7h0m1 4h0m0-4h0m0 5h0m2-6h0m0 6h0m1-6h0m0 2h0m0 2h0m1-2h0m0 0h0m0-2h0m0 7h0m1 1h0m0-7h0m0 4h0m1-6h0m0 2h0m0 2h0m1-3h0m1 1h0m0 1h0m0-3h0m1 1h0m0 4h0m1-5h0m5 4h0m1-1h0m0-3h0m0 9h0m-6 2h0m-5 0h0m-7-1h0m-1 4h0" stroke="#a0da39" stroke-width="1.7"/>
<path d="M589 1279h0m-8 13h0m-7 6h0m-7 1h0m9 6h0m2 1h0m1 2h0m8-5h0m2 3h0m-6 5h0m-6 5h0m-1 1h0m-4-1h0m0-1h0m-9 2h0m4 4h0m1 1h0m5-1h0m1 0h0m3 2h0m3-3h0" stroke="#29af7f" stroke-width="1.7"/>
<path d="M379 1198h0m-8 0h0m-2 0h0m0 0h0m-4 0h0m-1 1h0m-1-1h0m-2 0h0m-1 0h0m-1 0h0m0 4h0m2 2h0m0 3h0m1-4h0m0 3h0m0-1h0m1 4h0m1-1h0m0-7h0m1 3h0m3 4h0m0-7h0m0 2h0m1 0h0m0 6h0m1-3h0m1-4h0m1 4h0m1 3h0m0-2h0m2 0h0m0-4h0m1 0h0m4 16h0m-2 0h0m0-8h0m-1 6h0m-1-5h0m0-1h0m0 3h0m-1-3h0m-1 8h0m0-1h0m-1-6h0m0 1h0m0 5h0m-1-1h0m-1-6h0m0 8h0m0-4h0m-1 1h0m0-3h0m0 5h0m-1-5h0m0 5h0m0-8h0m0 3h0m-1 6h0m-1-2h0m0-6h0m0 2h0m-1 4h0m0 1h0m0-1h0m-1-6h0m0 4h0m0-3h0m-1 1h0m0-2h0m0 2h0m0 0h0m-1 0h0m0 4h0m-1-7h0m0 1h0m0 1h0m-3 13h0m0-5h0m1 2h0m1 3h0m0-2h0m1 0h0m1 2h0m0 3h0m0 0h0m0-7h0m1 8h0m0-1h0m0-2h0m0 3h0m1-5h0m0-2h0m0 6h0m0-7h0m0 1h0m0-1h0m1 7h0m0 1h0m0-1h0m1-3h0m0 1h0m0-1h0m2-5h0m0 8h0m0-8h0m0 3h0m0 6h0m1-3h0m0 2h0m0 0h0m0-1h0m1 1h0m0 0h0m0-4h0m1-3h0m0-1h0m0 1h0m0 4h0m0 0h0m0-1h0m1 3h0m0 2h0m0-1h0m1-4h0m0 4h0m1-7h0m0 1h0m0 6h0m0-4h0m0-2h0m1 7h0m0-5h0m1 5h0m0-1h0m1-6h0m4 14h0m-3-3h0m-2 5h0m0-1h0m0-4h0m-1-1h0m0 1h0m0 5h0m-1-2h0m0-3h0m0 5h0m0-8h0m-1 3h0m0 0h0m0 3h0m-1 3h0m0 0h0m0 0h0m-1-7h0m0-2h0m0 9h0m0-6h0m0 2h0m0-5h0m0 9h0m-1-8h0m0 3h0m0-2h0m0-2h0m0 1h0m0-1h0m0 9h0m-1-2h0m0 1h0m0-5h0m0 2h0m-1 1h0m0-4h0m0 4h0m0 0h0m0-4h0m0 7h0m0-8h0m0 7h0m-1-5h0m0-3h0m0 6h0m0-6h0m-1 5h0m0-3h0m0 3h0m0-5h0m0 6h0m0-2h0m0-1h0m-1 2h0m0-1h0m0 4h0m0 0h0m0-5h0m0 4h0m-1-4h0m0 0h0m0-2h0m0 1h0m-1 5h0m0-6h0m0 7h0m-1-4h0m0 2h0m0-3h0m0-1h0m0-2h0m-1 0h0m-2 5h0m-2 1h0m-5 6h0m4-2h0m1 1h0m0 0h0m0 3h0m1 5h0m0-9h0m1 8h0m1-5h0m0 4h0m0 2h0m0-3h0m0-1h0m0 0h0m1 1h0m0 1h0m1-2h0m0-3h0m0 1h0m0-2h0m0 4h0m0-5h0m1 5h0m0-4h0m0 2h0m1 6h0m0-6h0m0 5h0m0-8h0m1 0h0m0 0h0m0 7h0m0-5h0m0 0h0m0-1h0m1-1h0m0 5h0m0-4h0m0 0h0m0 8h0m1-5h0m0 2h0m0-5h0m0-1h0m0 2h0m0 2h0m1-3h0m0 0h0m0 5h0m0-4h0m0 7h0m0-4h0m0-5h0m0 2h0m0 4h0m0 2h0m0-5h0m0 1h0m1 1h0m0-2h0m0 2h0m0 3h0m0-2h0m0-5h0m0-1h0m0 7h0m1-5h0m0 6h0m0-7h0m0 5h0m0-2h0m0 1h0m0 2h0m0 1h0m1-8h0m0 5h0m0 4h0m0-2h0m1 1h0m0-4h0m0 5h0m1-9h0m0 5h0m1-1h0m0 0h0m0 4h0m1-4h0m0 2h0m0 0h0m0-1h0m1 4h0m0-9h0m0 3h0m1 6h0m0-7h0m1-1h0m0 2h0m2 6h0m0-7h0m3 0h0m1 5h0m2 4h0m-3 2h0m-2 5h0m-3-5h0m0 0h0m0 2h0m0-1h0m-1 5h0m0-8h0m-1 3h0m0-1h0m0 4h0m0-3h0m0 4h0m0-1h0m-1 0h0m0 1h0m-1 0h0m0-7h0m0 8h0m-1-6h0m0 4h0m0 0h0m0 1h0m0 0h0m0-2h0m0-5h0m-1 6h0m0-1h0m0 1h0m0 2h0m-1-6h0m0 3h0m0-4h0m0 7h0m-1-8h0m0 3h0m0-3h0m0 5h0m0-1h0m0 4h0m0-6h0m-1 6h0m0-2h0m0-6h0m0 4h0m0 0h0m-1 0h0m0-4h0m0 8h0m0-5h0m0-1h0m0-3h0m-1 4h0m0-2h0m0-1h0m-1 6h0m0 2h0m0-4h0m0-3h0m0 2h0m0 2h0m-1-5h0m0 5h0m0-2h0m0 3h0m0-2h0m0 2h0m0-5h0m-1 3h0m0-3h0m0 0h0m0 4h0m-1-2h0m0 3h0m0-2h0m0-1h0m0-1h0m-1 3h0m0-6h0m0 9h0m-1-2h0m0-6h0m0 6h0m0-1h0m-1-6h0m0 5h0m0-1h0m-1 4h0m-1-8h0m0 0h0m-2 0h0m-2 1h0m-1 2h0m2 9h0m0 1h0m2 5h0m2 0h0m1-8h0m0 2h0m1 4h0m0-5h0m0-1h0m1 5h0m1 1h0m1-2h0m0 3h0m0-2h0m1-2h0m0 5h0m0-8h0m0 1h0m0 8h0m1-1h0m0-1h0m0 0h0m0-2h0m1 4h0m0-4h0m0 1h0m0-6h0m0 2h0m1 4h0m0-1h0m0-2h0m0 4h0m1-2h0m0-4h0m0 7h0m0-8h0m1 2h0m0 7h0m1-1h0m0-1h0m0-5h0m0 3h0m0-3h0m0 2h0m1 1h0m0 2h0m1-6h0m0 6h0m1 2h0m1-1h0m0-2h0m1 3h0m0-4h0m0-4h0m0 0h0m1 1h0m1 5h0m0 10h0m0 0h0m-1-6h0m0 1h0m0 2h0m-2 0h0m0 0h0m0 5h0m0 0h0m-1-6h0m0 0h0m0-1h0m0 7h0m-1-5h0m0 1h0m-1 1h0m0-2h0m0 3h0m-1-5h0m0 5h0m0-3h0m-1 3h0m-1-5h0m0 1h0m0-2h0m-1 4h0m-1-2h0m0-2h0m0 5h0m-1 2h0m0 1h0m0-7h0m-2 6h0m-1-1h0m0 2h0m0-9h0m0 1h0m-1 2h0m0 0h0m-1-1h0m0-1h0m-1 4h0m0 3h0m-1-1h0m-3-5h0m-1-1h0m3 13h0m3-1h0m0 0h0m1 5h0m0-7h0m2 1h0m0 2h0m0 1h0m0-2h0m3 0h0m0-2h0m1 4h0m1-4h0m0 8h0m0-9h0m1 9h0m1-8h0m0-1h0m1 1h0m3 2h0m6-3h0m-3 12h0m-3 3h0m0-2h0m-5 0h0m0 1h0m-1-3h0m-1 8h0m-1 0h0m-1-7h0m0-1h0m-3 0h0m-2 6h0m0-6h0m2 12h0m3 6h0m8-7h0" stroke="#433e85" stroke-width="1.7"/>
<path d="M427 1266h0m2 3h0m3 0h0m7 0h0m-1 7h0m-3 1h0m0-2h0m-4-5h0m-1 4h0m-1 5h0m0-8h0m0 6h0m0 1h0m-1-5h0m0 2h0m-2 0h0m-1-2h0m0 3h0m0-3h0m-1 4h0m-1 0h0m0 1h0m0-8h0m0 2h0m-1 6h0m-1-1h0m0-1h0m0 3h0m-1-6h0m0 6h0m-2-5h0m-4 0h0m-3 13h0m1 2h0m0-1h0m0-5h0m0 2h0m1-2h0m1 0h0m0 3h0m1 2h0m1-4h0m1-2h0m0 6h0m1-5h0m0 6h0m0-7h0m0-2h0m1 0h0m0 8h0m1-2h0m0-5h0m0 3h0m0 2h0m1-1h0m0-1h0m0 1h0m2-3h0m0-2h0m1 5h0m0-2h0m2-3h0m1 4h0m5-1h0m-15 7h0m-2 1h0m-2 1h0m-3 1h0" stroke="#1fa287" stroke-width="1.7"/>
<path d="M593 1209h0m3-8h0m6 6h0m1 1h0m1-6h0m1 5h0m3-5h0m3-2h0m-13 11h0m4 12h0" stroke="#c5e021" stroke-width="1.7"/>
<path d="M416 1241h0m2 8h0m9 8h0m-4 0h0m-1-5h0m-1 1h0m-2 2h0m0 4h0m-2-7h0m0 4h0m-2 3h0m0-2h0m-1-4h0m0 5h0m0-6h0m0 7h0m-2-3h0m-3 3h0m-14 7h0m4-2h0m0 0h0m1 2h0m0 1h0m2-2h0m0-2h0m1 5h0m0-3h0m0-3h0m0-2h0m2 1h0m0 1h0m1 0h0m1 1h0m1 2h0m0 0h0m0 3h0m1-1h0m0 0h0m1-6h0m0 7h0m1-1h0m1-1h0m1 3h0m0-3h0m1-1h0m0 2h0m1-2h0m0 1h0m1 2h0m0-4h0m0 1h0m1 0h0m0-3h0m0 4h0m2-2h0m0-4h0m0 8h0m2-1h0m1 1h0m0-8h0m-5 11h0m-7 4h0m-3 3h0m-1-8h0m0 1h0m0 0h0m-1-1h0m0 2h0m-2 3h0m0-3h0m0 2h0m-1-1h0m0 0h0m-1-2h0m-4 1h0m-4 6h0" stroke="#24878e" stroke-width="1.7"/>
<path d="M740 1260h0m2 9h0m11-3h0m-6 13h0m0-3h0m-3-4h0m-5 6h0m-2-3h0m-2 4h0m-7 7h0m3-1h0m0 0h0m2-4h0m1 3h0m1 0h0m2 5h0m7-3h0m1 0h0m3 5h0m-4 7h0m-7-8h0m-2 6h0m-3 2h0m-2-2h0m-2 2h0m-2 1h0m-3-7h0m-1 7h0m0-8h0m-7 8h0m-4 7h0m4 3h0m0-4h0m3 2h0m0-2h0m0 2h0m2 1h0m1-5h0m1 6h0m1-3h0m3 3h0m0-1h0m1-2h0m0-1h0m2-4h0m0 3h0m1-2h0m1 2h0m0-2h0m0-1h0m1 8h0m0-8h0m1 1h0m1 5h0m2-5h0m1-1h0m4 6h0m4-5h0m-7 8h0m-8 3h0m0 0h0m-3-3h0m-1 7h0m-2-4h0m0-3h0m-1 2h0m-3 2h0m-2 0h0m-1-2h0m0 5h0m0-6h0m-1 8h0m-5-7h0m-1 5h0m-2-1h0m-1 2h0m4 3h0m1 0h0m2 1h0m4 2h0m0-3h0m3 0h0m5-1h0" stroke="#3dbc74" stroke-width="1.7"/>
<path d="M521 1149h0m1-7h0m10 14h0m-1-1h0m-1 1h0m-1-1h0m-4 1h0m-3 3h0m-2-2h0m0-3h0m-3 3h0m0 1h0m-5 1h0" stroke="#481a6c" stroke-width="1.7"/>
<path d="M763 1206h0m1-6h0m1 7h0m2-1h0m1-2h0m1-3h0m0 6h0m1-2h0m0 4h0m0-7h0m0 4h0m1-1h0m0 0h0m3 2h0m0-2h0m1-2h0m0 6h0m1-7h0m0 2h0m-4 7h0m-2 6h0m-1-6h0m0 4h0m0 1h0m-1-4h0m0 2h0m0 1h0m-3 2h0m-1-4h0m-1-2h0m-2 6h0m0-6h0m-1 6h0m-2 0h0m0 2h0m-7 7h0m2 3h0m2-4h0m1-2h0m0-1h0m1 7h0m3-7h0m1 5h0m4 2h0m0-5h0m0 5h0m2-1h0m1-6h0m1 0h0m1 4h0m1-4h0m0 7h0m6-1h0m-6 4h0m-1 0h0m-11-2h0m-2 1h0m0 0h0m-2 5h0m-2-5h0m2 9h0m4 3h0m5 6h0m-2 6h0m-6 0h0m-3 0h0m-19 2h0" stroke="#a0da39" stroke-width="1.7"/>
<path d="M763 1234h0m-18 15h0m4-7h0m0 5h0m3 0h0m1 1h0m3-1h0m4-7h0m2 1h0m5 13h0m-6-1h0m-2-3h0m-3 6h0m-1-3h0m0-2h0m0 3h0m0 0h0m0 1h0m-4 4h0m-1-1h0m0-2h0m-2-1h0m-4-5h0m-17 19h0m12-2h0m0 0h0m0-7h0m2 9h0m2-8h0m1 8h0m3-8h0m1 7h0m1-2h0m1 3h0m1-1h0m1 1h0m1-7h0m0 3h0m5 4h0m3-5h0m-3 11h0m-1-3h0m-3 2h0m-2-1h0m-2 2h0m0-2h0m-2-1h0m0 6h0m-2 1h0m0-6h0m0 1h0m-1-1h0m-1 3h0m-1 1h0m-1-7h0m-2 9h0m0-1h0m0-3h0m-4 4h0m-1-3h0m0-5h0m-1 5h0m-1-2h0m0-1h0m-12 14h0m5-4h0m5 4h0m1-7h0m1 5h0m2 2h0m0-5h0m2 6h0m0-6h0m2 1h0m0-3h0m0 2h0m1 5h0m0-2h0m1 2h0m2 0h0m0-6h0m0 8h0m1-4h0m1-4h0m3 8h0m5-7h0m0 0h0m6 1h0m-13 16h0m0-8h0m-1 0h0m-1 7h0m-3-7h0m0 0h0m-1 3h0m-3 1h0m-3-3h0m-5 3h0m-15-4h0m3 13h0m4-3h0m1 0h0m1 1h0m5-2h0m0 9h0m4-9h0m3 0h0m1 0h0m3 7h0m1-6h0m-13 11h0m0 5h0m-5-7h0m-1 6h0m-15-3h0" stroke="#5ac864" stroke-width="1.7"/>
<path d="M597 1072h0m-2 24h0m4 18h0m-2-2h0m-1 27h0m-2 0h0" stroke="#3dbc74" stroke-width="1.7"/>
<path d="M453 1299h0m-10-3h0m-5 10h0m1 0h0m2 2h0m1-5h0m1-2h0m0 8h0m0-1h0m0-4h0m2 3h0m1-6h0m0-1h0m0 4h0m0 4h0m1 0h0m0 0h0m0-2h0m0-1h0m0 2h0m0-1h0m0 1h0m1 0h0m1-3h0m0 5h0m0-8h0m1 7h0m0-2h0m0 3h0m0-1h0m0-5h0m0-3h0m1 4h0m0-1h0m0 6h0m0-2h0m0-5h0m0 4h0m1-1h0m1 4h0m0 0h0m1-1h0m0-4h0m0 3h0m4-5h0m-1 8h0m-2 0h0m-2 2h0m-1 1h0m0-3h0m0 0h0m0 6h0m0-3h0m-1-3h0m-2 3h0m0 0h0m0-1h0m-1-2h0m0 3h0m0-1h0m-1 0h0m0 0h0m0 0h0m0 0h0m-1 1h0m0 5h0m-1-3h0m0-5h0m-1 2h0m0 3h0m0-3h0m0-2h0m-1 0h0m-1 4h0m0-3h0m-1 1h0m7 8h0" stroke="#7ad151" stroke-width="1.7"/>
<path d="M698 1318h0m0 4h0m1 3h0m0 0h0m1-5h0m1 5h0m0-1h0m1 0h0m2 1h0m2 0h0" stroke="#2f6c8e" stroke-width="1.7"/>
<path d="M731 1129h0m5 9h0m-1 1h0m-1-1h0m-8-3h0m-1 1h0m0-4h0m-1-2h0m-5 9h0m-4 8h0m2-1h0m1 3h0m0-2h0m2 1h0m0-1h0m1-6h0m2 8h0m0-5h0m0 1h0m0 1h0m1 1h0m0-4h0m0 1h0m1 1h0m0 4h0m0-6h0m0 1h0m1-3h0m0 7h0m1-3h0m1 1h0m0-6h0m0 2h0m2 4h0m0 2h0m0-7h0m2-1h0m2 6h0m2-3h0m0 4h0m-5 5h0m0-2h0m-2 1h0m0-1h0m-2 7h0m0-7h0m0 2h0m-2-2h0m0 5h0m0-1h0m-1 0h0m-1-1h0m0-3h0m0 8h0m-1-2h0m0-1h0m0 4h0m-1-3h0m0-3h0m-1 0h0m0 2h0m-1-2h0m0 0h0m0-3h0m0 8h0m0-8h0m-1 6h0m0-3h0m0-3h0m0 5h0m0 0h0m-1-2h0m0-1h0m0 2h0m-1 1h0m-1-5h0m-1 1h0" stroke="#1fa287" stroke-width="1.7"/>
<path d="M565 1069h0m1-1h0m1-2h0m1-4h0m0 1h0m4-2h0m-1 18h0m-1-1h0m-1-3h0m-4 4h0m-2 9h0m2-2h0m1 2h0m3-6h0m1 7h0m1-8h0m2 8h0m0-9h0m0 18h0m0 0h0m0 1h0m0-5h0m0-2h0m0 4h0m-1-3h0m0-2h0m0 7h0m-2 0h0m0-3h0m0-1h0m-1 1h0m-1-3h0m-1-2h0m-1 6h0m-1-3h0m0-3h0m-1 1h0m0 17h0m1-6h0m0 7h0m1-3h0m0-3h0m1 5h0m1-5h0m0-1h0m1 3h0m0-2h0m0-2h0m1-1h0m0 2h0m1 3h0m1-2h0m0 6h0m0-4h0m0-2h0m0 6h0m1-9h0m0 7h0m0 9h0m0 1h0m0-5h0m-1 3h0m0 0h0m0-4h0m0 6h0m0-4h0m-1 1h0m0-4h0m0 2h0m0 4h0m-1-6h0m0 9h0m0-9h0m-2 2h0m0 7h0m0-5h0m0-4h0m-2 4h0m0 3h0m0 2h0m0-4h0m0 4h0m-2-8h0m-1 2h0m0 9h0m0-1h0m1 6h0m0 0h0m0-3h0m1 4h0m2 1h0m1-7h0m0-1h0m2 1h0m0 7h0m1-5h0m0-3h0m0 7h0m1-4h0m0 5h0m0-9h0m0 4h0m1 3h0m0 3h0m0 2h0m-1 0h0m0-2h0m0 6h0m0-6h0m-1 2h0m0 6h0m-1 1h0m-1-3h0m-2-3h0m0 2h0m-2 4h0m0 0h0m0-6h0m-1 3h0m-1-3h0m0-2h0m1 10h0m0 1h0m4 1h0m0 2h0m2 1h0m0 1h0m1 0h0m0 0h0m0-1h0m0-6h0m1 4h0m1-2h0m0 10h0m-1 3h0m-1-5h0m-4 0h0m-1 9h0m-1 1h0m1 0h0m1 0h0m0 0h0m1 0h0m2 0h0m2 0h0m0 0h0m1 0h0" stroke="#1f948c" stroke-width="1.7"/>
<path d="M585 1074h0m-1 12h0m1-4h0m0 2h0m2-4h0m1 5h0m4 11h0m-4 0h0m0 1h0m-1-7h0m-1 3h0m0 6h0m0 0h0m-1-5h0m0 11h0m0 4h0m0-5h0m0 3h0m0-5h0m1-2h0m1 5h0m1 4h0m1-5h0m1 4h0m2-5h0m2 0h0m0 14h0m-1 0h0m-1-5h0m-1 7h0m0-4h0m0-2h0m-1 2h0m-3-5h0m-2 5h0m0 3h0m0-2h0m2 12h0m1-6h0m0 1h0m1 0h0m0 2h0m0 4h0m2-8h0m3 0h0m-4 10h0m-5 2h0m-1 0h0m0 1h0m0 7h0m1 2h0m4 6h0m0-9h0m1 7h0m1-2h0m-7 5h0m0 10h0m2 0h0m2 0h0" stroke="#29af7f" stroke-width="1.7"/>
<path d="M429 1289h0m0-2h0m0-3h0m4 3h0m1 2h0m1-2h0m0 2h0m0-4h0m1 1h0m1 2h0m2 0h0m0 0h0m1-2h0m0 0h0m3 2h0m2 1h0m3-7h0m2 9h0m-8 2h0m-1-1h0m0-2h0m-1 7h0m0-3h0m-2 0h0m0-1h0m0 1h0m0-3h0m-1 4h0m-1-3h0m0 1h0m-1-1h0m0-1h0m0 5h0m0 1h0m-1-7h0m-1 5h0m0 4h0m0-2h0m0-1h0m-1 2h0m0-8h0m0 4h0m-2-4h0m0 3h0m-1-1h0m0 4h0m-1 2h0m-1-1h0m-1 1h0m-1 0h0m0 1h0m0-1h0m-1-1h0m-2 0h0m-3-1h0m-2 9h0m5 0h0m2-3h0m0 2h0m1 4h0m1-8h0m1 1h0m1 4h0m2-1h0m2-1h0m0-2h0m1-1h0m0 3h0m2-2h0" stroke="#3dbc74" stroke-width="1.7"/>
<path d="M769 1071h0m-4 4h0m0 0h0m-5 2h0m0-1h0m-2 3h0m-1-4h0m0 0h0m-1 4h0m0-2h0m-1-7h0m-3 9h0m-3-2h0m-3 2h0m-1 0h0m-1 5h0m4 2h0m2-2h0m0-1h0m0 4h0m1-4h0m1 6h0m0 0h0m0-9h0m1 5h0m0-2h0m1 2h0m1 3h0m0-1h0m1 0h0m0-7h0m1 3h0m0-3h0m0 7h0m0-4h0m1 4h0m0-4h0m0 0h0m0-2h0m0 6h0m0-3h0m1 5h0m0-2h0m0-3h0m1 1h0m1 1h0m0-4h0m0 2h0m0 0h0m0 0h0m1-1h0m0 5h0m1-1h0m0-7h0m3 6h0m2 0h0m3 2h0m1 0h0m-3 6h0m-1-1h0m-2 1h0m-1-2h0m0-2h0m-1 3h0m-1 3h0m0-6h0m0 4h0m-1 1h0m0-1h0m0 0h0m-1 0h0m-1 2h0m0-2h0m0-4h0m-1 1h0m-1 2h0m0 0h0m0 5h0m0-7h0m0 0h0m-1 6h0m0-6h0m0 2h0m0 5h0m0-3h0m0 3h0m-1 0h0m0-4h0m0 5h0m0-9h0m0 3h0m0 1h0m-1 4h0m0-4h0m0 0h0m-1-2h0m0 2h0m0 3h0m0-1h0m-1-1h0m0-1h0m-1 1h0m-1 4h0m-1-1h0m0-6h0m0 1h0m0 2h0m0 1h0m-1 3h0m-1-8h0m0 3h0m0 5h0m0 0h0m0-2h0m-1-2h0m0 4h0m0-5h0m0-2h0m-1 3h0m0 0h0m-1 0h0m0 3h0m0-7h0m-1 1h0m-5 4h0m-2 2h0m-1 8h0m2 0h0m9 1h0m0-2h0m1-2h0m0 2h0m1 4h0m0-3h0m0-3h0m1-2h0m0 1h0m1-2h0m0 7h0m0-4h0m0 3h0m0-1h0m1-2h0m0 1h0m0 3h0m1-3h0m1 4h0m0-6h0m1 2h0m0 0h0m1-4h0m0 2h0m1-2h0m0 4h0m0-2h0m0 4h0m4-4h0m0 4h0m1-6h0m-2 10h0m0 4h0m-8 3h0m-4-1h0m-5-5h0m-2 1h0m-6 0h0m-5-2h0" stroke="#5ac864" stroke-width="1.7"/>
<path d="M401 1129h0m-14 19h0m6 1h0m2-5h0m2 2h0m1-4h0m0 5h0m1 0h0m2-5h0m2 6h0m1 1h0m1-1h0m0 0h0m5 0h0m1 10h0m-1-3h0m-4-1h0m0 4h0m-1-8h0m-1 7h0m-3-2h0m0 0h0m0 4h0m-1 0h0m0-7h0m0-2h0m0 4h0m-1 2h0m0-6h0m0 9h0m0-8h0m-1 3h0m0 4h0m0-3h0m0 1h0m-1 2h0m0-3h0m-2-5h0m-3 2h0m-3 0h0" stroke="#29798e" stroke-width="1.7"/>
<path d="M700 1149h0m0 3h0m-2 6h0m0 0h0m0-2h0m-1 2h0m-1-1h0m0-2h0m0-2h0m-2 5h0m0-2h0m-1 1h0m0 0h0m0-1h0m-1 3h0m0-7h0m-2 7h0m3 1h0m3 0h0m3 0h0" stroke="#3d4e8a" stroke-width="1.7"/>
<path d="M545 1045h0m1 3h0m8 10h0m-4-5h0m-6 1h0m2 14h0m4-2h0m2-4h0m2 7h0m-4 6h0m-4-2h0m0-1h0m-1 0h0m-1 4h0m0 7h0m2 6h0m2-3h0m1 1h0m3 1h0m0-4h0m0 0h0m-1 13h0m0-3h0m0 1h0m-1 2h0m-1-2h0m-3 3h0m0-6h0m-1 1h0m-5 9h0m3 6h0m1-8h0m1 9h0m0-2h0m0-4h0m2 2h0m3-5h0m0 3h0m1-2h0m1-1h0m3 1h0m-5 9h0m-3 5h0m0-5h0m-1 4h0m0 1h0m0-2h0m-2 4h0m3 3h0m3 4h0m1 3h0m3-1h0m-5 11h0m0-1h0m-1-6h0m-1 4h0m0 5h0m-1-5h0m-1 5h0m-1-9h0m-3 8h0m4 5h0m1-1h0m2 0h0m5 8h0m-3 10h0m2 0h0m2 0h0" stroke="#29798e" stroke-width="1.7"/>
<path d="M766 1049h0m12 9h0m-5-4h0m-5 1h0m0-4h0m0 3h0m-2 3h0m-1-7h0m0 7h0m-1-1h0m-1-1h0m0 2h0m0-2h0m-4 3h0m-1-2h0m-7 11h0m2 0h0m2-4h0m0 3h0m2 3h0m1-7h0m0 1h0m0-1h0m3-2h0m1 7h0m1 2h0m0-3h0m0 2h0m1 1h0m0-9h0m0 4h0m0 5h0m0 0h0m0-7h0m1 5h0m0-5h0m1 5h0m0-1h0m0-3h0m0-2h0m0 8h0m1-1h0m0-4h0m0 1h0m0-3h0m0 1h0m0-3h0m1 0h0m0 2h0m1 6h0m0-5h0m1 0h0m0 4h0m0-1h0m1 3h0m1-3h0m3 0h0m0 3h0m0-7h0m5-1h0m-4 15h0m-1 3h0m-3-7h0m-1 2h0m0 2h0m-1-1h0m0-5h0m-1 1h0m0 0h0m0 5h0m0-6h0m0 9h0m0-1h0m-1 0h0m0-4h0m0 3h0m-1 0h0m0-7h0m0 8h0m0-4h0m-1 1h0m0 4h0m0-9h0m0 7h0m0 0h0m-1-4h0m0 5h0m0-5h0m0 0h0m0 1h0m-1-3h0m0 8h0m0-2h0m0-6h0m0 7h0m0-2h0m-1 2h0m0 0h0m0-6h0m0 7h0m-1-5h0m-1-3h0m0 8h0m-1-9h0m0 1h0m-1-1h0m-1 3h0m0 5h0m-1 0h0m0-6h0m-1 6h0m-1-3h0m0 4h0m0-4h0m0 0h0m0 1h0m-1 1h0m-1-2h0m0 3h0m0-1h0m-2-3h0m-1 3h0m0 0h0m0-6h0m-5 2h0m4 15h0m3-3h0m2-1h0m0 5h0m0-5h0m1 0h0m0-3h0m1 0h0m1 3h0m0 2h0m0-3h0m1 2h0m0-4h0m0 8h0m0-8h0m0 3h0m1 2h0m0-6h0m1 4h0m0-3h0m0 1h0m1 3h0m0-3h0m0 0h0m1 0h0m0 1h0m0-2h0m1 2h0m0 1h0m1 0h0m0 0h0m0-2h0m0 5h0m1-7h0m0 2h0m1 0h0m0-1h0m0-1h0m1 0h0m0 0h0m1 0h0m2 8h0m3-4h0m4 8h0m-9-2h0m-4 6h0m-3-3h0m-3-2h0m-1 1h0m-10 2h0" stroke="#7ad151" stroke-width="1.7"/>
<path d="M553 1314h0m-3 3h0m-2 2h0m-2 0h0m-1 0h0m0 6h0m2-1h0m1 2h0m1-5h0m2 0h0m1 4h0m1-1h0" stroke="#2f6c8e" stroke-width="1.7"/>
<path d="M407 1235h0m-8 4h0m-9 9h0m4-3h0m0-1h0m1 2h0m1 0h0m0-4h0m2 1h0m0 4h0m3-7h0m0 0h0m-11 12h0m-1 5h0m-2-4h0m-2 3h0m0 3h0m-1-2h0m0-2h0" stroke="#355e8d" stroke-width="1.7"/>
<path d="M374 1059h0m-2-3h0m-2 0h0m-6-1h0m1 6h0m2 2h0m0 6h0m1-1h0m4-2h0m1 2h0m5 11h0m-1-1h0m0 1h0m-1-4h0m-3 2h0m-2-4h0m-1 6h0m-2-7h0m-2 6h0m-1-1h0m0-6h0m0 0h0m-1 2h0m-1 2h0m-2-1h0m-3-1h0m-2 1h0m-5-2h0m8 15h0m1-5h0m0 2h0m1 1h0m1 4h0m1-8h0m1 4h0m1 2h0m0-1h0m1-2h0m0-2h0m2-2h0m1 9h0m0 0h0m0-8h0m0 3h0m1-1h0m0-2h0m2-1h0m1 9h0m0 0h0m2-2h0m0-4h0m2 6h0m0-3h0m3 0h0m2 12h0m-5-1h0m-1-1h0m-2-3h0m-1 0h0m-2 4h0m0-1h0m-1-5h0m0 3h0m0 4h0m0-4h0m0 4h0m-1 1h0m0-5h0m-1-4h0m-1 6h0m0 1h0m0-6h0m-1 1h0m0 2h0m-1 2h0m-1-5h0m-2 8h0m0-7h0m-2-1h0m0-1h0m-2 1h0m-1 13h0m0 5h0m1-6h0m0 6h0m2-9h0m0 2h0m2 5h0m1 2h0m1-7h0m0 4h0m1 1h0m0-7h0m0 3h0m1-2h0m0 5h0m1-4h0m1 1h0m0 1h0m0 4h0m1-2h0m0-1h0m0 2h0m0 2h0m1 0h0m0-2h0m2-5h0m0 0h0m1 3h0m3 0h0m0-2h0m1-1h0m0 7h0m1-1h0m6-4h0m2-3h0m-5 17h0m-3 0h0m-1-4h0m0 5h0m-1-2h0m0-5h0m-1-1h0m-1-1h0m0 4h0m-1-1h0m-2 1h0m0-1h0m0 5h0m0-5h0m0 0h0m-1 1h0m0 1h0m0-5h0m-1 5h0m0 2h0m-1 1h0m0-3h0m0-4h0m-1 7h0m0 1h0m0-6h0m0 1h0m-1 1h0m0 0h0m0 4h0m-1-8h0m0 3h0m-1 2h0m-1 1h0m0-3h0m-2 5h0m-6-5h0m-3 14h0m4-2h0m3 2h0m1-3h0m0 1h0m1-1h0m0 1h0m0 3h0m2-7h0m2 3h0m0 3h0m1-7h0m0 7h0m0-3h0m1-1h0m1-3h0m0 6h0m1-4h0m0 4h0m1-2h0m2 1h0m1 0h0m1-6h0m2 0h0m1 3h0m3-1h0m9 0h0m-11 10h0m0 2h0m-5 3h0m0-1h0m-1-3h0m-2 4h0m0-6h0m0 2h0m0 2h0m0 3h0m-2-5h0m-1 0h0m0 3h0m-1-6h0m-1 2h0m0 0h0m-4 0h0m-1 5h0m-3-5h0m3 13h0m1-4h0m2 1h0m0 1h0m6 0h0m5 5h0m0 6h0m0-4h0m-8 1h0m-3 1h0m-5 0h0" stroke="#481a6c" stroke-width="1.7"/>
</g></g><g stroke-linecap="butt"><text x="3.9" y="11.9" font-size="13.3" font-weight="bold" fill="#111" >A</text>
<text x="452.2" y="12" font-size="13.3" font-weight="bold" fill="#111" >B</text>
<text x="4.5" y="229.7" font-size="13.3" font-weight="bold" fill="#111" >C</text>
<text x="301.2" y="229.6" font-size="13.3" font-weight="bold" fill="#111" >D</text>
<text x="4.3" y="498.6" font-size="13.3" font-weight="bold" fill="#111" >E</text>
<text x="3.6" y="693" font-size="13.3" font-weight="bold" fill="#111" >F</text>
<text x="58.3" y="28.1" font-size="11.3" text-anchor="middle" fill="#111" >Day 60</text>
<text x="185.4" y="28.1" font-size="11.3" text-anchor="middle" fill="#111" >Day 90</text>
<text x="349" y="28.1" font-size="11.3" text-anchor="middle" fill="#111" >Day 150</text>
<path d="M24.9 91.2V136.8H72" fill="none" stroke="#000" stroke-width="1.4"/>
<path d="M24.9 87.2l-3.1 7.5l3.1 -2.2l3.1 2.2z" fill="#000"/>
<path d="M76 136.8l-7.5 -3.1l2.2 3.1l-2.2 3.1z" fill="#000"/>
<text x="23.3" y="115.3" font-size="10.4" text-anchor="middle" font-weight="bold" transform="rotate(-90 23.3 115.3)" fill="#111" textLength="17.4" lengthAdjust="spacingAndGlyphs">FA2</text>
<text x="45.2" y="148.5" font-size="10.4" text-anchor="middle" font-weight="bold" fill="#111" textLength="16.7" lengthAdjust="spacingAndGlyphs">FA1</text>
<circle cx="30.2" cy="173.2" r="7.1" fill="#d7302b"/>
<text x="41.2" y="177.1" font-size="11" fill="#111" >RG</text>
<circle cx="106.3" cy="173.2" r="7.1" fill="#3aa457"/>
<text x="117.6" y="177.1" font-size="11" fill="#111" >IPC</text>
<circle cx="171.1" cy="173.2" r="7.1" fill="#f0812f"/>
<text x="181.5" y="177.1" font-size="11" fill="#111" >IN</text>
<circle cx="242.2" cy="173.2" r="7.1" fill="#4173b3"/>
<text x="252.2" y="177.1" font-size="11" fill="#111" >EN</text>
<rect x="463.2" y="14.3" width="109.8" height="232.5" fill="#ebe8f3"/>
<rect x="467.4" y="25.8" width="6" height="220.3" fill="#fff"/>
<rect x="467.4" y="25.8" width="6" height="66.2" fill="#d5322c"/>
<rect x="467.4" y="92.3" width="6" height="2.5" fill="#3aa457"/>
<rect x="467.4" y="95.5" width="6" height="73" fill="#ea7d2f"/>
<rect x="467.4" y="169.2" width="6" height="76.9" fill="#4a76ab"/>
<rect x="481" y="25.8" width="6" height="220.3" fill="#fff"/>
<rect x="481" y="25.8" width="6" height="73.7" fill="#d5322c"/>
<rect x="481" y="100.1" width="6" height="2.5" fill="#3aa457"/>
<rect x="481" y="103.4" width="6" height="57.6" fill="#ea7d2f"/>
<rect x="481" y="161.7" width="6" height="84.4" fill="#4a76ab"/>
<rect x="494.6" y="25.8" width="6" height="220.3" fill="#fff"/>
<rect x="494.6" y="25.8" width="6" height="75.5" fill="#d5322c"/>
<rect x="494.6" y="103.7" width="6" height="75.1" fill="#ea7d2f"/>
<rect x="494.6" y="179.9" width="6" height="66.2" fill="#4a76ab"/>
<rect x="508.2" y="25.8" width="6" height="220.3" fill="#fff"/>
<rect x="508.2" y="25.8" width="6" height="67.2" fill="#d5322c"/>
<rect x="508.2" y="93.4" width="6" height="1.8" fill="#3aa457"/>
<rect x="508.2" y="95.5" width="6" height="19.7" fill="#ea7d2f"/>
<rect x="508.2" y="115.9" width="6" height="130.2" fill="#4a76ab"/>
<rect x="521.8" y="25.8" width="6" height="220.3" fill="#fff"/>
<rect x="521.8" y="25.8" width="6" height="65.8" fill="#d5322c"/>
<rect x="521.8" y="91.9" width="6" height="2.1" fill="#3aa457"/>
<rect x="521.8" y="94.8" width="6" height="19" fill="#ea7d2f"/>
<rect x="521.8" y="114.5" width="6" height="131.6" fill="#4a76ab"/>
<rect x="535.7" y="25.8" width="6" height="220.3" fill="#fff"/>
<rect x="535.7" y="25.8" width="6" height="38.6" fill="#d5322c"/>
<rect x="535.7" y="64.7" width="6" height="1.1" fill="#3aa457"/>
<rect x="535.7" y="66.5" width="6" height="26.5" fill="#ea7d2f"/>
<rect x="535.7" y="93.7" width="6" height="152.4" fill="#4a76ab"/>
<rect x="549.3" y="25.8" width="6" height="220.3" fill="#fff"/>
<rect x="549.3" y="25.8" width="6" height="44.7" fill="#d5322c"/>
<rect x="549.3" y="71.5" width="6" height="22.5" fill="#ea7d2f"/>
<rect x="549.3" y="94.8" width="6" height="151.3" fill="#4a76ab"/>
<rect x="562.9" y="25.8" width="6" height="220.3" fill="#fff"/>
<rect x="562.9" y="25.8" width="6" height="49.4" fill="#d5322c"/>
<rect x="562.9" y="75.5" width="6" height="1.4" fill="#3aa457"/>
<rect x="562.9" y="77.6" width="6" height="28.3" fill="#ea7d2f"/>
<rect x="562.9" y="106.6" width="6" height="139.5" fill="#4a76ab"/>
<rect x="463.2" y="247.9" width="40.4" height="10.7" fill="#dca6ae"/>
<rect x="503.7" y="247.9" width="28.3" height="10.7" fill="#bd7699"/>
<rect x="531.9" y="247.9" width="41.1" height="10.7" fill="#6e3b6c"/>
<text x="491.2" y="268.2" font-size="11.5" text-anchor="end" transform="rotate(-45 491.2 268.2)" fill="#111" >Day 60</text>
<text x="526.3" y="268.2" font-size="11.5" text-anchor="end" transform="rotate(-45 526.3 268.2)" fill="#111" >Day 90</text>
<text x="561.3" y="268.2" font-size="11.5" text-anchor="end" transform="rotate(-45 561.3 268.2)" fill="#111" >Day 150</text>
<text x="458.3" y="138.2" font-size="11.5" text-anchor="middle" transform="rotate(-90 458.3 138.2)" fill="#111" >Cell types, Proportions</text>
<circle cx="588.8" cy="36.7" r="2.4" fill="#4a76ab"/>
<text x="591.4" y="30.4" font-size="11.4" transform="rotate(-90 591.4 30.4)" fill="#111" textLength="13.6" lengthAdjust="spacingAndGlyphs">EN</text>
<circle cx="601.6" cy="36.7" r="2.4" fill="#ea7d2f"/>
<text x="604.2" y="30.4" font-size="11.4" transform="rotate(-90 604.2 30.4)" fill="#111" textLength="9.5" lengthAdjust="spacingAndGlyphs">IN</text>
<circle cx="614.3" cy="36.7" r="2.4" fill="#3aa457"/>
<text x="616.9" y="30.4" font-size="11.4" transform="rotate(-90 616.9 30.4)" fill="#111" textLength="16.6" lengthAdjust="spacingAndGlyphs">IPC</text>
<circle cx="627.1" cy="36.7" r="2.4" fill="#d5322c"/>
<text x="629.7" y="30.4" font-size="11.4" transform="rotate(-90 629.7 30.4)" fill="#111" textLength="15.1" lengthAdjust="spacingAndGlyphs">RG</text>
<text x="29.6" y="253.8" font-size="13.7" fill="#111" >Integrated plot</text>
<text x="190" y="230.6" font-size="13.7" fill="#111" >IN</text>
<text x="240" y="263.3" font-size="13.7" fill="#111" >EaN</text>
<text x="129.2" y="273.3" font-size="13.7" fill="#111" >Dev-HB</text>
<text x="141.6" y="314.7" font-size="13.7" fill="#111" >IPC</text>
<text x="255.3" y="317.9" font-size="13.7" fill="#111" >EN</text>
<text x="195.3" y="370.8" font-size="13.7" fill="#111" >Dev-N</text>
<text x="170.6" y="399.3" font-size="13.7" fill="#111" >RG</text>
<text x="24" y="411.3" font-size="13.7" fill="#111" >Proli-RG</text>
<text x="151.3" y="428.5" font-size="13.7" fill="#111" >A/O</text>
<text x="132" y="461.3" font-size="13.7" fill="#111" >AP</text>
<path d="M20 391.6V466H94" fill="none" stroke="#000" stroke-width="1.6"/>
<path d="M20 386.3l-4.1 9.9l4.1 -3l4.1 3z" fill="#000"/>
<path d="M99.3 466l-9.9 -4.1l3 4.1l-3 4.1z" fill="#000"/>
<text x="17.5" y="433.4" font-size="14.6" text-anchor="middle" font-weight="bold" transform="rotate(-90 17.5 433.4)" fill="#111" textLength="24.6" lengthAdjust="spacingAndGlyphs">FA2</text>
<text x="50.4" y="482.5" font-size="14.6" text-anchor="middle" font-weight="bold" fill="#111" textLength="25.1" lengthAdjust="spacingAndGlyphs">FA1</text>
<path d="M130.5 408.5L149 419" stroke="#111" stroke-width="1" fill="none"/>
<path d="M152 420.8l-5.5 -0.6l2.6 -4.2z" fill="#111"/>
<circle cx="412.8" cy="411.4" r="6.7" fill="#dca6ae"/>
<text x="424" y="414.2" font-size="11.3" fill="#111" >Day 60</text>
<circle cx="412.8" cy="432.2" r="6.7" fill="#c17a98"/>
<text x="425" y="435.3" font-size="11.3" fill="#111" >Day 90</text>
<circle cx="412.8" cy="453.8" r="6.7" fill="#6e3b6c"/>
<text x="425" y="457.8" font-size="11.3" fill="#111" >Day 150</text>
<defs><linearGradient id="vir" x1="0" x2="1" y1="0" y2="0"><stop offset="0%" stop-color="#440154"/>
<stop offset="11.1%" stop-color="#482878"/>
<stop offset="22.2%" stop-color="#3e4a89"/>
<stop offset="33.3%" stop-color="#31688e"/>
<stop offset="44.4%" stop-color="#26828e"/>
<stop offset="55.6%" stop-color="#1f9e89"/>
<stop offset="66.7%" stop-color="#35b779"/>
<stop offset="77.8%" stop-color="#6ece58"/>
<stop offset="88.9%" stop-color="#b5de2b"/>
<stop offset="100%" stop-color="#fde725"/>
</linearGradient></defs><rect x="32.2" y="661.8" width="129.4" height="2.8" fill="url(#vir)"/>
<path d="M32.6 658.3v3.4H161.1v-3.4" fill="none" stroke="#222" stroke-width="0.8"/>
<text x="32.8" y="657" font-size="14" text-anchor="middle" fill="#111" >0</text>
<text x="160.5" y="657" font-size="14" text-anchor="middle" fill="#111" >1</text>
<text x="98.9" y="657.2" font-size="13.7" text-anchor="middle" fill="#111" >Pseudotime</text>
<path d="M172 517.2V581.4H236.9" fill="none" stroke="#3b3f9c" stroke-width="1.2"/>
<path d="M172 513.8l-2.6 6.3l2.6 -1.9l2.6 1.9z" fill="#3b3f9c"/>
<path d="M240.3 581.4l-6.3 -2.6l1.9 2.6l-1.9 2.6z" fill="#3b3f9c"/>
<path d="M249.8 517.2V581.4H315.1" fill="none" stroke="#3b3f9c" stroke-width="1.2"/>
<path d="M249.8 513.8l-2.6 6.3l2.6 -1.9l2.6 1.9z" fill="#3b3f9c"/>
<path d="M318.5 581.4l-6.3 -2.6l1.9 2.6l-1.9 2.6z" fill="#3b3f9c"/>
<path d="M329 517.2V581.4H393.9" fill="none" stroke="#3b3f9c" stroke-width="1.2"/>
<path d="M329 513.8l-2.6 6.3l2.6 -1.9l2.6 1.9z" fill="#3b3f9c"/>
<path d="M397.3 581.4l-6.3 -2.6l1.9 2.6l-1.9 2.6z" fill="#3b3f9c"/>
<path d="M172 600.2V664.4H236.9" fill="none" stroke="#2fa037" stroke-width="1.2"/>
<path d="M172 596.8l-2.6 6.3l2.6 -1.9l2.6 1.9z" fill="#2fa037"/>
<path d="M240.3 664.4l-6.3 -2.6l1.9 2.6l-1.9 2.6z" fill="#2fa037"/>
<path d="M249.8 600.2V664.4H315.1" fill="none" stroke="#2fa037" stroke-width="1.2"/>
<path d="M249.8 596.8l-2.6 6.3l2.6 -1.9l2.6 1.9z" fill="#2fa037"/>
<path d="M318.5 664.4l-6.3 -2.6l1.9 2.6l-1.9 2.6z" fill="#2fa037"/>
<path d="M329 600.2V664.4H393.9" fill="none" stroke="#2fa037" stroke-width="1.2"/>
<path d="M329 596.8l-2.6 6.3l2.6 -1.9l2.6 1.9z" fill="#2fa037"/>
<path d="M397.3 664.4l-6.3 -2.6l1.9 2.6l-1.9 2.6z" fill="#2fa037"/>
<text x="193" y="523.6" font-size="11.2" fill="#111" >GLI3</text>
<text x="256" y="523.6" font-size="11.2" fill="#111" >EOMES</text>
<text x="331.7" y="523.6" font-size="11.2" fill="#111" >GRIA2</text>
<text x="193" y="609" font-size="11.2" fill="#111" >CCND2</text>
<text x="256" y="609.8" font-size="11.2" fill="#111" >DLX5</text>
<text x="331.7" y="609" font-size="11.2" fill="#111" >GAD2</text>
<path d="M48.5 588.6C60 540 108 516 146.5 520.9" fill="none" stroke="#3b3f9c" stroke-width="1.3"/>
<path d="M151.2 521.9l-8.2 -0.2l2.6 -2.6l-0.8 -3.6z" fill="#3b3f9c"/>
<path d="M47.6 583.6l0.9 5.4l4.2 -3.4" fill="none" stroke="#3b3f9c" stroke-width="1.1"/>
<path d="M87.6 595.6C116 590 134 546 130 509" fill="none" stroke="#2fa037" stroke-width="1.3"/>
<path d="M129.6 503.6l-3.6 6.6l3.4 -1.4l3 2z" fill="#2fa037"/>
<path d="M42.3 704.4H178.3" stroke="#dedede" stroke-width="0.8"/>
<text x="37.8" y="707.8" font-size="9.4" text-anchor="end" font-family='"DejaVu Sans", "Liberation Sans", sans-serif' fill="#222" >2</text>
<path d="M42.3 704.4h-2.4" stroke="#777" stroke-width="0.7"/>
<path d="M42.3 745.3H178.3" stroke="#dedede" stroke-width="0.8"/>
<text x="37.8" y="748.7" font-size="9.4" text-anchor="end" font-family='"DejaVu Sans", "Liberation Sans", sans-serif' fill="#222" >1</text>
<path d="M42.3 745.3h-2.4" stroke="#777" stroke-width="0.7"/>
<path d="M42.3 786.3H178.3" stroke="#dedede" stroke-width="0.8"/>
<text x="37.8" y="789.7" font-size="9.4" text-anchor="end" font-family='"DejaVu Sans", "Liberation Sans", sans-serif' fill="#222" >0</text>
<path d="M42.3 786.3h-2.4" stroke="#777" stroke-width="0.7"/>
<path d="M42.3 826.4H178.3" stroke="#dedede" stroke-width="0.8"/>
<text x="37.8" y="829.8" font-size="9.4" text-anchor="end" font-family='"DejaVu Sans", "Liberation Sans", sans-serif' fill="#222" >−1</text>
<path d="M42.3 826.4h-2.4" stroke="#777" stroke-width="0.7"/>
<path d="M59.5 710.3L59.5 712.0L59.5 713.7L59.5 715.4L59.5 717.1L59.5 718.8L59.5 720.4L59.5 722.1L59.5 723.8L59.5 725.5L59.5 727.2L59.5 728.8L59.5 730.5L59.5 732.2L59.5 732.4L59.5 733.9L59.6 735.6L59.8 737.3L59.9 738.9L60.1 740.6L60.1 740.8L60.2 742.3L60.4 744.0L60.6 745.7L60.8 747.4L61.1 749.0L61.1 749.3L61.3 750.7L61.7 752.4L62.1 754.1L62.6 755.8L63.0 757.5L63.1 757.8L63.5 759.1L64.0 760.8L64.6 762.5L65.1 764.2L65.7 765.9L65.8 766.3L66.3 767.5L66.8 769.2L67.4 770.9L68.0 772.6L68.6 774.3L68.7 774.7L69.1 776.0L69.7 777.6L70.2 779.3L70.7 781.0L71.1 782.7L71.3 783.2L71.5 784.4L71.9 786.1L72.2 787.7L72.5 789.4L72.7 791.1L72.8 791.7L72.9 792.8L73.0 794.5L73.2 796.2L73.2 797.8L73.3 799.5L73.3 800.2L73.3 801.2L73.3 802.9L73.2 804.6L73.1 806.2L73.0 807.9L73.0 808.6L72.9 809.6L72.6 811.3L72.1 813.0L71.6 814.7L71.3 815.4L70.7 816.3L69.1 818.0L67.1 819.7L66.2 820.5L65.1 821.4L62.9 823.1L61.9 823.9L61.0 824.8L59.5 826.4L59.2 826.4L57.8 824.8L56.9 823.9L55.9 823.1L53.7 821.4L52.6 820.5L51.7 819.7L49.7 818.0L48.1 816.3L47.5 815.4L47.2 814.7L46.7 813.0L46.2 811.3L45.9 809.6L45.8 808.6L45.8 807.9L45.7 806.2L45.6 804.6L45.5 802.9L45.5 801.2L45.5 800.2L45.5 799.5L45.6 797.8L45.6 796.2L45.8 794.5L45.9 792.8L46.0 791.7L46.1 791.1L46.3 789.4L46.6 787.7L46.9 786.1L47.3 784.4L47.5 783.2L47.7 782.7L48.1 781.0L48.6 779.3L49.1 777.6L49.7 776.0L50.1 774.7L50.2 774.3L50.8 772.6L51.4 770.9L52.0 769.2L52.5 767.5L53.0 766.3L53.1 765.9L53.7 764.2L54.2 762.5L54.8 760.8L55.3 759.1L55.7 757.8L55.8 757.5L56.2 755.8L56.7 754.1L57.1 752.4L57.5 750.7L57.7 749.3L57.7 749.0L58.0 747.4L58.2 745.7L58.4 744.0L58.6 742.3L58.7 740.8L58.7 740.6L58.9 738.9L59.0 737.3L59.2 735.6L59.2 733.9L59.2 732.4L59.2 732.2L59.2 730.5L59.2 728.8L59.2 727.2L59.2 725.5L59.2 723.8L59.2 722.1L59.2 720.4L59.2 718.8L59.2 717.1L59.2 715.4L59.2 713.7L59.2 712.0L59.2 710.3Z" fill="#4a76a8" stroke="#3a3a3a" stroke-width="0.5" stroke-linejoin="round"/>
<path d="M59.4 710.3V826.4" stroke="#484848" stroke-width="0.7"/>
<path d="M59.4 781V808.1" stroke="#3a3a3a" stroke-width="2"/>
<circle cx="59.4" cy="795.4" r="0.8" fill="#fff"/>
<path d="M59.4 832.7v2.4" stroke="#777" stroke-width="0.7"/>
<path d="M93.5 692.5L93.5 694.3L93.5 696.1L93.5 697.9L93.5 699.7L93.5 701.4L93.5 703.2L93.5 705.0L93.5 706.8L93.5 708.6L93.5 710.4L93.5 712.1L93.5 713.9L93.5 715.7L93.5 717.5L93.5 719.3L93.5 721.0L93.5 722.8L93.5 724.6L93.5 726.4L93.5 728.2L93.5 729.9L93.5 731.7L93.5 732.4L93.5 733.5L93.5 735.3L93.6 737.1L93.7 738.8L93.8 740.6L93.8 740.8L93.9 742.4L94.1 744.2L94.2 746.0L94.4 747.7L94.7 749.3L94.7 749.5L95.0 751.3L95.4 753.1L95.9 754.9L96.4 756.7L96.7 757.8L96.9 758.4L97.5 760.2L98.3 762.0L99.0 763.8L99.6 765.6L99.7 766.3L100.0 767.3L100.4 769.1L100.8 770.9L101.1 772.7L101.3 774.5L101.3 774.7L101.3 776.2L101.4 778.0L101.4 779.8L101.4 781.5L101.4 781.6L101.2 783.4L100.8 785.1L100.2 786.9L99.7 788.3L99.6 788.7L98.9 790.5L98.2 792.3L97.6 794.1L97.5 795.1L97.6 795.8L98.0 797.6L98.4 798.5L99.5 799.4L102.6 801.0L102.9 801.2L106.1 803.0L106.9 803.9L106.7 804.7L105.5 806.5L105.2 806.9L103.2 808.3L99.7 810.1L99.2 810.3L96.7 811.9L95.3 812.9L94.6 813.6L93.5 815.4L93.1 815.4L92.0 813.6L91.3 812.9L89.9 811.9L87.4 810.3L86.9 810.1L83.4 808.3L81.4 806.9L81.1 806.5L79.9 804.7L79.7 803.9L80.5 803.0L83.7 801.2L84.0 801.0L87.1 799.4L88.2 798.5L88.6 797.6L89.0 795.8L89.1 795.1L89.0 794.1L88.4 792.3L87.7 790.5L87.0 788.7L86.9 788.3L86.4 786.9L85.8 785.1L85.4 783.4L85.2 781.6L85.2 781.5L85.2 779.8L85.2 778.0L85.3 776.2L85.3 774.7L85.3 774.5L85.5 772.7L85.8 770.9L86.2 769.1L86.6 767.3L86.9 766.3L87.0 765.6L87.6 763.8L88.3 762.0L89.1 760.2L89.7 758.4L89.9 757.8L90.2 756.7L90.7 754.9L91.2 753.1L91.6 751.3L91.9 749.5L91.9 749.3L92.2 747.7L92.4 746.0L92.5 744.2L92.7 742.4L92.8 740.8L92.8 740.6L92.9 738.8L93.0 737.1L93.1 735.3L93.1 733.5L93.1 732.4L93.1 731.7L93.1 729.9L93.1 728.2L93.1 726.4L93.1 724.6L93.1 722.8L93.1 721.0L93.1 719.3L93.1 717.5L93.1 715.7L93.1 713.9L93.1 712.1L93.1 710.4L93.1 708.6L93.1 706.8L93.1 705.0L93.1 703.2L93.1 701.4L93.1 699.7L93.1 697.9L93.1 696.1L93.1 694.3L93.1 692.5Z" fill="#e5842f" stroke="#3a3a3a" stroke-width="0.5" stroke-linejoin="round"/>
<path d="M93.3 692.5V815.4" stroke="#484848" stroke-width="0.7"/>
<path d="M93.3 772.7V802.7" stroke="#3a3a3a" stroke-width="2"/>
<circle cx="93.3" cy="785.8" r="0.8" fill="#fff"/>
<path d="M93.3 832.7v2.4" stroke="#777" stroke-width="0.7"/>
<path d="M127.6 698.1L127.6 699.9L127.6 701.6L127.6 703.4L127.6 705.1L127.6 706.9L127.6 708.6L127.6 710.4L127.6 712.1L127.6 713.9L127.6 715.6L127.6 717.4L127.6 719.1L127.6 720.9L127.6 722.6L127.6 723.9L127.6 724.4L127.6 726.1L127.6 727.9L127.7 729.6L127.8 731.4L127.9 732.4L128.0 733.1L128.1 734.9L128.2 736.6L128.3 738.4L128.5 740.1L128.6 740.8L128.7 741.9L129.0 743.6L129.4 745.4L129.9 747.1L130.3 748.9L130.5 749.3L130.8 750.6L131.4 752.4L132.0 754.1L132.6 755.9L133.3 757.6L133.3 757.8L133.9 759.3L134.7 761.1L135.4 762.8L136.1 764.6L136.7 766.3L136.7 766.3L137.3 768.1L137.9 769.8L138.4 771.6L138.9 773.3L139.3 774.7L139.3 775.1L139.8 776.8L140.2 778.6L140.6 780.3L140.9 782.1L141.0 783.2L141.0 783.8L141.1 785.6L141.1 787.3L141.1 787.5L140.9 789.1L140.4 790.8L140.1 791.7L139.7 792.6L138.7 794.3L137.4 796.1L136.2 797.8L135.9 798.5L135.2 799.6L134.2 801.3L133.5 803.1L133.5 803.6L133.5 804.8L133.5 806.6L133.5 806.9L133.5 808.3L133.4 810.1L133.3 810.3L132.5 811.8L130.9 813.6L130.8 813.7L129.5 815.3L128.8 816.3L128.3 817.1L127.6 818.8L127.2 818.8L126.5 817.1L126.0 816.3L125.3 815.3L124.0 813.7L123.9 813.6L122.3 811.8L121.5 810.3L121.4 810.1L121.3 808.3L121.3 806.9L121.3 806.6L121.3 804.8L121.3 803.6L121.3 803.1L120.6 801.3L119.6 799.6L118.9 798.5L118.6 797.8L117.4 796.1L116.1 794.3L115.1 792.6L114.7 791.7L114.4 790.8L113.9 789.1L113.7 787.5L113.7 787.3L113.7 785.6L113.8 783.8L113.8 783.2L113.9 782.1L114.2 780.3L114.6 778.6L115.0 776.8L115.5 775.1L115.5 774.7L115.9 773.3L116.4 771.6L116.9 769.8L117.5 768.1L118.1 766.3L118.1 766.3L118.7 764.6L119.4 762.8L120.1 761.1L120.9 759.3L121.5 757.8L121.5 757.6L122.2 755.9L122.8 754.1L123.4 752.4L124.0 750.6L124.3 749.3L124.5 748.9L124.9 747.1L125.4 745.4L125.8 743.6L126.1 741.9L126.2 740.8L126.3 740.1L126.5 738.4L126.6 736.6L126.7 734.9L126.8 733.1L126.9 732.4L127.0 731.4L127.1 729.6L127.2 727.9L127.2 726.1L127.2 724.4L127.2 723.9L127.2 722.6L127.2 720.9L127.2 719.1L127.2 717.4L127.2 715.6L127.2 713.9L127.2 712.1L127.2 710.4L127.2 708.6L127.2 706.9L127.2 705.1L127.2 703.4L127.2 701.6L127.2 699.9L127.2 698.1Z" fill="#3f9a4a" stroke="#3a3a3a" stroke-width="0.5" stroke-linejoin="round"/>
<path d="M127.4 698.1V818.8" stroke="#484848" stroke-width="0.7"/>
<path d="M127.4 773.1V795.1" stroke="#3a3a3a" stroke-width="2"/>
<circle cx="127.4" cy="784.9" r="0.8" fill="#fff"/>
<path d="M127.4 832.7v2.4" stroke="#777" stroke-width="0.7"/>
<path d="M161.6 716.8L161.6 718.0L161.6 719.3L161.6 720.6L161.6 721.8L161.6 723.1L161.6 724.3L161.6 725.6L161.6 726.8L161.6 728.1L161.6 729.4L161.6 730.6L161.6 731.9L161.6 733.1L161.6 734.4L161.6 735.6L161.6 736.9L161.6 738.2L161.6 739.4L161.6 740.7L161.6 740.8L161.6 741.9L161.6 743.2L161.6 744.4L161.7 745.7L161.7 747.0L161.8 748.2L161.9 749.3L161.9 749.5L162.0 750.7L162.2 752.0L162.3 753.3L162.5 754.5L162.7 755.8L163.0 757.0L163.1 757.8L163.2 758.3L163.4 759.5L163.7 760.8L164.0 762.1L164.4 763.3L164.7 764.6L165.0 765.8L165.1 766.3L165.3 767.1L165.7 768.3L166.0 769.6L166.3 770.9L166.6 772.1L167.0 773.4L167.3 774.6L167.3 774.7L167.6 775.9L167.9 777.1L168.2 778.4L168.6 779.7L168.9 780.9L169.2 782.2L169.5 783.2L169.6 783.4L170.0 784.7L170.3 786.0L170.7 787.2L171.2 788.5L171.8 789.7L171.9 790.0L172.8 791.0L174.3 792.2L175.3 793.5L175.3 793.7L175.1 794.8L174.6 795.9L174.6 796.0L172.1 797.3L169.0 798.5L168.9 798.5L166.2 799.8L163.9 801.0L163.9 801.0L162.4 802.3L161.6 803.6L161.2 803.6L160.4 802.3L158.9 801.0L158.9 801.0L156.6 799.8L153.9 798.5L153.8 798.5L150.7 797.3L148.2 796.0L148.2 795.9L147.7 794.8L147.5 793.7L147.5 793.5L148.5 792.2L150.0 791.0L150.9 790.0L151.0 789.7L151.6 788.5L152.1 787.2L152.5 786.0L152.8 784.7L153.2 783.4L153.3 783.2L153.6 782.2L153.9 780.9L154.2 779.7L154.6 778.4L154.9 777.1L155.2 775.9L155.5 774.7L155.5 774.6L155.8 773.4L156.2 772.1L156.5 770.9L156.8 769.6L157.1 768.3L157.5 767.1L157.7 766.3L157.8 765.8L158.1 764.6L158.4 763.3L158.8 762.1L159.1 760.8L159.4 759.5L159.6 758.3L159.7 757.8L159.8 757.0L160.1 755.8L160.3 754.5L160.5 753.3L160.6 752.0L160.8 750.7L160.9 749.5L160.9 749.3L161.0 748.2L161.1 747.0L161.1 745.7L161.2 744.4L161.2 743.2L161.2 741.9L161.2 740.8L161.2 740.7L161.2 739.4L161.2 738.2L161.2 736.9L161.2 735.6L161.2 734.4L161.2 733.1L161.2 731.9L161.2 730.6L161.2 729.4L161.2 728.1L161.2 726.8L161.2 725.6L161.2 724.3L161.2 723.1L161.2 721.8L161.2 720.6L161.2 719.3L161.2 718.0L161.2 716.8Z" fill="#c93a3d" stroke="#3a3a3a" stroke-width="0.5" stroke-linejoin="round"/>
<path d="M161.4 716.8V803.6" stroke="#484848" stroke-width="0.7"/>
<path d="M161.4 779V795.1" stroke="#3a3a3a" stroke-width="2"/>
<circle cx="161.4" cy="788.3" r="0.8" fill="#fff"/>
<path d="M161.4 832.7v2.4" stroke="#777" stroke-width="0.7"/>
<path d="M42.3 686.1V832.7H178.3V686.1" fill="none" stroke="#9a9a9a" stroke-width="0.9"/>
<text x="9.8" y="759.6" font-size="11.5" text-anchor="middle" transform="rotate(-90 9.8 759.6)" fill="#111" >Cumulative score</text>
<text x="23.2" y="759.6" font-size="11.5" text-anchor="middle" transform="rotate(-90 23.2 759.6)" fill="#111" >of stress markers</text>
<text x="47.4" y="859.2" font-size="10.5" transform="rotate(-45 47.4 859.2)" fill="#222" >Hi-Q</text>
<text x="71" y="869.5" font-size="10.5" transform="rotate(-45 71 869.5)" fill="#222" >Bhaduri</text>
<text x="81.2" y="877.9" font-size="10.5" transform="rotate(-45 81.2 877.9)" fill="#222" >et al.</text>
<text x="107.2" y="867.4" font-size="10.5" transform="rotate(-45 107.2 867.4)" fill="#222" >Kanton</text>
<text x="117.4" y="876.2" font-size="10.5" transform="rotate(-45 117.4 876.2)" fill="#222" >et al.</text>
<text x="129.6" y="878.2" font-size="10.5" transform="rotate(-45 129.6 878.2)" fill="#222" >Allen brain</text>
<text x="141" y="884.8" font-size="10.5" transform="rotate(-45 141 884.8)" fill="#222" >atlas</text>
<path d="M210.5 719H346.2" stroke="#dedede" stroke-width="0.8"/>
<text x="205.5" y="722.4" font-size="9.4" text-anchor="end" font-family='"DejaVu Sans", "Liberation Sans", sans-serif' fill="#222" >4</text>
<path d="M210.5 719h-2.4" stroke="#777" stroke-width="0.7"/>
<path d="M210.5 745.6H346.2" stroke="#dedede" stroke-width="0.8"/>
<text x="205.5" y="749" font-size="9.4" text-anchor="end" font-family='"DejaVu Sans", "Liberation Sans", sans-serif' fill="#222" >3</text>
<path d="M210.5 745.6h-2.4" stroke="#777" stroke-width="0.7"/>
<path d="M210.5 772.5H346.2" stroke="#dedede" stroke-width="0.8"/>
<text x="205.5" y="775.9" font-size="9.4" text-anchor="end" font-family='"DejaVu Sans", "Liberation Sans", sans-serif' fill="#222" >2</text>
<path d="M210.5 772.5h-2.4" stroke="#777" stroke-width="0.7"/>
<path d="M210.5 799.4H346.2" stroke="#dedede" stroke-width="0.8"/>
<text x="205.5" y="802.8" font-size="9.4" text-anchor="end" font-family='"DejaVu Sans", "Liberation Sans", sans-serif' fill="#222" >1</text>
<path d="M210.5 799.4h-2.4" stroke="#777" stroke-width="0.7"/>
<path d="M210.5 826.3H346.2" stroke="#dedede" stroke-width="0.8"/>
<text x="205.5" y="829.7" font-size="9.4" text-anchor="end" font-family='"DejaVu Sans", "Liberation Sans", sans-serif' fill="#222" >0</text>
<path d="M210.5 826.3h-2.4" stroke="#777" stroke-width="0.7"/>
<path d="M227.8 712.7L227.8 714.3L227.8 716.0L227.8 717.6L227.8 719.3L227.8 720.9L227.8 722.6L227.8 723.7L227.8 724.2L227.8 725.9L227.8 727.5L227.9 729.2L228.0 730.8L228.1 731.6L228.1 732.5L228.3 734.1L228.4 735.8L228.6 737.4L228.7 739.1L228.9 740.7L229.1 742.4L229.3 744.0L229.5 745.7L229.6 747.3L229.7 747.5L229.8 749.0L230.0 750.6L230.1 752.3L230.3 753.9L230.4 755.6L230.6 757.2L230.7 758.9L230.8 760.5L231.0 762.2L231.1 763.3L231.1 763.8L231.3 765.5L231.4 767.1L231.5 768.8L231.7 770.4L231.8 772.1L231.9 773.7L232.0 775.4L232.2 777.1L232.3 778.7L232.3 779.1L232.5 780.4L232.6 782.0L232.8 783.7L233.0 785.3L233.1 787.0L233.1 788.6L233.1 790.3L232.9 791.9L232.6 793.6L232.2 795.2L231.8 796.9L231.6 798.1L231.5 798.5L231.0 800.2L230.5 801.8L230.0 803.5L229.4 805.1L229.0 806.8L228.9 807.6L228.7 808.4L228.4 810.1L228.2 811.7L228.1 813.4L228.1 813.9L228.2 815.0L229.0 816.7L229.2 817.1L230.4 818.3L232.8 820.0L233.1 820.3L235.2 821.6L237.7 823.3L237.9 823.4L240.1 824.9L241.0 825.8L241.5 826.6L213.7 826.6L214.2 825.8L215.1 824.9L217.3 823.4L217.5 823.3L220.0 821.6L222.1 820.3L222.4 820.0L224.8 818.3L226.0 817.1L226.2 816.7L227.0 815.0L227.1 813.9L227.1 813.4L227.0 811.7L226.8 810.1L226.5 808.4L226.3 807.6L226.2 806.8L225.8 805.1L225.2 803.5L224.7 801.8L224.2 800.2L223.7 798.5L223.6 798.1L223.4 796.9L223.0 795.2L222.6 793.6L222.3 791.9L222.1 790.3L222.1 788.6L222.1 787.0L222.2 785.3L222.4 783.7L222.6 782.0L222.7 780.4L222.9 779.1L222.9 778.7L223.0 777.1L223.2 775.4L223.3 773.7L223.4 772.1L223.5 770.4L223.7 768.8L223.8 767.1L223.9 765.5L224.1 763.8L224.1 763.3L224.2 762.2L224.4 760.5L224.5 758.9L224.6 757.2L224.8 755.6L224.9 753.9L225.1 752.3L225.2 750.6L225.4 749.0L225.5 747.5L225.6 747.3L225.7 745.7L225.9 744.0L226.1 742.4L226.3 740.7L226.5 739.1L226.6 737.4L226.8 735.8L226.9 734.1L227.1 732.5L227.1 731.6L227.2 730.8L227.3 729.2L227.4 727.5L227.4 725.9L227.4 724.2L227.4 723.7L227.4 722.6L227.4 720.9L227.4 719.3L227.4 717.6L227.4 716.0L227.4 714.3L227.4 712.7Z" fill="#4a76a8" stroke="#3a3a3a" stroke-width="0.5" stroke-linejoin="round"/>
<path d="M227.6 712.7V826.6" stroke="#484848" stroke-width="0.7"/>
<path d="M227.6 777.1V826.6" stroke="#3a3a3a" stroke-width="2"/>
<circle cx="227.6" cy="795.7" r="0.8" fill="#fff"/>
<path d="M227.6 832.7v2.4" stroke="#777" stroke-width="0.7"/>
<path d="M261.8 692.2L261.8 694.2L261.8 696.1L261.8 698.1L261.8 700.0L261.8 702.0L261.8 703.9L261.8 705.9L261.8 707.8L261.8 709.8L261.8 711.7L261.8 713.7L261.8 715.6L261.8 715.8L261.8 717.6L261.8 719.5L261.8 721.5L261.8 723.4L261.9 725.3L261.9 727.3L262.0 729.2L262.1 731.2L262.1 731.6L262.1 733.1L262.2 735.1L262.4 737.0L262.5 739.0L262.6 740.9L262.8 742.9L263.0 744.8L263.1 746.8L263.2 747.5L263.3 748.7L263.5 750.7L263.7 752.6L263.9 754.5L264.1 756.5L264.3 758.4L264.5 760.4L264.7 762.3L264.8 763.3L264.8 764.3L265.0 766.2L265.1 768.2L265.2 770.1L265.3 772.1L265.4 774.0L265.4 775.9L265.4 776.0L265.4 777.9L265.3 779.9L265.1 781.8L265.0 783.8L264.8 785.7L264.6 787.6L264.4 788.6L264.3 789.6L264.0 791.5L263.6 793.5L263.3 795.4L263.0 797.4L262.9 798.1L262.7 799.3L262.5 801.3L262.3 803.2L262.2 805.2L262.1 807.1L262.1 807.6L262.1 809.1L262.1 811.0L262.1 813.0L262.1 814.9L262.1 816.8L262.1 817.1L262.6 818.8L263.5 820.3L264.0 820.7L267.9 822.7L269.5 823.4L272.7 824.6L275.0 825.8L275.5 826.6L247.7 826.6L248.2 825.8L250.5 824.6L253.7 823.4L255.3 822.7L259.2 820.7L259.7 820.3L260.6 818.8L261.1 817.1L261.1 816.8L261.1 814.9L261.1 813.0L261.1 811.0L261.1 809.1L261.1 807.6L261.1 807.1L261.0 805.2L260.9 803.2L260.7 801.3L260.5 799.3L260.3 798.1L260.2 797.4L259.9 795.4L259.6 793.5L259.2 791.5L258.9 789.6L258.8 788.6L258.6 787.6L258.4 785.7L258.2 783.8L258.1 781.8L257.9 779.9L257.8 777.9L257.8 776.0L257.8 775.9L257.8 774.0L257.9 772.1L258.0 770.1L258.1 768.2L258.2 766.2L258.4 764.3L258.4 763.3L258.5 762.3L258.7 760.4L258.9 758.4L259.1 756.5L259.3 754.5L259.5 752.6L259.7 750.7L259.9 748.7L260.0 747.5L260.1 746.8L260.2 744.8L260.4 742.9L260.6 740.9L260.7 739.0L260.8 737.0L261.0 735.1L261.1 733.1L261.1 731.6L261.1 731.2L261.2 729.2L261.3 727.3L261.3 725.3L261.4 723.4L261.4 721.5L261.4 719.5L261.5 717.6L261.5 715.8L261.5 715.6L261.5 713.7L261.5 711.7L261.5 709.8L261.5 707.8L261.5 705.9L261.5 703.9L261.5 702.0L261.5 700.0L261.5 698.1L261.5 696.1L261.5 694.2L261.5 692.2Z" fill="#e5842f" stroke="#3a3a3a" stroke-width="0.5" stroke-linejoin="round"/>
<path d="M261.6 692.2V826.6" stroke="#484848" stroke-width="0.7"/>
<path d="M261.6 771.2V826.6" stroke="#3a3a3a" stroke-width="2"/>
<circle cx="261.6" cy="791" r="0.8" fill="#fff"/>
<path d="M261.6 832.7v2.4" stroke="#777" stroke-width="0.7"/>
<path d="M295.8 702.4L295.8 704.2L295.8 706.0L295.8 707.8L295.8 709.6L295.8 711.4L295.8 713.2L295.8 715.0L295.8 716.8L295.8 718.6L295.8 719.0L295.8 720.4L295.8 722.2L295.8 724.0L295.9 725.8L295.9 727.6L296.0 729.4L296.1 731.2L296.1 731.6L296.2 733.0L296.3 734.8L296.5 736.6L296.8 738.4L297.1 740.2L297.4 742.0L297.7 743.8L298.0 745.6L298.3 747.4L298.3 747.5L298.6 749.2L298.9 751.0L299.2 752.8L299.5 754.6L299.9 756.4L300.2 758.2L300.5 760.0L300.9 761.8L301.1 763.3L301.2 763.6L301.5 765.4L301.9 767.2L302.2 769.0L302.5 770.8L302.9 772.6L303.2 774.4L303.5 776.2L303.7 778.0L303.8 779.1L303.9 779.8L304.1 781.6L304.3 783.4L304.5 785.2L304.6 787.0L304.6 788.6L304.6 788.8L304.5 790.6L304.3 792.4L304.0 794.2L303.7 796.0L303.3 797.8L303.2 798.1L302.7 799.6L302.0 801.4L301.0 803.2L300.0 805.0L299.1 806.8L298.8 807.6L298.3 808.6L297.5 810.4L296.8 812.2L296.4 813.9L296.4 814.0L296.2 815.8L296.1 817.6L296.1 817.9L296.6 819.4L298.0 821.0L298.1 821.2L301.7 823.0L302.7 823.4L306.9 824.8L309.0 825.8L309.5 826.6L281.7 826.6L282.2 825.8L284.3 824.8L288.5 823.4L289.5 823.0L293.1 821.2L293.2 821.0L294.6 819.4L295.1 817.9L295.1 817.6L295.0 815.8L294.8 814.0L294.8 813.9L294.4 812.2L293.7 810.4L292.9 808.6L292.4 807.6L292.1 806.8L291.2 805.0L290.2 803.2L289.2 801.4L288.5 799.6L288.0 798.1L287.9 797.8L287.5 796.0L287.2 794.2L286.9 792.4L286.7 790.6L286.6 788.8L286.6 788.6L286.6 787.0L286.7 785.2L286.9 783.4L287.1 781.6L287.3 779.8L287.4 779.1L287.5 778.0L287.7 776.2L288.0 774.4L288.3 772.6L288.7 770.8L289.0 769.0L289.3 767.2L289.7 765.4L290.0 763.6L290.1 763.3L290.3 761.8L290.7 760.0L291.0 758.2L291.3 756.4L291.7 754.6L292.0 752.8L292.3 751.0L292.6 749.2L292.9 747.5L292.9 747.4L293.2 745.6L293.5 743.8L293.8 742.0L294.1 740.2L294.4 738.4L294.7 736.6L294.9 734.8L295.0 733.0L295.1 731.6L295.1 731.2L295.2 729.4L295.3 727.6L295.3 725.8L295.4 724.0L295.4 722.2L295.5 720.4L295.5 719.0L295.5 718.6L295.5 716.8L295.5 715.0L295.5 713.2L295.5 711.4L295.5 709.6L295.5 707.8L295.5 706.0L295.5 704.2L295.5 702.4Z" fill="#3f9a4a" stroke="#3a3a3a" stroke-width="0.5" stroke-linejoin="round"/>
<path d="M295.6 702.4V826.6" stroke="#484848" stroke-width="0.7"/>
<path d="M295.6 773.6V804.4" stroke="#3a3a3a" stroke-width="2"/>
<circle cx="295.6" cy="789.9" r="0.8" fill="#fff"/>
<path d="M295.6 832.7v2.4" stroke="#777" stroke-width="0.7"/>
<path d="M329.8 720.6L329.8 722.1L329.8 723.6L329.8 725.2L329.8 726.7L329.8 728.3L329.8 729.8L329.8 731.3L329.8 732.9L329.8 734.4L329.8 735.9L329.8 737.5L329.8 739.0L329.8 740.5L329.8 742.1L329.8 743.6L329.8 745.2L329.8 746.7L329.8 747.5L329.8 748.2L329.8 749.8L329.8 751.3L329.8 752.8L329.8 754.4L329.8 755.9L329.8 757.4L329.8 759.0L329.9 760.5L329.9 762.1L329.9 763.3L329.9 763.6L330.0 765.1L330.0 766.7L330.0 768.2L330.1 769.7L330.1 771.3L330.2 772.8L330.2 774.3L330.3 775.9L330.3 777.4L330.4 779.0L330.4 779.1L330.4 780.5L330.5 782.0L330.6 783.6L330.7 785.1L330.8 786.6L330.9 788.2L330.9 789.7L331.0 791.2L331.1 792.8L331.2 794.3L331.2 794.9L331.2 795.9L331.3 797.4L331.3 798.9L331.4 800.5L331.4 802.0L331.4 803.5L331.5 805.1L331.5 806.6L331.6 808.1L331.6 809.7L331.7 810.8L331.7 811.2L331.7 812.8L331.8 814.3L331.8 815.8L331.9 817.4L332.0 818.7L332.0 818.9L332.9 820.4L334.3 821.8L334.5 822.0L337.5 823.5L339.1 824.2L341.5 825.0L343.0 825.8L343.5 826.6L315.7 826.6L316.2 825.8L317.7 825.0L320.1 824.2L321.7 823.5L324.7 822.0L324.9 821.8L326.3 820.4L327.2 818.9L327.2 818.7L327.3 817.4L327.4 815.8L327.4 814.3L327.5 812.8L327.5 811.2L327.5 810.8L327.6 809.7L327.6 808.1L327.7 806.6L327.7 805.1L327.8 803.5L327.8 802.0L327.8 800.5L327.9 798.9L327.9 797.4L328.0 795.9L328.0 794.9L328.0 794.3L328.1 792.8L328.2 791.2L328.3 789.7L328.3 788.2L328.4 786.6L328.5 785.1L328.6 783.6L328.7 782.0L328.8 780.5L328.8 779.1L328.8 779.0L328.9 777.4L328.9 775.9L329.0 774.3L329.0 772.8L329.1 771.3L329.1 769.7L329.2 768.2L329.2 766.7L329.2 765.1L329.3 763.6L329.3 763.3L329.3 762.1L329.3 760.5L329.4 759.0L329.4 757.4L329.4 755.9L329.4 754.4L329.4 752.8L329.4 751.3L329.5 749.8L329.5 748.2L329.5 747.5L329.5 746.7L329.5 745.2L329.5 743.6L329.5 742.1L329.5 740.5L329.5 739.0L329.5 737.5L329.5 735.9L329.5 734.4L329.5 732.9L329.5 731.3L329.5 729.8L329.5 728.3L329.5 726.7L329.5 725.2L329.5 723.6L329.5 722.1L329.5 720.6Z" fill="#c93a3d" stroke="#3a3a3a" stroke-width="0.5" stroke-linejoin="round"/>
<path d="M329.6 720.6V826.6" stroke="#484848" stroke-width="0.7"/>
<path d="M329.6 803.6V826.6" stroke="#3a3a3a" stroke-width="2"/>
<circle cx="329.6" cy="822.3" r="0.8" fill="#fff"/>
<path d="M329.6 832.7v2.4" stroke="#777" stroke-width="0.7"/>
<path d="M210.5 686.1V832.7H346.2V686.1" fill="none" stroke="#9a9a9a" stroke-width="0.9"/>
<text x="195.5" y="759.6" font-size="9.4" text-anchor="middle" font-family='"DejaVu Sans", "Liberation Sans", sans-serif' transform="rotate(-90 195.5 759.6)" fill="#111" >PGK1</text>
<text x="215.6" y="859.2" font-size="10.5" transform="rotate(-45 215.6 859.2)" fill="#222" >Hi-Q</text>
<text x="239.3" y="869.5" font-size="10.5" transform="rotate(-45 239.3 869.5)" fill="#222" >Bhaduri</text>
<text x="249.5" y="877.9" font-size="10.5" transform="rotate(-45 249.5 877.9)" fill="#222" >et al.</text>
<text x="275.4" y="867.4" font-size="10.5" transform="rotate(-45 275.4 867.4)" fill="#222" >Kanton</text>
<text x="285.6" y="876.2" font-size="10.5" transform="rotate(-45 285.6 876.2)" fill="#222" >et al.</text>
<text x="297.8" y="878.2" font-size="10.5" transform="rotate(-45 297.8 878.2)" fill="#222" >Allen brain</text>
<text x="309.2" y="884.8" font-size="10.5" transform="rotate(-45 309.2 884.8)" fill="#222" >atlas</text>
<path d="M378.2 711.9H513.7" stroke="#dedede" stroke-width="0.8"/>
<text x="373.7" y="715.3" font-size="9.4" text-anchor="end" font-family='"DejaVu Sans", "Liberation Sans", sans-serif' fill="#222" >3</text>
<path d="M378.2 711.9h-2.4" stroke="#777" stroke-width="0.7"/>
<path d="M378.2 750.2H513.7" stroke="#dedede" stroke-width="0.8"/>
<text x="373.7" y="753.6" font-size="9.4" text-anchor="end" font-family='"DejaVu Sans", "Liberation Sans", sans-serif' fill="#222" >2</text>
<path d="M378.2 750.2h-2.4" stroke="#777" stroke-width="0.7"/>
<path d="M378.2 788.2H513.7" stroke="#dedede" stroke-width="0.8"/>
<text x="373.7" y="791.6" font-size="9.4" text-anchor="end" font-family='"DejaVu Sans", "Liberation Sans", sans-serif' fill="#222" >1</text>
<path d="M378.2 788.2h-2.4" stroke="#777" stroke-width="0.7"/>
<path d="M378.2 826.3H513.7" stroke="#dedede" stroke-width="0.8"/>
<text x="373.7" y="829.7" font-size="9.4" text-anchor="end" font-family='"DejaVu Sans", "Liberation Sans", sans-serif' fill="#222" >0</text>
<path d="M378.2 826.3h-2.4" stroke="#777" stroke-width="0.7"/>
<path d="M395.3 711.1L395.3 712.8L395.3 714.4L395.3 716.1L395.3 717.8L395.3 719.4L395.3 721.1L395.3 722.8L395.3 724.5L395.3 726.1L395.3 727.8L395.3 729.5L395.3 731.1L395.3 732.8L395.3 734.5L395.3 736.1L395.3 737.8L395.3 739.5L395.3 741.2L395.3 742.8L395.3 744.5L395.3 746.2L395.3 747.8L395.3 749.5L395.3 751.2L395.3 752.8L395.3 754.5L395.3 756.2L395.3 757.8L395.3 759.5L395.3 761.2L395.3 762.9L395.3 764.5L395.4 766.2L395.4 767.9L395.4 769.5L395.4 771.2L395.4 772.9L395.4 774.5L395.4 776.2L395.4 777.9L395.4 779.6L395.4 781.2L395.4 782.9L395.4 784.6L395.4 786.2L395.4 787.9L395.4 789.6L395.4 791.2L395.5 792.9L395.5 794.6L395.5 796.2L395.5 797.9L395.5 799.6L395.5 801.3L395.5 802.9L395.5 804.6L395.5 806.3L395.5 807.9L395.6 809.6L395.6 811.3L395.6 812.9L395.6 814.6L395.6 815.3L395.7 816.3L396.0 818.0L396.4 819.3L396.6 819.6L399.1 821.3L399.3 821.4L403.2 823.0L404.6 823.5L406.6 824.6L408.9 826.3L381.3 826.3L383.6 824.6L385.6 823.5L387.0 823.0L390.9 821.4L391.1 821.3L393.6 819.6L393.8 819.3L394.2 818.0L394.5 816.3L394.6 815.3L394.6 814.6L394.6 812.9L394.6 811.3L394.6 809.6L394.7 807.9L394.7 806.3L394.7 804.6L394.7 802.9L394.7 801.3L394.7 799.6L394.7 797.9L394.7 796.2L394.7 794.6L394.7 792.9L394.8 791.2L394.8 789.6L394.8 787.9L394.8 786.2L394.8 784.6L394.8 782.9L394.8 781.2L394.8 779.6L394.8 777.9L394.8 776.2L394.8 774.5L394.8 772.9L394.8 771.2L394.8 769.5L394.8 767.9L394.8 766.2L394.9 764.5L394.9 762.9L394.9 761.2L394.9 759.5L394.9 757.8L394.9 756.2L394.9 754.5L394.9 752.8L394.9 751.2L394.9 749.5L394.9 747.8L394.9 746.2L394.9 744.5L394.9 742.8L394.9 741.2L394.9 739.5L394.9 737.8L394.9 736.1L394.9 734.5L394.9 732.8L394.9 731.1L394.9 729.5L394.9 727.8L394.9 726.1L394.9 724.5L394.9 722.8L394.9 721.1L394.9 719.4L394.9 717.8L394.9 716.1L394.9 714.4L394.9 712.8L394.9 711.1Z" fill="#4a76a8" stroke="#3a3a3a" stroke-width="0.5" stroke-linejoin="round"/>
<path d="M395.1 711.1V826.3" stroke="#484848" stroke-width="0.7"/>
<path d="M395.1 824V826.3" stroke="#3a3a3a" stroke-width="2"/>
<circle cx="395.1" cy="826.3" r="0.8" fill="#fff"/>
<path d="M395.1 832.7v2.4" stroke="#777" stroke-width="0.7"/>
<path d="M429.4 712.4L429.4 714.1L429.4 715.7L429.4 717.4L429.4 719.0L429.4 720.7L429.4 722.3L429.4 724.0L429.4 725.6L429.4 727.3L429.4 728.9L429.4 730.6L429.4 732.2L429.4 733.9L429.4 735.5L429.4 737.2L429.4 738.8L429.4 740.5L429.4 742.1L429.4 743.8L429.4 745.4L429.4 747.1L429.4 748.7L429.4 750.4L429.4 752.0L429.4 753.7L429.4 755.3L429.4 757.0L429.4 758.6L429.4 760.3L429.4 761.9L429.4 763.6L429.4 765.2L429.4 766.9L429.4 768.5L429.4 770.2L429.5 771.8L429.5 773.5L429.5 775.1L429.5 776.8L429.5 778.4L429.5 780.1L429.5 781.7L429.5 783.4L429.5 785.0L429.5 786.7L429.5 788.3L429.5 790.0L429.5 791.6L429.5 793.3L429.5 794.9L429.5 796.6L429.5 798.2L429.6 799.9L429.6 801.5L429.6 803.2L429.6 804.8L429.6 806.5L429.6 808.1L429.6 809.8L429.6 811.4L429.6 813.1L429.7 814.7L429.7 816.4L429.7 818.0L429.7 819.7L429.7 821.3L429.7 821.3L430.8 823.0L430.9 823.1L435.5 824.6L435.7 824.6L442.3 826.3L416.1 826.3L422.7 824.6L422.9 824.6L427.5 823.1L427.6 823.0L428.7 821.3L428.7 821.3L428.7 819.7L428.7 818.0L428.7 816.4L428.7 814.7L428.8 813.1L428.8 811.4L428.8 809.8L428.8 808.1L428.8 806.5L428.8 804.8L428.8 803.2L428.8 801.5L428.8 799.9L428.9 798.2L428.9 796.6L428.9 794.9L428.9 793.3L428.9 791.6L428.9 790.0L428.9 788.3L428.9 786.7L428.9 785.0L428.9 783.4L428.9 781.7L428.9 780.1L428.9 778.4L428.9 776.8L428.9 775.1L428.9 773.5L428.9 771.8L429.0 770.2L429.0 768.5L429.0 766.9L429.0 765.2L429.0 763.6L429.0 761.9L429.0 760.3L429.0 758.6L429.0 757.0L429.0 755.3L429.0 753.7L429.0 752.0L429.0 750.4L429.0 748.7L429.0 747.1L429.0 745.4L429.0 743.8L429.0 742.1L429.0 740.5L429.0 738.8L429.0 737.2L429.0 735.5L429.0 733.9L429.0 732.2L429.0 730.6L429.0 728.9L429.0 727.3L429.0 725.6L429.0 724.0L429.0 722.3L429.0 720.7L429.0 719.0L429.0 717.4L429.0 715.7L429.0 714.1L429.0 712.4Z" fill="#e5842f" stroke="#3a3a3a" stroke-width="0.5" stroke-linejoin="round"/>
<path d="M429.2 712.4V826.3" stroke="#484848" stroke-width="0.7"/>
<path d="M429.2 825V826.3" stroke="#3a3a3a" stroke-width="2"/>
<circle cx="429.2" cy="826.3" r="0.8" fill="#fff"/>
<path d="M429.2 832.7v2.4" stroke="#777" stroke-width="0.7"/>
<path d="M463.5 727.7L463.5 729.1L463.5 730.6L463.5 732.0L463.5 733.4L463.5 734.8L463.5 736.3L463.5 737.7L463.5 739.1L463.5 740.6L463.5 742.0L463.5 743.4L463.5 744.8L463.5 746.3L463.5 747.7L463.5 749.1L463.5 750.6L463.5 752.0L463.5 753.4L463.5 754.9L463.5 756.3L463.5 757.7L463.5 759.1L463.5 760.6L463.5 762.0L463.5 763.4L463.5 764.9L463.5 766.3L463.5 767.7L463.5 769.1L463.5 770.6L463.5 772.0L463.5 773.4L463.6 774.9L463.6 776.3L463.6 777.7L463.6 779.1L463.6 780.6L463.6 782.0L463.6 783.4L463.6 784.9L463.6 786.3L463.6 787.7L463.6 789.1L463.6 790.6L463.6 792.0L463.6 793.4L463.7 794.9L463.7 796.3L463.7 797.7L463.7 799.1L463.7 800.6L463.7 802.0L463.7 803.4L463.7 804.9L463.7 806.3L463.8 807.7L463.8 809.2L463.8 810.6L463.8 812.0L463.8 813.4L463.8 814.9L463.8 816.3L463.9 817.7L463.9 819.2L463.9 820.6L463.9 821.4L464.2 822.0L465.4 822.9L466.7 823.4L470.7 824.6L471.6 824.9L476.4 826.3L450.2 826.3L455.0 824.9L455.9 824.6L459.9 823.4L461.2 822.9L462.4 822.0L462.7 821.4L462.7 820.6L462.7 819.2L462.7 817.7L462.8 816.3L462.8 814.9L462.8 813.4L462.8 812.0L462.8 810.6L462.8 809.2L462.8 807.7L462.9 806.3L462.9 804.9L462.9 803.4L462.9 802.0L462.9 800.6L462.9 799.1L462.9 797.7L462.9 796.3L462.9 794.9L463.0 793.4L463.0 792.0L463.0 790.6L463.0 789.1L463.0 787.7L463.0 786.3L463.0 784.9L463.0 783.4L463.0 782.0L463.0 780.6L463.0 779.1L463.0 777.7L463.0 776.3L463.0 774.9L463.1 773.4L463.1 772.0L463.1 770.6L463.1 769.1L463.1 767.7L463.1 766.3L463.1 764.9L463.1 763.4L463.1 762.0L463.1 760.6L463.1 759.1L463.1 757.7L463.1 756.3L463.1 754.9L463.1 753.4L463.1 752.0L463.1 750.6L463.1 749.1L463.1 747.7L463.1 746.3L463.1 744.8L463.1 743.4L463.1 742.0L463.1 740.6L463.1 739.1L463.1 737.7L463.1 736.3L463.1 734.8L463.1 733.4L463.1 732.0L463.1 730.6L463.1 729.1L463.1 727.7Z" fill="#3f9a4a" stroke="#3a3a3a" stroke-width="0.5" stroke-linejoin="round"/>
<path d="M463.3 727.7V826.3" stroke="#484848" stroke-width="0.7"/>
<path d="M463.3 825V826.3" stroke="#3a3a3a" stroke-width="2"/>
<circle cx="463.3" cy="826.3" r="0.8" fill="#fff"/>
<path d="M463.3 832.7v2.4" stroke="#777" stroke-width="0.7"/>
<path d="M497.6 693.0L497.6 694.9L497.6 696.9L497.6 698.8L497.6 700.7L497.6 702.7L497.6 704.6L497.6 706.5L497.6 708.5L497.6 710.4L497.6 712.3L497.6 714.3L497.6 716.2L497.6 718.1L497.6 720.0L497.6 722.0L497.6 723.9L497.6 725.8L497.6 727.8L497.6 729.7L497.6 731.6L497.6 733.6L497.6 735.5L497.6 737.4L497.6 739.4L497.6 741.3L497.6 743.2L497.6 745.2L497.6 747.1L497.6 749.0L497.6 751.0L497.7 752.9L497.7 754.8L497.7 756.8L497.7 758.7L497.7 760.6L497.7 762.5L497.7 764.5L497.7 766.4L497.7 768.3L497.7 770.3L497.7 772.2L497.7 774.1L497.7 776.1L497.7 778.0L497.7 779.9L497.7 781.9L497.7 783.8L497.7 785.7L497.7 787.7L497.8 789.6L497.8 791.5L497.8 793.5L497.8 795.4L497.8 797.3L497.8 799.3L497.8 801.2L497.8 802.3L497.8 803.1L497.8 805.0L497.8 807.0L497.9 808.9L497.9 810.8L498.0 812.8L498.0 813.3L498.0 814.7L498.1 816.6L498.3 818.6L498.5 820.4L498.5 820.5L500.0 822.4L500.6 822.9L505.1 824.4L505.9 824.6L511.2 826.3L483.6 826.3L488.9 824.6L489.7 824.4L494.2 822.9L494.8 822.4L496.3 820.5L496.3 820.4L496.5 818.6L496.7 816.6L496.8 814.7L496.8 813.3L496.8 812.8L496.9 810.8L496.9 808.9L497.0 807.0L497.0 805.0L497.0 803.1L497.0 802.3L497.0 801.2L497.0 799.3L497.0 797.3L497.0 795.4L497.0 793.5L497.0 791.5L497.0 789.6L497.1 787.7L497.1 785.7L497.1 783.8L497.1 781.9L497.1 779.9L497.1 778.0L497.1 776.1L497.1 774.1L497.1 772.2L497.1 770.3L497.1 768.3L497.1 766.4L497.1 764.5L497.1 762.5L497.1 760.6L497.1 758.7L497.1 756.8L497.1 754.8L497.1 752.9L497.2 751.0L497.2 749.0L497.2 747.1L497.2 745.2L497.2 743.2L497.2 741.3L497.2 739.4L497.2 737.4L497.2 735.5L497.2 733.6L497.2 731.6L497.2 729.7L497.2 727.8L497.2 725.8L497.2 723.9L497.2 722.0L497.2 720.0L497.2 718.1L497.2 716.2L497.2 714.3L497.2 712.3L497.2 710.4L497.2 708.5L497.2 706.5L497.2 704.6L497.2 702.7L497.2 700.7L497.2 698.8L497.2 696.9L497.2 694.9L497.2 693.0Z" fill="#c93a3d" stroke="#3a3a3a" stroke-width="0.5" stroke-linejoin="round"/>
<path d="M497.4 693V826.3" stroke="#484848" stroke-width="0.7"/>
<path d="M497.4 815V826.3" stroke="#3a3a3a" stroke-width="2"/>
<circle cx="497.4" cy="826.3" r="0.8" fill="#fff"/>
<path d="M497.4 832.7v2.4" stroke="#777" stroke-width="0.7"/>
<path d="M378.2 686.1V832.7H513.7V686.1" fill="none" stroke="#9a9a9a" stroke-width="0.9"/>
<text x="363.2" y="759.6" font-size="9.4" text-anchor="middle" font-family='"DejaVu Sans", "Liberation Sans", sans-serif' transform="rotate(-90 363.2 759.6)" fill="#111" >ARCN1</text>
<text x="383.1" y="859.2" font-size="10.5" transform="rotate(-45 383.1 859.2)" fill="#222" >Hi-Q</text>
<text x="406.9" y="869.5" font-size="10.5" transform="rotate(-45 406.9 869.5)" fill="#222" >Bhaduri</text>
<text x="417.1" y="877.9" font-size="10.5" transform="rotate(-45 417.1 877.9)" fill="#222" >et al.</text>
<text x="443.1" y="867.4" font-size="10.5" transform="rotate(-45 443.1 867.4)" fill="#222" >Kanton</text>
<text x="453.3" y="876.2" font-size="10.5" transform="rotate(-45 453.3 876.2)" fill="#222" >et al.</text>
<text x="465.6" y="878.2" font-size="10.5" transform="rotate(-45 465.6 878.2)" fill="#222" >Allen brain</text>
<text x="477" y="884.8" font-size="10.5" transform="rotate(-45 477 884.8)" fill="#222" >atlas</text>
<path d="M548 706.3H684.5" stroke="#dedede" stroke-width="0.8"/>
<text x="542.8" y="709.7" font-size="9.4" text-anchor="end" font-family='"DejaVu Sans", "Liberation Sans", sans-serif' fill="#222" >3</text>
<path d="M548 706.3h-2.4" stroke="#777" stroke-width="0.7"/>
<path d="M548 746.3H684.5" stroke="#dedede" stroke-width="0.8"/>
<text x="542.8" y="749.7" font-size="9.4" text-anchor="end" font-family='"DejaVu Sans", "Liberation Sans", sans-serif' fill="#222" >2</text>
<path d="M548 746.3h-2.4" stroke="#777" stroke-width="0.7"/>
<path d="M548 786.3H684.5" stroke="#dedede" stroke-width="0.8"/>
<text x="542.8" y="789.7" font-size="9.4" text-anchor="end" font-family='"DejaVu Sans", "Liberation Sans", sans-serif' fill="#222" >1</text>
<path d="M548 786.3h-2.4" stroke="#777" stroke-width="0.7"/>
<path d="M548 826.1H684.5" stroke="#dedede" stroke-width="0.8"/>
<text x="542.8" y="829.5" font-size="9.4" text-anchor="end" font-family='"DejaVu Sans", "Liberation Sans", sans-serif' fill="#222" >0</text>
<path d="M548 826.1h-2.4" stroke="#777" stroke-width="0.7"/>
<path d="M565.2 712.2L565.2 713.9L565.2 715.5L565.2 717.2L565.2 718.8L565.2 720.5L565.2 722.1L565.2 723.8L565.2 725.4L565.2 727.1L565.2 728.7L565.2 730.4L565.2 732.0L565.2 733.7L565.2 735.3L565.2 737.0L565.2 738.6L565.2 740.3L565.3 741.9L565.3 743.6L565.3 745.2L565.3 746.9L565.3 748.5L565.3 750.2L565.3 751.8L565.3 753.5L565.3 754.1L565.3 755.1L565.3 756.8L565.4 758.4L565.4 760.1L565.4 761.7L565.5 763.4L565.5 765.0L565.5 766.7L565.6 768.3L565.6 770.0L565.6 771.6L565.6 773.3L565.6 774.9L565.6 775.1L565.6 776.6L565.6 778.2L565.6 779.9L565.6 781.5L565.6 783.2L565.6 784.8L565.6 786.5L565.6 788.1L565.6 789.8L565.6 791.4L565.6 793.1L565.6 794.7L565.6 796.1L565.7 796.4L565.7 798.0L565.7 799.7L565.7 801.3L565.7 803.0L565.7 804.6L565.7 806.3L565.8 807.9L565.8 809.6L565.9 811.2L565.9 812.9L566.0 814.5L566.1 816.2L566.2 817.8L566.3 819.1L566.5 819.5L568.7 821.1L568.8 821.2L572.3 822.8L573.5 823.4L575.7 824.4L578.8 826.1L551.2 826.1L554.3 824.4L556.5 823.4L557.7 822.8L561.2 821.2L561.3 821.1L563.5 819.5L563.7 819.1L563.8 817.8L563.9 816.2L564.0 814.5L564.1 812.9L564.1 811.2L564.2 809.6L564.2 807.9L564.3 806.3L564.3 804.6L564.3 803.0L564.3 801.3L564.3 799.7L564.3 798.0L564.3 796.4L564.4 796.1L564.4 794.7L564.4 793.1L564.4 791.4L564.4 789.8L564.4 788.1L564.4 786.5L564.4 784.8L564.4 783.2L564.4 781.5L564.4 779.9L564.4 778.2L564.4 776.6L564.4 775.1L564.4 774.9L564.4 773.3L564.4 771.6L564.4 770.0L564.4 768.3L564.5 766.7L564.5 765.0L564.5 763.4L564.6 761.7L564.6 760.1L564.6 758.4L564.7 756.8L564.7 755.1L564.7 754.1L564.7 753.5L564.7 751.8L564.7 750.2L564.7 748.5L564.7 746.9L564.7 745.2L564.7 743.6L564.7 741.9L564.8 740.3L564.8 738.6L564.8 737.0L564.8 735.3L564.8 733.7L564.8 732.0L564.8 730.4L564.8 728.7L564.8 727.1L564.8 725.4L564.8 723.8L564.8 722.1L564.8 720.5L564.8 718.8L564.8 717.2L564.8 715.5L564.8 713.9L564.8 712.2Z" fill="#4a76a8" stroke="#3a3a3a" stroke-width="0.5" stroke-linejoin="round"/>
<path d="M565 712.2V826.1" stroke="#484848" stroke-width="0.7"/>
<path d="M565 823.5V826.1" stroke="#3a3a3a" stroke-width="2"/>
<circle cx="565" cy="826.1" r="0.8" fill="#fff"/>
<path d="M565 832.7v2.4" stroke="#777" stroke-width="0.7"/>
<path d="M599.0 693.2L599.0 695.1L599.0 697.1L599.0 699.0L599.0 700.9L599.0 702.8L599.0 704.8L599.0 706.7L599.0 708.6L599.0 710.5L599.0 712.5L599.0 714.4L599.0 716.3L599.0 718.2L599.0 720.2L599.0 722.1L599.0 724.0L599.0 725.9L599.0 727.9L599.0 729.8L599.0 731.7L599.0 733.6L599.0 735.6L599.0 737.5L599.0 739.4L599.0 741.4L599.0 743.3L599.0 745.2L599.0 747.1L599.0 749.1L599.0 751.0L599.0 752.9L599.0 754.8L599.1 756.8L599.1 758.7L599.1 760.6L599.1 762.5L599.1 764.5L599.1 766.4L599.1 768.3L599.1 770.2L599.1 772.2L599.1 774.1L599.1 776.0L599.1 777.9L599.1 779.9L599.1 781.8L599.1 783.7L599.2 785.7L599.2 787.6L599.2 789.5L599.2 791.4L599.2 793.4L599.2 795.3L599.2 797.2L599.2 799.1L599.2 801.1L599.3 803.0L599.3 804.9L599.3 806.8L599.3 808.8L599.3 810.7L599.3 812.6L599.4 814.5L599.4 816.5L599.4 818.4L599.4 820.2L599.4 820.3L600.8 822.2L600.9 822.3L605.5 824.2L606.2 824.4L611.9 826.1L585.7 826.1L591.4 824.4L592.1 824.2L596.7 822.3L596.8 822.2L598.2 820.3L598.2 820.2L598.2 818.4L598.2 816.5L598.2 814.5L598.3 812.6L598.3 810.7L598.3 808.8L598.3 806.8L598.3 804.9L598.3 803.0L598.4 801.1L598.4 799.1L598.4 797.2L598.4 795.3L598.4 793.4L598.4 791.4L598.4 789.5L598.4 787.6L598.4 785.7L598.5 783.7L598.5 781.8L598.5 779.9L598.5 777.9L598.5 776.0L598.5 774.1L598.5 772.2L598.5 770.2L598.5 768.3L598.5 766.4L598.5 764.5L598.5 762.5L598.5 760.6L598.5 758.7L598.5 756.8L598.6 754.8L598.6 752.9L598.6 751.0L598.6 749.1L598.6 747.1L598.6 745.2L598.6 743.3L598.6 741.4L598.6 739.4L598.6 737.5L598.6 735.6L598.6 733.6L598.6 731.7L598.6 729.8L598.6 727.9L598.6 725.9L598.6 724.0L598.6 722.1L598.6 720.2L598.6 718.2L598.6 716.3L598.6 714.4L598.6 712.5L598.6 710.5L598.6 708.6L598.6 706.7L598.6 704.8L598.6 702.8L598.6 700.9L598.6 699.0L598.6 697.1L598.6 695.1L598.6 693.2Z" fill="#e5842f" stroke="#3a3a3a" stroke-width="0.5" stroke-linejoin="round"/>
<path d="M598.8 693.2V826.1" stroke="#484848" stroke-width="0.7"/>
<path d="M598.8 824.5V826.1" stroke="#3a3a3a" stroke-width="2"/>
<circle cx="598.8" cy="826.1" r="0.8" fill="#fff"/>
<path d="M598.8 832.7v2.4" stroke="#777" stroke-width="0.7"/>
<path d="M632.9 711.2L632.9 712.9L632.9 714.5L632.9 716.2L632.9 717.9L632.9 719.5L632.9 721.2L632.9 722.9L632.9 724.5L633.0 726.2L633.0 727.9L633.0 729.5L633.0 731.2L633.0 732.8L633.0 734.5L633.0 736.2L633.0 737.8L633.1 739.5L633.1 741.2L633.1 742.8L633.1 743.1L633.1 744.5L633.1 746.2L633.2 747.8L633.2 749.5L633.2 751.2L633.3 752.8L633.3 754.5L633.3 756.2L633.4 757.8L633.4 759.5L633.5 761.2L633.5 762.8L633.6 764.1L633.6 764.5L633.6 766.2L633.7 767.8L633.8 769.5L634.0 771.1L634.1 772.8L634.2 774.5L634.3 776.1L634.4 777.8L634.4 778.9L634.4 779.5L634.5 781.1L634.5 782.8L634.6 784.5L634.6 786.1L634.6 787.4L634.6 787.8L634.6 789.5L634.5 791.1L634.4 792.8L634.3 794.5L634.2 795.8L634.2 796.1L634.1 797.8L633.9 799.5L633.8 801.1L633.7 802.8L633.6 804.5L633.6 806.1L633.6 806.4L633.6 807.8L633.6 809.4L633.6 811.1L633.6 812.8L633.6 814.4L633.6 816.1L633.6 817.8L633.6 819.1L633.6 819.4L634.3 821.1L635.2 822.3L635.8 822.8L640.1 824.4L640.2 824.4L645.8 826.1L619.6 826.1L625.2 824.4L625.3 824.4L629.6 822.8L630.2 822.3L631.1 821.1L631.8 819.4L631.9 819.1L631.9 817.8L631.9 816.1L631.9 814.4L631.9 812.8L631.9 811.1L631.9 809.4L631.9 807.8L631.9 806.4L631.8 806.1L631.8 804.5L631.7 802.8L631.6 801.1L631.5 799.5L631.3 797.8L631.2 796.1L631.2 795.8L631.1 794.5L631.0 792.8L630.9 791.1L630.8 789.5L630.8 787.8L630.8 787.4L630.8 786.1L630.8 784.5L630.9 782.8L630.9 781.1L631.0 779.5L631.0 778.9L631.0 777.8L631.1 776.1L631.2 774.5L631.3 772.8L631.4 771.1L631.6 769.5L631.7 767.8L631.8 766.2L631.8 764.5L631.9 764.1L631.9 762.8L631.9 761.2L632.0 759.5L632.0 757.8L632.1 756.2L632.1 754.5L632.1 752.8L632.2 751.2L632.2 749.5L632.2 747.8L632.3 746.2L632.3 744.5L632.3 743.1L632.3 742.8L632.3 741.2L632.3 739.5L632.4 737.8L632.4 736.2L632.4 734.5L632.4 732.8L632.4 731.2L632.4 729.5L632.4 727.9L632.4 726.2L632.5 724.5L632.5 722.9L632.5 721.2L632.5 719.5L632.5 717.9L632.5 716.2L632.5 714.5L632.5 712.9L632.5 711.2Z" fill="#3f9a4a" stroke="#3a3a3a" stroke-width="0.5" stroke-linejoin="round"/>
<path d="M632.7 711.2V826.1" stroke="#484848" stroke-width="0.7"/>
<path d="M632.7 778V826.1" stroke="#3a3a3a" stroke-width="2"/>
<circle cx="632.7" cy="826.1" r="0.8" fill="#fff"/>
<path d="M632.7 832.7v2.4" stroke="#777" stroke-width="0.7"/>
<path d="M666.8 697.0L666.8 698.9L666.8 700.7L666.8 702.6L666.8 704.5L666.8 706.4L666.8 708.2L666.8 710.1L666.8 712.0L666.8 713.8L666.8 715.7L666.8 717.6L666.8 719.5L666.8 721.3L666.8 723.2L666.8 725.1L666.8 726.9L666.8 728.8L666.8 730.7L666.8 732.5L666.8 734.4L666.8 736.3L666.8 738.2L666.8 740.0L666.8 741.9L666.9 743.8L666.9 745.6L666.9 747.5L666.9 749.4L666.9 751.3L666.9 753.1L666.9 755.0L666.9 756.9L666.9 758.7L666.9 760.6L666.9 762.5L666.9 764.4L666.9 766.2L666.9 768.1L666.9 770.0L666.9 771.8L666.9 773.7L667.0 775.6L667.0 777.5L667.0 779.3L667.0 781.2L667.0 783.1L667.0 784.9L667.0 785.1L667.0 786.8L667.0 788.7L667.1 790.6L667.1 792.4L667.2 794.3L667.2 796.2L667.3 798.0L667.3 799.9L667.3 801.8L667.4 803.6L667.4 805.5L667.5 806.4L667.5 807.4L667.5 809.3L667.5 811.1L667.5 813.0L667.5 814.9L667.6 816.7L667.6 818.6L667.6 819.1L668.0 820.5L669.1 822.3L669.2 822.4L673.5 824.2L674.0 824.4L679.7 826.1L653.5 826.1L659.2 824.4L659.7 824.2L664.0 822.4L664.1 822.3L665.2 820.5L665.6 819.1L665.6 818.6L665.6 816.7L665.7 814.9L665.7 813.0L665.7 811.1L665.7 809.3L665.7 807.4L665.8 806.4L665.8 805.5L665.8 803.6L665.9 801.8L665.9 799.9L665.9 798.0L666.0 796.2L666.0 794.3L666.1 792.4L666.1 790.6L666.2 788.7L666.2 786.8L666.2 785.1L666.2 784.9L666.2 783.1L666.2 781.2L666.2 779.3L666.2 777.5L666.2 775.6L666.3 773.7L666.3 771.8L666.3 770.0L666.3 768.1L666.3 766.2L666.3 764.4L666.3 762.5L666.3 760.6L666.3 758.7L666.3 756.9L666.3 755.0L666.3 753.1L666.3 751.3L666.3 749.4L666.3 747.5L666.3 745.6L666.3 743.8L666.4 741.9L666.4 740.0L666.4 738.2L666.4 736.3L666.4 734.4L666.4 732.5L666.4 730.7L666.4 728.8L666.4 726.9L666.4 725.1L666.4 723.2L666.4 721.3L666.4 719.5L666.4 717.6L666.4 715.7L666.4 713.8L666.4 712.0L666.4 710.1L666.4 708.2L666.4 706.4L666.4 704.5L666.4 702.6L666.4 700.7L666.4 698.9L666.4 697.0Z" fill="#c93a3d" stroke="#3a3a3a" stroke-width="0.5" stroke-linejoin="round"/>
<path d="M666.6 697V826.1" stroke="#484848" stroke-width="0.7"/>
<path d="M666.6 812V826.1" stroke="#3a3a3a" stroke-width="2"/>
<circle cx="666.6" cy="826.1" r="0.8" fill="#fff"/>
<path d="M666.6 832.7v2.4" stroke="#777" stroke-width="0.7"/>
<path d="M548 686.1V832.7H684.5V686.1" fill="none" stroke="#9a9a9a" stroke-width="0.9"/>
<text x="533.2" y="759.6" font-size="9.4" text-anchor="middle" font-family='"DejaVu Sans", "Liberation Sans", sans-serif' transform="rotate(-90 533.2 759.6)" fill="#111" >GORASP2</text>
<text x="553" y="859.2" font-size="10.5" transform="rotate(-45 553 859.2)" fill="#222" >Hi-Q</text>
<text x="576.5" y="869.5" font-size="10.5" transform="rotate(-45 576.5 869.5)" fill="#222" >Bhaduri</text>
<text x="586.7" y="877.9" font-size="10.5" transform="rotate(-45 586.7 877.9)" fill="#222" >et al.</text>
<text x="612.5" y="867.4" font-size="10.5" transform="rotate(-45 612.5 867.4)" fill="#222" >Kanton</text>
<text x="622.7" y="876.2" font-size="10.5" transform="rotate(-45 622.7 876.2)" fill="#222" >et al.</text>
<text x="634.8" y="878.2" font-size="10.5" transform="rotate(-45 634.8 878.2)" fill="#222" >Allen brain</text>
<text x="646.2" y="884.8" font-size="10.5" transform="rotate(-45 646.2 884.8)" fill="#222" >atlas</text>
</g></svg></body></html>
